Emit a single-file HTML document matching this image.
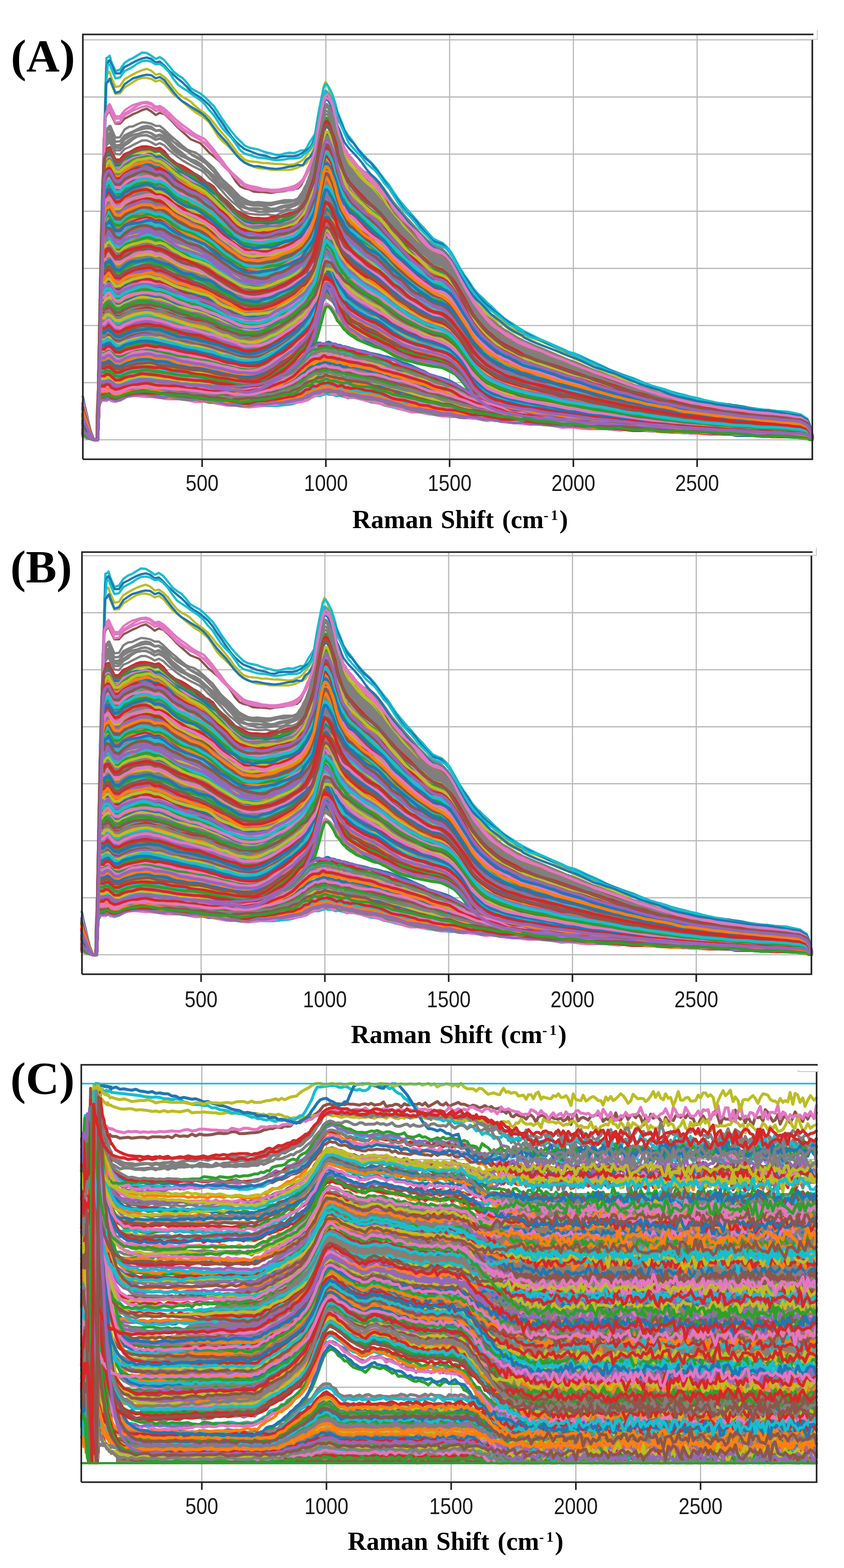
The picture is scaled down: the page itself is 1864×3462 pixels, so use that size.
<!DOCTYPE html>
<html><head><meta charset="utf-8"><title>Raman spectra</title><style>
html,body{margin:0;padding:0;background:#fff;overflow:hidden}
svg{display:block}
.g{stroke:#b8b8b8;stroke-width:2.6}
.f{stroke:#222;stroke-width:3.6;fill:none}
.tl{font-family:"Liberation Sans",Arial,sans-serif;font-size:43.6px;text-anchor:middle;fill:#1a1a1a}
.ax{font-family:"Liberation Serif","Times New Roman",serif;font-weight:bold;font-size:57px;fill:#000;word-spacing:4px}
.sup{font-size:32px}
.pl{font-family:"Liberation Serif","Times New Roman",serif;font-weight:bold;font-size:102px;fill:#000}
.c{fill:none;stroke-linejoin:round;stroke-linecap:round}
</style></head>
<body><svg width="1864" height="3462" viewBox="0 0 1864 3462">
<line x1="183" y1="88.0" x2="1794" y2="88.0" class="g"/>
<line x1="183" y1="214.1" x2="1794" y2="214.1" class="g"/>
<line x1="183" y1="340.3" x2="1794" y2="340.3" class="g"/>
<line x1="183" y1="466.4" x2="1794" y2="466.4" class="g"/>
<line x1="183" y1="592.6" x2="1794" y2="592.6" class="g"/>
<line x1="183" y1="718.7" x2="1794" y2="718.7" class="g"/>
<line x1="183" y1="844.9" x2="1794" y2="844.9" class="g"/>
<line x1="183" y1="971.0" x2="1794" y2="971.0" class="g"/>
<line x1="446.4" y1="77" x2="446.4" y2="1014" class="g"/>
<line x1="719.7" y1="77" x2="719.7" y2="1014" class="g"/>
<line x1="993.0" y1="77" x2="993.0" y2="1014" class="g"/>
<line x1="1266.3" y1="77" x2="1266.3" y2="1014" class="g"/>
<line x1="1539.6" y1="77" x2="1539.6" y2="1014" class="g"/>
<g id="cA" class="c" stroke-width="6.5">
<path fill="#8c7e6e" stroke="none" d="M211 918l3-60 2-80 2-99 2-85 2-81 2-65 3-39 2-29 2-15 2-8 2-6 3-3 2-2 2-2 2 3 1 3 10 19 10 0 10-11 10-6 9-4 10-4 10-3 10-2 10 2 10 6 9-1 10 6 10 8 10 9 10 8 10 7 10 6 9 5 10 5 10 5 10 7 10 8 10 9 9 10 10 10 10 9 10 9 10 10 10 8 9 5 10 3 10 1 10 1 10 0 10 0 9 0 10-1 10-3 10-2 10-3 10-3 9-5 7-7 4-6 4-6 4-7 3-7 4-9 4-10 4-11 4-15 3-20 4-21 4-20 4-19 4-19 4-11 3 0 4 3 4 5 4 7 4 11 4 12 3 11 4 10 4 8 4 8 4 5 4 2 3 2 4 0 4 0 4 0 10 0 10 1 9 3 10 4 10 8 10 11 10 13 10 14 9 13 10 12 10 12 10 12 10 11 10 11 9 11 10 10 10 10 10 9 10 4 10 4 9 8 10 12 10 17 10 19 10 18 10 17 9 15 10 14 10 13 10 11 10 10 10 9 10 8 9 7 10 6 10 6 10 6 10 5 3 2 14 6 14 6 15 6 14 6 14 6 14 6 14 6 15 5 14 6 14 6 14 6 15 5 14 6 14 5 14 6 14 5 15 5 14 4 14 5 14 4 14 5 15 4 14 4 14 4 14 4 14 3 15 3 14 3 14 3 14 2 15 2 14 3 14 2 14 2 14 2 15 1 14 2 14 1 14 1 14 2 15 2 14 2 14 3 15 9 5 10 6 21 0 9-6-4-5-2-15-2-14-1-14 0-15-1-14 0-14-1-14 0-14-1-15-1-14 0-14-1-14 0-14-1-15-1-14-1-14 0-14-1-15-1-14-1-14-1-14-1-14-1-15-1-14-1-14-1-14-1-14-1-15-1-14-1-14-1-14-1-14-1-15-2-14-1-14-1-14-1-15-2-14-1-14-2-14-2-14-2-15-1-14-2-14-2-3-1-10-1-10-2-10-2-10-2-9-2-10-3-10-3-10-5-10-7-10-9-10-10-9-15-10-14-10-12-10-10-10-7-10-5-9-4-10-2-10-2-10-1-10-2-10-2-9-3-10-3-10-3-10-4-10-4-10-5-9-5-10-5-10-5-10-5-10-4-10-4-9-5-10-5-10-6-4-3-4-2-4-4-3-3-4-4-4-5-4-5-4-6-4-5-3-7-4-7-4-7-4-4-4-3-4-3-3 0-4 11-4 18-4 15-4 15-4 13-3 10-4 8-4 8-4 7-4 6-3 5-4 4-4 5-4 4-7 7-9 9-10 8-10 9-10 7-10 7-10 7-9 7-10 5-10 4-10 2-10 1-10 0-9 0-10-1-10-2-10-1-10-1-10-2-9-1-10-1-10-2-10-1-10-1-10-1-9-2-10-1-10-1-10-1-10-2-10-2-10-1-9-1-10-2-10 0-10 0-10 1-10 2-9 2-10 4-10 5-10-2-10-8-1-1-2-1-2 0-2 0-3 0-2 1-2 1-2 3-2 5-3 7-2 12-2 15-2 18-2 23-2 20-3 15z"/>
<path fill="#8c7e6e" stroke="none" d="M211 959l3-13 2-18 2-22 2-16 2-14 2-11 3-8 2-6 2-3 2-1 2-1 3 0 2 0 2 0 2 1 1 1 10 9 10 0 10-5 10-4 9-2 10-2 10-2 10-1 10 0 10 2 9 1 10 0 10 1 10 1 10 1 10 1 10 1 9 0 10 1 10 0 10 1 10 1 10 1 9 0 10 1 10 0 10 0 10 0 10-1 9 0 10-1 10-2 10-2 10-2 10-3 9-3 10-4 10-5 10-5 10-7 10-7 9-9 7-8 4-4 4-4 4-4 3-4 4-4 4-3 4-2 4-2 3-1 4-1 4-1 4-1 4 0 4-1 3 0 4 1 4 1 4 1 4 1 4 1 3 1 4 1 4 0 4 1 4 1 4 1 3 1 4 1 4 1 4 1 10 2 10 2 9 3 10 2 10 2 10 3 10 3 10 3 9 4 10 3 10 3 10 3 10 4 10 4 9 4 10 4 10 4 10 4 10 3 10 4 9 3 10 4 10 5 10 5 10 6 10 5 9 4 10 4 10 4 10 4 10 3 10 4 10 3 9 3 10 3 10 3 10 3 10 2 3 1 14 3 14 3 15 2 14 3 14 2 14 2 14 2 15 1 14 2 14 2 14 1 15 1 14 2 14 1 14 1 14 2 15 1 14 1 14 1 14 1 14 1 15 1 14 1 14 1 14 1 14 1 15 0 14 1 14 1 14 1 15 1 14 0 14 1 14 1 14 1 15 0 14 1 14 0 14 1 14 1 15 0 14 1 14 1 15 1 5 2 6 4 0 1-6-3-5-1-15-2-14 0-14-1-15 0-14-1-14 0-14-1-14 0-15-1-14 0-14-1-14-1-14 0-15-1-14 0-14-1-14 0-15-1-14 0-14-1-14-1-14 0-15-1-14-1-14-1-14 0-14-1-15-1-14 0-14-1-14-1-14 0-15-1-14-1-14-1-14 0-15-1-14-1-14-2-14-1-14-1-15-1-14-1-14-1-3 0-10-1-10-1-10-1-10-1-9-1-10-1-10-1-10-1-10-1-10-1-10-1-9-1-10-2-10-1-10-1-10-1-10-1-9-1-10-2-10-1-10-1-10-2-10-1-9-2-10-2-10-2-10-2-10-2-10-3-9-2-10-3-10-2-10-2-10-2-10-2-9-2-10-1-10-2-4-1-4-1-4 0-3-1-4-1-4-1-4 0-4-1-4-1-3-1-4 0-4-1-4-1-4 0-4-1-3 0-4 1-4 2-4 1-4 1-4 1-3 1-4 1-4 2-4 1-4 2-3 1-4 2-4 1-4 1-7 2-9 3-10 1-10 1-10 1-10 1-10 0-9 1-10 1-10 1-10 0-10 1-10 0-9-1-10 0-10-2-10-1-10-1-10-1-9-2-10-1-10-2-10-1-10-1-10-1-9-1-10-1-10 0-10-1-10-1-10-1-10-1-9-1-10-2-10-1-10-1-10 0-10 0-9 2-10 4-10 6-10 0-10-2-1 0-2-1-2 0-2 0-3 0-2 1-2 1-2 2-2 2-3 4-2 8-2 10-2 13-2 17-2 14-3 9z"/>
<path stroke="#2ca02c" d="M183 900l4 15 5 14 4 14 4 13 3 6 2 5 2 4 2 0 2 0 3 0 2 0 2-89 2-90 2-90 2-90 3-90 2-59 2 0 2-8 2-4 3-1 2-1 2-2 2 1 1 3 10 18 10 0 10-11 10-6 9-4 10-3 10-2 10-3 10 0 10 7 9 1 10 5 10 8 10 6 10 6 10 7 10 6 9 4 10 5 10 4 10 6 10 7 10 9 9 8 10 6 10 7 10 7 10 9 10 7 9 5 10 2 10 1 10 1 10-2 10-3 9-2 10-1 10-2 10-4 10-6 10-5 9-3 7-4 4-4 4-5 4-6 3-7 4-7 4-8 4-8 4-10 3-16 4-18 4-16 4-17 4-18 4-12 3 1 4 5 4 4 4 5 4 11 4 10 3 8 4 12 4 11 4 6 4 6 4 6 3 6 4 5 4 4 4 4 10 8 10 7 9 8 10 8 10 10 10 9 10 10 10 9 9 10 10 10 10 9 10 9 10 8 10 8 9 6 10 7 10 7 10 6 10 3 10 3 9 7 10 10 10 14 10 14 10 13 10 16 9 16 10 13 10 10 10 8 10 8 10 8 10 6 9 5 10 4 10 4 10 4 10 4 3 1 14 6 14 5 15 4 14 3 14 4 14 5 14 5 15 4 14 3 14 4 14 5 15 4 14 3 14 4 14 4 14 4 15 4 14 3 14 3 14 2 14 3 15 3 14 3 14 3 14 3 14 2 15 2 14 2 14 2 14 2 15 1 14 2 14 1 14 2 14 1 15 2 14 1 14 0 14 1 14 2 15 1 14 2 14 2 15 7 5 7 6 13"/>
<path stroke="#2ca02c" d="M183 949l4 5 5 4 4 4 4 4 3 2 2 2 2 1 2 0 2 0 3 0 2 0 2-71 2-93 2-39 2 0 3 0 2 0 2 0 2-3 2-4 3-1 2 0 2 1 2 2 1 2 10 10 10 0 10-6 10-4 9-3 10-2 10-1 10-2 10 1 10 4 9 1 10 2 10 2 10 3 10 3 10 2 10 1 9 2 10 1 10 2 10 2 10 3 10 2 9 3 10 3 10 3 10 3 10 3 10 2 9 0 10 1 10-1 10-1 10-4 10-4 9-5 10-6 10-8 10-8 10-7 10-8 9-8 7-6 4-3 4-5 4-6 3-6 4-7 4-6 4-8 4-11 3-14 4-15 4-15 4-16 4-18 4-11 3 0 4 2 4 3 4 7 4 9 4 9 3 10 4 7 4 6 4 7 4 4 4 2 3 4 4 5 4 4 4 4 10 6 10 5 9 6 10 6 10 4 10 5 10 6 10 7 9 7 10 5 10 4 10 5 10 5 10 4 9 4 10 3 10 3 10 2 10 2 10 2 9 5 10 6 10 7 10 11 10 14 10 14 9 15 10 10 10 8 10 8 10 6 10 4 10 2 9 3 10 3 10 3 10 2 10 1 3 1 14 3 14 3 15 1 14 3 14 2 14 2 14 3 15 2 14 2 14 1 14 1 15 2 14 1 14 2 14 2 14 1 15 1 14 2 14 2 14 2 14 1 15 2 14 1 14 2 14 1 14 1 15 1 14 0 14 2 14 1 15 1 14 0 14 1 14 1 14 1 15 1 14 1 14 1 14 0 14 0 15 1 14 1 14 1 15 2 5 4 6 5"/>
<path stroke="#8c564b" d="M183 940l4 7 5 6 4 6 4 5 3 3 2 2 2 2 2 0 2 0 3 0 2 0 2-55 2-95 2-88 2-3 3 0 2 0 2 0 2-2 2-2 3-1 2-1 2 0 2 0 1 1 10 10 10 2 10-5 10-3 9-4 10-4 10-2 10 1 10 1 10 2 9-1 10 2 10 5 10 3 10 3 10 1 10 2 9 3 10 4 10 3 10 3 10 3 10 3 9 2 10 4 10 2 10 3 10 4 10 3 9 2 10 0 10 1 10-1 10-5 10-4 9-4 10-5 10-6 10-7 10-7 10-8 9-9 7-7 4-3 4-3 4-4 3-4 4-6 4-4 4-7 4-8 3-10 4-12 4-14 4-17 4-19 4-10 3 1 4 3 4 5 4 4 4 4 4 7 3 6 4 5 4 8 4 6 4 3 4 2 3 4 4 2 4 4 4 4 10 8 10 5 9 4 10 6 10 5 10 6 10 6 10 6 9 6 10 6 10 6 10 6 10 7 10 4 9 3 10 2 10 3 10 4 10 3 10 2 9 5 10 7 10 10 10 12 10 13 10 13 9 14 10 11 10 9 10 7 10 5 10 4 10 3 9 3 10 4 10 3 10 2 10 1 3 0 14 3 14 3 15 3 14 3 14 2 14 2 14 3 15 2 14 2 14 2 14 2 15 3 14 2 14 2 14 0 14 3 15 2 14 2 14 1 14 1 14 2 15 2 14 1 14 1 14 2 14 2 15 1 14 1 14 1 14 1 15 1 14 1 14 0 14 2 14 1 15 1 14 1 14 0 14 0 14 0 15 2 14 1 14 1 15 3 5 4 6 6"/>
<path stroke="#9467bd" stroke-width="6" d="M183 959l4 2 5 3 4 2 4 2 3 1 2 1 2 1 2 0 2 0 3 0 2 0 2-82 2-10 2 0 2 0 3 0 2 0 2 0 2 0 2-1 3-2 2 0 2 0 2 0 1 1 10 3 10-1 10-4 10-2 9-3 10-2 10 0 10 1 10 1 10 2 9 1 10 0 10 1 10 1 10 2 10 0 10 0 9 2 10 1 10 0 10 1 10 3 10 2 9-1 10 2 10 2 10 1 10 1 10 1 9 2 10-1 10-3 10-1 10 0 10 0 9-1 10-3 10-2 10-1 10-1 10-2 9-4 7-3 4-1 4-2 4-3 3-2 4 0 4-2 4-1 4 0 3-2 4-4 4-1 4 0 4-1 4-2 3-1 4 1 4 0 4 1 4 2 4 1 3 1 4 0 4 1 4 1 4 0 4 1 3 1 4 0 4 0 4 0 10 2 10 3 9 4 10 1 10 2 10 3 10 2 10 2 9 3 10 3 10 1 10 2 10 4 10 4 9 1 10-1 10 2 10 3 10 3 10 3 9 1 10 1 10 1 10 4 10 2 10 1 9 1 10 2 10 4 10-1 10-1 10 2 10 2 9 2 10 1 10 1 10 2 10-1 3 0 14 2 14 2 15 1 14 1 14 1 14 2 14 2 15-1 14-1 14 2 14 2 15 2 14 1 14 1 14 1 14 0 15 1 14 0 14-1 14 2 14 2 15 1 14 0 14 1 14-2 14 0 15 2 14 2 14 2 14 0 15 0 14-1 14-1 14 2 14 2 15 0 14-1 14 2 14 1 14-1 15 0 14 3 14 1 15 0 5 0 6 3"/>
<path stroke="#8c564b" stroke-width="5" d="M183 895l4 16 5 16 4 15 4 13 3 6 2 6 2 4 2 0 2 0 3 0 2 0 2-75 2-97 2-96 2-96 3-97 2-96 2-96 2-57 2-7 3-4 2-3 2 0 2 2 1 3 10 21 10 0 10-11 10-5 9-5 10-4 10-5 10-3 10 6 10 8 9-5 10 3 10 9 10 10 10 11 10 9 10 9 9 8 10 4 10 4 10 10 10 11 10 8 9 8 10 9 10 10 10 13 10 16 10 11 9 4 10 2 10 5 10 1 10 0 10 1 9 1 10-2 10-1 10-1 10-3 10-2 9-1 7-7 4-8 4-8 4-7 3-7 4-9 4-10 4-12 4-16 3-22 4-24 4-22 4-19 4-17 4-11 3 1 4 1 4 4 4 12 4 16 4 16 3 17 4 14 4 14 4 13 4 11 4 6 3 7 4 5 4 2 4 6 10 13 10 8 9 10 10 9 10 9 10 14 10 14 10 10 9 10 10 12 10 13 10 11 10 10 10 10 9 10 10 10 10 9 10 8 10 5 10 4 9 8 10 11 10 16 10 17 10 18 10 19 9 17 10 14 10 14 10 11 10 9 10 9 10 8 9 7 10 4 10 7 10 6 10 5 3 0 14 5 14 5 15 6 14 5 14 6 14 6 14 6 15 6 14 6 14 6 14 5 15 6 14 6 14 5 14 6 14 4 15 4 14 4 14 5 14 4 14 6 15 5 14 3 14 3 14 2 14 3 15 3 14 3 14 2 14 2 15 3 14 2 14 2 14 2 14 2 15 1 14 1 14 2 14 1 14 2 15 1 14 2 14 2 15 9 5 10 6 19"/>
<path stroke="#bcbd22" stroke-width="5" d="M183 906l4 14 5 13 4 13 4 11 3 6 2 4 2 4 2 0 2 0 3 0 2 0 2-82 2-100 2-100 2-99 3-100 2-100 2-100 2-94 2-12 3-3 2-4 2-3 2 5 1 5 10 23 10-1 10-13 10-6 9-6 10-6 10-3 10 0 10 2 10 6 9-3 10 7 10 12 10 12 10 8 10 8 10 9 9 7 10 8 10 6 10 7 10 9 10 15 9 15 10 11 10 9 10 10 10 12 10 9 9 7 10 5 10 5 10 3 10 1 10 1 9 2 10 0 10 0 10 0 10 0 10-2 9-3 7-4 4-2 4-1 4-3 3-5 4-7 4-9 4-9 4-14 3-23 4-24 4-20 4-20 4-18 4-11 3 2 4 9 4 11 4 14 4 19 4 19 3 18 4 16 4 14 4 11 4 9 4 8 3 6 4 5 4 5 4 5 10 13 10 11 9 10 10 9 10 11 10 14 10 17 10 15 9 11 10 10 10 12 10 13 10 13 10 11 9 10 10 11 10 11 10 9 10 4 10 3 9 8 10 11 10 15 10 14 10 13 10 10 9 8 10 9 10 9 10 7 10 7 10 7 10 6 9 6 10 8 10 6 10 5 10 5 3 1 14 6 14 7 15 6 14 6 14 6 14 6 14 5 15 7 14 6 14 6 14 6 15 7 14 5 14 5 14 6 14 6 15 3 14 3 14 6 14 6 14 4 15 4 14 4 14 5 14 4 14 3 15 3 14 4 14 2 14 2 15 2 14 2 14 2 14 2 14 3 15 2 14 1 14 0 14 2 14 2 15 2 14 2 14 2 15 10 5 11 6 22"/>
<path stroke="#bcbd22" stroke-width="6" d="M183 956l4 3 5 3 4 3 4 3 3 1 2 1 2 1 2 0 2 0 3 0 2 0 2-74 2-37 2 0 2 0 3 0 2 0 2 0 2 0 2-2 3 0 2 1 2 1 2 1 1 0 10 5 10 1 10-5 10-3 9-1 10-3 10-2 10 0 10 2 10 2 9 0 10 1 10-1 10-1 10 1 10 1 10 0 9 1 10 2 10 0 10 1 10 1 10 1 9 0 10 2 10 1 10 0 10-1 10-2 9 1 10 2 10-1 10-5 10-2 10 0 9-1 10-3 10-4 10-5 10-5 10-5 9-8 7-7 4-3 4-1 4-4 3-2 4-2 4-4 4-2 4-1 3-2 4-1 4-1 4-1 4 0 4-1 3-1 4 1 4 0 4 0 4 2 4 2 3 2 4 2 4 0 4 0 4-1 4 0 3 3 4 3 4 0 4 0 10 3 10 1 9 0 10 2 10 3 10 3 10 3 10 2 9 2 10 3 10 3 10 3 10 4 10 4 9 2 10 4 10 4 10 3 10 2 10 3 9 3 10 2 10 4 10 6 10 4 10 3 9 4 10 4 10 2 10 2 10 2 10 4 10 5 9 3 10 0 10 1 10 3 10 4 3 1 14 2 14 1 15 2 14 1 14 3 14 2 14 0 15 2 14 1 14-1 14 0 15 3 14 3 14 2 14-2 14 1 15 1 14 1 14 2 14 3 14 0 15 2 14 2 14 2 14 2 14 0 15-1 14 1 14 1 14 2 15 0 14-1 14-1 14 0 14 2 15 1 14-1 14 0 14-2 14 0 15 4 14 2 14 1 15 3 5 0 6 3"/>
<path stroke="#bcbd22" d="M183 915l4 12 5 12 4 10 4 10 3 5 2 4 2 3 2 0 2 0 3 0 2-26 2-103 2-103 2-103 2-103 3-104 2-68 2 0 2-8 2-6 3-3 2-3 2-2 2 4 1 6 10 18 10-1 10-10 10-7 9-7 10-4 10-3 10-1 10 2 10 7 9 0 10 5 10 8 10 10 10 9 10 4 10 3 9 5 10 7 10 5 10 6 10 8 10 9 9 12 10 12 10 8 10 8 10 9 10 8 9 7 10 3 10 0 10 1 10 0 10-1 9 2 10 0 10-2 10-1 10-2 10-5 9-6 7-7 4-5 4-6 4-7 3-7 4-8 4-8 4-11 4-15 3-22 4-22 4-19 4-20 4-16 4-8 3-1 4 4 4 8 4 7 4 11 4 14 3 14 4 11 4 11 4 13 4 10 4 6 3 5 4 3 4 5 4 6 10 9 10 8 9 10 10 10 10 8 10 9 10 12 10 13 9 11 10 12 10 10 10 9 10 8 10 8 9 9 10 9 10 9 10 8 10 3 10 3 9 7 10 11 10 16 10 16 10 18 10 16 9 16 10 15 10 11 10 10 10 10 10 9 10 6 9 6 10 6 10 5 10 6 10 5 3 1 14 5 14 5 15 5 14 5 14 5 14 4 14 4 15 5 14 6 14 4 14 4 15 4 14 6 14 5 14 4 14 3 15 4 14 5 14 4 14 3 14 3 15 4 14 4 14 3 14 3 14 3 15 2 14 3 14 2 14 2 15 2 14 3 14 1 14 1 14 2 15 3 14 1 14 0 14 1 14 2 15 2 14 2 14 2 15 8 5 8 6 17"/>
<path stroke="#17becf" d="M183 934l4 8 5 8 4 7 4 6 3 3 2 3 2 2 2 0 2 0 3 0 2 0 2-91 2-94 2-82 2-1 3 0 2 0 2 0 2-2 2-2 3-1 2 0 2 0 2 2 1 0 10 11 10 2 10-6 10-3 9-3 10-3 10-2 10-1 10 0 10 2 9 2 10 3 10 3 10 3 10 3 10 3 10 3 9 3 10 1 10 2 10 3 10 3 10 6 9 5 10 4 10 2 10 3 10 3 10 2 9 2 10 1 10 0 10-1 10-2 10-5 9-6 10-4 10-6 10-7 10-6 10-6 9-8 7-6 4-3 4-5 4-5 3-4 4-5 4-7 4-7 4-9 3-14 4-15 4-15 4-16 4-17 4-11 3 1 4 5 4 4 4 5 4 9 4 8 3 7 4 5 4 7 4 6 4 5 4 5 3 4 4 4 4 4 4 3 10 8 10 7 9 6 10 3 10 4 10 7 10 7 10 6 9 7 10 7 10 6 10 5 10 4 10 5 9 4 10 3 10 4 10 4 10 2 10 2 9 5 10 7 10 9 10 12 10 12 10 14 9 14 10 11 10 9 10 7 10 6 10 5 10 4 9 3 10 3 10 4 10 2 10 2 3 0 14 3 14 3 15 3 14 3 14 2 14 4 14 3 15 2 14 2 14 3 14 2 15 1 14 3 14 2 14 1 14 2 15 3 14 2 14 2 14 1 14 2 15 2 14 1 14 2 14 2 14 1 15 1 14 1 14 1 14 1 15 2 14 1 14 1 14 1 14 1 15 1 14 0 14 0 14 2 14 0 15 1 14 1 14 1 15 4 5 4 6 6"/>
<path stroke="#1f77b4" d="M183 929l4 9 5 9 4 8 4 7 3 4 2 3 2 2 2 0 2 0 3 0 2 0 2-103 2-106 2-96 2-1 3 0 2 0 2 0 2-4 2-2 3-2 2-1 2 1 2 3 1 1 10 12 10 1 10-8 10-5 9-3 10-2 10-2 10 0 10 2 10 2 9 0 10 4 10 4 10 4 10 5 10 4 10 2 9 1 10 3 10 4 10 3 10 4 10 4 9 3 10 3 10 6 10 6 10 5 10 3 9 2 10-1 10-2 10 0 10-2 10-4 9-4 10-5 10-7 10-6 10-5 10-5 9-8 7-7 4-5 4-2 4-4 3-6 4-7 4-7 4-7 4-9 3-12 4-16 4-17 4-17 4-18 4-9 3 2 4 3 4 4 4 5 4 8 4 9 3 8 4 8 4 6 4 5 4 7 4 7 3 5 4 2 4 4 4 5 10 9 10 5 9 5 10 5 10 7 10 8 10 7 10 6 9 7 10 7 10 6 10 6 10 4 10 5 9 5 10 4 10 5 10 4 10 2 10 2 9 4 10 7 10 11 10 12 10 15 10 14 9 15 10 12 10 9 10 6 10 6 10 5 10 4 9 3 10 4 10 4 10 3 10 3 3 0 14 4 14 2 15 3 14 3 14 3 14 3 14 4 15 2 14 2 14 2 14 2 15 3 14 2 14 2 14 3 14 2 15 2 14 2 14 2 14 3 14 2 15 1 14 2 14 2 14 2 14 1 15 1 14 2 14 1 14 2 15 1 14 1 14 1 14 1 14 1 15 1 14 1 14 0 14 1 14 1 15 1 14 1 14 1 15 5 5 4 6 9"/>
<path stroke="#ff7f0e" d="M183 939l4 7 5 6 4 7 4 5 3 3 2 2 2 2 2 0 2 0 3 0 2 0 2-89 2-95 2-95 2-34 3 0 2 0 2 0 2-3 2-4 3-3 2-1 2 2 2 2 1 1 10 12 10 1 10-7 10-4 9-3 10-3 10-4 10-1 10 3 10 4 9-2 10 3 10 6 10 5 10 3 10 2 10 3 9 3 10 3 10 4 10 3 10 5 10 4 9 3 10 5 10 5 10 4 10 5 10 4 9 1 10 0 10 0 10-2 10-3 10-3 9-3 10-4 10-5 10-6 10-7 10-7 9-8 7-5 4-3 4-1 4-5 3-8 4-7 4-5 4-7 4-9 3-12 4-17 4-15 4-16 4-20 4-13 3 0 4 4 4 6 4 6 4 9 4 8 3 8 4 10 4 10 4 6 4 6 4 4 3 2 4 4 4 4 4 3 10 7 10 6 9 6 10 7 10 6 10 6 10 8 10 6 9 6 10 8 10 8 10 6 10 3 10 5 9 6 10 5 10 5 10 3 10 2 10 3 9 5 10 8 10 11 10 12 10 13 10 14 9 14 10 12 10 10 10 7 10 6 10 6 10 4 9 3 10 2 10 4 10 3 10 3 3 1 14 3 14 2 15 3 14 3 14 3 14 3 14 2 15 3 14 3 14 3 14 3 15 2 14 2 14 2 14 2 14 2 15 3 14 2 14 1 14 2 14 3 15 2 14 3 14 1 14 2 14 1 15 2 14 2 14 2 14 1 15 0 14 2 14 1 14 1 14 1 15 1 14 0 14 2 14 1 14 1 15 0 14 1 14 2 15 4 5 5 6 8"/>
<path stroke="#8c564b" d="M183 904l4 15 5 13 4 13 4 12 3 5 2 5 2 4 2 0 2 0 3 0 2-41 2-89 2-90 2-89 2-89 3-90 2-65 2 0 2-8 2-5 3-3 2-3 2-1 2 1 1 3 10 20 10-1 10-11 10-6 9-4 10-2 10-2 10-2 10 2 10 7 9-1 10 3 10 6 10 8 10 10 10 8 10 3 9 4 10 5 10 5 10 6 10 7 10 11 9 10 10 9 10 9 10 8 10 7 10 6 9 5 10 2 10 1 10 1 10 0 10-2 9-2 10-4 10-2 10-1 10-2 10-5 9-6 7-6 4-5 4-5 4-3 3-4 4-8 4-8 4-7 4-12 3-18 4-16 4-15 4-16 4-16 4-12 3-3 4 3 4 6 4 7 4 10 4 10 3 12 4 10 4 8 4 7 4 7 4 7 3 5 4 5 4 4 4 4 10 10 10 9 9 7 10 7 10 8 10 9 10 11 10 9 9 9 10 12 10 11 10 9 10 8 10 6 9 9 10 9 10 9 10 7 10 3 10 1 9 6 10 10 10 16 10 16 10 17 10 15 9 15 10 13 10 10 10 10 10 9 10 7 10 5 9 5 10 6 10 5 10 6 10 3 3 0 14 6 14 5 15 5 14 4 14 5 14 5 14 4 15 3 14 5 14 6 14 5 15 5 14 3 14 4 14 4 14 3 15 4 14 4 14 4 14 3 14 3 15 3 14 3 14 3 14 3 14 3 15 3 14 2 14 1 14 2 15 2 14 2 14 2 14 2 14 1 15 1 14 1 14 1 14 1 14 1 15 1 14 1 14 3 15 7 5 7 6 16"/>
<path stroke="#17becf" d="M183 954l4 3 5 4 4 3 4 3 3 2 2 1 2 1 2 0 2 0 3 0 2-26 2-106 2-20 2 0 2 0 3 0 2 0 2 0 2-1 2-1 3 0 2 0 2-1 2 2 1 1 10 8 10 2 10-6 10-5 9-3 10-1 10 0 10 0 10 0 10 1 9 0 10 2 10 1 10 3 10 3 10 2 10 1 9 1 10 1 10 1 10 2 10 1 10 2 9 3 10 2 10 1 10 1 10 1 10 2 9 1 10 0 10-1 10-2 10-4 10-5 9-6 10-6 10-7 10-7 10-7 10-9 9-11 7-6 4-3 4-5 4-7 3-7 4-8 4-9 4-11 4-12 3-13 4-17 4-20 4-19 4-20 4-12 3 0 4 3 4 7 4 10 4 10 4 11 3 11 4 10 4 9 4 7 4 6 4 5 3 5 4 5 4 4 4 1 10 7 10 6 9 4 10 4 10 5 10 5 10 4 10 4 9 5 10 7 10 6 10 4 10 3 10 3 9 2 10 2 10 2 10 3 10 3 10 2 9 2 10 6 10 8 10 9 10 11 10 14 9 15 10 11 10 8 10 9 10 5 10 2 10 3 9 3 10 3 10 2 10 2 10 1 3 0 14 2 14 2 15 2 14 2 14 2 14 2 14 2 15 1 14 2 14 2 14 0 15 2 14 2 14 2 14 0 14 2 15 1 14 1 14 0 14 1 14 2 15 1 14 0 14 1 14 1 14 1 15 1 14 1 14 1 14 1 15 0 14 1 14 0 14 1 14 1 15 0 14 1 14 1 14 1 14 0 15 1 14 0 14 1 15 3 5 2 6 5"/>
<path stroke="#17becf" stroke-width="6" d="M183 956l4 3 5 3 4 3 4 3 3 1 2 1 2 1 2 0 2 0 3 0 2 0 2-91 2-19 2 0 2 0 3 0 2 0 2 0 2-1 2 0 3 0 2 0 2 0 2 0 1 1 10 7 10 0 10-7 10-5 9-1 10-2 10 0 10-1 10 0 10 3 9 2 10-1 10 2 10 3 10 0 10 0 10 1 9 1 10 1 10 2 10 2 10 1 10 0 9 1 10 1 10 1 10 2 10 0 10 0 9-1 10-1 10 1 10-1 10-3 10-2 9-2 10-2 10-3 10-3 10-5 10-6 9-5 7-4 4-3 4-4 4-2 3-1 4-2 4-3 4-3 4-2 3 0 4 0 4-2 4-2 4-1 4 0 3 2 4-1 4-1 4 2 4 2 4 1 3 1 4-1 4 0 4 1 4 1 4 3 3 2 4-1 4 1 4 2 10 2 10 1 9 1 10 3 10 2 10 2 10 1 10 4 9 3 10 1 10 3 10 3 10 2 10 2 9 3 10 5 10 2 10 2 10 3 10 4 9 4 10 2 10 1 10 4 10 5 10 4 9 3 10 3 10 2 10 3 10 2 10 2 10 1 9 1 10 2 10 2 10 2 10 4 3 1 14 0 14 1 15 3 14 2 14 3 14 3 14 0 15-1 14 2 14 2 14-1 15 2 14 2 14 1 14 0 14 2 15 2 14 2 14 0 14 0 14 0 15 1 14 1 14 0 14-1 14-1 15 1 14 4 14 0 14-1 15 0 14 1 14 3 14 1 14 0 15 0 14 1 14 2 14 0 14 0 15 1 14 2 14 0 15 2 5 2 6 3"/>
<path stroke="#e377c2" d="M183 955l4 3 5 4 4 3 4 3 3 1 2 1 2 1 2 0 2 0 3 0 2-2 2-96 2-17 2 0 2 0 3 0 2 0 2 0 2-1 2-1 3-1 2 0 2 1 2 0 1 0 10 9 10 3 10-4 10-4 9-4 10-1 10-1 10 0 10 0 10 3 9 1 10 0 10 1 10 2 10 2 10 0 10 1 9 1 10 0 10 2 10 2 10 1 10 1 9 2 10 1 10 1 10 0 10 1 10 1 9 0 10 0 10-1 10-2 10-5 10-6 9-6 10-7 10-7 10-8 10-8 10-9 9-10 7-7 4-3 4-5 4-6 3-5 4-6 4-8 4-6 4-9 3-11 4-11 4-14 4-15 4-16 4-12 3-1 4 3 4 3 4 4 4 6 4 8 3 7 4 6 4 5 4 5 4 4 4 3 3 3 4 3 4 3 4 2 10 7 10 7 9 4 10 4 10 3 10 3 10 6 10 5 9 5 10 4 10 4 10 4 10 4 10 1 9 3 10 2 10 2 10 2 10 1 10 2 9 4 10 5 10 7 10 8 10 13 10 15 9 15 10 9 10 9 10 8 10 5 10 3 10 2 9 2 10 3 10 1 10 2 10 1 3 1 14 2 14 2 15 2 14 2 14 1 14 1 14 1 15 1 14 2 14 2 14 1 15 1 14 1 14 1 14 1 14 0 15 1 14 1 14 1 14 1 14 1 15 1 14 1 14 0 14 1 14 0 15 1 14 2 14 1 14 0 15 0 14 1 14 0 14 1 14 0 15 2 14 1 14 0 14 0 14 1 15 1 14 0 14 0 15 2 5 1 6 3"/>
<path stroke="#bcbd22" d="M183 950l4 5 5 4 4 4 4 4 3 1 2 2 2 1 2 0 2 0 3 0 2-29 2-98 2-37 2 0 2 0 3 0 2 0 2 0 2-3 2 0 3-1 2 1 2 0 2 2 1 1 10 9 10 0 10-5 10-4 9-2 10-1 10-1 10 0 10 0 10 2 9 1 10 1 10 3 10 2 10 2 10 1 10 1 9 2 10 2 10 1 10 2 10 2 10 0 9 2 10 3 10 0 10 2 10 3 10 2 9 0 10 1 10 0 10-3 10-4 10-6 9-5 10-5 10-7 10-9 10-8 10-9 9-8 7-6 4-5 4-5 4-6 3-6 4-8 4-9 4-10 4-12 3-16 4-18 4-20 4-16 4-19 4-14 3 0 4 4 4 5 4 9 4 13 4 11 3 9 4 9 4 10 4 10 4 5 4 5 3 6 4 3 4 2 4 3 10 8 10 6 9 4 10 4 10 4 10 4 10 6 10 5 9 6 10 6 10 4 10 3 10 4 10 4 9 4 10 3 10 4 10 1 10 0 10 3 9 3 10 4 10 8 10 11 10 15 10 14 9 13 10 10 10 8 10 8 10 6 10 3 10 3 9 2 10 3 10 1 10 2 10 2 3 1 14 2 14 2 15 3 14 2 14 2 14 1 14 2 15 1 14 2 14 1 14 2 15 0 14 2 14 2 14 2 14 1 15 2 14 1 14 1 14 1 14 1 15 1 14 1 14 2 14 0 14 1 15 1 14 2 14 1 14 1 15 0 14 1 14 1 14 1 14 1 15 0 14 1 14 0 14 1 14 0 15 1 14 1 14 0 15 3 5 2 6 4"/>
<path stroke="#8c564b" d="M183 933l4 8 5 8 4 7 4 7 3 3 2 3 2 2 2 0 2 0 3 0 2-25 2-99 2-99 2-97 2-11 3 0 2 0 2 0 2-4 2-2 3 0 2 0 2 0 2 1 1 1 10 14 10 0 10-7 10-4 9-3 10-3 10-2 10-1 10 1 10 4 9-1 10 2 10 6 10 6 10 4 10 1 10 2 9 3 10 3 10 4 10 4 10 6 10 5 9 4 10 4 10 6 10 6 10 3 10 2 9 2 10 1 10 0 10-1 10-2 10-3 9-4 10-6 10-3 10-4 10-5 10-6 9-9 7-9 4-4 4-4 4-4 3-4 4-6 4-9 4-9 4-10 3-12 4-18 4-20 4-16 4-18 4-13 3 0 4 6 4 6 4 8 4 9 4 9 3 8 4 8 4 9 4 8 4 6 4 3 3 5 4 6 4 4 4 2 10 7 10 7 9 6 10 7 10 7 10 8 10 7 10 8 9 7 10 8 10 7 10 7 10 5 10 5 9 5 10 6 10 5 10 3 10 3 10 3 9 5 10 7 10 9 10 13 10 14 10 14 9 15 10 11 10 9 10 8 10 5 10 6 10 5 9 3 10 3 10 3 10 4 10 2 3 0 14 3 14 4 15 3 14 4 14 3 14 3 14 3 15 2 14 2 14 3 14 3 15 2 14 3 14 2 14 2 14 2 15 2 14 3 14 4 14 2 14 3 15 2 14 1 14 2 14 2 14 2 15 2 14 1 14 1 14 1 15 1 14 0 14 1 14 1 14 2 15 0 14 1 14 1 14 1 14 1 15 2 14 0 14 1 15 5 5 4 6 9"/>
<path stroke="#bcbd22" stroke-width="5" d="M183 875l4 21 5 19 4 19 4 17 3 8 2 7 2 5 2 0 2 0 3 0 2 0 2-67 2-103 2-103 2-104 3-103 2-103 2-103 2-102 2-16 3-5 2-4 2 1 2 5 1 5 10 23 10-2 10-15 10-6 9-5 10-5 10-4 10-3 10 4 10 9 9-2 10 7 10 10 10 14 10 12 10 8 10 5 9 6 10 10 10 8 10 7 10 9 10 12 9 12 10 11 10 12 10 13 10 14 10 11 9 8 10 4 10 1 10 1 10 2 10 0 9 1 10 1 10 0 10 1 10 1 10-1 9-4 7-3 4-3 4-5 4-5 3-5 4-5 4-7 4-10 4-15 3-22 4-26 4-20 4-21 4-21 4-10 3 4 4 11 4 12 4 15 4 20 4 17 3 15 4 16 4 16 4 12 4 12 4 9 3 8 4 5 4 5 4 4 10 13 10 14 9 11 10 8 10 8 10 11 10 15 10 17 9 15 10 10 10 11 10 12 10 11 10 12 9 12 10 11 10 9 10 9 10 4 10 2 9 10 10 12 10 16 10 14 10 12 10 12 9 9 10 9 10 8 10 10 10 6 10 3 10 6 9 10 10 8 10 5 10 5 10 7 3 1 14 4 14 6 15 6 14 6 14 6 14 8 14 8 15 4 14 6 14 6 14 7 15 7 14 6 14 5 14 5 14 5 15 7 14 6 14 4 14 4 14 4 15 5 14 5 14 3 14 4 14 3 15 4 14 3 14 2 14 3 15 2 14 3 14 2 14 2 14 3 15 1 14 1 14 1 14 2 14 2 15 1 14 3 14 3 15 10 5 10 6 22"/>
<path stroke="#d62728" d="M183 947l4 5 5 5 4 5 4 4 3 2 2 2 2 1 2 0 2 0 3 0 2-35 2-107 2-107 2-31 2 0 3 0 2 0 2 0 2-2 2-2 3-3 2-2 2 0 2 1 1 3 10 12 10 1 10-5 10-3 9-5 10-2 10-2 10-2 10 1 10 4 9 2 10 3 10 2 10 3 10 3 10 1 10 3 9 3 10 2 10 3 10 3 10 3 10 3 9 3 10 4 10 4 10 6 10 4 10 1 9 2 10 2 10-1 10-1 10-3 10-3 9-4 10-6 10-6 10-5 10-7 10-7 9-7 7-6 4-5 4-5 4-4 3-3 4-5 4-8 4-9 4-12 3-13 4-14 4-17 4-17 4-20 4-11 3 1 4 4 4 4 4 6 4 8 4 9 3 11 4 9 4 7 4 6 4 6 4 5 3 5 4 3 4 3 4 4 10 6 10 7 9 9 10 5 10 4 10 6 10 8 10 6 9 6 10 7 10 8 10 6 10 4 10 4 9 5 10 6 10 5 10 3 10 1 10 2 9 5 10 7 10 9 10 11 10 14 10 15 9 15 10 11 10 8 10 8 10 5 10 6 10 4 9 4 10 3 10 2 10 2 10 2 3 2 14 2 14 3 15 3 14 2 14 2 14 3 14 3 15 3 14 4 14 2 14 1 15 2 14 2 14 2 14 2 14 2 15 2 14 1 14 2 14 2 14 2 15 3 14 2 14 1 14 1 14 2 15 1 14 1 14 1 14 2 15 2 14 1 14 1 14 1 14 0 15 1 14 2 14 0 14 0 14 0 15 1 14 1 14 1 15 4 5 5 6 9"/>
<path stroke="#d62728" d="M183 914l4 12 5 12 4 11 4 10 3 5 2 4 2 3 2 0 2 0 3 0 2-11 2-98 2-98 2-98 2-98 3-97 2-11 2 0 2-7 2-4 3-2 2-2 2 0 2 1 1 3 10 20 10 1 10-11 10-7 9-5 10-3 10-4 10-3 10 1 10 5 9 1 10 5 10 7 10 7 10 8 10 4 10 5 9 5 10 5 10 3 10 3 10 8 10 10 9 9 10 8 10 7 10 6 10 7 10 7 9 5 10 3 10 3 10 1 10-3 10-2 9-1 10-2 10-2 10-4 10-5 10-3 9-6 7-6 4-6 4-5 4-5 3-7 4-10 4-12 4-13 4-15 3-20 4-24 4-23 4-21 4-19 4-12 3-1 4 4 4 7 4 14 4 17 4 16 3 16 4 13 4 12 4 12 4 8 4 6 3 7 4 7 4 3 4 5 10 9 10 9 9 8 10 8 10 8 10 9 10 9 10 10 9 9 10 10 10 10 10 9 10 9 10 7 9 6 10 8 10 8 10 6 10 3 10 2 9 7 10 10 10 11 10 14 10 17 10 16 9 15 10 11 10 11 10 10 10 9 10 7 10 5 9 5 10 3 10 5 10 5 10 5 3 1 14 4 14 4 15 6 14 5 14 4 14 3 14 4 15 4 14 4 14 4 14 4 15 4 14 4 14 4 14 4 14 4 15 2 14 4 14 4 14 2 14 3 15 4 14 2 14 3 14 3 14 3 15 2 14 1 14 2 14 2 15 2 14 2 14 1 14 2 14 1 15 1 14 1 14 1 14 1 14 1 15 2 14 2 14 2 15 6 5 7 6 14"/>
<path stroke="#9467bd" stroke-width="6" d="M183 957l4 3 5 3 4 3 4 2 3 1 2 1 2 1 2 0 2 0 3 0 2 0 2-63 2-41 2 0 2 0 3 0 2 0 2 0 2-3 2-2 3 0 2 0 2 0 2 3 1 3 10 4 10-2 10-6 10-3 9-2 10-1 10-1 10 0 10 0 10 2 9 1 10 0 10 0 10 3 10 2 10 0 10 0 9 2 10 1 10 0 10 0 10 2 10 1 9 2 10 1 10 0 10 0 10 1 10-1 9-1 10 0 10 0 10-1 10-3 10-1 9-1 10-2 10-2 10-3 10-5 10-6 9-5 7-4 4-2 4-5 4-4 3-2 4 0 4-1 4-3 4-2 3-2 4-3 4 0 4 0 4 0 4-2 3 0 4 1 4 0 4-1 4 1 4 3 3 1 4 3 4 2 4 0 4-1 4-1 3 2 4 2 4-1 4 1 10 2 10 2 9 2 10 1 10 3 10 2 10 2 10 3 9 4 10 2 10 0 10 2 10 3 10 3 9 5 10 4 10 3 10 1 10 1 10 2 9 2 10 4 10 3 10 4 10 6 10 3 9 2 10 4 10 3 10 1 10 3 10 2 10 1 9 2 10 2 10 2 10 1 10 2 3 0 14 2 14 1 15 3 14 1 14 1 14 2 14 1 15 1 14 4 14 3 14 1 15-1 14 1 14 3 14 2 14 1 15-1 14 0 14 1 14 1 14 1 15 1 14 2 14 1 14 0 14 1 15 1 14 1 14 1 14 1 15 1 14 0 14-1 14 1 14 2 15 0 14-1 14 1 14 1 14 0 15 0 14 2 14 1 15 1 5 2 6 3"/>
<path stroke="#17becf" d="M183 931l4 8 5 9 4 7 4 8 3 3 2 3 2 2 2 0 2 0 3 0 2 0 2-83 2-92 2-92 2-91 3-18 2 0 2 0 2-3 2-3 3-4 2-2 2-1 2 1 1 1 10 16 10 1 10-9 10-5 9-3 10-1 10-2 10 0 10 1 10 5 9-1 10 2 10 5 10 7 10 6 10 3 10 3 9 3 10 3 10 3 10 5 10 6 10 5 9 4 10 6 10 6 10 4 10 5 10 5 9 3 10 3 10 2 10-1 10-4 10-4 9-4 10-5 10-3 10-5 10-6 10-5 9-6 7-6 4-5 4-2 4-3 3-6 4-7 4-6 4-6 4-8 3-14 4-17 4-18 4-18 4-18 4-12 3 3 4 5 4 3 4 5 4 10 4 10 3 9 4 10 4 8 4 6 4 7 4 4 3 4 4 4 4 3 4 3 10 8 10 9 9 8 10 6 10 6 10 9 10 9 10 7 9 7 10 7 10 9 10 8 10 4 10 4 9 6 10 6 10 6 10 4 10 3 10 1 9 5 10 8 10 11 10 13 10 14 10 14 9 13 10 13 10 9 10 8 10 7 10 7 10 3 9 3 10 4 10 5 10 3 10 3 3 1 14 4 14 3 15 2 14 4 14 3 14 4 14 3 15 3 14 4 14 3 14 4 15 2 14 3 14 3 14 3 14 3 15 2 14 2 14 2 14 2 14 3 15 3 14 2 14 2 14 2 14 2 15 2 14 2 14 1 14 1 15 2 14 2 14 1 14 1 14 1 15 0 14 1 14 2 14 0 14 1 15 0 14 2 14 2 15 5 5 5 6 10"/>
<path stroke="#e377c2" stroke-width="5" d="M183 892l4 17 5 16 4 15 4 14 3 7 2 6 2 4 2 0 2 0 3 0 2-35 2-91 2-92 2-91 2-91 3-92 2-91 2-91 2-39 2-7 3-3 2-3 2-4 2 2 1 5 10 23 10-2 10-14 10-6 9-5 10-4 10-4 10-2 10 4 10 7 9-2 10 8 10 8 10 9 10 11 10 8 10 5 9 6 10 5 10 6 10 8 10 10 10 11 9 13 10 13 10 10 10 9 10 10 10 10 9 9 10 4 10 2 10 2 10 1 10 0 9 2 10 0 10-1 10-1 10-1 10-1 9-6 7-8 4-6 4-6 4-7 3-10 4-9 4-8 4-11 4-18 3-22 4-23 4-21 4-22 4-16 4-11 3-2 4 4 4 7 4 8 4 16 4 18 3 16 4 15 4 13 4 13 4 11 4 6 3 5 4 4 4 5 4 4 10 12 10 11 9 11 10 9 10 10 10 12 10 10 10 11 9 15 10 12 10 13 10 9 10 9 10 11 9 13 10 11 10 9 10 7 10 4 10 3 9 7 10 12 10 17 10 20 10 18 10 18 9 16 10 13 10 13 10 12 10 10 10 8 10 7 9 7 10 6 10 5 10 5 10 5 3 2 14 6 14 5 15 5 14 7 14 5 14 5 14 6 15 6 14 5 14 6 14 6 15 5 14 3 14 5 14 5 14 5 15 6 14 4 14 4 14 5 14 4 15 4 14 5 14 4 14 3 14 3 15 3 14 3 14 2 14 2 15 3 14 1 14 2 14 2 14 3 15 2 14 1 14 1 14 2 14 1 15 1 14 2 14 2 15 9 5 11 6 19"/>
<path stroke="#9467bd" d="M183 950l4 5 5 4 4 4 4 4 3 1 2 2 2 1 2 0 2 0 3 0 2 0 2-64 2-96 2-61 2 0 3 0 2 0 2 0 2-4 2-2 3-1 2 0 2 1 2 2 1 0 10 11 10 0 10-6 10-4 9-4 10-2 10-1 10 0 10 0 10 2 9 3 10 2 10 1 10 3 10 3 10 3 10 2 9 3 10 2 10 0 10 3 10 3 10 2 9 4 10 3 10 3 10 2 10 2 10 2 9 2 10 0 10-1 10-1 10-3 10-4 9-4 10-7 10-7 10-6 10-7 10-6 9-9 7-7 4-4 4-3 4-3 3-4 4-5 4-6 4-7 4-8 3-11 4-14 4-14 4-14 4-16 4-10 3 1 4 4 4 3 4 2 4 3 4 5 3 8 4 7 4 5 4 4 4 5 4 4 3 2 4 3 4 3 4 4 10 6 10 5 9 6 10 5 10 6 10 6 10 6 10 6 9 5 10 6 10 6 10 5 10 4 10 6 9 3 10 3 10 3 10 4 10 2 10 3 9 3 10 6 10 8 10 11 10 14 10 15 9 14 10 10 10 9 10 8 10 6 10 4 10 3 9 3 10 2 10 3 10 2 10 2 3 1 14 2 14 3 15 2 14 3 14 2 14 2 14 2 15 3 14 2 14 1 14 2 15 2 14 3 14 2 14 1 14 1 15 3 14 2 14 1 14 1 14 2 15 1 14 2 14 1 14 2 14 1 15 1 14 1 14 1 14 1 15 0 14 1 14 1 14 1 14 1 15 0 14 1 14 0 14 1 14 1 15 1 14 1 14 1 15 3 5 4 6 6"/>
<path stroke="#17becf" stroke-width="6" d="M183 959l4 3 5 2 4 2 4 2 3 1 2 1 2 1 2 0 2 0 3 0 2 0 2-63 2-26 2 0 2 0 3 0 2 0 2 0 2 1 2 0 3-2 2 0 2 0 2 0 1-1 10 3 10 1 10-5 10-6 9-3 10 3 10 2 10-1 10-1 10 1 9 1 10 1 10 2 10 2 10 1 10-1 10 1 9 1 10 1 10 1 10 2 10 0 10 1 9 2 10 2 10 1 10 2 10 1 10 2 9 1 10-2 10-1 10 0 10 1 10 0 9 0 10 0 10-1 10-1 10-1 10-2 9-3 7-1 4-1 4-2 4-2 3-1 4-1 4-3 4-2 4-1 3 0 4 0 4 0 4-2 4-1 4-1 3-1 4 2 4 0 4 0 4 1 4 2 3 0 4-1 4 1 4 1 4 1 4 1 3 0 4 0 4 1 4 0 10 1 10 1 9 4 10 4 10 1 10 2 10 4 10 2 9 2 10 3 10 2 10 1 10 2 10 2 9 1 10 2 10 2 10 1 10 2 10 1 9 1 10 1 10 0 10 0 10 3 10 0 9 0 10 2 10 1 10 1 10 1 10 1 10 0 9 1 10 0 10 1 10 2 10 1 3 0 14 1 14 1 15 1 14 2 14 2 14 1 14-1 15 0 14 0 14 1 14 1 15 0 14 1 14 1 14 1 14 1 15 2 14 0 14 1 14 1 14 1 15 0 14-1 14 1 14 2 14 1 15 0 14 0 14-1 14 0 15 1 14 1 14 2 14 1 14 0 15 1 14 1 14 0 14 2 14 1 15-1 14-1 14 1 15 3 5 3 6 2"/>
<path stroke="#ff7f0e" d="M183 936l4 7 5 7 4 7 4 7 3 2 2 3 2 2 2 0 2 0 3 0 2-23 2-96 2-96 2-60 2 0 3 0 2 0 2 0 2-2 2-3 3-2 2-1 2-1 2 3 1 2 10 12 10 1 10-7 10-3 9-2 10-3 10-2 10 0 10-1 10 2 9 1 10 4 10 5 10 3 10 3 10 2 10 2 9 3 10 3 10 2 10 2 10 3 10 4 9 5 10 5 10 4 10 4 10 3 10 2 9 1 10 1 10 0 10-1 10-2 10-5 9-4 10-5 10-5 10-6 10-6 10-7 9-9 7-8 4-4 4-4 4-4 3-6 4-9 4-9 4-11 4-14 3-14 4-15 4-20 4-20 4-20 4-14 3-2 4 5 4 9 4 10 4 9 4 12 3 13 4 10 4 7 4 7 4 8 4 7 3 6 4 5 4 3 4 3 10 9 10 7 9 6 10 4 10 4 10 7 10 8 10 7 9 6 10 7 10 8 10 7 10 4 10 4 9 3 10 4 10 4 10 4 10 3 10 3 9 4 10 6 10 9 10 12 10 13 10 14 9 14 10 10 10 9 10 8 10 6 10 6 10 3 9 2 10 4 10 2 10 3 10 2 3 2 14 3 14 3 15 3 14 1 14 3 14 3 14 3 15 2 14 2 14 2 14 3 15 1 14 2 14 2 14 1 14 3 15 2 14 3 14 3 14 1 14 2 15 1 14 2 14 2 14 2 14 1 15 2 14 1 14 1 14 1 15 0 14 1 14 2 14 1 14 1 15 0 14 1 14 1 14 0 14 1 15 1 14 1 14 2 15 3 5 4 6 8"/>
<path stroke="#1f77b4" d="M183 958l4 3 5 3 4 2 4 2 3 1 2 1 2 1 2 0 2 0 3 0 2 0 2-57 2-61 2 0 2 0 3 0 2 0 2 0 2-2 2-1 3-1 2 1 2 1 2 2 1 1 10 8 10 1 10-6 10-3 9-2 10-2 10-2 10-1 10 1 10 3 9 1 10 1 10 1 10 3 10 1 10 0 10 2 9 0 10 1 10 1 10 1 10 2 10 1 9 2 10 2 10 1 10 0 10 2 10 0 9 0 10 0 10-1 10-2 10-4 10-6 9-6 10-7 10-8 10-7 10-8 10-9 9-9 7-8 4-4 4-5 4-7 3-5 4-6 4-10 4-13 4-12 3-12 4-16 4-20 4-18 4-18 4-12 3 0 4 5 4 4 4 6 4 11 4 11 3 10 4 8 4 7 4 7 4 7 4 5 3 5 4 4 4 2 4 4 10 5 10 4 9 6 10 5 10 4 10 5 10 5 10 5 9 5 10 5 10 3 10 3 10 2 10 3 9 5 10 3 10 1 10 0 10 1 10 3 9 4 10 5 10 7 10 9 10 13 10 14 9 14 10 10 10 9 10 7 10 4 10 3 10 4 9 3 10 2 10 1 10 2 10 1 3 0 14 1 14 2 15 2 14 2 14 2 14 1 14 1 15 2 14 1 14 1 14 1 15 1 14 2 14 1 14 1 14 1 15 1 14 1 14 1 14 2 14 0 15 1 14 0 14 1 14 1 14 1 15 1 14 1 14 0 14 0 15 0 14 1 14 2 14 0 14 0 15 1 14 0 14 0 14 1 14 1 15 0 14 1 14 1 15 1 5 3 6 3"/>
<path stroke="#e377c2" stroke-width="6" d="M183 960l4 2 5 3 4 2 4 2 3 1 2 0 2 1 2 0 2 0 3 0 2-22 2-65 2 0 2 0 2 0 3 0 2 0 2 0 2 0 2 1 3-2 2-2 2 0 2 2 1 2 10 2 10-3 10-6 10-3 9-1 10 0 10 1 10 1 10 0 10 1 9 1 10 2 10 1 10 0 10 0 10 0 10 2 9 2 10 2 10 0 10-1 10 1 10 2 9 2 10 2 10 2 10 0 10 0 10 1 9 2 10 1 10-1 10-1 10-1 10-2 9 0 10-1 10-3 10 0 10 0 10-1 9-1 7-1 4-1 4-1 4-1 3-1 4-3 4-2 4-2 4-2 3-1 4-1 4-1 4-2 4-2 4 1 3-1 4 0 4 1 4 1 4 2 4 0 3-1 4 0 4 2 4 1 4 1 4 2 3 3 4-1 4-1 4 0 10 3 10 2 9 3 10 1 10 2 10 3 10 3 10 2 9 2 10 3 10 3 10 3 10 3 10 0 9 0 10 2 10 1 10 1 10 3 10 2 9 0 10-1 10 2 10 2 10 1 10 0 9 1 10 0 10 3 10 2 10-1 10 0 10 3 9 1 10 1 10 0 10 1 10 1 3 1 14 1 14 0 15 0 14 1 14 3 14 3 14-1 15 1 14 2 14 1 14 0 15 0 14 0 14 2 14 1 14-2 15 0 14 2 14 1 14 1 14 0 15 0 14 0 14 1 14 0 14 0 15 1 14 4 14 0 14-1 15 1 14 0 14 0 14 1 14 0 15 0 14 0 14 2 14 2 14 0 15-1 14 2 14 1 15 1 5 1 6 3"/>
<path stroke="#7f7f7f" d="M183 950l4 4 5 5 4 4 4 4 3 1 2 2 2 1 2 0 2 0 3 0 2 0 2-86 2-86 2-5 2 0 3 0 2 0 2 0 2 0 2-1 3-2 2 0 2 0 2 1 1 2 10 10 10 1 10-6 10-4 9-3 10-2 10-1 10 0 10 1 10 3 9 0 10 0 10 3 10 4 10 2 10 2 10 2 9 1 10 2 10 0 10 1 10 3 10 3 9 2 10 2 10 1 10 2 10 4 10 2 9 0 10 0 10 0 10-1 10-4 10-5 9-6 10-6 10-8 10-7 10-7 10-7 9-9 7-8 4-5 4-3 4-4 3-5 4-7 4-7 4-9 4-8 3-11 4-14 4-16 4-17 4-18 4-11 3-2 4 2 4 5 4 6 4 8 4 9 3 7 4 6 4 7 4 4 4 4 4 8 3 5 4 3 4 1 4 1 10 7 10 6 9 6 10 5 10 4 10 5 10 6 10 5 9 7 10 6 10 5 10 2 10 4 10 3 9 2 10 3 10 4 10 2 10 2 10 2 9 4 10 5 10 8 10 11 10 13 10 15 9 13 10 11 10 9 10 7 10 5 10 4 10 3 9 2 10 3 10 2 10 2 10 2 3 0 14 3 14 2 15 2 14 3 14 1 14 2 14 1 15 2 14 2 14 2 14 1 15 2 14 1 14 2 14 2 14 1 15 1 14 1 14 2 14 0 14 1 15 2 14 1 14 1 14 1 14 1 15 1 14 1 14 1 14 1 15 0 14 1 14 0 14 1 14 1 15 1 14 0 14 1 14 1 14 1 15 0 14 1 14 1 15 2 5 3 6 5"/>
<path stroke="#d62728" d="M183 927l4 9 5 9 4 9 4 8 3 3 2 4 2 2 2 0 2 0 3 0 2-32 2-100 2-100 2-98 2-10 3 0 2 0 2 0 2-5 2-2 3-2 2-3 2-1 2 1 1 3 10 15 10 2 10-9 10-7 9-2 10 0 10-2 10-3 10 1 10 4 9 0 10 4 10 3 10 4 10 6 10 6 10 2 9 1 10 3 10 4 10 4 10 3 10 5 9 5 10 6 10 5 10 6 10 6 10 4 9 1 10 1 10-1 10-1 10-1 10-2 9-5 10-6 10-5 10-5 10-4 10-6 9-7 7-5 4-4 4-3 4-3 3-4 4-6 4-7 4-7 4-9 3-11 4-14 4-17 4-16 4-17 4-11 3 2 4 3 4 5 4 6 4 5 4 5 3 9 4 8 4 7 4 6 4 4 4 4 3 4 4 6 4 4 4 0 10 7 10 9 9 7 10 6 10 5 10 6 10 10 10 8 9 6 10 7 10 7 10 7 10 6 10 6 9 6 10 4 10 4 10 4 10 1 10 3 9 6 10 9 10 10 10 12 10 13 10 15 9 14 10 11 10 9 10 8 10 7 10 6 10 3 9 3 10 4 10 4 10 2 10 2 3 2 14 4 14 3 15 5 14 2 14 3 14 3 14 4 15 2 14 2 14 3 14 3 15 2 14 4 14 2 14 3 14 2 15 3 14 2 14 1 14 2 14 3 15 3 14 2 14 1 14 2 14 2 15 1 14 2 14 1 14 2 15 0 14 1 14 2 14 2 14 1 15 0 14 1 14 0 14 1 14 1 15 1 14 1 14 2 15 4 5 6 6 9"/>
<path stroke="#9467bd" d="M183 923l4 10 5 10 4 9 4 9 3 4 2 3 2 3 2 0 2 0 3 0 2 0 2-65 2-96 2-96 2-97 3-96 2-90 2-2 2-7 2-2 3-2 2-3 2-2 2 1 1 3 10 18 10-2 10-10 10-5 9-5 10-1 10-4 10-3 10 4 10 6 9-1 10 6 10 8 10 6 10 6 10 7 10 6 9 3 10 3 10 5 10 8 10 7 10 7 9 7 10 10 10 10 10 10 10 8 10 7 9 4 10 0 10 0 10 3 10 1 10-1 9-2 10-2 10-4 10-4 10-2 10-2 9-7 7-8 4-4 4-4 4-6 3-8 4-11 4-11 4-12 4-17 3-22 4-22 4-20 4-20 4-21 4-12 3 0 4 5 4 9 4 13 4 13 4 14 3 16 4 14 4 13 4 11 4 10 4 6 3 5 4 6 4 6 4 5 10 8 10 11 9 10 10 7 10 8 10 9 10 10 10 9 9 9 10 11 10 11 10 10 10 8 10 8 9 8 10 6 10 8 10 7 10 2 10 2 9 5 10 10 10 15 10 18 10 17 10 15 9 14 10 14 10 11 10 10 10 7 10 6 10 7 9 6 10 4 10 4 10 4 10 5 3 2 14 4 14 4 15 5 14 5 14 4 14 5 14 5 15 5 14 4 14 5 14 4 15 4 14 4 14 3 14 3 14 4 15 4 14 5 14 3 14 3 14 3 15 4 14 3 14 2 14 2 14 3 15 3 14 2 14 2 14 2 15 2 14 1 14 1 14 2 14 2 15 1 14 1 14 1 14 1 14 2 15 1 14 2 14 3 15 5 5 8 6 15"/>
<path stroke="#7f7f7f" stroke-width="6" d="M183 962l4 2 5 2 4 2 4 1 3 1 2 1 2 0 2 0 2 0 3 0 2 0 2-74 2-40 2 0 2 0 3 0 2 0 2 0 2-1 2 0 3-1 2-1 2 1 2 2 1 0 10 6 10 0 10-6 10-3 9 0 10 0 10-2 10-1 10-1 10 0 9 2 10 2 10 0 10 0 10 0 10 2 10 3 9 1 10 0 10-1 10-1 10 2 10 1 9 0 10 1 10 2 10 1 10-1 10 1 9 1 10-1 10-1 10-2 10-4 10-3 9-1 10-2 10-4 10-6 10-6 10-5 9-6 7-5 4-4 4-4 4-3 3-3 4-4 4-3 4-2 4-2 3-2 4-1 4-1 4-1 4-2 4-1 3 1 4 2 4 2 4 0 4-1 4 1 3 2 4 0 4 1 4 1 4 0 4 0 3 1 4 1 4 1 4 1 10 3 10 2 9 1 10 2 10 3 10 4 10 3 10 4 9 2 10 3 10 3 10 4 10 3 10 5 9 4 10 3 10 3 10 3 10 3 10 2 9 1 10 3 10 5 10 5 10 5 10 4 9 3 10 1 10 3 10 6 10 2 10 2 10 4 9 3 10 1 10 2 10 4 10 3 3 0 14 3 14 3 15 3 14 3 14 2 14 2 14 0 15 0 14 3 14 1 14 2 15 2 14 1 14-1 14 0 14 2 15 1 14 1 14 0 14 1 14 1 15 1 14 1 14 0 14 1 14 0 15 1 14 1 14 2 14 0 15-1 14-1 14 1 14 2 14 2 15 2 14 0 14 0 14 2 14 1 15 0 14 2 14 2 15 2 5 1 6 2"/>
<path stroke="#1f77b4" d="M183 911l4 13 5 12 4 12 4 10 3 5 2 5 2 3 2 0 2 0 3 0 2-38 2-104 2-104 2-104 2-104 3-104 2-50 2 0 2-7 2-8 3-3 2-2 2-2 2 2 1 3 10 19 10-1 10-10 10-4 9-4 10-2 10 0 10-3 10 0 10 6 9-1 10 7 10 8 10 9 10 7 10 6 10 6 9 5 10 5 10 4 10 6 10 9 10 7 9 7 10 12 10 12 10 9 10 8 10 8 9 6 10 3 10 2 10 1 10 0 10 0 9-1 10-1 10-1 10-4 10-3 10-2 9-6 7-7 4-5 4-6 4-8 3-8 4-8 4-12 4-14 4-15 3-20 4-22 4-20 4-20 4-19 4-11 3 0 4 3 4 7 4 12 4 15 4 14 3 15 4 13 4 12 4 12 4 13 4 7 3 4 4 4 4 4 4 3 10 11 10 11 9 11 10 8 10 8 10 11 10 13 10 11 9 13 10 11 10 10 10 9 10 10 10 9 9 7 10 9 10 10 10 8 10 3 10 3 9 7 10 11 10 14 10 15 10 17 10 17 9 15 10 14 10 12 10 11 10 9 10 9 10 9 9 5 10 4 10 6 10 4 10 5 3 1 14 4 14 4 15 5 14 6 14 6 14 4 14 4 15 5 14 6 14 5 14 4 15 4 14 6 14 5 14 5 14 4 15 3 14 4 14 4 14 2 14 5 15 4 14 2 14 2 14 4 14 4 15 2 14 1 14 3 14 2 15 2 14 2 14 1 14 3 14 2 15 1 14 1 14 1 14 1 14 2 15 1 14 2 14 2 15 8 5 9 6 17"/>
<path stroke="#17becf" d="M183 942l4 6 5 6 4 6 4 5 3 2 2 2 2 2 2 0 2 0 3 0 2 0 2-88 2-88 2-89 2-22 3 0 2 0 2 0 2-5 2-3 3-1 2 1 2-1 2 1 1 2 10 12 10 1 10-7 10-3 9-3 10-3 10-2 10-1 10 2 10 4 9-1 10 1 10 5 10 5 10 5 10 3 10 1 9 1 10 2 10 3 10 4 10 6 10 3 9 2 10 3 10 4 10 7 10 5 10 4 9 1 10 0 10 0 10-1 10-3 10-3 9-5 10-5 10-4 10-6 10-7 10-7 9-6 7-7 4-4 4-4 4-6 3-6 4-5 4-7 4-9 4-10 3-13 4-16 4-16 4-18 4-19 4-12 3 1 4 4 4 5 4 6 4 6 4 10 3 13 4 8 4 5 4 5 4 7 4 6 3 4 4 4 4 4 4 4 10 7 10 7 9 6 10 6 10 4 10 7 10 8 10 8 9 8 10 6 10 7 10 6 10 3 10 4 9 5 10 4 10 3 10 5 10 4 10 2 9 5 10 6 10 8 10 13 10 14 10 14 9 14 10 11 10 8 10 7 10 6 10 5 10 3 9 4 10 3 10 4 10 2 10 2 3 1 14 3 14 3 15 2 14 3 14 3 14 2 14 2 15 3 14 3 14 3 14 3 15 2 14 2 14 1 14 3 14 2 15 3 14 1 14 1 14 3 14 2 15 2 14 1 14 2 14 2 14 2 15 1 14 1 14 1 14 1 15 2 14 1 14 1 14 1 14 1 15 0 14 0 14 1 14 1 14 1 15 2 14 1 14 1 15 3 5 4 6 8"/>
<path stroke="#ff7f0e" d="M183 955l4 4 5 3 4 3 4 3 3 1 2 1 2 1 2 0 2 0 3 0 2 0 2-69 2-54 2 0 2 0 3 0 2 0 2 0 2-2 2 0 3 0 2 0 2 1 2 1 1 0 10 7 10 1 10-4 10-4 9-3 10-1 10 0 10 0 10 0 10 0 9 0 10 3 10 3 10 0 10 1 10 1 10 1 9 2 10 1 10 1 10 1 10 2 10 1 9 1 10 2 10 2 10 1 10 1 10 1 9 1 10-1 10-2 10-2 10-5 10-5 9-5 10-6 10-9 10-7 10-9 10-9 9-9 7-7 4-5 4-5 4-5 3-8 4-9 4-9 4-9 4-12 3-15 4-16 4-18 4-18 4-19 4-12 3 0 4 3 4 7 4 9 4 8 4 10 3 11 4 12 4 8 4 6 4 6 4 6 3 4 4 4 4 3 4 3 10 6 10 5 9 3 10 4 10 5 10 5 10 5 10 5 9 4 10 5 10 4 10 4 10 2 10 3 9 3 10 2 10 2 10 2 10 2 10 3 9 2 10 5 10 8 10 9 10 13 10 14 9 14 10 10 10 8 10 8 10 5 10 4 10 2 9 2 10 2 10 2 10 1 10 1 3 1 14 3 14 1 15 2 14 1 14 1 14 2 14 2 15 1 14 2 14 1 14 1 15 1 14 1 14 2 14 1 14 0 15 1 14 1 14 2 14 1 14 0 15 1 14 2 14 0 14 1 14 1 15 0 14 1 14 1 14 1 15 1 14 0 14 0 14 1 14 1 15 1 14 0 14 1 14 1 14 0 15 0 14 0 14 1 15 2 5 2 6 4"/>
<path stroke="#7f7f7f" stroke-width="5" d="M183 903l4 15 5 14 4 13 4 12 3 5 2 5 2 4 2 0 2 0 3 0 2 0 2-51 2-98 2-98 2-98 3-97 2-98 2-98 2-24 2-5 3-5 2-5 2 0 2 5 1 5 10 19 10-2 10-14 10-6 9-3 10-2 10-3 10-2 10 3 10 6 9-3 10 5 10 9 10 11 10 8 10 8 10 9 9 5 10 3 10 6 10 9 10 9 10 9 9 9 10 9 10 10 10 9 10 12 10 9 9 4 10 2 10 2 10 0 10 1 10 3 9 3 10-1 10-4 10-2 10-2 10-3 9-6 7-9 4-5 4-7 4-7 3-9 4-10 4-10 4-14 4-17 3-22 4-26 4-23 4-21 4-20 4-12 3-1 4 6 4 7 4 11 4 16 4 20 3 18 4 16 4 13 4 11 4 13 4 9 3 4 4 7 4 7 4 3 10 11 10 10 9 10 10 9 10 7 10 11 10 13 10 12 9 11 10 11 10 11 10 11 10 9 10 10 9 10 10 9 10 8 10 8 10 4 10 2 9 8 10 11 10 17 10 19 10 18 10 19 9 16 10 13 10 11 10 10 10 9 10 9 10 8 9 6 10 5 10 6 10 6 10 5 3 2 14 7 14 5 15 4 14 5 14 6 14 5 14 5 15 4 14 4 14 6 14 6 15 5 14 3 14 6 14 5 14 5 15 5 14 4 14 4 14 4 14 3 15 4 14 4 14 4 14 3 14 4 15 2 14 2 14 2 14 2 15 2 14 2 14 2 14 2 14 1 15 1 14 2 14 2 14 1 14 0 15 1 14 3 14 3 15 8 5 9 6 18"/>
<path stroke="#e377c2" d="M183 959l4 3 5 2 4 2 4 2 3 1 2 1 2 1 2 0 2 0 3 0 2-15 2-106 2-25 2 0 2 0 3 0 2 0 2 0 2-2 2-2 3-1 2 0 2 1 2 1 1 1 10 9 10 1 10-4 10-2 9-3 10-3 10-2 10-1 10 0 10 2 9 3 10 3 10 1 10 1 10 3 10 0 10 1 9 1 10 1 10 1 10 0 10 2 10 3 9 2 10 1 10 1 10 2 10 1 10 1 9 1 10 0 10-1 10-1 10-4 10-6 9-6 10-7 10-7 10-8 10-8 10-7 9-9 7-8 4-4 4-4 4-5 3-7 4-9 4-10 4-12 4-13 3-13 4-17 4-21 4-20 4-20 4-11 3 1 4 5 4 6 4 8 4 11 4 13 3 11 4 9 4 8 4 7 4 7 4 6 3 4 4 4 4 3 4 3 10 7 10 6 9 6 10 5 10 2 10 5 10 5 10 5 9 6 10 5 10 4 10 4 10 4 10 4 9 1 10 2 10 3 10 2 10 2 10 2 9 3 10 6 10 8 10 10 10 12 10 14 9 15 10 11 10 8 10 7 10 4 10 5 10 2 9 3 10 2 10 2 10 2 10 1 3 1 14 3 14 2 15 1 14 2 14 2 14 2 14 2 15 2 14 1 14 1 14 1 15 1 14 1 14 1 14 1 14 1 15 1 14 1 14 2 14 1 14 1 15 1 14 1 14 1 14 1 14 1 15 1 14 1 14 1 14 1 15 0 14 0 14 1 14 1 14 1 15 1 14 1 14 0 14 0 14 1 15 0 14 1 14 1 15 2 5 2 6 4"/>
<path stroke="#17becf" stroke-width="6" d="M183 960l4 3 5 2 4 2 4 2 3 1 2 0 2 1 2 0 2 0 3 0 2-46 2-44 2 0 2 0 2 0 3 0 2 0 2 0 2-2 2 0 3 0 2-2 2-1 2 2 1 3 10 4 10-2 10-7 10-5 9-2 10-1 10 1 10 0 10 1 10 3 9-1 10 0 10 1 10 2 10 2 10 1 10 0 9 1 10 0 10 1 10 1 10 2 10 1 9 1 10 3 10 2 10-1 10 0 10 0 9 1 10-1 10-1 10-1 10-2 10 1 9 0 10-3 10-4 10-1 10-1 10-2 9-4 7-3 4 0 4-1 4-2 3-1 4-2 4-2 4-2 4-1 3-1 4-1 4-1 4-1 4-1 4-2 3 1 4 2 4 1 4 1 4 1 4-1 3 0 4 2 4 1 4-1 4 1 4 1 3 0 4 1 4 1 4 0 10 2 10 2 9 2 10 2 10 3 10 3 10 4 10 2 9 1 10 2 10 2 10 1 10 3 10 4 9 2 10 2 10 2 10 1 10 0 10 1 9 2 10 4 10 2 10 1 10 2 10 0 9 0 10 1 10 4 10 3 10 0 10 1 10 1 9 1 10 2 10 2 10 1 10 2 3 0 14 1 14 1 15 1 14 3 14 3 14 1 14-1 15 0 14 0 14 1 14 2 15 1 14 1 14 1 14-1 14 1 15 2 14 1 14 1 14 1 14 1 15 0 14 1 14 2 14 1 14-1 15 0 14 2 14 1 14 0 15-1 14 1 14 1 14 0 14 2 15 0 14-1 14-1 14 1 14 2 15 1 14 0 14 2 15-1 5 2 6 5"/>
<path stroke="#1f77b4" d="M183 941l4 7 5 6 4 5 4 6 3 2 2 2 2 2 2 0 2 0 3 0 2 0 2-50 2-95 2-96 2-94 3-8 2 0 2 0 2-4 2-4 3-3 2-1 2-1 2 4 1 2 10 13 10 0 10-6 10-5 9-5 10-3 10-2 10-3 10 1 10 5 9 0 10 2 10 7 10 6 10 4 10 4 10 3 9 3 10 4 10 3 10 3 10 4 10 5 9 4 10 5 10 6 10 6 10 4 10 4 9 4 10 2 10 0 10-1 10-2 10-4 9-5 10-5 10-4 10-6 10-5 10-6 9-6 7-5 4-4 4-5 4-4 3-2 4-4 4-6 4-6 4-7 3-12 4-14 4-14 4-13 4-16 4-12 3-1 4 3 4 3 4 5 4 6 4 6 3 5 4 4 4 7 4 6 4 5 4 4 3 4 4 3 4 3 4 5 10 9 10 6 9 5 10 7 10 8 10 7 10 8 10 8 9 6 10 8 10 8 10 7 10 6 10 6 9 4 10 5 10 4 10 5 10 3 10 3 9 4 10 7 10 11 10 12 10 13 10 14 9 14 10 11 10 10 10 8 10 5 10 5 10 5 9 6 10 4 10 3 10 1 10 2 3 2 14 4 14 4 15 3 14 3 14 3 14 2 14 3 15 3 14 3 14 2 14 3 15 4 14 2 14 3 14 2 14 3 15 3 14 2 14 2 14 2 14 2 15 2 14 3 14 3 14 1 14 2 15 1 14 1 14 2 14 2 15 1 14 1 14 1 14 1 14 1 15 1 14 1 14 1 14 1 14 1 15 1 14 1 14 1 15 4 5 5 6 9"/>
<path stroke="#2ca02c" d="M183 901l4 15 5 14 4 14 4 12 3 6 2 5 2 4 2 0 2 0 3 0 2-33 2-94 2-94 2-93 2-94 3-93 2-94 2-21 2-9 2-4 3-4 2-4 2-2 2 3 1 3 10 20 10 3 10-10 10-7 9-7 10-5 10-3 10-2 10 3 10 5 9-1 10 8 10 9 10 8 10 9 10 8 10 6 9 5 10 6 10 5 10 4 10 7 10 11 9 11 10 10 10 9 10 10 10 11 10 9 9 4 10 2 10 3 10 1 10-1 10 0 9 0 10-1 10-1 10-4 10-3 10-1 9-4 7-9 4-8 4-6 4-7 3-8 4-10 4-12 4-14 4-18 3-22 4-26 4-22 4-19 4-19 4-12 3-2 4 6 4 9 4 8 4 14 4 18 3 18 4 16 4 15 4 14 4 10 4 8 3 5 4 5 4 5 4 3 10 12 10 13 9 9 10 8 10 9 10 10 10 10 10 10 9 11 10 12 10 12 10 11 10 8 10 7 9 8 10 8 10 8 10 9 10 5 10 3 9 6 10 12 10 16 10 16 10 16 10 18 9 16 10 14 10 12 10 12 10 10 10 6 10 6 9 5 10 5 10 6 10 6 10 5 3 1 14 5 14 7 15 4 14 3 14 5 14 6 14 6 15 4 14 4 14 5 14 5 15 5 14 4 14 5 14 6 14 4 15 3 14 2 14 5 14 4 14 5 15 3 14 4 14 3 14 3 14 3 15 3 14 2 14 2 14 2 15 1 14 2 14 2 14 2 14 2 15 1 14 1 14 2 14 1 14 1 15 2 14 2 14 2 15 7 5 9 6 18"/>
<path stroke="#9467bd" d="M183 917l4 12 5 11 4 10 4 10 3 4 2 4 2 3 2 0 2 0 3 0 2-35 2-99 2-100 2-100 2-99 3-73 2 0 2 0 2-7 2-4 3-3 2-2 2-1 2 1 1 3 10 18 10 1 10-12 10-4 9-3 10-4 10-4 10 0 10 3 10 6 9-1 10 4 10 8 10 8 10 6 10 5 10 5 9 4 10 5 10 5 10 6 10 7 10 7 9 5 10 6 10 10 10 8 10 5 10 7 9 7 10 2 10 1 10 1 10-2 10-3 9-2 10-2 10-2 10-5 10-7 10-4 9-6 7-5 4-4 4-5 4-5 3-5 4-6 4-8 4-11 4-15 3-18 4-20 4-18 4-19 4-22 4-13 3 3 4 8 4 5 4 7 4 14 4 15 3 12 4 10 4 11 4 9 4 8 4 6 3 7 4 6 4 2 4 3 10 10 10 12 9 10 10 6 10 5 10 9 10 10 10 9 9 9 10 11 10 9 10 7 10 9 10 9 9 6 10 6 10 9 10 8 10 2 10 2 9 6 10 8 10 12 10 14 10 15 10 17 9 16 10 13 10 10 10 8 10 8 10 6 10 5 9 6 10 5 10 4 10 3 10 3 3 2 14 6 14 5 15 4 14 4 14 4 14 5 14 4 15 5 14 4 14 4 14 5 15 3 14 3 14 5 14 3 14 4 15 4 14 3 14 3 14 3 14 4 15 3 14 3 14 2 14 2 14 3 15 2 14 2 14 2 14 2 15 1 14 2 14 1 14 1 14 2 15 2 14 1 14 0 14 2 14 1 15 2 14 1 14 1 15 5 5 8 6 15"/>
<path stroke="#bcbd22" d="M183 917l4 12 5 11 4 10 4 10 3 4 2 4 2 3 2 0 2 0 3 0 2-2 2-107 2-107 2-107 2-107 3-15 2 0 2 0 2-6 2-3 3-1 2-3 2-2 2 4 1 4 10 15 10-1 10-10 10-3 9-2 10-5 10-5 10-2 10 2 10 5 9 2 10 6 10 6 10 6 10 6 10 5 10 3 9 3 10 2 10 5 10 6 10 7 10 7 9 6 10 4 10 8 10 7 10 6 10 7 9 4 10 1 10 1 10 0 10-1 10-1 9-3 10-4 10-4 10-4 10-3 10-4 9-6 7-6 4-5 4-5 4-3 3-5 4-5 4-4 4-8 4-12 3-13 4-16 4-17 4-19 4-17 4-8 3 1 4 2 4 6 4 6 4 7 4 11 3 9 4 6 4 8 4 5 4 7 4 8 3 4 4 2 4 3 4 5 10 10 10 7 9 8 10 8 10 6 10 7 10 10 10 10 9 11 10 8 10 7 10 9 10 7 10 5 9 7 10 6 10 5 10 5 10 3 10 3 9 7 10 8 10 12 10 14 10 14 10 15 9 14 10 11 10 10 10 7 10 6 10 6 10 6 9 5 10 4 10 4 10 5 10 4 3 1 14 5 14 3 15 3 14 6 14 4 14 3 14 2 15 4 14 4 14 4 14 3 15 4 14 4 14 3 14 3 14 2 15 3 14 3 14 3 14 3 14 3 15 2 14 3 14 3 14 2 14 1 15 3 14 2 14 1 14 2 15 2 14 2 14 0 14 1 14 2 15 1 14 1 14 1 14 1 14 0 15 2 14 2 14 1 15 5 5 7 6 12"/>
<path stroke="#e377c2" d="M183 923l4 11 5 9 4 10 4 8 3 4 2 3 2 3 2 0 2 0 3 0 2 0 2-69 2-100 2-99 2-99 3-99 2-93 2-2 2-9 2-4 3 0 2-3 2-2 2 3 1 1 10 17 10 2 10-10 10-7 9-5 10-1 10-1 10-2 10 2 10 4 9-1 10 6 10 7 10 10 10 9 10 3 10 4 9 7 10 6 10 5 10 5 10 8 10 9 9 10 10 9 10 8 10 8 10 8 10 5 9 4 10 3 10 3 10 0 10-2 10 2 9 0 10-2 10-3 10-3 10-2 10-4 9-6 7-7 4-6 4-7 4-7 3-7 4-9 4-10 4-10 4-16 3-21 4-23 4-22 4-22 4-18 4-12 3-2 4 3 4 9 4 12 4 16 4 16 3 15 4 14 4 12 4 11 4 11 4 8 3 6 4 4 4 3 4 6 10 12 10 7 9 7 10 7 10 8 10 9 10 12 10 11 9 10 10 11 10 11 10 9 10 7 10 7 9 8 10 8 10 9 10 6 10 3 10 4 9 7 10 10 10 14 10 15 10 16 10 17 9 15 10 13 10 12 10 11 10 9 10 7 10 5 9 5 10 6 10 6 10 4 10 3 3 2 14 7 14 4 15 3 14 3 14 5 14 6 14 4 15 4 14 5 14 5 14 4 15 4 14 4 14 4 14 4 14 5 15 4 14 3 14 3 14 4 14 4 15 4 14 3 14 2 14 4 14 3 15 2 14 1 14 2 14 2 15 2 14 2 14 1 14 2 14 2 15 1 14 1 14 2 14 1 14 0 15 1 14 2 14 2 15 7 5 8 6 16"/>
<path stroke="#17becf" d="M183 903l4 15 5 14 4 13 4 12 3 5 2 5 2 4 2 0 2 0 3 0 2 0 2-80 2-90 2-91 2-90 3-91 2-90 2-37 2-9 2-4 3-2 2-3 2-2 2 5 1 4 10 15 10 0 10-10 10-5 9-3 10-3 10-5 10-2 10 3 10 5 9-2 10 5 10 8 10 8 10 8 10 7 10 8 9 6 10 3 10 3 10 6 10 9 10 7 9 7 10 8 10 11 10 9 10 8 10 6 9 6 10 3 10 1 10 2 10 1 10-1 9-2 10-2 10-2 10-2 10-3 10-5 9-4 7-6 4-6 4-5 4-5 3-6 4-8 4-8 4-9 4-11 3-16 4-18 4-15 4-16 4-18 4-11 3 0 4 4 4 9 4 6 4 8 4 11 3 11 4 8 4 8 4 10 4 9 4 6 3 3 4 4 4 4 4 5 10 12 10 10 9 9 10 6 10 6 10 11 10 11 10 9 9 10 10 13 10 10 10 7 10 9 10 8 9 9 10 8 10 6 10 5 10 6 10 5 9 6 10 9 10 16 10 17 10 14 10 15 9 16 10 15 10 11 10 10 10 9 10 7 10 6 9 6 10 6 10 5 10 4 10 4 3 0 14 5 14 6 15 5 14 5 14 5 14 4 14 4 15 4 14 5 14 5 14 5 15 4 14 4 14 4 14 4 14 3 15 3 14 5 14 4 14 4 14 3 15 3 14 3 14 2 14 4 14 3 15 2 14 2 14 3 14 1 15 2 14 2 14 2 14 2 14 1 15 2 14 1 14 1 14 1 14 1 15 1 14 2 14 2 15 7 5 8 6 16"/>
<path stroke="#1f77b4" d="M183 890l4 18 5 16 4 16 4 14 3 7 2 5 2 5 2 0 2 0 3 0 2-35 2-107 2-108 2-108 2-107 3-108 2-14 2 0 2-9 2-5 3-1 2-3 2-3 2 2 1 3 10 19 10 0 10-11 10-6 9-4 10-2 10-2 10-1 10 3 10 6 9-2 10 6 10 8 10 7 10 10 10 6 10 5 9 6 10 5 10 6 10 7 10 6 10 8 9 10 10 9 10 9 10 9 10 10 10 8 9 7 10 3 10-2 10 0 10 1 10-1 9-1 10-1 10-2 10-2 10-2 10-4 9-7 7-7 4-5 4-5 4-6 3-6 4-6 4-6 4-7 4-10 3-14 4-16 4-16 4-18 4-14 4-8 3-2 4 2 4 4 4 6 4 9 4 7 3 9 4 11 4 10 4 9 4 10 4 4 3 3 4 4 4 5 4 4 10 10 10 9 9 8 10 8 10 9 10 10 10 9 10 10 9 11 10 11 10 11 10 9 10 9 10 7 9 6 10 8 10 9 10 8 10 5 10 4 9 5 10 9 10 15 10 17 10 17 10 18 9 15 10 12 10 12 10 10 10 10 10 9 10 7 9 6 10 6 10 5 10 4 10 4 3 2 14 5 14 3 15 4 14 5 14 5 14 5 14 4 15 4 14 5 14 5 14 5 15 4 14 4 14 5 14 3 14 3 15 4 14 4 14 5 14 4 14 3 15 3 14 3 14 4 14 3 14 2 15 3 14 2 14 2 14 2 15 2 14 2 14 2 14 1 14 2 15 1 14 1 14 2 14 1 14 1 15 2 14 2 14 2 15 7 5 8 6 17"/>
<path stroke="#8c564b" d="M183 952l4 4 5 4 4 4 4 3 3 2 2 1 2 1 2 0 2 0 3 0 2-17 2-106 2-102 2-4 2 0 3 0 2 0 2 0 2-3 2 0 3 0 2-1 2-2 2 2 1 2 10 10 10 1 10-6 10-4 9-3 10-3 10-2 10 0 10 1 10 3 9 0 10 2 10 3 10 3 10 2 10 4 10 1 9 2 10 4 10 2 10 1 10 2 10 3 9 4 10 3 10 2 10 3 10 4 10 3 9 1 10 1 10 0 10-1 10-3 10-3 9-6 10-7 10-5 10-6 10-8 10-6 9-7 7-6 4-4 4-7 4-7 3-5 4-3 4-5 4-7 4-9 3-12 4-15 4-15 4-15 4-16 4-10 3-2 4 1 4 4 4 6 4 8 4 7 3 7 4 5 4 5 4 6 4 7 4 5 3 3 4 3 4 3 4 3 10 6 10 5 9 5 10 5 10 6 10 7 10 6 10 7 9 7 10 6 10 4 10 4 10 4 10 5 9 4 10 3 10 2 10 3 10 3 10 3 9 4 10 6 10 9 10 12 10 14 10 14 9 14 10 11 10 8 10 6 10 6 10 4 10 4 9 2 10 3 10 2 10 2 10 2 3 1 14 4 14 2 15 2 14 2 14 2 14 2 14 3 15 3 14 2 14 3 14 2 15 1 14 1 14 2 14 2 14 2 15 2 14 1 14 2 14 1 14 2 15 1 14 2 14 2 14 1 14 1 15 2 14 1 14 1 14 1 15 1 14 0 14 1 14 1 14 1 15 1 14 1 14 1 14 1 14 0 15 1 14 2 14 0 15 3 5 4 6 6"/>
<path stroke="#e377c2" d="M183 895l4 16 5 16 4 15 4 13 3 6 2 6 2 4 2 0 2 0 3 0 2-44 2-98 2-98 2-98 2-98 3-98 2-70 2 0 2-8 2-5 3-4 2-2 2 0 2 3 1 4 10 21 10-3 10-14 10-5 9-5 10-2 10-2 10-3 10 3 10 8 9-1 10 5 10 7 10 9 10 10 10 4 10 6 9 6 10 6 10 7 10 7 10 8 10 9 9 7 10 8 10 10 10 11 10 9 10 8 9 6 10 3 10 1 10-1 10 0 10 2 9-1 10-1 10-1 10-2 10-5 10-5 9-7 7-8 4-6 4-7 4-5 3-6 4-8 4-10 4-11 4-12 3-19 4-24 4-20 4-20 4-20 4-11 3 0 4 4 4 10 4 10 4 10 4 15 3 14 4 12 4 13 4 12 4 9 4 7 3 6 4 4 4 1 4 3 10 12 10 11 9 9 10 8 10 10 10 10 10 10 10 10 9 11 10 13 10 10 10 8 10 10 10 9 9 8 10 8 10 10 10 7 10 3 10 6 9 8 10 10 10 14 10 18 10 17 10 17 9 16 10 14 10 12 10 11 10 9 10 8 10 6 9 5 10 6 10 6 10 4 10 4 3 1 14 6 14 5 15 4 14 5 14 5 14 5 14 5 15 4 14 5 14 5 14 5 15 4 14 4 14 5 14 4 14 3 15 4 14 4 14 5 14 4 14 4 15 3 14 3 14 4 14 3 14 2 15 2 14 3 14 2 14 2 15 2 14 2 14 2 14 1 14 2 15 1 14 2 14 1 14 1 14 1 15 1 14 2 14 3 15 7 5 7 6 17"/>
<path stroke="#2ca02c" d="M183 960l4 3 5 2 4 2 4 2 3 1 2 0 2 1 2 0 2 0 3 0 2-14 2-96 2-1 2 0 2 0 3 0 2 0 2 0 2 0 2-1 3 0 2 0 2 0 2 1 1 1 10 9 10 1 10-5 10-5 9-3 10-1 10 0 10 0 10-1 10 2 9 1 10 2 10 2 10 1 10 1 10 1 10 1 9 0 10 0 10 2 10 1 10 1 10 1 9 2 10 1 10 2 10 1 10 0 10 1 9 0 10 0 10-1 10-2 10-4 10-6 9-7 10-8 10-7 10-8 10-8 10-8 9-9 7-7 4-5 4-5 4-4 3-4 4-6 4-8 4-7 4-7 3-9 4-13 4-15 4-15 4-16 4-11 3-2 4 0 4 4 4 6 4 6 4 8 3 7 4 4 4 5 4 6 4 5 4 3 3 4 4 3 4 3 4 2 10 7 10 4 9 4 10 4 10 4 10 2 10 5 10 5 9 6 10 5 10 4 10 3 10 2 10 3 9 2 10 2 10 2 10 2 10 1 10 2 9 4 10 5 10 6 10 10 10 12 10 14 9 14 10 11 10 8 10 7 10 5 10 3 10 2 9 3 10 2 10 2 10 2 10 0 3 1 14 2 14 1 15 2 14 2 14 1 14 1 14 2 15 1 14 1 14 2 14 1 15 1 14 1 14 1 14 1 14 1 15 0 14 1 14 1 14 1 14 1 15 1 14 1 14 1 14 1 14 0 15 1 14 1 14 1 14 0 15 1 14 0 14 1 14 0 14 1 15 1 14 0 14 1 14 0 14 0 15 1 14 0 14 0 15 3 5 2 6 3"/>
<path stroke="#1f77b4" stroke-width="6" d="M183 957l4 3 5 3 4 3 4 2 3 1 2 1 2 1 2 0 2 0 3 0 2-24 2-100 2-3 2 0 2 0 3 0 2 0 2 0 2-1 2-1 3-1 2 0 2 1 2 3 1 1 10 8 10 1 10-5 10-5 9-2 10-2 10-3 10-1 10 0 10 2 9 1 10 1 10 0 10-1 10 2 10 2 10 3 9 0 10 0 10 1 10 2 10 0 10 0 9-2 10 0 10 1 10 1 10 0 10 1 9-1 10-1 10-2 10-3 10-3 10-1 9-2 10-4 10-7 10-6 10-7 10-8 9-10 7-8 4-4 4-3 4-4 3-4 4-3 4-2 4-4 4-3 3-2 4-2 4 0 4 2 4 1 4-2 3-2 4-1 4 2 4 2 4 0 4 1 3 2 4 0 4 1 4 2 4 0 4 1 3 1 4 1 4 2 4 1 10 2 10 2 9 2 10 3 10 2 10 2 10 3 10 2 9 3 10 4 10 4 10 3 10 4 10 5 9 4 10 4 10 6 10 3 10 3 10 3 9 3 10 4 10 6 10 6 10 6 10 4 9 4 10 5 10 3 10 5 10 5 10 1 10 3 9 3 10 4 10 5 10 3 10 1 3 2 14 4 14 3 15 3 14 1 14 1 14 1 14 2 15 2 14 3 14 2 14 1 15 1 14 2 14 1 14 0 14 3 15 2 14 1 14 1 14 2 14 1 15 1 14 0 14 0 14 2 14 2 15 1 14 0 14 2 14 3 15 0 14-2 14 0 14 0 14 1 15 2 14 2 14 2 14 0 14-2 15 0 14 2 14 1 15 1 5 1 6 5"/>
<path stroke="#17becf" d="M183 953l4 4 5 3 4 4 4 3 3 2 2 1 2 1 2 0 2 0 3 0 2 0 2-89 2-42 2 0 2 0 3 0 2 0 2 0 2-2 2 0 3 1 2-1 2-1 2 1 1 1 10 8 10 2 10-5 10-3 9-2 10-3 10-1 10 0 10 0 10 2 9 0 10 1 10 2 10 2 10 2 10 3 10 1 9 1 10 1 10 1 10 0 10 2 10 1 9 2 10 1 10 1 10 1 10 2 10 1 9 1 10 0 10-2 10-2 10-3 10-5 9-6 10-7 10-8 10-9 10-9 10-8 9-9 7-6 4-4 4-6 4-6 3-6 4-8 4-9 4-10 4-13 3-16 4-16 4-18 4-20 4-22 4-14 3 1 4 5 4 8 4 9 4 11 4 11 3 10 4 8 4 8 4 8 4 7 4 5 3 6 4 5 4 2 4 3 10 7 10 6 9 5 10 3 10 3 10 4 10 5 10 6 9 7 10 5 10 3 10 4 10 4 10 3 9 1 10 3 10 2 10 3 10 1 10 1 9 4 10 6 10 7 10 10 10 12 10 13 9 14 10 10 10 8 10 7 10 6 10 3 10 3 9 2 10 2 10 2 10 2 10 2 3 0 14 2 14 2 15 2 14 2 14 2 14 1 14 1 15 1 14 2 14 1 14 1 15 1 14 1 14 1 14 1 14 1 15 2 14 1 14 1 14 1 14 1 15 1 14 1 14 1 14 1 14 1 15 1 14 0 14 1 14 1 15 1 14 1 14 0 14 1 14 0 15 1 14 1 14 1 14 1 14 0 15 1 14 0 14 1 15 2 5 2 6 3"/>
<path stroke="#bcbd22" d="M183 937l4 7 5 7 4 7 4 6 3 3 2 2 2 2 2 0 2 0 3 0 2-13 2-92 2-92 2-91 2-15 3 0 2 0 2 0 2-6 2-3 3 0 2-2 2-1 2 5 1 3 10 12 10 0 10-6 10-4 9-4 10-4 10-2 10 1 10 2 10 2 9 0 10 4 10 4 10 5 10 4 10 2 10 2 9 3 10 2 10 3 10 3 10 5 10 4 9 3 10 5 10 5 10 5 10 5 10 3 9 1 10 1 10 1 10-1 10-3 10-2 9-3 10-4 10-7 10-7 10-6 10-9 9-8 7-4 4-2 4-4 4-5 3-4 4-6 4-9 4-8 4-9 3-14 4-18 4-17 4-17 4-19 4-10 3 0 4 1 4 6 4 9 4 8 4 9 3 9 4 9 4 7 4 9 4 7 4 4 3 2 4 4 4 6 4 3 10 8 10 6 9 5 10 4 10 5 10 7 10 9 10 8 9 8 10 7 10 5 10 6 10 5 10 4 9 3 10 5 10 5 10 4 10 1 10 3 9 5 10 6 10 10 10 13 10 15 10 15 9 12 10 11 10 10 10 7 10 5 10 5 10 4 9 3 10 3 10 4 10 3 10 3 3 1 14 3 14 4 15 3 14 1 14 2 14 3 14 4 15 3 14 2 14 2 14 2 15 4 14 2 14 2 14 2 14 3 15 1 14 2 14 2 14 3 14 2 15 2 14 2 14 1 14 2 14 1 15 2 14 2 14 2 14 1 15 0 14 1 14 2 14 1 14 1 15 1 14 0 14 1 14 1 14 1 15 1 14 1 14 0 15 4 5 5 6 8"/>
<path stroke="#1f77b4" d="M183 912l4 12 5 13 4 11 4 11 3 4 2 5 2 3 2 0 2 0 3 0 2 0 2-55 2-94 2-95 2-94 3-95 2-60 2 0 2-6 2-4 3-3 2-2 2-1 2 2 1 3 10 16 10-2 10-8 10-4 9-6 10-5 10-2 10-2 10 2 10 7 9 0 10 5 10 7 10 8 10 6 10 5 10 6 9 5 10 3 10 4 10 5 10 9 10 7 9 6 10 8 10 9 10 7 10 7 10 7 9 5 10-1 10 0 10 1 10 0 10-1 9 0 10-3 10-6 10-5 10-3 10-4 9-6 7-7 4-4 4-3 4-5 3-6 4-7 4-9 4-12 4-15 3-18 4-19 4-20 4-20 4-17 4-12 3-1 4 6 4 7 4 9 4 15 4 13 3 10 4 11 4 11 4 9 4 9 4 8 3 6 4 6 4 5 4 2 10 7 10 10 9 8 10 7 10 9 10 7 10 10 10 11 9 10 10 9 10 10 10 7 10 7 10 8 9 7 10 7 10 6 10 6 10 5 10 3 9 5 10 8 10 12 10 15 10 15 10 15 9 15 10 12 10 10 10 10 10 8 10 7 10 5 9 4 10 5 10 6 10 4 10 2 3 1 14 5 14 4 15 3 14 5 14 5 14 4 14 5 15 3 14 3 14 4 14 4 15 4 14 4 14 3 14 4 14 4 15 3 14 3 14 3 14 3 14 3 15 2 14 4 14 3 14 3 14 2 15 2 14 2 14 2 14 2 15 1 14 3 14 1 14 0 14 2 15 1 14 1 14 2 14 1 14 1 15 1 14 1 14 2 15 7 5 6 6 13"/>
<path stroke="#7f7f7f" stroke-width="5" d="M183 903l4 14 5 14 4 14 4 12 3 5 2 5 2 4 2 0 2 0 3 0 2-42 2-107 2-108 2-107 2-107 3-107 2-59 2 0 2-7 2-6 3-3 2-3 2-2 2 3 1 3 10 21 10 1 10-12 10-4 9-5 10-5 10-5 10 0 10 4 10 6 9-4 10 5 10 10 10 8 10 8 10 7 10 6 9 5 10 5 10 5 10 7 10 11 10 9 9 9 10 11 10 12 10 10 10 8 10 9 9 8 10 3 10 1 10 1 10 0 10-1 9 2 10 1 10-5 10-4 10-3 10 0 9-4 7-9 4-6 4-7 4-6 3-8 4-11 4-13 4-12 4-14 3-22 4-25 4-22 4-22 4-20 4-11 3 0 4 5 4 8 4 10 4 15 4 18 3 18 4 13 4 15 4 14 4 10 4 9 3 7 4 3 4 3 4 6 10 10 10 9 9 11 10 9 10 7 10 9 10 11 10 13 9 12 10 11 10 11 10 11 10 9 10 8 9 7 10 7 10 10 10 10 10 4 10 2 9 7 10 11 10 16 10 17 10 17 10 16 9 18 10 14 10 12 10 10 10 10 10 8 10 8 9 7 10 5 10 5 10 4 10 5 3 3 14 6 14 6 15 6 14 4 14 5 14 6 14 5 15 5 14 5 14 5 14 4 15 4 14 5 14 5 14 5 14 5 15 4 14 3 14 3 14 4 14 5 15 4 14 4 14 3 14 2 14 3 15 3 14 3 14 2 14 2 15 2 14 2 14 2 14 1 14 1 15 2 14 1 14 1 14 2 14 2 15 2 14 1 14 2 15 8 5 9 6 18"/>
<path stroke="#bcbd22" d="M183 940l4 7 5 6 4 6 4 6 3 2 2 2 2 2 2 0 2 0 3 0 2-1 2-90 2-91 2-38 2 0 3 0 2 0 2 0 2-2 2-1 3-2 2-1 2 1 2 3 1 2 10 9 10 0 10-5 10-3 9-3 10-2 10-2 10 0 10 0 10 2 9-1 10 3 10 4 10 2 10 1 10 3 10 3 9 2 10 0 10 2 10 3 10 3 10 3 9 3 10 3 10 3 10 3 10 3 10 3 9 1 10 1 10 0 10-1 10-5 10-5 9-5 10-5 10-6 10-7 10-7 10-8 9-7 7-7 4-5 4-3 4-3 3-5 4-5 4-6 4-6 4-6 3-10 4-13 4-15 4-12 4-17 4-12 3 0 4 2 4 3 4 2 4 5 4 8 3 6 4 5 4 5 4 6 4 6 4 3 3 3 4 3 4 2 4 2 10 8 10 7 9 5 10 4 10 3 10 5 10 7 10 6 9 7 10 7 10 5 10 4 10 6 10 5 9 4 10 3 10 2 10 2 10 3 10 2 9 3 10 6 10 8 10 10 10 14 10 15 9 14 10 9 10 10 10 9 10 5 10 3 10 3 9 2 10 3 10 3 10 2 10 3 3 1 14 2 14 3 15 2 14 2 14 2 14 3 14 2 15 1 14 3 14 2 14 2 15 2 14 2 14 1 14 2 14 2 15 1 14 2 14 2 14 1 14 2 15 1 14 1 14 1 14 2 14 1 15 2 14 1 14 1 14 1 15 0 14 1 14 1 14 1 14 1 15 1 14 1 14 0 14 1 14 0 15 1 14 0 14 1 15 3 5 4 6 6"/>
<path stroke="#17becf" stroke-width="5" d="M183 896l4 16 5 16 4 14 4 13 3 6 2 6 2 4 2 0 2 0 3 0 2 0 2-56 2-102 2-103 2-102 3-103 2-102 2-103 2-103 2-69 3-1 2-2 2-2 2 5 1 6 10 23 10-3 10-15 10-7 9-4 10-6 10-6 10 1 10 6 10 7 9-4 10 7 10 12 10 13 10 8 10 6 10 11 9 12 10 6 10 5 10 8 10 10 10 10 9 13 10 16 10 14 10 13 10 12 10 10 9 9 10 5 10 2 10 2 10 4 10 3 9 2 10 3 10 0 10-3 10-2 10 1 9-3 7-3 4 0 4 0 4-5 3-6 4-7 4-6 4-6 4-7 3-19 4-25 4-20 4-20 4-17 4-9 3 2 4 5 4 8 4 8 4 12 4 13 3 13 4 10 4 10 4 10 4 11 4 6 3 5 4 5 4 5 4 6 10 14 10 11 9 10 10 9 10 11 10 14 10 13 10 12 9 14 10 15 10 12 10 12 10 11 10 12 9 10 10 10 10 12 10 11 10 5 10 4 9 8 10 12 10 18 10 18 10 16 10 14 9 14 10 12 10 9 10 10 10 9 10 10 10 9 9 8 10 7 10 6 10 7 10 6 3 2 14 7 14 7 15 7 14 6 14 6 14 6 14 7 15 4 14 6 14 7 14 6 15 7 14 7 14 6 14 5 14 5 15 5 14 6 14 6 14 5 14 4 15 4 14 5 14 4 14 3 14 4 15 3 14 4 14 3 14 3 15 2 14 3 14 1 14 2 14 3 15 2 14 2 14 2 14 1 14 1 15 1 14 3 14 3 15 11 5 11 6 22"/>
<path stroke="#7f7f7f" d="M183 911l4 13 5 12 4 12 4 10 3 5 2 5 2 3 2 0 2 0 3 0 2 0 2-63 2-92 2-93 2-92 3-92 2-16 2 0 2-7 2-4 3-2 2-2 2 0 2 1 1 3 10 17 10 2 10-11 10-6 9-4 10-4 10-3 10-1 10 1 10 6 9 0 10 3 10 5 10 6 10 7 10 7 10 5 9 2 10 3 10 4 10 6 10 6 10 6 9 7 10 6 10 6 10 7 10 9 10 6 9 3 10 3 10 1 10-1 10-1 10-3 9-4 10-3 10-2 10-5 10-5 10-5 9-5 7-5 4-4 4-4 4-2 3-4 4-8 4-8 4-11 4-12 3-15 4-19 4-18 4-19 4-21 4-10 3 2 4 3 4 5 4 7 4 11 4 11 3 11 4 12 4 9 4 8 4 8 4 5 3 4 4 5 4 4 4 4 10 9 10 8 9 8 10 6 10 6 10 8 10 11 10 11 9 10 10 8 10 6 10 7 10 10 10 9 9 6 10 6 10 6 10 5 10 2 10 1 9 6 10 9 10 12 10 14 10 16 10 17 9 14 10 10 10 9 10 9 10 7 10 6 10 5 9 5 10 4 10 3 10 2 10 4 3 3 14 4 14 3 15 4 14 5 14 4 14 4 14 5 15 2 14 3 14 5 14 4 15 3 14 3 14 4 14 4 14 3 15 2 14 3 14 4 14 3 14 3 15 2 14 3 14 2 14 3 14 2 15 2 14 2 14 1 14 1 15 2 14 2 14 2 14 1 14 1 15 1 14 0 14 1 14 1 14 1 15 2 14 1 14 2 15 6 5 6 6 12"/>
<path stroke="#e377c2" d="M183 939l4 7 5 7 4 6 4 5 3 3 2 2 2 2 2 0 2 0 3 0 2 0 2-93 2-99 2-99 2-78 3 0 2 0 2 0 2-4 2-2 3-2 2-2 2-1 2 2 1 2 10 14 10 1 10-9 10-5 9-4 10-4 10-2 10 0 10 2 10 5 9 0 10 1 10 4 10 5 10 7 10 5 10 3 9 1 10 4 10 6 10 4 10 5 10 4 9 4 10 5 10 6 10 6 10 7 10 4 9 3 10-1 10 1 10-1 10-4 10-3 9 0 10-2 10-7 10-5 10-4 10-5 9-8 7-7 4-4 4-2 4-3 3-6 4-7 4-9 4-8 4-8 3-12 4-16 4-15 4-17 4-19 4-11 3 0 4 4 4 6 4 5 4 8 4 10 3 9 4 6 4 8 4 8 4 5 4 3 3 4 4 4 4 6 4 4 10 7 10 8 9 8 10 6 10 6 10 6 10 8 10 9 9 9 10 7 10 5 10 6 10 7 10 6 9 5 10 6 10 6 10 5 10 4 10 3 9 5 10 7 10 10 10 12 10 14 10 15 9 15 10 12 10 8 10 7 10 6 10 6 10 5 9 4 10 4 10 3 10 3 10 3 3 2 14 5 14 4 15 3 14 4 14 3 14 3 14 2 15 2 14 4 14 3 14 3 15 3 14 3 14 2 14 3 14 2 15 3 14 3 14 2 14 3 14 3 15 1 14 2 14 2 14 3 14 2 15 2 14 1 14 2 14 1 15 1 14 1 14 2 14 1 14 1 15 1 14 1 14 1 14 0 14 1 15 1 14 2 14 1 15 4 5 5 6 11"/>
<path stroke="#2ca02c" d="M183 940l4 7 5 6 4 6 4 5 3 3 2 2 2 2 2 0 2 0 3 0 2-3 2-95 2-94 2-94 2-34 3 0 2 0 2 0 2-3 2-2 3-1 2-1 2-1 2 1 1 2 10 12 10 2 10-5 10-4 9-5 10-4 10-2 10 0 10 2 10 4 9 0 10 1 10 4 10 5 10 4 10 5 10 3 9 4 10 2 10 3 10 4 10 4 10 4 9 3 10 2 10 6 10 6 10 4 10 3 9 1 10 1 10 1 10 0 10-3 10-3 9-3 10-5 10-6 10-7 10-6 10-6 9-7 7-5 4-4 4-3 4-4 3-6 4-7 4-8 4-7 4-9 3-13 4-16 4-16 4-16 4-18 4-12 3 0 4 4 4 5 4 4 4 7 4 11 3 11 4 9 4 7 4 5 4 6 4 7 3 6 4 3 4 2 4 3 10 7 10 8 9 6 10 6 10 7 10 7 10 7 10 7 9 6 10 6 10 7 10 7 10 7 10 5 9 5 10 3 10 4 10 4 10 3 10 3 9 5 10 8 10 11 10 13 10 12 10 13 9 14 10 12 10 9 10 7 10 5 10 5 10 5 9 4 10 3 10 3 10 2 10 4 3 1 14 2 14 3 15 4 14 4 14 3 14 2 14 3 15 3 14 2 14 2 14 3 15 3 14 2 14 2 14 3 14 3 15 1 14 2 14 2 14 3 14 2 15 2 14 2 14 2 14 2 14 2 15 1 14 1 14 1 14 2 15 1 14 1 14 1 14 1 14 1 15 1 14 0 14 1 14 1 14 1 15 1 14 2 14 1 15 3 5 5 6 9"/>
<path stroke="#8c564b" stroke-width="6" d="M183 957l4 3 5 3 4 2 4 3 3 1 2 1 2 1 2 0 2 0 3 0 2 0 2-51 2-55 2 0 2 0 3 0 2 0 2 0 2-2 2 0 3 1 2 0 2-1 2 0 1 1 10 6 10-1 10-6 10-3 9-2 10-2 10 0 10-1 10 0 10 1 9 2 10 2 10 0 10 0 10 1 10 2 10 2 9 2 10-1 10-1 10 1 10 2 10 1 9 0 10 1 10 1 10 1 10-2 10-1 9 2 10 3 10-1 10-2 10-1 10 0 9-3 10-3 10-2 10-3 10-7 10-4 9-3 7-4 4-4 4-4 4-4 3-3 4-3 4 0 4-1 4-3 3-3 4-1 4-1 4 0 4 1 4 0 3-2 4-1 4 2 4 1 4 1 4 2 3 1 4 1 4 0 4 1 4 0 4 2 3 1 4-1 4 0 4 2 10 3 10 2 9 0 10 1 10 3 10 3 10 2 10 2 9 3 10 3 10 3 10 2 10 2 10 3 9 3 10 4 10 2 10 3 10 2 10 1 9 4 10 4 10 3 10 2 10 3 10 4 9 5 10 3 10 2 10 3 10 1 10 1 10 4 9 3 10 1 10 2 10 3 10 2 3 1 14 1 14 1 15 2 14 0 14 1 14 3 14 2 15 0 14 1 14 1 14 1 15 2 14 2 14 0 14 1 14 2 15 2 14 1 14 1 14-1 14 1 15 2 14 1 14 0 14 1 14 2 15 1 14 2 14 1 14 0 15-1 14-1 14 0 14 2 14-1 15 1 14 1 14 1 14 1 14 1 15 2 14 0 14-1 15 4 5 1 6 1"/>
<path stroke="#1f77b4" d="M183 918l4 12 5 10 4 11 4 9 3 4 2 4 2 3 2 0 2 0 3 0 2 0 2-93 2-107 2-108 2-103 3-5 2 0 2 0 2-8 2-3 3-1 2-2 2-2 2 3 1 2 10 14 10 3 10-7 10-5 9-4 10-3 10-5 10-3 10 1 10 6 9 2 10 4 10 5 10 6 10 6 10 5 10 5 9 4 10 3 10 2 10 3 10 5 10 6 9 7 10 7 10 6 10 7 10 8 10 5 9 3 10 0 10 0 10 0 10-1 10-1 9-3 10-4 10-3 10-3 10-6 10-5 9-6 7-7 4-4 4-3 4-3 3-4 4-6 4-7 4-10 4-9 3-12 4-18 4-19 4-16 4-17 4-12 3 0 4 3 4 3 4 7 4 12 4 11 3 9 4 9 4 8 4 7 4 7 4 5 3 3 4 6 4 5 4 2 10 9 10 7 9 7 10 6 10 5 10 7 10 10 10 10 9 9 10 8 10 9 10 7 10 7 10 6 9 6 10 5 10 5 10 5 10 2 10 1 9 5 10 10 10 13 10 13 10 14 10 14 9 13 10 11 10 11 10 8 10 8 10 7 10 5 9 3 10 4 10 4 10 4 10 3 3 0 14 5 14 4 15 4 14 3 14 3 14 4 14 4 15 4 14 3 14 3 14 3 15 3 14 3 14 3 14 3 14 4 15 2 14 2 14 3 14 3 14 3 15 2 14 3 14 2 14 2 14 2 15 3 14 2 14 1 14 1 15 1 14 2 14 1 14 1 14 2 15 1 14 0 14 2 14 1 14 1 15 1 14 2 14 1 15 4 5 6 6 13"/>
<path stroke="#17becf" stroke-width="6" d="M183 958l4 3 5 3 4 2 4 2 3 1 2 1 2 1 2 0 2 0 3 0 2-49 2-74 2 0 2 0 2 0 3 0 2 0 2 0 2-1 2-1 3 0 2 1 2 1 2 1 1 0 10 8 10 2 10-4 10-5 9-4 10-3 10-1 10 1 10 1 10 1 9-1 10 1 10 1 10 1 10 1 10 2 10 1 9 1 10 0 10 1 10 0 10 0 10 0 9 2 10 1 10 0 10 0 10 1 10 0 9-2 10-2 10-1 10-1 10-3 10-2 9-3 10-6 10-4 10-4 10-6 10-7 9-10 7-6 4-5 4-5 4-2 3-4 4-5 4-4 4-1 4-1 3-3 4-1 4 0 4 0 4 1 4-1 3-4 4 0 4 3 4 1 4 1 4 1 3 1 4 1 4 3 4 1 4 0 4 0 3 1 4 2 4 2 4 1 10 0 10 1 9 3 10 3 10 2 10 4 10 4 10 2 9 3 10 4 10 4 10 3 10 2 10 5 9 4 10 3 10 4 10 4 10 4 10 5 9 3 10 2 10 6 10 7 10 5 10 3 9 3 10 4 10 4 10 4 10 3 10 3 10 4 9 3 10 2 10 3 10 2 10 1 3 1 14 6 14 3 15 1 14 3 14 3 14 1 14-1 15 2 14 4 14 2 14 0 15 1 14 0 14 2 14 2 14 1 15 1 14 0 14 0 14 1 14 1 15 2 14 3 14 1 14 0 14 1 15 1 14 1 14 0 14 1 15 1 14 0 14 0 14 1 14 0 15 2 14 1 14 1 14 0 14 1 15 2 14 1 14 2 15 3 5 2 6 1"/>
<path stroke="#7f7f7f" stroke-width="5" d="M183 896l4 16 5 16 4 14 4 13 3 6 2 6 2 4 2 0 2 0 3 0 2 0 2-71 2-94 2-94 2-93 3-94 2-94 2-93 2-21 2-4 3-4 2-7 2-1 2 4 1 1 10 20 10 1 10-11 10-7 9-5 10-3 10-2 10-1 10 4 10 6 9-3 10 6 10 8 10 9 10 9 10 7 10 6 9 6 10 5 10 6 10 9 10 7 10 9 9 12 10 10 10 8 10 11 10 13 10 10 9 3 10 1 10 0 10 0 10 2 10 2 9 0 10-1 10-3 10-3 10-1 10-1 9-6 7-8 4-6 4-8 4-9 3-8 4-10 4-13 4-12 4-16 3-24 4-26 4-23 4-21 4-18 4-10 3-1 4 5 4 8 4 10 4 17 4 21 3 20 4 14 4 11 4 12 4 12 4 8 3 7 4 7 4 7 4 3 10 8 10 8 9 10 10 10 10 10 10 9 10 12 10 12 9 12 10 12 10 11 10 11 10 10 10 9 9 8 10 9 10 10 10 6 10 4 10 4 9 8 10 12 10 15 10 17 10 17 10 17 9 16 10 15 10 13 10 10 10 9 10 8 10 7 9 6 10 6 10 5 10 5 10 4 3 2 14 7 14 4 15 5 14 6 14 6 14 5 14 6 15 4 14 4 14 7 14 6 15 5 14 4 14 4 14 6 14 4 15 3 14 4 14 4 14 4 14 4 15 4 14 5 14 3 14 3 14 2 15 3 14 3 14 2 14 1 15 3 14 2 14 2 14 2 14 1 15 2 14 1 14 1 14 2 14 1 15 2 14 2 14 3 15 7 5 9 6 18"/>
<path stroke="#7f7f7f" stroke-width="6" d="M183 963l4 2 5 2 4 1 4 1 3 1 2 1 2 0 2 0 2 0 3 0 2-15 2-74 2 0 2 0 2 0 3 0 2 0 2 0 2-1 2-1 3 2 2 0 2-2 2-2 1-1 10 3 10 1 10-4 10-3 9-1 10-3 10 0 10 2 10 2 10 2 9 2 10 0 10-1 10 2 10 1 10 2 10 1 9 0 10-1 10 2 10 2 10 3 10 0 9 1 10 0 10 2 10 3 10 0 10 1 9 0 10 0 10-2 10-2 10 1 10-1 9-4 10 1 10 1 10-1 10-2 10-2 9-3 7-2 4 0 4-2 4 0 3-1 4-2 4-3 4-3 4-1 3 0 4 0 4-1 4-3 4 0 4 2 3 1 4-1 4-1 4 0 4 0 4 0 3 2 4 4 4 2 4-1 4-1 4 1 3 0 4 2 4 0 4 0 10 3 10 2 9 2 10 1 10 0 10 1 10 5 10 5 9 1 10 2 10 2 10 4 10 3 10 2 9 2 10 0 10 2 10 3 10 2 10 0 9 0 10 1 10 2 10 3 10 0 10-2 9 0 10 3 10 3 10 0 10 0 10 2 10 2 9 0 10 1 10 1 10 1 10 0 3-1 14 2 14 2 15 2 14 1 14 1 14 0 14 1 15 1 14 0 14 1 14 2 15 1 14 1 14 0 14-1 14 3 15 2 14 0 14-1 14 0 14 2 15 1 14 1 14 0 14-2 14 1 15 2 14 0 14 1 14 1 15 2 14 0 14 0 14 1 14 2 15 0 14 0 14 0 14-1 14 1 15 0 14 0 14 2 15 1 5 1 6 3"/>
<path stroke="#2ca02c" d="M183 938l4 7 5 7 4 6 4 6 3 3 2 2 2 2 2 0 2 0 3 0 2-37 2-91 2-90 2-27 2 0 3 0 2 0 2 0 2-3 2-2 3-1 2-1 2 0 2 2 1 1 10 11 10 2 10-6 10-5 9-4 10-2 10-2 10 0 10 2 10 3 9 0 10 2 10 4 10 4 10 1 10 1 10 3 9 2 10 1 10 4 10 3 10 3 10 3 9 3 10 4 10 3 10 4 10 3 10 4 9 0 10 0 10 0 10-1 10-4 10-4 9-5 10-5 10-5 10-8 10-7 10-6 9-7 7-6 4-4 4-2 4-6 3-4 4-4 4-7 4-7 4-7 3-8 4-11 4-13 4-15 4-15 4-9 3-1 4 1 4 1 4 3 4 5 4 6 3 5 4 5 4 5 4 5 4 4 4 3 3 4 4 4 4 3 4 3 10 7 10 7 9 6 10 4 10 6 10 4 10 5 10 8 9 9 10 5 10 6 10 5 10 4 10 4 9 3 10 5 10 3 10 3 10 2 10 4 9 6 10 5 10 8 10 12 10 14 10 14 9 13 10 10 10 10 10 9 10 6 10 3 10 3 9 3 10 4 10 3 10 2 10 1 3 0 14 4 14 3 15 3 14 2 14 3 14 2 14 2 15 2 14 3 14 2 14 1 15 2 14 3 14 2 14 1 14 2 15 2 14 2 14 1 14 1 14 2 15 2 14 1 14 1 14 2 14 2 15 1 14 1 14 1 14 2 15 1 14 1 14 1 14 1 14 0 15 1 14 0 14 1 14 1 14 1 15 1 14 1 14 1 15 3 5 4 6 7"/>
<path stroke="#ff7f0e" d="M183 952l4 4 5 4 4 3 4 4 3 1 2 2 2 1 2 0 2 0 3 0 2 0 2-69 2-90 2-38 2 0 3 0 2 0 2 0 2-4 2-2 3 0 2 0 2 0 2 3 1 1 10 10 10 0 10-6 10-3 9-3 10-2 10-1 10-1 10-1 10 2 9 1 10 1 10 3 10 4 10 3 10 3 10 2 9 1 10 2 10 2 10 2 10 2 10 2 9 4 10 3 10 1 10 1 10 3 10 3 9 2 10-1 10-2 10 0 10-4 10-6 9-6 10-6 10-5 10-6 10-7 10-8 9-8 7-7 4-4 4-4 4-4 3-6 4-6 4-7 4-8 4-10 3-13 4-15 4-15 4-19 4-19 4-10 3 0 4 5 4 7 4 5 4 6 4 8 3 8 4 7 4 7 4 7 4 7 4 4 3 4 4 4 4 2 4 3 10 7 10 6 9 4 10 4 10 5 10 6 10 7 10 6 9 6 10 6 10 3 10 5 10 4 10 3 9 3 10 5 10 3 10 1 10 1 10 2 9 4 10 5 10 9 10 10 10 12 10 16 9 16 10 9 10 8 10 7 10 6 10 4 10 4 9 2 10 3 10 2 10 2 10 2 3 1 14 2 14 2 15 3 14 3 14 1 14 2 14 2 15 3 14 2 14 1 14 1 15 2 14 1 14 2 14 1 14 2 15 1 14 2 14 2 14 2 14 1 15 1 14 2 14 1 14 2 14 1 15 1 14 0 14 1 14 1 15 1 14 2 14 0 14 0 14 0 15 1 14 1 14 1 14 0 14 1 15 0 14 1 14 2 15 2 5 3 6 6"/>
<path stroke="#ff7f0e" d="M183 936l4 7 5 7 4 7 4 7 3 2 2 3 2 2 2 0 2 0 3 0 2-4 2-97 2-97 2-97 2-94 3-5 2 0 2 0 2-6 2-3 3-2 2-1 2-1 2 1 1 3 10 16 10 0 10-10 10-5 9-2 10-3 10-4 10-2 10 1 10 4 9 0 10 6 10 7 10 4 10 5 10 5 10 4 9 2 10 3 10 3 10 2 10 6 10 7 9 6 10 6 10 5 10 7 10 8 10 5 9 3 10 1 10 0 10-1 10-1 10-2 9-3 10-4 10-4 10-5 10-6 10-7 9-5 7-5 4-3 4-3 4-4 3-4 4-5 4-3 4-4 4-10 3-10 4-13 4-12 4-15 4-18 4-11 3 1 4 3 4 4 4 4 4 6 4 6 3 5 4 5 4 5 4 6 4 4 4 5 3 6 4 2 4 1 4 5 10 9 10 8 9 6 10 6 10 6 10 8 10 10 10 8 9 8 10 8 10 7 10 7 10 7 10 6 9 7 10 7 10 5 10 3 10 3 10 3 9 5 10 8 10 11 10 13 10 14 10 15 9 15 10 11 10 8 10 7 10 6 10 6 10 7 9 5 10 4 10 3 10 3 10 3 3 1 14 5 14 3 15 2 14 5 14 4 14 3 14 3 15 3 14 4 14 3 14 3 15 3 14 3 14 3 14 4 14 3 15 3 14 2 14 3 14 2 14 3 15 2 14 2 14 2 14 2 14 3 15 1 14 2 14 1 14 2 15 1 14 1 14 1 14 2 14 1 15 1 14 1 14 1 14 1 14 1 15 1 14 1 14 2 15 5 5 5 6 11"/>
<path stroke="#7f7f7f" d="M183 931l4 8 5 9 4 7 4 7 3 4 2 3 2 2 2 0 2 0 3 0 2-27 2-91 2-92 2-91 2-46 3 0 2 0 2 0 2-4 2-4 3-2 2-3 2-1 2 2 1 3 10 14 10 0 10-8 10-3 9-3 10-5 10-2 10 0 10 1 10 6 9 1 10 2 10 3 10 4 10 4 10 5 10 2 9 2 10 3 10 4 10 5 10 4 10 5 9 6 10 6 10 4 10 4 10 5 10 4 9 3 10 1 10 1 10 2 10-3 10-4 9-3 10-4 10-6 10-7 10-5 10-6 9-8 7-6 4-3 4-4 4-5 3-7 4-8 4-9 4-9 4-11 3-17 4-21 4-21 4-21 4-18 4-12 3 0 4 4 4 7 4 10 4 13 4 13 3 11 4 11 4 12 4 9 4 4 4 5 3 6 4 5 4 4 4 4 10 9 10 7 9 7 10 6 10 5 10 6 10 8 10 10 9 7 10 6 10 7 10 8 10 6 10 5 9 5 10 5 10 5 10 4 10 3 10 4 9 5 10 7 10 11 10 12 10 14 10 14 9 15 10 10 10 9 10 10 10 7 10 4 10 3 9 4 10 4 10 4 10 4 10 2 3 0 14 5 14 3 15 3 14 3 14 3 14 4 14 3 15 2 14 3 14 3 14 3 15 2 14 3 14 3 14 2 14 3 15 3 14 2 14 3 14 2 14 2 15 2 14 2 14 2 14 2 14 2 15 2 14 1 14 2 14 1 15 2 14 1 14 1 14 1 14 1 15 1 14 1 14 0 14 1 14 1 15 1 14 1 14 1 15 5 5 5 6 10"/>
<path stroke="#e377c2" d="M183 954l4 3 5 4 4 3 4 3 3 2 2 1 2 1 2 0 2 0 3 0 2-8 2-106 2-81 2 0 2 0 3 0 2 0 2 0 2-4 2-1 3 0 2-1 2-1 2 1 1 2 10 10 10 2 10-6 10-4 9-4 10-2 10 0 10 0 10-1 10 2 9 2 10 2 10 2 10 2 10 3 10 2 10 1 9 1 10 2 10 3 10 3 10 1 10 1 9 3 10 3 10 3 10 3 10 2 10 2 9 2 10 1 10-2 10-2 10-4 10-5 9-6 10-5 10-5 10-7 10-7 10-7 9-10 7-6 4-4 4-4 4-3 3-5 4-7 4-7 4-6 4-8 3-11 4-13 4-13 4-13 4-18 4-11 3 0 4 1 4 2 4 4 4 8 4 7 3 6 4 5 4 5 4 7 4 5 4 2 3 3 4 5 4 4 4 3 10 6 10 6 9 4 10 4 10 5 10 5 10 5 10 7 9 7 10 7 10 5 10 5 10 3 10 3 9 4 10 3 10 2 10 2 10 1 10 3 9 4 10 6 10 10 10 10 10 11 10 14 9 15 10 10 10 9 10 8 10 5 10 4 10 4 9 3 10 2 10 2 10 2 10 1 3 0 14 3 14 3 15 3 14 2 14 1 14 2 14 2 15 2 14 1 14 2 14 3 15 2 14 1 14 1 14 2 14 2 15 1 14 2 14 2 14 1 14 0 15 1 14 2 14 2 14 1 14 1 15 1 14 1 14 1 14 1 15 1 14 0 14 1 14 1 14 1 15 1 14 1 14 0 14 1 14 0 15 1 14 1 14 1 15 2 5 3 6 6"/>
<path stroke="#bcbd22" d="M183 957l4 3 5 3 4 3 4 2 3 1 2 1 2 1 2 0 2 0 3 0 2-29 2-97 2-9 2 0 2 0 3 0 2 0 2 0 2-1 2-1 3-1 2 0 2 0 2 1 1 1 10 9 10 1 10-5 10-5 9-2 10-2 10-1 10 1 10 0 10 2 9 1 10 1 10 1 10 2 10 3 10 0 10 0 9 2 10 2 10 2 10 2 10 1 10 2 9 2 10 1 10 1 10 1 10 1 10 1 9 1 10-1 10-2 10-1 10-3 10-4 9-7 10-8 10-7 10-7 10-9 10-9 9-9 7-6 4-4 4-6 4-8 3-6 4-6 4-10 4-11 4-11 3-13 4-18 4-22 4-20 4-18 4-11 3 0 4 5 4 6 4 7 4 11 4 11 3 11 4 9 4 10 4 7 4 6 4 5 3 5 4 4 4 3 4 3 10 6 10 5 9 4 10 6 10 5 10 3 10 5 10 4 9 6 10 6 10 3 10 3 10 4 10 4 9 1 10 2 10 2 10 3 10 1 10 2 9 4 10 6 10 7 10 10 10 13 10 13 9 15 10 11 10 7 10 7 10 5 10 5 10 2 9 2 10 3 10 1 10 2 10 2 3 0 14 1 14 2 15 2 14 3 14 2 14 1 14 2 15 1 14 1 14 2 14 1 15 1 14 1 14 1 14 0 14 1 15 1 14 2 14 2 14 1 14 1 15 0 14 1 14 1 14 1 14 1 15 0 14 2 14 1 14 1 15 1 14 0 14 1 14 0 14 1 15 0 14 1 14 1 14 1 14 0 15 0 14 1 14 0 15 2 5 3 6 3"/>
<path stroke="#d62728" d="M183 906l4 14 5 13 4 13 4 11 3 6 2 4 2 4 2 0 2 0 3 0 2 0 2-54 2-102 2-103 2-102 3-99 2-7 2 0 2-7 2-5 3 0 2 0 2-2 2 0 1 2 10 17 10 0 10-11 10-4 9-4 10-4 10-4 10-1 10 2 10 5 9-1 10 5 10 7 10 7 10 7 10 7 10 4 9 2 10 2 10 2 10 6 10 8 10 9 9 8 10 7 10 7 10 6 10 7 10 5 9 4 10 2 10 1 10 1 10 0 10 0 9-1 10-5 10-5 10-4 10-3 10-6 9-7 7-4 4-5 4-5 4-4 3-4 4-5 4-8 4-8 4-9 3-15 4-18 4-18 4-17 4-16 4-11 3 1 4 4 4 2 4 6 4 11 4 11 3 10 4 7 4 8 4 9 4 8 4 6 3 3 4 3 4 4 4 4 10 10 10 8 9 6 10 8 10 8 10 9 10 9 10 10 9 10 10 8 10 7 10 8 10 8 10 8 9 6 10 7 10 6 10 5 10 4 10 3 9 7 10 10 10 11 10 13 10 15 10 17 9 14 10 11 10 11 10 11 10 6 10 4 10 4 9 6 10 5 10 5 10 3 10 3 3 1 14 5 14 4 15 3 14 5 14 4 14 4 14 4 15 4 14 4 14 3 14 4 15 4 14 2 14 3 14 4 14 4 15 3 14 3 14 3 14 3 14 3 15 3 14 2 14 3 14 2 14 2 15 2 14 2 14 3 14 2 15 1 14 1 14 2 14 1 14 1 15 2 14 1 14 0 14 1 14 2 15 1 14 1 14 2 15 6 5 7 6 13"/>
<path stroke="#ff7f0e" stroke-width="6" d="M183 964l4 1 5 2 4 1 4 1 3 1 2 1 2 0 2 0 2 0 3 0 2 0 2-59 2-34 2 0 2 0 3 0 2 0 2 0 2-1 2 0 3 0 2-1 2-2 2 1 1 4 10 4 10-2 10-5 10-5 9-3 10-1 10 1 10 1 10 0 10 1 9 2 10 3 10 2 10 0 10-1 10 2 10 1 9 1 10 1 10 1 10 2 10 1 10 2 9 2 10 1 10-1 10 2 10 1 10 0 9 2 10-1 10-2 10-1 10 0 10 0 9-1 10-2 10-3 10-3 10-2 10-2 9-1 7-2 4-1 4-2 4-2 3-2 4-1 4-1 4-2 4-1 3-3 4-2 4 0 4-1 4-1 4 0 3-1 4 0 4 1 4 2 4 2 4 0 3 1 4 1 4 0 4 1 4 2 4 1 3 0 4 0 4 1 4 1 10 3 10 1 9 0 10 1 10 3 10 2 10 3 10 4 9 2 10 2 10 4 10 3 10 0 10 1 9 2 10 3 10 2 10 2 10 1 10 0 9 3 10 3 10 0 10 0 10 2 10 2 9 2 10 0 10 0 10 0 10 1 10 2 10 1 9 1 10 2 10 1 10 1 10 3 3 1 14 0 14 0 15 1 14 3 14 1 14 1 14 2 15 2 14 2 14 2 14 0 15 0 14 1 14 0 14 0 14 1 15 1 14 2 14 0 14 1 14 2 15 1 14 1 14 0 14-1 14 1 15 2 14 1 14 1 14-1 15 0 14 0 14 2 14 1 14 1 15 0 14 0 14 2 14 1 14 0 15 0 14 0 14 1 15 2 5 0 6 2"/>
<path stroke="#8c564b" stroke-width="6" d="M183 957l4 3 5 3 4 3 4 2 3 1 2 1 2 1 2 0 2 0 3 0 2-24 2-96 2-1 2 0 2 0 3 0 2 0 2 0 2-1 2 1 3-1 2-3 2 0 2 2 1 2 10 8 10 0 10-5 10-2 9-3 10-3 10-3 10 1 10 2 10 2 9 0 10-2 10 2 10 3 10 1 10 2 10 1 9-1 10-1 10 2 10 1 10 2 10 2 9-1 10 1 10 1 10-1 10 0 10 0 9-1 10-1 10-2 10 0 10-1 10-2 9-4 10-5 10-5 10-4 10-4 10-5 9-9 7-8 4-5 4-4 4-4 3-3 4-4 4-4 4-2 4 0 3-1 4-2 4 0 4-2 4 0 4-1 3 0 4 1 4 0 4 2 4 2 4 0 3-1 4 0 4 2 4 4 4 1 4 0 3 0 4 1 4 1 4-1 10 4 10 3 9 1 10 2 10 1 10 2 10 5 10 4 9 2 10 3 10 3 10 4 10 4 10 4 9 3 10 4 10 4 10 3 10 3 10 3 9 4 10 4 10 5 10 5 10 4 10 4 9 4 10 6 10 3 10 2 10 3 10 4 10 2 9 2 10 3 10 1 10 2 10 4 3 1 14 2 14 2 15 4 14 3 14 0 14 1 14 2 15 1 14-1 14 2 14 3 15 1 14 0 14 3 14 2 14 1 15-1 14 2 14 4 14 1 14 1 15 0 14 1 14 2 14 2 14 1 15-2 14 2 14 4 14 1 15-1 14 0 14 1 14 1 14 0 15 1 14 1 14-1 14 1 14 1 15 0 14 0 14 0 15 3 5 2 6 4"/>
<path stroke="#bcbd22" d="M183 937l4 7 5 7 4 7 4 6 3 3 2 2 2 2 2 0 2 0 3 0 2 0 2-67 2-96 2-96 2-96 3-41 2 0 2 0 2-3 2-4 3-5 2-2 2 2 2 4 1 1 10 13 10 0 10-9 10-5 9-3 10 0 10-1 10-2 10 1 10 3 9-2 10 4 10 5 10 6 10 6 10 5 10 4 9 2 10 3 10 4 10 4 10 5 10 4 9 6 10 8 10 7 10 5 10 6 10 4 9 3 10 2 10 1 10 1 10-1 10-3 9-4 10-3 10-4 10-4 10-6 10-7 9-6 7-5 4-3 4-3 4-3 3-4 4-5 4-6 4-8 4-11 3-12 4-14 4-13 4-16 4-19 4-12 3 1 4 6 4 5 4 3 4 9 4 7 3 6 4 8 4 6 4 4 4 6 4 6 3 4 4 3 4 6 4 3 10 8 10 7 9 7 10 5 10 7 10 9 10 8 10 8 9 8 10 8 10 7 10 7 10 8 10 6 9 6 10 4 10 5 10 6 10 3 10 1 9 6 10 10 10 12 10 12 10 15 10 15 9 14 10 11 10 10 10 7 10 6 10 7 10 5 9 3 10 3 10 5 10 5 10 3 3 1 14 3 14 3 15 4 14 4 14 3 14 2 14 4 15 4 14 3 14 2 14 3 15 4 14 3 14 3 14 2 14 4 15 3 14 3 14 2 14 2 14 3 15 3 14 3 14 2 14 1 14 2 15 2 14 2 14 2 14 1 15 1 14 1 14 1 14 2 14 1 15 1 14 0 14 1 14 1 14 1 15 1 14 2 14 2 15 4 5 6 6 11"/>
<path stroke="#7f7f7f" d="M183 940l4 7 5 6 4 6 4 5 3 3 2 2 2 2 2 0 2 0 3 0 2-25 2-91 2-91 2-50 2 0 3 0 2 0 2 0 2-3 2-3 3-2 2 0 2 0 2 0 1 3 10 11 10-1 10-7 10-2 9-2 10-4 10-2 10 1 10 3 10 2 9 0 10 2 10 3 10 4 10 4 10 1 10 2 9 3 10 2 10 2 10 3 10 3 10 3 9 3 10 5 10 4 10 3 10 2 10 3 9 3 10 0 10-1 10-1 10-2 10-4 9-4 10-4 10-7 10-7 10-5 10-6 9-9 7-8 4-3 4-2 4-4 3-6 4-3 4-4 4-7 4-8 3-7 4-11 4-14 4-15 4-16 4-9 3 1 4 1 4 1 4 3 4 4 4 3 3 7 4 5 4 4 4 6 4 6 4 4 3 4 4 4 4 1 4 3 10 7 10 6 9 5 10 4 10 7 10 7 10 6 10 6 9 7 10 6 10 5 10 5 10 4 10 5 9 5 10 4 10 5 10 3 10 1 10 2 9 5 10 6 10 9 10 12 10 13 10 13 9 15 10 12 10 10 10 7 10 4 10 4 10 4 9 3 10 4 10 3 10 2 10 2 3 1 14 3 14 3 15 3 14 2 14 2 14 3 14 3 15 2 14 3 14 2 14 2 15 1 14 2 14 2 14 3 14 2 15 2 14 2 14 1 14 2 14 2 15 2 14 1 14 2 14 2 14 0 15 2 14 2 14 0 14 1 15 1 14 1 14 1 14 1 14 1 15 2 14 0 14 0 14 0 14 0 15 1 14 1 14 2 15 4 5 4 6 7"/>
<path stroke="#d62728" d="M183 936l4 7 5 8 4 6 4 7 3 2 2 3 2 2 2 0 2 0 3 0 2-46 2-103 2-96 2-2 2 0 3 0 2 0 2 0 2-2 2-1 3-1 2-2 2-1 2 2 1 2 10 11 10 1 10-6 10-4 9-3 10-3 10-1 10-1 10 2 10 2 9 0 10 3 10 3 10 3 10 3 10 4 10 3 9 0 10 1 10 2 10 4 10 4 10 3 9 4 10 4 10 3 10 2 10 2 10 4 9 4 10 0 10-1 10-1 10-4 10-3 9-4 10-6 10-7 10-7 10-7 10-7 9-8 7-6 4-3 4-4 4-3 3-4 4-5 4-6 4-7 4-7 3-9 4-12 4-14 4-16 4-17 4-10 3 0 4 3 4 2 4 3 4 7 4 6 3 5 4 6 4 5 4 5 4 5 4 4 3 4 4 3 4 1 4 3 10 7 10 6 9 5 10 6 10 4 10 6 10 8 10 7 9 6 10 4 10 6 10 7 10 4 10 4 9 4 10 3 10 3 10 3 10 2 10 3 9 5 10 6 10 9 10 12 10 12 10 13 9 15 10 11 10 9 10 9 10 6 10 4 10 4 9 3 10 3 10 2 10 2 10 3 3 1 14 3 14 3 15 2 14 3 14 3 14 2 14 2 15 2 14 3 14 2 14 2 15 1 14 2 14 2 14 2 14 2 15 2 14 2 14 1 14 2 14 1 15 2 14 1 14 2 14 1 14 1 15 2 14 1 14 1 14 1 15 1 14 1 14 2 14 0 14 1 15 1 14 1 14 0 14 1 14 0 15 1 14 2 14 1 15 3 5 4 6 6"/>
<path stroke="#1f77b4" stroke-width="6" d="M183 961l4 2 5 2 4 2 4 2 3 1 2 0 2 1 2 0 2 0 3 0 2 0 2-47 2-64 2 0 2 0 3 0 2 0 2 0 2 0 2 0 3-2 2-2 2 0 2 2 1 1 10 6 10 1 10-4 10-5 9-2 10-1 10-1 10 0 10 1 10 1 9 0 10 1 10 1 10 0 10 1 10 2 10 0 9-1 10 1 10-1 10 0 10 3 10 2 9 2 10 0 10 1 10 0 10-1 10-1 9 1 10 1 10-1 10-2 10-1 10-1 9-3 10-3 10-2 10-4 10-5 10-5 9-7 7-6 4-2 4-3 4-3 3-4 4-3 4-2 4-1 4 0 3-3 4-2 4-1 4-2 4-2 4 1 3 1 4 1 4 0 4-1 4 2 4 2 3 0 4 0 4 2 4 2 4 1 4 0 3-1 4 1 4 0 4 0 10 2 10 2 9 3 10 4 10 3 10 2 10 4 10 2 9 2 10 3 10 3 10 3 10 4 10 2 9 2 10 4 10 2 10 2 10 2 10 5 9 6 10 4 10 1 10 3 10 5 10 3 9 3 10 3 10 2 10 1 10 3 10 4 10 4 9 3 10 3 10 2 10 1 10 3 3 2 14 3 14 2 15 1 14 1 14 2 14 1 14 1 15 1 14 1 14 2 14 2 15 1 14 0 14-1 14 1 14 2 15 3 14 2 14 0 14 0 14 2 15 2 14 1 14 1 14 0 14-1 15 1 14 0 14-1 14 1 15 3 14 3 14 1 14 1 14 1 15 0 14 0 14 0 14-1 14-1 15 1 14 1 14 0 15 4 5 3 6 2"/>
<path stroke="#d62728" d="M183 950l4 4 5 5 4 4 4 4 3 1 2 2 2 1 2 0 2 0 3 0 2 0 2-76 2-82 2 0 2 0 3 0 2 0 2 0 2-2 2-1 3 1 2 0 2-1 2 1 1 2 10 9 10 0 10-5 10-3 9-2 10-1 10-1 10 0 10 1 10 1 9-1 10 2 10 3 10 2 10 1 10 1 10 1 9 3 10 2 10 1 10 1 10 2 10 2 9 2 10 1 10 1 10 2 10 2 10 1 9 1 10 0 10 0 10-2 10-4 10-5 9-6 10-7 10-7 10-7 10-8 10-8 9-10 7-7 4-5 4-5 4-5 3-5 4-7 4-10 4-13 4-14 3-15 4-17 4-20 4-19 4-21 4-12 3 0 4 3 4 6 4 9 4 10 4 11 3 13 4 11 4 11 4 9 4 7 4 5 3 3 4 5 4 4 4 0 10 5 10 8 9 6 10 4 10 5 10 4 10 5 10 5 9 7 10 6 10 5 10 4 10 3 10 3 9 2 10 2 10 3 10 1 10 1 10 3 9 5 10 6 10 6 10 9 10 12 10 14 9 15 10 11 10 9 10 7 10 6 10 4 10 2 9 3 10 2 10 2 10 2 10 2 3 1 14 2 14 1 15 3 14 2 14 3 14 1 14 1 15 2 14 1 14 1 14 2 15 2 14 1 14 1 14 2 14 1 15 2 14 1 14 1 14 1 14 1 15 2 14 1 14 1 14 1 14 0 15 2 14 1 14 0 14 1 15 0 14 0 14 1 14 1 14 0 15 0 14 2 14 0 14 1 14 1 15 1 14 1 14 0 15 2 5 3 6 4"/>
<path stroke="#7f7f7f" stroke-width="5" d="M183 909l4 13 5 13 4 12 4 11 3 5 2 4 2 4 2 0 2 0 3 0 2-50 2-103 2-103 2-104 2-103 3-103 2-100 2-5 2-7 2-5 3-5 2-3 2-2 2 0 1 3 10 23 10-1 10-17 10-6 9-1 10-5 10-4 10 1 10 2 10 5 9 0 10 8 10 10 10 9 10 8 10 9 10 8 9 4 10 3 10 7 10 9 10 9 10 9 9 12 10 13 10 9 10 9 10 11 10 10 9 5 10 5 10 2 10-1 10 1 10 1 9 0 10-2 10-2 10-2 10 0 10 0 9-4 7-10 4-6 4-9 4-7 3-8 4-11 4-13 4-16 4-21 3-27 4-27 4-22 4-23 4-24 4-12 3 3 4 8 4 9 4 11 4 16 4 18 3 21 4 19 4 18 4 15 4 11 4 8 3 5 4 5 4 4 4 6 10 13 10 10 9 8 10 8 10 11 10 12 10 12 10 12 9 12 10 13 10 12 10 10 10 10 10 11 9 9 10 7 10 8 10 8 10 6 10 3 9 5 10 11 10 18 10 19 10 18 10 16 9 16 10 15 10 12 10 12 10 10 10 8 10 7 9 7 10 6 10 6 10 6 10 5 3 1 14 7 14 6 15 4 14 4 14 6 14 5 14 6 15 4 14 5 14 7 14 5 15 5 14 5 14 5 14 5 14 4 15 4 14 5 14 3 14 4 14 4 15 4 14 4 14 3 14 3 14 4 15 4 14 2 14 1 14 2 15 2 14 2 14 2 14 2 14 2 15 2 14 2 14 2 14 0 14 1 15 2 14 2 14 3 15 7 5 9 6 19"/>
<path stroke="#9467bd" d="M183 940l4 6 5 7 4 6 4 5 3 3 2 2 2 2 2 0 2 0 3 0 2-6 2-104 2-103 2-39 2 0 3 0 2 0 2 0 2-3 2-3 3-1 2 0 2 0 2 1 1 1 10 11 10 0 10-6 10-4 9-2 10-1 10-2 10-1 10 0 10 2 9 1 10 2 10 4 10 4 10 3 10 2 10 3 9 2 10 1 10 1 10 3 10 4 10 4 9 2 10 3 10 5 10 4 10 2 10 3 9 2 10 1 10-2 10-3 10-3 10-3 9-4 10-5 10-7 10-7 10-5 10-7 9-8 7-5 4-4 4-6 4-5 3-5 4-7 4-8 4-8 4-12 3-16 4-16 4-18 4-19 4-20 4-10 3 2 4 4 4 4 4 7 4 10 4 10 3 9 4 10 4 10 4 6 4 6 4 6 3 7 4 6 4 4 4 2 10 6 10 7 9 6 10 4 10 5 10 5 10 4 10 8 9 8 10 6 10 5 10 6 10 4 10 3 9 5 10 5 10 3 10 2 10 3 10 3 9 5 10 7 10 9 10 10 10 13 10 14 9 15 10 10 10 9 10 8 10 7 10 4 10 4 9 3 10 3 10 3 10 2 10 2 3 1 14 4 14 2 15 2 14 2 14 3 14 3 14 2 15 2 14 2 14 2 14 3 15 3 14 2 14 1 14 1 14 2 15 2 14 2 14 2 14 2 14 2 15 2 14 1 14 1 14 1 14 2 15 1 14 2 14 1 14 1 15 1 14 0 14 1 14 1 14 2 15 0 14 1 14 1 14 2 14 0 15 0 14 1 14 1 15 4 5 4 6 7"/>
<path stroke="#e377c2" d="M183 933l4 9 5 7 4 7 4 7 3 3 2 3 2 2 2 0 2 0 3 0 2 0 2-61 2-107 2-106 2-40 3 0 2 0 2 0 2-4 2-4 3-2 2-1 2 0 2 2 1 1 10 15 10 0 10-8 10-4 9-3 10-1 10-2 10 0 10 1 10 2 9 0 10 3 10 3 10 6 10 5 10 3 10 4 9 4 10 1 10 2 10 5 10 4 10 3 9 4 10 5 10 4 10 4 10 5 10 4 9 3 10 1 10 0 10-1 10-2 10-3 9-4 10-6 10-5 10-4 10-7 10-7 9-8 7-6 4-4 4-4 4-5 3-6 4-8 4-10 4-9 4-10 3-14 4-17 4-17 4-16 4-21 4-13 3 1 4 6 4 8 4 6 4 6 4 10 3 11 4 10 4 10 4 8 4 6 4 6 3 3 4 2 4 3 4 5 10 8 10 7 9 8 10 6 10 5 10 6 10 8 10 8 9 8 10 7 10 7 10 7 10 6 10 5 9 5 10 5 10 4 10 3 10 2 10 3 9 4 10 6 10 9 10 13 10 15 10 15 9 13 10 11 10 9 10 8 10 7 10 5 10 4 9 2 10 3 10 3 10 3 10 3 3 1 14 3 14 3 15 4 14 3 14 3 14 2 14 3 15 3 14 2 14 2 14 3 15 3 14 2 14 2 14 2 14 2 15 3 14 2 14 2 14 2 14 3 15 1 14 2 14 2 14 2 14 2 15 0 14 2 14 1 14 2 15 1 14 2 14 0 14 1 14 1 15 1 14 1 14 1 14 1 14 0 15 1 14 1 14 2 15 4 5 5 6 8"/>
<path stroke="#7f7f7f" d="M183 946l4 5 5 5 4 5 4 5 3 2 2 2 2 1 2 0 2 0 3 0 2 0 2-60 2-90 2-79 2-1 3 0 2 0 2 0 2-3 2-3 3-1 2 0 2 0 2 1 1 0 10 10 10 2 10-6 10-4 9-3 10-2 10-2 10 0 10 2 10 4 9-1 10 2 10 4 10 3 10 2 10 2 10 1 9 3 10 3 10 1 10 1 10 2 10 3 9 4 10 3 10 2 10 4 10 4 10 2 9 1 10 1 10-1 10-1 10-3 10-5 9-5 10-6 10-6 10-6 10-8 10-7 9-9 7-6 4-4 4-2 4-3 3-4 4-5 4-7 4-6 4-9 3-12 4-12 4-13 4-15 4-19 4-11 3 1 4 3 4 3 4 4 4 6 4 6 3 7 4 6 4 6 4 5 4 5 4 4 3 4 4 4 4 3 4 3 10 7 10 6 9 5 10 4 10 4 10 7 10 7 10 7 9 7 10 6 10 5 10 5 10 5 10 4 9 3 10 5 10 4 10 3 10 1 10 2 9 3 10 6 10 10 10 11 10 13 10 14 9 14 10 10 10 8 10 7 10 6 10 5 10 3 9 3 10 3 10 4 10 2 10 2 3 0 14 3 14 2 15 3 14 3 14 2 14 3 14 2 15 2 14 2 14 3 14 1 15 1 14 2 14 2 14 2 14 1 15 2 14 3 14 1 14 2 14 1 15 1 14 2 14 2 14 1 14 1 15 2 14 1 14 0 14 1 15 1 14 1 14 1 14 0 14 2 15 1 14 0 14 0 14 2 14 1 15 1 14 0 14 1 15 3 5 4 6 6"/>
<path stroke="#9467bd" d="M183 929l4 9 5 9 4 8 4 7 3 4 2 3 2 2 2 0 2 0 3 0 2-40 2-107 2-107 2-103 2-5 3 0 2 0 2 0 2-3 2-2 3 0 2-2 2-1 2 2 1 3 10 13 10-2 10-8 10-4 9-3 10-2 10 0 10-2 10 2 10 6 9-2 10 3 10 5 10 4 10 4 10 3 10 5 9 5 10 4 10 3 10 2 10 3 10 7 9 7 10 5 10 4 10 5 10 5 10 5 9 3 10 0 10 0 10 0 10-4 10-3 9-4 10-4 10-4 10-3 10-6 10-7 9-9 7-4 4 0 4-3 4-5 3-7 4-4 4-5 4-9 4-9 3-10 4-14 4-17 4-17 4-16 4-11 3-1 4 4 4 5 4 4 4 6 4 9 3 8 4 8 4 7 4 5 4 5 4 7 3 4 4 2 4 1 4 4 10 11 10 7 9 5 10 6 10 7 10 6 10 7 10 10 9 9 10 7 10 6 10 5 10 7 10 6 9 6 10 6 10 6 10 4 10 4 10 4 9 4 10 6 10 10 10 12 10 13 10 16 9 14 10 11 10 10 10 9 10 6 10 5 10 4 9 4 10 3 10 4 10 3 10 3 3 1 14 4 14 4 15 3 14 2 14 4 14 2 14 3 15 4 14 4 14 2 14 3 15 2 14 2 14 3 14 3 14 2 15 2 14 3 14 3 14 3 14 2 15 2 14 2 14 2 14 2 14 2 15 2 14 2 14 1 14 1 15 2 14 1 14 1 14 1 14 1 15 1 14 1 14 0 14 1 14 1 15 1 14 2 14 1 15 5 5 4 6 10"/>
<path stroke="#ff7f0e" d="M183 895l4 16 5 16 4 15 4 13 3 6 2 6 2 4 2 0 2 0 3 0 2 0 2-100 2-108 2-108 2-108 3-108 2-56 2 0 2-8 2-5 3-3 2-3 2-1 2 2 1 5 10 20 10-1 10-13 10-6 9-5 10-3 10-2 10-3 10 1 10 5 9 1 10 6 10 5 10 8 10 10 10 7 10 7 9 5 10 4 10 6 10 8 10 6 10 6 9 10 10 10 10 10 10 9 10 10 10 8 9 4 10 2 10 2 10-1 10 0 10 2 9 0 10-3 10-4 10-2 10-3 10-2 9-5 7-6 4-6 4-4 4-5 3-8 4-9 4-9 4-10 4-13 3-17 4-19 4-16 4-17 4-18 4-13 3 1 4 4 4 5 4 9 4 11 4 12 3 11 4 11 4 12 4 10 4 8 4 7 3 4 4 3 4 4 4 4 10 10 10 10 9 9 10 9 10 8 10 10 10 13 10 9 9 10 10 13 10 10 10 9 10 11 10 9 9 8 10 8 10 7 10 7 10 5 10 3 9 7 10 9 10 14 10 18 10 17 10 15 9 15 10 13 10 14 10 13 10 7 10 7 10 6 9 6 10 5 10 4 10 5 10 5 3 3 14 5 14 3 15 5 14 6 14 5 14 6 14 4 15 3 14 4 14 4 14 5 15 5 14 4 14 4 14 4 14 4 15 4 14 4 14 4 14 3 14 4 15 3 14 3 14 4 14 3 14 3 15 2 14 3 14 2 14 2 15 2 14 1 14 1 14 2 14 1 15 2 14 1 14 2 14 1 14 2 15 1 14 1 14 2 15 8 5 8 6 17"/>
<path stroke="#2ca02c" d="M183 940l4 7 5 6 4 6 4 5 3 3 2 2 2 2 2 0 2 0 3 0 2 0 2-57 2-89 2-90 2-89 3-52 2 0 2 0 2-5 2-4 3-1 2 0 2-3 2 1 1 3 10 15 10 0 10-9 10-4 9-5 10-3 10-2 10-1 10 3 10 6 9-1 10 3 10 4 10 5 10 5 10 4 10 4 9 4 10 2 10 3 10 4 10 6 10 6 9 5 10 6 10 5 10 6 10 7 10 5 9 2 10 1 10 1 10 0 10-1 10-1 9-4 10-5 10-4 10-5 10-6 10-6 9-8 7-4 4-3 4-3 4-3 3-2 4-3 4-5 4-4 4-5 3-7 4-10 4-13 4-15 4-16 4-9 3 0 4 1 4 2 4 2 4 3 4 4 3 3 4 3 4 3 4 4 4 6 4 5 3 3 4 3 4 3 4 5 10 8 10 6 9 7 10 7 10 8 10 7 10 6 10 7 9 9 10 8 10 9 10 7 10 6 10 7 9 6 10 4 10 4 10 6 10 3 10 2 9 5 10 9 10 11 10 12 10 13 10 14 9 15 10 10 10 9 10 9 10 7 10 5 10 4 9 5 10 4 10 4 10 2 10 4 3 2 14 3 14 3 15 3 14 4 14 3 14 3 14 4 15 3 14 3 14 3 14 3 15 3 14 3 14 3 14 4 14 2 15 2 14 3 14 2 14 2 14 2 15 2 14 3 14 3 14 2 14 2 15 1 14 2 14 2 14 1 15 2 14 1 14 1 14 1 14 1 15 1 14 1 14 0 14 1 14 1 15 1 14 2 14 2 15 5 5 5 6 10"/>
<path stroke="#2ca02c" d="M183 894l4 16 5 16 4 15 4 14 3 6 2 6 2 4 2 0 2 0 3 0 2 0 2-90 2-95 2-94 2-95 3-95 2-94 2-37 2-8 2-4 3-3 2-3 2-1 2 2 1 4 10 20 10 0 10-12 10-7 9-5 10-4 10-2 10-2 10 2 10 7 9-1 10 6 10 9 10 7 10 7 10 9 10 7 9 5 10 4 10 4 10 7 10 8 10 10 9 8 10 9 10 12 10 11 10 7 10 8 9 6 10 3 10 0 10 0 10-1 10 0 9 1 10 0 10-4 10-3 10-2 10-2 9-6 7-7 4-6 4-6 4-6 3-7 4-10 4-10 4-11 4-14 3-20 4-21 4-21 4-20 4-19 4-10 3 1 4 2 4 6 4 11 4 13 4 14 3 14 4 13 4 12 4 13 4 11 4 6 3 4 4 5 4 5 4 4 10 10 10 8 9 8 10 9 10 7 10 11 10 11 10 11 9 12 10 12 10 10 10 9 10 10 10 10 9 9 10 7 10 7 10 5 10 3 10 6 9 10 10 10 10 13 10 16 10 18 10 18 9 17 10 14 10 11 10 10 10 8 10 8 10 6 9 7 10 6 10 5 10 4 10 3 3 0 14 6 14 5 15 4 14 5 14 5 14 6 14 6 15 4 14 5 14 5 14 4 15 5 14 4 14 5 14 5 14 3 15 4 14 4 14 5 14 3 14 4 15 3 14 3 14 4 14 3 14 2 15 2 14 3 14 3 14 3 15 1 14 1 14 2 14 1 14 1 15 2 14 1 14 1 14 1 14 2 15 1 14 2 14 2 15 7 5 8 6 18"/>
<path stroke="#2ca02c" stroke-width="6" d="M183 960l4 3 5 2 4 2 4 2 3 1 2 0 2 1 2 0 2 0 3 0 2 0 2-53 2-70 2 0 2 0 3 0 2 0 2 0 2-2 2 0 3-1 2 1 2 1 2-1 1 1 10 8 10 1 10-4 10-2 9-2 10-2 10-4 10-1 10 1 10 1 9 1 10 1 10 1 10 1 10 1 10 3 10 1 9-1 10 0 10 2 10 2 10 1 10 1 9 0 10-1 10-1 10-1 10 0 10 0 9 1 10 0 10-2 10-2 10-3 10-3 9-4 10-4 10-4 10-5 10-7 10-7 9-9 7-8 4-5 4-6 4-4 3-4 4-2 4-3 4-2 4 1 3-1 4-2 4 0 4-1 4-1 4 0 3 0 4 0 4 1 4 1 4 0 4 0 3 2 4 2 4 0 4 0 4 0 4 2 3 1 4 0 4 2 4 2 10 4 10 2 9 1 10 2 10 3 10 2 10 2 10 4 9 5 10 6 10 3 10 2 10 4 10 2 9 1 10 5 10 4 10 5 10 4 10 3 9 3 10 4 10 5 10 4 10 4 10 5 9 5 10 5 10 5 10 2 10 3 10 4 10 4 9 3 10 3 10 3 10 1 10 2 3 1 14 4 14 4 15 3 14 2 14 2 14 2 14 2 15 2 14 2 14 1 14-1 15 2 14 1 14 1 14 1 14 1 15 1 14 0 14 2 14 2 14 2 15 1 14 1 14 2 14 0 14 1 15 1 14 1 14 1 14-1 15 0 14 0 14 1 14 2 14 0 15 0 14 0 14 1 14 3 14 0 15 0 14 0 14 0 15 2 5 1 6 5"/>
<path stroke="#17becf" d="M183 948l4 5 5 5 4 4 4 4 3 2 2 2 2 1 2 0 2 0 3 0 2 0 2-67 2-90 2-60 2 0 3 0 2 0 2 0 2-2 2-2 3-1 2 2 2 1 2 0 1 0 10 10 10 3 10-5 10-5 9-2 10-2 10-4 10-1 10 1 10 3 9 1 10 2 10 3 10 2 10 3 10 3 10 2 9 2 10 1 10 2 10 2 10 2 10 2 9 5 10 4 10 0 10 2 10 4 10 3 9 1 10 0 10-1 10-2 10-4 10-4 9-4 10-6 10-7 10-7 10-7 10-7 9-9 7-5 4-4 4-5 4-5 3-6 4-6 4-7 4-11 4-11 3-13 4-16 4-17 4-17 4-18 4-14 3-1 4 5 4 7 4 7 4 8 4 9 3 11 4 10 4 7 4 6 4 5 4 5 3 4 4 4 4 2 4 4 10 7 10 5 9 6 10 6 10 5 10 4 10 7 10 7 9 6 10 8 10 6 10 5 10 4 10 3 9 3 10 3 10 4 10 2 10 2 10 3 9 3 10 6 10 9 10 11 10 13 10 14 9 14 10 11 10 10 10 7 10 5 10 5 10 3 9 2 10 3 10 2 10 2 10 2 3 1 14 2 14 3 15 2 14 1 14 3 14 3 14 2 15 2 14 3 14 2 14 1 15 1 14 1 14 2 14 2 14 1 15 2 14 2 14 2 14 1 14 1 15 2 14 2 14 1 14 1 14 0 15 1 14 2 14 1 14 1 15 1 14 0 14 1 14 1 14 1 15 1 14 1 14 1 14 1 14 0 15 0 14 1 14 1 15 3 5 4 6 5"/>
<path stroke="#e377c2" stroke-width="6" d="M183 958l4 2 5 3 4 3 4 2 3 1 2 1 2 1 2 0 2 0 3 0 2-23 2-73 2 0 2 0 2 0 3 0 2 0 2 0 2-2 2-1 3-1 2 1 2 0 2 1 1-1 10 4 10 1 10-5 10-3 9-2 10-1 10 0 10 0 10 0 10 0 9 1 10 2 10 0 10 2 10 3 10-1 10 0 9 3 10 1 10-1 10-1 10 2 10 3 9 2 10 0 10 0 10 2 10-1 10 1 9 1 10 1 10-1 10-1 10 0 10-1 9-2 10-1 10-2 10-3 10-3 10-1 9-3 7-4 4-3 4-2 4-1 3 0 4-3 4-4 4-4 4 0 3 0 4-2 4 0 4-1 4-1 4-2 3-1 4 3 4 0 4-1 4 0 4 2 3 1 4 3 4 1 4 0 4 0 4 1 3-1 4 0 4 2 4 1 10 2 10 3 9 2 10 3 10 3 10 0 10 2 10 3 9 5 10 3 10 3 10 2 10 2 10 2 9 2 10 3 10 3 10 1 10 2 10 2 9 0 10 2 10 3 10 1 10 2 10 2 9 2 10 1 10 3 10 2 10 0 10 1 10 1 9 2 10 4 10 2 10 2 10 0 3-1 14 1 14 1 15 3 14 3 14 0 14 0 14 1 15 1 14 2 14 2 14 0 15-1 14 1 14 0 14 0 14 2 15 1 14 2 14 2 14-1 14 0 15 1 14 3 14 0 14 2 14 2 15 0 14-1 14 0 14 1 15 0 14 1 14 1 14 1 14 0 15 0 14 0 14 0 14 1 14 1 15 1 14 0 14 2 15 1 5 1 6 3"/>
<path stroke="#1f77b4" stroke-width="5" d="M183 890l4 17 5 17 4 16 4 14 3 7 2 5 2 5 2 0 2 0 3 0 2-5 2-91 2-91 2-91 2-92 3-91 2-91 2-91 2-91 2-88 3-10 2-5 2-1 2 4 1 2 10 23 10 0 10-14 10-5 9-5 10-5 10-4 10-2 10 3 10 8 9-2 10 9 10 11 10 9 10 9 10 8 10 10 9 10 10 7 10 6 10 8 10 9 10 12 9 14 10 14 10 15 10 14 10 12 10 9 9 7 10 4 10 4 10 4 10 2 10 2 9 4 10 0 10-3 10-1 10 0 10 0 9-2 7-4 4-2 4-3 4-3 3-1 4-4 4-6 4-8 4-11 3-19 4-19 4-16 4-19 4-18 4-9 3 2 4 5 4 6 4 7 4 11 4 9 3 10 4 10 4 9 4 10 4 10 4 7 3 5 4 5 4 5 4 3 10 14 10 13 9 9 10 9 10 12 10 13 10 15 10 14 9 14 10 13 10 15 10 13 10 8 10 9 9 13 10 12 10 11 10 10 10 4 10 3 9 10 10 12 10 17 10 19 10 14 10 14 9 15 10 12 10 11 10 10 10 8 10 9 10 8 9 7 10 7 10 8 10 8 10 5 3 1 14 7 14 7 15 6 14 7 14 6 14 5 14 7 15 6 14 5 14 6 14 7 15 6 14 6 14 5 14 6 14 6 15 5 14 6 14 4 14 6 14 5 15 4 14 4 14 4 14 5 14 3 15 4 14 4 14 3 14 2 15 1 14 1 14 3 14 2 14 3 15 3 14 1 14 0 14 2 14 2 15 2 14 2 14 3 15 9 5 12 6 23"/>
<path stroke="#7f7f7f" d="M183 923l4 10 5 10 4 9 4 9 3 4 2 3 2 3 2 0 2 0 3 0 2 0 2-80 2-90 2-89 2-90 3-89 2-50 2 0 2-8 2-5 3-1 2 0 2-2 2 0 1 1 10 16 10 2 10-6 10-2 9-7 10-6 10-3 10-2 10 1 10 6 9 0 10 6 10 8 10 6 10 7 10 7 10 4 9 1 10 5 10 8 10 7 10 4 10 5 9 6 10 8 10 10 10 8 10 6 10 6 9 5 10 2 10 1 10 0 10-2 10-2 9-2 10-2 10-2 10-4 10-5 10-3 9-4 7-7 4-4 4-6 4-5 3-6 4-7 4-10 4-12 4-11 3-16 4-19 4-19 4-19 4-18 4-11 3-1 4 5 4 8 4 7 4 10 4 15 3 12 4 11 4 11 4 9 4 10 4 5 3 3 4 5 4 6 4 6 10 8 10 9 9 9 10 6 10 6 10 8 10 10 10 11 9 9 10 7 10 8 10 8 10 8 10 8 9 7 10 7 10 7 10 6 10 3 10 2 9 6 10 10 10 13 10 14 10 15 10 15 9 13 10 12 10 11 10 9 10 7 10 6 10 6 9 6 10 4 10 4 10 4 10 3 3 2 14 5 14 4 15 4 14 4 14 4 14 5 14 3 15 4 14 4 14 3 14 4 15 5 14 4 14 3 14 2 14 4 15 4 14 3 14 3 14 4 14 2 15 4 14 3 14 3 14 3 14 1 15 2 14 3 14 2 14 0 15 2 14 2 14 1 14 1 14 2 15 1 14 1 14 1 14 1 14 1 15 2 14 1 14 2 15 6 5 7 6 14"/>
<path stroke="#2ca02c" d="M183 957l4 3 5 3 4 3 4 2 3 1 2 1 2 1 2 0 2 0 3 0 2 0 2-51 2-91 2-7 2 0 3 0 2 0 2 0 2-3 2-1 3 1 2 1 2 0 2 0 1 0 10 10 10 2 10-5 10-4 9-2 10-1 10-2 10-1 10 1 10 2 9 1 10 2 10 1 10 2 10 2 10 1 10 1 9 0 10 1 10 1 10 2 10 2 10 2 9 2 10 2 10 1 10 3 10 2 10 1 9 1 10-1 10-1 10-2 10-4 10-4 9-6 10-8 10-8 10-6 10-8 10-9 9-11 7-8 4-4 4-4 4-5 3-6 4-7 4-11 4-10 4-11 3-15 4-18 4-20 4-19 4-20 4-12 3 0 4 4 4 8 4 10 4 10 4 10 3 11 4 9 4 8 4 8 4 6 4 6 3 6 4 5 4 3 4 2 10 7 10 6 9 5 10 3 10 4 10 5 10 6 10 6 9 6 10 4 10 3 10 4 10 3 10 4 9 3 10 2 10 3 10 1 10 2 10 4 9 4 10 5 10 8 10 9 10 12 10 13 9 14 10 10 10 10 10 7 10 5 10 3 10 4 9 2 10 2 10 2 10 2 10 2 3 0 14 2 14 2 15 2 14 1 14 2 14 1 14 2 15 2 14 2 14 1 14 1 15 2 14 1 14 2 14 0 14 1 15 2 14 1 14 0 14 1 14 2 15 1 14 1 14 1 14 1 14 1 15 1 14 0 14 1 14 1 15 2 14 1 14 0 14 0 14 1 15 0 14 1 14 1 14 1 14 0 15 1 14 1 14 0 15 2 5 2 6 5"/>
<path stroke="#ff7f0e" d="M183 903l4 15 5 14 4 13 4 12 3 5 2 5 2 4 2 0 2 0 3 0 2 0 2-69 2-88 2-89 2-88 3-88 2-55 2 0 2-6 2-3 3-2 2-3 2-1 2 3 1 2 10 15 10-1 10-10 10-5 9-2 10-3 10-3 10-2 10 2 10 6 9-2 10 5 10 7 10 7 10 6 10 6 10 6 9 5 10 4 10 4 10 4 10 6 10 6 9 6 10 8 10 7 10 7 10 8 10 6 9 3 10 2 10 2 10 1 10-2 10 0 9-3 10-5 10-2 10-2 10-3 10-3 9-10 7-8 4-2 4-2 4-6 3-8 4-8 4-8 4-10 4-12 3-17 4-19 4-20 4-22 4-21 4-10 3 1 4 7 4 7 4 9 4 11 4 12 3 15 4 12 4 8 4 8 4 7 4 7 3 7 4 5 4 3 4 2 10 9 10 9 9 10 10 7 10 6 10 6 10 12 10 10 9 9 10 9 10 7 10 8 10 7 10 7 9 8 10 7 10 8 10 5 10 3 10 3 9 6 10 10 10 13 10 13 10 16 10 15 9 14 10 12 10 12 10 9 10 6 10 6 10 6 9 5 10 6 10 5 10 2 10 2 3 1 14 6 14 4 15 4 14 4 14 4 14 5 14 4 15 4 14 3 14 4 14 3 15 4 14 4 14 2 14 3 14 3 15 4 14 3 14 3 14 3 14 4 15 3 14 3 14 2 14 2 14 3 15 2 14 2 14 2 14 1 15 2 14 1 14 2 14 2 14 1 15 2 14 0 14 2 14 1 14 1 15 1 14 1 14 2 15 6 5 7 6 13"/>
<path stroke="#e377c2" d="M183 926l4 9 5 10 4 8 4 8 3 4 2 3 2 3 2 0 2 0 3 0 2 0 2-87 2-100 2-100 2-45 3 0 2 0 2 0 2-7 2-4 3-1 2 0 2 0 2 2 1 2 10 14 10 0 10-8 10-4 9-2 10-4 10-4 10 0 10 2 10 4 9 0 10 2 10 5 10 5 10 5 10 6 10 3 9 2 10 2 10 2 10 3 10 4 10 4 9 5 10 6 10 6 10 6 10 6 10 3 9 1 10 1 10 0 10 1 10-2 10-4 9-4 10-3 10-4 10-7 10-7 10-6 9-7 7-5 4-3 4-6 4-6 3-3 4-4 4-7 4-9 4-11 3-16 4-19 4-18 4-18 4-20 4-12 3 0 4 5 4 7 4 6 4 9 4 11 3 10 4 9 4 7 4 8 4 8 4 6 3 4 4 3 4 5 4 3 10 7 10 8 9 8 10 5 10 5 10 7 10 7 10 7 9 7 10 9 10 8 10 6 10 5 10 7 9 4 10 4 10 4 10 4 10 4 10 3 9 4 10 7 10 10 10 11 10 13 10 15 9 15 10 11 10 9 10 8 10 7 10 5 10 4 9 4 10 3 10 4 10 3 10 3 3 0 14 4 14 3 15 3 14 3 14 4 14 2 14 3 15 3 14 3 14 3 14 3 15 2 14 3 14 3 14 2 14 2 15 2 14 2 14 3 14 2 14 2 15 2 14 2 14 3 14 1 14 1 15 2 14 1 14 1 14 2 15 3 14 1 14 1 14 0 14 2 15 1 14 0 14 0 14 2 14 1 15 0 14 2 14 1 15 4 5 4 6 10"/>
<path stroke="#bcbd22" d="M183 925l4 10 5 9 4 9 4 8 3 4 2 3 2 3 2 0 2 0 3 0 2-35 2-103 2-103 2-100 2-6 3 0 2 0 2 0 2-4 2-2 3-2 2 0 2-1 2 1 1 2 10 14 10-1 10-7 10-4 9-4 10-2 10-2 10-2 10 1 10 4 9 0 10 5 10 5 10 5 10 4 10 3 10 3 9 2 10 3 10 3 10 2 10 3 10 7 9 8 10 6 10 4 10 3 10 5 10 4 9 4 10 0 10-1 10 0 10-1 10-1 9-2 10-4 10-7 10-6 10-6 10-5 9-6 7-6 4-4 4-5 4-5 3-5 4-6 4-8 4-8 4-10 3-14 4-16 4-16 4-18 4-18 4-10 3 0 4 4 4 4 4 6 4 8 4 10 3 10 4 8 4 7 4 8 4 6 4 5 3 4 4 4 4 3 4 4 10 9 10 8 9 7 10 6 10 6 10 6 10 7 10 8 9 9 10 8 10 8 10 6 10 6 10 6 9 4 10 5 10 5 10 3 10 2 10 4 9 6 10 8 10 10 10 13 10 13 10 13 9 13 10 12 10 10 10 8 10 5 10 5 10 5 9 4 10 3 10 3 10 4 10 4 3 0 14 3 14 4 15 2 14 3 14 3 14 4 14 3 15 3 14 2 14 3 14 3 15 3 14 3 14 3 14 3 14 1 15 2 14 3 14 3 14 2 14 3 15 1 14 2 14 3 14 1 14 2 15 2 14 2 14 0 14 2 15 2 14 1 14 1 14 0 14 1 15 1 14 1 14 1 14 0 14 2 15 1 14 1 14 2 15 4 5 6 6 10"/>
<path stroke="#ff7f0e" d="M183 935l4 7 5 8 4 7 4 6 3 3 2 3 2 2 2 0 2 0 3 0 2 0 2-82 2-104 2-104 2-64 3 0 2 0 2 0 2-5 2-4 3-2 2-2 2 0 2 4 1 2 10 13 10 1 10-9 10-5 9-2 10-1 10-1 10-3 10-1 10 4 9 1 10 4 10 5 10 5 10 4 10 2 10 3 9 4 10 4 10 2 10 2 10 5 10 5 9 4 10 6 10 6 10 5 10 6 10 5 9 2 10-1 10-1 10 1 10-2 10-3 9-2 10-3 10-5 10-5 10-6 10-6 9-8 7-7 4-3 4-5 4-4 3-3 4-5 4-10 4-10 4-11 3-16 4-19 4-19 4-19 4-18 4-10 3 2 4 4 4 4 4 7 4 12 4 11 3 8 4 7 4 10 4 10 4 7 4 7 3 7 4 3 4 2 4 3 10 9 10 7 9 6 10 7 10 8 10 6 10 7 10 8 9 8 10 8 10 8 10 6 10 5 10 7 9 6 10 4 10 6 10 5 10 1 10 2 9 4 10 8 10 11 10 12 10 15 10 15 9 13 10 10 10 9 10 9 10 6 10 6 10 5 9 4 10 4 10 4 10 4 10 2 3 0 14 5 14 3 15 3 14 4 14 4 14 3 14 3 15 3 14 2 14 2 14 3 15 3 14 3 14 2 14 3 14 3 15 2 14 3 14 3 14 2 14 2 15 2 14 3 14 2 14 2 14 1 15 1 14 2 14 1 14 2 15 2 14 1 14 1 14 1 14 0 15 1 14 2 14 1 14 1 14 1 15 0 14 1 14 2 15 4 5 6 6 10"/>
<path stroke="#9467bd" stroke-width="6" d="M183 964l4 1 5 2 4 1 4 1 3 1 2 1 2 0 2 0 2 0 3 0 2 0 2-68 2-21 2 0 2 0 3 0 2 0 2 0 2-2 2-1 3 2 2 0 2-2 2-1 1 2 10 4 10-1 10-6 10-4 9-1 10 0 10-1 10-2 10 2 10 3 9 2 10 1 10-2 10 1 10 1 10 1 10 2 9 1 10 0 10 0 10 1 10 2 10 1 9 2 10 3 10 3 10 0 10 0 10-1 9 0 10 1 10-2 10 0 10 1 10 0 9-1 10-2 10 0 10-1 10-2 10-2 9-1 7-1 4-1 4-4 4-3 3-2 4 0 4-3 4-2 4-1 3-1 4 1 4 0 4-3 4-2 4 1 3-2 4 0 4 1 4 1 4 2 4 0 3-1 4 1 4 1 4 1 4 2 4 1 3 0 4 1 4 0 4 0 10 3 10 2 9 1 10 1 10 2 10 2 10 3 10 2 9 2 10 3 10 4 10 4 10 2 10 1 9 0 10 3 10 1 10 1 10 3 10 4 9-1 10 0 10 3 10 3 10 1 10 0 9 1 10 1 10 1 10 0 10 2 10 2 10 1 9 1 10 3 10 2 10 0 10-1 3 0 14 3 14 0 15-1 14 1 14 3 14 1 14 1 15 0 14 1 14 2 14 1 15 1 14 0 14-1 14 2 14 1 15 1 14 1 14 1 14 1 14 0 15-2 14 0 14 3 14 2 14 0 15 0 14 2 14 1 14-1 15-1 14 2 14 4 14 0 14-1 15-1 14 0 14 0 14 0 14 0 15 0 14 0 14 1 15 0 5 3 6 4"/>
<path stroke="#7f7f7f" d="M183 934l4 8 5 7 4 8 4 6 3 3 2 3 2 2 2 0 2 0 3 0 2-24 2-88 2-89 2-89 2-87 3-9 2 0 2 0 2-8 2-5 3 0 2-1 2 0 2 3 1 1 10 15 10 0 10-8 10-4 9-2 10-3 10-3 10 0 10 1 10 3 9-1 10 4 10 5 10 5 10 6 10 5 10 3 9 2 10 2 10 4 10 2 10 6 10 6 9 6 10 7 10 6 10 5 10 5 10 3 9 4 10 2 10-2 10-1 10-1 10-1 9-2 10-4 10-4 10-4 10-6 10-8 9-7 7-5 4-2 4-1 4-5 3-6 4-6 4-5 4-4 4-8 3-11 4-14 4-15 4-16 4-18 4-10 3 1 4 4 4 5 4 4 4 6 4 6 3 7 4 6 4 7 4 6 4 6 4 5 3 4 4 2 4 3 4 5 10 9 10 8 9 6 10 6 10 6 10 8 10 10 10 8 9 7 10 6 10 6 10 8 10 8 10 7 9 5 10 3 10 5 10 7 10 4 10 2 9 5 10 9 10 11 10 12 10 15 10 14 9 14 10 11 10 10 10 8 10 7 10 5 10 4 9 5 10 4 10 4 10 4 10 3 3 1 14 4 14 4 15 4 14 3 14 3 14 3 14 3 15 3 14 4 14 3 14 3 15 4 14 2 14 3 14 3 14 3 15 2 14 2 14 2 14 3 14 2 15 2 14 3 14 3 14 3 14 2 15 1 14 2 14 1 14 2 15 1 14 1 14 2 14 1 14 1 15 1 14 1 14 1 14 1 14 1 15 1 14 2 14 1 15 4 5 5 6 12"/>
<path stroke="#bcbd22" stroke-width="6" d="M183 958l4 3 5 2 4 3 4 2 3 1 2 1 2 1 2 0 2 0 3 0 2 0 2-64 2-53 2 0 2 0 3 0 2 0 2 0 2 0 2-1 3-2 2-1 2 1 2 1 1 1 10 9 10 0 10-5 10-5 9-3 10 0 10-1 10-1 10 1 10 2 9 0 10-1 10 0 10 1 10 2 10 3 10 2 9 0 10 1 10-1 10-1 10 3 10 2 9 0 10-1 10 0 10 0 10-1 10 0 9 1 10 0 10-2 10-2 10-4 10-3 9-2 10-4 10-5 10-4 10-4 10-5 9-9 7-8 4-5 4-4 4-2 3-3 4-3 4-4 4-3 4-1 3-1 4 1 4-1 4-2 4-1 4 0 3 0 4 1 4 1 4 2 4 1 4 1 3 1 4-1 4-1 4 4 4 2 4 1 3-1 4 0 4 3 4 1 10 0 10 1 9 5 10 2 10 1 10 3 10 5 10 3 9 3 10 5 10 2 10 1 10 5 10 4 9 2 10 1 10 4 10 6 10 4 10 2 9 4 10 3 10 5 10 4 10 3 10 5 9 6 10 2 10 2 10 4 10 5 10 3 10 3 9 2 10 3 10 2 10 1 10 0 3 3 14 5 14 1 15 2 14 3 14 2 14 2 14 3 15 0 14 0 14 2 14 4 15 2 14-2 14 1 14 1 14 1 15 3 14 1 14 0 14 0 14 0 15 1 14 1 14 1 14-1 14 2 15 2 14 1 14-1 14 1 15 3 14 0 14 0 14 1 14 0 15 1 14-1 14 0 14 1 14 2 15 1 14 2 14 1 15 2 5 3 6 3"/>
<path stroke="#9467bd" d="M183 936l4 8 5 7 4 6 4 7 3 2 2 3 2 2 2 0 2 0 3 0 2-3 2-90 2-90 2-91 2-23 3 0 2 0 2 0 2-4 2-2 3-2 2-2 2 0 2 1 1 2 10 13 10 1 10-7 10-4 9-4 10-3 10 0 10 0 10 0 10 3 9 1 10 3 10 3 10 4 10 5 10 3 10 3 9 3 10 1 10 2 10 3 10 5 10 4 9 3 10 5 10 4 10 3 10 5 10 3 9 3 10 1 10 0 10-1 10-3 10-4 9-3 10-5 10-7 10-6 10-6 10-7 9-9 7-5 4-4 4-4 4-5 3-5 4-6 4-9 4-9 4-9 3-13 4-19 4-19 4-18 4-18 4-9 3 0 4 3 4 5 4 6 4 10 4 11 3 11 4 10 4 7 4 5 4 7 4 5 3 5 4 5 4 4 4 2 10 6 10 7 9 8 10 6 10 6 10 8 10 7 10 7 9 8 10 7 10 7 10 4 10 5 10 5 9 5 10 5 10 4 10 4 10 3 10 3 9 4 10 6 10 10 10 11 10 13 10 14 9 15 10 12 10 9 10 7 10 5 10 4 10 4 9 4 10 4 10 4 10 3 10 3 3 0 14 3 14 2 15 3 14 2 14 3 14 3 14 3 15 3 14 3 14 2 14 2 15 2 14 3 14 2 14 2 14 2 15 2 14 2 14 2 14 2 14 2 15 2 14 2 14 2 14 2 14 2 15 1 14 1 14 1 14 1 15 1 14 2 14 0 14 1 14 1 15 1 14 2 14 1 14 0 14 0 15 1 14 2 14 2 15 4 5 3 6 9"/>
<path stroke="#ff7f0e" d="M183 934l4 8 5 7 4 7 4 7 3 3 2 3 2 2 2 0 2 0 3 0 2 0 2-53 2-97 2-96 2-96 3-87 2-2 2 0 2-6 2-4 3-1 2 0 2-1 2 0 1 1 10 16 10 0 10-9 10-4 9-6 10-4 10-2 10 1 10 2 10 5 9 1 10 4 10 6 10 6 10 6 10 6 10 5 9 2 10 2 10 3 10 6 10 6 10 7 9 6 10 6 10 5 10 5 10 7 10 8 9 6 10 1 10 0 10 0 10-2 10-2 9-2 10-4 10-3 10-5 10-5 10-5 9-8 7-6 4-2 4-4 4-3 3-2 4-3 4-5 4-7 4-7 3-11 4-12 4-10 4-14 4-18 4-10 3 0 4 0 4 1 4 4 4 6 4 4 3 7 4 7 4 5 4 5 4 6 4 3 3 4 4 6 4 5 4 2 10 8 10 8 9 7 10 5 10 8 10 10 10 10 10 9 9 9 10 7 10 8 10 9 10 7 10 5 9 7 10 7 10 6 10 4 10 2 10 3 9 6 10 9 10 13 10 12 10 13 10 15 9 13 10 12 10 11 10 9 10 6 10 7 10 5 9 4 10 4 10 4 10 3 10 3 3 2 14 4 14 5 15 4 14 3 14 4 14 4 14 3 15 3 14 4 14 3 14 4 15 3 14 3 14 3 14 3 14 2 15 3 14 2 14 3 14 3 14 3 15 2 14 2 14 3 14 3 14 3 15 1 14 2 14 2 14 1 15 1 14 2 14 2 14 1 14 1 15 1 14 1 14 1 14 1 14 1 15 1 14 1 14 2 15 5 5 6 6 12"/>
<path stroke="#d62728" stroke-width="6" d="M183 960l4 2 5 2 4 3 4 2 3 1 2 0 2 1 2 0 2 0 3 0 2 0 2-79 2-46 2 0 2 0 3 0 2 0 2 0 2-2 2 1 3 0 2-1 2 1 2 1 1 0 10 9 10 1 10-5 10-5 9-3 10-2 10-1 10-1 10 0 10 2 9 2 10 1 10 0 10 1 10 2 10 2 10 1 9 1 10 0 10 0 10 0 10 1 10 1 9 0 10 1 10 1 10-1 10 0 10-1 9-1 10-1 10-3 10-3 10-1 10 0 9-4 10-6 10-5 10-6 10-7 10-9 9-9 7-6 4-3 4-5 4-5 3-4 4-3 4-3 4-4 4-3 3 0 4 1 4 0 4-1 4 0 4-1 3 0 4 0 4 0 4 2 4 1 4 2 3 2 4-1 4 0 4 1 4 1 4 2 3 2 4 1 4 0 4 2 10 4 10 1 9 0 10 1 10 4 10 4 10 4 10 4 9 5 10 3 10 2 10 3 10 3 10 4 9 4 10 4 10 3 10 4 10 4 10 3 9 4 10 5 10 4 10 3 10 7 10 8 9 5 10 3 10 1 10 4 10 4 10 2 10 4 9 6 10 2 10 1 10 2 10 3 3 2 14 1 14 2 15 4 14 3 14 2 14 2 14 2 15 0 14 2 14 3 14 2 15 3 14 1 14-1 14 2 14 1 15 1 14 1 14 1 14 0 14 1 15 3 14 2 14 1 14 2 14-1 15 0 14 1 14 2 14 0 15-1 14 1 14 1 14 1 14 2 15 1 14 1 14-1 14-1 14 2 15 1 14 2 14 1 15-1 5 1 6 5"/>
<path stroke="#1f77b4" d="M183 920l4 11 5 10 4 10 4 9 3 4 2 4 2 3 2 0 2 0 3 0 2 0 2-56 2-107 2-107 2-105 3-9 2 0 2 0 2-6 2-2 3 0 2-2 2-2 2 1 1 3 10 16 10 2 10-10 10-7 9-3 10 0 10-2 10-2 10-1 10 5 9 2 10 3 10 2 10 6 10 7 10 6 10 2 9 0 10 5 10 5 10 2 10 2 10 5 9 8 10 7 10 4 10 5 10 7 10 6 9 2 10 1 10 2 10 0 10-5 10-2 9-2 10-5 10-6 10-4 10-4 10-5 9-7 7-5 4-3 4-5 4-5 3-3 4-6 4-7 4-8 4-11 3-14 4-16 4-18 4-17 4-17 4-11 3-1 4 3 4 6 4 8 4 9 4 8 3 9 4 9 4 8 4 8 4 9 4 6 3 3 4 4 4 4 4 4 10 8 10 7 9 6 10 5 10 7 10 8 10 8 10 9 9 8 10 10 10 8 10 5 10 5 10 6 9 7 10 7 10 4 10 3 10 4 10 4 9 4 10 8 10 12 10 13 10 14 10 12 9 13 10 11 10 10 10 9 10 7 10 6 10 4 9 4 10 4 10 4 10 3 10 3 3 1 14 4 14 3 15 3 14 4 14 3 14 3 14 3 15 3 14 4 14 4 14 3 15 3 14 3 14 2 14 3 14 4 15 2 14 3 14 3 14 2 14 2 15 2 14 3 14 3 14 1 14 1 15 2 14 3 14 2 14 1 15 1 14 1 14 2 14 0 14 2 15 1 14 1 14 1 14 1 14 1 15 1 14 1 14 2 15 5 5 5 6 10"/>
<path stroke="#7f7f7f" d="M183 895l4 16 5 16 4 14 4 14 3 6 2 6 2 4 2 0 2 0 3 0 2 0 2-85 2-99 2-98 2-99 3-98 2-98 2-17 2-5 2-5 3-6 2-3 2-1 2 1 1 2 10 22 10 0 10-12 10-5 9-6 10-5 10-2 10-2 10 2 10 7 9 0 10 7 10 8 10 9 10 7 10 6 10 5 9 4 10 6 10 5 10 8 10 11 10 9 9 8 10 9 10 10 10 8 10 7 10 8 9 5 10 2 10 1 10 1 10-1 10 0 9 0 10-2 10-4 10-2 10-3 10-2 9-3 7-7 4-6 4-6 4-7 3-8 4-8 4-11 4-11 4-12 3-20 4-23 4-20 4-18 4-18 4-10 3 2 4 0 4 3 4 10 4 15 4 15 3 15 4 13 4 13 4 12 4 11 4 5 3 3 4 6 4 5 4 3 10 12 10 11 9 6 10 6 10 10 10 11 10 12 10 13 9 11 10 9 10 9 10 10 10 10 10 9 9 6 10 8 10 9 10 8 10 4 10 3 9 6 10 11 10 14 10 18 10 18 10 16 9 14 10 12 10 12 10 11 10 10 10 9 10 7 9 5 10 5 10 4 10 5 10 5 3 1 14 6 14 5 15 4 14 5 14 5 14 5 14 4 15 4 14 5 14 5 14 5 15 5 14 4 14 4 14 5 14 4 15 3 14 4 14 5 14 4 14 3 15 2 14 3 14 4 14 3 14 3 15 2 14 2 14 3 14 2 15 2 14 2 14 1 14 2 14 2 15 2 14 1 14 1 14 1 14 1 15 2 14 2 14 1 15 7 5 8 6 17"/>
<path stroke="#2ca02c" stroke-width="6" d="M183 960l4 2 5 2 4 3 4 2 3 1 2 0 2 1 2 0 2 0 3 0 2 0 2-56 2-46 2 0 2 0 3 0 2 0 2 0 2 0 2-2 3-2 2 1 2 0 2 1 1 3 10 5 10-3 10-4 10-2 9-3 10-3 10 0 10 1 10 2 10 2 9 1 10-1 10 0 10 0 10 1 10 1 10 0 9 1 10 1 10 1 10 3 10 0 10-1 9-1 10 2 10 4 10 1 10-2 10 0 9 1 10 0 10-2 10-3 10-1 10 0 9-1 10-2 10-4 10-5 10-3 10-2 9-7 7-5 4-2 4-2 4-2 3-4 4-3 4-2 4-3 4-1 3-1 4-1 4-1 4-1 4-2 4 0 3 2 4 1 4-1 4 2 4 0 4 0 3 1 4 2 4 0 4-1 4 1 4 3 3 1 4 0 4 0 4 0 10 2 10 2 9 3 10 4 10 2 10 1 10 2 10 3 9 3 10 5 10 4 10 2 10 4 10 2 9 3 10 2 10 2 10 0 10 2 10 3 9 4 10 4 10 4 10 2 10 2 10 2 9 3 10 4 10 3 10 2 10 3 10 2 10 1 9 0 10 2 10 3 10 1 10 0 3 0 14 3 14 1 15 0 14 1 14 2 14 3 14 3 15 2 14 1 14 0 14 2 15 1 14 2 14 1 14 1 14 1 15 0 14 1 14 2 14 1 14-1 15-1 14 1 14 2 14 2 14 1 15 1 14 1 14-1 14 0 15 1 14 2 14 2 14 0 14 0 15 2 14-1 14 0 14 2 14 2 15 1 14 0 14 2 15 2 5 2 6 0"/>
<path stroke="#9467bd" d="M183 922l4 11 5 10 4 9 4 9 3 4 2 3 2 3 2 0 2 0 3 0 2-7 2-104 2-104 2-103 2-104 3-25 2 0 2 0 2-6 2-1 3-1 2-4 2 0 2 2 1 0 10 15 10 2 10-9 10-6 9-2 10-2 10-3 10-3 10 2 10 6 9-1 10 3 10 7 10 8 10 5 10 2 10 3 9 5 10 4 10 4 10 6 10 9 10 7 9 5 10 7 10 6 10 6 10 5 10 6 9 7 10 2 10-1 10 1 10-2 10-2 9-2 10-3 10-4 10-6 10-5 10-4 9-6 7-5 4-4 4-5 4-5 3-5 4-5 4-6 4-9 4-12 3-15 4-20 4-17 4-18 4-20 4-11 3 1 4 5 4 7 4 10 4 9 4 9 3 9 4 10 4 9 4 8 4 7 4 4 3 7 4 6 4 2 4 3 10 7 10 7 9 8 10 8 10 7 10 8 10 10 10 9 9 9 10 9 10 10 10 8 10 6 10 7 9 6 10 7 10 7 10 7 10 3 10 3 9 5 10 8 10 12 10 14 10 14 10 16 9 15 10 10 10 9 10 9 10 7 10 6 10 4 9 3 10 5 10 5 10 4 10 3 3 1 14 5 14 4 15 4 14 3 14 4 14 3 14 4 15 4 14 5 14 3 14 3 15 4 14 3 14 3 14 4 14 4 15 3 14 2 14 3 14 3 14 2 15 2 14 3 14 2 14 3 14 2 15 2 14 2 14 2 14 2 15 2 14 1 14 2 14 0 14 2 15 1 14 2 14 1 14 1 14 0 15 1 14 1 14 2 15 6 5 6 6 13"/>
<path stroke="#7f7f7f" stroke-width="6" d="M183 956l4 3 5 3 4 3 4 3 3 1 2 1 2 1 2 0 2 0 3 0 2-10 2-102 2-5 2 0 2 0 3 0 2 0 2 0 2-4 2 0 3 0 2 0 2 1 2 2 1-1 10 7 10 1 10-5 10-3 9-4 10-3 10-1 10 1 10 2 10 2 9-1 10-1 10 0 10 3 10 1 10 0 10 1 9 1 10 0 10 0 10 1 10 3 10 1 9 1 10 0 10 1 10 1 10 0 10-3 9-1 10 1 10-1 10-3 10-2 10-2 9-4 10-4 10-3 10-4 10-7 10-6 9-10 7-7 4-3 4-5 4-5 3-1 4-2 4-4 4-3 4-1 3-1 4-4 4-2 4 1 4 0 4-1 3 1 4 1 4 0 4 1 4 2 4 0 3 0 4 2 4 1 4-1 4 0 4 3 3 1 4 1 4 2 4 1 10 2 10 1 9 1 10 2 10 4 10 2 10 4 10 5 9 2 10 1 10 3 10 4 10 4 10 3 9 3 10 3 10 4 10 6 10 3 10 2 9 4 10 4 10 4 10 7 10 6 10 3 9 2 10 5 10 4 10 3 10 2 10 4 10 3 9 2 10 3 10 2 10 2 10 4 3 2 14 4 14 3 15 2 14 1 14 3 14 2 14 1 15 1 14 1 14 3 14 1 15 1 14 2 14 1 14 1 14 1 15 1 14 0 14-1 14 1 14 2 15 0 14 1 14 3 14 2 14 1 15 0 14 1 14 1 14-1 15 1 14 0 14 1 14 1 14 1 15 1 14-1 14-1 14 2 14 2 15 0 14 1 14 1 15 0 5 2 6 3"/>
<path stroke="#2ca02c" d="M183 927l4 9 5 9 4 9 4 8 3 3 2 4 2 2 2 0 2 0 3 0 2 0 2-64 2-96 2-95 2-96 3-72 2 0 2 0 2-6 2-4 3-4 2-4 2 0 2 5 1 4 10 15 10-2 10-12 10-3 9-2 10-4 10-4 10-3 10 1 10 5 9 1 10 5 10 6 10 5 10 4 10 5 10 6 9 4 10 4 10 5 10 4 10 5 10 6 9 6 10 6 10 7 10 8 10 7 10 5 9 3 10 0 10 0 10 2 10 0 10-2 9-5 10-3 10-4 10-6 10-5 10-6 9-7 7-5 4-3 4-1 4-4 3-6 4-5 4-7 4-10 4-12 3-13 4-15 4-16 4-16 4-18 4-12 3 2 4 6 4 3 4 5 4 9 4 9 3 9 4 7 4 6 4 7 4 7 4 6 3 5 4 2 4 3 4 4 10 11 10 10 9 7 10 7 10 7 10 8 10 9 10 8 9 10 10 10 10 7 10 8 10 8 10 7 9 6 10 7 10 5 10 5 10 3 10 2 9 5 10 7 10 12 10 14 10 16 10 15 9 14 10 10 10 10 10 7 10 7 10 7 10 5 9 5 10 4 10 4 10 4 10 2 3 0 14 4 14 4 15 4 14 5 14 4 14 4 14 3 15 3 14 4 14 4 14 4 15 3 14 2 14 3 14 3 14 3 15 3 14 2 14 4 14 2 14 3 15 3 14 2 14 2 14 2 14 3 15 2 14 2 14 1 14 1 15 1 14 2 14 1 14 2 14 2 15 1 14 1 14 1 14 0 14 1 15 1 14 1 14 2 15 5 5 6 6 12"/>
<path stroke="#d62728" stroke-width="6" d="M183 960l4 2 5 2 4 3 4 2 3 1 2 0 2 1 2 0 2 0 3 0 2-10 2-84 2 0 2 0 2 0 3 0 2 0 2 0 2-2 2 0 3-1 2-1 2 2 2 2 1 1 10 2 10-3 10-4 10-2 9-2 10-1 10 0 10 0 10 1 10 0 9 0 10 0 10 2 10 2 10 1 10 1 10 1 9 1 10 0 10 2 10 2 10 0 10-1 9 0 10 1 10 3 10 2 10 1 10 2 9 2 10 0 10-3 10-3 10 0 10 0 9-2 10-1 10-2 10-2 10-2 10-1 9-4 7-2 4-3 4-4 4-2 3 0 4-1 4-5 4-2 4 1 3 0 4-2 4-3 4-1 4-1 4 0 3-1 4 0 4 1 4 1 4 2 4 2 3 2 4-1 4-1 4 1 4 3 4 1 3 0 4 1 4 1 4-1 10 0 10 3 9 2 10 1 10 2 10 2 10 4 10 5 9 4 10 2 10 1 10 2 10 3 10 2 9 4 10 1 10 1 10 4 10 2 10 1 9 2 10 0 10 1 10 2 10 3 10 3 9 2 10 0 10 0 10 3 10 2 10 1 10 3 9 1 10 0 10 0 10 0 10 3 3 1 14 1 14 2 15 1 14-2 14 1 14 2 14 3 15 1 14 1 14 2 14 1 15 1 14 0 14 2 14 1 14 2 15 2 14 0 14-1 14 0 14 2 15 1 14 0 14 0 14 0 14 1 15 2 14 1 14 0 14-1 15 2 14 1 14-1 14 1 14 1 15 1 14 2 14 1 14 0 14 0 15-1 14 1 14 2 15 1 5 1 6 2"/>
<path stroke="#2ca02c" d="M183 949l4 5 5 4 4 5 4 3 3 2 2 2 2 1 2 0 2 0 3 0 2 0 2-72 2-89 2-29 2 0 3 0 2 0 2 0 2-2 2-2 3-1 2-1 2 1 2 1 1 1 10 9 10 1 10-3 10-3 9-3 10-3 10-2 10-1 10 1 10 3 9 1 10 2 10 1 10 4 10 2 10 1 10 1 9 3 10 2 10 1 10 1 10 2 10 3 9 2 10 3 10 2 10 2 10 3 10 2 9 1 10 1 10-1 10-2 10-4 10-5 9-5 10-5 10-6 10-9 10-9 10-5 9-7 7-7 4-6 4-5 4-3 3-4 4-6 4-6 4-7 4-8 3-11 4-14 4-14 4-16 4-19 4-12 3 0 4 5 4 5 4 4 4 5 4 8 3 7 4 6 4 6 4 4 4 3 4 6 3 4 4 3 4 3 4 3 10 7 10 5 9 5 10 5 10 5 10 5 10 6 10 7 9 7 10 5 10 4 10 3 10 5 10 4 9 3 10 3 10 2 10 2 10 3 10 3 9 3 10 4 10 9 10 11 10 13 10 14 9 15 10 11 10 8 10 7 10 5 10 3 10 4 9 4 10 2 10 1 10 2 10 2 3 1 14 2 14 3 15 2 14 2 14 2 14 2 14 2 15 1 14 3 14 2 14 1 15 0 14 2 14 3 14 1 14 1 15 1 14 1 14 2 14 2 14 1 15 2 14 1 14 2 14 1 14 0 15 1 14 1 14 1 14 1 15 2 14 0 14 1 14 1 14 1 15 1 14 0 14 1 14 1 14 1 15 0 14 1 14 1 15 2 5 3 6 5"/>
<path stroke="#7f7f7f" stroke-width="5" d="M183 915l4 12 5 12 4 10 4 10 3 5 2 4 2 3 2 0 2 0 3 0 2-12 2-106 2-106 2-107 2-106 3-106 2-106 2-12 2-10 2-7 3-5 2-3 2 1 2 4 1 4 10 19 10-1 10-11 10-4 9-5 10-4 10-3 10-2 10 1 10 5 9-1 10 9 10 8 10 8 10 9 10 6 10 6 9 6 10 5 10 5 10 8 10 11 10 10 9 8 10 9 10 10 10 11 10 11 10 10 9 6 10 2 10 1 10 0 10 2 10 1 9 1 10-1 10-3 10-4 10-1 10 1 9-4 7-8 4-4 4-7 4-6 3-9 4-12 4-12 4-13 4-18 3-24 4-26 4-21 4-20 4-18 4-11 3 0 4 5 4 10 4 11 4 13 4 17 3 19 4 17 4 16 4 14 4 9 4 7 3 5 4 5 4 5 4 5 10 11 10 10 9 9 10 7 10 8 10 12 10 13 10 11 9 9 10 10 10 14 10 13 10 10 10 9 9 8 10 9 10 10 10 9 10 4 10 2 9 6 10 10 10 17 10 20 10 18 10 16 9 17 10 15 10 12 10 10 10 10 10 9 10 7 9 7 10 5 10 5 10 5 10 4 3 3 14 6 14 5 15 5 14 6 14 5 14 6 14 4 15 5 14 6 14 5 14 5 15 6 14 6 14 5 14 3 14 4 15 5 14 4 14 4 14 4 14 5 15 4 14 3 14 3 14 4 14 3 15 2 14 3 14 3 14 2 15 2 14 1 14 1 14 3 14 2 15 1 14 2 14 1 14 1 14 3 15 2 14 2 14 1 15 8 5 10 6 19"/>
<path stroke="#1f77b4" d="M183 941l4 7 5 6 4 5 4 6 3 2 2 2 2 2 2 0 2 0 3 0 2-42 2-105 2-89 2 0 2 0 3 0 2 0 2 0 2-4 2-1 3-1 2-1 2 1 2 3 1 0 10 10 10 2 10-5 10-4 9-4 10-2 10-1 10-1 10-1 10 2 9 0 10 4 10 4 10 3 10 4 10 1 10 1 9 2 10 2 10 3 10 2 10 3 10 2 9 2 10 4 10 4 10 4 10 3 10 3 9 2 10 1 10-1 10-3 10-3 10-4 9-6 10-5 10-6 10-7 10-6 10-7 9-7 7-7 4-5 4-4 4-5 3-4 4-5 4-9 4-8 4-8 3-13 4-15 4-17 4-16 4-17 4-11 3 2 4 4 4 3 4 4 4 9 4 10 3 7 4 7 4 6 4 5 4 6 4 7 3 4 4 2 4 2 4 4 10 7 10 6 9 6 10 4 10 5 10 7 10 7 10 7 9 5 10 6 10 6 10 5 10 4 10 4 9 4 10 3 10 3 10 3 10 3 10 4 9 4 10 5 10 9 10 12 10 13 10 15 9 13 10 10 10 9 10 8 10 6 10 4 10 3 9 3 10 3 10 2 10 2 10 2 3 1 14 2 14 3 15 2 14 2 14 3 14 3 14 3 15 2 14 2 14 2 14 3 15 2 14 1 14 2 14 1 14 2 15 2 14 2 14 2 14 1 14 2 15 1 14 1 14 2 14 1 14 2 15 1 14 1 14 1 14 1 15 2 14 0 14 1 14 2 14 1 15 1 14 0 14 0 14 1 14 1 15 1 14 1 14 1 15 3 5 4 6 6"/>
<path stroke="#bcbd22" d="M183 916l4 12 5 11 4 11 4 9 3 5 2 4 2 3 2 0 2 0 3 0 2-35 2-94 2-95 2-94 2-94 3-93 2-13 2 0 2-7 2-3 3-1 2-2 2-3 2 3 1 4 10 17 10-1 10-12 10-6 9-5 10-1 10-2 10-2 10 1 10 3 9-1 10 6 10 10 10 10 10 7 10 5 10 5 9 5 10 5 10 3 10 3 10 7 10 8 9 9 10 9 10 7 10 8 10 8 10 7 9 5 10 3 10 1 10-1 10-1 10-1 9 0 10-2 10-4 10-4 10-4 10-4 9-7 7-6 4-4 4-5 4-5 3-6 4-7 4-11 4-10 4-12 3-18 4-21 4-21 4-21 4-20 4-9 3 1 4 3 4 7 4 8 4 10 4 14 3 14 4 13 4 13 4 11 4 8 4 6 3 5 4 4 4 4 4 4 10 9 10 9 9 7 10 6 10 10 10 12 10 10 10 9 9 10 10 9 10 10 10 10 10 7 10 8 9 9 10 7 10 5 10 5 10 4 10 5 9 5 10 9 10 13 10 15 10 15 10 16 9 14 10 12 10 12 10 10 10 7 10 5 10 6 9 6 10 4 10 4 10 6 10 5 3 1 14 4 14 4 15 5 14 5 14 5 14 4 14 4 15 4 14 4 14 4 14 4 15 3 14 5 14 4 14 4 14 3 15 4 14 3 14 3 14 3 14 4 15 4 14 2 14 2 14 2 14 3 15 3 14 2 14 1 14 2 15 1 14 2 14 2 14 1 14 2 15 2 14 1 14 1 14 1 14 1 15 1 14 2 14 2 15 6 5 7 6 15"/>
<path stroke="#e377c2" d="M183 945l4 5 5 6 4 5 4 4 3 3 2 2 2 1 2 0 2 0 3 0 2 0 2-82 2-92 2-14 2 0 3 0 2 0 2 0 2-2 2-1 3 0 2-2 2-1 2 3 1 2 10 9 10 3 10-4 10-6 9-5 10-1 10-2 10 1 10 1 10 3 9 1 10 3 10 2 10 2 10 3 10 1 10 1 9 1 10 2 10 2 10 1 10 2 10 2 9 2 10 3 10 2 10 2 10 2 10 3 9 1 10 0 10-1 10-2 10-4 10-4 9-6 10-7 10-6 10-6 10-8 10-7 9-9 7-6 4-4 4-4 4-5 3-5 4-6 4-6 4-5 4-8 3-12 4-12 4-13 4-15 4-17 4-11 3-1 4 1 4 4 4 4 4 5 4 8 3 6 4 7 4 6 4 4 4 3 4 4 3 4 4 3 4 4 4 2 10 7 10 7 9 4 10 5 10 5 10 4 10 6 10 6 9 7 10 6 10 5 10 4 10 4 10 4 9 2 10 2 10 3 10 2 10 2 10 2 9 4 10 7 10 8 10 11 10 12 10 14 9 13 10 11 10 10 10 7 10 5 10 5 10 3 9 2 10 2 10 3 10 2 10 1 3 1 14 3 14 2 15 2 14 2 14 2 14 2 14 2 15 3 14 2 14 1 14 2 15 1 14 1 14 1 14 2 14 1 15 1 14 2 14 2 14 2 14 1 15 1 14 2 14 1 14 1 14 1 15 1 14 1 14 1 14 1 15 0 14 1 14 0 14 1 14 1 15 1 14 1 14 0 14 0 14 0 15 1 14 2 14 1 15 2 5 3 6 5"/>
<path stroke="#ff7f0e" stroke-width="6" d="M183 959l4 3 5 2 4 2 4 3 3 0 2 1 2 1 2 0 2 0 3 0 2 0 2-73 2-39 2 0 2 0 3 0 2 0 2 0 2-1 2-1 3 1 2 1 2-1 2 2 1 1 10 4 10-2 10-5 10-3 9-2 10-1 10-1 10-1 10 1 10 3 9 0 10 0 10 1 10-1 10 1 10 3 10 2 9 0 10 1 10 1 10 0 10 1 10 2 9 2 10 0 10-1 10 0 10 2 10-1 9-3 10-1 10-2 10-1 10-1 10-1 9-1 10-2 10-5 10-6 10-4 10-6 9-9 7-5 4-2 4-4 4-4 3-3 4-2 4-2 4-2 4-3 3-2 4 1 4 0 4-1 4-2 4 0 3 1 4 0 4 1 4 2 4 0 4 2 3 1 4-1 4 0 4 1 4 2 4 0 3 1 4 3 4 1 4-1 10 2 10 2 9 2 10 2 10 3 10 2 10 2 10 4 9 4 10 2 10 2 10 5 10 3 10 2 9 3 10 2 10 5 10 4 10 3 10 4 9 4 10 4 10 2 10 2 10 4 10 4 9 4 10 1 10 3 10 4 10 2 10 3 10 1 9 2 10 3 10 2 10 3 10 2 3 0 14 4 14 3 15 2 14 2 14 3 14 1 14 1 15 3 14 2 14 1 14 1 15 3 14 0 14 1 14 2 14 0 15 0 14 2 14 0 14 2 14 3 15 0 14-1 14 1 14 1 14-1 15 0 14 2 14 1 14 0 15 0 14 1 14 0 14 0 14 0 15 1 14-1 14 0 14 2 14 2 15 0 14 0 14 1 15 2 5 2 6 3"/>
<path stroke="#7f7f7f" d="M183 934l4 8 5 7 4 8 4 6 3 3 2 3 2 2 2 0 2 0 3 0 2 0 2-94 2-94 2-85 2-1 3 0 2 0 2 0 2-5 2-3 3-2 2-2 2 1 2 4 1 1 10 10 10 0 10-6 10-4 9-4 10-1 10-1 10-1 10 1 10 2 9 0 10 3 10 4 10 4 10 3 10 3 10 3 9 3 10 2 10 1 10 2 10 4 10 5 9 5 10 4 10 3 10 4 10 3 10 4 9 3 10 0 10-2 10-3 10-1 10-2 9-5 10-5 10-6 10-9 10-7 10-5 9-6 7-6 4-4 4-4 4-3 3-2 4-4 4-6 4-4 4-5 3-10 4-11 4-12 4-15 4-17 4-11 3 0 4 3 4 4 4 3 4 4 4 5 3 5 4 5 4 5 4 6 4 4 4 2 3 1 4 3 4 4 4 4 10 7 10 5 9 6 10 7 10 5 10 6 10 8 10 7 9 6 10 6 10 6 10 6 10 5 10 3 9 5 10 5 10 4 10 3 10 2 10 1 9 4 10 7 10 10 10 11 10 13 10 15 9 14 10 10 10 10 10 9 10 5 10 4 10 3 9 4 10 3 10 3 10 2 10 3 3 1 14 4 14 2 15 3 14 3 14 3 14 2 14 2 15 4 14 3 14 2 14 2 15 2 14 3 14 2 14 2 14 2 15 2 14 2 14 1 14 2 14 2 15 1 14 2 14 2 14 1 14 1 15 1 14 2 14 2 14 1 15 0 14 2 14 2 14 1 14 0 15 0 14 1 14 1 14 1 14 1 15 1 14 1 14 1 15 3 5 4 6 7"/>
<path stroke="#1f77b4" stroke-width="6" d="M183 957l4 3 5 3 4 3 4 2 3 1 2 1 2 1 2 0 2 0 3 0 2-11 2-88 2-2 2 0 2 0 3 0 2 0 2 0 2-1 2-1 3 0 2-1 2 0 2 2 1 1 10 5 10 0 10-7 10-5 9-1 10 0 10 0 10 2 10 1 10 2 9 0 10 1 10 2 10 2 10-1 10-2 10 0 9 1 10 1 10 1 10 0 10 0 10 2 9 2 10 1 10 1 10 2 10 2 10-1 9 0 10-1 10 0 10-2 10-2 10-1 9-2 10-2 10-3 10-2 10-2 10-2 9-5 7-5 4-4 4-4 4-2 3 0 4-2 4 0 4-1 4-3 3-2 4-1 4 0 4-3 4-4 4 0 3 2 4 2 4 2 4 0 4-1 4 0 3 0 4 3 4 2 4-1 4 1 4 1 3 1 4 1 4 0 4 1 10 3 10 1 9 2 10 2 10 2 10 3 10 4 10 4 9 2 10 1 10 2 10 3 10 3 10 1 9 3 10 3 10 3 10 2 10 2 10 3 9 2 10 3 10 2 10 1 10 2 10 4 9 2 10 2 10 1 10 3 10 4 10 1 10 1 9 2 10 2 10 2 10-1 10 0 3 1 14 3 14 3 15 4 14 1 14-3 14 1 14 1 15 2 14 3 14 1 14-1 15 0 14 3 14 2 14-1 14 1 15 2 14 1 14 1 14 3 14 0 15 0 14 1 14 1 14 2 14 0 15 0 14 1 14 1 14 1 15 0 14 1 14 3 14 1 14-1 15-2 14 1 14 2 14 0 14-1 15 2 14 1 14 0 15 2 5 2 6 3"/>
<path stroke="#ff7f0e" d="M183 911l4 13 5 12 4 12 4 10 3 5 2 5 2 3 2 0 2 0 3 0 2 0 2-85 2-103 2-103 2-103 3-103 2-51 2 0 2-8 2-6 3-4 2-2 2-1 2 2 1 2 10 17 10 3 10-8 10-6 9-6 10-5 10-2 10 0 10 2 10 5 9-2 10 4 10 8 10 9 10 8 10 7 10 5 9 3 10 6 10 6 10 6 10 6 10 7 9 9 10 9 10 9 10 9 10 6 10 6 9 7 10 3 10-1 10 1 10 2 10 1 9 0 10-2 10-5 10-4 10-4 10-4 9-4 7-5 4-5 4-6 4-7 3-7 4-9 4-10 4-10 4-13 3-20 4-21 4-18 4-20 4-20 4-11 3 1 4 5 4 6 4 8 4 14 4 16 3 13 4 9 4 11 4 12 4 9 4 7 3 6 4 4 4 5 4 7 10 10 10 8 9 7 10 7 10 7 10 9 10 11 10 10 9 10 10 12 10 10 10 6 10 8 10 10 9 10 10 8 10 7 10 5 10 2 10 3 9 8 10 11 10 15 10 15 10 15 10 17 9 15 10 13 10 12 10 9 10 8 10 7 10 7 9 6 10 5 10 3 10 5 10 5 3 0 14 4 14 6 15 5 14 4 14 4 14 4 14 5 15 4 14 5 14 4 14 5 15 4 14 4 14 3 14 5 14 4 15 4 14 4 14 3 14 4 14 4 15 2 14 2 14 3 14 3 14 3 15 2 14 2 14 2 14 2 15 2 14 2 14 2 14 2 14 1 15 1 14 1 14 1 14 2 14 1 15 0 14 2 14 2 15 7 5 7 6 16"/>
<path stroke="#bcbd22" d="M183 915l4 12 5 12 4 10 4 10 3 5 2 4 2 3 2 0 2 0 3 0 2 0 2-60 2-98 2-99 2-98 3-68 2 0 2 0 2-5 2-5 3-2 2-1 2-2 2 1 1 4 10 18 10 1 10-10 10-5 9-3 10-2 10-3 10-2 10 2 10 4 9-2 10 3 10 7 10 7 10 5 10 6 10 5 9 3 10 3 10 3 10 4 10 5 10 7 9 6 10 6 10 6 10 6 10 6 10 6 9 3 10 1 10 2 10 0 10-1 10-3 9-3 10-4 10-5 10-4 10-4 10-5 9-6 7-7 4-4 4-3 4-4 3-7 4-7 4-8 4-10 4-14 3-18 4-19 4-17 4-19 4-21 4-11 3 1 4 5 4 8 4 11 4 12 4 11 3 10 4 11 4 9 4 8 4 8 4 6 3 6 4 5 4 3 4 3 10 11 10 8 9 6 10 5 10 7 10 8 10 9 10 9 9 9 10 8 10 7 10 9 10 7 10 7 9 8 10 8 10 4 10 2 10 3 10 2 9 5 10 10 10 15 10 15 10 14 10 12 9 13 10 12 10 11 10 7 10 7 10 5 10 5 9 5 10 5 10 4 10 4 10 3 3 1 14 4 14 4 15 5 14 3 14 3 14 5 14 3 15 3 14 3 14 4 14 3 15 3 14 3 14 3 14 3 14 3 15 3 14 3 14 3 14 2 14 2 15 3 14 2 14 3 14 2 14 2 15 3 14 2 14 1 14 1 15 2 14 1 14 1 14 1 14 1 15 2 14 0 14 2 14 1 14 0 15 1 14 2 14 2 15 6 5 6 6 11"/>
<path stroke="#1f77b4" d="M183 947l4 5 5 5 4 5 4 4 3 2 2 2 2 1 2 0 2 0 3 0 2-7 2-107 2-55 2 0 2 0 3 0 2 0 2 0 2-1 2-2 3-1 2-1 2 1 2 2 1 1 10 8 10 0 10-6 10-4 9-2 10-2 10-1 10-1 10 1 10 4 9 0 10 1 10 2 10 4 10 2 10 0 10 1 9 2 10 2 10 2 10 2 10 3 10 2 9 1 10 1 10 2 10 2 10 2 10 2 9 1 10 0 10-1 10-2 10-4 10-6 9-5 10-6 10-7 10-7 10-8 10-7 9-8 7-7 4-7 4-6 4-5 3-6 4-7 4-10 4-11 4-12 3-15 4-19 4-20 4-18 4-19 4-12 3 0 4 5 4 7 4 9 4 11 4 11 3 13 4 11 4 8 4 7 4 6 4 4 3 6 4 6 4 2 4 3 10 7 10 5 9 5 10 4 10 4 10 5 10 5 10 6 9 6 10 5 10 4 10 3 10 2 10 4 9 5 10 3 10 2 10 2 10 3 10 3 9 3 10 5 10 7 10 10 10 13 10 15 9 15 10 10 10 8 10 7 10 5 10 4 10 4 9 2 10 2 10 3 10 2 10 1 3 0 14 2 14 3 15 2 14 2 14 2 14 3 14 1 15 1 14 3 14 2 14 1 15 1 14 2 14 2 14 1 14 1 15 2 14 2 14 1 14 0 14 1 15 2 14 1 14 1 14 1 14 1 15 1 14 1 14 0 14 1 15 1 14 2 14 0 14 0 14 0 15 1 14 1 14 1 14 1 14 0 15 0 14 2 14 0 15 3 5 2 6 5"/>
<path stroke="#e377c2" d="M183 927l4 10 5 9 4 8 4 8 3 3 2 4 2 2 2 0 2 0 3 0 2-50 2-102 2-103 2-103 2-101 3-7 2 0 2 0 2-6 2-3 3-4 2-5 2-1 2 4 1 5 10 16 10 0 10-10 10-5 9-3 10-3 10-3 10-2 10 3 10 5 9-3 10 4 10 7 10 8 10 7 10 5 10 3 9 4 10 5 10 6 10 5 10 7 10 7 9 6 10 5 10 7 10 8 10 7 10 6 9 4 10 0 10 0 10-1 10-1 10 0 9-2 10-2 10-4 10-5 10-5 10-6 9-5 7-5 4-4 4-6 4-6 3-2 4-3 4-7 4-9 4-11 3-16 4-17 4-15 4-18 4-19 4-11 3 0 4 4 4 6 4 6 4 9 4 13 3 11 4 8 4 7 4 8 4 7 4 6 3 5 4 3 4 4 4 5 10 11 10 8 9 8 10 7 10 7 10 8 10 8 10 10 9 10 10 10 10 8 10 8 10 9 10 7 9 6 10 7 10 6 10 5 10 3 10 2 9 5 10 9 10 13 10 15 10 16 10 13 9 13 10 11 10 11 10 9 10 7 10 6 10 5 9 5 10 4 10 4 10 4 10 3 3 2 14 6 14 3 15 2 14 4 14 5 14 4 14 4 15 3 14 3 14 4 14 4 15 4 14 4 14 4 14 4 14 3 15 3 14 3 14 2 14 3 14 3 15 3 14 2 14 3 14 3 14 2 15 2 14 2 14 2 14 1 15 2 14 2 14 1 14 2 14 1 15 1 14 1 14 1 14 1 14 1 15 1 14 1 14 2 15 6 5 7 6 13"/>
<path stroke="#d62728" d="M183 955l4 3 5 4 4 3 4 3 3 1 2 1 2 1 2 0 2 0 3 0 2 0 2-69 2-72 2 0 2 0 3 0 2 0 2 0 2-2 2-2 3 1 2 0 2 0 2 2 1 1 10 9 10 0 10-5 10-3 9-1 10-3 10-2 10 1 10 1 10 1 9 1 10 2 10 1 10 2 10 2 10 1 10 1 9 1 10 1 10 0 10 1 10 1 10 2 9 2 10 1 10 1 10 2 10 2 10 2 9 0 10 0 10-1 10-2 10-4 10-6 9-6 10-7 10-6 10-6 10-9 10-9 9-11 7-8 4-3 4-3 4-6 3-8 4-8 4-9 4-10 4-12 3-15 4-17 4-20 4-20 4-21 4-12 3 1 4 4 4 6 4 8 4 13 4 12 3 8 4 9 4 9 4 8 4 9 4 6 3 4 4 3 4 3 4 3 10 6 10 6 9 5 10 6 10 4 10 5 10 5 10 4 9 5 10 7 10 6 10 3 10 3 10 2 9 2 10 3 10 3 10 2 10 2 10 3 9 3 10 5 10 7 10 11 10 12 10 13 9 14 10 11 10 7 10 8 10 5 10 3 10 2 9 2 10 2 10 3 10 2 10 2 3 0 14 2 14 1 15 2 14 2 14 2 14 2 14 1 15 2 14 1 14 1 14 1 15 1 14 1 14 2 14 1 14 1 15 2 14 1 14 1 14 2 14 1 15-1 14 1 14 2 14 1 14 1 15 1 14 1 14 1 14 0 15 0 14 1 14 1 14 1 14 1 15 0 14 0 14 1 14 0 14 0 15 1 14 1 14 1 15 2 5 2 6 4"/>
<path stroke="#17becf" d="M183 932l4 8 5 8 4 8 4 7 3 3 2 3 2 2 2 0 2 0 3 0 2 0 2-98 2-105 2-106 2-106 3-20 2 0 2 0 2-6 2-3 3-1 2-1 2-1 2 3 1 2 10 14 10 0 10-9 10-5 9-5 10-2 10-2 10-2 10 1 10 4 9 0 10 4 10 5 10 8 10 8 10 5 10 3 9 6 10 5 10 3 10 3 10 5 10 7 9 7 10 7 10 6 10 5 10 7 10 6 9 2 10 0 10 2 10 1 10-2 10-4 9-3 10-3 10-3 10-5 10-5 10-4 9-6 7-6 4-2 4-3 4-5 3-6 4-6 4-5 4-7 4-11 3-17 4-17 4-17 4-19 4-19 4-12 3 0 4 5 4 7 4 7 4 9 4 10 3 10 4 9 4 10 4 9 4 5 4 4 3 5 4 4 4 5 4 4 10 8 10 9 9 6 10 5 10 8 10 9 10 8 10 9 9 10 10 9 10 8 10 7 10 9 10 6 9 6 10 6 10 6 10 5 10 4 10 3 9 4 10 8 10 13 10 14 10 14 10 15 9 14 10 11 10 11 10 9 10 6 10 5 10 6 9 5 10 5 10 4 10 2 10 3 3 1 14 5 14 3 15 4 14 4 14 4 14 3 14 3 15 4 14 3 14 2 14 4 15 4 14 3 14 4 14 3 14 3 15 3 14 3 14 3 14 3 14 2 15 4 14 2 14 2 14 3 14 1 15 3 14 2 14 1 14 2 15 1 14 1 14 2 14 1 14 1 15 2 14 1 14 1 14 1 14 1 15 1 14 1 14 1 15 6 5 6 6 13"/>
<path stroke="#bcbd22" d="M183 941l4 7 5 6 4 6 4 5 3 2 2 2 2 2 2 0 2 0 3 0 2-40 2-89 2-88 2-52 2 0 3 0 2 0 2 0 2-5 2-2 3 1 2-1 2 0 2 2 1 0 10 10 10 1 10-5 10-4 9-3 10-3 10-2 10-1 10 1 10 4 9 2 10 3 10 3 10 2 10 4 10 3 10 4 9 2 10 2 10 3 10 2 10 3 10 3 9 5 10 4 10 1 10 5 10 5 10 2 9 1 10 2 10 0 10-1 10-4 10-5 9-5 10-3 10-6 10-7 10-7 10-6 9-8 7-5 4-3 4-4 4-5 3-3 4-3 4-5 4-6 4-6 3-8 4-11 4-14 4-13 4-15 4-9 3 0 4 0 4 1 4 1 4 3 4 7 3 6 4 4 4 5 4 5 4 3 4 2 3 2 4 5 4 3 4 3 10 8 10 6 9 6 10 6 10 5 10 5 10 9 10 9 9 7 10 6 10 6 10 5 10 4 10 4 9 4 10 4 10 4 10 4 10 2 10 2 9 5 10 8 10 8 10 11 10 13 10 15 9 14 10 10 10 9 10 7 10 6 10 4 10 4 9 3 10 4 10 2 10 3 10 4 3 1 14 2 14 3 15 3 14 3 14 2 14 2 14 2 15 3 14 2 14 3 14 3 15 1 14 1 14 3 14 2 14 2 15 2 14 2 14 1 14 2 14 2 15 1 14 2 14 2 14 1 14 2 15 1 14 1 14 2 14 1 15 2 14 1 14 0 14 1 14 1 15 1 14 1 14 1 14 1 14 0 15 1 14 1 14 1 15 3 5 4 6 7"/>
<path stroke="#8c564b" d="M183 949l4 4 5 5 4 4 4 4 3 2 2 2 2 1 2 0 2 0 3 0 2-8 2-96 2-59 2 0 2 0 3 0 2 0 2 0 2-3 2-2 3 0 2 1 2-1 2 1 1 1 10 9 10 1 10-5 10-3 9-2 10-2 10-1 10-1 10 0 10 3 9 2 10 1 10 2 10 1 10 2 10 1 10 1 9 2 10 1 10 0 10 2 10 2 10 3 9 2 10 2 10 1 10 1 10 2 10 3 9 1 10 0 10-1 10-2 10-4 10-6 9-6 10-7 10-7 10-7 10-8 10-8 9-9 7-8 4-3 4-4 4-7 3-6 4-4 4-9 4-11 4-14 3-15 4-17 4-18 4-18 4-20 4-11 3 2 4 4 4 5 4 8 4 12 4 10 3 10 4 9 4 10 4 7 4 4 4 5 3 4 4 4 4 5 4 3 10 5 10 5 9 6 10 6 10 4 10 4 10 5 10 7 9 6 10 5 10 3 10 4 10 3 10 3 9 3 10 3 10 2 10 2 10 3 10 2 9 3 10 6 10 9 10 9 10 12 10 16 9 15 10 10 10 9 10 8 10 5 10 3 10 3 9 2 10 3 10 3 10 1 10 2 3 0 14 2 14 1 15 2 14 2 14 2 14 3 14 3 15 1 14 2 14 1 14 1 15 2 14 2 14 2 14 0 14 1 15 1 14 2 14 1 14 2 14 1 15 1 14 1 14 1 14 2 14 0 15 0 14 1 14 2 14 1 15 1 14 0 14 0 14 1 14 1 15 0 14 1 14 0 14 0 14 1 15 1 14 1 14 0 15 3 5 2 6 5"/>
<path stroke="#7f7f7f" stroke-width="5" d="M183 908l4 13 5 13 4 12 4 12 3 5 2 4 2 4 2 0 2 0 3 0 2-32 2-107 2-107 2-106 2-107 3-107 2-77 2 0 2-10 2-6 3-2 2-1 2-1 2 4 1 3 10 17 10 0 10-11 10-6 9-8 10-6 10-2 10 0 10 4 10 6 9-3 10 4 10 11 10 11 10 8 10 6 10 4 9 6 10 6 10 5 10 7 10 10 10 12 9 10 10 8 10 9 10 11 10 9 10 9 9 7 10 3 10 3 10 3 10 0 10 0 9-1 10-1 10 0 10-2 10-5 10-4 9-4 7-7 4-5 4-5 4-9 3-11 4-9 4-10 4-14 4-17 3-21 4-23 4-21 4-23 4-20 4-12 3 1 4 4 4 7 4 12 4 17 4 17 3 15 4 14 4 14 4 14 4 11 4 9 3 5 4 4 4 5 4 5 10 10 10 10 9 10 10 11 10 9 10 8 10 9 10 10 9 11 10 14 10 13 10 10 10 9 10 11 9 10 10 8 10 9 10 9 10 4 10 2 9 8 10 11 10 15 10 16 10 19 10 18 9 16 10 13 10 12 10 11 10 10 10 9 10 7 9 7 10 5 10 5 10 4 10 4 3 2 14 6 14 6 15 5 14 5 14 6 14 5 14 4 15 5 14 5 14 6 14 6 15 5 14 5 14 5 14 4 14 4 15 3 14 5 14 5 14 3 14 4 15 3 14 4 14 3 14 4 14 3 15 2 14 3 14 2 14 2 15 2 14 3 14 2 14 2 14 1 15 1 14 1 14 2 14 1 14 1 15 2 14 2 14 3 15 7 5 10 6 18"/>
<path stroke="#2ca02c" d="M183 904l4 15 5 13 4 13 4 12 3 5 2 5 2 4 2 0 2 0 3 0 2 0 2-89 2-101 2-101 2-101 3-88 2-1 2 0 2-7 2-5 3-1 2 0 2 0 2 2 1 2 10 17 10-1 10-10 10-6 9-3 10 0 10-1 10-4 10 0 10 6 9-1 10 3 10 8 10 8 10 6 10 4 10 4 9 2 10 5 10 5 10 5 10 7 10 8 9 8 10 8 10 8 10 7 10 6 10 6 9 4 10-1 10 0 10 1 10 0 10-1 9-2 10-1 10-3 10-6 10-6 10-4 9-5 7-6 4-4 4-4 4-5 3-5 4-9 4-11 4-11 4-17 3-21 4-20 4-20 4-22 4-21 4-11 3 0 4 6 4 8 4 12 4 15 4 16 3 15 4 12 4 9 4 10 4 9 4 7 3 6 4 6 4 4 4 4 10 9 10 8 9 6 10 6 10 9 10 11 10 11 10 11 9 8 10 9 10 9 10 8 10 8 10 8 9 5 10 4 10 8 10 7 10 3 10 2 9 7 10 9 10 12 10 13 10 16 10 15 9 14 10 11 10 10 10 9 10 7 10 7 10 6 9 5 10 5 10 5 10 3 10 2 3 1 14 5 14 4 15 4 14 5 14 3 14 4 14 4 15 5 14 3 14 4 14 4 15 3 14 5 14 3 14 4 14 2 15 3 14 3 14 4 14 3 14 3 15 3 14 3 14 2 14 3 14 3 15 2 14 1 14 3 14 2 15 2 14 1 14 2 14 1 14 1 15 1 14 1 14 1 14 2 14 0 15 1 14 2 14 2 15 6 5 7 6 13"/>
<path stroke="#bcbd22" d="M183 921l4 11 5 10 4 10 4 8 3 5 2 3 2 3 2 0 2 0 3 0 2 0 2-101 2-107 2-106 2-107 3-104 2-6 2 0 2-7 2-5 3-3 2-5 2-1 2 4 1 3 10 18 10 2 10-9 10-6 9-6 10-4 10-2 10-3 10 1 10 6 9 1 10 5 10 7 10 7 10 6 10 6 10 5 9 3 10 4 10 4 10 6 10 7 10 8 9 8 10 8 10 8 10 8 10 8 10 9 9 6 10 2 10 0 10 0 10 0 10 0 9-1 10-2 10-5 10-5 10-1 10-2 9-5 7-7 4-5 4-6 4-7 3-7 4-6 4-7 4-10 4-15 3-19 4-20 4-19 4-16 4-19 4-14 3 0 4 6 4 7 4 7 4 10 4 15 3 16 4 12 4 11 4 8 4 6 4 7 3 7 4 4 4 5 4 6 10 9 10 6 9 7 10 9 10 10 10 9 10 10 10 11 9 10 10 8 10 11 10 10 10 7 10 7 9 7 10 8 10 8 10 7 10 4 10 4 9 6 10 9 10 13 10 16 10 17 10 15 9 14 10 12 10 10 10 11 10 9 10 7 10 6 9 6 10 4 10 4 10 4 10 4 3 1 14 5 14 4 15 4 14 5 14 6 14 3 14 4 15 5 14 5 14 5 14 4 15 4 14 4 14 3 14 3 14 4 15 5 14 3 14 4 14 3 14 3 15 2 14 3 14 3 14 3 14 2 15 3 14 1 14 3 14 2 15 1 14 2 14 1 14 2 14 2 15 1 14 1 14 1 14 1 14 0 15 2 14 2 14 3 15 6 5 7 6 14"/>
<path stroke="#e377c2" d="M183 938l4 7 5 7 4 6 4 6 3 3 2 2 2 2 2 0 2 0 3 0 2-46 2-105 2-104 2-105 2-37 3 0 2 0 2 0 2-5 2-3 3-3 2-1 2 0 2 2 1 0 10 14 10 1 10-8 10-3 9-5 10-4 10-2 10-1 10 0 10 5 9 0 10 4 10 4 10 6 10 5 10 4 10 4 9 5 10 2 10 3 10 4 10 6 10 7 9 5 10 6 10 7 10 5 10 4 10 5 9 6 10 2 10-1 10 0 10-1 10-1 9-3 10-5 10-4 10-4 10-5 10-7 9-7 7-6 4-2 4-3 4-5 3-3 4-4 4-4 4-4 4-8 3-9 4-13 4-14 4-15 4-17 4-9 3 1 4 1 4 1 4 3 4 7 4 7 3 7 4 5 4 5 4 7 4 5 4 4 3 3 4 2 4 2 4 5 10 8 10 7 9 7 10 8 10 7 10 7 10 9 10 9 9 8 10 7 10 8 10 9 10 6 10 6 9 6 10 5 10 6 10 5 10 2 10 1 9 6 10 9 10 11 10 13 10 15 10 14 9 14 10 11 10 10 10 7 10 6 10 6 10 5 9 4 10 4 10 4 10 4 10 3 3 0 14 4 14 4 15 4 14 3 14 3 14 4 14 3 15 4 14 3 14 2 14 3 15 4 14 3 14 4 14 4 14 3 15 3 14 2 14 2 14 2 14 3 15 3 14 2 14 3 14 2 14 2 15 1 14 2 14 1 14 2 15 1 14 1 14 1 14 1 14 1 15 2 14 1 14 0 14 2 14 1 15 1 14 1 14 2 15 5 5 6 6 11"/>
<path stroke="#9467bd" d="M183 919l4 11 5 11 4 10 4 9 3 4 2 4 2 3 2 0 2 0 3 0 2-9 2-96 2-96 2-96 2-96 3-45 2 0 2 0 2-5 2-5 3-3 2-1 2 0 2 1 1 1 10 15 10 3 10-9 10-5 9-3 10-1 10-5 10-4 10 1 10 5 9 1 10 5 10 8 10 7 10 7 10 4 10 3 9 3 10 3 10 4 10 4 10 6 10 8 9 8 10 6 10 6 10 7 10 7 10 5 9 2 10 2 10 2 10 0 10-2 10-2 9-3 10-3 10-4 10-6 10-5 10-3 9-7 7-6 4-3 4-5 4-6 3-5 4-5 4-8 4-11 4-11 3-15 4-18 4-18 4-17 4-16 4-12 3-1 4 5 4 8 4 6 4 6 4 10 3 12 4 9 4 10 4 10 4 6 4 5 3 6 4 5 4 4 4 2 10 9 10 9 9 9 10 7 10 5 10 8 10 9 10 10 9 8 10 8 10 9 10 9 10 9 10 7 9 5 10 5 10 5 10 7 10 4 10 3 9 5 10 8 10 13 10 13 10 15 10 15 9 14 10 11 10 10 10 10 10 6 10 5 10 5 9 5 10 4 10 4 10 3 10 4 3 0 14 4 14 4 15 5 14 3 14 4 14 5 14 4 15 3 14 4 14 3 14 3 15 4 14 4 14 4 14 3 14 3 15 3 14 2 14 3 14 2 14 3 15 3 14 2 14 2 14 3 14 2 15 1 14 2 14 1 14 1 15 2 14 2 14 1 14 1 14 2 15 1 14 1 14 1 14 1 14 0 15 1 14 2 14 2 15 6 5 6 6 12"/>
<path stroke="#1f77b4" d="M183 955l4 3 5 3 4 4 4 3 3 1 2 1 2 1 2 0 2 0 3 0 2 0 2-72 2-96 2-40 2 0 3 0 2 0 2 0 2-3 2-1 3 0 2-1 2-1 2 2 1 2 10 9 10-1 10-7 10-3 9-2 10-3 10-1 10 0 10 1 10 2 9 2 10 3 10 2 10 2 10 2 10 3 10 2 9 2 10 1 10 3 10 3 10 2 10 2 9 3 10 3 10 3 10 2 10 3 10 2 9 1 10 0 10-1 10-1 10-3 10-4 9-5 10-7 10-7 10-8 10-7 10-6 9-8 7-6 4-4 4-4 4-4 3-3 4-4 4-6 4-6 4-7 3-8 4-8 4-12 4-15 4-16 4-10 3-1 4 0 4 2 4 1 4 6 4 6 3 4 4 3 4 6 4 5 4 3 4 2 3 3 4 3 4 3 4 4 10 7 10 5 9 5 10 5 10 3 10 5 10 7 10 8 9 7 10 6 10 6 10 6 10 5 10 3 9 2 10 3 10 4 10 3 10 2 10 2 9 3 10 5 10 9 10 12 10 13 10 12 9 15 10 11 10 9 10 7 10 5 10 4 10 3 9 3 10 2 10 2 10 3 10 2 3 1 14 2 14 2 15 1 14 3 14 2 14 2 14 2 15 2 14 2 14 2 14 2 15 2 14 2 14 3 14 1 14 0 15 2 14 2 14 2 14 1 14 1 15 2 14 1 14 2 14 1 14 1 15 0 14 2 14 1 14 1 15 1 14 1 14 1 14 0 14 1 15 0 14 1 14 1 14 1 14 1 15 1 14 0 14 1 15 3 5 3 6 6"/>
<path stroke="#17becf" stroke-width="5" d="M183 900l4 15 5 15 4 13 4 13 3 6 2 5 2 4 2 0 2 0 3 0 2 0 2-84 2-89 2-88 2-89 3-88 2-89 2-88 2-89 2-88 3-36 2-1 2 1 2 2 1 5 10 23 10-2 10-14 10-5 9-5 10-7 10-5 10-1 10 2 10 6 9-1 10 7 10 11 10 15 10 13 10 7 10 6 9 7 10 7 10 7 10 9 10 13 10 11 9 14 10 15 10 11 10 10 10 14 10 14 9 7 10 3 10 3 10 3 10 1 10 1 9 2 10 2 10-1 10-1 10-2 10 0 9-1 7-2 4-4 4-4 4-3 3-2 4-4 4-6 4-6 4-12 3-20 4-21 4-18 4-21 4-17 4-9 3 3 4 6 4 5 4 7 4 12 4 13 3 13 4 10 4 8 4 9 4 9 4 9 3 7 4 7 4 4 4 5 10 11 10 10 9 12 10 9 10 8 10 13 10 15 10 11 9 14 10 16 10 14 10 11 10 10 10 12 9 12 10 10 10 10 10 12 10 5 10 2 9 5 10 11 10 19 10 19 10 18 10 16 9 13 10 12 10 12 10 9 10 8 10 7 10 7 9 8 10 8 10 5 10 6 10 5 3 4 14 8 14 4 15 4 14 6 14 8 14 6 14 6 15 7 14 6 14 7 14 6 15 7 14 6 14 5 14 5 14 6 15 5 14 5 14 4 14 5 14 5 15 4 14 5 14 5 14 3 14 3 15 4 14 3 14 4 14 2 15 2 14 3 14 3 14 2 14 2 15 2 14 1 14 1 14 1 14 2 15 2 14 2 14 2 15 10 5 11 6 23"/>
<path stroke="#2ca02c" d="M183 899l4 15 5 15 4 14 4 13 3 6 2 5 2 4 2 0 2 0 3 0 2 0 2-92 2-93 2-92 2-93 3-92 2-83 2-1 2-7 2-4 3-3 2-4 2-3 2 2 1 1 10 19 10 2 10-9 10-4 9-5 10-4 10-2 10-1 10 2 10 4 9-5 10 5 10 9 10 10 10 9 10 6 10 4 9 6 10 4 10 5 10 6 10 8 10 7 9 8 10 10 10 8 10 8 10 9 10 8 9 4 10 0 10 1 10 2 10 1 10-1 9-2 10-2 10-1 10-4 10-4 10-5 9-5 7-7 4-4 4-3 4-5 3-6 4-7 4-7 4-6 4-10 3-17 4-17 4-16 4-17 4-18 4-10 3 0 4 2 4 5 4 7 4 8 4 10 3 9 4 8 4 9 4 10 4 9 4 7 3 4 4 4 4 4 4 3 10 9 10 9 9 10 10 9 10 7 10 8 10 10 10 11 9 11 10 10 10 9 10 9 10 9 10 8 9 8 10 8 10 8 10 6 10 3 10 3 9 6 10 9 10 15 10 15 10 17 10 16 9 15 10 13 10 11 10 10 10 8 10 7 10 7 9 5 10 5 10 4 10 4 10 5 3 2 14 5 14 4 15 4 14 5 14 6 14 3 14 2 15 5 14 5 14 4 14 5 15 5 14 4 14 4 14 4 14 4 15 4 14 3 14 3 14 3 14 3 15 4 14 3 14 4 14 2 14 2 15 3 14 1 14 2 14 2 15 2 14 2 14 1 14 2 14 1 15 1 14 1 14 2 14 1 14 2 15 1 14 1 14 3 15 6 5 7 6 15"/>
<path stroke="#bcbd22" stroke-width="6" d="M183 957l4 3 5 3 4 2 4 3 3 1 2 1 2 1 2 0 2 0 3 0 2-36 2-67 2 0 2 0 2 0 3 0 2 0 2 0 2-1 2 1 3-1 2 1 2 1 2 1 1 2 10 3 10-2 10-5 10-3 9-3 10-3 10 0 10 1 10 2 10 2 9 1 10 0 10 1 10 0 10 2 10 2 10 0 9-2 10-1 10 1 10 2 10 3 10 2 9 2 10 0 10 0 10 0 10 2 10 1 9-1 10-1 10 0 10 1 10-1 10-3 9-3 10 0 10 0 10-3 10-5 10-5 9-4 7-4 4-4 4-3 4-1 3-4 4-2 4-2 4-1 4-2 3-4 4-2 4 1 4-1 4 0 4 0 3 1 4 1 4 0 4 0 4-1 4 0 3 2 4 0 4 0 4 1 4 2 4 1 3 0 4 0 4 1 4 2 10 2 10 2 9 2 10 2 10 2 10 1 10 3 10 4 9 3 10 2 10 3 10 3 10 3 10 3 9 3 10 3 10 2 10 2 10 2 10 3 9 2 10 2 10 2 10 3 10 4 10 3 9 2 10 1 10 2 10 3 10 2 10 3 10 2 9 1 10 0 10 2 10 5 10 3 3-1 14-1 14-1 15 3 14 2 14 2 14 0 14 2 15 0 14 1 14 1 14 1 15 2 14 2 14 1 14 1 14 2 15 1 14 1 14 1 14 1 14 0 15 1 14 2 14 0 14 0 14 0 15 1 14 2 14 0 14 1 15 1 14 0 14 0 14-1 14 1 15 3 14 0 14-1 14 1 14 1 15 0 14 0 14 2 15 2 5 0 6 3"/>
<path stroke="#9467bd" d="M183 945l4 5 5 6 4 5 4 4 3 3 2 2 2 1 2 0 2 0 3 0 2 0 2-59 2-94 2-95 2-83 3-2 2 0 2 0 2-3 2-3 3-2 2-2 2 0 2 3 1 3 10 13 10-1 10-7 10-4 9-3 10-3 10-1 10 0 10 1 10 3 9-2 10 3 10 5 10 3 10 5 10 4 10 4 9 3 10 1 10 2 10 4 10 4 10 5 9 5 10 5 10 5 10 6 10 3 10 2 9 3 10 2 10 0 10-1 10-2 10-2 9-5 10-7 10-5 10-4 10-6 10-7 9-7 7-5 4-3 4-3 4-5 3-5 4-5 4-5 4-6 4-6 3-9 4-13 4-16 4-15 4-16 4-11 3 0 4 2 4 3 4 4 4 7 4 7 3 7 4 6 4 5 4 4 4 6 4 6 3 3 4 4 4 3 4 2 10 10 10 9 9 5 10 5 10 6 10 8 10 8 10 7 9 8 10 7 10 7 10 6 10 6 10 5 9 6 10 5 10 3 10 4 10 3 10 3 9 5 10 7 10 12 10 12 10 13 10 13 9 13 10 13 10 10 10 8 10 5 10 5 10 4 9 4 10 4 10 3 10 3 10 3 3 1 14 3 14 2 15 3 14 3 14 4 14 3 14 3 15 3 14 3 14 3 14 3 15 3 14 2 14 2 14 2 14 3 15 3 14 2 14 2 14 2 14 2 15 2 14 2 14 2 14 2 14 1 15 1 14 2 14 2 14 2 15 1 14 1 14 1 14 1 14 1 15 0 14 1 14 2 14 1 14 0 15 2 14 1 14 0 15 4 5 5 6 10"/>
<path stroke="#8c564b" d="M183 915l4 12 5 11 4 11 4 10 3 5 2 4 2 3 2 0 2 0 3 0 2 0 2-51 2-100 2-101 2-100 3-53 2 0 2 0 2-6 2-4 3-2 2-1 2-1 2 3 1 3 10 14 10 0 10-6 10-5 9-7 10-3 10 0 10-2 10 0 10 4 9-1 10 4 10 6 10 7 10 6 10 5 10 3 9 1 10 2 10 5 10 6 10 7 10 6 9 6 10 6 10 7 10 6 10 5 10 4 9 3 10 2 10 1 10-1 10-2 10-3 9-2 10-3 10-4 10-4 10-6 10-7 9-6 7-4 4-3 4-3 4-2 3-6 4-7 4-7 4-4 4-7 3-14 4-14 4-13 4-18 4-19 4-9 3 2 4 4 4 3 4 2 4 7 4 8 3 7 4 6 4 7 4 7 4 8 4 4 3 2 4 2 4 3 4 4 10 9 10 8 9 9 10 7 10 6 10 6 10 8 10 10 9 9 10 8 10 8 10 8 10 6 10 6 9 5 10 7 10 7 10 4 10 2 10 4 9 7 10 9 10 11 10 12 10 15 10 15 9 13 10 11 10 10 10 8 10 6 10 6 10 5 9 5 10 4 10 4 10 4 10 3 3 0 14 3 14 4 15 5 14 4 14 3 14 3 14 4 15 3 14 3 14 3 14 4 15 4 14 3 14 2 14 3 14 3 15 3 14 2 14 3 14 3 14 2 15 3 14 2 14 2 14 2 14 2 15 2 14 1 14 2 14 2 15 1 14 0 14 2 14 1 14 1 15 1 14 1 14 1 14 1 14 1 15 1 14 2 14 1 15 5 5 5 6 12"/>
<path stroke="#bcbd22" d="M183 907l4 14 5 13 4 12 4 12 3 5 2 4 2 4 2 0 2 0 3 0 2 0 2-66 2-100 2-100 2-101 3-100 2-100 2-29 2-6 2-5 3-4 2-4 2-1 2 3 1 3 10 18 10 0 10-9 10-5 9-7 10-5 10-1 10-2 10-1 10 6 9 1 10 6 10 9 10 9 10 8 10 6 10 6 9 7 10 5 10 5 10 6 10 9 10 9 9 9 10 10 10 9 10 9 10 11 10 9 9 5 10 3 10 3 10 0 10-2 10-1 9-1 10 0 10 0 10-3 10-4 10-3 9-7 7-8 4-5 4-7 4-6 3-8 4-10 4-12 4-13 4-14 3-21 4-22 4-21 4-22 4-18 4-9 3-1 4 1 4 8 4 12 4 14 4 15 3 15 4 15 4 12 4 11 4 10 4 8 3 7 4 4 4 4 4 4 10 10 10 9 9 9 10 9 10 7 10 8 10 11 10 13 9 11 10 11 10 11 10 12 10 10 10 6 9 6 10 9 10 10 10 7 10 4 10 4 9 6 10 12 10 15 10 16 10 16 10 16 9 17 10 14 10 11 10 11 10 9 10 8 10 6 9 7 10 5 10 5 10 5 10 3 3 1 14 6 14 6 15 3 14 5 14 5 14 5 14 5 15 5 14 5 14 4 14 3 15 5 14 5 14 5 14 4 14 4 15 3 14 4 14 4 14 4 14 4 15 4 14 3 14 4 14 3 14 2 15 3 14 3 14 2 14 1 15 1 14 2 14 1 14 2 14 2 15 2 14 1 14 0 14 1 14 2 15 2 14 2 14 3 15 7 5 7 6 17"/>
<path stroke="#7f7f7f" d="M183 918l4 11 5 11 4 10 4 10 3 4 2 4 2 3 2 0 2 0 3 0 2 0 2-79 2-89 2-90 2-89 3-90 2-85 2-5 2-4 2-3 3-5 2-3 2 1 2 2 1 2 10 19 10 2 10-10 10-6 9-5 10-4 10-4 10-2 10 2 10 7 9-1 10 4 10 7 10 8 10 7 10 6 10 8 9 4 10 3 10 3 10 6 10 7 10 9 9 8 10 8 10 9 10 9 10 6 10 5 9 7 10 2 10 0 10 0 10-2 10 0 9-1 10-2 10-2 10-5 10-5 10-3 9-5 7-6 4-5 4-4 4-6 3-9 4-8 4-7 4-11 4-16 3-20 4-19 4-17 4-19 4-19 4-11 3 3 4 4 4 8 4 10 4 9 4 11 3 14 4 11 4 11 4 11 4 9 4 5 3 6 4 6 4 4 4 2 10 9 10 10 9 9 10 7 10 9 10 9 10 8 10 10 9 12 10 10 10 9 10 9 10 9 10 8 9 8 10 8 10 8 10 6 10 3 10 2 9 6 10 9 10 14 10 16 10 16 10 15 9 15 10 12 10 10 10 10 10 9 10 6 10 6 9 6 10 6 10 4 10 4 10 3 3 2 14 5 14 3 15 4 14 6 14 4 14 4 14 4 15 6 14 5 14 3 14 3 15 5 14 4 14 4 14 4 14 3 15 4 14 2 14 3 14 4 14 3 15 2 14 3 14 3 14 3 14 3 15 3 14 1 14 1 14 2 15 3 14 2 14 1 14 1 14 2 15 0 14 2 14 2 14 1 14 1 15 1 14 1 14 2 15 7 5 7 6 15"/>
<path stroke="#7f7f7f" stroke-width="5" d="M183 899l4 16 5 14 4 14 4 13 3 6 2 5 2 4 2 0 2 0 3 0 2-11 2-95 2-96 2-95 2-96 3-95 2-96 2-77 2-11 2-8 3-3 2-3 2-3 2 4 1 6 10 21 10-1 10-13 10-5 9-4 10-5 10-5 10-2 10 2 10 8 9-1 10 5 10 9 10 12 10 6 10 5 10 9 9 8 10 6 10 6 10 6 10 9 10 11 9 11 10 9 10 11 10 11 10 10 10 9 9 5 10 3 10 2 10 1 10 1 10 1 9 0 10-3 10-2 10 0 10-2 10-3 9-4 7-8 4-7 4-6 4-8 3-11 4-11 4-12 4-14 4-19 3-26 4-26 4-21 4-22 4-22 4-13 3-1 4 7 4 9 4 13 4 20 4 20 3 18 4 16 4 16 4 13 4 11 4 9 3 6 4 4 4 5 4 6 10 11 10 10 9 10 10 10 10 10 10 11 10 13 10 13 9 10 10 10 10 12 10 11 10 11 10 10 9 9 10 9 10 8 10 9 10 1 10 2 9 9 10 13 10 17 10 17 10 18 10 16 9 16 10 16 10 13 10 11 10 8 10 8 10 8 9 8 10 5 10 6 10 6 10 3 3 2 14 7 14 5 15 6 14 5 14 5 14 6 14 6 15 5 14 4 14 5 14 5 15 5 14 4 14 5 14 5 14 4 15 4 14 4 14 3 14 4 14 4 15 4 14 3 14 3 14 3 14 3 15 3 14 2 14 3 14 3 15 2 14 0 14 2 14 3 14 1 15 2 14 2 14 2 14 1 14 1 15 2 14 2 14 3 15 8 5 9 6 18"/>
<path stroke="#e377c2" d="M183 940l4 7 5 6 4 6 4 6 3 2 2 2 2 2 2 0 2 0 3 0 2-30 2-94 2-94 2-38 2 0 3 0 2 0 2 0 2-4 2-2 3-2 2-1 2 0 2 3 1 2 10 11 10 2 10-7 10-4 9-4 10-3 10-2 10-1 10 1 10 3 9 1 10 3 10 3 10 4 10 3 10 2 10 1 9 2 10 3 10 3 10 3 10 3 10 1 9 4 10 4 10 3 10 3 10 3 10 5 9 3 10 0 10-1 10 0 10-2 10-4 9-4 10-6 10-6 10-7 10-6 10-8 9-7 7-5 4-4 4-4 4-5 3-6 4-6 4-6 4-8 4-8 3-11 4-15 4-18 4-17 4-18 4-9 3 0 4 3 4 5 4 4 4 7 4 9 3 8 4 7 4 8 4 6 4 5 4 4 3 4 4 3 4 3 4 4 10 8 10 6 9 4 10 6 10 7 10 6 10 5 10 7 9 7 10 5 10 5 10 5 10 5 10 4 9 5 10 5 10 2 10 3 10 4 10 4 9 4 10 6 10 9 10 10 10 12 10 16 9 15 10 10 10 9 10 9 10 5 10 4 10 4 9 4 10 3 10 2 10 2 10 2 3 1 14 3 14 2 15 3 14 3 14 2 14 3 14 3 15 1 14 3 14 3 14 2 15 1 14 2 14 2 14 2 14 2 15 2 14 2 14 2 14 2 14 1 15 1 14 2 14 1 14 1 14 2 15 1 14 2 14 1 14 0 15 2 14 1 14 1 14 1 14 1 15 1 14 1 14 0 14 1 14 1 15 1 14 1 14 2 15 3 5 4 6 7"/>
<path stroke="#e377c2" stroke-width="5" d="M183 911l4 13 5 12 4 12 4 10 3 5 2 5 2 3 2 0 2 0 3 0 2-29 2-104 2-104 2-103 2-104 3-103 2-104 2-65 2-9 2-7 3-4 2-3 2-2 2 3 1 3 10 21 10 0 10-13 10-7 9-5 10-3 10-3 10-1 10 3 10 8 9-2 10 6 10 9 10 10 10 9 10 8 10 7 9 7 10 7 10 5 10 5 10 11 10 12 9 12 10 13 10 14 10 11 10 9 10 9 9 8 10 4 10 2 10 2 10 3 10 1 9 1 10 0 10-1 10-2 10-2 10-3 9-5 7-6 4-5 4-7 4-9 3-8 4-8 4-11 4-12 4-17 3-23 4-22 4-20 4-21 4-17 4-10 3-2 4 3 4 8 4 10 4 15 4 17 3 16 4 15 4 14 4 12 4 9 4 5 3 7 4 5 4 4 4 5 10 13 10 9 9 8 10 10 10 11 10 13 10 12 10 13 9 13 10 11 10 12 10 12 10 10 10 11 9 12 10 8 10 8 10 9 10 7 10 4 9 7 10 12 10 16 10 16 10 19 10 18 9 16 10 13 10 13 10 12 10 10 10 10 10 7 9 6 10 5 10 7 10 6 10 4 3 1 14 7 14 6 15 6 14 6 14 6 14 5 14 6 15 7 14 6 14 4 14 6 15 6 14 5 14 5 14 5 14 5 15 5 14 5 14 3 14 5 14 5 15 4 14 3 14 5 14 3 14 3 15 2 14 3 14 2 14 2 15 2 14 2 14 3 14 2 14 1 15 1 14 1 14 2 14 1 14 2 15 2 14 3 14 2 15 9 5 9 6 21"/>
<path stroke="#9467bd" stroke-width="6" d="M183 961l4 2 5 2 4 2 4 2 3 1 2 0 2 1 2 0 2 0 3 0 2 0 2-62 2-64 2 0 2 0 3 0 2 0 2 0 2-1 2 0 3 2 2 0 2 0 2 2 1 0 10 8 10 0 10-7 10-3 9 0 10-1 10-3 10-3 10 0 10 3 9 1 10-1 10 1 10 1 10 1 10 4 10 1 9-1 10 0 10 1 10 1 10 2 10 0 9 0 10 1 10 0 10 0 10-1 10 0 9-1 10-1 10-1 10-1 10-3 10-3 9-4 10-5 10-5 10-4 10-6 10-8 9-10 7-8 4-5 4-5 4-5 3-3 4-4 4-2 4-2 4-3 3-2 4-2 4-2 4 1 4 0 4 0 3 0 4 1 4 1 4-2 4 0 4 3 3 1 4 1 4 1 4 0 4 0 4 2 3 2 4 0 4 0 4 1 10 3 10 4 9 2 10 2 10 3 10 3 10 3 10 3 9 2 10 5 10 5 10 3 10 3 10 3 9 4 10 4 10 5 10 3 10 3 10 5 9 4 10 3 10 5 10 5 10 5 10 8 9 4 10 3 10 3 10 4 10 5 10 4 10 3 9 2 10 3 10 2 10 3 10 3 3 1 14 3 14 3 15 2 14 4 14 4 14 2 14 0 15 0 14 3 14 3 14 0 15 1 14 2 14 2 14 2 14 1 15 1 14 1 14 1 14 2 14 0 15 1 14 1 14 2 14 2 14 0 15 1 14 2 14 1 14 0 15-1 14-1 14 2 14 1 14 0 15 2 14 2 14 0 14-1 14 1 15 1 14 0 14-1 15 2 5 3 6 3"/>
<path stroke="#d62728" d="M183 950l4 5 5 4 4 4 4 4 3 1 2 2 2 1 2 0 2 0 3 0 2-42 2-103 2-55 2 0 2 0 3 0 2 0 2 0 2-3 2-3 3 0 2 0 2-1 2 1 1 1 10 11 10 1 10-5 10-3 9-2 10-2 10-2 10-2 10 2 10 2 9-1 10 2 10 2 10 2 10 3 10 2 10 2 9 1 10 2 10 2 10 2 10 3 10 3 9 2 10 4 10 3 10 1 10 2 10 3 9 1 10 1 10 0 10-1 10-4 10-5 9-6 10-6 10-6 10-6 10-8 10-9 9-8 7-6 4-3 4-4 4-4 3-5 4-5 4-8 4-9 4-8 3-11 4-14 4-15 4-17 4-18 4-10 3 2 4 2 4 3 4 4 4 6 4 9 3 8 4 8 4 7 4 4 4 3 4 4 3 6 4 4 4 3 4 2 10 7 10 6 9 5 10 4 10 3 10 6 10 7 10 7 9 6 10 5 10 5 10 4 10 4 10 3 9 3 10 2 10 3 10 4 10 3 10 3 9 3 10 6 10 9 10 10 10 12 10 15 9 15 10 12 10 9 10 6 10 5 10 4 10 2 9 3 10 3 10 3 10 2 10 1 3 1 14 3 14 1 15 3 14 2 14 3 14 2 14 2 15 1 14 3 14 2 14 1 15 2 14 1 14 2 14 2 14 1 15 1 14 2 14 2 14 1 14 1 15 2 14 1 14 1 14 1 14 1 15 1 14 1 14 1 14 1 15 1 14 1 14 1 14 1 14 1 15 1 14 0 14 0 14 2 14 1 15 0 14 0 14 1 15 3 5 4 6 5"/>
<path stroke="#17becf" d="M183 918l4 11 5 11 4 10 4 10 3 4 2 4 2 3 2 0 2 0 3 0 2 0 2-95 2-105 2-105 2-105 3-49 2 0 2 0 2-6 2-6 3-2 2 0 2-1 2 1 1 3 10 17 10 2 10-9 10-5 9-5 10-4 10-3 10-1 10 2 10 4 9-1 10 4 10 7 10 10 10 6 10 3 10 5 9 5 10 2 10 2 10 7 10 7 10 5 9 7 10 8 10 8 10 6 10 5 10 7 9 6 10 2 10 0 10-1 10-3 10-2 9-2 10-3 10-2 10-5 10-6 10-5 9-5 7-4 4-4 4-2 4-2 3-5 4-7 4-6 4-5 4-8 3-12 4-13 4-15 4-15 4-15 4-11 3 1 4 4 4 4 4 3 4 5 4 5 3 7 4 8 4 9 4 6 4 4 4 3 3 5 4 5 4 3 4 4 10 8 10 8 9 8 10 7 10 8 10 7 10 9 10 10 9 10 10 8 10 9 10 8 10 7 10 7 9 7 10 8 10 5 10 5 10 3 10 3 9 6 10 8 10 12 10 16 10 15 10 15 9 14 10 10 10 10 10 10 10 7 10 5 10 6 9 5 10 4 10 5 10 5 10 3 3 0 14 4 14 4 15 4 14 5 14 5 14 3 14 5 15 4 14 2 14 3 14 4 15 5 14 4 14 2 14 3 14 3 15 4 14 3 14 3 14 2 14 3 15 3 14 2 14 2 14 3 14 2 15 1 14 2 14 2 14 1 15 1 14 2 14 2 14 1 14 1 15 1 14 1 14 1 14 1 14 1 15 2 14 2 14 1 15 6 5 7 6 12"/>
<path stroke="#d62728" d="M183 921l4 11 5 10 4 10 4 9 3 4 2 3 2 3 2 0 2 0 3 0 2 0 2-89 2-93 2-93 2-93 3-93 2-68 2 0 2-8 2-6 3-2 2-2 2-2 2 2 1 5 10 17 10-1 10-10 10-5 9-6 10-3 10-2 10-1 10 4 10 8 9 0 10 3 10 6 10 10 10 6 10 5 10 7 9 6 10 2 10 2 10 6 10 9 10 7 9 8 10 11 10 7 10 8 10 7 10 7 9 4 10 2 10 1 10 1 10 1 10 0 9-3 10-3 10-2 10-4 10-4 10-5 9-8 7-6 4-4 4-5 4-6 3-5 4-5 4-11 4-14 4-16 3-20 4-23 4-19 4-18 4-19 4-13 3 2 4 5 4 5 4 9 4 15 4 15 3 15 4 14 4 13 4 11 4 7 4 6 3 6 4 5 4 4 4 4 10 9 10 10 9 9 10 9 10 7 10 9 10 11 10 9 9 11 10 11 10 8 10 7 10 8 10 8 9 10 10 8 10 6 10 4 10 5 10 4 9 5 10 10 10 14 10 15 10 15 10 16 9 13 10 11 10 12 10 10 10 9 10 7 10 6 9 4 10 6 10 6 10 4 10 3 3 1 14 6 14 5 15 5 14 4 14 4 14 4 14 4 15 4 14 4 14 5 14 5 15 3 14 3 14 5 14 4 14 4 15 2 14 4 14 4 14 3 14 3 15 3 14 2 14 3 14 3 14 2 15 3 14 2 14 2 14 2 15 1 14 2 14 2 14 2 14 1 15 1 14 2 14 1 14 1 14 1 15 1 14 2 14 2 15 6 5 7 6 15"/>
<path stroke="#e377c2" stroke-width="6" d="M183 955l4 3 5 3 4 4 4 3 3 1 2 1 2 1 2 0 2 0 3 0 2 0 2-88 2-26 2 0 2 0 3 0 2 0 2 0 2-3 2-4 3 1 2 2 2 1 2 1 1 0 10 7 10 1 10-4 10-4 9-3 10 0 10 0 10-2 10-2 10 0 9 2 10 2 10-1 10 1 10 1 10 1 10 1 9 2 10 2 10-1 10 0 10 1 10 1 9-1 10 1 10 0 10 1 10 1 10 0 9-1 10-2 10-1 10 0 10-2 10-4 9-5 10-1 10-3 10-6 10-5 10-4 9-8 7-8 4-3 4-4 4-3 3-3 4-5 4-5 4-1 4-1 3-1 4-1 4-1 4-2 4-1 4 1 3 0 4 1 4-1 4 2 4 3 4 0 3 1 4 0 4 1 4 1 4 1 4 1 3 0 4-1 4 2 4 2 10 2 10 2 9 4 10 2 10 3 10 3 10 3 10 1 9 3 10 4 10 4 10 3 10 3 10 3 9 5 10 3 10 2 10 4 10 4 10 3 9 2 10 1 10 4 10 5 10 5 10 6 9 3 10 1 10 3 10 4 10 3 10 3 10 3 9 4 10 5 10 3 10 1 10 0 3 1 14 6 14 3 15 1 14 2 14 2 14 1 14 1 15 3 14 1 14 0 14 1 15 3 14 0 14 0 14 2 14 2 15 1 14 0 14 0 14 0 14 0 15 2 14 2 14 3 14 1 14-1 15 1 14 0 14 0 14 2 15 1 14-1 14 0 14 2 14 0 15 2 14 3 14 1 14-1 14-2 15 1 14 2 14 2 15 1 5 1 6 3"/>
<path stroke="#8c564b" d="M183 930l4 9 5 8 4 8 4 7 3 4 2 3 2 2 2 0 2 0 3 0 2-28 2-103 2-103 2-54 2 0 3 0 2 0 2 0 2-3 2-2 3-3 2-1 2 0 2 3 1 2 10 11 10 0 10-7 10-4 9-3 10-2 10-1 10 0 10 0 10 3 9 0 10 3 10 3 10 5 10 4 10 3 10 2 9 4 10 3 10 1 10 3 10 5 10 3 9 3 10 6 10 5 10 4 10 3 10 4 9 0 10 0 10 2 10-1 10-3 10-4 9-4 10-5 10-5 10-7 10-7 10-7 9-8 7-7 4-3 4-2 4-2 3-3 4-6 4-6 4-5 4-6 3-9 4-11 4-12 4-14 4-17 4-11 3 0 4 2 4 1 4 4 4 7 4 6 3 4 4 3 4 5 4 6 4 5 4 3 3 2 4 2 4 3 4 3 10 8 10 6 9 5 10 6 10 7 10 6 10 6 10 8 9 7 10 7 10 7 10 5 10 5 10 4 9 3 10 6 10 6 10 4 10 1 10 2 9 6 10 6 10 9 10 12 10 13 10 14 9 14 10 11 10 10 10 8 10 4 10 5 10 5 9 3 10 3 10 3 10 4 10 3 3 0 14 3 14 3 15 2 14 2 14 3 14 3 14 3 15 2 14 3 14 2 14 3 15 2 14 2 14 2 14 2 14 3 15 3 14 2 14 1 14 2 14 2 15 2 14 1 14 2 14 2 14 1 15 1 14 1 14 2 14 2 15 0 14 1 14 2 14 1 14 0 15 2 14 1 14 0 14 1 14 1 15 0 14 1 14 1 15 4 5 4 6 8"/>
<path stroke="#d62728" d="M183 913l4 13 5 11 4 12 4 10 3 5 2 4 2 3 2 0 2 0 3 0 2 0 2-82 2-107 2-107 2-107 3-107 2-71 2 0 2-8 2-6 3-3 2-1 2 0 2 3 1 2 10 18 10-1 10-10 10-5 9-5 10-3 10 0 10-2 10 1 10 5 9-3 10 5 10 11 10 10 10 5 10 6 10 6 9 5 10 5 10 5 10 5 10 9 10 9 9 8 10 7 10 9 10 12 10 10 10 6 9 3 10 4 10 2 10 1 10 1 10-1 9-2 10-3 10-2 10-2 10-3 10-2 9-5 7-9 4-5 4-4 4-5 3-7 4-8 4-8 4-10 4-14 3-19 4-19 4-17 4-18 4-17 4-10 3 1 4 1 4 4 4 9 4 12 4 12 3 13 4 11 4 11 4 11 4 9 4 6 3 6 4 6 4 4 4 3 10 11 10 8 9 9 10 10 10 6 10 7 10 10 10 13 9 11 10 11 10 10 10 9 10 7 10 8 9 10 10 10 10 9 10 6 10 3 10 2 9 6 10 11 10 15 10 15 10 17 10 19 9 15 10 13 10 12 10 10 10 9 10 8 10 6 9 5 10 5 10 5 10 5 10 5 3 2 14 4 14 6 15 5 14 4 14 4 14 5 14 5 15 4 14 3 14 5 14 5 15 4 14 5 14 4 14 2 14 4 15 5 14 4 14 4 14 4 14 3 15 3 14 3 14 4 14 3 14 3 15 2 14 3 14 1 14 2 15 2 14 1 14 2 14 1 14 2 15 2 14 0 14 2 14 2 14 1 15 2 14 1 14 2 15 7 5 8 6 16"/>
<path stroke="#7f7f7f" d="M183 934l4 8 5 7 4 8 4 6 3 3 2 3 2 2 2 0 2 0 3 0 2 0 2-81 2-92 2-92 2-91 3-58 2 0 2 0 2-6 2-2 3-2 2-3 2-1 2 3 1 1 10 13 10 1 10-7 10-4 9-4 10-3 10-3 10-1 10 2 10 5 9-1 10 4 10 6 10 6 10 6 10 4 10 4 9 4 10 3 10 3 10 4 10 5 10 8 9 6 10 6 10 6 10 6 10 6 10 4 9 4 10 3 10 1 10-1 10-2 10-1 9-3 10-4 10-5 10-4 10-5 10-6 9-6 7-6 4-6 4-6 4-3 3-6 4-8 4-9 4-10 4-14 3-19 4-20 4-18 4-21 4-22 4-12 3 3 4 5 4 6 4 11 4 13 4 13 3 13 4 12 4 10 4 9 4 8 4 6 3 4 4 4 4 5 4 5 10 9 10 7 9 7 10 8 10 8 10 7 10 7 10 9 9 10 10 10 10 8 10 8 10 6 10 6 9 5 10 5 10 7 10 6 10 2 10 2 9 6 10 9 10 11 10 13 10 15 10 14 9 14 10 12 10 8 10 8 10 8 10 7 10 5 9 4 10 2 10 3 10 5 10 3 3 1 14 5 14 4 15 3 14 4 14 4 14 5 14 3 15 3 14 2 14 3 14 4 15 3 14 3 14 4 14 3 14 2 15 2 14 4 14 3 14 2 14 2 15 3 14 3 14 3 14 2 14 2 15 2 14 2 14 2 14 1 15 1 14 1 14 2 14 2 14 1 15 1 14 1 14 1 14 1 14 1 15 0 14 2 14 2 15 4 5 6 6 12"/>
<path stroke="#7f7f7f" stroke-width="5" d="M183 894l4 16 5 16 4 15 4 14 3 6 2 6 2 4 2 0 2 0 3 0 2-23 2-98 2-98 2-98 2-98 3-98 2-99 2-42 2-7 2-7 3-5 2-3 2-1 2 3 1 5 10 19 10-1 10-12 10-6 9-4 10-2 10-4 10-1 10 4 10 7 9-3 10 6 10 9 10 9 10 10 10 7 10 8 9 7 10 4 10 4 10 9 10 9 10 6 9 9 10 12 10 12 10 10 10 9 10 9 9 8 10 5 10 2 10-1 10-1 10 0 9 1 10-1 10-2 10-2 10-1 10-2 9-7 7-7 4-5 4-7 4-8 3-10 4-11 4-11 4-14 4-18 3-24 4-24 4-23 4-22 4-18 4-13 3 0 4 5 4 8 4 10 4 17 4 19 3 17 4 15 4 14 4 13 4 11 4 8 3 10 4 7 4 4 4 3 10 12 10 8 9 8 10 11 10 9 10 9 10 11 10 13 9 11 10 10 10 11 10 10 10 10 10 10 9 10 10 9 10 9 10 8 10 4 10 3 9 7 10 13 10 16 10 17 10 18 10 17 9 16 10 14 10 12 10 13 10 11 10 9 10 6 9 6 10 6 10 5 10 4 10 5 3 2 14 6 14 6 15 5 14 5 14 5 14 4 14 4 15 5 14 6 14 7 14 5 15 4 14 5 14 5 14 5 14 3 15 4 14 5 14 5 14 3 14 5 15 4 14 4 14 3 14 3 14 3 15 3 14 3 14 2 14 2 15 2 14 2 14 1 14 2 14 3 15 1 14 1 14 1 14 2 14 1 15 1 14 2 14 2 15 9 5 9 6 18"/>
<path stroke="#2ca02c" d="M183 939l4 7 5 6 4 6 4 6 3 3 2 2 2 2 2 0 2 0 3 0 2 0 2-84 2-101 2-100 2-9 3 0 2 0 2 0 2-4 2-4 3-2 2 1 2 2 2 1 1 0 10 12 10-1 10-7 10-3 9-3 10-3 10-1 10 1 10 1 10 3 9 2 10 3 10 3 10 2 10 3 10 5 10 3 9 2 10 2 10 4 10 3 10 2 10 4 9 6 10 6 10 2 10 3 10 3 10 3 9 4 10 1 10-1 10 0 10-3 10-5 9-6 10-6 10-4 10-4 10-7 10-7 9-8 7-7 4-3 4-3 4-4 3-6 4-7 4-5 4-8 4-10 3-14 4-17 4-17 4-16 4-16 4-11 3 0 4 2 4 4 4 7 4 9 4 8 3 9 4 9 4 7 4 6 4 4 4 6 3 6 4 3 4 3 4 4 10 8 10 7 9 6 10 5 10 5 10 7 10 8 10 6 9 7 10 8 10 6 10 6 10 5 10 5 9 5 10 4 10 4 10 4 10 2 10 2 9 4 10 8 10 10 10 13 10 13 10 13 9 14 10 12 10 10 10 8 10 5 10 4 10 5 9 3 10 3 10 3 10 3 10 2 3 2 14 3 14 3 15 2 14 2 14 4 14 3 14 3 15 3 14 2 14 3 14 3 15 1 14 2 14 3 14 3 14 1 15 2 14 2 14 1 14 2 14 2 15 3 14 2 14 1 14 2 14 2 15 1 14 1 14 1 14 2 15 1 14 1 14 1 14 1 14 1 15 1 14 0 14 2 14 1 14 0 15 1 14 2 14 1 15 4 5 4 6 8"/>
<path stroke="#7f7f7f" stroke-width="6" d="M183 959l4 3 5 2 4 2 4 2 3 1 2 1 2 1 2 0 2 0 3 0 2-3 2-93 2-4 2 0 2 0 3 0 2 0 2 0 2-2 2-2 3 0 2 0 2 0 2 0 1-1 10 4 10 1 10-5 10-3 9-1 10-1 10 0 10 0 10 0 10 0 9 2 10 0 10 0 10 1 10 3 10 1 10 0 9 0 10 0 10 2 10 2 10 1 10 2 9 2 10 1 10-1 10-1 10 1 10 1 9-1 10-2 10 0 10 0 10-2 10-2 9 0 10-2 10-4 10-3 10-3 10-3 9-5 7-2 4-2 4-4 4-5 3-4 4-2 4-2 4-3 4-2 3 0 4 1 4 0 4-2 4-1 4 1 3-1 4-1 4 0 4 2 4 2 4 1 3 1 4-1 4 1 4 3 4 2 4 0 3-1 4 0 4 2 4 1 10 1 10 2 9 2 10 2 10 2 10 2 10 3 10 4 9 2 10 2 10 3 10 2 10 1 10 3 9 3 10 3 10 2 10 1 10 4 10 4 9 2 10 1 10 3 10 4 10 2 10 2 9 3 10 4 10 2 10 1 10 2 10 3 10 2 9 1 10 2 10 2 10 2 10 2 3 0 14 0 14 0 15 3 14 3 14 2 14 2 14 2 15 0 14 1 14 2 14 1 15 1 14 1 14 3 14 1 14 0 15 0 14 1 14 0 14 0 14 0 15 2 14 2 14 1 14 1 14 2 15 0 14 0 14 0 14 1 15 0 14 2 14 2 14 1 14 0 15 3 14 0 14-1 14-1 14-1 15 2 14 3 14-1 15-1 5 2 6 5"/>
<path stroke="#d62728" stroke-width="6" d="M183 955l4 4 5 3 4 3 4 3 3 1 2 1 2 1 2 0 2 0 3 0 2 0 2-67 2-51 2 0 2 0 3 0 2 0 2 0 2-3 2-1 3 0 2 0 2 1 2 3 1 2 10 5 10-2 10-4 10-2 9-2 10-1 10-2 10-1 10 2 10 2 9 1 10 1 10 0 10 0 10 0 10 2 10 3 9 1 10 0 10 2 10 1 10 2 10 1 9 0 10 0 10 1 10-1 10-1 10 0 9 1 10-1 10-2 10-1 10 0 10-2 9-5 10-4 10-4 10-3 10-6 10-6 9-9 7-7 4-3 4-4 4-3 3-2 4-4 4-3 4-2 4-1 3 0 4 0 4 0 4-4 4-3 4 1 3 3 4 0 4 0 4 0 4 1 4 1 3 1 4 0 4 2 4 1 4 1 4 1 3 1 4 1 4 0 4 1 10 1 10 3 9 2 10 1 10 3 10 5 10 3 10 2 9 3 10 2 10 3 10 3 10 3 10 3 9 3 10 3 10 4 10 5 10 3 10 2 9 2 10 3 10 6 10 7 10 5 10 4 9 3 10 4 10 3 10 2 10 2 10 3 10 3 9 4 10 3 10 1 10 2 10 2 3 0 14 2 14 3 15 3 14 3 14 1 14 0 14 2 15 2 14 0 14 1 14 2 15 3 14 1 14 1 14 1 14 1 15 1 14 0 14 1 14 2 14 1 15 1 14 1 14 1 14 0 14 0 15 2 14 1 14 1 14 2 15 0 14 0 14 0 14 2 14 2 15 0 14 1 14 1 14 1 14-1 15 0 14 1 14 2 15 1 5 3 6 2"/>
<path stroke="#1f77b4" stroke-width="5" d="M183 876l4 20 5 20 4 18 4 17 3 8 2 7 2 5 2 0 2 0 3 0 2-37 2-89 2-90 2-89 2-90 3-90 2-89 2-90 2-89 2-35 3-2 2-3 2-4 2 0 1 6 10 25 10-3 10-16 10-7 9-6 10-3 10-3 10-2 10 1 10 7 9-3 10 7 10 13 10 13 10 12 10 9 10 6 9 6 10 6 10 6 10 8 10 11 10 14 9 12 10 11 10 11 10 13 10 13 10 11 9 7 10 5 10 3 10 0 10 2 10 2 9 1 10 1 10-1 10-2 10-2 10-1 9-3 7 1 4 0 4-7 4-6 3-2 4-3 4-5 4-6 4-10 3-19 4-23 4-20 4-19 4-18 4-8 3 1 4 4 4 8 4 8 4 9 4 15 3 13 4 8 4 10 4 11 4 9 4 5 3 4 4 5 4 4 4 4 10 11 10 12 9 13 10 12 10 9 10 11 10 15 10 16 9 14 10 12 10 12 10 12 10 12 10 10 9 10 10 10 10 10 10 9 10 4 10 4 9 9 10 11 10 16 10 17 10 17 10 16 9 12 10 11 10 9 10 11 10 10 10 8 10 7 9 8 10 8 10 6 10 5 10 5 3 4 14 7 14 6 15 6 14 5 14 5 14 6 14 6 15 5 14 6 14 7 14 7 15 4 14 5 14 4 14 6 14 6 15 6 14 6 14 5 14 4 14 4 15 6 14 5 14 4 14 3 14 3 15 4 14 2 14 2 14 3 15 2 14 2 14 2 14 2 14 2 15 2 14 1 14 1 14 2 14 2 15 3 14 2 14 2 15 9 5 11 6 21"/>
<path stroke="#e377c2" d="M183 923l4 10 5 10 4 9 4 9 3 4 2 3 2 3 2 0 2 0 3 0 2 0 2-53 2-99 2-99 2-99 3-99 2-69 2 0 2-6 2-6 3-3 2-1 2 0 2 3 1 2 10 14 10-1 10-9 10-5 9-3 10-3 10-2 10-3 10 0 10 5 9-1 10 5 10 7 10 7 10 8 10 7 10 3 9 4 10 4 10 6 10 5 10 7 10 7 9 10 10 9 10 7 10 6 10 7 10 8 9 6 10 1 10-1 10 2 10 2 10 0 9-3 10-4 10-1 10-3 10-4 10-5 9-7 7-4 4-3 4-6 4-6 3-6 4-5 4-7 4-9 4-10 3-16 4-19 4-17 4-16 4-19 4-11 3 0 4 5 4 7 4 6 4 9 4 10 3 10 4 8 4 9 4 9 4 9 4 6 3 5 4 3 4 2 4 3 10 10 10 11 9 9 10 9 10 7 10 7 10 9 10 11 9 10 10 11 10 9 10 9 10 9 10 9 9 7 10 8 10 7 10 7 10 3 10 1 9 6 10 10 10 14 10 15 10 17 10 15 9 14 10 12 10 10 10 11 10 8 10 8 10 4 9 4 10 5 10 6 10 5 10 4 3 1 14 5 14 3 15 3 14 5 14 6 14 4 14 4 15 4 14 4 14 3 14 4 15 4 14 4 14 3 14 4 14 4 15 4 14 4 14 4 14 2 14 3 15 4 14 3 14 3 14 2 14 3 15 2 14 2 14 2 14 2 15 2 14 1 14 2 14 1 14 1 15 1 14 1 14 2 14 1 14 1 15 1 14 2 14 2 15 6 5 7 6 15"/>
<path stroke="#d62728" d="M183 918l4 12 5 10 4 11 4 9 3 4 2 4 2 3 2 0 2 0 3 0 2 0 2-68 2-94 2-94 2-94 3-94 2-94 2-85 2-11 2-7 3-3 2 0 2-1 2 4 1 3 10 20 10 0 10-12 10-4 9-5 10-5 10-3 10 0 10 2 10 3 9-2 10 8 10 13 10 10 10 5 10 4 10 6 9 6 10 7 10 10 10 6 10 4 10 7 9 13 10 12 10 9 10 11 10 7 10 5 9 5 10 5 10 2 10 0 10 1 10 0 9-3 10-2 10 0 10-4 10-3 10-1 9-4 7-7 4-6 4-6 4-6 3-10 4-11 4-11 4-12 4-15 3-19 4-24 4-23 4-18 4-17 4-12 3-1 4 5 4 10 4 11 4 11 4 14 3 17 4 15 4 12 4 11 4 10 4 8 3 5 4 6 4 4 4 5 10 11 10 10 9 10 10 9 10 8 10 10 10 13 10 11 9 10 10 11 10 10 10 9 10 9 10 10 9 10 10 8 10 9 10 8 10 4 10 3 9 8 10 10 10 13 10 17 10 17 10 19 9 16 10 13 10 12 10 11 10 8 10 9 10 7 9 6 10 5 10 5 10 5 10 6 3 2 14 5 14 6 15 5 14 4 14 4 14 5 14 5 15 5 14 5 14 5 14 4 15 5 14 5 14 4 14 5 14 5 15 5 14 3 14 3 14 5 14 5 15 3 14 2 14 3 14 3 14 4 15 2 14 2 14 2 14 3 15 3 14 2 14 1 14 1 14 3 15 2 14 1 14 1 14 1 14 1 15 2 14 2 14 3 15 8 5 9 6 17"/>
<path stroke="#d62728" d="M183 935l4 7 5 8 4 7 4 6 3 3 2 3 2 2 2 0 2 0 3 0 2-2 2-106 2-106 2-106 2-47 3 0 2 0 2 0 2-4 2-2 3-2 2-1 2-1 2 2 1 2 10 15 10 1 10-8 10-5 9-4 10-3 10-1 10-2 10 0 10 6 9 0 10 3 10 4 10 5 10 6 10 4 10 3 9 4 10 2 10 3 10 5 10 4 10 5 9 6 10 5 10 4 10 5 10 7 10 6 9 4 10 1 10-1 10 0 10-1 10-3 9-3 10-4 10-5 10-6 10-6 10-6 9-9 7-7 4-2 4-2 4-5 3-5 4-6 4-8 4-10 4-11 3-15 4-16 4-17 4-19 4-20 4-11 3 2 4 4 4 6 4 7 4 8 4 9 3 10 4 12 4 10 4 8 4 6 4 6 3 4 4 3 4 4 4 4 10 9 10 8 9 6 10 3 10 6 10 8 10 8 10 8 9 8 10 9 10 6 10 6 10 8 10 6 9 6 10 5 10 4 10 5 10 3 10 3 9 5 10 8 10 11 10 12 10 14 10 16 9 14 10 10 10 9 10 7 10 7 10 7 10 4 9 4 10 3 10 3 10 3 10 3 3 0 14 4 14 3 15 4 14 3 14 4 14 4 14 1 15 2 14 4 14 4 14 3 15 3 14 2 14 3 14 3 14 3 15 2 14 3 14 2 14 2 14 3 15 2 14 2 14 3 14 2 14 2 15 1 14 1 14 2 14 2 15 1 14 1 14 1 14 1 14 1 15 1 14 1 14 1 14 1 14 1 15 1 14 1 14 2 15 4 5 5 6 11"/>
<path stroke="#ff7f0e" stroke-width="6" d="M183 962l4 2 5 1 4 2 4 2 3 1 2 0 2 1 2 0 2 0 3 0 2-7 2-87 2-9 2 0 2 0 3 0 2 0 2 0 2 1 2 1 3-2 2-1 2 1 2 1 1 1 10 3 10-1 10-5 10-2 9-1 10-2 10-1 10 0 10 1 10 1 9 2 10 2 10 0 10 0 10 3 10 1 10 0 9 2 10 1 10 1 10 1 10 2 10 1 9 1 10 1 10 1 10 1 10 1 10 0 9-1 10-1 10-1 10 0 10-2 10-1 9 0 10-2 10-2 10-2 10-5 10-3 9-5 7-4 4-1 4-1 4-4 3-2 4 0 4-1 4-3 4-2 3 1 4-1 4-4 4-2 4 0 4-1 3-1 4 2 4 0 4 0 4 2 4 2 3 0 4 1 4 1 4 0 4 0 4 2 3 1 4 0 4 2 4 1 10 2 10 0 9 2 10 3 10 2 10 2 10 2 10 4 9 5 10 2 10 0 10 3 10 3 10 2 9 2 10 3 10 2 10 2 10 3 10 3 9 2 10 2 10 1 10 1 10 2 10 2 9 4 10 1 10 1 10 1 10 3 10 3 10 1 9 1 10 1 10 2 10 1 10 2 3 0 14 2 14 2 15 0 14 1 14 2 14 2 14 3 15 1 14 1 14 3 14 2 15-1 14 0 14 0 14 2 14 1 15 0 14 2 14 2 14 1 14 1 15 1 14-1 14 2 14 0 14 0 15 2 14 0 14 0 14 0 15 0 14 1 14 1 14 1 14 0 15-1 14 1 14 3 14 0 14 0 15 0 14 2 14 2 15 2 5 1 6 2"/>
<path stroke="#e377c2" stroke-width="6" d="M183 961l4 2 5 2 4 2 4 2 3 1 2 0 2 1 2 0 2 0 3 0 2-2 2-94 2-13 2 0 2 0 3 0 2 0 2 0 2 0 2 1 3-1 2 0 2 0 2 1 1 1 10 5 10-2 10-6 10-4 9-2 10 0 10 0 10-1 10 1 10 2 9 0 10 0 10 1 10 1 10 1 10 0 10 1 9 1 10 1 10 1 10 2 10 1 10 1 9 0 10-1 10 0 10 2 10 2 10 0 9 0 10 0 10-1 10-2 10-3 10-3 9-1 10-3 10-3 10-3 10-4 10-5 9-6 7-5 4-3 4-1 4-3 3-4 4-2 4-3 4-2 4-3 3-1 4 1 4-1 4-2 4-1 4-1 3 2 4 2 4 1 4 0 4 1 4 0 3 0 4 1 4 2 4 2 4 0 4 0 3 0 4 0 4 1 4 2 10 3 10 2 9 1 10 0 10 1 10 2 10 3 10 4 9 2 10 2 10 1 10 3 10 4 10 3 9 4 10 4 10 4 10 2 10 1 10 3 9 3 10 2 10 4 10 3 10 3 10 4 9 4 10 4 10 2 10 3 10 3 10 2 10 3 9 3 10 0 10 2 10 2 10 2 3 1 14 2 14 1 15 2 14 3 14 5 14 2 14 0 15 1 14 1 14 1 14 1 15 2 14 1 14-1 14 1 14 3 15 1 14 1 14 1 14 0 14 0 15 1 14 2 14 0 14 0 14 1 15 3 14 2 14 0 14-1 15 1 14 1 14 2 14 0 14 0 15 1 14 1 14 1 14 1 14-1 15 0 14 1 14 0 15 3 5 0 6 2"/>
<path stroke="#8c564b" d="M183 920l4 11 5 11 4 9 4 9 3 4 2 4 2 3 2 0 2 0 3 0 2 0 2-94 2-97 2-96 2-83 3-1 2 0 2 0 2-3 2-5 3-3 2 2 2-1 2 0 1 3 10 15 10 1 10-9 10-4 9-4 10-3 10-3 10-2 10 2 10 4 9 0 10 5 10 5 10 5 10 3 10 3 10 4 9 5 10 4 10 3 10 4 10 6 10 5 9 4 10 6 10 6 10 4 10 5 10 4 9 3 10 2 10 1 10-1 10-1 10-3 9-3 10-5 10-5 10-4 10-5 10-6 9-8 7-6 4-3 4-4 4-4 3-4 4-5 4-5 4-7 4-11 3-12 4-13 4-16 4-18 4-17 4-9 3 0 4 2 4 4 4 7 4 8 4 7 3 8 4 7 4 7 4 5 4 6 4 4 3 2 4 5 4 5 4 4 10 8 10 7 9 6 10 7 10 6 10 7 10 7 10 9 9 12 10 8 10 6 10 6 10 7 10 7 9 6 10 4 10 5 10 4 10 1 10 2 9 6 10 9 10 10 10 12 10 14 10 15 9 15 10 11 10 8 10 7 10 8 10 6 10 5 9 4 10 3 10 3 10 3 10 4 3 1 14 3 14 3 15 4 14 4 14 3 14 4 14 3 15 3 14 3 14 3 14 3 15 3 14 3 14 3 14 3 14 2 15 2 14 3 14 2 14 3 14 3 15 2 14 1 14 3 14 3 14 1 15 2 14 2 14 2 14 1 15 1 14 1 14 1 14 1 14 1 15 1 14 1 14 1 14 1 14 1 15 1 14 2 14 1 15 4 5 5 6 11"/>
<path stroke="#9467bd" d="M183 958l4 3 5 3 4 2 4 2 3 1 2 1 2 1 2 0 2 0 3 0 2-1 2-95 2-32 2 0 2 0 3 0 2 0 2 0 2-1 2 0 3 0 2 0 2 0 2-1 1 1 10 8 10 1 10-4 10-2 9-3 10-3 10-1 10 0 10 1 10 2 9 1 10 0 10 1 10 2 10 2 10 1 10 1 9 1 10 1 10 0 10 2 10 2 10 2 9 1 10 1 10 2 10 0 10 1 10 2 9 2 10 0 10-3 10-2 10-4 10-5 9-5 10-7 10-8 10-7 10-9 10-9 9-9 7-7 4-4 4-5 4-6 3-7 4-7 4-9 4-11 4-11 3-13 4-17 4-20 4-18 4-20 4-11 3 2 4 4 4 3 4 8 4 12 4 11 3 10 4 9 4 7 4 8 4 7 4 4 3 5 4 4 4 2 4 2 10 7 10 7 9 4 10 3 10 5 10 5 10 4 10 4 9 5 10 5 10 4 10 4 10 4 10 3 9 1 10 2 10 1 10 2 10 3 10 2 9 3 10 6 10 7 10 9 10 12 10 14 9 15 10 11 10 7 10 7 10 5 10 4 10 3 9 3 10 2 10 2 10 1 10 2 3 1 14 2 14 2 15 1 14 2 14 1 14 1 14 2 15 2 14 1 14 1 14 0 15 2 14 1 14 1 14 1 14 1 15 1 14 2 14 0 14 1 14 2 15 1 14 1 14 1 14 1 14 0 15 1 14 1 14 1 14 0 15 2 14 1 14 0 14 0 14 1 15 0 14 1 14 1 14 0 14 0 15 1 14 1 14 1 15 1 5 2 6 3"/>
<path stroke="#8c564b" stroke-width="6" d="M183 958l4 3 5 3 4 2 4 2 3 1 2 1 2 1 2 0 2 0 3 0 2 0 2-77 2-23 2 0 2 0 3 0 2 0 2 0 2-1 2 1 3 0 2-2 2 1 2 3 1 1 10 3 10-1 10-4 10-4 9-3 10-1 10-2 10 1 10 3 10 2 9 0 10 0 10-1 10 1 10 2 10 0 10 0 9 3 10 1 10 0 10 0 10 3 10 1 9 0 10 2 10 2 10 1 10-2 10 0 9-1 10-1 10 0 10 1 10-2 10-2 9 0 10-3 10-3 10-2 10-2 10-5 9-3 7-2 4-4 4-4 4-2 3-2 4-2 4-1 4-1 4-2 3-3 4-1 4 0 4-1 4-2 4-3 3 1 4 1 4 1 4 1 4 1 4 1 3 0 4 2 4 0 4 0 4 2 4 1 3 1 4 2 4 0 4-1 10 1 10 2 9 1 10 4 10 5 10 3 10 1 10 2 9 3 10 5 10 4 10 2 10 2 10 1 9 3 10 2 10 3 10 3 10 3 10 1 9 0 10 1 10 4 10 4 10 3 10 2 9 0 10 1 10 2 10 2 10 1 10 3 10 3 9 2 10 1 10 2 10 2 10 2 3-1 14 2 14 3 15 4 14 2 14 0 14 0 14-1 15 2 14 3 14 0 14 0 15 0 14 1 14 0 14 0 14 1 15 1 14 1 14 2 14 1 14 1 15 1 14 1 14 1 14 1 14 0 15 0 14 1 14 1 14 2 15 0 14-1 14 0 14 2 14 2 15 2 14 1 14-1 14 0 14 1 15 0 14 0 14 0 15 1 5 1 6 3"/>
<path stroke="#17becf" d="M183 928l4 9 5 9 4 8 4 8 3 3 2 4 2 2 2 0 2 0 3 0 2-19 2-93 2-92 2-93 2-93 3-90 2-5 2 0 2-7 2-5 3-4 2-2 2 1 2 2 1 1 10 17 10 2 10-11 10-6 9-4 10-3 10-2 10 1 10 3 10 4 9-1 10 4 10 5 10 5 10 7 10 9 10 4 9 2 10 4 10 6 10 6 10 5 10 7 9 8 10 9 10 8 10 6 10 6 10 6 9 6 10 3 10 0 10 0 10-2 10-4 9-2 10 0 10-3 10-3 10-3 10-3 9-8 7-7 4-4 4-2 4-2 3-5 4-8 4-8 4-9 4-10 3-15 4-17 4-16 4-18 4-18 4-10 3 0 4 3 4 5 4 9 4 10 4 7 3 10 4 10 4 10 4 7 4 5 4 6 3 5 4 4 4 6 4 4 10 8 10 6 9 6 10 8 10 8 10 8 10 9 10 9 9 9 10 9 10 9 10 10 10 9 10 9 9 6 10 6 10 6 10 8 10 3 10 2 9 7 10 8 10 11 10 14 10 17 10 17 9 14 10 12 10 10 10 9 10 7 10 6 10 6 9 5 10 4 10 4 10 4 10 3 3 2 14 5 14 5 15 3 14 4 14 5 14 3 14 3 15 4 14 5 14 4 14 3 15 4 14 5 14 3 14 4 14 3 15 3 14 4 14 2 14 3 14 2 15 4 14 3 14 2 14 3 14 2 15 2 14 3 14 2 14 1 15 2 14 1 14 2 14 1 14 2 15 2 14 1 14 0 14 1 14 1 15 1 14 2 14 2 15 6 5 7 6 13"/>
<path stroke="#17becf" d="M183 905l4 14 5 14 4 12 4 12 3 5 2 5 2 4 2 0 2 0 3 0 2 0 2-79 2-97 2-97 2-96 3-97 2-86 2-1 2-8 2-3 3-3 2-4 2-1 2 3 1 4 10 18 10-1 10-11 10-3 9-5 10-6 10-3 10 0 10 2 10 5 9-2 10 5 10 7 10 10 10 9 10 4 10 3 9 6 10 4 10 5 10 5 10 7 10 9 9 9 10 9 10 7 10 10 10 11 10 6 9 4 10 3 10 2 10 1 10 0 10-2 9-2 10-1 10-2 10-3 10-2 10-3 9-7 7-9 4-6 4-4 4-6 3-7 4-7 4-6 4-10 4-15 3-19 4-18 4-20 4-21 4-21 4-10 3 3 4 4 4 6 4 7 4 11 4 14 3 14 4 12 4 11 4 11 4 7 4 3 3 7 4 7 4 4 4 1 10 10 10 10 9 8 10 10 10 10 10 9 10 11 10 10 9 9 10 11 10 9 10 9 10 10 10 9 9 8 10 8 10 7 10 7 10 3 10 3 9 8 10 10 10 12 10 15 10 17 10 17 9 14 10 12 10 12 10 11 10 8 10 8 10 5 9 5 10 5 10 5 10 5 10 3 3 1 14 5 14 6 15 5 14 3 14 4 14 5 14 6 15 4 14 4 14 4 14 4 15 5 14 4 14 4 14 4 14 4 15 4 14 4 14 4 14 3 14 3 15 3 14 4 14 3 14 2 14 3 15 2 14 2 14 3 14 2 15 1 14 2 14 1 14 2 14 1 15 2 14 1 14 2 14 1 14 1 15 2 14 2 14 2 15 6 5 8 6 15"/>
<path stroke="#e377c2" stroke-width="5" d="M183 884l4 19 5 17 4 17 4 16 3 7 2 6 2 5 2 0 2 0 3 0 2-9 2-93 2-92 2-92 2-93 3-92 2-93 2-92 2-63 2-5 3-6 2-5 2 2 2 4 1 1 10 19 10 0 10-11 10-6 9-6 10-6 10-5 10 0 10 3 10 8 9 0 10 7 10 10 10 10 10 9 10 8 10 7 9 6 10 6 10 6 10 7 10 7 10 10 9 15 10 13 10 12 10 11 10 11 10 10 9 6 10 3 10 4 10 1 10 0 10 2 9 0 10 0 10-1 10-2 10 0 10-3 9-3 7-7 4-6 4-7 4-7 3-7 4-9 4-12 4-13 4-15 3-21 4-23 4-21 4-21 4-18 4-9 3 2 4 2 4 4 4 10 4 15 4 16 3 17 4 16 4 12 4 9 4 10 4 9 3 6 4 2 4 6 4 8 10 11 10 9 9 11 10 9 10 8 10 11 10 13 10 13 9 12 10 12 10 11 10 13 10 10 10 8 9 9 10 11 10 12 10 8 10 2 10 5 9 9 10 12 10 17 10 19 10 18 10 16 9 16 10 16 10 14 10 11 10 8 10 9 10 7 9 6 10 7 10 8 10 6 10 5 3 1 14 5 14 4 15 5 14 7 14 6 14 4 14 6 15 6 14 6 14 6 14 4 15 5 14 5 14 5 14 5 14 5 15 6 14 5 14 5 14 4 14 4 15 4 14 4 14 4 14 4 14 3 15 2 14 4 14 2 14 2 15 3 14 1 14 2 14 2 14 2 15 1 14 2 14 1 14 1 14 2 15 1 14 3 14 2 15 9 5 10 6 20"/>
<path stroke="#8c564b" d="M183 931l4 9 5 8 4 8 4 7 3 3 2 3 2 2 2 0 2 0 3 0 2-44 2-94 2-95 2-94 2-95 3-31 2 0 2 0 2-7 2-5 3-3 2 1 2 1 2 0 1 1 10 17 10 3 10-10 10-7 9-5 10-4 10-2 10 0 10 3 10 5 9-1 10 3 10 7 10 6 10 4 10 5 10 6 9 3 10 2 10 4 10 7 10 6 10 6 9 7 10 8 10 6 10 8 10 6 10 4 9 4 10 3 10 2 10 2 10 1 10-1 9-6 10-4 10-2 10-4 10-6 10-7 9-4 7-3 4-3 4-5 4-5 3-4 4-4 4-7 4-8 4-10 3-13 4-15 4-14 4-17 4-19 4-9 3 2 4 2 4 3 4 6 4 8 4 8 3 7 4 6 4 7 4 7 4 7 4 6 3 3 4 3 4 4 4 4 10 8 10 9 9 10 10 6 10 6 10 9 10 10 10 10 9 11 10 6 10 6 10 10 10 11 10 7 9 3 10 5 10 7 10 6 10 3 10 3 9 6 10 10 10 12 10 14 10 15 10 16 9 13 10 11 10 9 10 9 10 7 10 7 10 6 9 4 10 3 10 4 10 5 10 3 3 0 14 5 14 5 15 4 14 2 14 4 14 5 14 3 15 3 14 4 14 4 14 5 15 4 14 3 14 3 14 3 14 3 15 3 14 3 14 4 14 3 14 3 15 2 14 2 14 3 14 2 14 2 15 2 14 2 14 2 14 2 15 1 14 2 14 1 14 2 14 1 15 2 14 0 14 0 14 1 14 2 15 1 14 1 14 3 15 5 5 6 6 13"/>
<path stroke="#2ca02c" stroke-width="6" d="M183 960l4 2 5 2 4 3 4 2 3 1 2 0 2 1 2 0 2 0 3 0 2-36 2-59 2 0 2 0 2 0 3 0 2 0 2 0 2-1 2-2 3-1 2 0 2 1 2 2 1 0 10 3 10-2 10-5 10-3 9-1 10-1 10-2 10 0 10 1 10 1 9 2 10 2 10 2 10 1 10 0 10 1 10 0 9 2 10 2 10 0 10 2 10 2 10 0 9 1 10 1 10 0 10 0 10 2 10 2 9-1 10-1 10-2 10-1 10-1 10-1 9-2 10-2 10-3 10-3 10-1 10-1 9-5 7-5 4-4 4-2 4-1 3 0 4-1 4-3 4-4 4-3 3 1 4 1 4-1 4-1 4-2 4-2 3 0 4 2 4 2 4 0 4 0 4 1 3 1 4 1 4 1 4 1 4 0 4-1 3 0 4 2 4 2 4 2 10 2 10 1 9 0 10 1 10 5 10 3 10 1 10 3 9 4 10 2 10 2 10 2 10 2 10 2 9 3 10 2 10 1 10 1 10 4 10 3 9 1 10 1 10 3 10 4 10 2 10 1 9 2 10 3 10 1 10 1 10 2 10 2 10 2 9 0 10 0 10 3 10 3 10 0 3-3 14 2 14 4 15 1 14 1 14 2 14 3 14 0 15 0 14 3 14 2 14 1 15 3 14 1 14-1 14 0 14 2 15 2 14 0 14-1 14 1 14 3 15 1 14-1 14 0 14 0 14 2 15 1 14-1 14-1 14 2 15 2 14 0 14 0 14 2 14 2 15 1 14 2 14 0 14-2 14 0 15 3 14 1 14-1 15 1 5 3 6 2"/>
<path stroke="#17becf" d="M183 928l4 9 5 9 4 8 4 8 3 3 2 4 2 2 2 0 2 0 3 0 2 0 2-104 2-106 2-105 2-9 3 0 2 0 2 0 2-8 2-2 3 0 2 1 2-1 2 2 1 2 10 13 10 0 10-8 10-4 9-3 10-4 10-3 10 0 10 3 10 4 9 0 10 3 10 4 10 4 10 4 10 4 10 4 9 1 10 2 10 5 10 4 10 3 10 5 9 5 10 5 10 6 10 4 10 3 10 4 9 3 10 1 10 0 10 0 10-2 10-4 9-3 10-5 10-8 10-5 10-3 10-6 9-8 7-5 4-5 4-5 4-3 3-4 4-6 4-7 4-5 4-9 3-14 4-15 4-15 4-16 4-18 4-11 3 0 4 5 4 5 4 4 4 5 4 8 3 10 4 8 4 8 4 6 4 3 4 4 3 6 4 4 4 3 4 2 10 7 10 8 9 7 10 5 10 6 10 6 10 6 10 9 9 7 10 5 10 6 10 9 10 6 10 4 9 5 10 6 10 3 10 3 10 4 10 4 9 6 10 7 10 10 10 12 10 14 10 14 9 12 10 11 10 11 10 9 10 6 10 5 10 4 9 4 10 3 10 4 10 3 10 2 3 0 14 4 14 3 15 2 14 4 14 4 14 3 14 3 15 2 14 2 14 3 14 2 15 2 14 3 14 2 14 3 14 3 15 2 14 1 14 3 14 2 14 2 15 2 14 2 14 2 14 2 14 1 15 2 14 2 14 1 14 1 15 1 14 2 14 1 14 0 14 1 15 2 14 1 14 0 14 0 14 1 15 1 14 2 14 1 15 4 5 5 6 9"/>
<path stroke="#8c564b" d="M183 904l4 15 5 13 4 13 4 12 3 5 2 5 2 4 2 0 2 0 3 0 2-2 2-100 2-99 2-100 2-100 3-100 2-99 2-21 2-7 2-6 3-4 2-3 2 0 2 5 1 3 10 19 10 1 10-11 10-7 9-5 10-3 10-2 10-1 10 0 10 4 9-1 10 8 10 9 10 7 10 9 10 8 10 6 9 4 10 2 10 6 10 9 10 9 10 8 9 9 10 10 10 8 10 10 10 11 10 9 9 6 10 4 10 2 10 1 10 0 10 1 9-1 10-4 10-4 10-2 10-2 10-3 9-5 7-6 4-4 4-8 4-7 3-8 4-10 4-10 4-10 4-15 3-22 4-22 4-19 4-21 4-19 4-10 3-1 4 4 4 9 4 10 4 15 4 14 3 13 4 15 4 12 4 8 4 9 4 9 3 8 4 4 4 4 4 7 10 12 10 11 9 7 10 7 10 7 10 10 10 11 10 13 9 12 10 11 10 12 10 11 10 7 10 7 9 9 10 10 10 8 10 7 10 6 10 3 9 6 10 12 10 17 10 17 10 17 10 17 9 14 10 12 10 13 10 11 10 9 10 8 10 8 9 7 10 5 10 5 10 6 10 4 3 0 14 5 14 5 15 5 14 5 14 5 14 5 14 5 15 5 14 4 14 4 14 6 15 5 14 5 14 5 14 4 14 4 15 4 14 4 14 4 14 3 14 4 15 4 14 4 14 3 14 3 14 3 15 2 14 3 14 2 14 2 15 2 14 2 14 2 14 2 14 2 15 1 14 2 14 1 14 0 14 2 15 1 14 2 14 1 15 7 5 9 6 18"/>
<path stroke="#8c564b" d="M183 900l4 15 5 15 4 13 4 13 3 6 2 5 2 4 2 0 2 0 3 0 2 0 2-53 2-98 2-98 2-98 3-99 2-98 2-23 2-9 2-5 3-2 2-4 2-1 2 3 1 3 10 18 10 0 10-11 10-5 9-4 10-5 10-4 10 1 10 3 10 5 9-3 10 6 10 10 10 10 10 6 10 5 10 7 9 4 10 3 10 6 10 9 10 7 10 6 9 9 10 9 10 11 10 11 10 9 10 6 9 4 10 3 10 0 10 0 10 0 10-2 9-2 10-3 10-1 10-1 10-4 10-4 9-5 7-8 4-5 4-6 4-5 3-6 4-8 4-10 4-10 4-15 3-20 4-21 4-21 4-19 4-17 4-11 3-2 4 4 4 6 4 8 4 12 4 14 3 15 4 13 4 12 4 11 4 8 4 7 3 6 4 6 4 5 4 5 10 9 10 8 9 9 10 8 10 9 10 9 10 11 10 10 9 10 10 10 10 10 10 11 10 9 10 6 9 8 10 9 10 11 10 7 10 1 10 2 9 8 10 10 10 14 10 17 10 17 10 17 9 16 10 13 10 11 10 10 10 8 10 7 10 6 9 5 10 6 10 5 10 4 10 4 3 2 14 5 14 4 15 5 14 5 14 6 14 5 14 4 15 4 14 4 14 5 14 4 15 5 14 6 14 4 14 4 14 4 15 3 14 3 14 3 14 4 14 4 15 3 14 3 14 3 14 3 14 3 15 1 14 2 14 2 14 3 15 1 14 2 14 2 14 2 14 1 15 2 14 1 14 1 14 0 14 1 15 3 14 2 14 2 15 7 5 8 6 15"/>
<path stroke="#1f77b4" d="M183 928l4 9 5 9 4 8 4 8 3 3 2 4 2 2 2 0 2 0 3 0 2-37 2-99 2-99 2-99 2-99 3-32 2 0 2 0 2-8 2-4 3-1 2-4 2-2 2 3 1 3 10 17 10 0 10-11 10-4 9-2 10-1 10-2 10-3 10-1 10 5 9-1 10 5 10 8 10 7 10 6 10 4 10 4 9 3 10 4 10 4 10 4 10 8 10 9 9 7 10 7 10 6 10 6 10 7 10 6 9 5 10 2 10-1 10 0 10-2 10-1 9-2 10-1 10-5 10-4 10-3 10-5 9-4 7-4 4-5 4-8 4-6 3-4 4-5 4-6 4-6 4-12 3-17 4-17 4-16 4-19 4-19 4-11 3 0 4 5 4 7 4 7 4 8 4 11 3 12 4 8 4 6 4 6 4 9 4 7 3 4 4 4 4 3 4 3 10 10 10 10 9 8 10 6 10 5 10 7 10 11 10 10 9 10 10 8 10 8 10 8 10 8 10 8 9 8 10 7 10 6 10 7 10 4 10 2 9 4 10 9 10 14 10 15 10 15 10 14 9 14 10 12 10 11 10 8 10 8 10 6 10 4 9 6 10 5 10 4 10 3 10 3 3 1 14 4 14 4 15 4 14 4 14 5 14 3 14 4 15 4 14 3 14 4 14 4 15 4 14 3 14 3 14 3 14 4 15 3 14 4 14 4 14 2 14 2 15 3 14 3 14 3 14 2 14 2 15 2 14 3 14 1 14 1 15 2 14 1 14 2 14 1 14 1 15 2 14 1 14 0 14 1 14 1 15 2 14 2 14 2 15 5 5 6 6 14"/>
<path stroke="#1f77b4" d="M183 915l4 12 5 11 4 11 4 10 3 5 2 4 2 3 2 0 2 0 3 0 2-1 2-93 2-94 2-94 2-94 3-94 2-68 2 0 2-7 2-5 3-2 2 0 2-1 2 3 1 2 10 14 10-2 10-10 10-5 9-5 10-3 10-3 10-3 10 3 10 8 9-1 10 3 10 8 10 10 10 8 10 6 10 5 9 2 10 3 10 6 10 8 10 7 10 9 9 8 10 9 10 10 10 6 10 5 10 9 9 6 10 1 10 3 10-1 10-2 10 0 9 1 10-3 10-5 10-4 10-2 10-4 9-5 7-5 4-5 4-5 4-5 3-6 4-9 4-7 4-6 4-13 3-18 4-17 4-16 4-18 4-19 4-12 3-1 4 5 4 6 4 7 4 9 4 11 3 12 4 11 4 11 4 10 4 8 4 3 3 5 4 7 4 3 4 2 10 8 10 10 9 9 10 9 10 9 10 7 10 9 10 12 9 13 10 10 10 7 10 8 10 11 10 8 9 6 10 7 10 9 10 8 10 4 10 3 9 4 10 7 10 15 10 16 10 16 10 15 9 16 10 13 10 10 10 9 10 8 10 7 10 7 9 5 10 4 10 4 10 6 10 6 3 1 14 4 14 3 15 5 14 5 14 4 14 6 14 4 15 4 14 4 14 5 14 5 15 4 14 4 14 4 14 5 14 3 15 3 14 4 14 4 14 3 14 3 15 3 14 2 14 2 14 5 14 3 15 2 14 2 14 2 14 2 15 2 14 1 14 1 14 1 14 2 15 1 14 1 14 1 14 1 14 2 15 1 14 2 14 2 15 7 5 7 6 15"/>
<path stroke="#ff7f0e" d="M183 951l4 4 5 4 4 4 4 4 3 1 2 2 2 1 2 0 2 0 3 0 2-46 2-92 2-40 2 0 2 0 3 0 2 0 2 0 2 0 2-1 3-2 2-1 2 0 2 2 1 0 10 9 10 2 10-5 10-3 9-3 10-3 10-1 10 0 10 1 10 3 9 0 10 0 10 1 10 5 10 4 10 1 10 2 9 2 10 0 10 1 10 1 10 2 10 3 9 2 10 3 10 2 10 2 10 2 10 1 9 1 10 0 10-1 10-2 10-4 10-5 9-5 10-7 10-8 10-5 10-7 10-9 9-10 7-6 4-4 4-5 4-5 3-5 4-5 4-6 4-8 4-11 3-12 4-13 4-16 4-17 4-17 4-10 3 0 4 2 4 4 4 5 4 7 4 9 3 8 4 7 4 7 4 5 4 4 4 4 3 4 4 3 4 5 4 4 10 6 10 4 9 6 10 4 10 4 10 6 10 7 10 6 9 4 10 6 10 6 10 4 10 4 10 4 9 2 10 2 10 3 10 2 10 3 10 3 9 3 10 5 10 7 10 11 10 13 10 15 9 15 10 10 10 8 10 8 10 4 10 4 10 3 9 3 10 3 10 2 10 1 10 2 3 1 14 3 14 3 15 1 14 1 14 3 14 2 14 2 15 1 14 1 14 2 14 2 15 1 14 1 14 1 14 2 14 1 15 2 14 2 14 1 14 1 14 1 15 1 14 2 14 2 14 0 14 1 15 1 14 1 14 1 14 1 15 1 14 0 14 1 14 1 14 1 15 1 14 1 14 0 14 0 14 1 15 1 14 1 14 1 15 2 5 3 6 4"/>
<path stroke="#d62728" d="M183 914l4 12 5 12 4 11 4 10 3 5 2 4 2 3 2 0 2 0 3 0 2-28 2-100 2-100 2-101 2-83 3-1 2 0 2 0 2-4 2-3 3-1 2-1 2 0 2 2 1 2 10 14 10-2 10-9 10-4 9-3 10-2 10-2 10-2 10 1 10 4 9 1 10 4 10 5 10 5 10 5 10 4 10 3 9 4 10 4 10 5 10 4 10 5 10 7 9 7 10 5 10 6 10 5 10 6 10 7 9 4 10 1 10 0 10-1 10-2 10-1 9-1 10-4 10-5 10-4 10-6 10-6 9-5 7-5 4-4 4-5 4-4 3-6 4-7 4-7 4-10 4-13 3-15 4-17 4-18 4-20 4-20 4-12 3 1 4 4 4 6 4 9 4 10 4 11 3 11 4 9 4 9 4 9 4 6 4 6 3 5 4 5 4 5 4 4 10 9 10 7 9 8 10 7 10 5 10 6 10 10 10 10 9 8 10 6 10 8 10 10 10 8 10 4 9 7 10 8 10 6 10 4 10 2 10 2 9 6 10 9 10 13 10 13 10 13 10 14 9 15 10 12 10 10 10 9 10 6 10 6 10 5 9 5 10 4 10 2 10 3 10 4 3 1 14 4 14 3 15 3 14 4 14 3 14 4 14 4 15 3 14 4 14 3 14 4 15 3 14 3 14 3 14 3 14 3 15 3 14 2 14 3 14 3 14 2 15 2 14 3 14 2 14 2 14 2 15 2 14 1 14 2 14 1 15 2 14 2 14 2 14 1 14 0 15 1 14 1 14 1 14 1 14 1 15 1 14 2 14 1 15 5 5 6 6 12"/>
<path stroke="#9467bd" d="M183 951l4 4 5 4 4 4 4 4 3 1 2 2 2 1 2 0 2 0 3 0 2-45 2-104 2-31 2 0 2 0 3 0 2 0 2 0 2-3 2-2 3-1 2 0 2 0 2 1 1 1 10 10 10 1 10-6 10-4 9-3 10-1 10-1 10-2 10 1 10 4 9 0 10 1 10 2 10 2 10 4 10 3 10 1 9 2 10 2 10 1 10 2 10 3 10 2 9 2 10 1 10 3 10 3 10 2 10 1 9 0 10 1 10 0 10-1 10-5 10-5 9-5 10-7 10-7 10-8 10-7 10-6 9-9 7-8 4-3 4-3 4-5 3-5 4-7 4-8 4-8 4-8 3-10 4-14 4-15 4-16 4-18 4-10 3-1 4 1 4 3 4 5 4 8 4 8 3 7 4 6 4 6 4 5 4 6 4 5 3 4 4 2 4 4 4 3 10 6 10 5 9 5 10 4 10 5 10 5 10 6 10 6 9 6 10 7 10 7 10 4 10 3 10 3 9 2 10 3 10 2 10 2 10 3 10 3 9 4 10 7 10 8 10 10 10 12 10 15 9 14 10 10 10 7 10 8 10 6 10 4 10 3 9 2 10 2 10 2 10 2 10 2 3 0 14 1 14 3 15 3 14 2 14 2 14 1 14 2 15 2 14 2 14 2 14 2 15 1 14 1 14 2 14 2 14 1 15 2 14 1 14 1 14 2 14 2 15 0 14 1 14 2 14 1 14 1 15 1 14 1 14 1 14 1 15 1 14 0 14 1 14 1 14 1 15 0 14 1 14 1 14 0 14 1 15 1 14 0 14 0 15 3 5 3 6 5"/>
<path stroke="#8c564b" d="M183 920l4 11 5 10 4 10 4 9 3 4 2 4 2 3 2 0 2 0 3 0 2-35 2-100 2-100 2-100 2-100 3-59 2 0 2 0 2-6 2-6 3-5 2-1 2 1 2 3 1 3 10 17 10 1 10-9 10-6 9-3 10-5 10-4 10 0 10 2 10 4 9-2 10 5 10 7 10 8 10 8 10 5 10 5 9 5 10 3 10 3 10 4 10 8 10 7 9 7 10 9 10 9 10 6 10 8 10 5 9 4 10 3 10 0 10 1 10 0 10-2 9-1 10-2 10-3 10-4 10-3 10-6 9-7 7-5 4-5 4-6 4-4 3-4 4-5 4-11 4-11 4-11 3-18 4-23 4-19 4-18 4-18 4-12 3 0 4 4 4 7 4 9 4 11 4 12 3 14 4 13 4 11 4 7 4 7 4 8 3 7 4 6 4 2 4 2 10 7 10 10 9 8 10 7 10 7 10 9 10 10 10 9 9 10 10 11 10 9 10 9 10 8 10 8 9 6 10 6 10 8 10 7 10 4 10 2 9 7 10 9 10 12 10 14 10 15 10 15 9 15 10 13 10 10 10 8 10 7 10 7 10 5 9 5 10 5 10 4 10 5 10 4 3 1 14 4 14 3 15 4 14 6 14 4 14 4 14 4 15 4 14 4 14 3 14 3 15 4 14 4 14 5 14 3 14 3 15 4 14 3 14 4 14 3 14 3 15 3 14 2 14 2 14 4 14 3 15 2 14 1 14 2 14 2 15 1 14 2 14 2 14 1 14 1 15 1 14 1 14 1 14 2 14 1 15 1 14 2 14 2 15 6 5 7 6 13"/>
<path stroke="#ff7f0e" d="M183 909l4 13 5 13 4 12 4 11 3 5 2 5 2 3 2 0 2 0 3 0 2 0 2-49 2-88 2-89 2-89 3-88 2-88 2-12 2-6 2-3 3 0 2-2 2-3 2 1 1 2 10 17 10 2 10-9 10-4 9-4 10-4 10-3 10 0 10 1 10 6 9-1 10 1 10 5 10 10 10 6 10 5 10 6 9 6 10 3 10 3 10 5 10 7 10 10 9 7 10 7 10 8 10 7 10 6 10 8 9 5 10 1 10 1 10 1 10-2 10-3 9-1 10-3 10-4 10-4 10-4 10-4 9-5 7-5 4-5 4-6 4-5 3-6 4-7 4-10 4-13 4-12 3-16 4-20 4-22 4-22 4-19 4-10 3 0 4 4 4 9 4 11 4 10 4 14 3 14 4 13 4 12 4 9 4 7 4 6 3 6 4 4 4 5 4 3 10 10 10 10 9 7 10 6 10 10 10 9 10 8 10 10 9 10 10 9 10 9 10 9 10 9 10 8 9 7 10 7 10 6 10 7 10 5 10 4 9 6 10 8 10 13 10 15 10 15 10 15 9 16 10 13 10 10 10 10 10 7 10 5 10 7 9 6 10 4 10 3 10 4 10 5 3 0 14 4 14 5 15 4 14 5 14 5 14 3 14 4 15 4 14 4 14 4 14 4 15 4 14 4 14 4 14 3 14 4 15 3 14 3 14 4 14 2 14 3 15 2 14 3 14 4 14 3 14 1 15 2 14 2 14 2 14 2 15 1 14 2 14 1 14 1 14 2 15 1 14 2 14 1 14 1 14 2 15 1 14 2 14 1 15 6 5 7 6 14"/>
<path stroke="#9467bd" d="M183 922l4 11 5 10 4 9 4 9 3 4 2 3 2 3 2 0 2 0 3 0 2 0 2-65 2-91 2-92 2-91 3-92 2-91 2-54 2-8 2-5 3-4 2-1 2 0 2 2 1 3 10 18 10-1 10-12 10-5 9-4 10-2 10-4 10-3 10 3 10 8 9-1 10 4 10 7 10 11 10 7 10 5 10 6 9 4 10 4 10 5 10 6 10 8 10 10 9 10 10 8 10 9 10 11 10 10 10 7 9 4 10 0 10 1 10 3 10 1 10-1 9-2 10-4 10-3 10-1 10-2 10-5 9-6 7-5 4-3 4-7 4-8 3-9 4-11 4-10 4-9 4-15 3-19 4-21 4-19 4-20 4-19 4-11 3 0 4 1 4 7 4 10 4 11 4 14 3 15 4 13 4 15 4 13 4 8 4 5 3 4 4 6 4 8 4 5 10 9 10 11 9 7 10 6 10 9 10 10 10 12 10 11 9 10 10 11 10 11 10 10 10 11 10 9 9 7 10 7 10 9 10 8 10 4 10 2 9 6 10 10 10 15 10 17 10 18 10 16 9 15 10 13 10 12 10 9 10 8 10 8 10 7 9 5 10 4 10 6 10 4 10 5 3 0 14 6 14 5 15 4 14 5 14 4 14 6 14 4 15 4 14 4 14 6 14 4 15 5 14 4 14 4 14 4 14 3 15 5 14 4 14 4 14 3 14 4 15 2 14 3 14 3 14 3 14 3 15 3 14 2 14 1 14 2 15 2 14 2 14 2 14 2 14 1 15 1 14 2 14 1 14 1 14 2 15 1 14 1 14 2 15 8 5 8 6 16"/>
</g>
<path d="M183 1014V76H1796.5" class="f"/>
<path d="M183 1014H1794V88" class="f"/>
<path d="M1759 87H1805V66" fill="none" stroke="#ccc" stroke-width="2"/>
<line x1="446.4" y1="1014" x2="446.4" y2="1031" class="f"/>
<text transform="translate(446.4 1084) scale(1 1.134)" class="tl">500</text>
<line x1="719.7" y1="1014" x2="719.7" y2="1031" class="f"/>
<text transform="translate(719.7 1084) scale(1 1.134)" class="tl">1000</text>
<line x1="993.0" y1="1014" x2="993.0" y2="1031" class="f"/>
<text transform="translate(993.0 1084) scale(1 1.134)" class="tl">1500</text>
<line x1="1266.3" y1="1014" x2="1266.3" y2="1031" class="f"/>
<text transform="translate(1266.3 1084) scale(1 1.134)" class="tl">2000</text>
<line x1="1539.6" y1="1014" x2="1539.6" y2="1031" class="f"/>
<text transform="translate(1539.6 1084) scale(1 1.134)" class="tl">2500</text>
<text x="778" y="1166" class="ax">Raman Shift (cm<tspan class="sup" dy="-18">-</tspan><tspan class="sup" dx="5">1</tspan><tspan dx="3" dy="18">)</tspan></text>
<text x="24" y="157.7" class="pl">(A)</text>
<line x1="181" y1="1227.0" x2="1792" y2="1227.0" class="g"/>
<line x1="181" y1="1352.9" x2="1792" y2="1352.9" class="g"/>
<line x1="181" y1="1478.7" x2="1792" y2="1478.7" class="g"/>
<line x1="181" y1="1604.6" x2="1792" y2="1604.6" class="g"/>
<line x1="181" y1="1730.4" x2="1792" y2="1730.4" class="g"/>
<line x1="181" y1="1856.3" x2="1792" y2="1856.3" class="g"/>
<line x1="181" y1="1982.1" x2="1792" y2="1982.1" class="g"/>
<line x1="181" y1="2108.0" x2="1792" y2="2108.0" class="g"/>
<line x1="444.1" y1="1220" x2="444.1" y2="2151" class="g"/>
<line x1="717.5" y1="1220" x2="717.5" y2="2151" class="g"/>
<line x1="990.9" y1="1220" x2="990.9" y2="2151" class="g"/>
<line x1="1264.3" y1="1220" x2="1264.3" y2="2151" class="g"/>
<line x1="1537.7" y1="1220" x2="1537.7" y2="2151" class="g"/>
<use href="#cA" transform="matrix(1.00037 0 0 0.9977 -2.46 1139.2)"/>
<path d="M181 2151V1219H1794.5" class="f"/>
<path d="M181 2151H1792V1227" class="f"/>
<path d="M1757 1226H1803V1209" fill="none" stroke="#ccc" stroke-width="2"/>
<line x1="444.1" y1="2151" x2="444.1" y2="2168" class="f"/>
<text transform="translate(444.1 2223.5) scale(1 1.134)" class="tl">500</text>
<line x1="717.5" y1="2151" x2="717.5" y2="2168" class="f"/>
<text transform="translate(717.5 2223.5) scale(1 1.134)" class="tl">1000</text>
<line x1="990.9" y1="2151" x2="990.9" y2="2168" class="f"/>
<text transform="translate(990.9 2223.5) scale(1 1.134)" class="tl">1500</text>
<line x1="1264.3" y1="2151" x2="1264.3" y2="2168" class="f"/>
<text transform="translate(1264.3 2223.5) scale(1 1.134)" class="tl">2000</text>
<line x1="1537.7" y1="2151" x2="1537.7" y2="2168" class="f"/>
<text transform="translate(1537.7 2223.5) scale(1 1.134)" class="tl">2500</text>
<text x="775" y="2303" class="ax">Raman Shift (cm<tspan class="sup" dy="-18">-</tspan><tspan class="sup" dx="5">1</tspan><tspan dx="3" dy="18">)</tspan></text>
<text x="23" y="1286" class="pl">(B)</text>
<line x1="179.5" y1="3230.5" x2="1803.5" y2="3230.5" class="g"/>
<line x1="179.5" y1="3062.9" x2="1803.5" y2="3062.9" class="g"/>
<line x1="179.5" y1="2895.3" x2="1803.5" y2="2895.3" class="g"/>
<line x1="179.5" y1="2727.7" x2="1803.5" y2="2727.7" class="g"/>
<line x1="179.5" y1="2560.1" x2="1803.5" y2="2560.1" class="g"/>
<line x1="179.5" y1="2392.5" x2="1803.5" y2="2392.5" class="g"/>
<line x1="445.7" y1="2352" x2="445.7" y2="3272.5" class="g"/>
<line x1="721.0" y1="2352" x2="721.0" y2="3272.5" class="g"/>
<line x1="996.4" y1="2352" x2="996.4" y2="3272.5" class="g"/>
<line x1="1271.8" y1="2352" x2="1271.8" y2="3272.5" class="g"/>
<line x1="1547.2" y1="2352" x2="1547.2" y2="3272.5" class="g"/>
<g class="c" stroke-width="6.5">
<path fill="#8c7e6e" stroke="none" d="M309 3002l9-6 9-7 9-6 8-6 9-6 9-7 9-6 9-6 8-6 9-7 9-6 9-6 9-6 8-7 9-6 9-6 9-6 9-6 9-7 8-6 9-6 9-6 9-6 9-6 8-7 9-6 9-6 9-6 6-5 7-6 7-8 6-7 7-8 6-8 7-8 7-7 6-7 7-8 7-7 6-8 7-6 6-4 7-4 7-5 6-5 7-6 6-8 7-10 7-12 6-11 7-14 6-12 7-9 7-3 6 1 7 2 6 3 7 3 7 3 6 3 7 3 7 2 6 3 7 2 6 1 7 1 7-3 6-2 7-1 6 1 7 1 7 1 6 1 7 1 6 2 7 2 7 1 6 2 7 1 6 2 7 1 7 1 6 1 7 1 7 1 6 0 7 0 6 0 7 0 7 0 6 0 7 0 6 0 7 1 7 0 6 1 7 1 6 2 7 2 7 4 6 4 7 2 7 1 6-2 7-2 6-4 7-5 7-5 6-7 7-6 6-6 3-2 5-5 6-4 5-4 6-3 5-1 6-1 5 0 6 0 5 0 6 0 5 0 6 0 5 0 6 0 5 0 6 0 5 0 6 0 5 0 6 0 5 0 6 0 5 0 6 0 5 0 6 0 5 0 6 0 5 0 6 0 5 0 6 0 5 0 6 0 5 0 6 0 5 0 6 0 5 0 6 0 5 0 6 0 5 0 6 0 5 0 6 0 5 0 6 0 5 0 6 0 5 0 6 0 5 0 6 0 5 0 6 0 6 0 5 0 6 0 5 0 6 0 5 0 6 0 5 0 6 0 5 0 6 0 5 0 6 0 5 0 6 0 5 0 6 0 5 0 6 0 5 0 6 0 5 0 6 0 5 0 6 0 5 0 6 0 5 0 6 0 5 0 6 0 5 0 6 0 5 0 6 0 5 0 6 0 5 0 6 0 5 0 6 0 5 0 6 0 5 0 6 0 5 0 6 0 5 0 6 0 5 0 6 0 5 0 6 0 5 0 6 0 5 0 6 0 5 0 6 0 5 0 6 0 5 0 6 0 5 0 6 0 5 0 6 0 6 0 8 0 5 0 0 590-5 0-8 0-6 0-6 0-5 0-6 0-5 0-6 0-5 0-6 0-5 0-6 0-5 0-6 0-5 0-6 0-5 0-6 0-5 0-6 0-5 0-6 0-5 0-6 0-5 0-6 0-5 0-6 0-5 0-6 0-5 0-6 0-5 0-6 0-5 0-6 0-5 0-6 0-5 0-6 0-5 0-6 0-5 0-6 0-5 0-6 0-5 0-6 0-5 0-6 0-5 0-6 0-5 0-6 0-5 0-6 0-5 0-6 0-5 0-6 0-5 0-6 0-5 0-6 0-5 0-6 0-5 0-6 0-5 0-6 0-6 0-5 0-6 0-5 0-6 0-5 0-6 0-5 0-6 0-5 0-6 0-5 0-6 0-5 0-6 0-5 0-6 0-5 0-6 0-5 0-6 0-5 0-6 0-5 0-6 0-5 0-6 0-5 0-6 0-5 0-6 0-5 0-6 0-5 0-6 0-5 0-6 0-5 0-6 0-5 0-6 0-5 0-6 0-5 0-6 0-5 0-6 0-5-2-6-4-5-6-6-8-5-10-6-12-5-12-6-13-5-14-3-6-6-17-7-17-6-14-7-12-7-7-6-8-7-7-6-7-7-8-7-9-6-8-7-7-7-4-6-3-7-2-6-1-7-1-7-1-6 0-7 0-6 0-7 0-7 0-6 0-7 0-6-1-7-1-7-1-6-2-7-2-7-3-6-2-7-3-6-2-7-3-7-3-6-2-7-3-6-2-7-2-7-1-6-1-7 0-6 5-7 4-7 0-6-3-7-4-6-4-7-4-7-5-6-5-7-6-7-5-6-5-7-4-6-2-7 6-7 12-6 17-7 18-6 17-7 16-7 14-6 11-7 8-6 8-7 6-7 6-6 5-7 6-6 5-7 4-7 4-6 4-7 4-7 4-6 5-7 5-6 4-7 4-7 3-6 1-9 0-9 0-9 0-8 1-9 0-9 0-9 0-9 1-8 0-9 0-9 1-9 0-9 0-9 1-8 0-9 0-9 1-9 0-9 0-8 1-9 0-9 0-9 1-9 0-8 0-9 0-9 1-9 0z"/>
<path fill="#8c7e6e" stroke="none" d="M256 3173l9 0 9 0 9 0 8 0 9 0 9 0 9 0 9 0 9 0 8 0 9 0 9 0 9 0 9 0 8 0 9 0 9 0 9 0 9 0 8 0 9 0 9 0 9 0 9 0 9 0 8 0 9 0 9 0 9 0 9 0 8 0 9 0 9 0 9 0 6 0 7 0 7 0 6 0 7 0 6-1 7-1 7-3 6-4 7-4 7-5 6-5 7-6 6-6 7-5 7-6 6-6 7-5 6-4 7-5 7-9 6-8 7-7 6-4 7-1 7 1 6 4 7 7 6 8 7 4 7 0 6 0 7 0 7 0 6 0 7 0 6 0 7 0 7 0 6 0 7 0 6 0 7 0 7 0 6 0 7 0 6 0 7 0 7 0 6 0 7 0 6 0 7 0 7 0 6 0 7 0 7 0 6 0 7 0 6 0 7 0 7 0 6 0 7 0 6 0 7 0 7 0 6 0 7 0 6 0 7 0 7 0 6 1 7 3 7 5 6 5 7 6 6 7 7 7 7 7 6 7 7 7 6 5 3 2 5 4 6 3 5 1 6 1 5 0 6 0 5 0 6 0 5 0 6 0 0 55-6 0-5 0-6 0-5 0-6 0-5 0-6 0-5 0-6 0-5 0-3 0-6 0-7 0-6 0-7 0-7 0-6 0-7 0-6 0-7 0-7 0-6 0-7 0-7 0-6 0-7 0-6 0-7 0-7 0-6 0-7 0-6 0-7 0-7 0-6 0-7 0-6 0-7 0-7 0-6 0-7 0-7 0-6 0-7 0-6 0-7 0-7 0-6 0-7 0-6 0-7 0-7 0-6 0-7 0-6 0-7 0-7 0-6 0-7 0-6 0-7 0-7 0-6 0-7 0-7 0-6 0-7 0-6 0-7 0-7 0-6 0-7 0-6 0-7 0-7 0-6 0-7 0-6 0-7 0-7 0-6 0-7 0-6 0-7 0-7 0-6 0-7 0-7 0-6 0-7 0-6 0-7 0-7 0-6 0-9 0-9 0-9 0-8 0-9 0-9 0-9 0-9 0-8 0-9 0-9 0-9 0-9 0-9 0-8 0-9 0-9 0-9 0-9 0-8 0-9 0-9 0-9 0-9 0-8 0-9 0-9 0-9 0-9 0-9 0-8 0-9 0-9 0-9 0z"/>
<path stroke="#d62728" d="M180 2622l2-28 2-14 1 16 2 9 1-13 2-22 2 2 1-2 2 23 2-22 1-21 2 43 2 112 1 144 2 111 2 125 1 123 2-84 2-131 1-131 2-131 2-67 1 2 2 3 2 4 1 4 2 4 1-2 2 4 2 4 1 0 2 3 2 1 1 3 2 0 2 1 1 4 2-3 2 2 1-4 1 5 9-1 9 5 9-2 9 4 8 3 9-2 9 0 9 2 9-2 9 1 8-2 9 1 9-3 9 5 9-2 8 1 9 1 9 0 9-2 9 2 8-1 9-1 9-1 9 3 9-1 9 1 8 0 9 0 9 1 9 1 9-2 8-1 9 2 9-1 9 0 6 0 7-3 7 0 6-4 7 0 6-6 7-1 7-1 6-2 7-4 7-3 6-1 7-6 6-6 7 3 7-7 6-4 7-4 6-5 7-10 7-9 6-10 7-8 6-12 7-6 7-4 6 1 7 1 6 1 7 6 7 3 6 0 7 0 7 5 6 2 7 0 6 0 7 2 7-3 6-2 7 1 6 0 7 2 7-1 6 2 7 1 6 1 7 4 7 1 6-1 7 3 6 4 7-6 7 7 6-5 7-4 7 6 6 7 7-3 6 0 7-6 7 13 6-10 7 0 6 6 7-4 7-6 6 7 7-1 6 4 7 1 7 4 6-1 7-2 7 8 6-2 7 7 6 2 7-6 7 5 6 10 7-4 6 0 3-1 5-6 6 13 5-15 6 4 5-1 6 3 5-7 6-1 5-3 6 9 5-3 6 4 5 9 6-8 5 4 6 1 5 2 6-7 5 4 6 1 5-10 6 3 5 11 6-8 5 2 6 0 5-7 6 8 5-5 6 11 5 4 6-1 5-1 6-3 5-4 6 0 5 7 6-10 5 12 6-10 5-7 6 2 5-4 6 22 5-9 6 0 5-6 6-9 5 4 6 10 5-14 6 1 5 17 6-13 5 14 6-15 6 1 5 1 6 16 5 4 6-13 5 5 6-16 5 5 6 3 5-8 6 8 5 11 6-3 5-8 6-8 5 11 6 4 5 5 6-11 5-3 6 6 5 11 6-24 5 11 6 14 5-8 6-21 5-7 6 30 5-10 6 4 5 5 6 3 5-7 6-10 5 6 6 11 5-23 6-1 5 15 6 2 5-9 6 17 5-9 6 6 5-10 6 6 5-9 6-2 5-4 6 9 5 5 6 2 5-8 6-15 5 24 6 3 5-7 6 11 5-1 6-24 5 26 6-18 5-1 6-1 5 3 6 6 6-3 8 14 5-14"/>
<path stroke="#9467bd" d="M180 3078l2 15 2-25 1-38 2 17 1-19 2-3 2 3 1 17 2 28 2 19 1 31 2 45 2 46 1-166 2-303 2-303 1-5 2 39 2 33 1 33 2 25 2 26 1 23 2 20 2 19 1 21 2 17 1 11 2 13 2 14 1 14 2 6 2 14 1 6 2 4 2 9 1 3 2 9 2 6 1 3 1 4 9 18 9 9 9 8 9 3 8 0 9 5 9 1 9 1 9-2 9 1 8-1 9-1 9 2 9 0 9-2 8-1 9 4 9-2 9-2 9 0 8 0 9 1 9-2 9 2 9 0 9-4 8 1 9 0 9 0 9 0 9 1 8-2 9 1 9 0 9 0 6-3 7-1 7-1 6-4 7-7 6 1 7-6 7-2 6-4 7-1 7-5 6-4 7-5 6-3 7-5 7-5 6-8 7-7 6-7 7-10 7-15 6-13 7-16 6-12 7-7 7-7 6 3 7 1 6 4 7 2 7 3 6 6 7 2 7 4 6 0 7 6 6 1 7-1 7-3 6-4 7 4 6-2 7 1 7 2 6-2 7 6 6 0 7 1 7 2 6 3 7 1 6 1 7 2 7 0 6 7 7-4 7 1 6 3 7 1 6-1 7 0 7-5 6 0 7 4 6-7 7 7 7 0 6-1 7-1 6 7 7 9 7-3 6 3 7 13 7 9 6 3 7-3 6 9 7 12 7 10 6-6 7 14 6 4 3-7 5 10 6-2 5 6 6 12 5-7 6 7 5 4 6 2 5-2 6 1 5 7 6-6 5 5 6-10 5 8 6-2 5 4 6-5 5 2 6 8 5-13 6 4 5 2 6-15 5 16 6 9 5-9 6-1 5-13 6 7 5 6 6-3 5-5 6 5 5 2 6-10 5 2 6 4 5 12 6-12 5-13 6-2 5-3 6 21 5-2 6 17 5-12 6-4 5 10 6-8 5 1 6-6 5 6 6-4 5 9 6-15 6 13 5-2 6-7 5-10 6 10 5 1 6 0 5-2 6 15 5-16 6 12 5 10 6-3 5-6 6-10 5 15 6-6 5 3 6-7 5-1 6-2 5 8 6-1 5-14 6 4 5 5 6 0 5 5 6-5 5 2 6 16 5-3 6-25 5 8 6 7 5 0 6-21 5 19 6 13 5-8 6-8 5-9 6 14 5-8 6 6 5 2 6-1 5 0 6-3 5-11 6 11 5-1 6 0 5-5 6-6 5 21 6-6 5 2 6-5 5 1 6-1 5 2 6-9 5 10 6-13 5 4 6-1 6 20 8-22 5 7"/>
<path stroke="#1f77b4" d="M180 2941l2 7 2-30 1-16 2 19 1-10 2-21 2 13 1 17 2 41 2 65 1 49 2 69 2 48 1-5 2-194 2-195 1-194 2-187 2 52 1 45 2 40 2 36 1 38 2 33 2 30 1 24 2 25 1 21 2 20 2 18 1 17 2 16 2 13 1 14 2 11 2 10 1 7 2 12 2 6 1 7 1 7 9 24 9 15 9 13 9 4 8 4 9 2 9 0 9 3 9-3 9 4 8-5 9 0 9 3 9 0 9-3 8 3 9 1 9-3 9-2 9-1 8 2 9 0 9 0 9-5 9 2 9-3 8 2 9 3 9-3 9 0 9-1 8-3 9 1 9 0 9 1 6 0 7-3 7-2 6-4 7-5 6-4 7-4 7-1 6-2 7-5 7-4 6-1 7-7 6-2 7-5 7-6 6-9 7-2 6-12 7-12 7-10 6-13 7-15 6-14 7-7 7-7 6 2 7 3 6 2 7 8 7 0 6 3 7 5 7 5 6-3 7 9 6-3 7 5 7-6 6-3 7-1 6 2 7 1 7 3 6-1 7 1 6 2 7 1 7 9 6-6 7 4 6 3 7 0 7 0 6 6 7 1 7-1 6 1 7 7 6-9 7 0 7-3 6 10 7-5 6 5 7-3 7-3 6 6 7 1 6 0 7 2 7 10 6 8 7 4 7 6 6 8 7 5 6 15 7 7 7 3 6 8 7 9 6 8 3 2 5 9 6 7 5 2 6 3 5 5 6 3 5 0 6 5 5-4 6 7 5 4 6-1 5-3 6 9 5-7 6 2 5 0 6 9 5-8 6 3 5-5 6 6 5-10 6-6 5 14 6 3 5-8 6 3 5-3 6 4 5-8 6 4 5 11 6-18 5 13 6-12 5 10 6-12 5 5 6 0 5-13 6 27 5-1 6-24 5 12 6 10 5-11 6 2 5-11 6 14 5 4 6-18 5 11 6 5 5 3 6-3 6-12 5 15 6 6 5-13 6-15 5-2 6 38 5-38 6 30 5-16 6 1 5 0 6-6 5 20 6-9 5-12 6 12 5-2 6-8 5 7 6-12 5 23 6-2 5 6 6-18 5-1 6 1 5 10 6-9 5 4 6-6 5 17 6-13 5-4 6 8 5-6 6 2 5 13 6-26 5 14 6 1 5 11 6-16 5 11 6-1 5-3 6 0 5-7 6-1 5 11 6 3 5-12 6 9 5-2 6 1 5-4 6-7 5-6 6 21 5-25 6 24 5-15 6 6 5 2 6 2 5-8 6 10 6 2 8 0 5 5"/>
<path stroke="#ff7f0e" d="M180 3043l2 8 2-44 1 7 2-5 1 2 2 29 2 3 1 8 2-25 2 31 1 46 2 42 2 52 1 18 2-9 2-189 1-188 2-188 2-189 1-7 2 15 2 17 1 14 2 11 2 14 1 11 2 10 1 9 2 6 2 11 1 5 2 8 2 4 1 8 2 3 2 6 1 1 2 6 2 3 1 2 1 1 9 13 9 7 9 3 9 3 8 1 9 0 9 0 9 4 9-1 9 0 8 0 9 0 9 0 9 2 9-1 8 0 9 0 9 0 9 3 9-2 8 2 9-2 9 1 9 2 9-4 9 1 8 0 9 2 9-3 9 2 9-1 8 0 9 6 9-4 9 3 6-1 7-1 7-5 6-5 7 2 6-9 7-4 7 1 6-2 7-4 7-5 6-5 7-1 6-3 7-6 7-2 6-8 7-5 6-10 7-9 7-10 6-13 7-15 6-13 7-10 7-3 6 3 7 2 6-1 7 7 7 4 6-1 7 5 7 0 6 4 7 2 6 3 7-1 7-3 6-1 7-6 6 3 7 3 7 1 6 3 7-2 6 1 7 4 7 1 6-2 7 8 6 0 7 0 7 8 6-7 7 3 7 2 6-2 7-1 6 2 7 1 7 1 6-4 7 1 6-2 7 1 7 1 6 1 7 9 6-7 7 3 7 14 6 0 7-9 7 14 6 3 7-1 6 4 7 11 7 2 6 1 7-2 6 12 3-4 5 1 6 2 5-7 6 10 5 7 6-4 5-3 6 9 5-11 6 5 5 7 6 2 5 0 6-11 5 12 6-1 5-6 6 13 5-11 6 1 5 4 6-1 5 0 6-6 5 5 6-1 5-7 6-3 5 24 6-21 5 2 6 9 5-3 6-13 5 16 6 1 5-5 6-3 5 3 6-7 5-2 6 12 5 10 6-5 5-5 6 2 5-1 6 3 5 0 6-16 5 3 6 17 5-18 6-7 5 24 6-9 6 3 5 6 6-17 5 8 6 1 5-4 6 1 5-1 6 6 5-10 6 5 5-8 6 10 5 7 6-14 5 4 6-7 5 24 6-15 5 3 6 15 5-20 6 1 5-5 6-5 5 24 6-11 5-1 6 3 5-10 6 8 5 2 6 5 5-10 6-3 5 5 6 5 5 3 6-12 5-2 6-8 5 8 6 7 5 2 6-14 5-5 6 7 5 21 6-8 5-7 6 19 5-15 6-5 5 5 6-2 5-2 6 10 5-9 6 2 5 2 6 5 5-20 6 5 5 4 6-3 5 4 6-7 6 1 8-3 5 12"/>
<path stroke="#e377c2" d="M180 2857l2 39 2-29 1 29 2-8 1 1 2 9 2 61 1 59 2 62 2 48 1 54 2 46 2-243 1-261 2-260 2-6 1 60 2 53 2 51 1 42 2 40 2 37 1 33 2 30 2 27 1 26 2 23 1 20 2 20 2 17 1 13 2 14 2 13 1 13 2 10 2 9 1 11 2 9 2 7 1 7 1 4 9 25 9 12 9 11 9 4 8 8 9-2 9 1 9 3 9 0 9-2 8 2 9-2 9 4 9-6 9 1 8 2 9 0 9-2 9 1 9-2 8 2 9-3 9 4 9-5 9-1 9 2 8-1 9 0 9 0 9 0 9-4 8 3 9-2 9 2 9-1 6-1 7-3 7-1 6-5 7-5 6-5 7-1 7-1 6-10 7-3 7-1 6-7 7-5 6-3 7-8 7-5 6-5 7-10 6-10 7-8 7-17 6-14 7-18 6-16 7-10 7-2 6-2 7 2 6 4 7 7 7 7 6 2 7 6 7 1 6 4 7 2 6 4 7 1 7-5 6 1 7-6 6 5 7 2 7-3 6 7 7 1 6-1 7 5 7 0 6 4 7 1 6 5 7 0 7 2 6 2 7 1 7 0 6-6 7 9 6-3 7 3 7-1 6 1 7-3 6 4 7-1 7 3 6 0 7 1 6-1 7 6 7-5 6 24 7 3 7 17 6 2 7 14 6 4 7 7 7 13 6 18 7-2 6 3 3 20 5 2 6 4 5 6 6-5 5 9 6 5 5 10 6-5 5 6 6-7 5 17 6-11 5 17 6-10 5 2 6 8 5-3 6-15 5 9 6 8 5-10 6-2 5 3 6-4 5 1 6 6 5 2 6-11 5 11 6 2 5-5 6 4 5 0 6-9 5 4 6-1 5 3 6-3 5-3 6-6 5 10 6-12 5 9 6 2 5-3 6 2 5 6 6 7 5-7 6-11 5 16 6-6 5-6 6 0 5 2 6 3 6 5 5 2 6-19 5 16 6-8 5-10 6 17 5-13 6 8 5 10 6 6 5-14 6-1 5-2 6-4 5 3 6 5 5-1 6-3 5-1 6 0 5 5 6 7 5-24 6 7 5 2 6 1 5 18 6-17 5 1 6 29 5-36 6 8 5-4 6-6 5 6 6 10 5 6 6-9 5 5 6-11 5 6 6-5 5-8 6 13 5 10 6-8 5 0 6 6 5-5 6-5 5 8 6 7 5-2 6-12 5-18 6 24 5-14 6 1 5 0 6 16 5-12 6-5 5 23 6-15 5-7 6-1 6 12 8-10 5 12"/>
<path stroke="#8c564b" d="M180 2639l2-19 2-25 1 16 2-13 1-24 2 27 2 18 1-13 2-4 2-19 1-5 2 54 2 114 1 129 2 124 2 102 1 117 2-138 2-168 1-167 2-168 2-37 1 7 2 8 2 7 1 4 2 5 1 4 2 4 2 5 1 2 2 3 2 4 1 5 2 1 2-1 1 6 2 1 2 0 1 3 1 0 9 8 9 0 9 5 9-2 8 1 9 2 9-4 9 5 9 1 9-5 8 2 9 2 9-3 9 0 9 5 8-4 9 4 9-1 9-1 9-2 8 3 9-1 9-2 9 0 9 1 9-1 8 1 9 1 9-2 9 1 9 0 8 0 9-1 9 2 9 1 6-4 7 0 7-1 6-1 7-4 6-3 7 0 7-4 6-3 7 0 7-3 6-3 7-5 6-1 7-1 7-4 6-6 7-4 6-2 7-12 7-4 6-9 7-8 6-14 7-3 7-5 6 2 7 0 6 5 7 2 7-1 6 2 7 5 7 0 6 3 7 1 6 2 7 0 7-3 6 1 7-1 6-1 7 1 7 0 6 1 7 0 6 5 7-3 7 5 6 0 7 1 6 1 7 1 7-3 6 0 7 2 7 1 6 1 7 0 6 2 7-6 7 5 6-3 7 0 6 0 7 3 7-3 6 6 7 1 6-4 7 2 7 5 6 8 7 0 7-2 6 4 7-3 6 4 7-2 7 7 6-2 7 1 6-7 3 5 5 1 6 6 5-13 6 4 5-1 6 7 5-5 6 10 5 2 6-16 5 17 6-2 5 1 6-1 5-4 6-1 5-1 6-2 5 7 6-2 5 1 6 0 5-11 6 10 5-4 6-1 5 5 6 5 5-6 6 3 5 8 6-5 5-1 6-8 5 10 6-8 5 13 6 3 5-18 6 7 5-1 6 9 5-19 6 17 5 0 6-7 5 3 6-5 5 4 6-4 5-9 6 6 5 0 6 8 5-7 6 7 6 4 5-11 6 7 5-14 6 11 5 7 6 0 5 20 6-32 5 5 6 0 5-6 6 5 5-10 6 8 5 26 6-30 5 14 6 3 5 1 6-7 5-2 6 4 5 1 6-21 5 26 6-12 5 7 6 1 5-6 6-13 5-5 6 22 5-13 6-7 5 8 6 5 5 13 6-23 5 13 6-2 5-5 6-5 5 21 6-14 5 4 6-5 5 18 6-13 5-6 6 11 5-6 6-10 5-4 6 7 5 1 6-9 5-4 6 18 5 0 6 4 5-15 6 10 5 1 6-4 5-5 6 8 6-5 8-1 5 3"/>
<path stroke="#ff7f0e" d="M180 2998l2-54 2 0 1-1 2-2 1 15 2-14 2-3 1 28 2-9 2-5 1 35 2 48 2 52 1 58 2 47 2 32 1-223 2-265 2-265 1-16 2 45 2 41 1 39 2 32 2 31 1 27 2 25 1 27 2 19 2 22 1 15 2 18 2 14 1 16 2 7 2 15 1 9 2 11 2 8 1 8 1 1 9 28 9 19 9 11 9 9 8 3 9 3 9 2 9-1 9 0 9 2 8-1 9 1 9 1 9-2 9 0 8 2 9 1 9 0 9-1 9 1 8-1 9-2 9 2 9-2 9 3 9 0 8-1 9 2 9-2 9 1 9 0 8-1 9 3 9-4 9 4 6-2 7-3 7-1 6-6 7-3 6-7 7 1 7-4 6-3 7-4 7-1 6-7 7-1 6-7 7-6 7-4 6-6 7-4 6-11 7-11 7-11 6-13 7-17 6-15 7-11 7-4 6 3 7 5 6 0 7 6 7 4 6 3 7 3 7 3 6 2 7 5 6 1 7-3 7-1 6-3 7 0 6 2 7 2 7-2 6 2 7 1 6 7 7-6 7 5 6 4 7 4 6-3 7 1 7 4 6 2 7 3 7-4 6 1 7 5 6-3 7-2 7 5 6-1 7-2 6 0 7 0 7 6 6-7 7 4 6-1 7 10 7-8 6 16 7 8 7 8 6 4 7-9 6 14 7-10 7 7 6 12 7-7 6 5 3 3 5 1 6 1 5-2 6-2 5 3 6 4 5-4 6 3 5 9 6-8 5 11 6-6 5 3 6 0 5 9 6-14 5-3 6-2 5 1 6 6 5 6 6-10 5 2 6-7 5 8 6 11 5-5 6-3 5 5 6-17 5 11 6 4 5 7 6-17 5 6 6 0 5-4 6 9 5-9 6-3 5 6 6-9 5 16 6-5 5 1 6 2 5-7 6 0 5 9 6-7 5-13 6 10 5 0 6-9 5 13 6-5 6 16 5-16 6-7 5 3 6 10 5-10 6 16 5 1 6-12 5 3 6-9 5 0 6 12 5 3 6 0 5 6 6-21 5 1 6 14 5-14 6 6 5-3 6 12 5-14 6-5 5 27 6-27 5 5 6 12 5-7 6-1 5 7 6-5 5 5 6-10 5-4 6 15 5-1 6-11 5 1 6-9 5 16 6 0 5 0 6 7 5-10 6 5 5-5 6-13 5 23 6 5 5-7 6-18 5 14 6-7 5-9 6 24 5-6 6-8 5 10 6 8 5-2 6-2 5-4 6-5 5-11 6 12 6-1 8-9 5 9"/>
<path stroke="#1f77b4" d="M180 3097l2-45 2-12 1 9 2 35 1-3 2-18 2-29 1-16 2 26 2 56 1 32 2 46 2 36 1-53 2-179 2-178 1-178 2-179 2-2 1 35 2 26 2 26 1 23 2 19 2 22 1 15 2 16 1 16 2 13 2 10 1 13 2 15 2 4 1 10 2 4 2 9 1 6 2 7 2 3 1 5 1 3 9 21 9 10 9 4 9 5 8 1 9 0 9 4 9 0 9-1 9-1 8 0 9 2 9 0 9-1 9 0 8-1 9 0 9-1 9 0 9-2 8 1 9 2 9-4 9 3 9-1 9-1 8-2 9 1 9 2 9-3 9 1 8-2 9 3 9-1 9 0 6 0 7-3 7-1 6-6 7-4 6-4 7-7 7 1 6-4 7-4 7-3 6-4 7-6 6-3 7-5 7-5 6-5 7-8 6-9 7-11 7-16 6-13 7-17 6-8 7-15 7-3 6 2 7 2 6 2 7 3 7 5 6 4 7 1 7 4 6 7 7 0 6 5 7-2 7-6 6 1 7-3 6 2 7 0 7-1 6 1 7 6 6 1 7 1 7 4 6-2 7 5 6 5 7-8 7 11 6-4 7 0 7 5 6-4 7 3 6-3 7 2 7 7 6-8 7-3 6 2 7 2 7-2 6 4 7-4 6 3 7 2 7 10 6 6 7 5 7 2 6 6 7-3 6 3 7 3 7 6 6-1 7 9 6-8 3 3 5-3 6 0 5-2 6 5 5 1 6-1 5 2 6-1 5 0 6 8 5 4 6-12 5 7 6 0 5 3 6 1 5 0 6 5 5-9 6 4 5-3 6-14 5 9 6 14 5-10 6 9 5-11 6 8 5-6 6 6 5-9 6 7 5-11 6 9 5 1 6-10 5 19 6-15 5 4 6 13 5-19 6 7 5-6 6 6 5-2 6-2 5-11 6 13 5-3 6 6 5-6 6-1 5 2 6 0 5-6 6 23 6-9 5-20 6 2 5 21 6-4 5-4 6 4 5 8 6-15 5 20 6-5 5-2 6-7 5-3 6 1 5 1 6 2 5-7 6-2 5 21 6-6 5-6 6-9 5 12 6-13 5 12 6-7 5-8 6 12 5-10 6-3 5 22 6-6 5 0 6-9 5 16 6-8 5-11 6 14 5-18 6 9 5 11 6-16 5-11 6 21 5-11 6-5 5 9 6 12 5-4 6 5 5-15 6-3 5 2 6 15 5-20 6 19 5 1 6-18 5 4 6 11 5 4 6-11 5-2 6 2 5 17 6-12 6 4 8-2 5-6"/>
<path stroke="#7f7f7f" d="M180 2552l2 3 2 1 1-11 2 17 1 8 2 70 2 130 1 123 2 131 2 129 1-86 2-416 2-222 1 60 2 62 2 55 1 45 2 42 2 40 1 36 2 31 2 32 1 26 2 28 2 23 1 18 2 18 1 18 2 16 2 16 1 12 2 11 2 10 1 8 2 10 2 11 1 4 2 9 2 4 1 6 1 2 9 23 9 15 9 6 9 4 8 2 9 3 9 2 9-1 9-2 9-1 8 2 9 0 9 4 9-5 9-1 8 1 9 1 9-5 9 1 9 1 8-2 9 0 9 3 9-1 9-1 9-4 8 1 9-1 9-2 9 2 9-2 8 0 9 4 9-3 9-3 6 4 7-7 7-3 6-5 7-2 6-7 7-6 7-2 6-7 7-3 7-6 6-7 7-3 6-9 7-3 7-8 6-7 7-10 6-10 7-15 7-19 6-19 7-20 6-18 7-13 7-7 6 5 7 4 6 6 7 2 7 7 6 8 7 4 7 3 6 3 7 8 6 4 7-4 7 1 6-6 7-1 6 2 7 0 7 1 6 6 7 0 6 1 7 1 7 7 6 3 7 2 6 2 7 4 7 2 6-2 7 5 7-2 6-2 7 5 6 3 7-1 7-3 6-1 7 1 6 5 7-4 7-2 6 12 7-2 6 1 7 11 7 6 6 6 7 10 7 7 6 5 7 12 6 1 7 11 7 3 6 11 7 7 6-3 3 10 5-1 6-7 5 15 6 2 5 4 6 8 5-18 6 10 5 4 6 2 5 6 6-6 5 0 6-1 5-2 6 18 5-4 6-3 5 6 6-14 5 8 6 7 5-18 6 18 5-8 6-17 5 10 6 15 5-2 6-18 5 10 6 1 5 3 6-7 5 2 6 4 5-12 6 2 5 23 6-15 5-11 6 20 5-3 6-18 5 9 6 8 5-3 6 2 5 0 6-9 5 11 6 2 5-11 6 2 5-7 6 11 6-8 5-4 6 17 5-3 6-13 5 16 6-3 5-2 6-15 5 3 6 19 5 5 6-7 5-14 6-9 5 3 6 23 5 1 6-6 5-1 6-3 5-4 6 11 5-17 6 3 5 2 6 7 5-8 6-1 5 1 6 3 5 2 6-1 5-18 6 23 5-16 6 15 5-3 6-2 5-4 6 11 5-3 6-13 5 19 6-15 5-6 6-11 5 30 6 9 5-11 6-3 5-5 6 0 5 12 6-12 5-2 6-9 5 5 6 7 5 3 6 5 5-4 6-3 5-5 6 15 5-6 6-24 6 24 8-19 5 26"/>
<path stroke="#9467bd" d="M180 2584l2 4 2-10 1-8 2 11 1-31 2-2 2 21 1-6 2 30 2-32 1-1 2-23 2 14 1 2 2 14 2 133 1 139 2 121 2 127 1 123 2-302 2-383 1-100 2 26 2 18 1 23 2 16 1 17 2 17 2 15 1 11 2 14 2 8 1 10 2 8 2 6 1 12 2 2 2 7 1 6 1 4 9 22 9 11 9 10 9 2 8 2 9 5 9-2 9-2 9 3 9 2 8-4 9 1 9 2 9-1 9 1 8-1 9-4 9 2 9-4 9 2 8 0 9 2 9-5 9 2 9-1 9-1 8 4 9-4 9-1 9 0 9 2 8 0 9-3 9 3 9 0 6-1 7-3 7-3 6-2 7-3 6-4 7-1 7-3 6-5 7-1 7-1 6-5 7-5 6 0 7-6 7-5 6-4 7-3 6-5 7-12 7-11 6-12 7-9 6-11 7-7 7-5 6 2 7 2 6 5 7-3 7 3 6 4 7 3 7 2 6 2 7 4 6 0 7 0 7 0 6-1 7-6 6 4 7-6 7 9 6 2 7-5 6 4 7 3 7 0 6 2 7 2 6-2 7 5 7 1 6 0 7 0 7-1 6 4 7 3 6-5 7 2 7 3 6-6 7-1 6 3 7-2 7 2 6 4 7-2 6-4 7 9 7 5 6 3 7-4 7 4 6 1 7-7 6 3 7 10 7-6 6 5 7-5 6-9 3 7 5-6 6 0 5 0 6-9 5-2 6-1 5 10 6-8 5 3 6-7 5 13 6-7 5 8 6-6 5 8 6 0 5-7 6 6 5-4 6-8 5 1 6 11 5-13 6 5 5-6 6 10 5-10 6 11 5-2 6 3 5 1 6-9 5 11 6-11 5 9 6-6 5 10 6-9 5-2 6 3 5 3 6 0 5-5 6 3 5-10 6 11 5-10 6 22 5-12 6-2 5-4 6 6 5 8 6-7 5-2 6 3 6 0 5 5 6-16 5 0 6 15 5-2 6-9 5 11 6 16 5-35 6 2 5-2 6 22 5-5 6 4 5-17 6 3 5 5 6 11 5-8 6-13 5 17 6-1 5-5 6-4 5-12 6 3 5 9 6-3 5 8 6 9 5-13 6 2 5 2 6-4 5-13 6 8 5 8 6-2 5 11 6-14 5 18 6-30 5 10 6 9 5-4 6 6 5-7 6-3 5-2 6 3 5 16 6-4 5-7 6-7 5 4 6-12 5 23 6-10 5 7 6-15 5 2 6-1 5 11 6-3 5-4 6-2 6 4 8 5 5-14"/>
<path stroke="#17becf" d="M180 2852l2-29 2 8 1 8 2-14 1 5 2-30 2-11 1-4 2 6 2-2 1 46 2 97 2 98 1 72 2 73 2 4 1-187 2-187 2-61 1 20 2 22 2 19 1 15 2 17 2 14 1 12 2 11 1 9 2 8 2 13 1 4 2 10 2 5 1 7 2 5 2 4 1 4 2 6 2 7 1-1 1 1 9 15 9 5 9 8 9-1 8 3 9-2 9 3 9 1 9 0 9-2 8 4 9-8 9 1 9 0 9 1 8 1 9-2 9-2 9-1 9-2 8 0 9-1 9 3 9-6 9 4 9-4 8 1 9 0 9 2 9-4 9-1 8-1 9-2 9 1 9 1 6-2 7-1 7-4 6-4 7-8 6-2 7-3 7-1 6-3 7-7 7 0 6-6 7-2 6-7 7-5 7-7 6-4 7-7 6-8 7-14 7-10 6-16 7-16 6-12 7-11 7-3 6 4 7-1 6 4 7 6 7 2 6 2 7 6 7 4 6 2 7 3 6 2 7-3 7-1 6-1 7-4 6 2 7 0 7 1 6 2 7 1 6 2 7 1 7 5 6 1 7-1 6 5 7-2 7 1 6 7 7 4 7 2 6-10 7 5 6 1 7 3 7-1 6 1 7 2 6-2 7 0 7-4 6-1 7 6 6 3 7 3 7 2 6 6 7 16 7 2 6-2 7 8 6 8 7 4 7 13 6-2 7 4 6 8 3 2 5 4 6 0 5 3 6 0 5 15 6 0 5 3 6-2 5 5 6-5 5 13 6-9 5 2 6 3 5-6 6-3 5-8 6 15 5 4 6 0 5-14 6 21 5-10 6-3 5 0 6 8 5 1 6 1 5-2 6-13 5 17 6-19 5 16 6-9 5 12 6 2 5-1 6 0 5-13 6 3 5-4 6-16 5 22 6-1 5 1 6 6 5-9 6-4 5 1 6-9 5 23 6-17 5 3 6 9 5-4 6 1 6-15 5 13 6-2 5-3 6 12 5-4 6-5 5-5 6 3 5 9 6-8 5-2 6 17 5-1 6-6 5 1 6-2 5-5 6 22 5-14 6-8 5-12 6 8 5-5 6 3 5-6 6 17 5-11 6 3 5-1 6-7 5 5 6 12 5-5 6-1 5 10 6-14 5 12 6-9 5-4 6 17 5-7 6-7 5-2 6 3 5 8 6 0 5-6 6-1 5-3 6 0 5 15 6 4 5-8 6-8 5-11 6 12 5-1 6-18 5 14 6 6 5 5 6-2 5-5 6-16 5 22 6 6 6 3 8-6 5-15"/>
<path stroke="#9467bd" d="M180 3069l2-23 2 17 1-4 2 16 1-30 2-4 2-11 1 4 2 2 2 10 1 2 2 40 2 15 1 38 2-5 2 28 1 34 2 16 2 12 1-7 2-155 2-139 1 14 2 15 2 13 1 10 2 12 1 9 2 8 2 9 1 5 2 8 2 6 1 6 2 6 2 3 1 7 2-1 2 4 1 6 1-1 9 11 9 10 9 4 9 1 8 3 9 0 9 0 9 0 9-2 9 2 8 0 9 0 9 2 9-3 9 1 8 0 9-1 9 2 9 1 9-1 8-1 9 0 9-4 9 2 9 1 9-1 8-1 9-3 9 7 9-3 9-2 8 3 9-2 9 4 9-7 6 2 7-4 7-2 6-2 7-9 6-4 7-2 7-6 6-4 7-5 7-4 6-7 7-3 6-8 7-4 7-7 6-8 7-9 6-10 7-17 7-15 6-17 7-23 6-18 7-12 7-6 6 5 7 0 6 5 7 8 7 4 6 5 7 4 7 5 6 7 7 1 6 3 7 3 7-5 6-5 7-3 6 1 7 4 7-1 6 4 7 6 6 1 7 2 7 1 6 4 7 3 6-1 7 8 7-2 6 4 7-1 7 8 6-3 7-5 6 1 7 8 7-7 6 0 7 2 6 7 7-4 7-1 6 3 7 0 6 6 7 4 7 9 6-1 7 9 7 10 6 6 7-1 6 10 7 2 7 3 6 1 7-3 6 4 3 0 5-10 6 0 5-1 6 9 5-5 6-2 5-1 6 10 5-6 6 15 5-10 6 7 5 1 6 1 5 3 6-12 5 1 6 5 5-2 6-4 5-3 6 1 5 9 6-5 5-2 6 11 5-3 6 5 5-8 6-7 5 5 6 5 5-1 6-11 5 15 6-3 5-9 6 15 5-8 6-15 5 2 6 5 5 15 6-12 5 10 6 4 5-23 6 20 5-9 6-5 5 18 6-1 5-19 6 8 5 2 6 3 6-5 5-8 6 0 5-5 6 14 5-19 6 17 5 0 6 11 5 5 6-20 5 11 6-20 5 9 6 17 5-14 6-4 5 3 6 4 5 10 6 4 5-1 6-10 5 10 6 1 5-15 6 20 5-20 6-7 5 27 6-6 5-31 6 20 5-2 6 6 5-16 6-4 5 1 6 25 5 2 6-9 5-12 6 11 5-2 6 0 5-9 6-4 5 11 6 7 5-3 6-9 5-8 6 11 5-1 6 19 5-10 6-21 5 12 6-6 5 16 6-12 5-1 6 3 5 13 6-6 5-7 6-7 6-9 8 33 5 0"/>
<path stroke="#7f7f7f" d="M180 3029l2-10 2 12 1-43 2-20 1 5 2-17 2-32 1-4 2-12 2 10 1 29 2 75 2 51 1 55 2 64 2 23 1-46 2-20 2 5 1 6 2 1 2 4 1 3 2 2 2 5 1 3 2 1 1 2 2 6 2-3 1-1 2 5 2 1 1 3 2-2 2 4 1-1 2-1 2 4 1-1 1 0 9 2 9 1 9 3 9 1 8 0 9-3 9 5 9-4 9 3 9 0 8-5 9 6 9 0 9-1 9-1 8 1 9 0 9-1 9 2 9-4 8 3 9-4 9 4 9 1 9-1 9-1 8 2 9-2 9 1 9-1 9 2 8-2 9-2 9 5 9-4 6 3 7-2 7 1 6-1 7 0 6 2 7-3 7 0 6-4 7-2 7-2 6-2 7-2 6-7 7 0 7-2 6-1 7-4 6-2 7-4 7 1 6-9 7-3 6-2 7-3 7 3 6 0 7 6 6-1 7 9 7-5 6 1 7 0 7 2 6 1 7-3 6 3 7-2 7 2 6-1 7 0 6-3 7 5 7-9 6 4 7 1 6 1 7 2 7-2 6-3 7 2 6 4 7-1 7-3 6 1 7 3 7-4 6 1 7-1 6-3 7 7 7-5 6 2 7 2 6-5 7 4 7-4 6 7 7-9 6 1 7 2 7 0 6 1 7 5 7-1 6 7 7-5 6 15 7-1 7 0 6 2 7 9 6 3 3 8 5-6 6 5 5-3 6-1 5-4 6 1 5 4 6 2 5 1 6-2 5-4 6 0 5 7 6-1 5-10 6 10 5-5 6 2 5-2 6 9 5-4 6 0 5-2 6-2 5 0 6-5 5 7 6-7 5 9 6-3 5 1 6-4 5 9 6-8 5 6 6-10 5 18 6-10 5 2 6-8 5 6 6-2 5 5 6 1 5 5 6 4 5-17 6 3 5-6 6 0 5-10 6 4 5 8 6-10 5 19 6 1 6-10 5 1 6 10 5 5 6-11 5-3 6 0 5-13 6 17 5-8 6 1 5 0 6-14 5 9 6 9 5 1 6-2 5 10 6 1 5 2 6-4 5-2 6-1 5 3 6-12 5 3 6 7 5-2 6 0 5 4 6-26 5 21 6-7 5 6 6-7 5-8 6 6 5 4 6 1 5 7 6 5 5-18 6 10 5-6 6 8 5 0 6 1 5-24 6 21 5 11 6-25 5 15 6-6 5-1 6 9 5 7 6-6 5 7 6-18 5 17 6-21 5 7 6 9 5-20 6 14 5 10 6-21 6 14 8-5 5-10"/>
<path stroke="#bcbd22" d="M180 2649l2-13 2-5 1-20 2 8 1 12 2 24 2 26 1-4 2 1 2-4 1 5 2 21 2-1 1-10 2 3 2-9 1 61 2 98 2 100 1 112 2 112 2-30 1-222 2-222 2-57 1 9 2 7 1 9 2 5 2 2 1 10 2 2 2 2 1 4 2 6 2 3 1 2 2 3 2 2 1 4 1-1 9 8 9 6 9 2 9 2 8 3 9-1 9 5 9-4 9-1 9 3 8 2 9-1 9 0 9 1 9 1 8-2 9 2 9 0 9 0 9 1 8 0 9 1 9 4 9-2 9-1 9 1 8 1 9 3 9-1 9 1 9-2 8 2 9 1 9-1 9 2 6-1 7-2 7-3 6-4 7-5 6-4 7-1 7-6 6 1 7-4 7-4 6-3 7-8 6-1 7-3 7-3 6-9 7-4 6-10 7-10 7-13 6-14 7-15 6-12 7-10 7-4 6 3 7 2 6 2 7 4 7 2 6 5 7 4 7 1 6 2 7 1 6 5 7 2 7-4 6-3 7-2 6-1 7 4 7 3 6-3 7 2 6 2 7 3 7-2 6 5 7 2 6 1 7 5 7-3 6 0 7 3 7-2 6 0 7 8 6-6 7-2 7 8 6-6 7-5 6 4 7 13 7-4 6-11 7 4 6 8 7-6 7 11 6 5 7 4 7 0 6 2 7-3 6 4 7-2 7-2 6 10 7-5 6 3 3-1 5-7 6-11 5 1 6 10 5-6 6 1 5 3 6-12 5 7 6 3 5-1 6 3 5 7 6 1 5-9 6 6 5 3 6-15 5 4 6 8 5 3 6-4 5 0 6 4 5-4 6 11 5-21 6 19 5-12 6 8 5-7 6 6 5-6 6 1 5-7 6 5 5 9 6-3 5-8 6 5 5-21 6 18 5-10 6 23 5 1 6 0 5-13 6 0 5-1 6-1 5 10 6-4 5-14 6-1 5 21 6-14 6-3 5 0 6 1 5 4 6 6 5-8 6 4 5 8 6 0 5 10 6-20 5 4 6-5 5 3 6-3 5 18 6-18 5 1 6-1 5 1 6 3 5 4 6-6 5-13 6 34 5-19 6-6 5 0 6-1 5-9 6 5 5 18 6 1 5-10 6 3 5 5 6-9 5 8 6-5 5-9 6 7 5 12 6-11 5 12 6-9 5-3 6-13 5 10 6 9 5-10 6 10 5-11 6 10 5 4 6-10 5 4 6-9 5 5 6 15 5-18 6-4 5 5 6 11 5-12 6-9 5 12 6-5 6 6 8-4 5-1"/>
<path stroke="#d62728" d="M180 2698l2-14 2 34 1 9 2-22 1 3 2-1 2-11 1-28 2 3 2 5 1 16 2 9 2 39 1 2 2-68 2 86 1 112 2 99 2 119 1 106 2-126 2-230 1-231 2-202 2 22 1 22 2 17 1 19 2 16 2 17 1 13 2 10 2 11 1 7 2 10 2 7 1 12 2 5 2 4 1 8 1 5 9 20 9 12 9 10 9 4 8 2 9 0 9 3 9 1 9 3 9-1 8 0 9 2 9 1 9 2 9-4 8 1 9 5 9-3 9 0 9 2 8 3 9-2 9 1 9 1 9-1 9 0 8 5 9-3 9 1 9 3 9-4 8 1 9 3 9-1 9 1 6-1 7 2 7-7 6-3 7-1 6-2 7-5 7-3 6-5 7-2 7-2 6-3 7-4 6-3 7-4 7-2 6-8 7-4 6-11 7-9 7-11 6-12 7-12 6-11 7-10 7-6 6 6 7 3 6 0 7 2 7 3 6 4 7 5 7 1 6 0 7 4 6-1 7 4 7-5 6-1 7-2 6-3 7 5 7 0 6 2 7 4 6-4 7 3 7 0 6 4 7 2 6 1 7 2 7 3 6 2 7-8 7 2 6 4 7-2 6 5 7 1 7-6 6 2 7 0 6 4 7-5 7 2 6 4 7-2 6-1 7 10 7-4 6 5 7 13 7-4 6 5 7-6 6-3 7 13 7-4 6-4 7 6 6-2 3 0 5 4 6-8 5 7 6-7 5 5 6 3 5 2 6-2 5-11 6 2 5 13 6-8 5 1 6 0 5 16 6-22 5 9 6 1 5 2 6-5 5 1 6 3 5-1 6-3 5 3 6 2 5-10 6 1 5 15 6-8 5 7 6-13 5 10 6-12 5 12 6-4 5 7 6-14 5 12 6-10 5-2 6 10 5-12 6 12 5-5 6 5 5-3 6 0 5-3 6-2 5-3 6 12 5-7 6 15 5-5 6-11 6 7 5 6 6-16 5-9 6 23 5-14 6-7 5 14 6-4 5 9 6 6 5 2 6-8 5 0 6-15 5 20 6-5 5-12 6 4 5-7 6 8 5-3 6 5 5-17 6 26 5-10 6-5 5 4 6-7 5 13 6-6 5-5 6 7 5-6 6 4 5-4 6 18 5-8 6-2 5 2 6 2 5 8 6-14 5 5 6-1 5 3 6-3 5-10 6 7 5-8 6 1 5 3 6-5 5 19 6-16 5 12 6-4 5-8 6 12 5-34 6 18 5 23 6-14 5-5 6 11 5-17 6-4 6 8 8-6 5 7"/>
<path stroke="#7f7f7f" d="M180 2868l2-20 2-26 1-23 2 17 1-15 2-7 2-33 1 8 2 58 2 84 1 73 2 78 2 69 1 78 2-123 2-199 1-199 2-199 2-40 1 56 2 45 2 44 1 38 2 35 2 34 1 27 2 25 1 29 2 21 2 21 1 13 2 21 2 14 1 13 2 15 2 8 1 15 2 5 2 9 1 8 1 10 9 27 9 16 9 14 9 4 8 7 9 0 9-1 9 4 9-2 9 1 8-3 9 3 9 1 9-4 9 1 8 3 9-4 9 0 9 1 9-1 8-2 9-1 9-1 9 2 9-3 9-1 8 2 9 0 9 1 9 0 9-1 8 1 9-4 9-1 9 2 6-2 7-2 7-3 6-4 7-3 6-3 7-4 7-6 6-1 7-3 7-4 6-5 7-2 6-5 7-6 7-5 6-8 7-7 6-7 7-12 7-15 6-12 7-16 6-14 7-7 7-7 6 0 7 3 6 5 7 6 7 3 6 0 7 9 7 5 6-1 7 2 6 2 7 2 7-1 6-4 7 0 6-2 7-1 7 7 6-7 7 5 6 6 7-4 7 3 6 4 7 0 6 9 7-3 7 7 6-3 7 0 7 1 6 2 7-1 6 4 7-4 7-2 6-1 7 1 6 3 7 5 7-3 6 1 7 0 6 3 7 2 7 7 6 10 7-2 7 3 6 15 7 12 6-2 7 15 7 5 6 7 7-4 6 10 3 3 5 3 6-1 5 6 6 5 5 2 6 3 5 5 6-1 5-1 6 6 5-2 6 1 5 8 6-3 5 3 6-14 5 3 6 10 5-5 6 0 5-5 6 15 5-2 6-2 5-2 6 5 5 4 6-17 5 17 6-17 5 1 6-3 5 5 6-2 5 13 6-3 5 9 6-12 5 3 6 3 5-8 6 7 5-1 6-8 5 14 6 6 5-17 6 2 5 2 6-3 5 3 6 4 5 0 6-19 5 7 6 4 6-4 5 10 6-8 5 3 6 0 5-12 6 13 5 2 6-6 5 24 6-36 5 14 6 9 5-5 6-5 5 11 6-1 5-13 6 20 5-20 6 9 5-5 6 13 5 8 6-8 5-23 6 22 5-17 6 3 5-6 6 21 5-18 6 19 5-16 6-13 5 11 6-5 5 29 6-31 5 18 6 2 5-13 6 4 5-6 6 8 5 2 6-13 5-6 6 17 5-4 6 6 5-6 6 12 5-18 6 12 5-5 6 3 5 1 6-9 5 11 6 19 5-22 6 0 5 25 6-19 5-21 6 2 6 16 8 10 5-12"/>
<path stroke="#8c564b" d="M180 2857l2 24 2 11 1-6 2 30 1-4 2 9 2 24 1 27 2 75 2 46 1 46 2 48 2 29 1-221 2-221 2-221 1-74 2 0 2 7 1 3 2-2 2 1 1 3 2 5 2 2 1 0 2 0 1 2 2 2 2-1 1 0 2 3 2 3 1-1 2 1 2-1 1 3 2-4 2 3 1 0 1 1 9 0 9 4 9-1 9-1 8 2 9-1 9-1 9 0 9 2 9-3 8 0 9 0 9 1 9-2 9 3 8-6 9 3 9-1 9 1 9-5 8 4 9-4 9 2 9 0 9-1 9-2 8-1 9 1 9-1 9-3 9 0 8 4 9 0 9-1 9-1 6 0 7-1 7-2 6-3 7-1 6-2 7 0 7-3 6 0 7 1 7-4 6 1 7-1 6-7 7-1 7 1 6-4 7-1 6-3 7-7 7-3 6-4 7-7 6-8 7-3 7-2 6 3 7-2 6-1 7 1 7 1 6-2 7 1 7 0 6 1 7 1 6-2 7-1 7 2 6-3 7 4 6-1 7-1 7-5 6 10 7-2 6 0 7-3 7 1 6 5 7-7 6 3 7-1 7-1 6 1 7-3 7 4 6-5 7 8 6-3 7-4 7-4 6 6 7 2 6-5 7 8 7-4 6-2 7-3 6 4 7 0 7 3 6 2 7-3 7 2 6 4 7-2 6-3 7 5 7-3 6 5 7 0 6-2 3 8 5-1 6 5 5-7 6 13 5 2 6-6 5 3 6 2 5 1 6 5 5-7 6-2 5 5 6 11 5-12 6-3 5 0 6 6 5 6 6-11 5 5 6 1 5 1 6-2 5 6 6-3 5-7 6 18 5-23 6 0 5 15 6-6 5-2 6 3 5 3 6-8 5-1 6-3 5 1 6 1 5 13 6-6 5 2 6-8 5 12 6-19 5 15 6 1 5-9 6-3 5 11 6-9 5-2 6 7 5-8 6 7 6 17 5-19 6 10 5-15 6 9 5-3 6 1 5 7 6 11 5-18 6 12 5-8 6 3 5-10 6-2 5 5 6-5 5 6 6-9 5 9 6 2 5 13 6 0 5-11 6-8 5 9 6 2 5-8 6-6 5-8 6 15 5 16 6-18 5 5 6 0 5 1 6 3 5-24 6 16 5 4 6-4 5 12 6-14 5 11 6 7 5-17 6 2 5-2 6 9 5-25 6 6 5 10 6 10 5-3 6-12 5 21 6-13 5-6 6 10 5 6 6-11 5-13 6 9 5 5 6 7 5-16 6 11 6-13 8 11 5-12"/>
<path stroke="#17becf" d="M180 2555l2-9 2-15 1-2 2-38 1-28 2 34 2-18 1-1 2 28 2-7 1 37 2 142 2 128 1 138 2 138 2 126 1-186 2-255 2-255 1-78 2 30 2 24 1 22 2 20 2 18 1 18 2 10 1 18 2 14 2 10 1 9 2 11 2 13 1 6 2 4 2 9 1 7 2 2 2 6 1 2 1 5 9 18 9 11 9 3 9 5 8 4 9 3 9-1 9 2 9-2 9 4 8-5 9 1 9 1 9-3 9 0 8 5 9-2 9 1 9-3 9-1 8 0 9 2 9-1 9 2 9 2 9-2 8 1 9-4 9 1 9 5 9-3 8-1 9-2 9 6 9-5 6 0 7-1 7-4 6-1 7-3 6-3 7-4 7-3 6-6 7-2 7-3 6-1 7-7 6-1 7-6 7-6 6-3 7-4 6-9 7-13 7-9 6-14 7-12 6-14 7-7 7-7 6 3 7 2 6 5 7 0 7 4 6 1 7 5 7 4 6-2 7 3 6 5 7 0 7-1 6-2 7-3 6-1 7 5 7 0 6-2 7 1 6 4 7 1 7 5 6-1 7 1 6 0 7 7 7-3 6 1 7 1 7 0 6 0 7 1 6 0 7-1 7 1 6-3 7 2 6 8 7-5 7-1 6 4 7 0 6-4 7 8 7-2 6 16 7-4 7 3 6-2 7 0 6 4 7 1 7-8 6 4 7-11 6 8 3-4 5 1 6 4 5-1 6-3 5-5 6-3 5 7 6-5 5 6 6 1 5-2 6-6 5 0 6 10 5-11 6 10 5-13 6 9 5-7 6 9 5-8 6 6 5-4 6-1 5 3 6 3 5-6 6 1 5 4 6-6 5 0 6 9 5-6 6 6 5-6 6 10 5 3 6-6 5-4 6-4 5 11 6-10 5 10 6-8 5 6 6-9 5-10 6 18 5-7 6 20 5-24 6 13 5 7 6-9 5-6 6 17 6-17 5 13 6-35 5 26 6-3 5-4 6-4 5 1 6 21 5-13 6 1 5 6 6-2 5-17 6 23 5-14 6 12 5-16 6 1 5 6 6 12 5-14 6 9 5-4 6-19 5 12 6-13 5 15 6 2 5 1 6-8 5 28 6-12 5-6 6-10 5-8 6 13 5 2 6 1 5-8 6 0 5 3 6 6 5-5 6 5 5-3 6-16 5 25 6-22 5 5 6 10 5-15 6 10 5-5 6 16 5-1 6 8 5-12 6 0 5-6 6-7 5 19 6-5 5-6 6 6 5-8 6 15 6-24 8 4 5 1"/>
<path stroke="#e377c2" d="M180 2676l2-31 2-20 1-5 2-18 1-1 2 28 2-9 1-26 2-9 2 45 1 7 2-22 2 53 1 121 2 106 2 128 1 122 2 32 2-187 1-186 2-187 2-187 1 38 2 55 2 47 1 43 2 43 1 36 2 33 2 30 1 30 2 26 2 21 1 23 2 18 2 15 1 20 2 14 2 10 1 15 1 7 9 46 9 29 9 14 9 11 8 5 9 1 9 5 9 2 9 1 9 1 8-2 9 0 9 3 9 1 9-2 8 1 9 0 9 0 9-2 9 1 8-1 9 3 9-2 9 2 9 0 9-1 8 1 9 0 9 1 9-2 9 3 8-1 9 0 9 1 9 1 6-2 7-3 7-4 6 0 7-8 6-3 7-3 7-4 6-5 7-3 7-4 6-3 7-6 6-4 7-7 7-5 6-6 7-7 6-8 7-15 7-16 6-11 7-21 6-9 7-18 7-2 6 0 7 5 6 4 7 4 7 6 6 4 7 2 7 7 6 1 7 2 6 5 7-1 7-4 6-1 7-2 6 1 7 1 7-1 6 3 7 4 6-1 7 5 7-2 6 9 7 4 6-1 7 2 7 1 6 0 7 5 7-3 6 4 7-1 6 1 7-5 7 0 6 5 7-2 6-4 7 1 7 4 6-2 7 9 6-1 7 1 7 12 6 3 7 6 7 11 6 5 7 3 6 7 7 2 7 4 6 2 7 0 6 9 3 8 5-3 6 1 5-6 6 5 5-2 6 8 5 1 6 7 5-3 6 1 5-3 6 0 5 4 6-1 5-3 6 14 5-12 6-1 5 8 6-13 5 7 6 2 5 6 6-26 5 19 6 3 5 2 6-6 5 14 6-16 5 8 6 2 5 12 6-12 5 3 6-11 5 3 6-1 5-19 6 29 5-1 6-1 5-3 6-16 5 7 6 13 5-21 6 15 5-8 6 15 5-14 6 6 5-4 6-1 5 10 6-7 6 1 5 6 6-7 5 14 6-8 5-3 6-7 5 2 6 23 5-12 6 3 5-6 6-9 5 5 6 12 5-25 6 20 5-10 6 13 5-20 6 10 5 6 6-1 5-5 6-10 5 9 6-9 5 8 6-2 5 10 6-6 5-13 6 14 5-13 6 14 5-6 6-11 5 17 6-14 5 13 6 15 5-15 6-5 5 9 6 1 5 0 6 0 5 0 6-13 5 6 6 29 5-23 6-1 5 2 6 3 5-9 6 2 5-2 6 7 5 3 6-3 5 0 6-14 5 10 6 8 5 1 6-14 6 11 8-20 5-1"/>
<path stroke="#e377c2" d="M180 3098l2-26 2 56 1 40 2-48 1 13 2-8 2 0 1 35 2-24 2-16 1 48 2 7 2-42 1-4 2 14 2 20 1 13 2 31 2 19 1 4 2-150 2-174 1-173 2 2 2 5 1 6 2 9 1 1 2 6 2 3 1 7 2 1 2 5 1 2 2 5 2 1 1 0 2 0 2 6 1 2 1 4 9 1 9 3 9 3 9 5 8-1 9-1 9 3 9-1 9-4 9 0 8 6 9-3 9-2 9 1 9 2 8-3 9 3 9-1 9-1 9 0 8-1 9-2 9 5 9-3 9 0 9-1 8 0 9 0 9-2 9 2 9 1 8-2 9 2 9 0 9-2 6 0 7-1 7-4 6-5 7-1 6-5 7-3 7-5 6-2 7-2 7-5 6-4 7-4 6-5 7-8 7-1 6-6 7-8 6-8 7-13 7-12 6-18 7-12 6-13 7-11 7-4 6 1 7 1 6 2 7 6 7 2 6 5 7 1 7 5 6 0 7 3 6 4 7 3 7-5 6-2 7-1 6 0 7 0 7 2 6 3 7 3 6-1 7 3 7 4 6-1 7 0 6 1 7 1 7 0 6 4 7 2 7 1 6 1 7-1 6 5 7-7 7 2 6 6 7-2 6-4 7 9 7-4 6-5 7 3 6 6 7-4 7 13 6 4 7 1 7 12 6-11 7 3 6 9 7-6 7 9 6-9 7 9 6-2 3-3 5-5 6-1 5 2 6-10 5 7 6 0 5 1 6-3 5 10 6 1 5-4 6 1 5-7 6 8 5 1 6 7 5 1 6-4 5-3 6 5 5 1 6-10 5-1 6 8 5-2 6-1 5-1 6-7 5 8 6-4 5 2 6-2 5 14 6-4 5 3 6-9 5 11 6-12 5 0 6 9 5-4 6-3 5 3 6 7 5-2 6-10 5 3 6-8 5 1 6 14 5 8 6-8 5-13 6 11 5-9 6 6 6 1 5-12 6 7 5 9 6-18 5 9 6 13 5-4 6-18 5 4 6 1 5 12 6-23 5 14 6 7 5-11 6 9 5-7 6-11 5 1 6 10 5 5 6 0 5-3 6 1 5-2 6-11 5 18 6-3 5 5 6 1 5-5 6 7 5-6 6 4 5 5 6-26 5 10 6 3 5 1 6-14 5 7 6-4 5 18 6 1 5-19 6 4 5 3 6 4 5 14 6-13 5-12 6 14 5-1 6 11 5-17 6-14 5 14 6-12 5 18 6-18 5 12 6-3 5 14 6-6 5 3 6 3 6-11 8-3 5 5"/>
<path stroke="#1f77b4" d="M180 2701l2-3 2 20 1-18 2-9 1 39 2 25 2 107 1 89 2 87 2 88 1 102 2-352 2-362 1-55 2 38 2 38 1 36 2 33 2 27 1 23 2 28 2 21 1 18 2 18 2 20 1 16 2 12 1 14 2 6 2 13 1 7 2 11 2 7 1 5 2 10 2 3 1 7 2 4 2 6 1 3 1 3 9 16 9 5 9 8 9 5 8 0 9-1 9 2 9 1 9 0 9-2 8 2 9 1 9-1 9-2 9 4 8-1 9-5 9 2 9 2 9-4 8 2 9 1 9-5 9 4 9 0 9-3 8 1 9-1 9 0 9-1 9 3 8-3 9-1 9 1 9-2 6 1 7-2 7-4 6-1 7-5 6-4 7 3 7-7 6-4 7-3 7-2 6-7 7 0 6-6 7-4 7-6 6-6 7-4 6-8 7-12 7-11 6-15 7-9 6-16 7-9 7-5 6 1 7 4 6 2 7 5 7 1 6 3 7 3 7 4 6 4 7 4 6-2 7 1 7 0 6-2 7-4 6 1 7 3 7-4 6 4 7 4 6 0 7 0 7 2 6 6 7 1 6-1 7 5 7-1 6 4 7 0 7 0 6-5 7 4 6 3 7-3 7 0 6 0 7-4 6 3 7 4 7-4 6-1 7 2 6 6 7 7 7 4 6-5 7 16 7 6 6 0 7 3 6-2 7 0 7 2 6 16 7-4 6 13 3-3 5-2 6 7 5-5 6-5 5 5 6 1 5 0 6 5 5-3 6 15 5-10 6 4 5 0 6 9 5-16 6 4 5-1 6 2 5 2 6-2 5 5 6 0 5 6 6-10 5-8 6 11 5-11 6 15 5-5 6-6 5 5 6 1 5-15 6 17 5 0 6 3 5-15 6 8 5 3 6-5 5 2 6-21 5 14 6 21 5-18 6 7 5 1 6-18 5 10 6 3 5-7 6 4 5-4 6 7 5 1 6-2 6-7 5 14 6-10 5-4 6 12 5-14 6 5 5 3 6 1 5 6 6-5 5-3 6-5 5 14 6-21 5 9 6 6 5 5 6-5 5-14 6 12 5 0 6-3 5 8 6 1 5-14 6-4 5 7 6 5 5 0 6-5 5 6 6 4 5 7 6-21 5 12 6-1 5 1 6 4 5-1 6 13 5-32 6 16 5-18 6 15 5 5 6 1 5-1 6 3 5-12 6 1 5 17 6-21 5 18 6-13 5 7 6-8 5 6 6 4 5-9 6-6 5 10 6 8 5-10 6 1 5-13 6 17 6 2 8-11 5 13"/>
<path stroke="#7f7f7f" d="M180 2686l2 12 2-25 1 5 2 13 1 47 2 96 2 114 1 99 2 99 2 36 1-235 2-235 2-235 1-48 2 13 2 12 1 10 2 9 2 8 1 8 2 7 2 7 1 7 2 2 2 7 1 5 2 6 1 5 2 2 2 3 1 2 2 5 2 2 1 0 2 3 2 2 1 3 2 0 2 4 1 0 1-1 9 5 9 1 9 2 9 3 8 2 9 0 9-2 9-1 9-1 9 1 8-2 9 1 9-2 9 0 9-2 8 4 9-3 9-2 9-2 9 1 8 0 9-4 9 1 9 2 9-3 9-2 8 1 9 1 9-4 9-1 9 0 8 0 9 1 9-2 9-4 6 3 7-1 7-2 6-3 7-3 6-1 7-4 7-3 6 0 7-4 7 2 6-5 7 0 6-7 7-2 7-1 6-7 7-2 6-8 7-3 7-11 6-6 7-12 6-4 7-6 7-4 6-1 7 3 6 1 7 0 7 2 6 1 7-2 7 0 6 0 7 1 6 0 7 0 7 1 6 2 7-5 6 1 7 0 7-1 6 4 7-2 6 2 7-4 7 5 6-1 7-3 6 5 7 1 7-2 6 1 7-3 7 5 6-3 7 2 6 0 7 0 7-4 6 3 7 0 6 3 7-6 7 6 6-2 7-1 6 7 7-3 7-4 6 5 7-2 7 1 6 4 7 3 6 12 7 0 7-9 6 13 7 2 6 7 3 3 5 3 6 5 5-2 6 14 5-4 6 9 5-3 6 5 5-6 6 12 5-3 6-3 5 5 6 0 5-10 6 4 5-2 6 10 5-3 6-5 5 0 6 4 5-14 6 13 5 10 6-18 5 2 6 0 5 10 6-8 5 17 6-13 5-2 6-4 5 11 6 3 5-6 6 8 5-1 6-6 5-2 6-4 5 5 6-4 5 13 6-5 5-6 6-2 5 6 6 5 5-6 6 6 5-11 6 5 5 3 6-3 6 1 5 5 6-8 5 8 6-12 5 8 6-7 5 0 6 8 5 6 6-12 5 2 6 10 5-17 6 14 5-17 6-6 5 18 6-5 5-2 6-16 5 24 6-7 5-6 6 8 5-9 6 4 5 0 6 15 5-10 6 12 5-18 6-3 5 25 6-26 5 22 6-20 5 15 6-12 5 19 6 4 5-8 6-6 5-6 6 10 5 11 6-21 5-6 6 25 5-17 6 8 5-5 6 1 5-5 6 1 5-13 6 10 5-3 6 17 5-12 6 3 5-15 6 15 5 13 6-12 5 6 6-10 6-3 8 14 5-12"/>
<path stroke="#ff7f0e" d="M180 3055l2-28 2-23 1-48 2 22 1 45 2 54 2 53 1 54 2 36 2-72 1-72 2-72 2-63 1 9 2 8 2 9 1 4 2 5 2 7 1 4 2 7 2-1 1 7 2 3 2 5 1 0 2 4 1 2 2 2 2 1 1-1 2 3 2 4 1-2 2 3 2 3 1-2 2 4 2 2 1 0 1-2 9 4 9 3 9-1 9 2 8-1 9 2 9-1 9-1 9 0 9-1 8 3 9-1 9-1 9 2 9-1 8 1 9 0 9 1 9-1 9-2 8 1 9 1 9 0 9-3 9 4 9-3 8 1 9 2 9-1 9 3 9-2 8-2 9 3 9-1 9-3 6 3 7-3 7-3 6-4 7-5 6-8 7 1 7-3 6-7 7-1 7-7 6-5 7-2 6-8 7-3 7-9 6-8 7-3 6-12 7-12 7-14 6-17 7-16 6-18 7-11 7-2 6-1 7 5 6 0 7 5 7 8 6 3 7 5 7 0 6 9 7 0 6 1 7 2 7-2 6-7 7 2 6 0 7 2 7 6 6-1 7-4 6 4 7 6 7 3 6 6 7-4 6 6 7-2 7 8 6-7 7 6 7 2 6 0 7-1 6 0 7 2 7-1 6 1 7-2 6-1 7-2 7 3 6 2 7 2 6-3 7 1 7 9 6 11 7 3 7 4 6 13 7 0 6 8 7 1 7 0 6 7 7 7 6-2 3 0 5-6 6 10 5 7 6-10 5 5 6-9 5 11 6-16 5 15 6 4 5-1 6 6 5 7 6-4 5-7 6 4 5-5 6 10 5 0 6-7 5-4 6-2 5 10 6 0 5 6 6 0 5-17 6 21 5-9 6 1 5-1 6 2 5-4 6-5 5 2 6-3 5 7 6-17 5 6 6-13 5 30 6-12 5 5 6 2 5-11 6 8 5-1 6-9 5 5 6 16 5-9 6-1 5 0 6 0 5-8 6 6 6-5 5-5 6 11 5-8 6 6 5-13 6 6 5 6 6-14 5 12 6-14 5 22 6 5 5-20 6 19 5-14 6 4 5 10 6-7 5 8 6-16 5 8 6-16 5 31 6-23 5 13 6-11 5 15 6-9 5-2 6 5 5 13 6-15 5 6 6-15 5 17 6-16 5 5 6-13 5 16 6 3 5-8 6 4 5 3 6-1 5-15 6-1 5 2 6 22 5-11 6-1 5 1 6-10 5 8 6-7 5 6 6-1 5-6 6 9 5 4 6 2 5-7 6 7 5 4 6-7 5-1 6 9 6-28 8 31 5-29"/>
<path stroke="#ff7f0e" d="M180 2989l2 24 2 7 1-3 2 9 1 20 2 22 2-5 1 1 2 25 2 48 1 30 2 34 2 27 1-302 2-342 2-166 1 26 2 21 2 22 1 16 2 18 2 15 1 17 2 14 2 10 1 11 2 9 1 10 2 6 2 8 1 7 2 6 2 5 1 7 2 6 2 3 1 7 2 1 2 1 1 2 1 4 9 11 9 7 9 0 9 7 8 1 9 1 9 2 9-1 9-2 9 2 8-3 9 3 9 0 9 1 9 0 8-3 9 3 9-1 9 2 9-3 8 3 9-2 9 2 9-1 9-1 9-1 8 1 9 0 9 0 9 0 9 2 8-2 9 1 9-2 9 2 6 1 7-3 7-5 6-2 7-5 6-2 7-1 7-2 6-6 7 0 7-6 6-1 7-7 6 0 7-6 7-5 6-5 7-7 6-10 7-7 7-14 6-12 7-14 6-13 7-11 7 1 6 0 7 2 6 4 7 3 7 1 6 2 7 4 7 6 6 2 7 0 6 1 7 1 7-2 6-4 7 0 6-1 7 3 7 2 6-1 7 0 6 4 7 7 7-6 6 3 7-2 6 6 7 2 7 0 6 2 7 9 7-6 6-6 7 6 6-3 7 5 7-5 6 1 7 3 6-6 7 3 7 1 6 5 7-3 6 8 7-7 7 8 6 0 7 7 7-4 6 8 7-3 6-9 7 8 7-1 6-12 7 1 6-6 3-5 5 4 6-11 5-2 6-5 5 9 6-5 5-9 6-4 5 13 6-7 5 10 6 0 5 3 6-5 5 6 6-18 5 12 6-1 5 2 6 5 5 0 6 0 5-1 6 4 5-7 6 6 5-3 6-1 5-7 6 3 5-3 6 14 5-20 6 11 5-3 6 4 5-5 6-3 5 5 6 1 5-4 6-4 5-2 6 5 5 2 6 6 5-9 6 0 5-6 6 7 5 18 6-5 5-20 6 10 5 3 6 10 6-9 5 1 6-5 5 12 6-20 5 7 6 6 5-11 6 3 5-7 6 16 5-4 6 7 5-9 6-9 5 18 6-1 5-4 6 10 5-25 6 2 5 12 6-17 5 13 6 16 5-28 6 21 5 10 6-18 5-7 6 23 5-18 6 23 5-11 6-24 5 22 6-20 5 22 6-12 5 5 6-1 5 6 6-6 5 14 6-16 5 3 6-14 5 17 6-14 5 11 6-2 5 12 6-14 5-4 6 16 5-24 6 15 5 1 6 9 5-25 6 12 5 3 6-8 5 4 6-13 5 16 6 11 6-18 8-6 5-8"/>
<path stroke="#ff7f0e" d="M180 3063l2 8 2-9 1 12 2 1 1-3 2-26 2 0 1 3 2-27 2-31 1 27 2 3 2 52 1 53 2 43 2 37 1-43 2-185 2-186 1-185 2-185 2 45 1 50 2 53 2 41 1 39 2 36 1 34 2 28 2 28 1 24 2 23 2 20 1 19 2 16 2 16 1 14 2 14 2 14 1 8 1 5 9 42 9 23 9 12 9 12 8 4 9 4 9 1 9 0 9 1 9 2 8-3 9 2 9-2 9-2 9 1 8-1 9-3 9 5 9-3 9 1 8 0 9-3 9-2 9 2 9-2 9-1 8-1 9-1 9 2 9-2 9 0 8 1 9-2 9-1 9 1 6-1 7-3 7-2 6-4 7-7 6-7 7 0 7-7 6-2 7-1 7-7 6-6 7-1 6-8 7-5 7-7 6-8 7-8 6-10 7-11 7-16 6-19 7-16 6-15 7-12 7-7 6 0 7 5 6 7 7 4 7 5 6 6 7 1 7 3 6 5 7 5 6 4 7-1 7-2 6-8 7-1 6 4 7 5 7-4 6 4 7-3 6 3 7 5 7 1 6 4 7 2 6 5 7 0 7 0 6 3 7 3 7-2 6 0 7 5 6-7 7 4 7 2 6-2 7-1 6 1 7 1 7 2 6 2 7 2 6-1 7 5 7 8 6 8 7 2 7 23 6 5 7 9 6 1 7 11 7 7 6 3 7 13 6 13 3 0 5 3 6 8 5 5 6 5 5-3 6-5 5 11 6-2 5 9 6 2 5 2 6 8 5-7 6-1 5 4 6 10 5-10 6-3 5-7 6 1 5 2 6 8 5-8 6 6 5 8 6-1 5-10 6 7 5-14 6 10 5 3 6-1 5-16 6 8 5 7 6 5 5 1 6-22 5 25 6-21 5 7 6-4 5 22 6-21 5 18 6-14 5-4 6 24 5-8 6 5 5-8 6 2 5-10 6 0 5 1 6 2 6 0 5-14 6 8 5 20 6-13 5-4 6 9 5-11 6-2 5 13 6-15 5 18 6-7 5-18 6-1 5 22 6-4 5 0 6-13 5 31 6-33 5 18 6-8 5-1 6 0 5 5 6-4 5 4 6 1 5-17 6 15 5-3 6 16 5-8 6-7 5-7 6 17 5 6 6-11 5-2 6 8 5 7 6-8 5-6 6 14 5-19 6 1 5 13 6-9 5 2 6-2 5-11 6 3 5 6 6 8 5 4 6-14 5 6 6 9 5-6 6-15 5 15 6 6 5 0 6-9 5-13 6 5 6 23 8-15 5-6"/>
<path stroke="#2ca02c" d="M180 2955l2 64 2 18 1-1 2 25 1-16 2 21 2-1 1-31 2 29 2 27 1 16 2 6 2-1 1-10 2 25 2 25 1 23 2 29 2-14 1-215 2-215 2-214 1-122 2 26 2 24 1 25 2 20 1 17 2 17 2 14 1 14 2 12 2 13 1 10 2 10 2 6 1 14 2 4 2 5 1 5 1 4 9 25 9 14 9 9 9 1 8 3 9 0 9 4 9 1 9 2 9 0 8-2 9-1 9 0 9 0 9-3 8 4 9-4 9 2 9-4 9 2 8-1 9 0 9 1 9-3 9 1 9 0 8-2 9 1 9-1 9 3 9-3 8 1 9-5 9 3 9 0 6 0 7-2 7-6 6-3 7-5 6-2 7-2 7-5 6-2 7-3 7-5 6-5 7-2 6-2 7-5 7-8 6-4 7-4 6-9 7-13 7-10 6-14 7-15 6-13 7-10 7-2 6-1 7 2 6 4 7 3 7 6 6 2 7 1 7 1 6 7 7 1 6 2 7 0 7-3 6-3 7 4 6-1 7-2 7 2 6-2 7 6 6 2 7-1 7-2 6 10 7-3 6 0 7 1 7 5 6-3 7 4 7 2 6 1 7-5 6 3 7 1 7-1 6-1 7-2 6 1 7 5 7 1 6-6 7 5 6-1 7 10 7-4 6 14 7 2 7-3 6 6 7 6 6 4 7 11 7-3 6 0 7 4 6-2 3 5 5 6 6-3 5 7 6-5 5 0 6-7 5 4 6 8 5-4 6 6 5 5 6-5 5 7 6-2 5 2 6-10 5 3 6 3 5-1 6 0 5-10 6 24 5-8 6 9 5-6 6-14 5 9 6-7 5 10 6-11 5 4 6 9 5-7 6 4 5 6 6-16 5 10 6-1 5 3 6-14 5 10 6-2 5 4 6 9 5-16 6-17 5 15 6 0 5 12 6 0 5-11 6 7 5-3 6-1 5 15 6-20 6 13 5-2 6 2 5-14 6 1 5 10 6 0 5-6 6-4 5 0 6 0 5-5 6 17 5-2 6 2 5-8 6 7 5-11 6-3 5 21 6-19 5 13 6 3 5-3 6-6 5 8 6 7 5 2 6-13 5 0 6 9 5-18 6 6 5-13 6 37 5-7 6-2 5-16 6 5 5-11 6-2 5 8 6 14 5 2 6-21 5 9 6 4 5-4 6-2 5 2 6-13 5 8 6-8 5 24 6-21 5 12 6-5 5 6 6-8 5 11 6-19 5 29 6-24 5-2 6 24 5-13 6-12 6-3 8 20 5-8"/>
<path stroke="#9467bd" d="M180 3070l2-39 2 7 1 13 2 12 1-5 2 25 2-19 1 11 2 4 2-24 1 18 2 18 2 28 1 10 2 30 2 33 1 32 2-87 2-117 1-34 2 17 2 16 1 12 2 15 2 14 1 9 2 9 1 12 2 5 2 7 1 6 2 6 2 7 1 6 2 4 2 0 1 8 2 1 2 3 1 8 1-3 9 12 9 8 9 2 9 4 8 0 9 0 9 4 9-1 9 3 9-3 8 0 9-1 9-2 9 0 9 2 8 2 9 0 9-1 9 2 9-2 8 1 9 1 9-4 9 3 9-1 9-2 8 2 9 0 9-2 9 2 9 2 8-1 9 0 9-4 9 4 6-2 7 3 7-1 6-3 7 2 6 1 7-3 7-1 6-4 7-4 7-1 6-4 7-1 6-8 7-3 7-3 6-6 7-2 6-2 7-4 7-6 6-8 7-2 6-5 7-1 7 4 6 2 7 7 6 0 7 6 7-4 6 4 7 1 7-1 6-1 7-1 6 0 7 1 7-1 6-1 7 0 6 3 7-1 7 0 6-1 7 1 6 1 7 0 7 0 6 0 7-1 6 4 7-3 7-2 6 5 7-3 7 3 6-4 7 3 6 3 7-4 7-2 6-2 7 1 6-1 7 3 7 1 6-5 7 7 6-5 7 3 7 3 6-7 7 4 7 2 6 18 7 2 6 10 7-1 7 4 6 6 7 8 6-1 3-4 5 5 6 1 5 10 6-2 5 4 6-5 5 13 6-10 5 5 6 4 5-14 6 9 5-12 6 4 5 7 6-2 5 1 6-7 5 18 6-8 5-6 6 11 5-18 6 11 5-6 6 3 5-13 6 15 5-1 6 3 5-14 6 16 5-7 6-4 5 5 6-3 5 4 6 3 5 8 6-10 5-6 6 5 5-7 6-6 5 22 6-12 5 9 6-10 5 6 6 6 5-12 6 12 5-5 6-5 5-3 6 19 6-30 5 18 6-1 5-6 6 2 5 0 6-7 5 4 6 8 5-8 6 1 5 20 6-18 5 7 6-9 5 13 6-3 5-11 6 9 5-9 6 20 5-17 6 11 5-15 6 4 5 11 6-7 5-5 6 8 5-11 6 9 5 13 6-30 5 24 6-9 5 5 6 1 5-5 6 1 5-3 6-5 5-10 6 10 5 5 6-4 5 13 6-7 5 11 6-24 5-10 6 14 5 4 6-10 5 12 6-3 5 9 6-7 5-6 6 6 5-1 6 8 5-3 6-9 5 19 6-2 5-10 6 5 6 9 8-10 5 1"/>
<path stroke="#17becf" d="M180 2793l2-18 2-27 1 8 2-21 1 4 2 1 2 39 1 42 2-16 2-14 1 28 2 77 2 80 1 84 2 89 2 78 1-216 2-216 2-216 1-171 2 19 2 19 1 13 2 12 2 18 1 8 2 11 1 10 2 6 2 13 1 7 2 7 2 5 1 10 2-2 2 6 1 4 2 1 2 5 1 4 1 2 9 12 9 7 9 5 9 2 8 4 9-1 9 3 9 1 9-2 9-1 8 2 9 2 9-5 9 3 9 5 8-4 9-1 9 1 9 0 9 1 8-1 9 2 9 0 9-1 9 4 9 0 8-2 9 0 9 2 9-1 9 1 8 2 9 0 9 0 9-2 6-1 7-3 7 0 6-1 7-5 6-5 7-1 7-4 6-2 7-4 7 0 6-9 7-2 6-2 7-8 7-2 6-7 7-3 6-8 7-11 7-11 6-12 7-10 6-16 7-10 7-2 6-1 7 3 6 6 7 1 7 3 6 5 7-1 7 1 6 7 7 0 6 6 7-6 7 0 6-3 7 1 6 0 7 0 7 5 6 0 7 0 6 2 7 1 7-3 6 3 7 5 6 1 7 5 7-5 6 3 7 1 7 1 6 3 7-6 6 6 7-2 7-5 6 0 7 3 6 6 7-4 7 2 6 0 7-4 6 3 7-1 7 13 6-1 7 10 7-2 6-3 7 6 6 7 7-4 7 2 6-7 7 6 6 5 3-4 5 1 6 0 5-5 6 4 5-1 6-3 5 12 6 0 5 0 6-6 5-6 6 13 5-7 6 8 5-6 6-2 5-7 6 13 5 1 6 1 5 1 6-15 5 11 6 4 5 1 6-16 5 12 6 5 5-3 6-10 5 12 6-4 5 8 6-15 5 6 6-1 5 5 6-15 5 9 6-8 5 7 6-2 5 3 6 7 5-3 6 1 5-1 6-4 5-4 6 7 5-16 6 16 5-6 6-2 5 6 6 1 6-10 5 9 6 4 5-10 6 11 5-17 6 5 5 12 6-8 5-2 6 9 5 2 6-7 5 4 6-3 5-5 6 7 5-5 6-15 5 13 6 9 5-4 6-1 5-5 6-7 5 4 6-3 5-2 6 18 5-9 6-6 5 15 6 2 5-19 6 18 5-16 6 32 5-19 6-20 5 27 6-18 5 12 6 11 5-6 6-22 5 15 6-7 5 8 6-5 5 1 6 15 5-19 6 16 5-19 6 7 5-11 6 23 5-10 6-12 5 13 6-5 5 0 6-1 5 10 6-11 5 14 6-3 6 3 8 1 5-6"/>
<path stroke="#2ca02c" d="M180 2756l2 9 2-13 1-29 2 7 1-15 2 12 2 16 1 10 2-41 2 7 1-23 2 18 2 47 1 101 2 107 2 94 1 98 2 20 2-228 1-227 2-227 2 9 1 15 2 16 2 12 1 11 2 10 1 8 2 11 2 6 1 4 2 8 2 6 1 7 2 5 2 4 1 1 2 6 2 1 1 4 1 3 9 8 9 10 9 3 9 1 8 5 9 0 9 1 9-3 9 4 9-1 8-2 9 3 9 0 9 0 9 1 8-2 9 1 9 1 9 0 9-2 8 0 9 4 9-3 9-2 9 4 9-2 8 1 9 1 9-2 9-1 9 2 8 1 9-2 9 0 9 5 6-3 7-2 7-3 6-1 7-3 6-6 7-2 7 0 6-2 7-2 7-3 6-5 7-3 6-2 7-7 7-3 6-2 7-9 6-4 7-9 7-13 6-8 7-11 6-9 7-7 7-6 6 1 7 2 6 1 7 2 7 3 6 7 7 0 7 2 6 4 7-2 6 4 7 1 7-3 6-3 7 1 6 2 7-3 7 7 6-1 7-5 6 4 7 1 7 5 6 3 7-2 6 0 7 0 7 5 6-4 7 8 7-2 6 3 7-5 6 5 7-6 7 2 6 1 7-3 6 0 7 6 7-8 6 11 7-7 6 0 7 0 7 3 6 5 7 8 7 5 6 3 7 1 6 2 7 8 7-4 6 2 7 0 6-1 3 2 5 0 6 2 5 17 6-9 5-11 6-1 5 5 6 4 5 2 6 1 5-8 6 0 5 7 6-1 5-8 6 4 5 8 6-7 5 4 6 5 5 5 6-13 5 6 6-1 5-4 6 0 5 13 6-12 5 4 6 1 5 9 6-10 5 11 6-4 5-11 6 9 5-11 6 5 5-2 6 13 5-16 6 13 5-6 6 5 5-23 6 15 5 0 6 20 5-4 6-15 5 1 6-15 5 17 6-9 5 16 6-19 6 11 5-2 6-2 5 0 6 0 5-9 6 16 5 6 6-18 5 2 6-4 5 12 6-1 5-12 6-3 5 13 6 10 5 2 6-15 5 0 6 19 5-3 6-20 5-1 6-6 5 19 6-7 5-5 6 5 5-9 6 22 5-11 6 7 5-20 6 6 5 13 6 0 5-6 6-8 5 2 6 11 5-4 6-3 5 8 6-18 5 6 6 7 5 12 6-18 5 16 6-14 5 11 6-1 5 5 6-6 5-1 6-6 5 12 6-1 5-12 6-12 5 24 6-6 5-8 6-2 5 8 6-6 6 10 8-7 5 5"/>
<path stroke="#7f7f7f" d="M180 2627l2-50 2 0 1-4 2 49 1 89 2 145 2 126 1 134 2 79 2-220 1-221 2-221 2-116 1 59 2 48 2 50 1 45 2 39 2 37 1 32 2 30 2 26 1 26 2 24 2 19 1 17 2 17 1 16 2 17 2 10 1 12 2 10 2 11 1 7 2 9 2 6 1 8 2 5 2 5 1 9 1 1 9 20 9 9 9 8 9 5 8 2 9 0 9 2 9 4 9 0 9 0 8-2 9 1 9 1 9 0 9 0 8 2 9 0 9 1 9-1 9 4 8-1 9 2 9-3 9 0 9 4 9-3 8 1 9 2 9-4 9 3 9 0 8 3 9-3 9 1 9-1 6 2 7-5 7-1 6-7 7-3 6-3 7-7 7-1 6-5 7-3 7-2 6-4 7-7 6-9 7 0 7-6 6-10 7-7 6-6 7-17 7-17 6-15 7-17 6-16 7-7 7-7 6 0 7 2 6 6 7 5 7 3 6 6 7 5 7 3 6 4 7 3 6 1 7 4 7-4 6-7 7 3 6 0 7-3 7 5 6 0 7 4 6 3 7 0 7 4 6 2 7 1 6 8 7 0 7-4 6 12 7-4 7-3 6 1 7 6 6-6 7 3 7-2 6 0 7 3 6 1 7-4 7 3 6 1 7 0 6 10 7-4 7 14 6-1 7 8 7 11 6 4 7 1 6-1 7 12 7-4 6-2 7-3 6-5 3 2 5 9 6-1 5-4 6-4 5 2 6 0 5-4 6 4 5 0 6 3 5-4 6 13 5-12 6 8 5-2 6 4 5-4 6-16 5 10 6-4 5 6 6 7 5-11 6 9 5 1 6-5 5 10 6-9 5-2 6 8 5 1 6-11 5 2 6 6 5-5 6-2 5 7 6-4 5 1 6 9 5-12 6-3 5 0 6 13 5 6 6-3 5-17 6 9 5-13 6 11 5-11 6 0 5 32 6-29 5 9 6 3 6 1 5-2 6 11 5-22 6 3 5 12 6 5 5-11 6 11 5-6 6-8 5 1 6 0 5 7 6 1 5-12 6 12 5-5 6 5 5-8 6 4 5 5 6-5 5 6 6-2 5-6 6-10 5 8 6-15 5 28 6-7 5-8 6 0 5 4 6 0 5-6 6-7 5 6 6-9 5 17 6-1 5-3 6 9 5-6 6-4 5 4 6 1 5 2 6 1 5 6 6-8 5-10 6 5 5-3 6-4 5-20 6 21 5 8 6-1 5 1 6 3 5-3 6 1 5 10 6-1 5-19 6 22 6-17 8 7 5-4"/>
<path stroke="#1f77b4" d="M180 2928l2 19 2-28 1-20 2 8 1-12 2 11 2-19 1 13 2 11 2-10 1 21 2 34 2-17 1 3 2 56 2 38 1 54 2 59 2 49 1-49 2-222 2-71 1 2 2 1 2 1 1 0 2 0 1 1 2-1 2 2 1 0 2-3 2 1 1-1 2 1 2 1 1 1 2-1 2-1 1 0 1 2 9 0 9 0 9 2 9-2 8 0 9 0 9 2 9-1 9-1 9 1 8 3 9-3 9 1 9-2 9 1 8 2 9 0 9-1 9 0 9-1 8 3 9-2 9 0 9 3 9 0 9-1 8-1 9 1 9 3 9-1 9-1 8 2 9 1 9-3 9 2 6-4 7 1 7-4 6-4 7-3 6-1 7-6 7-1 6-4 7-4 7-5 6-1 7-4 6-3 7-4 7-7 6-5 7-6 6-8 7-12 7-7 6-14 7-18 6-13 7-6 7-8 6 4 7-1 6 8 7 1 7 4 6 2 7 6 7 0 6 5 7 2 6 1 7 0 7-1 6-3 7-5 6 5 7-1 7 1 6 1 7 6 6 0 7-2 7 2 6 5 7 3 6-4 7 0 7 6 6-3 7 5 7 2 6 1 7-6 6 6 7 4 7-2 6-3 7-1 6-9 7 8 7 0 6 5 7-4 6 12 7-2 7 7 6 6 7 11 7-9 6 12 7 1 6 8 7 6 7 0 6 13 7 8 6-7 3 8 5 6 6 0 5 7 6 1 5 6 6-4 5 6 6-1 5 8 6 6 5-12 6 4 5 1 6 1 5 7 6-8 5-3 6-4 5 8 6 8 5-10 6-8 5 9 6 0 5 2 6-1 5 12 6-15 5 3 6-3 5-12 6 8 5 2 6 5 5-1 6-4 5 5 6-7 5-2 6 12 5-11 6 12 5-3 6-14 5 13 6 11 5-8 6-8 5 10 6-12 5-9 6 4 5 20 6 2 5-18 6 3 6-2 5 19 6-16 5 12 6-15 5 8 6-13 5-2 6 6 5 13 6-14 5 6 6 11 5-5 6 3 5 0 6 1 5-11 6 17 5-20 6 12 5-9 6 15 5-12 6 4 5-10 6 10 5-7 6 7 5-8 6 8 5-12 6-9 5 28 6 0 5-20 6 18 5 3 6-18 5 8 6 0 5 1 6-4 5 4 6 9 5 5 6-31 5 3 6 11 5-6 6 10 5-10 6 26 5-22 6 1 5 0 6 7 5-6 6 3 5 2 6-5 5 9 6-14 5 11 6-10 5-4 6 15 6-8 8 5 5 16"/>
<path stroke="#9467bd" d="M180 2684l2-10 2-1 1 30 2-2 1 8 2-25 2-29 1-21 2-13 2 12 1 18 2 35 2-18 1 16 2 5 2 79 1 131 2 110 2 100 1 107 2-184 2-230 1-231 2-145 2 17 1 21 2 14 1 9 2 18 2 7 1 14 2 11 2 6 1 9 2 7 2 2 1 14 2 3 2 1 1 10 1 0 9 17 9 10 9 9 9 3 8-1 9 3 9-2 9 4 9-2 9 1 8-4 9 1 9 2 9-5 9 0 8-1 9-2 9 1 9-2 9-2 8-1 9 1 9 1 9-3 9-1 9-2 8-1 9-2 9 1 9-1 9 1 8 0 9-4 9 1 9-2 6-2 7-1 7-1 6-3 7-3 6-5 7-2 7-5 6 2 7 1 7-7 6-7 7 0 6-3 7-3 7-4 6-3 7-6 6-8 7-10 7-10 6-9 7-13 6-8 7-8 7-3 6-4 7 4 6 6 7 1 7 2 6 4 7 0 7 2 6 2 7 1 6 3 7-3 7 4 6-2 7-2 6 0 7-3 7 8 6-2 7-1 6 1 7 3 7 0 6 4 7 2 6-4 7 1 7 3 6 5 7-2 7 1 6-1 7 4 6-6 7 7 7-6 6 1 7 2 6 3 7-3 7-5 6 6 7-5 6 9 7 0 7 3 6 7 7-2 7 1 6 9 7 4 6-2 7 12 7 7 6 6 7-1 6 1 3-11 5 3 6 17 5 5 6-9 5 6 6 4 5 0 6 4 5-6 6-4 5 9 6 2 5-13 6 13 5 15 6-10 5-6 6 5 5 0 6-3 5-2 6-6 5 1 6 10 5-7 6 1 5 7 6 0 5-8 6-6 5 7 6-3 5 10 6-16 5 12 6 3 5-16 6 15 5-1 6 10 5-8 6 3 5-5 6 10 5-16 6 18 5-5 6-21 5 8 6 15 5-2 6-10 5-1 6 8 5-17 6 12 6 11 5-22 6 24 5 1 6-19 5-5 6 10 5 4 6 3 5-10 6-7 5 20 6-16 5-3 6 2 5 12 6-10 5 1 6 12 5-17 6-13 5 25 6 0 5 0 6-9 5-6 6 8 5-6 6 18 5-6 6 14 5-10 6-8 5 14 6-19 5 17 6-1 5-12 6-4 5 7 6-4 5 5 6 3 5-1 6-2 5 7 6-5 5 11 6-28 5 16 6-7 5 15 6-9 5 10 6 3 5-15 6 11 5-2 6-14 5 1 6 12 5-24 6 13 5-1 6 3 5 2 6 17 6-21 8-7 5 11"/>
<path stroke="#9467bd" d="M180 3134l2 32 2 7 1-38 2-1 1-27 2 0 2-4 1 26 2-22 2 26 1 13 2 20 2 31 1 30 2-58 2-75 1-76 2-75 2-32 1 3 2-1 2-1 1 1 2 0 2 1 1 2 2-1 1 0 2 1 2 1 1-2 2 0 2-1 1 2 2 0 2 0 1-1 2 0 2 3 1-4 1 4 9-1 9-1 9 2 9 2 8-1 9-1 9-2 9 4 9-2 9-4 8 5 9-1 9 0 9-1 9 1 8-2 9 2 9-1 9 3 9-4 8 5 9 0 9 1 9-2 9 3 9-1 8-3 9 1 9-2 9-1 9 4 8 0 9-2 9 0 9 0 6 1 7-2 7-3 6-5 7-1 6-3 7-7 7-1 6-4 7-4 7-3 6-5 7-4 6-4 7-5 7-6 6-6 7-6 6-8 7-14 7-10 6-17 7-10 6-18 7-12 7-2 6 1 7 4 6 4 7 5 7 2 6 3 7 7 7 2 6 1 7 3 6 1 7 2 7-3 6-6 7-1 6 4 7 0 7 1 6 0 7 3 6 4 7-3 7 11 6-6 7 8 6-2 7 5 7-3 6 0 7 2 7 1 6 1 7 3 6-5 7 4 7 1 6-2 7-2 6 6 7 0 7 0 6-1 7 6 6-8 7 9 7 8 6 5 7-4 7 12 6 8 7-6 6-1 7 5 7 9 6 4 7-9 6 11 3-6 5-2 6 4 5 1 6 0 5 8 6 4 5-9 6 0 5-6 6 14 5-5 6 3 5 6 6-11 5 6 6-10 5 12 6 3 5-6 6 0 5-4 6-1 5 20 6-22 5 6 6-4 5-5 6 15 5-10 6 15 5-4 6 5 5-9 6-1 5-3 6 8 5-9 6 16 5-18 6 11 5-4 6-2 5-1 6 10 5-1 6-6 5-1 6-5 5 0 6 5 5-4 6-7 5 9 6 15 5-7 6-6 6 9 5-12 6 6 5-6 6-8 5 11 6 4 5 7 6-14 5 9 6-9 5 10 6-10 5 14 6-15 5 9 6-8 5-3 6-1 5-1 6 23 5-19 6 7 5 8 6-21 5 12 6-1 5-1 6 2 5 4 6 4 5-13 6 3 5 6 6-8 5-2 6 13 5 2 6-9 5 1 6-3 5 7 6-12 5 3 6 9 5-6 6-12 5 16 6 5 5-7 6 1 5 3 6-11 5 12 6-10 5-6 6 3 5 5 6 4 5 4 6-21 5 8 6-2 5 23 6-17 5 4 6 4 6-4 8 7 5-19"/>
<path stroke="#9467bd" d="M180 2583l2-4 2 3 1-2 2-11 1-20 2 47 2 133 1 139 2 144 2 114 1 92 2-223 2-223 1-223 2-112 2 53 1 50 2 39 2 41 1 39 2 35 2 28 1 30 2 24 2 19 1 22 2 19 1 20 2 15 2 15 1 12 2 15 2 10 1 9 2 8 2 7 1 9 2 8 2 6 1 5 1 3 9 21 9 17 9 2 9 7 8 3 9 1 9 0 9 0 9 5 9-3 8 1 9-2 9-2 9 4 9-5 8 4 9-6 9 3 9 0 9 0 8 1 9 0 9-1 9 0 9 0 9 0 8-3 9 2 9-5 9 8 9-4 8-1 9 1 9-1 9 0 6-1 7-4 7-5 6-3 7-3 6-3 7-4 7-6 6-3 7-1 7-9 6-3 7-6 6-7 7-3 7-6 6-7 7-12 6-9 7-12 7-17 6-15 7-17 6-19 7-10 7-5 6 0 7 5 6 5 7 4 7 5 6 3 7 8 7 2 6 4 7 1 6 5 7-2 7-3 6-5 7 1 6 0 7 1 7 2 6 5 7 2 6 1 7 2 7 1 6 5 7-1 6 4 7 4 7-1 6 5 7 0 7 1 6 1 7-2 6 2 7-3 7 8 6-3 7-4 6 2 7-5 7 8 6-6 7 10 6-2 7 5 7 7 6 6 7 9 7 9 6 6 7 11 6 7 7 10 7 10 6 5 7 8 6 5 3-5 5 11 6 8 5-3 6 4 5 1 6 13 5 1 6 0 5-2 6 9 5 1 6 2 5 5 6-8 5-3 6 8 5-3 6 1 5-6 6 5 5 2 6 3 5-8 6-5 5 10 6-3 5 5 6-9 5 5 6-2 5-2 6 1 5 5 6-4 5 6 6-1 5-9 6 8 5 13 6-11 5-16 6 17 5 0 6-1 5-6 6 6 5-2 6-22 5 12 6 5 5 19 6-10 5-18 6 22 5-12 6 14 6-20 5 7 6 16 5-17 6 7 5-9 6 11 5 8 6-7 5-3 6 9 5-8 6 9 5-18 6 6 5-6 6 0 5 17 6-20 5 2 6 8 5-15 6 25 5-11 6-8 5 11 6 3 5 2 6-14 5-7 6 12 5 7 6-5 5 6 6-14 5 9 6 5 5-21 6 0 5 7 6 3 5-14 6 3 5 7 6 2 5-3 6 0 5 12 6 11 5-23 6 5 5-13 6 26 5-4 6 3 5 9 6-25 5-5 6 8 5 0 6-8 5 21 6-28 5 5 6 5 5 16 6-6 6-2 8 6 5-6"/>
<path stroke="#1f77b4" d="M180 2918l2-15 2-12 1-41 2-53 1 40 2-16 2-34 1 48 2 90 2 89 1 102 2 70 2-106 1-345 2-323 2 34 1 34 2 31 2 27 1 27 2 19 2 22 1 19 2 19 2 17 1 11 2 16 1 7 2 14 2 10 1 11 2 7 2 6 1 5 2 12 2 2 1 3 2 6 2 4 1 3 1 7 9 11 9 9 9 8 9 2 8-1 9 3 9 4 9-4 9 1 9-1 8 1 9 2 9 0 9 0 9 1 8 0 9 1 9-1 9-2 9 4 8 0 9-1 9 0 9 3 9-1 9 0 8-1 9 0 9 1 9 0 9 2 8-1 9 1 9 1 9-4 6 2 7-1 7-2 6-3 7-4 6-2 7-6 7-2 6-1 7-5 7-3 6 0 7-6 6-4 7-7 7 1 6-7 7-6 6-7 7-10 7-12 6-13 7-14 6-9 7-8 7-5 6 0 7 5 6 1 7 2 7 5 6 3 7 2 7 3 6 1 7 3 6 0 7 1 7-1 6-5 7 2 6-4 7 6 7 0 6 1 7 2 6 1 7 2 7 3 6 0 7 3 6 1 7 0 7 3 6 3 7 1 7-2 6-1 7 0 6-1 7 2 7-1 6-1 7-4 6 8 7-4 7 4 6 1 7 0 6 3 7 1 7 5 6 7 7 5 7-3 6 6 7 4 6 14 7-1 7 0 6 7 7-6 6 12 3 5 5-5 6 14 5-7 6-8 5 16 6-1 5-1 6 6 5-12 6 5 5 1 6 1 5 7 6-7 5 6 6 8 5-15 6 14 5-7 6-4 5-6 6 17 5-8 6 5 5 9 6-13 5-1 6 5 5 1 6-3 5 3 6-2 5-4 6 3 5-15 6 13 5 12 6-20 5 11 6 13 5-18 6 11 5-10 6 2 5 6 6 3 5-9 6 1 5-1 6-1 5 7 6 3 5-13 6 10 5-8 6-6 6 14 5 3 6-7 5-22 6 10 5 8 6 0 5-3 6 19 5-10 6-9 5 3 6 7 5-7 6 5 5-3 6-4 5 8 6-11 5 10 6 10 5-21 6-8 5 5 6 17 5 4 6-14 5-9 6 20 5-1 6 3 5 2 6-9 5-2 6 6 5-10 6 3 5-11 6 1 5 2 6 11 5-2 6 4 5-11 6 15 5-15 6 10 5 9 6-28 5 13 6 12 5-20 6 8 5 4 6-5 5-6 6-2 5 10 6 1 5 4 6-9 5 6 6-6 5-3 6 1 5 16 6-3 6-10 8-3 5 23"/>
<path stroke="#1f77b4" d="M180 2908l2 27 2 20 1 14 2 33 1-44 2 34 2 27 1-21 2-14 2-15 1 78 2 61 2 35 1 42 2 38 2-135 1-176 2 15 2 19 1 17 2 13 2 13 1 13 2 6 2 14 1 8 2 10 1 5 2 5 2 8 1 4 2 3 2 7 1 1 2 5 2 7 1-1 2 7 2-1 1 4 1 5 9 6 9 4 9 6 9 2 8-3 9 5 9 0 9 1 9-1 9 0 8 4 9-5 9 4 9-2 9 0 8-1 9 2 9-4 9 2 9 2 8-2 9 1 9 1 9 2 9-4 9 1 8 3 9-3 9-1 9 3 9-2 8-1 9 5 9-4 9 4 6-5 7-3 7-4 6-2 7-7 6-2 7-5 7-5 6-5 7-2 7-7 6-5 7-2 6-7 7-6 7-6 6-11 7-5 6-10 7-15 7-18 6-16 7-22 6-12 7-13 7-4 6-1 7 7 6 2 7 6 7 7 6 4 7 6 7 3 6 2 7 7 6 3 7 0 7-3 6-7 7-1 6 1 7 4 7-2 6 3 7 2 6 7 7 2 7 3 6 1 7 1 6 4 7 3 7-1 6 8 7-4 7-3 6 4 7 2 6-3 7 1 7 7 6-7 7 5 6-2 7-7 7 9 6 2 7 3 6 8 7-8 7 13 6 6 7 7 7 12 6 3 7 9 6 6 7 15 7 2 6 2 7 12 6-7 3 6 5 4 6 4 5 3 6-7 5 11 6-1 5 15 6-9 5 5 6 7 5-16 6 14 5 0 6-10 5 9 6-3 5 3 6 2 5 10 6-9 5-3 6-6 5 6 6-2 5 7 6-9 5 3 6-1 5 0 6-4 5-3 6 16 5-10 6 2 5-10 6 11 5-3 6-8 5 10 6 1 5 21 6-17 5 6 6-10 5-18 6 27 5-4 6-3 5-5 6 3 5 4 6-4 5-2 6 6 5-4 6-4 6 7 5-10 6 0 5 23 6-7 5-18 6 16 5-9 6-3 5 18 6-22 5-3 6 7 5 19 6-33 5 17 6 8 5 0 6-13 5 10 6 1 5-3 6 0 5-12 6 13 5 8 6-8 5-2 6-5 5-3 6 4 5 10 6 0 5 7 6-14 5 8 6-9 5-1 6-11 5 12 6 2 5-17 6 30 5-12 6-10 5 20 6-10 5 10 6-3 5-10 6-1 5 12 6 13 5-31 6 6 5 2 6-2 5 15 6-29 5 18 6-8 5 13 6-5 5 6 6-2 5 9 6-8 6 2 8-3 5-14"/>
<path stroke="#8c564b" d="M180 3072l2 33 2 1 1 9 2-22 1 4 2-27 2 14 1 42 2 19 2 31 1 29 2-39 2-179 1-180 2-179 2-179 1 17 2 17 2 15 1 13 2 13 2 11 1 10 2 10 2 11 1 8 2 7 1 7 2 7 2 5 1 4 2 5 2 5 1 4 2 5 2 6 1-1 2 1 2 4 1 1 1 0 9 8 9 6 9 3 9 5 8-2 9 4 9-4 9 2 9-1 9 0 8 1 9 1 9-2 9 0 9 0 8 0 9-1 9 0 9 2 9-3 8 3 9-2 9 0 9-1 9 3 9-2 8 2 9-3 9-1 9 3 9 1 8-5 9 0 9 3 9-2 6 1 7-1 7-4 6-3 7-2 6-1 7-4 7-4 6-1 7-2 7-2 6-5 7-3 6-5 7-3 7 0 6-7 7-5 6-6 7-10 7-13 6-9 7-9 6-9 7-8 7-2 6-1 7 4 6 2 7 0 7 4 6 3 7 5 7-3 6 3 7 3 6-4 7 5 7-2 6-2 7 3 6-1 7 0 7 2 6-2 7 3 6 1 7-2 7 6 6-1 7-3 6 8 7-3 7 0 6 4 7 0 7 4 6-5 7 6 6-1 7-2 7 1 6 1 7-5 6 5 7-1 7-6 6 1 7 6 6 1 7-1 7 11 6 0 7 5 7-2 6 0 7 5 6-3 7 5 7-5 6-1 7-5 6 5 3 3 5-10 6 15 5-16 6-2 5 2 6-6 5 3 6 3 5-2 6 0 5-3 6 8 5-4 6-3 5 12 6 2 5-9 6 4 5 4 6-4 5-3 6-1 5 7 6-14 5 1 6 9 5-8 6-4 5 9 6-1 5-5 6 9 5-5 6-3 5 1 6-6 5 10 6-2 5 6 6-8 5 11 6-5 5 0 6-7 5 5 6-7 5 3 6 10 5-2 6-9 5 18 6-6 5-2 6 0 5 3 6-10 6 5 5 2 6-14 5-4 6 14 5-7 6 7 5-12 6 15 5 7 6-11 5 11 6-13 5-3 6 0 5-13 6 17 5 1 6 2 5-5 6 1 5-2 6-13 5 9 6 9 5-12 6 17 5 8 6 1 5-17 6-3 5 15 6-16 5 0 6 17 5-23 6 3 5 15 6-9 5 0 6 9 5 1 6-11 5 5 6 5 5 9 6-15 5-6 6 5 5 5 6-1 5-18 6 12 5-5 6 17 5-7 6-6 5 21 6-29 5 8 6 9 5-1 6-10 5 9 6 2 5 2 6-16 6 0 8 4 5 1"/>
<path stroke="#1f77b4" d="M180 2819l2 13 2-13 1-10 2-3 1 11 2 7 2-17 1 56 2 115 2 71 1 78 2 80 2-89 1-159 2-158 2-159 1-78 2 59 2 46 1 44 2 42 2 38 1 31 2 35 2 28 1 23 2 25 1 23 2 17 2 15 1 18 2 16 2 13 1 13 2 11 2 12 1 7 2 9 2 5 1 6 1 7 9 24 9 18 9 9 9 8 8 0 9 6 9 0 9 1 9-2 9-3 8 5 9-1 9-1 9 5 9-3 8-2 9 1 9-2 9 2 9 0 8-1 9 4 9-2 9 0 9-3 9 0 8 2 9 1 9-1 9-1 9-1 8 3 9 0 9 0 9 1 6 3 7-4 7-1 6-1 7 1 6 2 7-5 7-2 6-3 7-4 7-2 6-8 7-3 6-4 7-6 7-5 6-4 7-3 6-4 7-6 7-7 6-8 7-5 6-4 7-1 7 2 6 2 7 8 6 6 7 4 7-3 6-1 7 3 7-1 6 1 7 1 6-2 7 0 7 2 6-1 7-3 6 2 7 0 7 2 6 0 7-1 6-3 7 1 7 2 6-3 7 5 6-7 7 1 7 8 6-5 7 1 7-2 6-1 7 0 6 1 7-2 7 5 6 0 7-1 6 4 7-6 7 0 6 1 7 8 6-4 7-9 7 14 6-7 7 12 7-2 6 7 7 7 6 5 7 4 7 5 6 6 7 12 6 11 3-11 5 8 6 7 5 4 6-10 5 6 6-2 5-3 6 13 5-3 6 3 5-10 6 0 5-4 6 6 5 2 6 2 5-7 6 3 5-4 6-8 5 9 6 8 5-1 6-6 5 2 6 2 5-3 6 5 5 3 6-15 5 11 6-1 5-1 6-6 5 16 6-15 5 5 6-1 5-9 6 14 5-1 6-4 5 2 6-11 5 4 6 22 5-23 6 0 5 7 6 8 5-11 6 4 5-4 6 0 5-5 6 19 6 7 5-17 6 0 5 1 6-10 5 23 6-22 5 16 6-12 5 15 6-16 5 0 6-5 5 0 6 8 5-4 6-4 5 16 6-13 5 6 6 10 5-5 6 5 5-8 6 3 5-18 6 14 5-2 6-10 5 12 6-17 5 41 6-27 5 1 6 3 5-1 6-3 5 12 6-7 5 2 6 9 5-11 6 7 5-5 6-6 5-6 6 1 5 3 6 2 5-6 6 6 5-5 6-7 5 13 6-17 5 23 6-7 5 19 6-7 5-14 6 0 5-1 6-3 5 6 6-3 5 4 6 12 6-6 8 2 5-17"/>
<path stroke="#1f77b4" d="M180 2711l2-15 2 30 1-21 2-21 1 1 2 4 2-20 1 13 2-14 2 22 1-6 2 14 2 77 1 116 2 115 2 91 1 90 2-97 2-273 1-273 2-53 2 63 1 58 2 53 2 48 1 44 2 40 1 36 2 33 2 31 1 26 2 28 2 22 1 22 2 18 2 16 1 18 2 12 2 13 1 12 1 8 9 44 9 27 9 17 9 8 8 9 9 2 9 0 9 5 9-3 9 4 8-2 9 2 9 1 9 0 9-2 8 2 9 0 9-1 9-2 9 0 8 3 9-1 9 1 9-2 9 1 9 0 8-2 9 1 9 0 9 1 9 0 8 0 9-2 9 2 9-1 6 1 7 1 7-1 6 3 7-3 6-2 7 3 7-2 6 0 7-3 7 0 6-6 7-2 6-4 7-1 7-1 6-2 7-1 6-5 7 1 7-5 6-6 7-5 6-1 7 3 7-2 6 3 7 4 6 2 7 3 7-1 6 1 7 1 7 0 6-3 7 0 6 1 7-2 7 2 6 2 7-2 6-1 7 3 7-4 6 2 7-1 6 1 7 0 7 1 6 0 7-1 6 0 7 1 7-2 6-2 7 3 7-3 6 1 7 4 6 2 7-1 7-6 6 3 7-1 6-2 7 0 7 0 6 1 7 11 6-8 7 6 7-10 6-1 7 3 7 6 6 2 7 9 6 4 7-7 7 0 6 17 7 8 6-9 3-7 5 11 6-2 5 9 6-7 5-1 6 7 5-3 6 4 5-9 6-4 5 12 6-2 5-5 6 12 5-7 6 2 5 11 6-5 5-2 6-5 5-4 6 8 5-13 6 1 5 7 6-3 5-6 6 13 5-4 6-4 5 14 6-13 5 5 6-10 5-4 6 18 5 10 6-19 5 8 6-6 5 0 6 4 5 15 6-15 5-6 6 4 5-4 6 12 5-13 6 1 5 15 6-22 5 0 6-14 5 36 6-11 6-6 5-6 6-2 5 10 6 8 5-13 6 15 5 7 6-6 5-1 6-8 5-3 6 0 5 9 6 8 5-17 6-3 5 5 6-3 5 9 6-12 5 5 6 20 5-20 6 11 5-3 6-13 5 11 6-13 5 24 6-20 5 7 6 7 5-19 6 20 5-2 6-21 5 23 6-15 5-4 6 20 5-15 6 10 5-10 6-7 5 13 6 10 5-6 6 2 5-1 6-14 5 13 6-9 5 13 6-6 5-2 6-14 5 19 6-4 5 2 6-4 5-13 6 28 5-2 6-8 5-2 6-15 6 6 8 22 5-20"/>
<path stroke="#9467bd" d="M180 2793l2-16 2-27 1 34 2 4 1 16 2 17 2 44 1-26 2 50 2 10 1-29 2-24 2 4 1 60 2 80 2 79 1 74 2 81 2-137 1-156 2-156 2-47 1-2 2 2 2 4 1-6 2 1 1-1 2 0 2 2 1 0 2 1 2-1 1-1 2 3 2-1 1 0 2-2 2 1 1 0 1 2 9 0 9 1 9-5 9 1 8 2 9 0 9 2 9-1 9-2 9 2 8-2 9 1 9-1 9-1 9 4 8 0 9-5 9 7 9-4 9 2 8-2 9 0 9 2 9-1 9 0 9 1 8-3 9 1 9 1 9-1 9-1 8 3 9 0 9-4 9 2 6-1 7 0 7-3 6-5 7-3 6-3 7-3 7-1 6-4 7-4 7-1 6-3 7-3 6-6 7-2 7-7 6-2 7-10 6-4 7-12 7-11 6-12 7-11 6-12 7-6 7-8 6 4 7 0 6 5 7 1 7 6 6 0 7 1 7 8 6 0 7 2 6 0 7 0 7-3 6-1 7-2 6-2 7 6 7 4 6-2 7-3 6 3 7 4 7 3 6-2 7-1 6 5 7-2 7 4 6 3 7 0 7-2 6 1 7 0 6 0 7 0 7 3 6-2 7 2 6 1 7 2 7 2 6-5 7 5 6-6 7 11 7 2 6 0 7 6 7-1 6 8 7-1 6 14 7 0 7-1 6 6 7 0 6 2 3 4 5-3 6-3 5 13 6-3 5 5 6-7 5 9 6-13 5 5 6 5 5-2 6 6 5 4 6 0 5-7 6 8 5 2 6-5 5-5 6-1 5 9 6-6 5-4 6 2 5-1 6 17 5-16 6 7 5 1 6-3 5-4 6 5 5-9 6 4 5 4 6 4 5-2 6-5 5 2 6 1 5-4 6 5 5-9 6 4 5 3 6 9 5-16 6 14 5-9 6 0 5 8 6-5 5 7 6-14 5 0 6 4 6 2 5 9 6 3 5 7 6-18 5-3 6-11 5 12 6 1 5 14 6-8 5 2 6-3 5-12 6-3 5 13 6-7 5-7 6 11 5 5 6 1 5-16 6 23 5-15 6 16 5-18 6 7 5-7 6 10 5-16 6 11 5 8 6-9 5 8 6-6 5 9 6 3 5-21 6 8 5-11 6 9 5-2 6 1 5-7 6 28 5-17 6-12 5 12 6-2 5 7 6 14 5-4 6-24 5 11 6-2 5 3 6-11 5-3 6 17 5 2 6-10 5 11 6-23 5 10 6 9 5-4 6-6 6 2 8 9 5-25"/>
<path stroke="#1f77b4" d="M180 2867l2 17 2 21 1-20 2-16 1-30 2-17 2 8 1 22 2 15 2-3 1-29 2 40 2 14 1 52 2 85 2 70 1 74 2 28 2-292 1-291 2-168 2 52 1 52 2 44 2 42 1 35 2 39 1 29 2 30 2 27 1 26 2 16 2 22 1 18 2 17 2 13 1 17 2 10 2 14 1 8 1 5 9 40 9 24 9 13 9 9 8 4 9 2 9 5 9-4 9 2 9 0 8 3 9 0 9-3 9-3 9 3 8-3 9 1 9-1 9 0 9-2 8 0 9 0 9-1 9-1 9 0 9-2 8 0 9 1 9-1 9-2 9-3 8 1 9 2 9-3 9 3 6-6 7-1 7-2 6-5 7-6 6-2 7-5 7-6 6-1 7-7 7-3 6 0 7-9 6-4 7-8 7-5 6-9 7-6 6-12 7-13 7-15 6-18 7-14 6-19 7-15 7-3 6 1 7 4 6 4 7 7 7 4 6 4 7 7 7 4 6 2 7 3 6 4 7 0 7-4 6-4 7 0 6 0 7 0 7 7 6-1 7 1 6 3 7 5 7 2 6 3 7-3 6 2 7 7 7 1 6-2 7 5 7-2 6 2 7 3 6 2 7-1 7-5 6-2 7 5 6 2 7-1 7 1 6-6 7 9 6 6 7-2 7 2 6 15 7 5 7 6 6 13 7-5 6 8 7 8 7 2 6 4 7 5 6 7 3-12 5 9 6-10 5 10 6 4 5-6 6 2 5 12 6-9 5 16 6-7 5-3 6 12 5-6 6-5 5 4 6 17 5-12 6 0 5-8 6 9 5-1 6-2 5-7 6 2 5 10 6-6 5 8 6-3 5-12 6 4 5 17 6-11 5 2 6-6 5-3 6-3 5 7 6-2 5-2 6 2 5-11 6 12 5 0 6-2 5-1 6 7 5-11 6 7 5 3 6 3 5-27 6 31 5 2 6-6 5-7 6 4 6-7 5 2 6-4 5 17 6-3 5-14 6 7 5-5 6 17 5-12 6 2 5-9 6 4 5-1 6 9 5-9 6-10 5 20 6-9 5 9 6-13 5-2 6 26 5-31 6 17 5 5 6-14 5 2 6 16 5-4 6-7 5 3 6-2 5 1 6-13 5 14 6-9 5 4 6-6 5 8 6 0 5-4 6-8 5 6 6 8 5-15 6 5 5-14 6 34 5-7 6 12 5-24 6 14 5 1 6-5 5-13 6 17 5-13 6 10 5 1 6-1 5-8 6 10 5-6 6-2 5 6 6-11 6 11 8-5 5-16"/>
<path stroke="#17becf" d="M180 2615l2 31 2 65 1-49 2-28 1 23 2 31 2 78 1 117 2 102 2 109 1 115 2-102 2-150 1-151 2-89 2-1 1-2 2 4 2-1 1-2 2 3 2 0 1-3 2 2 2 1 1 1 2-4 1 4 2-2 2 2 1-3 2 1 2 0 1-2 2 1 2-1 1 1 2 2 2-2 1 0 1 3 9 0 9 0 9-2 9 0 8-1 9 5 9-6 9 4 9 1 9-3 8-1 9 2 9 0 9 2 9-6 8 6 9-2 9 2 9-1 9 3 8-1 9-2 9 4 9-3 9 2 9-2 8-1 9 3 9-3 9 1 9 1 8-1 9 2 9 0 9 4 6-3 7-3 7-3 6-4 7-2 6-7 7-1 7-5 6-1 7-3 7-3 6-7 7-2 6-5 7-2 7-7 6-10 7-1 6-9 7-12 7-13 6-13 7-16 6-14 7-7 7-6 6 1 7 5 6 0 7 4 7 4 6 5 7 2 7 2 6 4 7 0 6 0 7 3 7-2 6-6 7 3 6 1 7-1 7 0 6 5 7 1 6-1 7 5 7 1 6 3 7 1 6-1 7 2 7 2 6 2 7 1 7-3 6 7 7-5 6 4 7-2 7-4 6 2 7 2 6 0 7-1 7-1 6 9 7-9 6 2 7 8 7 7 6 3 7-1 7 4 6 6 7-3 6 3 7-4 7 4 6 0 7-2 6 3 3-2 5 1 6-6 5 3 6-4 5 5 6-1 5 4 6-7 5 6 6 2 5-6 6 11 5 0 6-4 5 0 6 5 5-1 6 3 5-10 6 11 5 0 6-15 5 8 6 6 5-5 6 3 5-10 6 7 5 3 6-9 5 3 6 6 5-8 6-2 5 9 6-4 5 8 6-9 5 5 6-11 5 13 6-5 5 1 6-8 5 17 6-13 5-1 6 13 5-17 6 2 5 6 6 7 5-1 6-14 5 10 6 7 6 0 5-16 6 7 5-1 6-2 5 2 6 0 5-13 6 23 5-2 6-10 5-5 6 18 5-6 6 21 5-19 6-22 5 17 6-10 5-2 6 14 5-4 6 4 5 2 6 4 5-10 6 1 5 18 6-32 5 28 6-12 5-2 6 9 5 1 6-11 5-6 6 14 5-9 6-6 5 2 6-6 5 3 6 15 5-14 6 23 5-13 6-5 5 4 6-9 5 24 6-11 5 22 6-20 5-5 6-20 5 29 6-7 5-6 6 2 5-4 6 14 5-2 6-7 5 16 6-21 5 5 6-6 6 1 8 5 5-16"/>
<path stroke="#d62728" d="M180 2537l2 12 2 4 1-13 2 2 1 4 2 7 2 7 1-4 2-20 2 55 1 142 2 130 2 110 1 136 2 104 2-232 1-232 2-232 2-64 1 47 2 40 2 41 1 37 2 34 2 24 1 27 2 27 1 21 2 21 2 17 1 19 2 12 2 15 1 14 2 8 2 14 1 9 2 8 2 10 1 6 1 4 9 29 9 13 9 11 9 7 8 4 9-2 9 3 9-1 9 6 9-2 8-1 9-1 9 1 9 1 9-1 8 1 9 2 9-2 9-4 9 4 8 2 9-4 9-4 9 6 9-1 9 0 8 1 9-5 9 5 9-1 9-3 8 3 9-5 9 7 9-6 6 0 7-3 7-2 6-3 7-6 6-4 7-6 7-1 6-2 7-3 7-4 6-4 7-8 6-6 7-3 7-9 6-6 7-5 6-8 7-16 7-14 6-13 7-21 6-14 7-9 7-8 6 3 7 5 6 3 7 2 7 7 6 2 7 4 7 3 6 3 7 6 6 1 7 0 7-1 6-5 7-1 6 2 7 0 7 2 6-1 7 0 6 3 7 2 7 7 6 0 7 6 6 0 7 5 7-4 6 4 7 3 7-5 6-3 7 7 6 6 7 1 7-9 6 1 7 4 6-8 7 7 7-3 6 1 7 3 6 2 7 1 7 7 6 6 7 15 7-5 6 15 7 1 6 5 7 10 7 14 6 1 7 5 6 5 3 0 5 8 6 4 5-1 6 5 5-3 6 9 5 4 6-1 5 6 6 1 5 0 6-1 5-1 6 6 5-4 6 2 5-5 6 2 5 6 6-5 5 0 6-2 5-11 6 18 5-6 6 1 5-2 6 3 5-11 6 8 5 0 6-3 5-1 6 3 5-6 6 7 5 19 6-14 5-6 6-3 5 1 6-13 5 13 6 0 5-6 6 15 5-9 6-5 5-1 6 14 5-11 6 10 5 4 6-2 5-9 6 3 6 6 5 5 6-14 5 3 6 3 5-10 6-2 5 22 6-7 5-8 6 9 5-4 6 4 5-5 6 1 5-11 6-18 5 17 6 9 5-1 6-3 5 2 6 4 5-3 6-8 5 21 6-16 5 10 6-8 5-7 6 6 5-8 6 5 5-9 6 35 5-19 6 2 5-9 6-7 5 12 6-2 5 14 6 5 5-15 6-5 5-1 6 5 5-9 6 20 5-10 6 5 5-4 6-11 5 15 6-2 5 8 6-9 5 2 6-4 5-2 6 3 5 0 6 9 5 12 6-29 5 0 6 24 6-19 8 7 5-9"/>
<path stroke="#8c564b" d="M180 2890l2-1 2-7 1 32 2 1 1 5 2-6 2-23 1 16 2 62 2 61 1 69 2 64 2 28 1-426 2-334 2 21 1 26 2 21 2 18 1 17 2 13 2 14 1 12 2 12 2 11 1 10 2 9 1 5 2 8 2 8 1 7 2 4 2 6 1 3 2 3 2 9 1 1 2 6 2-1 1 0 1 5 9 7 9 8 9 3 9 1 8 3 9 0 9 1 9 0 9 3 9-3 8-2 9 1 9 1 9 1 9-2 8-1 9 2 9 0 9 0 9 0 8 1 9 0 9 0 9-1 9-3 9 2 8 1 9-3 9 1 9 1 9-1 8 2 9 0 9 0 9-3 6 3 7-4 7-3 6-3 7-3 6-4 7-3 7-3 6-1 7-8 7 0 6-2 7-6 6-5 7-6 7-2 6-7 7-3 6-10 7-13 7-9 6-13 7-16 6-8 7-10 7-10 6 4 7 1 6 4 7 5 7 4 6-2 7 8 7 1 6-4 7 9 6 2 7 2 7-4 6-7 7 3 6 3 7-5 7 8 6-3 7 3 6 2 7-1 7-4 6 6 7 3 6 1 7 3 7-1 6 1 7 6 7-4 6 0 7 4 6-2 7-1 7 2 6 3 7-10 6 5 7 1 7 3 6 0 7 4 6 3 7 0 7 0 6 6 7 10 7-1 6-3 7 6 6 10 7 3 7-3 6-1 7 1 6 4 3-6 5 3 6 4 5-12 6 9 5 0 6 2 5 0 6 9 5-16 6 13 5 0 6-1 5-3 6-6 5 7 6 6 5-7 6 0 5 11 6-4 5-2 6 2 5-7 6 8 5-6 6-10 5 9 6 10 5 5 6-17 5 0 6 16 5-13 6 11 5-9 6-2 5 2 6-6 5-7 6 16 5 0 6-7 5 5 6 9 5-12 6 2 5 13 6-14 5 13 6-8 5-12 6 1 5 13 6-25 5 30 6-18 6 1 5 13 6-3 5 12 6-21 5 5 6 4 5-3 6-12 5 5 6 12 5-14 6 8 5-2 6-10 5 13 6 2 5-25 6 17 5 14 6-17 5 20 6-2 5-26 6 11 5 3 6-9 5 26 6-13 5-8 6-4 5 6 6 0 5-4 6 1 5 25 6-17 5-8 6 15 5 1 6-9 5-3 6-1 5-3 6 16 5 15 6-40 5 14 6 9 5-14 6-1 5-7 6-3 5 29 6-1 5-10 6 14 5-12 6 17 5-9 6-17 5 5 6 4 5 15 6-29 5 10 6-6 6 1 8 22 5 7"/>
<path stroke="#9467bd" d="M180 2904l2-8 2 1 1 16 2-10 1-26 2-2 2 17 1 15 2 7 2-21 1-8 2 13 2 24 1 89 2 27 2 49 1 65 2 73 2-357 1-389 2-25 2 35 1 31 2 30 2 24 1 23 2 22 1 20 2 20 2 15 1 12 2 13 2 13 1 14 2 6 2 12 1 7 2 7 2 7 1 6 1 7 9 24 9 10 9 10 9 6 8 3 9 4 9-3 9 3 9 4 9-4 8 3 9 0 9-2 9-2 9 2 8-1 9-4 9 2 9-2 9 0 8 1 9 2 9 0 9 1 9-3 9 1 8-1 9-2 9 1 9 2 9-2 8-2 9 2 9 0 9-1 6 0 7-4 7-1 6-3 7-5 6-4 7 2 7-3 6-8 7-1 7-5 6-5 7 1 6-9 7-3 7-1 6-12 7-3 6-8 7-11 7-13 6-12 7-16 6-10 7-10 7-4 6 3 7 0 6 6 7 2 7 1 6 4 7 3 7 5 6-1 7 3 6 2 7 2 7-3 6-4 7 1 6 2 7-3 7 3 6 2 7-2 6 3 7 5 7-4 6 8 7-1 6 1 7 3 7 2 6 0 7 5 7-6 6 5 7-1 6 1 7-2 7 0 6 0 7 0 6 2 7-4 7 4 6 0 7 1 6 8 7-3 7 7 6 2 7 7 7 8 6 5 7 2 6 5 7 9 7 3 6 2 7 6 6 3 3 8 5 5 6 2 5-3 6 14 5-4 6 6 5 0 6 3 5-5 6 10 5-5 6 5 5-11 6 12 5-4 6 4 5 6 6-11 5 7 6 0 5-4 6 3 5 6 6 4 5-18 6 7 5 9 6-15 5 1 6-1 5 12 6-1 5-14 6 3 5-3 6 14 5-6 6 12 5-10 6-5 5-2 6 11 5-11 6 1 5 10 6-4 5 3 6-11 5 20 6-4 5-18 6 15 5-9 6 14 5-14 6 4 6 7 5-3 6-7 5-9 6-13 5 10 6 4 5 13 6 3 5-1 6 6 5-15 6-3 5 5 6 4 5 14 6-12 5-14 6 14 5 6 6-15 5 18 6-8 5 14 6-22 5 3 6 10 5-8 6 9 5-4 6-15 5-1 6 5 5-6 6 10 5 12 6-9 5-17 6-6 5 5 6 25 5-4 6-1 5-1 6-8 5 10 6-15 5-1 6 16 5-5 6-4 5 7 6 3 5-2 6-8 5 10 6-10 5-8 6 19 5-10 6 1 5-13 6 24 5-19 6-12 5 15 6-10 6 9 8 19 5-12"/>
<path stroke="#d62728" d="M180 2799l2 35 2-61 1-7 2-6 1-19 2 28 2-9 1 13 2-13 2 13 1 2 2-17 2-42 1 32 2 92 2 115 1 95 2 90 2 88 1-39 2-44 2-43 1 0 2 7 2 7 1 7 2 5 1 3 2 8 2 4 1 6 2 1 2 2 1 3 2 4 2-1 1 3 2 6 2-3 1 5 1 2 9 6 9 0 9 4 9 2 8-1 9 0 9 1 9 1 9-1 9 1 8 1 9-2 9 1 9 0 9 0 8 1 9 1 9-2 9 1 9-1 8 3 9-4 9 2 9 0 9-1 9 0 8 1 9-1 9 2 9-1 9 1 8-3 9 4 9-4 9 2 6 1 7-4 7 2 6-4 7 3 6 0 7 1 7-4 6-1 7-4 7-3 6-2 7-4 6-5 7-3 7-5 6-4 7-5 6 0 7-5 7-7 6-3 7-4 6-3 7-4 7 2 6 3 7 5 6 4 7 5 7 0 6 2 7-2 7-1 6 3 7-3 6 1 7 3 7 0 6-3 7 0 6-1 7 1 7 0 6-3 7 2 6 3 7-2 7-2 6 1 7-1 6 2 7 4 7-4 6-1 7 0 7 1 6 0 7 1 6-3 7-3 7 10 6-5 7 0 6-2 7-4 7 5 6 0 7-1 6 4 7-7 7 5 6-2 7 1 7 3 6 7 7-6 6 11 7 9 7 2 6 3 7 0 6 3 3 4 5 1 6 6 5-2 6 7 5-7 6-4 5 3 6 9 5-1 6-7 5-6 6-3 5 11 6-7 5 11 6-7 5 2 6 1 5-1 6 5 5 3 6-11 5 6 6-10 5-1 6 9 5 3 6 0 5-17 6 16 5-4 6 3 5 0 6-1 5-4 6-6 5 13 6-3 5-2 6 1 5-11 6 11 5 8 6-18 5 5 6 14 5-4 6-21 5 14 6 9 5-15 6-9 5 25 6-20 5 4 6 10 6-7 5-11 6 14 5 9 6-9 5 5 6 4 5 9 6-21 5-8 6 24 5-15 6-18 5 23 6 2 5-14 6 19 5 1 6-2 5-1 6 0 5-7 6 5 5-1 6-10 5 7 6-8 5 8 6-10 5 8 6-9 5 22 6-32 5 26 6 0 5-20 6 3 5 18 6-7 5 3 6-8 5-6 6-4 5 5 6 7 5 4 6 1 5 0 6 11 5 6 6-28 5 10 6 7 5-6 6 1 5 10 6-13 5 17 6-26 5-1 6 16 5-10 6-4 5 9 6-3 5 1 6-4 6 11 8-2 5-1"/>
<path stroke="#8c564b" d="M180 2953l2 0 2-1 1 20 2 4 1 22 2-13 2-15 1 15 2 11 2 0 1 34 2 48 2 42 1 37 2 52 2-108 1-253 2-98 2 9 1 8 2 10 2 10 1 5 2 6 2 7 1 6 2 5 1 5 2 4 2 3 1 3 2 2 2 1 1 7 2-1 2 3 1 2 2 2 2-1 1 3 1 1 9 4 9 5 9 4 9-1 8 0 9 2 9 2 9 0 9-2 9-1 8 1 9-1 9 1 9-2 9-1 8 3 9-4 9 1 9-1 9 0 8-1 9 2 9-1 9-4 9 3 9 1 8-1 9-2 9-1 9 1 9-1 8 1 9 2 9-7 9 5 6-1 7-3 7-5 6-2 7-6 6 0 7-5 7-9 6-1 7 0 7-4 6-8 7-1 6-6 7-6 7-3 6-9 7-8 6-11 7-12 7-13 6-15 7-16 6-14 7-14 7-2 6 1 7 5 6 1 7 5 7 3 6 1 7 7 7 6 6 1 7 0 6 5 7-3 7-3 6 0 7-2 6 1 7 2 7-1 6 6 7 3 6-3 7 2 7 1 6 5 7 3 6-1 7 2 7-3 6 7 7 1 7 0 6 0 7 8 6-11 7 5 7 0 6-3 7 0 6 5 7-7 7 6 6-3 7 3 6 0 7 12 7-9 6 13 7 13 7-4 6 9 7 9 6 9 7-2 7-1 6 5 7-2 6 9 3 0 5 7 6 0 5-7 6 8 5 9 6-6 5 8 6-3 5 3 6 2 5 0 6-6 5 15 6-8 5 0 6 0 5 3 6 2 5-9 6 2 5 12 6-18 5 14 6-7 5 0 6 10 5-15 6 7 5 13 6-16 5-1 6 1 5 17 6-6 5 1 6-12 5 6 6-1 5 0 6-6 5-2 6 10 5 0 6-9 5 3 6 8 5 3 6-19 5 1 6 11 5-10 6 4 5 2 6 5 5-20 6 8 6 20 5-5 6-3 5-4 6 3 5 4 6-14 5 15 6-7 5 1 6 11 5-12 6 4 5-10 6-8 5 18 6-4 5 14 6-13 5-1 6 6 5 4 6 3 5-14 6-4 5 2 6 14 5-19 6 1 5 9 6-8 5 8 6-2 5 21 6-33 5 9 6 12 5-17 6 22 5-19 6-4 5 14 6-1 5 0 6-15 5 16 6-10 5-7 6 14 5 8 6-4 5-22 6 26 5-15 6 7 5-6 6-3 5 10 6-4 5-10 6 21 5 9 6-21 5 2 6 11 5-8 6 1 6-18 8 1 5 3"/>
<path stroke="#7f7f7f" d="M180 2886l2 2 2 7 1-3 2-20 1 33 2 21 2 12 1-9 2 7 2-33 1 6 2-20 2 53 1 48 2 52 2 63 1 72 2-53 2-375 1-318 2 22 2 21 1 15 2 15 2 13 1 15 2 9 1 12 2 8 2 9 1 7 2 7 2 10 1 3 2 7 2 4 1 4 2 4 2 5 1 4 1-2 9 15 9 9 9 6 9 2 8 4 9-1 9 1 9 0 9 1 9-4 8 5 9 0 9-1 9 0 9 3 8-3 9 3 9 0 9-3 9 0 8 3 9 2 9-2 9 0 9 2 9 0 8-1 9 1 9 2 9-2 9 3 8-1 9 2 9-2 9 1 6-3 7 3 7-8 6 1 7-4 6-4 7-2 7-2 6-1 7-3 7-3 6-8 7 0 6-2 7-3 7-6 6 1 7-9 6-4 7-13 7-8 6-8 7-13 6-10 7-4 7-6 6 0 7 2 6 4 7 3 7 4 6 0 7 2 7 3 6 5 7-2 6 4 7-3 7-3 6-2 7 1 6 0 7 3 7 1 6-1 7 1 6-1 7 4 7 2 6 5 7-2 6-2 7 7 7-1 6-1 7-2 7 4 6-3 7 3 6-5 7 3 7 2 6 2 7 0 6 1 7-4 7 2 6 4 7-5 6 4 7 2 7 2 6 12 7-8 7 7 6 0 7 0 6 6 7-7 7 3 6 4 7 3 6-3 3-1 5-10 6 5 5 1 6-5 5 13 6-8 5 4 6-3 5 5 6 10 5-16 6 9 5 2 6-8 5-1 6 12 5 2 6 0 5-18 6 25 5-18 6 3 5 15 6-19 5 20 6-14 5-11 6 22 5-15 6-5 5 8 6 8 5-5 6 1 5-12 6 4 5 1 6 13 5-8 6-4 5-9 6 0 5 11 6 7 5-2 6-1 5-11 6 11 5 4 6-21 5 29 6-15 5-8 6 20 5-28 6-8 6 16 5 9 6-3 5 5 6-10 5 13 6 2 5-7 6-4 5 0 6-7 5 29 6-22 5 9 6-19 5 9 6 2 5-1 6 4 5-5 6 2 5 1 6-5 5 17 6-6 5-10 6 9 5 2 6-9 5-5 6 0 5 24 6-26 5 6 6 2 5-5 6 7 5-1 6 4 5-8 6 12 5-6 6 13 5-5 6-9 5-12 6 9 5-8 6 23 5-14 6-3 5-6 6 3 5 16 6-13 5 15 6-12 5 0 6-17 5 18 6-9 5 15 6-5 5-10 6 19 5-18 6 11 6-6 8 1 5-8"/>
<path stroke="#e377c2" d="M180 2719l2-4 2-20 1-5 2 22 1 96 2 102 2 90 1 103 2 106 2-190 1-265 2-265 2-25 1 43 2 41 2 35 1 29 2 31 2 27 1 24 2 19 2 22 1 19 2 17 2 16 1 14 2 11 1 13 2 12 2 6 1 9 2 8 2 7 1 10 2 2 2 6 1 7 2 5 2 4 1 1 1 2 9 15 9 7 9 6 9 5 8-1 9 5 9-1 9-2 9 5 9-4 8 1 9 0 9 1 9 0 9 2 8-3 9 2 9 0 9 0 9 2 8-2 9 0 9 0 9 2 9 2 9-5 8 1 9 1 9-1 9-2 9 4 8 0 9 0 9-1 9-2 6 0 7-3 7-4 6 1 7-4 6-8 7-5 7-1 6-4 7-3 7-5 6-4 7-5 6-1 7-8 7-7 6-7 7-6 6-11 7-15 7-16 6-13 7-15 6-17 7-11 7-5 6 1 7 5 6 2 7 7 7 0 6 6 7 6 7 0 6 3 7 8 6 0 7 1 7-4 6-2 7-3 6-2 7 8 7 0 6-1 7 4 6 3 7-2 7 2 6 3 7-1 6 5 7 0 7 4 6 4 7 1 7-4 6-1 7 4 6 0 7 1 7-6 6 4 7 9 6-2 7-2 7-2 6-2 7 5 6 5 7-5 7 13 6 6 7 1 7 10 6 5 7 4 6 0 7 8 7 5 6 2 7 2 6 8 3-11 5 14 6-2 5 9 6 3 5-5 6-1 5 6 6-5 5 1 6 9 5 0 6 6 5-2 6-1 5-11 6 15 5-2 6 5 5-12 6 5 5 3 6-9 5 15 6-19 5 12 6 1 5-10 6 3 5-1 6 7 5 5 6-19 5 18 6 1 5-18 6 13 5-14 6 16 5 7 6-7 5-14 6-4 5 8 6 5 5-9 6 5 5 8 6-9 5-17 6 25 5-12 6 7 5-13 6 10 5-7 6 11 6 8 5-4 6 0 5 4 6-7 5 7 6 3 5-19 6 7 5 4 6-15 5 16 6-2 5 3 6-25 5 24 6-3 5-9 6 9 5 15 6-15 5-4 6 11 5-11 6-24 5 26 6-1 5 13 6-1 5-8 6 4 5-6 6-1 5-19 6 20 5-3 6 0 5 1 6-2 5 16 6-10 5-21 6 8 5 0 6 8 5 3 6-4 5-1 6 3 5 7 6-12 5 18 6-23 5 20 6-16 5 8 6-10 5-3 6 5 5 9 6-14 5 5 6 1 5 6 6-6 5 10 6 4 6-9 8 9 5-4"/>
<path stroke="#ff7f0e" d="M180 3011l2 36 2-30 1 27 2 14 1-25 2-18 2 1 1-34 2 17 2-22 1 64 2 20 2 59 1 45 2 50 2-144 1-235 2-75 2 16 1 12 2 13 2 6 1 12 2 9 2 7 1 8 2 7 1 7 2 4 2 3 1 7 2 3 2 4 1 4 2 4 2 2 1 4 2 1 2 3 1-2 1 8 9 6 9 3 9-1 9 5 8 0 9 2 9-3 9 0 9 3 9-2 8-1 9 2 9-2 9-1 9 2 8-1 9 2 9-2 9 0 9-1 8 0 9 0 9 1 9-1 9-1 9 0 8-1 9 0 9 1 9-1 9-1 8 2 9 0 9-3 9 2 6-2 7 0 7-6 6-3 7 0 6-3 7-3 7-6 6-1 7-2 7-6 6-2 7-5 6-3 7-2 7-9 6-4 7-3 6-8 7-11 7-11 6-11 7-13 6-13 7-8 7-6 6 3 7 0 6 5 7 3 7 4 6 2 7 3 7 2 6 5 7 0 6 4 7 1 7-1 6-2 7-4 6 1 7 0 7 2 6 2 7 1 6 2 7-1 7 3 6 5 7-7 6 7 7 0 7 4 6-1 7 2 7-2 6 2 7 0 6 0 7 0 7-4 6 4 7-2 6 2 7-4 7 6 6-2 7 3 6-2 7 6 7 8 6 2 7 4 7 4 6 16 7 3 6 8 7 2 7 7 6-1 7 13 6 0 3 3 5 1 6 8 5 2 6-2 5 5 6 4 5 3 6-1 5 10 6 0 5-10 6 10 5-4 6-2 5 9 6-1 5 3 6-5 5 5 6-7 5 6 6-3 5 1 6 0 5-6 6-4 5 0 6 2 5-7 6 8 5 13 6-13 5 15 6-10 5 2 6 0 5 13 6-25 5 7 6 1 5 7 6 9 5-10 6-2 5-7 6-1 5-1 6 8 5 4 6-10 5-2 6 4 5-6 6 2 5-4 6-6 6 25 5 0 6-11 5-8 6 4 5-2 6 12 5-7 6 1 5 2 6 0 5-3 6-2 5 20 6-11 5-3 6-9 5 16 6-5 5-2 6 7 5-5 6 8 5-3 6-12 5 6 6-2 5-5 6 6 5 14 6-11 5-3 6 9 5-23 6 12 5 10 6-3 5-18 6 20 5-13 6 0 5-12 6 29 5-13 6 11 5-1 6 2 5-11 6 3 5 11 6-15 5 1 6 0 5 7 6-3 5 12 6-21 5 4 6-9 5 7 6 13 5-20 6 16 5-16 6 8 5-17 6 18 6-5 8 13 5 14"/>
<path stroke="#8c564b" d="M180 2548l2 8 2 7 1-21 2-8 1 28 2 13 2 94 1 136 2 115 2 125 1 115 2-34 2-258 1-258 2-174 2 53 1 50 2 46 2 39 1 32 2 40 2 28 1 26 2 28 2 20 1 20 2 22 1 16 2 16 2 13 1 13 2 11 2 13 1 9 2 10 2 7 1 9 2 5 2 9 1 3 1 4 9 21 9 13 9 7 9 6 8 2 9 1 9 0 9 2 9-3 9 3 8 3 9-5 9 1 9 3 9-3 8 2 9-1 9 0 9-3 9-1 8 1 9 2 9-2 9 1 9-3 9 2 8-1 9 1 9-2 9-1 9 2 8-1 9 2 9 1 9-3 6-1 7-4 7-2 6-3 7-4 6-5 7-4 7-6 6 1 7-7 7-4 6-3 7-7 6-7 7-5 7-4 6-7 7-10 6-9 7-12 7-16 6-16 7-18 6-15 7-10 7-6 6 3 7 1 6 5 7 3 7 5 6 6 7 3 7 3 6 5 7 1 6 4 7 2 7-2 6-7 7-2 6 0 7 3 7 4 6 2 7-1 6 3 7 1 7 4 6-1 7 8 6 1 7 3 7 0 6 6 7 0 7-4 6 1 7 2 6-1 7 0 7 3 6-2 7-1 6 0 7 0 7 0 6 5 7-1 6 3 7 1 7 9 6 4 7 10 7 0 6 18 7-4 6 16 7 7 7 6 6-2 7 0 6 9 3-3 5 8 6 6 5 4 6-1 5 4 6 6 5-8 6 15 5 5 6 1 5-9 6 8 5-2 6-5 5 12 6-16 5 5 6-3 5 5 6-6 5 1 6 18 5-8 6 0 5-3 6 0 5 0 6-6 5 14 6-12 5-9 6 17 5-10 6 9 5 5 6-9 5 3 6-7 5 4 6 2 5 8 6-17 5 14 6-3 5-1 6-8 5 13 6-15 5 10 6-9 5 20 6-13 5-1 6-16 5 27 6-8 6 6 5-5 6-8 5-9 6 13 5 15 6-12 5-17 6 28 5-8 6-8 5-9 6 18 5-16 6 10 5-10 6 15 5-2 6 1 5-1 6-3 5-8 6 5 5 3 6 5 5-3 6 4 5-2 6-14 5 9 6-15 5 29 6-13 5 2 6-30 5 27 6-9 5 15 6-6 5-3 6 1 5 3 6 4 5-8 6 5 5-5 6 22 5-26 6-8 5 3 6 30 5-12 6 0 5 3 6-5 5-2 6-15 5-1 6 1 5 11 6-9 5 4 6 4 5-13 6 12 5 19 6-15 6 2 8-8 5 0"/>
<path stroke="#7f7f7f" d="M180 3043l2-3 2-4 1 9 2-48 1-31 2 4 2 26 1 36 2 9 2 31 1 2 2 11 2-7 1-28 2-2 2 47 1 28 2 27 2 43 1 23 2-175 2-176 1-124 2 3 2 1 1 3 2 3 1-1 2 2 2 5 1-2 2 3 2-3 1 5 2 1 2-1 1 1 2 0 2 3 1 1 1-1 9 1 9-1 9 5 9 1 8 1 9-3 9-1 9 2 9 0 9-1 8-1 9 2 9 0 9-2 9 2 8-1 9-1 9 1 9 0 9 2 8-5 9 3 9 0 9 1 9-3 9-1 8 6 9-5 9 0 9-1 9 4 8-1 9-3 9 2 9 4 6-5 7-1 7-3 6-3 7-6 6-2 7-4 7 0 6 0 7-7 7-1 6-3 7-4 6-5 7-4 7-5 6 0 7-10 6-7 7-11 7-10 6-12 7-13 6-9 7-12 7-3 6 2 7-1 6 3 7 6 7-1 6 8 7-1 7 3 6 2 7 4 6-2 7 2 7-2 6 0 7-1 6 1 7-2 7 2 6 1 7 3 6 1 7 2 7 1 6 0 7 2 6 5 7-1 7 4 6-5 7 2 7 0 6-4 7 7 6-4 7 3 7 1 6 0 7 0 6-1 7 2 7-3 6 6 7-2 6-2 7 1 7 14 6 0 7 0 7 8 6 6 7 7 6-10 7 0 7 18 6-3 7-2 6 7 3-5 5 8 6 2 5 3 6 6 5-12 6-1 5 11 6 0 5 10 6-6 5 12 6-8 5 1 6 3 5 1 6 5 5-8 6-1 5-2 6 10 5-15 6 14 5-12 6 2 5 9 6-7 5-6 6 7 5-2 6 2 5 2 6 5 5-4 6-10 5-4 6 8 5 13 6-7 5 10 6-19 5 4 6-8 5 13 6 2 5 4 6-19 5 0 6 14 5-6 6-11 5 10 6 3 5-12 6 7 5 6 6-5 6 6 5 0 6-8 5 9 6-12 5 0 6 19 5-16 6 17 5-9 6 10 5-10 6 5 5-10 6 17 5 1 6-20 5 12 6-7 5 9 6-21 5 13 6 7 5-3 6-10 5-14 6 17 5-1 6-2 5 2 6 16 5-7 6-13 5 20 6-23 5 8 6 14 5-2 6-12 5 18 6-9 5-13 6 24 5-23 6 14 5-17 6-11 5 24 6-15 5 30 6-21 5 13 6-4 5 8 6-14 5 18 6-21 5-1 6-2 5 0 6 15 5-24 6-10 5 9 6 7 5-10 6 11 6-4 8 15 5-2"/>
<path stroke="#2ca02c" d="M180 2685l2 0 2-17 1-7 2-7 1-2 2 135 2 103 1 108 2 113 2 96 1-150 2-232 2-232 1-91 2 38 2 36 1 30 2 32 2 24 1 25 2 22 2 20 1 17 2 20 2 14 1 14 2 8 1 15 2 11 2 8 1 6 2 10 2 8 1 5 2 3 2 9 1 5 2 7 2 1 1 3 1 4 9 16 9 7 9 6 9 2 8 3 9 0 9 1 9-1 9-1 9 0 8 1 9 2 9 0 9-2 9 3 8-2 9 1 9 3 9-2 9 0 8-1 9-1 9 0 9-1 9 2 9 0 8 0 9 0 9 1 9-1 9 2 8-2 9 2 9-1 9-2 6 3 7-4 7-4 6-4 7-2 6-2 7-3 7-2 6-7 7-2 7-4 6-7 7 0 6-5 7-4 7-6 6-5 7-7 6-8 7-11 7-13 6-15 7-12 6-14 7-10 7-5 6 2 7-2 6 8 7 5 7 2 6 4 7 4 7-1 6 4 7 4 6 2 7 1 7-3 6-3 7-2 6-1 7 4 7-1 6 5 7 1 6 2 7 4 7-2 6 4 7-2 6 3 7 1 7 3 6 4 7-2 7 4 6 0 7-4 6 2 7-2 7-2 6 8 7-1 6-4 7 3 7-1 6 2 7-1 6 2 7-1 7 10 6 10 7 2 7 6 6 11 7-5 6 7 7 4 7-1 6 7 7 2 6 3 3-8 5 18 6-5 5 8 6 8 5-10 6 7 5 2 6 2 5-9 6 15 5-6 6-1 5 1 6 3 5 5 6-2 5-11 6 11 5-6 6 7 5 1 6 3 5-13 6 2 5 1 6 0 5 6 6-6 5 8 6-10 5 8 6-3 5 8 6-12 5 7 6-4 5 8 6-8 5 4 6 1 5 9 6-17 5 6 6-5 5 5 6-2 5 6 6-10 5 1 6-16 5 21 6-2 5 12 6-12 5 3 6-6 6-13 5 9 6 12 5-5 6-10 5-8 6 16 5-6 6 15 5-8 6-5 5 8 6-11 5 17 6-13 5 5 6-13 5 21 6 19 5-22 6-13 5 11 6-1 5 7 6-1 5-18 6 19 5-21 6 11 5 10 6-20 5 12 6-17 5 8 6 16 5-3 6-12 5 11 6-9 5 5 6-5 5 9 6-22 5 4 6 6 5 10 6-17 5 20 6 9 5-13 6-2 5-7 6 9 5-4 6 17 5 5 6-17 5 0 6 2 5-10 6-9 5 22 6-16 5 8 6 2 5 1 6-1 6-3 8 4 5-7"/>
<path stroke="#2ca02c" d="M180 2579l2-13 2-24 1-26 2-7 1 2 2 10 2 11 1 21 2-10 2-26 1 133 2 137 2 128 1 133 2 134 2 28 1-32 2-32 2-31 1 8 2 6 2 8 1 2 2 2 2 8 1 1 2 4 1 3 2 2 2 2 1 4 2 3 2 1 1 2 2 3 2 5 1-5 2 3 2 0 1 0 1 0 9 5 9 3 9 1 9 2 8-2 9 0 9 5 9-1 9 0 9 0 8-1 9 0 9 0 9-3 9 6 8-5 9 2 9-2 9 2 9 1 8-2 9 0 9 1 9 1 9 1 9-5 8 0 9 1 9 2 9 0 9 1 8-2 9-2 9 0 9 2 6 2 7 0 7 1 6-3 7-2 6 2 7-1 7 1 6-6 7-2 7-5 6-5 7-1 6-3 7-7 7 0 6-4 7-2 6-6 7-3 7-5 6-5 7-5 6-3 7 0 7-1 6 2 7 8 6 4 7 3 7 1 6-3 7-1 7 2 6-1 7 3 6-4 7 3 7-1 6 2 7-2 6 1 7-1 7-1 6 2 7-4 6 4 7-3 7 2 6-2 7 5 6-5 7 5 7-2 6 1 7 0 7-1 6-2 7-1 6 0 7-2 7 7 6-3 7 0 6 5 7-9 7 7 6-1 7-3 6 6 7-1 7-9 6 3 7 6 7 4 6-2 7 13 6 2 7 6 7-3 6 5 7 7 6 10 3-12 5 3 6 4 5-1 6 1 5 0 6 6 5-3 6-1 5 0 6 3 5-6 6 6 5-8 6 4 5-3 6-9 5 9 6-2 5 10 6-9 5 6 6-4 5 2 6 0 5 1 6-2 5-4 6-2 5 11 6 4 5-20 6 8 5-6 6 8 5 13 6-9 5 1 6-11 5 12 6-12 5 5 6 1 5 8 6-10 5 1 6 2 5-1 6 11 5-14 6-4 5 1 6 16 5-12 6 15 5-13 6 11 6-3 5-10 6 4 5-5 6 5 5-6 6 5 5-2 6 2 5-13 6 11 5 3 6 6 5-12 6 16 5-2 6-5 5 14 6-11 5 9 6-15 5-12 6 7 5 7 6-4 5 4 6 5 5-17 6-4 5 14 6 5 5-6 6-11 5 9 6 6 5-9 6 13 5-2 6-5 5-4 6-13 5 28 6-5 5-9 6-9 5 24 6-13 5-9 6 10 5 3 6-25 5 25 6-12 5 15 6-4 5-26 6 21 5-5 6 10 5-6 6-7 5 10 6-1 5 5 6 0 5 2 6-9 6 4 8-2 5 6"/>
<path stroke="#2ca02c" d="M180 2661l2 7 2 5 1 1 2 16 1-14 2-15 2-22 1 5 2-5 2-21 1 17 2 114 2 125 1 106 2 127 2 123 1-172 2-173 2-173 1 33 2 30 2 25 1 25 2 22 2 19 1 20 2 13 1 20 2 12 2 12 1 12 2 10 2 10 1 10 2 5 2 9 1 6 2 7 2 7 1 4 1 5 9 16 9 11 9 11 9 0 8 3 9 0 9-1 9 4 9-2 9 0 8 2 9-2 9 1 9-2 9 3 8-3 9-1 9 0 9 0 9-1 8 1 9-2 9 0 9-1 9 3 9-7 8 5 9-2 9-1 9 1 9 0 8 1 9-1 9-4 9 1 6 1 7 0 7-7 6-4 7-4 6-4 7-6 7-3 6-2 7-7 7-2 6-5 7-1 6-10 7-2 7-6 6-9 7-6 6-10 7-14 7-13 6-16 7-17 6-15 7-11 7-8 6 1 7 4 6 7 7 4 7 3 6 6 7 5 7 5 6 1 7 1 6 1 7 4 7-3 6-3 7-2 6-2 7 5 7 0 6-2 7 7 6 1 7 5 7 3 6 0 7 0 6 6 7 2 7-2 6 11 7-8 7 2 6-3 7 5 6 3 7-2 7 2 6 0 7-6 6 4 7-5 7 2 6 3 7 4 6 3 7 5 7 4 6 7 7 5 7 17 6 3 7 6 6 7 7 0 7 19 6-7 7 13 6 7 3 7 5 2 6 8 5 3 6 6 5-4 6 3 5 15 6-8 5-1 6 21 5-20 6 9 5-9 6 3 5-2 6 10 5-12 6 10 5-12 6 2 5 12 6-1 5-2 6 1 5-6 6 3 5 1 6-10 5 13 6-11 5-1 6 3 5 7 6 4 5 8 6-12 5-20 6 19 5 8 6-7 5-16 6 13 5-1 6 10 5 3 6-7 5-14 6 14 5-14 6 4 5 2 6-4 5 12 6 7 5-17 6 0 6 10 5 6 6-3 5-5 6-4 5 7 6 14 5-21 6 16 5-10 6-6 5 14 6-21 5 18 6-15 5 8 6-13 5 7 6 4 5-4 6 11 5-12 6 7 5-12 6 9 5 14 6-26 5 16 6-2 5-12 6 14 5 0 6-1 5 18 6-33 5 3 6 23 5-19 6-3 5 9 6 3 5-8 6 20 5-27 6 7 5 1 6 14 5-9 6 1 5-3 6 1 5 10 6-11 5-7 6 13 5 0 6-4 5-4 6 16 5-7 6-13 5 2 6 13 5-2 6 16 5-6 6-10 6-8 8 0 5-1"/>
<path stroke="#2ca02c" d="M180 2633l2 10 2-9 1 26 2 13 1-5 2 21 2-30 1-3 2 56 2 73 1 84 2 119 2 123 1 106 2-255 2-256 1-255 2 5 2 39 1 34 2 31 2 31 1 26 2 27 2 19 1 21 2 13 1 16 2 16 2 14 1 14 2 16 2 8 1 8 2 7 2 12 1 3 2 8 2 4 1 8 1 4 9 19 9 10 9 8 9 6 8 0 9 4 9-1 9 2 9-4 9 5 8-1 9-2 9 2 9-2 9 0 8-2 9 3 9-3 9 4 9-3 8-1 9 1 9-3 9 0 9 2 9-1 8-1 9 3 9-1 9-3 9-2 8 5 9-2 9 2 9-5 6 5 7-5 7-5 6-1 7-5 6-7 7 2 7-10 6-1 7-2 7-3 6-6 7-8 6-1 7-6 7-5 6-10 7-3 6-10 7-15 7-14 6-18 7-13 6-11 7-15 7-4 6-2 7 4 6 4 7 6 7 3 6 4 7 2 7 3 6 3 7 6 6 2 7 1 7-3 6-9 7 2 6 1 7 4 7 3 6 0 7-4 6 6 7 1 7 6 6 3 7-4 6 4 7 3 7 0 6 1 7 2 7 4 6-4 7 5 6-2 7-3 7 0 6 1 7-2 6 4 7 0 7 2 6-2 7 6 6-2 7 7 7-1 6 7 7 6 7 15 6-2 7 8 6 10 7 0 7 3 6-3 7 13 6-5 3 3 5 6 6-1 5 12 6-11 5 8 6 2 5 9 6-3 5 3 6-1 5 5 6 4 5-13 6 1 5 4 6 6 5-5 6-10 5 11 6-9 5 8 6-15 5 13 6 7 5-3 6-6 5 13 6-13 5 3 6 5 5-8 6 6 5 11 6-16 5-2 6 9 5-12 6 6 5-10 6 18 5-10 6 2 5-8 6-6 5 14 6 4 5-12 6 9 5-2 6 12 5-19 6 6 5 19 6-15 5-4 6 6 6-7 5-13 6 21 5 8 6-11 5-18 6 7 5 4 6 2 5 2 6 0 5-2 6 5 5 2 6 0 5 16 6-20 5 11 6-18 5 13 6-10 5 11 6-1 5-9 6-6 5 24 6-17 5-1 6 5 5-6 6 1 5 19 6-17 5 0 6 1 5-4 6 2 5-4 6 4 5 4 6 12 5-5 6-12 5 6 6 1 5-2 6-3 5 11 6 3 5-28 6 18 5-3 6 4 5 8 6 5 5-15 6 1 5-13 6 5 5 15 6-12 5-1 6-7 5 4 6-9 5 32 6-19 6-10 8 21 5-5"/>
<path stroke="#bcbd22" d="M180 2984l2 7 2-5 1 4 2 21 1-34 2 18 2 16 1-11 2-24 2-7 1-6 2 11 2 1 1 28 2 58 2 38 1 45 2 41 2 42 1-363 2-405 2 19 1 49 2 41 2 40 1 37 2 32 1 28 2 26 2 24 1 24 2 20 2 20 1 12 2 17 2 12 1 13 2 12 2 15 1 6 1 6 9 34 9 24 9 15 9 6 8 6 9 2 9 0 9 0 9 3 9-1 8 2 9 0 9 0 9 1 9 0 8-1 9 3 9-2 9 2 9-1 8 2 9-1 9 1 9-1 9 0 9 1 8 1 9 4 9-4 9 6 9-5 8 2 9-3 9 3 9-4 6 2 7-2 7-4 6-3 7-3 6-9 7 1 7-7 6-2 7-5 7-5 6-2 7-4 6-6 7-5 7-8 6-7 7-7 6-10 7-11 7-17 6-16 7-19 6-12 7-14 7-3 6 2 7 1 6 3 7 3 7 8 6 4 7 3 7 5 6 1 7 5 6 3 7 1 7-3 6-7 7 0 6-4 7 5 7 6 6-5 7 7 6 3 7-4 7 4 6 3 7 2 6 10 7 0 7 0 6-3 7 7 7 2 6-3 7 2 6-6 7 8 7-5 6 1 7 2 6-1 7-1 7 1 6 1 7-3 6 9 7 2 7 3 6 17 7 3 7 2 6 8 7 5 6 11 7 1 7 14 6 10 7 4 6-3 3 6 5 9 6-4 5 14 6-1 5 3 6 4 5 1 6 4 5 1 6 2 5-7 6 9 5 6 6 3 5-4 6-8 5 13 6-3 5-4 6 6 5-8 6 5 5-2 6-4 5-2 6 2 5 3 6-2 5-7 6 5 5 13 6-11 5 5 6-1 5-6 6 11 5-12 6 9 5-3 6-12 5 15 6-3 5 4 6-4 5 2 6-5 5-13 6 12 5 5 6 5 5-12 6 5 5 11 6-10 5 2 6-7 6-16 5 24 6-10 5 19 6-22 5 4 6 1 5 13 6-14 5 13 6-21 5 10 6 1 5 3 6-6 5 14 6-3 5-8 6 8 5-4 6 1 5-12 6 8 5 9 6-3 5-12 6 3 5 5 6-9 5 15 6-1 5-6 6 13 5 3 6-4 5 2 6-31 5 15 6 27 5-15 6-22 5 11 6 4 5-4 6 5 5 6 6-2 5-16 6-1 5 1 6 9 5 2 6 1 5 3 6-24 5 9 6 15 5-9 6 9 5-16 6 6 5 4 6 13 5 3 6-24 5-4 6 21 6-28 8 13 5-3"/>
<path stroke="#ff7f0e" d="M180 2834l2-16 2 10 1 7 2 27 1 22 2 19 2-34 1 0 2 9 2 5 1 12 2-12 2-5 1 8 2 24 2 30 1 71 2 47 2 69 1 52 2 43 2-184 1-242 2-242 2-16 1 16 2 13 1 10 2 7 2 8 1 9 2 5 2 7 1 6 2 8 2 7 1 0 2 4 2 7 1 0 1 6 9 10 9 7 9 6 9 2 8 1 9 1 9 2 9 2 9 2 9-3 8 1 9 1 9 1 9-1 9-2 8 4 9-3 9 2 9 0 9 1 8-2 9 0 9 0 9 0 9 5 9-3 8 0 9-1 9 2 9 0 9 0 8 2 9-2 9 2 9-2 6-2 7 1 7-6 6-2 7 0 6-4 7-2 7-1 6-2 7-3 7-2 6-6 7-2 6-4 7-4 7-4 6 1 7-10 6-4 7-8 7-10 6-12 7-10 6-12 7-7 7-2 6 3 7 2 6 2 7 2 7 3 6 3 7-1 7 3 6 1 7 2 6 1 7 3 7-5 6 1 7-3 6 4 7 1 7-3 6 1 7 2 6 3 7 0 7 3 6-3 7 2 6 5 7 1 7 0 6-1 7 0 7 2 6-2 7 2 6 1 7 6 7-7 6-1 7 0 6 5 7-8 7 8 6 0 7 1 6 3 7-4 7 8 6-1 7 11 7 2 6 8 7-1 6 1 7 10 7 4 6 3 7 10 6 3 3-3 5 8 6 3 5 7 6-2 5-1 6-4 5 15 6-10 5 3 6 5 5 1 6-5 5-4 6 14 5-2 6 1 5 13 6-16 5 4 6 4 5 1 6-5 5-10 6 9 5 0 6 1 5-13 6 21 5-12 6 0 5 16 6 1 5-16 6 5 5-14 6 9 5-1 6-12 5 23 6-23 5 32 6-29 5-7 6 18 5 8 6-23 5 15 6 0 5-7 6 7 5-1 6-1 5-1 6-3 5 8 6 3 6-14 5-1 6 25 5-19 6-3 5-7 6 22 5-5 6-11 5 19 6-2 5-23 6 9 5 7 6 2 5 3 6-26 5 9 6 13 5 0 6 2 5-10 6 14 5-10 6 4 5 4 6-9 5 7 6-19 5 20 6-7 5 2 6-6 5-22 6 34 5-2 6 9 5-29 6-1 5 17 6-7 5 3 6 15 5-6 6-1 5 5 6-22 5 9 6 8 5-12 6 16 5-16 6 18 5-29 6 24 5-8 6-2 5 12 6 0 5-13 6-5 5 19 6-6 5 15 6-13 5-1 6-3 6-10 8 7 5 17"/>
<path stroke="#d62728" d="M180 2704l2 26 2-9 1-22 2 20 1 37 2-18 2 5 1 26 2 5 2 43 1 87 2 89 2 84 1 81 2 70 2-24 1-28 2-27 2-28 1-7 2 6 2 10 1 8 2 11 2 9 1 2 2 7 1 3 2 4 2 7 1 7 2 1 2-1 1 6 2 1 2 4 1-2 2 5 2 1 1 3 1 0 9 8 9 6 9 1 9-1 8 3 9 1 9-1 9 1 9-1 9 0 8-1 9 1 9-1 9 1 9 1 8-3 9 3 9-4 9 3 9-2 8 2 9-1 9 1 9-1 9 1 9 1 8-1 9 1 9-4 9 4 9-1 8-1 9 0 9 1 9 2 6-5 7 3 7-1 6 1 7 0 6-3 7 3 7-2 6-1 7-2 7 2 6-1 7-1 6 0 7 2 7-1 6-3 7-1 6 2 7-1 7-3 6 2 7 1 6-3 7 0 7 1 6-1 7 2 6 1 7-2 7 3 6-3 7-1 7 2 6 0 7 2 6-1 7 0 7-1 6 0 7-1 6 1 7-2 7 5 6-3 7-3 6 1 7 6 7-7 6 3 7 0 6 0 7-1 7 2 6 6 7-8 7 2 6-4 7 8 6-3 7-1 7 3 6-4 7-3 6-1 7 7 7-3 6-1 7 5 6-6 7 2 7-1 6 3 7-2 7 6 6-3 7 1 6-7 7 3 7 3 6 3 7-1 6 1 3-8 5 5 6 12 5-21 6 3 5 2 6 3 5 0 6-2 5 11 6-5 5-6 6 2 5 2 6-3 5 10 6-12 5 8 6-9 5 13 6 1 5-10 6 5 5-4 6-7 5 10 6 2 5-11 6-2 5 13 6-11 5 4 6 4 5 3 6-5 5-10 6 12 5-10 6 13 5-3 6-16 5 26 6-15 5 10 6-5 5-18 6 11 5-13 6 11 5 14 6-2 5-5 6-2 5 4 6-5 5-1 6 5 6-5 5 16 6-29 5 19 6-3 5-14 6 24 5-11 6 11 5-3 6-12 5 15 6-2 5-9 6-11 5-2 6 5 5 10 6 2 5-7 6-10 5 7 6 13 5 3 6 4 5-25 6 7 5 9 6-18 5 16 6-9 5 10 6-2 5 10 6-8 5-5 6 1 5 14 6-18 5 4 6 6 5-22 6 14 5-4 6 4 5 6 6 5 5-14 6-22 5 26 6-1 5 5 6-14 5 0 6 10 5 7 6 1 5-19 6 5 5 10 6-3 5 14 6-7 5-6 6 5 5-1 6-2 6-17 8 3 5 13"/>
<path stroke="#7f7f7f" d="M180 2940l2-19 2-34 1-46 2 40 1-19 2 3 2-22 1 9 2 96 2 46 1 69 2 67 2 71 1-103 2-212 2-211 1-202 2 13 2 8 1 8 2 6 2 6 1 5 2 6 2 7 1 5 2 4 1 2 2 0 2 8 1 1 2-1 2 9 1 0 2 1 2 3 1 1 2 2 2 1 1 1 1 1 9 5 9 6 9-2 9 0 8 0 9 2 9-1 9 0 9-1 9 0 8 1 9 1 9-2 9-1 9-2 8 0 9 1 9-1 9 0 9-2 8 1 9-3 9 0 9 1 9 1 9-2 8-1 9 2 9-1 9 1 9-1 8-1 9-1 9 1 9-2 6-2 7 2 7-4 6-2 7-2 6-2 7-9 7 1 6 1 7-7 7 1 6-4 7-4 6-2 7-6 7 0 6-4 7-8 6-5 7-6 7-11 6-10 7-8 6-15 7-5 7-2 6 0 7 2 6-4 7 4 7-1 6 4 7 0 7-2 6 0 7 2 6-1 7 1 7 1 6-2 7 4 6-3 7-1 7-1 6 2 7 3 6-1 7 3 7 0 6-1 7-3 6 2 7 1 7-4 6 5 7-4 7 3 6-1 7 3 6 5 7-10 7 3 6 6 7-8 6 2 7 0 7 2 6-6 7 6 6 1 7 8 7-8 6 0 7 5 7-9 6 13 7 6 6-4 7 3 7 2 6 4 7-2 6 16 3-8 5 3 6 13 5-5 6 1 5 13 6-5 5 6 6-5 5-4 6 11 5 8 6-9 5 5 6 2 5-3 6-1 5 4 6-3 5-4 6 9 5-1 6-3 5 2 6-20 5 18 6-2 5-12 6 25 5-11 6-5 5 1 6 4 5-2 6-11 5 8 6 6 5 1 6 2 5-13 6 3 5 7 6-7 5 6 6-8 5 10 6-3 5 3 6-4 5-6 6-3 5 10 6-5 5-7 6 7 5 10 6 4 6-4 5 5 6-14 5 2 6-6 5 1 6 19 5-9 6 2 5 16 6-6 5-23 6 16 5-15 6 15 5-24 6 8 5 0 6 24 5-31 6 24 5 0 6-8 5 6 6 14 5-19 6-5 5 14 6-5 5-16 6 11 5 1 6-12 5 1 6 3 5-5 6 15 5-2 6-22 5 16 6 5 5-13 6 9 5 5 6-17 5 12 6-18 5 27 6-13 5-6 6-4 5 2 6 25 5-18 6 2 5 2 6-10 5 20 6-29 5 30 6-15 5 7 6 2 5 5 6-18 5 16 6-6 6-1 8-1 5 12"/>
<path stroke="#e377c2" d="M180 3136l2 9 2-6 1-19 2 5 1 16 2 13 2 9 1-29 2-10 2 2 1-38 2 25 2-34 1 12 2 5 2 33 1 32 2 27 2 20 1 14 2 8 2-125 1-180 2-181 2-117 1 50 2 43 1 40 2 35 2 32 1 31 2 29 2 25 1 23 2 16 2 20 1 19 2 16 2 14 1 10 1 10 9 49 9 29 9 19 9 11 8 3 9 6 9 2 9-2 9 4 9-3 8 4 9 2 9-1 9 2 9-2 8 0 9 1 9-1 9 1 9-1 8-1 9 2 9-2 9-1 9 4 9-1 8-3 9 3 9-3 9 1 9 1 8-2 9 5 9-4 9 2 6 2 7-1 7-4 6 2 7 0 6 0 7-5 7-2 6 1 7-6 7-6 6-8 7-3 6-8 7-6 7-7 6-6 7-3 6-6 7-4 7-14 6-5 7-10 6-4 7-1 7 5 6 2 7 7 6 8 7 5 7 0 6 0 7 0 7 0 6 0 7-1 6-1 7-1 7 4 6 0 7 1 6-2 7-4 7 4 6-2 7 0 6 1 7 2 7-2 6-1 7 2 6 1 7 0 7 2 6-1 7-3 7-2 6-2 7 7 6 0 7-1 7-4 6-1 7 7 6-2 7-5 7-1 6 4 7-2 6 5 7-5 7 0 6 5 7 3 7 11 6-3 7 9 6 11 7 7 7-1 6 21 7-4 6 4 3 1 5 3 6 6 5 8 6 0 5-7 6-1 5-2 6 9 5-4 6 0 5 3 6-1 5-4 6-3 5 3 6 2 5 11 6-4 5-7 6-2 5 0 6 7 5-1 6 11 5-23 6 4 5 11 6-11 5 8 6-1 5-7 6 10 5 0 6-1 5 2 6-6 5 0 6 1 5-5 6-4 5 14 6-5 5 0 6 4 5-15 6 10 5-1 6 11 5-10 6 6 5-3 6-12 5 12 6-5 5-1 6-1 6 4 5-4 6-8 5 16 6 1 5-1 6-5 5 0 6 20 5-17 6 11 5-16 6 11 5-11 6 16 5-23 6 7 5 4 6 1 5-2 6 1 5 6 6-5 5-9 6 7 5-1 6 3 5-13 6 7 5-12 6 16 5-7 6 22 5-19 6 14 5 3 6-16 5-4 6 9 5-9 6 5 5 2 6-6 5-1 6 28 5-15 6-9 5 2 6 5 5-1 6-20 5 16 6-1 5-2 6-8 5-2 6 15 5-4 6-15 5 9 6 6 5 4 6-1 5 4 6 7 5 0 6-9 6-15 8 16 5 13"/>
<path stroke="#7f7f7f" d="M180 2585l2-8 2-30 1 6 2 8 1 32 2 8 2 103 1 110 2 122 2 123 1 112 2-4 2-133 1-132 2-133 2-50 1 29 2 24 2 17 1 22 2 19 2 13 1 15 2 17 2 10 1 10 2 9 1 10 2 8 2 7 1 9 2 6 2 6 1 2 2 6 2 3 1 5 2 4 2 3 1 2 1-2 9 12 9 9 9 4 9 5 8 0 9-1 9 1 9 4 9-3 9 0 8-2 9 3 9 0 9-4 9 2 8-1 9 0 9 0 9 0 9-1 8-2 9 2 9-3 9 4 9-2 9-2 8-2 9 6 9-2 9-1 9 1 8-1 9-2 9 3 9-3 6-2 7 0 7-1 6-8 7-2 6-2 7-6 7-5 6-1 7-6 7-4 6-7 7 0 6-6 7-7 7-5 6-6 7-6 6-11 7-15 7-11 6-19 7-14 6-15 7-11 7-5 6 1 7 4 6 3 7 5 7 4 6 5 7 2 7 7 6 3 7 1 6 3 7 0 7-1 6-8 7 5 6-2 7-1 7 5 6-1 7 4 6 1 7 1 7 5 6 2 7-3 6 9 7-1 7 3 6 1 7-1 7-5 6 10 7 3 6-4 7-4 7 5 6-2 7-4 6 5 7-2 7 11 6-4 7-10 6 4 7 13 7 4 6 6 7 7 7 13 6-5 7 16 6 0 7 13 7 0 6 7 7 10 6-4 3 9 5-3 6 1 5 11 6 1 5-4 6 9 5-2 6 4 5 5 6-7 5 8 6 5 5-3 6 6 5-3 6-13 5 11 6-6 5 10 6 1 5 1 6-3 5-5 6 1 5-2 6 5 5-2 6-3 5-3 6 6 5 8 6-25 5 5 6 10 5 12 6-11 5 0 6 8 5-16 6 6 5 2 6-6 5 9 6-2 5-9 6 5 5-7 6 14 5-11 6 23 5-6 6-1 5-7 6 0 5 16 6-20 6-1 5 0 6 11 5-12 6-3 5-7 6 27 5-12 6-9 5 8 6-13 5 10 6 5 5 3 6 1 5 11 6-20 5 8 6 5 5-23 6 6 5 3 6 6 5-1 6-1 5 7 6-9 5 19 6-18 5 5 6 3 5-6 6 1 5-13 6 16 5 13 6-25 5 10 6-11 5 8 6 5 5-1 6 2 5 0 6-11 5 6 6-5 5 9 6-4 5 11 6-27 5 13 6 1 5-3 6 14 5-4 6-11 5 5 6-1 5-3 6 7 5-10 6 18 5-18 6 3 5 17 6-20 6 8 8 4 5 10"/>
<path stroke="#bcbd22" d="M180 3032l2 33 2-21 1 0 2-28 1-17 2 13 2 5 1-8 2 7 2-6 1 13 2 26 2 54 1 30 2 50 2 27 1-219 2-219 2-219 1-124 2 48 2 41 1 41 2 33 2 35 1 28 2 28 1 22 2 21 2 19 1 19 2 20 2 15 1 11 2 14 2 11 1 10 2 8 2 11 1 6 1 3 9 33 9 18 9 12 9 6 8 4 9 0 9 3 9 1 9 0 9 0 8 1 9 0 9 0 9 3 9-4 8 2 9 0 9-3 9 5 9 1 8-3 9 1 9-1 9 1 9-2 9-1 8 4 9-1 9-1 9 0 9 3 8-3 9 2 9 1 9 0 6-3 7-1 7-4 6-5 7-2 6-6 7-2 7-5 6-2 7-5 7-4 6-5 7-5 6-3 7-5 7-6 6-7 7-8 6-8 7-15 7-12 6-15 7-21 6-12 7-7 7-8 6 3 7 1 6 2 7 6 7 4 6 3 7 4 7 6 6 1 7 4 6 3 7-3 7 0 6-8 7 1 6 5 7-5 7 5 6-3 7 7 6 3 7 4 7-1 6 5 7 4 6-2 7 3 7-3 6 5 7-2 7 2 6 1 7 6 6-5 7 0 7 2 6-6 7 0 6 9 7-2 7-2 6 2 7 7 6-8 7 6 7 7 6 8 7 9 7 4 6 10 7-5 6 10 7 4 7 2 6-1 7 10 6 6 3-3 5 4 6 2 5 9 6-5 5 4 6-9 5-3 6 7 5 11 6 0 5 0 6-2 5-2 6 12 5-14 6 8 5 9 6 3 5-1 6-12 5 13 6-13 5 5 6-2 5-9 6 4 5 12 6-15 5 14 6-11 5 14 6 1 5-15 6-1 5 11 6-1 5-6 6-1 5 15 6-12 5 0 6 13 5-6 6-2 5-2 6-11 5 2 6 2 5-2 6 2 5 0 6-5 5 4 6 2 5 2 6-12 6 25 5-21 6 16 5-5 6 13 5-13 6 4 5-2 6-2 5-4 6 6 5 10 6-6 5-8 6-5 5 17 6-25 5 15 6-6 5 4 6 3 5-10 6 7 5-12 6 11 5-11 6 12 5-10 6 19 5-12 6 6 5-14 6 0 5 1 6 9 5-3 6-1 5 11 6-16 5 10 6-16 5 20 6 1 5-10 6 4 5-4 6 0 5 5 6 3 5-20 6 33 5-16 6 2 5 1 6-5 5 2 6 12 5-17 6 16 5-4 6-12 5 6 6-8 5 13 6-10 5 15 6-20 6 28 8-2 5-11"/>
<path stroke="#1f77b4" d="M180 2809l2-19 2-38 1-18 2-12 1 6 2 12 2-17 1-42 2-12 2-15 1-1 2 25 2 5 1 133 2 107 2 108 1 87 2 105 2-402 1-367 2 19 2 16 1 16 2 15 2 14 1 11 2 13 1 9 2 10 2 8 1 7 2 6 2 6 1 4 2 5 2 6 1 7 2 2 2 4 1 3 1 2 9 10 9 8 9 9 9 0 8 4 9 0 9-1 9 4 9-1 9-3 8 2 9 2 9-3 9 3 9 1 8-1 9 1 9 0 9 1 9 1 8-1 9-3 9 3 9 1 9 2 9-1 8-3 9 4 9-1 9 1 9 1 8 1 9 3 9-2 9-2 6 1 7-2 7-4 6-1 7-1 6-3 7-3 7-1 6-4 7-2 7-5 6-3 7-1 6-3 7-4 7-4 6-2 7-8 6-5 7-10 7-10 6-8 7-10 6-13 7-9 7 0 6 2 7 0 6 1 7 3 7 3 6 0 7 5 7 3 6 0 7 5 6-5 7 6 7-7 6 0 7-1 6 0 7 7 7-3 6 4 7 2 6-2 7 0 7 1 6 0 7 4 6 3 7-3 7 1 6 2 7 5 7-4 6 5 7-7 6 4 7 3 7-6 6 0 7 5 6-4 7 3 7 1 6 2 7 3 6-8 7 6 7 7 6 2 7 3 7-4 6 5 7-6 6 9 7-8 7-12 6-3 7 14 6 2 3-6 5-1 6-4 5-3 6-3 5-8 6 6 5 3 6-5 5 4 6 3 5-11 6 11 5-2 6 7 5-3 6-1 5-12 6 15 5-10 6 0 5 3 6 5 5-6 6 15 5-1 6-14 5 4 6-6 5-4 6 3 5 11 6-6 5-4 6 1 5-4 6 7 5 4 6 8 5-8 6-6 5-2 6 24 5-22 6 3 5-13 6 11 5-1 6 4 5 8 6-4 5-12 6-5 5 11 6 5 5-10 6 3 6 6 5-11 6 13 5-11 6 21 5-15 6-5 5 3 6-7 5 11 6-13 5 18 6-8 5-11 6 17 5-2 6-14 5 15 6-6 5 4 6-15 5 23 6-15 5 8 6 9 5-13 6 7 5 5 6-19 5 2 6 8 5 6 6-13 5 17 6-4 5-8 6-5 5 20 6-21 5 12 6-26 5 21 6 0 5-3 6 10 5-3 6-16 5 21 6-10 5 13 6-15 5 0 6 6 5-12 6 12 5-6 6-7 5 17 6-2 5-16 6 17 5 4 6-5 5-13 6 4 5-1 6 11 6-20 8 16 5 1"/>
<path stroke="#2ca02c" d="M180 2837l2-8 2-11 1-22 2-8 1 9 2 21 2-3 1-22 2-1 2-4 1 106 2 75 2 95 1 85 2 79 2-143 1-148 2-122 2 27 1 28 2 19 2 23 1 18 2 16 2 14 1 16 2 14 1 11 2 10 2 13 1 6 2 9 2 7 1 6 2 7 2 5 1 7 2 3 2 5 1 3 1 0 9 15 9 10 9 3 9 5 8 3 9 1 9 2 9 0 9-2 9 0 8 0 9 1 9 1 9-1 9-1 8 1 9-1 9 2 9-1 9-2 8 1 9 1 9-1 9 0 9 0 9-2 8 3 9-1 9-2 9 2 9-1 8-3 9 4 9-3 9-1 6 5 7-4 7-6 6-5 7-2 6-10 7 1 7-7 6-5 7 0 7-6 6-5 7-5 6-4 7-9 7-6 6-4 7-11 6-10 7-17 7-12 6-19 7-17 6-18 7-14 7-2 6 4 7 1 6 6 7 2 7 7 6 6 7 4 7 6 6 3 7 0 6 5 7 2 7-5 6-6 7-6 6 6 7-1 7 5 6 2 7 5 6 0 7 4 7 2 6 4 7 3 6 2 7 5 7-2 6 1 7 2 7-1 6 1 7 3 6 0 7 4 7-4 6 3 7-5 6 2 7 3 7-3 6 0 7 4 6 8 7 3 7 1 6 7 7 11 7 15 6-2 7 6 6 17 7-9 7 7 6 5 7 2 6 13 3 1 5-3 6-6 5 7 6 0 5 2 6 5 5-1 6 2 5 6 6 12 5-2 6-15 5-1 6 9 5-7 6 11 5-4 6 2 5-4 6-1 5 4 6-1 5-2 6 10 5-11 6-5 5 11 6-6 5 1 6 0 5 4 6 1 5 8 6 2 5-7 6-6 5-6 6 4 5 1 6 2 5 1 6-2 5-2 6 4 5 12 6-7 5-11 6-2 5 4 6-9 5 11 6 4 5-7 6-4 5 4 6-3 6 1 5-1 6 5 5 1 6 4 5-10 6-4 5 9 6-4 5 3 6 0 5 19 6-11 5-11 6 12 5 3 6-20 5 5 6-8 5 2 6 7 5 8 6-1 5-17 6 11 5-2 6 0 5 12 6 11 5-11 6-14 5-9 6 18 5 6 6-18 5-1 6 11 5 3 6 7 5-11 6 2 5 5 6-17 5 5 6 8 5-1 6-9 5 21 6-9 5-3 6 0 5 9 6 14 5-15 6-4 5-4 6 13 5-2 6-2 5-16 6-4 5 9 6 9 5-18 6-1 5 7 6 10 6-4 8-10 5 17"/>
<path stroke="#17becf" d="M180 2771l2-23 2-29 1-17 2-7 1-5 2-15 2-7 1-8 2-24 2-26 1-1 2-21 2 77 1 106 2 108 2 115 1 130 2 61 2-374 1-374 2 31 2 54 1 45 2 43 2 43 1 35 2 31 1 29 2 32 2 22 1 22 2 22 2 19 1 17 2 14 2 17 1 9 2 17 2 6 1 12 1 6 9 37 9 20 9 14 9 6 8 7 9 3 9 3 9 0 9 2 9-1 8 0 9 1 9-2 9-1 9 2 8-1 9-2 9 4 9 0 9 0 8-5 9 5 9-3 9 2 9-2 9-2 8 1 9-1 9 4 9-6 9 4 8 1 9 0 9-2 9 0 6-2 7-3 7-1 6-5 7-2 6-5 7-3 7-5 6-4 7-6 7-1 6-3 7-5 6-4 7-8 7-3 6-8 7-8 6-10 7-12 7-16 6-13 7-17 6-13 7-12 7-5 6 2 7 0 6 4 7 7 7 6 6 5 7 3 7 2 6 3 7 7 6-2 7-1 7-1 6-3 7-2 6 0 7 8 7-4 6 2 7 3 6 4 7-1 7 2 6-1 7 4 6 6 7 3 7 1 6 2 7-3 7 5 6-2 7 3 6-6 7 9 7-7 6 3 7-2 6-2 7 1 7 3 6-2 7 5 6 3 7 3 7 7 6 4 7 11 7 5 6 0 7 7 6 7 7 8 7-4 6-2 7 8 6 0 3-1 5 1 6 5 5 1 6 6 5 1 6 0 5-10 6 6 5-4 6 13 5-7 6-9 5 15 6 5 5-1 6-8 5 2 6 2 5 1 6-12 5 14 6-4 5 5 6-4 5 3 6-2 5 3 6-4 5-1 6 6 5 0 6-6 5 4 6 5 5-24 6 21 5-17 6 5 5 6 6 2 5 0 6 10 5-13 6 0 5 2 6 7 5-6 6-15 5 26 6 1 5-23 6-1 5 9 6-12 5 5 6-17 6 26 5 10 6-17 5 4 6 5 5 1 6-10 5 8 6 8 5-27 6 11 5 13 6-6 5-1 6 0 5-25 6 23 5 3 6 12 5-25 6 14 5 16 6-9 5-12 6 25 5-18 6 2 5-6 6-7 5 2 6 10 5 0 6 3 5-9 6-4 5-5 6 8 5-3 6 29 5-19 6-5 5 6 6-3 5-21 6 21 5 5 6-5 5-6 6 9 5-3 6 7 5-6 6-12 5 14 6 1 5 5 6-6 5 0 6 2 5-1 6-18 5 8 6-3 5-5 6 14 5 12 6-22 6-2 8 15 5-11"/>
<path stroke="#7f7f7f" d="M180 2617l2-15 2-17 1-13 2-3 1-45 2 0 2-25 1-3 2-32 2 38 1 169 2 148 2 135 1 144 2 107 2-297 1-296 2-42 2 31 1 32 2 26 2 24 1 25 2 18 2 20 1 18 2 17 1 11 2 15 2 11 1 9 2 10 2 10 1 10 2 7 2 5 1 5 2 10 2 4 1 1 1 5 9 20 9 10 9 2 9 2 8 7 9-2 9 2 9 2 9 2 9 0 8-2 9 1 9-3 9 1 9 1 8 0 9 0 9-2 9 3 9-2 8 2 9 2 9-6 9 2 9-1 9 0 8 0 9 1 9-1 9 0 9 0 8-3 9 2 9 0 9-3 6 3 7-2 7-2 6-6 7-5 6-3 7-1 7-4 6-4 7-2 7-4 6-7 7-5 6-1 7-5 7-5 6-4 7-6 6-8 7-15 7-15 6-13 7-13 6-16 7-7 7-6 6 3 7 4 6 0 7 5 7 3 6 4 7 6 7 1 6 3 7 3 6 5 7-1 7-3 6-4 7-1 6 2 7-4 7 6 6 1 7 1 6 0 7 5 7-3 6 9 7 0 6-1 7 2 7 1 6 6 7 0 7-3 6 2 7-1 6 2 7-1 7-1 6 4 7-3 6-4 7 3 7-1 6 0 7 6 6 3 7 2 7 0 6 14 7 5 7-6 6 11 7 6 6 2 7 9 7-1 6-7 7 8 6-11 3 10 5 5 6-8 5 7 6 0 5-11 6 11 5-1 6 6 5 3 6-7 5 11 6-5 5-6 6 6 5 3 6 6 5-5 6 5 5-13 6 11 5-9 6 11 5-16 6 11 5-1 6-4 5 11 6-2 5-5 6-2 5 12 6-15 5 10 6-6 5-1 6 2 5-5 6-5 5 12 6 4 5-4 6 4 5 4 6-2 5-10 6 4 5-2 6-11 5 17 6 2 5 10 6-18 5 1 6-1 5 13 6-14 6-12 5 12 6 3 5 0 6-9 5 17 6-27 5 16 6-16 5 22 6-6 5 15 6-17 5-3 6 6 5 3 6 7 5 7 6-15 5-12 6 9 5 9 6-1 5 4 6-4 5-4 6 0 5 1 6-13 5 21 6-18 5 0 6 4 5-5 6 5 5-8 6 10 5 0 6-5 5 10 6-3 5-8 6-6 5 18 6-8 5-6 6 3 5 10 6 3 5-10 6-8 5 6 6-4 5 18 6-5 5-24 6 15 5 9 6-5 5-3 6 10 5-3 6-7 5 0 6-3 5 3 6 2 6-1 8-10 5 14"/>
<path stroke="#17becf" d="M180 2908l2 1 2 11 1 13 2-16 1-32 2 7 2-23 1 8 2 14 2 32 1 9 2 3 2-2 1-17 2-17 2 90 1 57 2 69 2 53 1 50 2-126 2-177 1-177 2-177 2-144 1 70 2 64 1 59 2 48 2 47 1 44 2 38 2 37 1 33 2 30 2 26 1 25 2 21 2 22 1 20 1 11 9 66 9 46 9 23 9 16 8 8 9 11 9 1 9 3 9-2 9-2 8 6 9 1 9-1 9 3 9-3 8-1 9-2 9 4 9 1 9-2 8 0 9-1 9 1 9-1 9 2 9 2 8-3 9 0 9 2 9 2 9-5 8 0 9 0 9 0 9 2 6-2 7 2 7-1 6 0 7 1 6 1 7-3 7-2 6-4 7-5 7 0 6-6 7-4 6-3 7-6 7-4 6-4 7-2 6-3 7-4 7-4 6-10 7-3 6-2 7-4 7 4 6 6 7-2 6 10 7 1 7 2 6-2 7-3 7 1 6 0 7 4 6-5 7 1 7 6 6-4 7-2 6-1 7 6 7-6 6 3 7 0 6 1 7-3 7 1 6-1 7 3 6-2 7 0 7-3 6 5 7 3 7-7 6 4 7 2 6 3 7-7 7 5 6-9 7 3 6 1 7 0 7 2 6-4 7 6 6-1 7-6 7 8 6-5 7 2 7 5 6 4 7 8 6-1 7 8 7 7 6 7 7 1 6 10 3 4 5-5 6 4 5 2 6 1 5 0 6 1 5 9 6-6 5 5 6-4 5-4 6 4 5 5 6-4 5-10 6 14 5-2 6-9 5 3 6-5 5 5 6 1 5 2 6-4 5 3 6 4 5-8 6-1 5 4 6 2 5-3 6 9 5-5 6-11 5 22 6-19 5-4 6 8 5 5 6-5 5-1 6-9 5 15 6-12 5 14 6-8 5 5 6-7 5 20 6-20 5-12 6 17 5 2 6 1 5-9 6 12 6 5 5-21 6 6 5 4 6-15 5 5 6 4 5 5 6 12 5-18 6 6 5 3 6 3 5-10 6 1 5-8 6 6 5 5 6 1 5-7 6-4 5 10 6-1 5 11 6-11 5 10 6-3 5 7 6-13 5-14 6 13 5-2 6 12 5-3 6-15 5 13 6 6 5-18 6 20 5-12 6 4 5-2 6 4 5-4 6 0 5-5 6-4 5 14 6-6 5 2 6-1 5 3 6 19 5-38 6 23 5 4 6-5 5-2 6 4 5 5 6-1 5-16 6 10 5 9 6-23 5 6 6-7 6 4 8-12 5 20"/>
<path stroke="#d62728" d="M180 2915l2-17 2-9 1 40 2-11 1-7 2-15 2 38 1 16 2 11 2 19 1 33 2 75 2 43 1 55 2-6 2-350 1-349 2-27 2 37 1 34 2 33 2 30 1 26 2 25 2 19 1 22 2 16 1 14 2 18 2 15 1 9 2 14 2 8 1 9 2 8 2 6 1 9 2 7 2 9 1 0 1 4 9 21 9 12 9 6 9 4 8 6 9-2 9 3 9 0 9 1 9 0 8 1 9-1 9 5 9-6 9 0 8 2 9 1 9-1 9-3 9 5 8-4 9-2 9 3 9-1 9 1 9-3 8 3 9-1 9-3 9 1 9 1 8-1 9 1 9 0 9-2 6-1 7-1 7-2 6-6 7-2 6-5 7-3 7-3 6-2 7-2 7-3 6-9 7-2 6-3 7-8 7-1 6-11 7-5 6-9 7-9 7-16 6-13 7-14 6-15 7-9 7-7 6 5 7 1 6 2 7 5 7 4 6 3 7 4 7 2 6-1 7 8 6 2 7-3 7-3 6-1 7 0 6 2 7 3 7 2 6-4 7 2 6 2 7 3 7 6 6-3 7 0 6 3 7 2 7 1 6 0 7 1 7 5 6-6 7 8 6 2 7-8 7 2 6 0 7 5 6-2 7 1 7-6 6 2 7 6 6 3 7-3 7 10 6 3 7 5 7 7 6 3 7 5 6 4 7 3 7 20 6-11 7-2 6 9 3-2 5 8 6 4 5-3 6 6 5-7 6 16 5-5 6 9 5-17 6 19 5-10 6 7 5-1 6-13 5 9 6-3 5 13 6-15 5 8 6 14 5-13 6-17 5 18 6-2 5-3 6-3 5 3 6-1 5 11 6-2 5-9 6-1 5 0 6 5 5-5 6-2 5 15 6-9 5 6 6-19 5 28 6-1 5-11 6-20 5 24 6-10 5 8 6-2 5-4 6-8 5 14 6-8 5 5 6-6 5 5 6-9 6 24 5-15 6 3 5 2 6-9 5-3 6 3 5-6 6 6 5 3 6 9 5 4 6-23 5 14 6 2 5-1 6 3 5 5 6-7 5-10 6 3 5 0 6 17 5-19 6-3 5 12 6 5 5 3 6-15 5-8 6 12 5 5 6-2 5 10 6-10 5 4 6-1 5-8 6-5 5-3 6-5 5 9 6-2 5-7 6 15 5 0 6-17 5 11 6-3 5 10 6-5 5-7 6 11 5-7 6 12 5-3 6-9 5 12 6-2 5-5 6-9 5 2 6 10 5 0 6-11 5 17 6-3 6-7 8 16 5-21"/>
<path stroke="#e377c2" d="M180 2740l2 12 2 11 1-12 2-2 1 13 2 16 2 12 1-26 2 13 2 14 1-4 2 1 2 21 1 53 2 113 2 82 1 75 2 77 2 1 1-29 2-29 2-23 1 6 2 5 2 7 1 5 2 3 1 5 2 3 2 4 1 1 2 4 2 2 1 2 2-1 2 6 1 1 2 0 2 3 1 5 1-3 9 3 9 7 9-1 9-3 8 4 9 0 9 2 9 1 9 1 9-4 8 0 9 2 9 1 9-1 9 0 8-2 9 1 9 1 9 1 9-1 8 0 9 1 9-2 9 2 9-1 9 3 8-2 9 2 9-2 9-1 9 1 8-2 9 3 9-2 9 0 6 0 7 0 7-1 6 2 7-4 6 3 7-1 7-1 6-1 7-4 7-4 6-1 7-3 6-6 7 0 7-7 6 3 7-5 6-1 7-3 7-3 6-9 7-2 6-1 7-2 7 4 6-2 7 4 6 3 7 2 7 1 6 1 7 4 7-4 6 1 7 2 6-1 7 2 7 2 6-7 7 1 6 0 7 3 7-4 6 0 7 2 6-1 7 3 7 0 6-3 7 0 6 1 7-6 7 1 6 6 7-7 7 2 6 1 7 2 6 1 7-2 7 3 6 0 7-6 6 1 7 3 7-1 6 1 7 0 6-1 7 2 7-1 6 5 7 1 7-6 6 11 7 9 6 0 7-6 7 19 6-6 7 17 6-8 3 1 5 7 6 6 5-2 6-4 5 5 6 2 5-10 6 2 5 5 6 0 5 8 6-8 5-2 6 1 5 1 6-1 5-2 6 6 5-11 6 9 5 7 6-5 5-5 6 3 5-8 6 4 5 1 6-9 5 14 6-9 5 7 6-7 5 14 6-8 5-2 6 2 5-5 6-1 5 14 6-11 5-5 6 18 5-12 6-4 5 4 6 2 5 2 6-18 5 27 6-22 5 4 6 8 5 4 6-2 5-4 6-4 6 8 5-6 6-5 5 17 6-13 5 6 6 1 5 3 6-10 5 11 6-6 5 10 6-2 5-2 6-2 5-28 6 19 5-2 6 6 5 14 6-31 5 16 6 5 5-7 6 3 5-11 6 5 5-4 6 3 5 12 6-6 5 5 6-6 5 13 6-7 5-5 6 3 5 7 6-15 5 4 6-3 5 2 6-1 5 10 6-18 5 18 6-11 5-8 6 2 5 11 6-1 5 12 6-22 5 5 6-5 5-1 6 10 5 6 6-12 5 18 6-9 5-1 6 21 5-28 6 14 5-8 6-3 6 13 8 0 5-6"/>
<path stroke="#17becf" d="M180 2641l2-14 2 10 1-22 2 12 1-10 2 18 2-15 1 13 2 5 2-12 1-5 2-31 2 36 1 3 2-30 2 130 1 89 2 115 2 134 1 131 2-127 2-217 1-216 2-217 2 16 1 46 2 39 1 36 2 32 2 31 1 29 2 23 2 22 1 22 2 18 2 19 1 12 2 17 2 15 1 9 1 8 9 44 9 28 9 15 9 9 8 5 9 2 9 2 9 5 9-2 9 2 8-2 9 2 9 0 9-2 9 0 8-4 9 1 9 2 9 0 9-1 8-2 9-1 9 0 9-2 9 0 9 4 8-7 9 1 9 2 9-3 9-1 8-1 9 0 9 2 9-5 6 6 7-7 7-5 6 0 7-5 6 0 7-10 7-1 6-5 7-4 7-1 6-4 7-7 6-1 7-7 7-6 6-6 7-6 6-9 7-9 7-14 6-15 7-16 6-11 7-11 7-3 6 1 7-1 6 8 7 1 7 2 6 4 7 1 7 8 6 2 7 4 6 1 7 2 7-1 6-2 7-2 6-1 7 4 7-4 6 5 7-3 6 5 7 0 7-1 6 4 7 4 6 2 7 1 7 2 6 2 7 2 7-2 6 4 7-3 6-1 7 3 7-3 6 2 7 0 6 0 7 2 7-2 6 5 7-6 6 6 7 12 7-7 6 12 7 3 7 4 6 1 7-1 6 9 7 9 7 0 6-3 7-5 6 7 3-2 5 4 6 6 5 3 6-5 5-1 6 9 5-3 6 0 5-3 6 4 5 10 6-9 5 2 6-11 5 16 6-1 5 7 6-9 5-1 6 8 5-7 6 2 5-7 6 3 5 2 6 13 5-10 6-10 5 8 6-6 5 9 6-2 5-3 6 7 5-1 6 3 5-12 6 6 5 6 6-18 5 4 6 17 5-10 6-2 5 8 6-4 5-7 6 8 5-19 6 4 5 18 6-12 5 9 6-13 5 5 6 4 6-2 5-2 6 3 5 15 6-11 5-9 6 11 5-15 6 21 5-21 6-2 5 5 6 6 5 0 6 10 5-8 6-2 5-7 6 7 5-6 6-6 5 24 6-2 5-10 6 11 5-4 6-4 5 8 6-18 5 10 6-8 5 5 6-9 5 2 6 8 5-6 6-7 5-2 6 10 5-4 6 3 5 7 6 6 5-5 6-6 5 4 6-11 5 5 6 6 5-2 6-3 5 12 6-4 5 4 6-15 5 12 6 1 5 7 6-16 5 8 6 4 5-9 6-2 5 14 6-9 5-1 6 0 6-6 8 15 5-11"/>
<path stroke="#bcbd22" d="M180 2953l2-25 2-27 1 26 2 38 1 4 2 22 2 19 1 47 2 57 2 46 1 43 2-45 2-205 1-205 2-206 2-147 1 2 2 5 2 4 1 5 2 3 2 5 1-1 2 1 2 4 1 1 2 4 1 0 2 3 2 2 1 2 2 0 2 3 1 1 2-4 2 4 1 1 2 0 2 0 1 1 1 1 9 3 9 3 9 1 9-1 8 0 9 3 9-1 9 1 9 1 9 2 8-1 9 2 9-3 9 3 9-2 8 1 9 1 9-2 9-2 9 6 8-1 9 0 9-1 9 1 9 1 9 0 8 2 9-1 9-2 9 3 9-2 8 2 9-3 9 2 9 2 6-2 7 1 7 2 6-1 7 3 6-3 7 1 7 1 6-2 7 2 7 4 6 0 7 4 6-2 7 0 7 1 6-3 7 1 6-5 7 1 7 0 6 0 7 1 6 0 7-2 7-1 6 3 7-1 6 2 7 2 7-2 6-1 7 2 7 1 6-1 7 2 6-1 7 0 7-1 6 1 7 2 6-3 7 0 7 0 6 3 7-5 6 2 7 3 7 1 6-3 7 2 6-6 7 6 7-1 6-3 7-2 7 4 6 2 7 0 6-1 7 2 7 1 6-6 7 3 6 0 7 5 7-4 6 6 7-3 6 8 7-7 7 1 6 0 7 1 7 9 6-10 7-1 6 3 7 4 7-6 6 7 7 1 6-4 3 0 5-2 6 2 5-2 6 10 5 2 6-9 5 1 6-9 5 7 6 4 5 0 6-1 5 4 6-4 5-2 6 11 5-19 6 4 5 2 6 0 5 0 6 3 5-3 6 4 5 4 6-3 5 1 6-7 5-1 6 5 5 8 6-3 5 4 6 0 5 1 6-13 5 14 6-3 5 9 6-10 5-2 6-3 5 2 6-13 5 10 6 2 5 7 6-12 5 6 6 13 5-18 6 11 5-11 6 4 5 4 6 3 6-10 5-4 6 19 5-10 6 5 5 1 6-1 5-8 6 1 5-11 6 13 5-5 6 4 5 15 6-9 5-5 6-12 5 17 6 7 5-19 6 10 5-8 6 3 5-2 6-10 5 9 6-9 5 25 6-3 5-8 6 2 5-2 6 1 5 0 6-3 5 0 6-9 5 2 6 4 5 7 6-5 5 19 6-18 5-1 6 7 5 5 6 6 5-7 6-13 5 4 6 10 5-7 6 5 5-8 6 14 5-1 6-3 5-8 6-14 5 2 6 14 5 3 6-30 5 20 6 14 5-2 6-12 6 10 8-6 5-2"/>
<path stroke="#17becf" d="M180 2917l2 21 2-5 1 8 2 22 1-45 2 45 2 60 1 58 2 62 2 44 1 3 2-253 2-253 1-253 2 48 2 61 1 54 2 48 2 46 1 43 2 37 2 35 1 30 2 27 2 28 1 26 2 19 1 20 2 19 2 14 1 14 2 15 2 9 1 13 2 13 2 8 1 8 2 7 2 8 1 6 1 4 9 26 9 10 9 9 9 7 8 0 9 2 9 5 9-2 9 2 9-3 8 0 9 2 9-2 9 2 9-1 8-2 9 2 9-3 9 1 9-1 8-1 9 3 9-3 9 3 9-3 9-2 8 0 9 2 9-4 9 0 9 2 8 1 9-2 9-1 9 2 6-2 7-3 7-4 6-4 7-3 6-10 7-3 7-2 6-2 7-8 7 0 6-9 7-4 6-3 7-7 7-7 6-4 7-12 6-9 7-13 7-15 6-19 7-18 6-16 7-11 7-5 6-1 7 7 6 4 7 4 7 6 6 7 7 5 7 4 6 1 7 5 6 2 7 1 7-4 6-4 7-2 6 3 7 3 7-2 6 2 7 4 6 0 7 1 7 8 6-1 7 5 6 1 7 2 7 8 6-1 7 0 7 3 6 1 7-1 6-1 7-1 7 1 6 2 7 2 6-8 7 3 7 4 6-4 7 7 6 0 7 8 7 4 6 2 7 17 7 10 6-1 7 13 6 17 7 16 7-2 6 7 7-2 6 19 3-10 5 7 6 14 5-2 6 6 5 6 6 0 5 10 6-10 5 1 6 6 5 5 6 1 5 4 6-4 5 3 6-4 5 6 6-6 5 2 6 2 5 0 6-4 5-5 6 6 5 2 6 2 5 9 6-16 5-6 6 13 5 4 6-8 5 12 6-14 5 3 6 3 5-5 6-9 5 17 6 1 5 3 6-21 5 9 6 2 5 9 6 2 5-19 6 6 5 2 6 1 5 9 6-8 5 0 6-14 5 13 6-2 6-2 5 7 6-1 5-9 6 4 5-11 6 7 5 7 6-3 5 13 6-10 5-25 6 23 5 10 6-21 5 12 6 14 5-34 6 17 5 6 6 17 5-25 6 8 5 7 6 5 5-8 6-10 5 2 6 15 5-35 6 19 5-3 6 5 5 0 6-2 5 0 6 7 5-3 6 10 5-25 6 21 5-16 6 15 5-16 6 3 5 0 6-1 5 5 6 0 5 19 6-8 5-5 6-6 5 0 6-3 5 17 6-17 5 2 6 7 5 5 6-9 5 1 6 4 5-1 6-3 5-12 6 23 6-24 8 11 5 12"/>
<path stroke="#1f77b4" d="M180 2821l2 15 2 12 1 28 2 3 1 3 2 36 2 8 1 13 2 14 2-12 1 7 2 12 2 10 1-14 2 51 2 52 1 49 2 63 2 55 1-227 2-252 2-92 1 46 2 43 2 39 1 34 2 34 1 31 2 23 2 27 1 25 2 16 2 18 1 20 2 13 2 19 1 8 2 11 2 12 1 10 1 4 9 40 9 22 9 10 9 8 8 7 9 3 9 0 9 1 9 1 9 1 8 2 9-1 9 0 9 0 9-2 8 2 9 0 9 1 9 0 9-2 8 3 9-2 9-1 9 2 9-3 9 0 8 3 9 1 9-1 9-1 9-2 8 1 9 2 9 0 9 2 6-2 7 1 7-6 6 3 7 1 6 3 7-6 7 0 6-5 7-2 7-2 6-7 7-2 6-3 7-4 7-8 6 1 7-6 6-4 7-4 7-9 6-6 7 1 6-6 7-1 7 0 6 5 7 4 6 5 7 8 7-5 6 0 7 1 7 0 6-1 7 0 6 2 7-6 7 4 6 4 7-6 6 3 7 1 7-2 6 0 7 2 6-3 7 6 7-5 6-2 7 6 6-3 7-1 7-3 6 4 7-2 7 8 6-10 7 2 6 5 7-2 7-3 6 0 7 3 6-2 7 1 7 3 6 1 7-4 6 7 7-4 7 0 6-3 7 4 7 3 6 9 7 0 6 2 7 10 7 2 6 7 7 16 6 4 3 1 5-1 6 2 5 9 6-9 5-3 6 6 5 2 6-3 5 2 6-4 5 0 6 8 5-13 6 6 5 3 6 6 5-3 6-6 5 2 6 0 5-9 6 3 5-4 6 14 5 3 6-21 5 8 6 1 5 5 6 5 5-9 6 1 5 1 6-4 5 0 6-10 5 11 6-6 5 3 6 4 5 13 6-10 5-11 6 2 5 4 6 2 5 2 6-5 5-5 6 4 5 6 6 9 5-8 6 11 5-7 6-7 6 5 5 4 6-20 5 21 6-4 5-5 6 3 5 4 6-12 5 20 6-24 5 9 6-6 5-4 6 7 5-2 6 2 5 4 6-5 5 8 6 3 5-7 6-8 5 8 6 9 5-4 6 0 5-5 6-7 5 4 6-4 5 19 6-16 5 8 6-11 5-7 6-2 5 11 6-3 5 4 6-3 5 5 6-7 5-1 6 3 5 9 6-5 5 1 6 0 5 25 6-38 5 22 6-12 5-5 6 2 5-8 6 28 5 5 6-27 5 12 6-10 5 17 6-12 5 18 6-22 5 3 6 18 6-18 8 10 5-4"/>
<path stroke="#2ca02c" d="M180 2577l2-3 2-17 1-20 2 42 1 57 2 138 2 121 1 120 2 125 2 24 1-214 2-215 2-19 1 39 2 37 2 36 1 31 2 29 2 30 1 23 2 18 2 21 1 18 2 15 2 16 1 12 2 12 1 12 2 8 2 10 1 10 2 7 2 7 1 7 2 9 2 3 1 1 2 8 2 4 1 2 1 2 9 16 9 3 9 7 9 3 8 5 9-2 9 1 9 1 9-2 9 1 8 0 9 2 9-2 9 1 9 0 8 1 9 0 9-1 9-1 9 3 8-3 9-1 9 1 9 0 9 0 9-1 8 1 9 1 9-1 9-1 9-1 8-1 9-1 9 3 9 1 6-3 7 0 7-4 6-5 7-5 6-5 7-1 7-7 6-3 7-7 7-1 6-7 7-2 6-8 7-4 7-8 6-6 7-10 6-13 7-10 7-17 6-16 7-20 6-16 7-13 7-5 6-1 7 5 6 9 7 4 7 8 6 0 7 8 7 6 6 2 7 2 6 2 7 5 7-7 6-7 7 2 6 2 7 2 7-3 6 4 7 4 6 5 7-2 7 9 6-1 7 1 6 2 7 4 7 4 6 1 7-2 7 3 6 2 7 5 6-6 7-3 7 8 6 2 7-7 6-1 7 3 7 1 6 0 7-1 6 3 7 12 7 3 6 6 7 13 7 7 6-5 7 13 6-2 7 7 7-5 6 5 7 7 6-5 3 1 5 3 6 2 5-9 6 1 5 4 6-5 5 2 6-4 5 0 6 13 5-1 6-1 5-4 6 7 5-3 6-7 5 3 6 0 5 6 6-6 5 3 6 1 5-2 6-1 5-1 6 6 5 0 6-8 5 9 6-6 5 3 6 15 5-7 6-2 5-9 6 5 5-1 6-3 5 0 6-1 5 12 6-2 5-2 6-1 5-9 6 11 5-16 6 17 5-17 6 11 5-6 6 5 5 9 6-6 5-11 6 23 6-16 5 11 6-18 5 7 6 9 5-8 6 14 5 7 6-16 5-9 6 0 5 2 6 9 5-13 6 3 5 6 6-5 5 2 6 1 5-7 6 17 5-10 6-11 5 16 6-10 5 4 6 3 5 0 6 3 5-3 6-1 5 2 6-4 5-12 6 13 5-19 6 16 5 1 6 5 5 12 6-11 5-13 6 19 5-17 6 12 5 4 6-6 5 1 6-4 5 2 6 8 5-6 6 5 5 1 6-9 5 3 6 2 5-10 6 8 5 6 6 1 5-12 6 1 5-6 6 8 5-11 6 12 6-1 8-21 5 13"/>
<path stroke="#9467bd" d="M180 2671l2 5 2-22 1 19 2-13 1 3 2 110 2 107 1 111 2 115 2 113 1-224 2-263 2-263 1-22 2 27 2 31 1 25 2 23 2 26 1 18 2 19 2 16 1 13 2 13 2 13 1 12 2 11 1 11 2 5 2 8 1 10 2 6 2 3 1 7 2 4 2 7 1 2 2 3 2 5 1 3 1 0 9 13 9 6 9 4 9 3 8 3 9 1 9-3 9 3 9-2 9 1 8 0 9 0 9 2 9 0 9 0 8 0 9-1 9 1 9 0 9 1 8 0 9 1 9 0 9 0 9 2 9-1 8-1 9 2 9-5 9 2 9 2 8 0 9 0 9 0 9 2 6-3 7 0 7-2 6-5 7-2 6-6 7-1 7-3 6-4 7-3 7-7 6-3 7-4 6-3 7-4 7-6 6-4 7-7 6-13 7-7 7-13 6-14 7-14 6-12 7-10 7-5 6 1 7 4 6 1 7 7 7 0 6 4 7 1 7 5 6 3 7-1 6 4 7 2 7-1 6-4 7-1 6 0 7 2 7 0 6 0 7-1 6 4 7 4 7 2 6 0 7 2 6 2 7 1 7 0 6 2 7 3 7 2 6-3 7-5 6 3 7-2 7 1 6 5 7-2 6 5 7-7 7 4 6 2 7 2 6-6 7 8 7 9 6-4 7 21 7-4 6 5 7 9 6 0 7 8 7-10 6 12 7 0 6 12 3-3 5 0 6 9 5-11 6 16 5-7 6 2 5-6 6 18 5 2 6-5 5 1 6 4 5 9 6-13 5 1 6-11 5 2 6 10 5-1 6 8 5-8 6 5 5 1 6 8 5-14 6 5 5 4 6-15 5 11 6-10 5 4 6-5 5 7 6 3 5 9 6-12 5 2 6-5 5 4 6 15 5-15 6 0 5-5 6 10 5 2 6 2 5-12 6-1 5 14 6-9 5 0 6 5 5-3 6-11 5 16 6-5 6-18 5 10 6 2 5-9 6 8 5 5 6 2 5-2 6-12 5 33 6-16 5-1 6 0 5-8 6-8 5 10 6 4 5-1 6 4 5 4 6-23 5 4 6 0 5 9 6-3 5 4 6-4 5 7 6-6 5 7 6-13 5 8 6-7 5 13 6-3 5-5 6 0 5 3 6 2 5-14 6-9 5 20 6 7 5-4 6-9 5 16 6-19 5-3 6 5 5 12 6 4 5-12 6-5 5 4 6 9 5-1 6 1 5 4 6 4 5-11 6-2 5-7 6 4 5-13 6 17 5-15 6 4 6 17 8-5 5-4"/>
<path stroke="#e377c2" d="M180 2698l2 8 2 19 1-12 2-2 1-9 2 12 2 30 1 3 2-2 2 22 1 11 2-8 2-1 1 33 2 19 2 87 1 66 2 93 2 74 1 77 2-242 2-304 1-238 2 16 2 18 1 19 2 13 1 13 2 15 2 9 1 7 2 12 2 8 1 9 2 3 2 8 1 5 2 7 2 3 1 7 1 0 9 19 9 10 9 4 9 6 8 2 9 0 9-1 9 1 9 1 9 3 8 0 9-1 9 1 9 0 9-2 8 1 9-1 9 3 9 0 9 0 8 0 9 0 9-1 9 0 9 3 9-5 8 5 9-3 9 1 9 2 9-2 8-2 9 4 9 1 9-1 6-3 7 1 7-3 6-3 7-2 6-4 7 1 7-6 6-1 7-2 7-3 6-2 7-4 6-3 7-6 7-2 6-5 7-7 6-4 7-10 7-10 6-11 7-11 6-10 7-6 7-3 6 1 7 0 6 4 7 4 7 2 6 2 7 2 7 2 6 2 7 2 6 2 7 1 7-2 6-2 7-1 6-1 7-1 7 0 6 6 7 0 6 0 7 0 7 4 6 3 7 2 6 3 7-2 7 1 6 2 7-6 7 6 6-4 7 3 6-5 7 2 7 0 6 1 7 4 6-6 7 6 7 1 6-6 7 8 6 4 7-6 7 8 6 7 7-5 7 3 6 3 7 2 6-2 7 3 7-2 6 7 7 8 6-6 3-10 5 11 6-10 5 7 6-5 5 8 6-6 5 0 6 0 5 0 6 4 5 9 6 0 5-4 6-3 5-1 6 8 5-12 6-1 5 1 6 6 5 0 6 1 5-4 6-3 5-8 6 14 5-6 6 11 5-14 6 8 5 3 6-2 5 3 6 1 5-4 6 4 5-6 6 0 5 18 6-18 5-2 6-11 5 6 6 7 5-5 6 5 5-9 6 18 5-8 6-4 5 0 6 1 5 8 6-11 5 8 6-5 6-8 5 7 6 3 5 4 6 8 5-20 6 3 5 9 6-5 5-11 6 19 5-16 6-3 5 3 6-7 5 9 6 10 5 6 6-13 5-3 6 7 5-5 6 28 5-9 6-9 5-7 6 6 5 3 6-8 5 8 6 17 5-41 6 20 5 5 6-14 5-3 6 13 5-5 6-2 5-6 6 22 5-15 6 9 5-6 6-12 5 11 6-16 5 21 6-5 5-14 6 18 5 8 6-19 5-10 6 1 5 11 6 18 5-24 6 27 5-26 6 11 5-15 6 20 5-8 6 13 5-10 6 3 6 2 8-2 5-1"/>
<path stroke="#7f7f7f" d="M180 2725l2-10 2 33 1-31 2-12 1 15 2 14 2 8 1 0 2-16 2 84 1 79 2 99 2 97 1 101 2-62 2-191 1-191 2-190 2-121 1 22 2 19 2 21 1 18 2 15 2 12 1 19 2 9 1 13 2 9 2 8 1 7 2 7 2 8 1 5 2 6 2 7 1 4 2 5 2 1 1 4 1 2 9 13 9 11 9 3 9 2 8 3 9 3 9-3 9 0 9 2 9 0 8-2 9 1 9 2 9-1 9 1 8-2 9 1 9 0 9-1 9 1 8 3 9-7 9 2 9 5 9-6 9 0 8 2 9-2 9 3 9-4 9 1 8 3 9-2 9 2 9-2 6 0 7-5 7 3 6-2 7-5 6-3 7-4 7 0 6-2 7-6 7-2 6-1 7-8 6-2 7 0 7-5 6-5 7-5 6-9 7-6 7-11 6-10 7-15 6-9 7-9 7-3 6 4 7 1 6 2 7 0 7 6 6 1 7 2 7 2 6 2 7 4 6-1 7 1 7-2 6 1 7-2 6 0 7-4 7 4 6 1 7 3 6 6 7-4 7 3 6 0 7 3 6 0 7 3 7 2 6-3 7 4 7-9 6 9 7-6 6 6 7 2 7-6 6 0 7 0 6 5 7-8 7 5 6 5 7-7 6 7 7-3 7 10 6-3 7 5 7 8 6 5 7 3 6 3 7 2 7 2 6 8 7 0 6 4 3-9 5 14 6-13 5 8 6 8 5-7 6 0 5 6 6 8 5 0 6-12 5 11 6-3 5-5 6 3 5-3 6 2 5-3 6 14 5-7 6 6 5-1 6-12 5 12 6-12 5 2 6 8 5-5 6 0 5 8 6-4 5-22 6 32 5 4 6-10 5 2 6-4 5-9 6 7 5 1 6 1 5 1 6-6 5 8 6 8 5-3 6-6 5-9 6-1 5 6 6-9 5 9 6 0 5 6 6 3 5-6 6-1 6 1 5-8 6 9 5 8 6-5 5-8 6 3 5 5 6 0 5 2 6-23 5 21 6-2 5-5 6 2 5-8 6 2 5 2 6-6 5 3 6 8 5-4 6-11 5 31 6-43 5 29 6-11 5 8 6 2 5-1 6-2 5-3 6 14 5-21 6 20 5-16 6 7 5 3 6-6 5-8 6 6 5 3 6-11 5 12 6-12 5 4 6 9 5-12 6 18 5-7 6-12 5 3 6 15 5 8 6-6 5-21 6 20 5 7 6-3 5-9 6 5 5-4 6-7 5-3 6-9 5 20 6-16 6 16 8 8 5-10"/>
<path stroke="#ff7f0e" d="M180 2981l2-13 2-17 1 14 2 13 1-17 2-13 2 9 1-33 2 9 2-24 1 25 2 71 2 40 1 56 2 41 2 56 1-107 2-306 2-305 1-41 2 50 2 43 1 44 2 38 2 36 1 25 2 31 1 29 2 22 2 22 1 18 2 18 2 15 1 15 2 15 2 13 1 8 2 11 2 12 1 10 1-2 9 36 9 19 9 14 9 5 8 4 9 1 9 1 9 0 9 2 9 1 8-2 9 2 9-1 9-2 9 2 8-4 9 3 9-1 9-1 9-5 8 5 9-2 9 0 9-1 9 1 9 0 8 2 9-2 9-1 9 1 9-3 8-1 9 2 9 0 9 0 6-3 7-3 7-4 6-3 7-3 6-2 7-10 7-3 6-1 7-4 7-5 6-4 7-3 6-5 7-5 7-5 6-9 7-8 6-8 7-13 7-11 6-18 7-18 6-12 7-12 7-3 6-1 7 2 6 2 7 8 7 4 6 5 7 2 7 3 6 5 7 3 6 4 7 0 7-5 6-3 7-3 6 4 7-1 7 4 6 3 7-2 6 4 7-1 7 6 6 0 7 4 6 1 7 2 7 1 6 2 7 2 7 4 6-7 7 3 6-3 7 7 7-5 6 0 7 1 6 7 7-2 7 1 6 0 7-2 6 6 7 5 7-3 6 5 7 15 7 4 6 10 7-1 6 5 7 9 7-4 6 1 7 6 6 5 3 5 5-2 6-3 5 7 6 8 5-1 6 1 5-2 6 1 5 2 6-2 5 10 6 2 5-3 6 1 5 7 6-1 5-2 6 10 5-13 6 7 5-4 6-11 5 0 6 4 5 4 6-7 5 7 6-5 5-2 6-1 5 2 6-5 5 7 6 3 5-3 6 7 5-9 6 6 5 1 6-8 5 10 6-7 5-9 6 12 5-9 6 2 5 5 6-5 5 11 6-1 5-3 6-1 5 10 6-26 5 15 6-9 6-11 5 17 6 3 5 7 6-17 5 10 6-11 5 13 6-4 5 9 6-8 5 2 6 5 5 6 6-9 5 4 6-17 5 4 6 15 5-11 6-6 5-13 6 18 5 0 6 6 5 0 6 17 5-28 6 14 5-4 6 14 5-14 6-4 5-10 6 10 5 10 6-1 5 5 6-12 5-1 6 9 5-5 6-2 5-3 6 16 5-9 6-14 5-7 6 18 5-8 6-7 5 12 6 7 5-14 6-9 5 13 6-4 5 14 6 1 5-4 6-13 5 20 6-30 5 14 6 8 5-7 6 0 6 10 8 2 5-4"/>
<path stroke="#17becf" d="M180 2619l2 15 2-20 1 17 2-17 1-2 2 45 2 113 1 125 2 109 2 113 1 108 2-226 2-227 1-27 2 44 2 39 1 33 2 31 2 30 1 27 2 24 2 22 1 18 2 18 2 16 1 14 2 15 1 13 2 9 2 11 1 11 2 10 2 6 1 8 2 6 2 5 1 8 2 2 2 8 1 2 1 1 9 19 9 5 9 10 9-1 8 3 9 2 9 0 9 2 9 1 9 0 8 1 9-1 9 0 9-2 9 2 8-2 9 3 9 2 9-5 9 1 8 0 9 0 9 3 9-3 9 2 9-1 8-1 9 2 9-1 9 1 9-4 8 0 9 1 9 2 9-1 6-1 7 0 7 2 6 1 7-3 6 3 7-3 7 0 6-2 7-1 7-3 6 3 7-2 6-3 7-1 7 1 6-4 7 0 6-1 7-1 7-2 6-1 7-1 6-3 7 3 7-3 6 2 7 1 6 4 7-1 7 4 6-2 7-2 7-1 6 2 7 0 6 1 7 0 7-5 6 3 7-1 6 5 7-2 7-2 6 4 7 1 6-4 7 2 7-4 6 4 7-1 6 3 7-1 7-3 6-3 7 6 7-1 6-2 7-1 6 2 7 0 7 0 6-3 7 2 6 0 7-1 7 4 6-3 7 3 6-3 7-3 7 4 6-5 7 9 7-1 6-3 7 3 6 2 7 10 7 1 6-12 7 12 6-6 3 5 5 3 6 4 5-1 6 2 5 0 6-8 5 3 6 3 5-5 6 8 5-4 6-6 5 8 6 5 5-11 6 9 5 3 6-1 5-14 6 7 5 2 6 3 5 0 6-7 5 3 6-3 5 10 6-21 5 10 6 7 5-5 6 8 5-7 6-10 5 6 6-1 5-5 6 17 5-8 6-14 5 12 6-4 5 15 6-13 5 13 6-11 5 3 6-8 5 10 6-1 5-4 6-2 5 0 6 0 5-6 6 1 6 18 5 0 6 0 5-12 6 0 5-5 6 3 5 9 6 5 5-16 6 3 5 5 6 3 5 5 6-18 5 18 6-20 5 13 6-5 5 2 6 10 5-11 6 10 5-12 6-3 5 13 6-9 5 12 6 0 5 0 6-8 5-3 6 1 5 10 6 0 5-6 6-3 5-4 6-3 5 12 6-1 5-12 6 6 5 6 6-12 5 16 6-19 5 4 6 11 5 2 6-17 5 8 6-1 5-1 6 14 5-8 6 8 5-19 6 1 5 12 6 6 5-5 6-9 5 13 6-7 5-2 6-13 6 23 8-14 5 12"/>
<path stroke="#7f7f7f" d="M180 2972l2-21 2-13 1-3 2 8 1-20 2 29 2 72 1 40 2 60 2 68 1-53 2-239 2-239 1-239 2 27 2 32 1 31 2 32 2 20 1 27 2 21 2 21 1 16 2 17 2 14 1 15 2 14 1 9 2 10 2 11 1 9 2 7 2 5 1 9 2 5 2 4 1 7 2 2 2 6 1 2 1 4 9 9 9 12 9 5 9 3 8 0 9 4 9 0 9 1 9-3 9 2 8 0 9-1 9 2 9-1 9-3 8 2 9-3 9 4 9-3 9 3 8-4 9-1 9 1 9 0 9-1 9 3 8-3 9-3 9 3 9-2 9-2 8 3 9-3 9-2 9 2 6 1 7-3 7-5 6-3 7-4 6-1 7-7 7-1 6-3 7-6 7-4 6 1 7-6 6-8 7-4 7-4 6-5 7-11 6-10 7-10 7-14 6-14 7-14 6-16 7-10 7-4 6 1 7 5 6 5 7-1 7 6 6 3 7 4 7 3 6 1 7 4 6 1 7 1 7-2 6-7 7 0 6 7 7-2 7 4 6-3 7 1 6 1 7 9 7-4 6 2 7 3 6 3 7 6 7-2 6 4 7-5 7 2 6 1 7 2 6-1 7-5 7 0 6 5 7-1 6-2 7 0 7 8 6-2 7 0 6 5 7-3 7 11 6 6 7-1 7 10 6 6 7-3 6 3 7 2 7 1 6-2 7-6 6 10 3 3 5-1 6-1 5 2 6 1 5-1 6-8 5 6 6 6 5 1 6 1 5 0 6 3 5 3 6-4 5 3 6-2 5-10 6 9 5 4 6-1 5 4 6-14 5 20 6-14 5 10 6-8 5 7 6 1 5-14 6 8 5-8 6 6 5-3 6 7 5 4 6-5 5 12 6-29 5 2 6 19 5-13 6 9 5-9 6 7 5 2 6 1 5-2 6 14 5 0 6-7 5-25 6 18 5-2 6 1 5-6 6 3 6-13 5 13 6 4 5-8 6 5 5-12 6 16 5-11 6 19 5-13 6-2 5 5 6-17 5 11 6-1 5 7 6-10 5 20 6-10 5-1 6 6 5 8 6-6 5 1 6-6 5-9 6 11 5-8 6 22 5-18 6 4 5-15 6 7 5-16 6 27 5 0 6-3 5 8 6 1 5-4 6-12 5-5 6-6 5 14 6 12 5-8 6-12 5-1 6-2 5-1 6-5 5-2 6 28 5-7 6-9 5 20 6-2 5-16 6-7 5 13 6 0 5-10 6 4 5-3 6 18 5-12 6-9 6 23 8-28 5 30"/>
<path stroke="#e377c2" d="M180 2867l2 6 2 42 1-2 2-41 1-23 2 23 2 9 1 13 2-3 2-2 1-41 2 18 2 67 1 53 2 57 2 67 1 67 2 14 2-175 1-175 2-175 2-176 1-50 2 16 2 17 1 12 2 12 1 11 2 11 2 11 1 6 2 9 2 7 1 8 2 6 2 3 1 5 2 5 2 6 1 5 1 0 9 13 9 13 9 3 9-2 8 7 9 1 9 1 9-2 9-2 9 3 8 0 9 0 9 0 9-2 9 1 8-1 9-1 9 4 9-4 9 0 8 3 9-4 9 0 9 0 9-2 9 3 8-2 9 1 9 1 9-3 9 0 8-2 9 4 9-2 9 1 6-2 7-2 7-2 6 0 7-3 6-2 7-4 7-5 6 0 7-1 7-3 6-2 7-3 6-3 7-2 7-9 6 0 7-5 6-6 7-9 7-11 6-8 7-9 6-11 7-5 7-4 6-3 7 8 6-3 7 8 7 0 6 0 7 3 7 2 6 3 7-2 6 3 7-3 7 2 6-3 7-1 6 0 7 3 7 0 6 1 7 1 6 1 7 1 7 5 6-2 7 2 6 2 7 3 7-5 6 3 7-1 7 3 6 0 7-4 6 1 7 1 7 5 6-9 7 8 6-2 7-2 7 3 6-2 7 10 6-5 7 0 7 9 6-1 7-1 7 4 6 4 7-1 6 1 7 0 7 1 6-4 7 7 6-7 3 3 5-6 6-5 5 2 6 0 5-4 6-12 5 11 6 8 5 2 6 1 5-8 6 1 5 11 6-5 5-10 6 0 5 1 6 2 5-10 6 9 5 1 6 7 5-5 6-9 5 12 6 4 5 5 6-5 5 0 6 5 5-18 6 19 5 1 6-17 5 12 6-17 5 29 6-14 5-5 6-7 5 7 6 5 5-5 6 8 5-6 6-6 5 11 6 16 5-39 6 16 5 7 6-12 5-3 6 2 5 7 6-10 6-5 5 2 6 13 5-3 6 9 5-7 6-10 5 4 6-2 5 14 6-8 5 0 6 4 5 2 6-11 5-6 6 11 5-3 6 7 5-14 6 23 5-13 6 12 5-6 6-6 5-7 6 7 5-6 6 22 5-22 6 8 5-7 6 1 5 7 6 16 5-27 6 10 5 9 6-10 5-4 6 29 5-21 6-9 5-9 6 6 5 3 6 14 5-8 6-7 5 21 6-5 5-13 6 11 5-7 6-5 5-5 6 8 5 2 6 2 5-1 6 7 5 4 6-13 5 6 6 5 5-13 6-4 6-11 8 15 5-16"/>
<path stroke="#2ca02c" d="M180 3100l2-26 2-2 1 9 2 11 1-3 2-25 2 33 1-15 2 26 2-6 1-11 2-14 2-31 1 8 2 23 2 24 1 42 2 41 2 40 1-102 2-127 2-127 1-106 2 25 2 21 1 21 2 21 1 18 2 15 2 13 1 14 2 14 2 9 1 12 2 7 2 9 1 2 2 11 2 6 1 7 1 7 9 17 9 15 9 6 9 4 8 4 9 2 9 1 9 0 9 1 9 0 8-2 9-1 9 1 9 3 9-2 8 3 9-3 9 2 9 0 9 0 8 0 9-1 9 2 9 1 9-2 9 0 8 0 9 2 9 0 9-1 9 1 8-1 9-1 9 1 9 1 6-3 7 1 7-4 6-3 7-9 6 0 7-5 7-2 6-6 7-5 7-3 6-1 7-10 6-2 7-8 7-6 6-5 7-6 6-10 7-17 7-13 6-16 7-17 6-18 7-11 7-3 6 2 7 5 6 2 7 6 7 4 6 1 7 8 7 4 6 5 7 4 6-1 7 2 7-3 6-6 7-2 6 1 7 4 7 0 6 7 7-3 6 2 7 5 7 2 6-2 7 7 6 0 7 4 7 1 6 0 7 1 7 1 6 3 7-3 6 0 7 2 7 0 6-3 7 7 6-2 7-2 7 2 6 0 7-1 6 6 7 9 7-2 6 7 7 5 7 9 6 3 7 0 6 11 7 6 7-7 6 16 7 0 6 5 3-9 5 5 6-5 5-4 6 7 5 9 6-4 5 1 6 1 5 2 6-13 5 20 6 2 5-2 6 9 5-1 6-16 5 15 6-16 5 11 6-2 5-6 6 6 5 0 6-1 5-2 6 0 5-4 6-3 5 3 6 11 5 6 6-11 5-1 6 12 5-10 6 3 5 0 6-4 5-10 6 15 5-6 6 6 5-13 6 6 5-1 6-6 5 19 6-14 5 4 6-1 5 1 6-12 5 24 6-16 5 21 6-12 6-6 5 3 6 3 5-7 6-1 5 1 6 13 5-11 6-5 5 4 6 0 5-4 6 6 5-2 6 7 5-7 6 0 5-1 6-2 5-5 6 2 5 14 6 2 5-2 6-14 5 2 6-1 5-12 6 10 5 19 6-5 5-16 6 20 5-27 6 14 5 14 6 7 5-6 6-8 5-1 6 3 5-24 6 23 5 8 6-9 5-19 6 32 5-22 6 4 5-7 6 16 5-12 6-2 5 4 6-9 5 12 6 6 5-2 6-20 5 31 6-20 5 1 6-4 5 14 6 1 5 2 6 11 6-21 8-5 5 7"/>
<path stroke="#7f7f7f" d="M180 2691l2-31 2-21 1-48 2-9 1-8 2-41 2 11 1-12 2 35 2-7 1 5 2-5 2-29 1 29 2 16 2 79 1 120 2 147 2 114 1 127 2-70 2-278 1-278 2-27 2 21 1 22 2 18 1 13 2 17 2 12 1 17 2 11 2 14 1 3 2 15 2 6 1 8 2 5 2 5 1 9 1-1 9 24 9 13 9 6 9 4 8 4 9 1 9-1 9 3 9 0 9 1 8 1 9 1 9-1 9-1 9 1 8-1 9-1 9 3 9 0 9 0 8 1 9-1 9-1 9 1 9 1 9 2 8-1 9-1 9 0 9 0 9 0 8-1 9 5 9-5 9 2 6-2 7-2 7 2 6-5 7-7 6 2 7-1 7-5 6-7 7 1 7-4 6-2 7-3 6-5 7-6 7-3 6-6 7-3 6-8 7-10 7-14 6-11 7-9 6-11 7-8 7-2 6 0 7-1 6 7 7 2 7 0 6 3 7 6 7 1 6 3 7-2 6 3 7-1 7-2 6-2 7 2 6 0 7-1 7 6 6-3 7 1 6 3 7-4 7 6 6 2 7-1 6 5 7 1 7 2 6 1 7 2 7-2 6-2 7 1 6 2 7-3 7 5 6 1 7-8 6 2 7 2 7 0 6-3 7 9 6 1 7 2 7-6 6 11 7-3 7 9 6 8 7-4 6-3 7 0 7 8 6 3 7-5 6 1 3 2 5-3 6-3 5 4 6 3 5-9 6 7 5-11 6-2 5 9 6 7 5-5 6 4 5 2 6-3 5 3 6 1 5-1 6-13 5 7 6 2 5 10 6-7 5 2 6 0 5-6 6 6 5 1 6 0 5-18 6 19 5-6 6-6 5 6 6 3 5-2 6 1 5-14 6 7 5 15 6-5 5-3 6-12 5 10 6 7 5-5 6-6 5 5 6 2 5-10 6-1 5 18 6-15 5 7 6-16 5 22 6-14 6 2 5 3 6-5 5 12 6 0 5-10 6 6 5-5 6 15 5-13 6 12 5-10 6 8 5-2 6 0 5-9 6-1 5-13 6 19 5 1 6-16 5-5 6 16 5-6 6 11 5 22 6-27 5 8 6 0 5-15 6-2 5 6 6 16 5-11 6 20 5-15 6-5 5-9 6 16 5-28 6 19 5 1 6 18 5-6 6-12 5-5 6 14 5-9 6-3 5 25 6-31 5 15 6-7 5 15 6-28 5 0 6 8 5-1 6 7 5-11 6 12 5-7 6 5 5 17 6-24 5 8 6-5 6 10 8-2 5-4"/>
<path stroke="#17becf" d="M180 2608l2-15 2 4 1-9 2-13 1-22 2-11 2-2 1-16 2 17 2 92 1 101 2 138 2 128 1 126 2 67 2-231 1-231 2-231 2-108 1 2 2 2 2 2 1 1 2 3 2-2 1 3 2 4 1-2 2 3 2 1 1 1 2-1 2-2 1 2 2 0 2-1 1 2 2-1 2 0 1 3 1 0 9 1 9 1 9 1 9 1 8 1 9 1 9 1 9 2 9 1 9 1 8-1 9 1 9 3 9 0 9 2 8-2 9 1 9 6 9 2 9 3 8 1 9 0 9 2 9 0 9 5 9 0 8 4 9 1 9 2 9 4 9 0 8 2 9 1 9 3 9 4 6-1 7 4 7 0 6 2 7 1 6-2 7 3 7 2 6-3 7 1 7-2 6 1 7-3 6 4 7-5 7-5 6-1 7-10 6-11 7-13 7-19 6-10 7 0 6-1 7-1 7-1 6 0 7 0 6 3 7 1 7-2 6 1 7 4 7 1 6 2 7-2 6 3 7 0 7-4 6-10 7 4 6-1 7 0 7-2 6 3 7 6 6-3 7 8 7 5 6 2 7 9 6 3 7 9 7 4 6 3 7 9 7 1 6 5 7-3 6 5 7 7 7 3 6 0 7 4 6-3 7 5 7-3 6 6 7-1 6 1 7 4 7 8 6-8 7 4 7 9 6-3 7 11 6-4 7 2 7 4 6 7 7-3 6 1 3-1 5-7 6 3 5 11 6-2 5-1 6 1 5-5 6 5 5-6 6 7 5-5 6 3 5 4 6-4 5 5 6 0 5-1 6 6 5-15 6-1 5 13 6 2 5 7 6-7 5 0 6-10 5 10 6 0 5-11 6 1 5 5 6 3 5-21 6 20 5 1 6-3 5 3 6 2 5-10 6 10 5-5 6-4 5 8 6 9 5-21 6-1 5 0 6 26 5-16 6 1 5-5 6-1 5-8 6 16 5 1 6-17 6 7 5 3 6 5 5 3 6 7 5 2 6-3 5 3 6-20 5 5 6 13 5-6 6-3 5-16 6 1 5 21 6-3 5-5 6-1 5-11 6 18 5 5 6 6 5-14 6-2 5-7 6 19 5 4 6-19 5 8 6-2 5-6 6-16 5 18 6 8 5-17 6 5 5-20 6 38 5-6 6-4 5-3 6-3 5 5 6-2 5 1 6 1 5 2 6 12 5-26 6 15 5-7 6-5 5-10 6 25 5-14 6 2 5 11 6-13 5 9 6-1 5 8 6 1 5-15 6 15 5-9 6 2 6-3 8 9 5-17"/>
<path stroke="#bcbd22" d="M180 2985l2-31 2-14 1 11 2-8 1-35 2 52 2 91 1 55 2 54 2 47 1-75 2-184 2-185 1-18 2 16 2 6 1 11 2 8 2 5 1 8 2 6 2 7 1 8 2 3 2 6 1 2 2 5 1 2 2 5 2 0 1 5 2 3 2-1 1 3 2 3 2 0 1 2 2 1 2 1 1 1 1-1 9 8 9 0 9 3 9 2 8-2 9 0 9 2 9-2 9 1 9 0 8 2 9-5 9 1 9-1 9 2 8-5 9 0 9 2 9-1 9 1 8 1 9-3 9 0 9-2 9-2 9 3 8-2 9-3 9 4 9-2 9-3 8 3 9 0 9 1 9-5 6-1 7 1 7-5 6-1 7-4 6-5 7-1 7-3 6-4 7-5 7-4 6-2 7-4 6-3 7-6 7-7 6-3 7-7 6-9 7-9 7-14 6-14 7-13 6-14 7-8 7-7 6 5 7-2 6 5 7 2 7 6 6 2 7 3 7 3 6 4 7 1 6 1 7 0 7 2 6-4 7 0 6 0 7-1 7 5 6-7 7 6 6 3 7 1 7-3 6 5 7 5 6 1 7-4 7 9 6-3 7 0 7 6 6-7 7 3 6 0 7 6 7-2 6 1 7-6 6 5 7-5 7 10 6-8 7 1 6 4 7 1 7 9 6-5 7 11 7 10 6 11 7-3 6 22 7-4 7 15 6 8 7 7 6-6 3 10 5 9 6-5 5 7 6 8 5 3 6 1 5 6 6-7 5 13 6 1 5-7 6 16 5-4 6-11 5 11 6-6 5 10 6-5 5 3 6 2 5-14 6 8 5 5 6 3 5-2 6-6 5 1 6 5 5-9 6 11 5-9 6-7 5 3 6 13 5-9 6 3 5-12 6 26 5-19 6 1 5-1 6 1 5 1 6 3 5-6 6-6 5 6 6-6 5 14 6-14 5 7 6-1 5-5 6 15 5-5 6-6 6 11 5-5 6-3 5 2 6-8 5 13 6-7 5-8 6 21 5-16 6-8 5 7 6 4 5 16 6-17 5 1 6-9 5 5 6 1 5 0 6 10 5-3 6 5 5-7 6 20 5-16 6 6 5-11 6-14 5 9 6 12 5-13 6 16 5-2 6-10 5 1 6 10 5-14 6 3 5 16 6-17 5 2 6-3 5-7 6 12 5-6 6-3 5 16 6-13 5 14 6-10 5 6 6-2 5-6 6 4 5 5 6-16 5 16 6-16 5 10 6-9 5 17 6-6 5 0 6 13 5-26 6 11 6 12 8-25 5 21"/>
<path stroke="#ff7f0e" d="M180 3173l2 4 2 7 1 10 2-2 1-13 2-10 2-2 1 20 2 37 2 6 1-9 2-18 2 8 1 19 2 0 2 0 1 0 2 0 2 0 1 0 2 0 2-110 1-186 2-186 2-185 1-133 2 29 1 26 2 27 2 22 1 20 2 15 2 19 1 15 2 8 2 17 1 10 2 12 2 9 1 7 1 5 9 35 9 19 9 8 9 8 8 7 9 3 9-1 9 1 9 4 9-1 8-2 9 1 9 0 9 3 9-2 8 0 9-1 9 1 9-1 9-2 8-1 9-1 9 6 9-2 9-3 9 7 8-8 9 0 9 4 9 1 9-2 8-3 9 5 9-3 9 2 6 0 7-2 7-5 6-4 7-1 6-7 7-2 7 1 6-9 7 0 7-1 6-6 7-5 6-3 7-3 7-4 6-7 7-9 6-5 7-11 7-10 6-19 7-10 6-11 7-9 7-9 6 6 7 2 6-1 7 7 7 1 6 4 7 6 7 0 6 5 7-1 6 3 7 0 7-4 6-3 7 2 6 2 7 0 7 1 6 3 7-3 6 0 7 6 7 1 6-5 7 4 6 7 7 4 7-1 6 2 7-4 7 2 6 0 7-2 6 2 7 2 7 2 6-4 7 4 6-3 7-5 7 7 6 1 7-4 6 11 7 7 7-3 6-3 7 3 7 9 6 8 7 2 6-4 7 6 7 7 6-7 7 8 6-2 3 3 5 8 6-7 5 8 6-14 5 14 6-6 5 6 6-2 5 9 6-11 5-3 6 8 5 5 6-2 5-2 6-3 5 1 6 5 5-6 6 15 5-14 6 9 5-3 6 7 5-5 6-2 5 5 6-15 5 1 6 15 5-3 6-12 5-7 6 18 5 5 6-1 5-2 6-12 5 9 6-4 5 3 6-2 5 4 6-6 5-6 6 16 5 11 6-15 5-6 6 1 5 14 6-17 5 6 6 8 5 0 6-12 6-7 5 15 6-17 5 13 6 1 5 0 6-11 5 16 6-1 5-19 6 21 5-16 6 9 5 5 6-5 5-1 6 1 5 2 6-2 5 8 6-21 5 13 6 11 5-33 6 21 5-3 6-8 5 12 6-7 5-11 6 18 5 11 6-9 5-3 6-8 5 9 6 0 5 3 6-14 5 13 6 1 5-2 6-10 5 15 6 0 5 1 6 3 5-7 6-8 5 7 6-8 5 7 6-5 5 14 6-24 5 2 6 12 5 0 6 4 5-3 6-7 5 12 6-4 5-9 6-8 5 19 6-11 6 1 8 3 5 3"/>
<path stroke="#d62728" d="M180 2873l2 36 2 14 1 2 2 14 1 9 2 31 2 61 1 64 2 64 2 62 1-271 2-271 2-256 1 30 2 33 2 25 1 22 2 22 2 22 1 22 2 13 2 15 1 11 2 16 2 12 1 9 2 11 1 9 2 8 2 8 1 3 2 10 2 4 1 9 2 3 2 1 1 3 2 2 2 8 1-2 1 4 9 12 9 6 9 3 9 2 8 1 9 1 9 2 9 1 9 0 9 0 8 0 9-1 9 0 9 1 9 0 8-2 9-1 9 0 9 4 9-3 8-2 9 0 9 3 9 0 9-1 9-1 8 1 9 0 9 2 9-1 9-3 8 0 9 0 9 3 9-3 6 2 7-3 7-4 6-2 7-5 6-4 7-5 7 0 6-4 7-2 7-6 6-3 7-5 6-2 7-4 7-5 6-5 7-6 6-12 7-12 7-15 6-12 7-14 6-10 7-16 7 0 6 2 7 2 6 2 7 3 7 6 6 1 7 5 7 3 6-1 7 7 6 1 7-1 7-2 6-1 7-5 6 3 7 3 7 0 6 0 7 1 6 3 7 2 7 0 6 1 7 2 6 0 7 4 7 2 6 3 7-2 7 4 6-3 7-6 6 9 7-4 7 2 6-4 7 9 6 1 7-2 7-7 6-2 7 6 6 2 7 6 7 7 6 8 7-4 7 12 6 6 7 3 6-1 7 10 7 12 6-4 7 12 6-1 3 2 5 9 6 10 5 0 6-5 5 6 6 3 5 1 6 0 5 6 6 3 5 0 6 0 5-3 6-2 5-1 6 6 5 7 6-15 5-1 6 12 5-2 6-14 5 7 6 7 5-10 6 15 5-7 6-2 5 8 6-7 5 0 6-1 5 0 6-5 5 17 6-20 5 13 6-9 5 7 6-8 5 8 6 5 5-6 6-1 5 1 6 6 5-14 6 8 5 8 6-3 5-1 6-7 5-5 6 19 5-12 6 0 6 6 5-4 6-7 5 13 6-12 5 4 6-1 5-6 6 12 5-16 6 19 5-5 6-8 5 9 6-16 5 38 6-26 5-2 6-4 5 13 6-9 5 12 6-3 5-5 6-12 5 4 6-1 5 20 6-11 5 4 6 0 5-17 6-2 5 8 6-18 5 23 6-2 5-1 6 13 5-4 6-7 5-2 6 5 5-3 6 6 5 8 6-14 5 12 6-4 5-7 6-1 5-6 6 12 5-10 6 5 5 13 6-1 5-13 6-4 5 16 6-13 5 7 6-21 5 33 6-28 5 18 6 5 6-13 8 10 5-1"/>
<path stroke="#7f7f7f" d="M180 3026l2-12 2 16 1-25 2 13 1-7 2 4 2 27 1 34 2 29 2 57 1 41 2 10 2-461 1-333 2 49 2 37 1 36 2 35 2 30 1 27 2 23 2 24 1 18 2 21 2 17 1 17 2 12 1 14 2 10 2 10 1 9 2 12 2 6 1 9 2 7 2 6 1 4 2 6 2 5 1 3 1 4 9 13 9 16 9 1 9 5 8 3 9 3 9-5 9 0 9 0 9-1 8 0 9 2 9-2 9 0 9 0 8-2 9 0 9-1 9-1 9 0 8-2 9-3 9 4 9-4 9 0 9 0 8-2 9 0 9-2 9 1 9-1 8-2 9 2 9-1 9 0 6 0 7-4 7-5 6-3 7-4 6-2 7-8 7-1 6-4 7-5 7-1 6-5 7-8 6-2 7-1 7-13 6-2 7-9 6-6 7-16 7-13 6-14 7-16 6-16 7-10 7-3 6-2 7 4 6 3 7 4 7 6 6 4 7 4 7 3 6 0 7 4 6 2 7 0 7-2 6 0 7-3 6-1 7 4 7-3 6 3 7 1 6 3 7 2 7 6 6-2 7 2 6-1 7 3 7 6 6 0 7-2 7 3 6 2 7-5 6 5 7 2 7 1 6-1 7-5 6 0 7 3 7-5 6 4 7 5 6-4 7 13 7 2 6 9 7-1 7 3 6 8 7-5 6 9 7 8 7-3 6 1 7 5 6 4 3-10 5 18 6-8 5-2 6 1 5 4 6 0 5-7 6 0 5 3 6 5 5 5 6-1 5 6 6-4 5-4 6 1 5-3 6-1 5 1 6-3 5 3 6 2 5 8 6-7 5 12 6 1 5-11 6-10 5 11 6-2 5-1 6 2 5-5 6 4 5 4 6 5 5-11 6 1 5 10 6-14 5-3 6 9 5-6 6 0 5-9 6 12 5 9 6 3 5-7 6-5 5 4 6-4 5 4 6-11 5 16 6-8 6-7 5 11 6 7 5-8 6 1 5-1 6 3 5 0 6-4 5 5 6-6 5-5 6-6 5 17 6-12 5-1 6 10 5 8 6-3 5-4 6 6 5-26 6 11 5 15 6-12 5 8 6-9 5-7 6 13 5-9 6 1 5 12 6-9 5-11 6 19 5 5 6-25 5 20 6-13 5-1 6 26 5-15 6 3 5-11 6-6 5 12 6-6 5 2 6 9 5-9 6-4 5 25 6-22 5 9 6-9 5 18 6-23 5 14 6-6 5 1 6-9 5 11 6-6 5 10 6-12 5-3 6 7 6 11 8-10 5-5"/>
<path stroke="#9467bd" d="M180 2761l2 31 2-9 1 8 2 21 1 14 2-14 2 52 1 89 2 75 2 75 1 75 2-37 2-280 1-281 2-134 2 19 1 18 2 13 2 16 1 12 2 6 2 15 1 8 2 11 2 7 1 8 2 5 1 5 2 10 2 1 1 7 2 2 2 3 1 3 2 7 2 1 1 2 2 0 2 5 1 1 1 2 9 7 9 4 9 3 9 1 8 4 9-2 9 0 9 3 9 0 9-1 8 1 9 1 9-1 9-2 9 4 8-1 9-3 9 2 9 1 9 1 8 3 9-2 9 0 9-1 9 4 9-2 8-1 9 3 9 1 9-2 9 0 8 2 9 2 9-5 9 5 6-4 7-4 7 3 6-6 7-2 6 2 7-7 7 1 6-6 7-1 7-1 6-7 7-1 6 1 7-7 7-3 6-4 7-6 6-2 7-14 7-5 6-10 7-12 6-8 7-11 7-1 6 3 7 1 6 0 7 4 7 3 6-1 7 4 7 1 6 2 7 1 6 4 7-1 7-3 6 0 7-3 6 2 7-1 7 2 6 5 7-2 6-1 7 5 7-1 6 2 7 2 6 4 7 0 7-5 6 7 7 2 7-6 6 1 7 3 6 2 7-6 7 8 6-2 7-2 6 5 7-9 7 10 6-5 7 5 6-8 7 11 7 0 6-3 7 6 7 10 6-11 7 2 6 2 7 1 7-8 6-2 7-3 6 0 3-11 5 0 6-3 5 8 6-14 5-1 6 8 5-15 6 3 5 3 6 11 5 1 6 6 5-27 6 8 5 11 6-14 5 15 6-13 5 14 6-9 5-4 6 6 5 14 6-8 5 8 6-19 5 6 6 5 5 3 6-7 5 1 6-4 5 2 6-3 5 10 6-4 5-3 6 4 5 1 6-8 5 1 6 4 5-14 6 8 5-1 6 11 5-15 6 10 5 2 6-11 5 23 6-32 5 10 6 24 5 5 6-19 6 5 5-12 6 5 5-3 6 11 5-4 6-10 5 11 6-20 5 30 6-27 5 3 6 15 5-6 6 6 5-8 6 19 5-37 6 28 5 14 6-13 5-7 6 4 5-7 6 8 5-9 6 6 5-4 6 0 5-7 6 3 5-10 6 10 5 2 6 4 5-4 6-3 5 3 6-3 5 6 6 7 5-13 6 8 5-5 6 1 5 11 6-26 5 14 6-8 5 1 6 2 5 5 6 7 5-14 6-2 5 13 6 10 5-3 6 0 5-10 6 7 5 0 6-22 5 20 6-14 5 24 6-14 6-5 8 9 5-2"/>
<path stroke="#1f77b4" d="M180 2788l2-8 2 6 1-41 2 6 1-21 2-18 2 31 1 23 2 14 2 8 1-19 2 37 2 22 1 14 2 29 2 56 1 68 2 74 2 68 1 64 2-80 2-246 1-246 2-203 2 16 1 16 2 14 1 10 2 14 2 10 1 13 2 5 2 9 1 6 2 7 2 6 1 5 2 7 2 3 1 4 1 4 9 13 9 10 9 6 9 4 8 4 9-4 9 3 9 0 9 2 9 0 8-2 9 1 9 1 9-1 9 1 8 1 9 3 9-1 9-1 9 0 8 1 9 2 9 1 9-3 9 1 9 1 8 0 9-2 9 3 9 1 9 0 8 2 9-2 9-1 9-2 6 2 7-2 7 0 6-4 7-4 6-2 7 1 7-5 6-1 7-1 7-4 6-5 7-3 6-2 7-1 7-4 6-6 7-3 6-6 7-10 7-9 6-7 7-8 6-12 7-6 7-1 6-2 7 3 6 1 7 6 7-2 6 2 7 5 7 5 6-1 7 2 6 1 7-1 7-3 6 2 7-3 6-2 7 2 7 1 6 0 7 2 6 0 7 2 7-1 6 7 7-5 6 1 7 6 7-1 6 0 7 6 7-6 6-1 7 1 6 1 7 2 7 1 6 2 7-5 6 3 7-5 7 2 6 3 7-3 6 10 7-5 7 1 6 3 7 7 7 6 6-11 7 6 6-5 7 6 7-7 6-9 7 2 6 2 3-1 5 6 6-6 5-9 6 7 5-6 6 10 5-12 6-2 5 5 6 8 5-9 6 10 5-7 6 1 5 6 6-1 5-3 6 7 5-13 6-11 5 18 6-3 5-2 6 8 5-20 6 11 5 10 6-6 5 6 6-6 5-10 6 0 5 9 6-10 5 19 6-16 5-6 6 10 5 5 6-4 5-1 6-2 5-9 6 14 5 4 6-13 5 11 6-16 5 14 6-9 5 14 6-17 5 1 6 7 5 2 6-2 6 8 5-6 6-2 5 16 6-6 5-6 6 1 5-17 6 4 5 28 6-30 5 21 6-5 5-7 6 25 5-24 6 15 5-18 6 8 5 0 6 0 5 7 6-7 5-13 6 12 5-16 6 27 5-4 6-1 5-9 6 6 5-23 6 13 5 7 6-21 5 21 6-5 5 6 6-8 5 17 6-12 5 11 6-3 5-18 6-8 5 16 6 5 5 1 6-8 5 24 6-20 5 14 6-28 5 19 6-6 5 11 6 12 5-27 6 1 5 4 6-2 5 3 6 0 5-5 6 5 5-2 6 13 6-16 8 12 5-2"/>
<path stroke="#2ca02c" d="M180 2706l2-21 2-34 1 2 2 13 1 29 2 11 2 1 1 5 2 35 2-37 1 11 2 15 2-10 1 31 2 24 2 91 1 87 2 71 2 94 1 91 2-177 2-230 1-230 2-156 2 32 1 31 2 30 1 23 2 30 2 19 1 22 2 19 2 14 1 17 2 13 2 14 1 12 2 7 2 10 1 12 1 3 9 35 9 19 9 15 9 6 8 5 9 0 9-1 9 3 9 2 9 0 8 0 9-1 9 1 9-1 9 0 8 0 9 0 9 0 9 2 9 0 8-1 9 0 9-2 9 1 9 4 9-5 8 1 9 3 9-1 9-1 9-2 8 1 9 0 9 2 9-3 6 0 7 1 7-6 6-2 7-5 6 1 7-6 7-4 6-4 7-2 7-5 6-2 7-5 6-4 7-3 7-6 6-6 7-5 6-8 7-7 7-13 6-14 7-15 6-13 7-10 7-3 6 4 7 1 6 1 7 4 7 4 6 1 7 7 7 2 6 3 7 1 6 2 7-1 7 0 6-2 7-6 6 3 7 4 7-2 6 2 7-2 6 8 7-1 7-2 6 4 7 3 6 5 7-4 7-1 6 4 7 3 7 1 6-1 7 1 6-1 7 2 7 3 6-6 7 3 6 1 7-5 7 4 6-2 7-1 6 0 7 12 7-7 6 12 7 2 7 8 6 1 7 4 6 4 7-2 7 5 6 10 7-13 6 11 3 3 5-6 6 11 5-8 6 7 5 5 6-12 5 2 6 6 5 1 6-11 5 13 6 4 5 0 6-7 5 0 6 1 5-2 6 1 5 7 6-7 5 4 6 2 5-5 6 3 5 0 6 22 5-22 6-9 5 5 6-9 5 4 6 7 5-11 6 13 5-3 6 3 5-2 6 10 5-4 6-15 5 15 6-11 5 3 6 5 5-4 6-10 5 2 6 9 5 9 6-9 5 5 6-7 5 3 6 0 5-7 6 13 6-10 5 11 6-10 5 2 6 1 5 2 6-3 5 7 6-10 5 8 6-1 5-9 6 6 5 5 6 1 5 6 6-10 5-12 6 20 5-11 6 6 5-11 6 11 5 20 6-25 5 3 6-9 5 6 6-1 5 0 6-10 5-6 6 22 5-10 6 4 5 10 6 4 5-9 6-7 5 13 6 0 5 0 6-24 5 11 6-3 5 6 6-2 5 3 6 0 5 0 6 3 5-2 6 9 5-7 6-4 5-19 6 27 5-6 6-2 5-6 6 6 5-3 6-12 5 12 6 3 5 5 6 0 6-7 8 2 5-3"/>
<path stroke="#9467bd" d="M180 2703l2-19 2-9 1-16 2 30 1 87 2 98 2 115 1 109 2 96 2-133 1-279 2-278 2-48 1 64 2 54 2 53 1 44 2 47 2 36 1 37 2 30 2 30 1 26 2 24 2 23 1 22 2 14 1 18 2 15 2 14 1 15 2 9 2 14 1 8 2 10 2 5 1 6 2 8 2 6 1 7 1 1 9 23 9 12 9 7 9 6 8 2 9 0 9 5 9-3 9-4 9 4 8-1 9 1 9-1 9-1 9 4 8 0 9-1 9-2 9 1 9-1 8 0 9-1 9 2 9-3 9 0 9-1 8 3 9-3 9 3 9-2 9 0 8 1 9-3 9 2 9-3 6 1 7-2 7-4 6-3 7-4 6-8 7-1 7-2 6-5 7-2 7-7 6-6 7-5 6-4 7-6 7-3 6-10 7-8 6-10 7-10 7-18 6-17 7-17 6-16 7-10 7-3 6 0 7 3 6 5 7 4 7 3 6 8 7 6 7 4 6 2 7 5 6 1 7 3 7-5 6-5 7 1 6-2 7 1 7 3 6 3 7 0 6 2 7 5 7 3 6 2 7-4 6 9 7 0 7 4 6 7 7-8 7 1 6 6 7-2 6 4 7-4 7-1 6 1 7 4 6-11 7 5 7 5 6 2 7 3 6 4 7 3 7 5 6 2 7 9 7 4 6 12 7 3 6 8 7 11 7 5 6 3 7 8 6 11 3-6 5 6 6 2 5-3 6 9 5 0 6-2 5 0 6 11 5-2 6 2 5 3 6 1 5 7 6-1 5-6 6-1 5 5 6-10 5 12 6-3 5-12 6 11 5-8 6 6 5 7 6-9 5-7 6 15 5-12 6 7 5 4 6-4 5-12 6 13 5 4 6-12 5 8 6 5 5-3 6-8 5 21 6-21 5 12 6-6 5-4 6-3 5-1 6 9 5 0 6-2 5-3 6 7 5 3 6-11 5 9 6-18 6-11 5 15 6 14 5 0 6-4 5-1 6 3 5-6 6 25 5-23 6-1 5-8 6-3 5 9 6 12 5 7 6-14 5 13 6-20 5 18 6-25 5 13 6 20 5-24 6 10 5-8 6 7 5 3 6-4 5-8 6 7 5-17 6 14 5 2 6 3 5 8 6-13 5 1 6 9 5 1 6-10 5 7 6-3 5-12 6 10 5-2 6-2 5 15 6-22 5-6 6 19 5-16 6-2 5 22 6 5 5-21 6-14 5 34 6-9 5-5 6 15 5-23 6-4 5 4 6 8 5-2 6-2 6 2 8-3 5 8"/>
<path stroke="#8c564b" d="M180 2780l2-31 2 37 1 9 2 4 1 7 2-5 2-1 1-8 2 34 2-7 1-14 2 46 2-46 1 44 2-9 2 14 1 56 2 79 2 93 1 78 2 35 2-211 1-205 2 19 2 16 1 20 2 14 1 8 2 14 2 9 1 12 2 8 2 11 1 6 2 8 2 2 1 9 2 4 2 6 1 6 1 0 9 17 9 10 9 5 9 4 8 3 9 1 9 2 9-1 9 1 9 0 8 1 9 0 9 0 9-3 9 3 8 1 9 0 9 0 9-4 9 3 8 1 9 1 9-1 9 2 9-3 9 3 8 0 9 0 9 3 9-3 9 1 8-2 9 1 9 1 9 1 6-3 7-2 7-1 6-5 7-4 6-6 7 1 7-10 6-1 7-2 7-3 6-5 7-5 6-4 7-5 7-6 6-4 7-7 6-4 7-17 7-15 6-12 7-17 6-14 7-13 7 0 6 1 7 5 6 1 7 3 7 7 6 0 7 4 7 4 6 4 7 3 6-1 7 1 7 0 6-6 7 2 6 4 7-3 7-1 6 5 7-1 6 3 7 3 7 2 6 4 7 1 6 3 7-1 7 3 6-1 7 1 7 7 6-1 7-3 6 3 7-5 7-1 6 7 7-7 6 0 7 5 7 2 6 2 7-6 6 8 7 3 7-2 6 9 7 8 7 3 6 10 7 0 6 6 7 6 7-8 6 8 7-1 6 7 3-10 5 2 6 8 5-1 6 4 5 2 6-5 5-6 6 7 5 0 6 9 5-6 6 10 5-5 6 1 5-7 6 10 5-5 6-7 5 1 6 6 5 0 6 18 5-24 6 7 5 6 6-6 5-2 6-5 5 9 6-1 5 6 6-10 5 16 6-24 5 2 6 5 5 2 6-1 5 12 6-11 5 6 6-10 5 19 6-19 5 5 6 3 5 4 6-14 5 12 6-10 5-12 6 10 5 8 6-2 5 2 6-1 6-13 5 2 6 16 5-15 6 1 5 17 6-10 5-1 6 1 5 0 6 5 5-2 6-12 5 13 6-4 5 4 6-10 5 1 6 6 5 0 6 3 5 9 6-8 5 2 6 1 5-24 6 17 5-13 6 24 5-15 6 11 5-5 6 7 5-5 6-2 5-12 6 16 5-18 6 7 5 9 6-2 5 11 6-6 5 3 6-19 5 13 6-8 5-3 6 2 5-9 6 14 5 4 6 10 5-17 6 0 5-4 6 18 5-15 6-6 5 4 6 14 5-4 6-16 5 21 6 7 5-21 6 14 6-9 8-5 5 6"/>
<path stroke="#8c564b" d="M180 3042l2-16 2-2 1 10 2 8 1 19 2-23 2 23 1-42 2-8 2 30 1 24 2 15 2 55 1 55 2-76 2-382 1-306 2 29 2 25 1 21 2 21 2 17 1 20 2 16 2 14 1 13 2 11 1 9 2 11 2 12 1 6 2 6 2 7 1 7 2 6 2 6 1 2 2 6 2 3 1 3 1 1 9 14 9 7 9 6 9 4 8-2 9 5 9 0 9 0 9 1 9 0 8-3 9 1 9-1 9 2 9-1 8-2 9-1 9 2 9 1 9-2 8-1 9 1 9 1 9-2 9 0 9-2 8 0 9 1 9-2 9 1 9-2 8 4 9-2 9-1 9 1 6-2 7 0 7-5 6-3 7-3 6-1 7-4 7-2 6-2 7-5 7 3 6-7 7-6 6 1 7-9 7-2 6-5 7-1 6-10 7-9 7-9 6-11 7-12 6-12 7-8 7 2 6-1 7 3 6-1 7 5 7 3 6 4 7 0 7 2 6 3 7-2 6 4 7 0 7 2 6-7 7 3 6 1 7-2 7-1 6 1 7 4 6-1 7 3 7 2 6 1 7-3 6 1 7 5 7 1 6 0 7 5 7 0 6-2 7-1 6 3 7-2 7-3 6 6 7-4 6-2 7 1 7-2 6 7 7 1 6-6 7 14 7 0 6 4 7-8 7 21 6 5 7-3 6 0 7-1 7 2 6 0 7 5 6 9 3 0 5 2 6 8 5-8 6-4 5 10 6-1 5 0 6-2 5 8 6-2 5 7 6-5 5-7 6 4 5 9 6-10 5 0 6 10 5-7 6-7 5 0 6 7 5 3 6-1 5-4 6-9 5 18 6-6 5-3 6 4 5-12 6 2 5 7 6-3 5 8 6-6 5 1 6 3 5-1 6-1 5-2 6 0 5 5 6-8 5-4 6 2 5 14 6-11 5 5 6 0 5 12 6-19 5 14 6-15 5 11 6 8 6-4 5-7 6 12 5-22 6 8 5-3 6 14 5-10 6 0 5 6 6-15 5 25 6-24 5 6 6 1 5 6 6 2 5-10 6-4 5 16 6 2 5-11 6-23 5 33 6 4 5-28 6 8 5 14 6-2 5-7 6-15 5 18 6 3 5-13 6 8 5-1 6 3 5-8 6 22 5-28 6 9 5 10 6-4 5-8 6-5 5 2 6 12 5-3 6-9 5-10 6 22 5-5 6 8 5-28 6 26 5-11 6 9 5-9 6 6 5-15 6 22 5 1 6-11 5-14 6 28 5-2 6-7 6 6 8-17 5 25"/>
<path stroke="#7f7f7f" d="M180 3145l2-17 2-17 1-16 2-24 1 18 2 7 2-1 1 5 2 17 2-12 1-4 2 27 2-4 1 6 2-14 2 23 1 50 2 6 2 17 1 18 2-381 2-408 1-6 2 37 2 33 1 33 2 28 1 27 2 24 2 23 1 17 2 19 2 17 1 16 2 11 2 14 1 15 2 6 2 8 1 12 1 4 9 32 9 19 9 13 9 4 8 8 9 3 9 2 9 0 9 1 9 0 8 0 9 1 9-1 9 3 9 1 8-4 9 4 9 1 9-4 9 4 8-2 9 3 9-3 9 3 9-3 9 4 8 2 9-4 9 1 9 0 9 1 8 0 9-1 9 2 9 0 6-1 7-3 7-1 6-2 7-1 6-4 7-8 7 2 6-5 7-2 7-5 6-2 7-4 6-4 7-7 7-1 6-7 7-5 6-7 7-13 7-9 6-14 7-11 6-14 7-7 7-4 6 4 7-1 6 3 7 2 7 5 6 3 7 0 7 6 6 4 7 3 6 0 7-1 7-3 6-2 7 1 6 4 7-1 7 0 6 2 7-1 6 3 7 2 7 0 6-3 7 3 6 4 7 2 7 2 6 0 7 4 7-1 6-3 7 3 6-2 7 1 7 6 6-3 7-4 6 5 7 5 7-9 6 0 7 6 6-4 7 1 7 8 6-3 7 7 7 5 6 1 7-1 6 11 7-16 7 8 6-4 7 0 6-11 3 5 5-3 6 4 5-9 6-4 5 1 6 3 5-1 6 2 5 0 6 1 5 3 6 5 5-5 6-3 5 1 6-2 5 6 6-4 5 8 6-12 5 12 6-1 5-9 6 0 5 0 6 1 5 2 6-8 5 11 6-7 5 3 6-2 5 10 6-9 5-6 6 14 5-9 6 1 5 2 6-4 5 5 6-9 5-1 6 19 5-6 6-5 5-10 6 5 5 11 6-16 5 2 6 5 5 1 6 14 5-13 6 3 6 1 5-3 6-8 5 12 6-15 5 2 6 3 5 12 6-10 5-13 6 28 5-8 6-2 5 4 6-15 5-2 6 15 5-5 6 1 5-12 6 11 5 9 6-17 5 5 6 6 5 1 6 0 5 12 6-10 5 4 6-13 5 3 6-11 5 16 6 5 5-17 6 24 5-14 6-5 5-11 6 5 5 8 6-8 5 3 6 7 5-9 6 2 5 7 6-14 5-5 6 28 5-17 6 10 5-11 6 6 5 12 6-5 5-16 6 2 5 5 6-5 5 9 6-10 5 2 6 18 5-6 6-18 6 22 8-17 5 12"/>
<path stroke="#ff7f0e" d="M180 2910l2-2 2-5 1-2 2-8 1 7 2 8 2 2 1-6 2 5 2 27 1 16 2-35 2-9 1 11 2 42 2 83 1 30 2 73 2 45 1 15 2-150 2-89 1 11 2 11 2 9 1 9 2 10 1 7 2 7 2 5 1 8 2 6 2 5 1 0 2 6 2 6 1 2 2 3 2 3 1-1 1 8 9 8 9 3 9 5 9 1 8 2 9 1 9-1 9 2 9-4 9 1 8 2 9-4 9 3 9 0 9-1 8-1 9 3 9-3 9-2 9 1 8-3 9-2 9 1 9-2 9 5 9-2 8-2 9-1 9 4 9-3 9-3 8 0 9 0 9 0 9 1 6 0 7-6 7-3 6-1 7-6 6-6 7-2 7-6 6-3 7-4 7-1 6-4 7-10 6-4 7-8 7-3 6-7 7-6 6-8 7-16 7-13 6-16 7-17 6-14 7-15 7-5 6 3 7 3 6 7 7 0 7 8 6 6 7 3 7 2 6 4 7 4 6 0 7 4 7-6 6-5 7-2 6 5 7 0 7 2 6 2 7 0 6 5 7 2 7 8 6-1 7-2 6 3 7 5 7 5 6 0 7 2 7-5 6 2 7 2 6 4 7-6 7 1 6-2 7 0 6 2 7-2 7 3 6 2 7 1 6 3 7 6 7 8 6 10 7 3 7 12 6 2 7 16 6 4 7 9 7 3 6 12 7 11 6 6 3 6 5 2 6 7 5-5 6 7 5 8 6 6 5-2 6 4 5 12 6-13 5 4 6 13 5 0 6-7 5 6 6 3 5-11 6 3 5 6 6 5 5-8 6-6 5 6 6 2 5-3 6-8 5 7 6-4 5 12 6 3 5-12 6-1 5 9 6-8 5 8 6 10 5-14 6-15 5 14 6-1 5 0 6 2 5 12 6-10 5 0 6-1 5 0 6-11 5 11 6-5 5-8 6 7 5-11 6 14 5 5 6-9 6 27 5-20 6 2 5 7 6-15 5-1 6 2 5 10 6-4 5-10 6 12 5-16 6 16 5 5 6-7 5-8 6 0 5 12 6-3 5-6 6 3 5-5 6-1 5-13 6 21 5-1 6 0 5-8 6 8 5 9 6-22 5 3 6 0 5 7 6-7 5 13 6-7 5 0 6 1 5 3 6 6 5-16 6-6 5 26 6-14 5 0 6-1 5 2 6-7 5-3 6 17 5-6 6-3 5 13 6-1 5-5 6-4 5-17 6 24 5 4 6-5 5-30 6 18 5 10 6 3 5-9 6-8 6 20 8-9 5-13"/>
<path stroke="#9467bd" d="M180 2849l2 6 2-3 1-4 2 9 1 52 2 81 2 63 1 73 2 69 2-116 1-321 2-321 2-2 1 48 2 41 2 39 1 34 2 30 2 28 1 28 2 24 2 20 1 19 2 18 2 18 1 12 2 20 1 6 2 10 2 14 1 6 2 9 2 7 1 4 2 8 2 7 1 3 2 6 2 4 1 5 1 3 9 15 9 6 9 8 9 1 8 3 9 0 9 3 9 1 9-3 9 1 8 0 9 1 9-3 9 0 9 3 8-3 9 0 9 1 9-2 9 0 8-1 9-2 9 3 9-4 9 0 9 2 8-6 9 4 9-1 9-2 9 0 8 1 9-1 9-1 9-1 6 0 7-2 7-3 6-3 7-4 6-7 7 1 7 0 6-8 7-1 7-7 6-3 7-2 6-7 7-3 7-7 6-3 7-6 6-9 7-12 7-15 6-11 7-12 6-18 7-6 7-9 6 4 7 3 6 5 7 3 7 2 6 5 7 3 7 4 6 4 7 0 6 3 7 1 7 0 6-5 7-1 6-3 7 5 7-3 6 7 7 1 6-4 7 2 7 10 6-5 7 1 6 4 7-1 7 5 6 1 7 3 7-6 6 0 7 4 6-1 7 2 7-6 6 11 7-1 6-4 7 5 7-3 6 5 7-2 6 10 7-10 7 4 6 8 7 4 7 19 6-5 7 7 6 6 7 5 7-8 6 17 7-1 6-1 3 2 5 5 6 9 5-7 6 6 5-5 6 2 5 4 6 7 5-4 6 5 5 6 6-12 5 7 6-5 5 1 6 11 5-4 6-1 5-6 6 6 5 7 6-12 5 12 6-9 5-7 6 13 5-5 6 5 5-14 6 6 5 2 6 9 5-20 6 21 5-7 6-13 5 13 6-2 5 3 6 3 5-2 6-1 5 2 6-13 5 6 6-1 5 4 6 15 5-20 6-1 5-5 6-1 5 11 6-2 5 7 6-10 6 10 5-4 6 3 5-15 6-3 5 15 6-5 5-2 6 12 5 1 6-12 5 8 6-14 5 3 6 12 5 3 6 2 5-1 6-3 5-2 6 0 5-14 6 6 5 7 6-2 5-9 6 15 5-24 6 11 5 7 6 12 5-6 6-5 5 12 6-24 5 10 6 7 5-11 6 2 5 10 6-2 5-28 6 25 5 7 6-7 5-5 6 13 5-12 6 4 5-9 6 8 5-5 6 1 5 3 6-1 5-9 6 17 5-12 6 18 5-9 6 2 5-9 6-7 5 31 6-16 5-6 6-2 6 18 8-11 5-20"/>
<path stroke="#bcbd22" d="M180 2704l2-4 2 1 1-39 2-9 1-7 2-4 2 27 1-15 2 77 2 120 1 108 2 109 2 116 1-167 2-353 2-252 1 34 2 25 2 27 1 25 2 21 2 21 1 18 2 14 2 17 1 13 2 13 1 13 2 9 2 10 1 5 2 11 2 6 1 7 2 5 2 7 1 3 2 3 2 6 1 3 1 2 9 15 9 10 9 4 9 7 8 0 9-2 9 0 9 4 9 0 9 0 8 1 9-1 9-2 9 0 9 0 8 0 9-1 9-1 9-1 9 3 8 1 9 2 9 0 9-4 9 2 9 0 8-1 9-2 9 3 9 0 9 0 8 0 9-1 9 2 9 0 6-2 7-2 7-3 6-1 7-3 6-5 7-1 7-2 6-6 7 0 7-3 6-6 7 0 6-4 7-4 7-6 6-4 7-4 6-7 7-12 7-8 6-12 7-10 6-10 7-13 7 1 6 0 7 3 6 3 7-1 7 8 6 3 7-3 7 7 6 0 7 4 6 0 7-1 7-2 6-3 7-1 6 1 7 1 7 4 6 0 7-4 6 3 7 8 7-2 6 0 7 3 6-1 7 5 7-1 6 1 7 1 7 2 6-1 7-5 6 5 7-6 7 8 6-3 7-6 6 4 7 4 7-3 6 2 7 5 6 5 7-4 7 8 6-3 7 6 7 0 6 4 7 10 6-11 7 5 7-1 6-3 7-6 6 0 3 3 5 8 6-4 5-8 6 1 5-8 6 3 5 6 6-6 5 3 6 5 5 3 6 9 5-10 6-4 5 5 6 7 5-6 6 0 5-6 6 3 5 4 6-9 5 7 6 8 5-7 6-4 5 1 6 9 5-11 6-8 5 0 6 17 5-1 6-1 5 1 6-3 5 1 6-8 5-3 6 17 5-19 6 22 5-5 6-1 5 2 6-17 5 4 6 2 5 13 6-13 5 4 6-2 5-1 6-9 5 13 6 0 6-3 5 0 6 6 5-7 6 7 5-8 6 5 5-12 6 6 5 6 6-5 5-1 6 1 5-4 6 9 5 6 6 2 5-12 6-5 5 2 6 4 5 2 6-3 5 7 6-10 5 6 6-3 5-8 6 0 5 21 6-1 5 1 6 6 5-8 6 3 5-19 6 7 5-6 6 10 5-22 6 12 5 6 6-17 5 27 6-20 5 12 6-14 5 9 6 9 5 0 6-22 5 14 6 0 5-2 6 5 5 10 6-12 5 11 6-21 5 20 6-12 5-4 6 9 5-5 6 4 5 2 6-7 6-4 8 13 5 10"/>
<path stroke="#bcbd22" d="M180 2553l2 27 2 24 1 17 2 13 1-6 2-23 2-2 1 124 2 111 2 114 1 105 2 109 2 49 1-38 2-37 2-37 1-11 2 7 2 5 1 5 2 6 2 6 1 3 2 6 2 3 1 2 2 5 1 3 2 0 2 4 1 0 2 4 2 0 1 3 2 3 2 2 1-2 2 3 2-1 1 2 1 0 9 4 9 5 9-3 9 2 8 2 9-2 9-3 9 1 9 3 9 1 8-1 9 3 9-4 9 2 9 0 8 1 9-1 9-3 9 2 9 2 8-1 9 1 9-2 9 2 9-1 9-1 8 4 9-2 9 1 9 0 9-3 8 1 9 0 9 2 9-3 6 2 7-4 7 3 6-1 7 0 6 0 7-3 7-2 6-3 7-3 7-5 6-2 7-7 6-6 7-3 7-9 6 0 7-6 6-1 7-6 7-8 6-10 7-4 6-4 7 3 7-3 6 3 7 8 6 6 7 5 7-1 6 3 7-4 7 3 6-4 7 1 6 2 7-3 7 4 6-5 7 1 6 3 7 1 7-2 6-1 7 3 6-3 7 2 7-4 6 2 7-2 6 2 7 1 7 4 6-4 7 0 7-5 6 5 7-4 6 1 7 2 7 0 6 6 7-2 6-2 7-1 7 3 6-2 7-2 6-7 7 8 7-3 6 2 7 2 7 3 6 7 7 6 6 3 7 7 7 7 6 10 7 1 6 9 3 3 5-6 6 8 5 4 6 7 5 0 6-9 5-1 6 1 5 6 6-15 5 2 6 7 5 5 6-5 5 3 6-10 5 9 6-9 5 6 6 8 5 0 6-1 5-1 6 1 5-19 6 16 5-7 6 8 5-2 6 0 5 13 6-14 5 0 6 8 5-13 6 11 5-13 6 2 5 5 6-7 5-5 6 7 5-6 6 10 5 0 6-8 5-2 6 8 5 0 6-6 5 0 6 0 5 16 6-10 5 3 6 7 6 8 5-22 6 2 5 5 6-9 5 4 6 3 5 11 6 1 5-10 6-9 5 6 6 9 5-8 6-16 5 8 6 25 5-9 6-13 5 10 6-13 5 3 6 7 5 0 6-4 5 13 6-21 5 11 6 1 5 4 6-4 5 5 6-1 5-9 6 5 5-10 6 18 5-7 6 6 5-12 6 1 5 8 6-10 5 19 6-10 5-12 6 4 5-3 6 13 5-12 6 2 5 15 6-5 5-12 6 31 5-20 6-1 5 2 6-5 5-5 6-8 5 4 6 3 5-2 6 5 5 0 6 22 6-4 8-30 5 16"/>
<path stroke="#2ca02c" d="M180 3063l2-1 2-6 1-15 2-30 1 59 2 65 2 24 1 33 2 33 2-25 1-38 2-39 2-18 1 6 2 11 2-1 1 8 2 5 2 3 1 3 2 2 2 6 1-1 2 5 2 3 1 2 2 4 1-3 2 4 2 0 1 3 2 1 2 1 1 5 2-3 2 2 1-2 2 2 2 2 1 2 1-2 9 4 9-1 9 1 9 3 8-2 9 0 9 2 9-1 9 0 9 1 8 0 9-2 9-1 9 2 9-1 8 2 9-3 9 3 9-3 9 0 8 2 9 0 9-2 9 1 9 1 9 1 8 1 9-3 9 2 9-1 9-1 8 0 9 0 9 1 9-2 6 4 7-3 7 0 6 1 7-1 6 3 7-3 7-2 6-7 7-1 7-1 6-8 7-3 6-7 7-2 7-6 6-4 7-6 6-4 7-1 7-8 6-9 7-5 6-3 7-2 7 3 6 6 7 0 6 11 7 2 7-2 6 3 7-3 7 0 6 1 7 2 6-2 7 2 7-6 6 4 7-1 6-2 7 3 7 0 6-2 7 1 6-2 7 5 7-1 6-3 7 1 6-1 7 4 7-2 6-5 7 5 7 0 6 0 7-2 6 7 7-4 7-1 6 1 7 3 6-3 7-1 7 0 6-2 7 4 6-5 7 1 7 2 6 1 7 2 7-2 6 7 7 1 6 21 7 2 7 0 6 10 7 3 6 1 3 5 5-2 6 7 5-6 6 4 5 2 6 10 5-12 6-4 5 11 6-11 5 0 6 3 5-8 6 11 5-1 6-2 5-2 6-4 5 10 6-8 5-4 6 8 5 1 6-2 5 4 6-7 5-8 6 11 5-3 6 4 5 1 6 2 5-10 6 15 5-11 6-11 5 18 6-2 5 5 6 7 5-22 6 16 5-6 6-6 5 14 6-11 5 6 6-2 5-11 6 5 5 12 6-10 5 10 6-6 5-9 6 11 6-2 5 4 6-2 5-7 6-4 5 11 6-14 5 12 6-3 5 4 6-5 5 4 6-13 5 9 6 9 5-11 6 5 5-6 6 7 5 2 6-4 5-16 6 5 5 16 6 10 5-28 6 13 5 3 6 4 5-6 6-7 5 1 6-9 5 13 6-2 5 16 6-4 5 4 6-23 5 17 6-12 5-1 6-2 5-3 6 1 5 21 6-5 5-24 6 18 5-2 6 4 5 4 6-14 5 8 6-3 5 11 6 2 5 11 6-16 5-1 6-3 5-4 6 4 5-1 6-4 5 17 6-14 6 2 8-1 5 4"/>
<path stroke="#2ca02c" d="M180 2786l2-13 2 29 1 6 2 14 1 8 2-9 2-4 1 11 2 0 2-37 1 95 2 80 2 77 1 86 2 78 2-141 1-232 2-232 2-160 1 62 2 55 2 55 1 48 2 42 2 38 1 35 2 34 1 30 2 25 2 25 1 25 2 18 2 19 1 17 2 14 2 16 1 12 2 13 2 9 1 8 1 9 9 34 9 21 9 14 9 8 8 6 9 3 9 3 9 1 9-3 9 2 8 4 9-3 9 1 9 1 9-2 8 1 9 0 9 0 9-1 9 3 8 1 9 0 9-5 9 1 9 2 9 1 8 0 9-2 9 0 9 3 9 0 8-1 9 1 9-2 9 3 6-3 7-2 7-5 6-3 7-5 6-6 7-2 7-8 6-3 7-6 7-2 6-6 7-5 6-5 7-6 7-6 6-9 7-10 6-12 7-13 7-17 6-17 7-20 6-19 7-11 7-4 6 0 7 6 6 4 7 4 7 7 6 4 7 9 7 4 6 3 7 6 6-1 7 3 7-5 6-8 7 2 6 0 7 3 7 4 6 0 7-2 6 6 7 2 7 1 6 7 7 2 6 2 7 4 7-3 6 4 7 3 7 5 6-3 7 2 6 1 7-3 7-4 6 4 7 0 6-2 7 5 7 2 6-7 7 2 6 14 7-2 7 5 6 15 7 7 7 10 6 0 7 13 6 5 7 7 7 5 6 7 7 1 6 13 3 1 5 4 6-6 5 10 6 2 5 3 6 2 5-2 6 5 5 4 6 3 5-3 6 6 5 2 6-3 5-10 6 11 5-8 6 2 5-1 6 4 5 7 6-7 5 6 6-7 5 7 6-8 5 5 6-4 5 5 6-5 5 9 6-11 5 5 6 8 5 0 6 2 5-10 6 8 5-8 6 2 5 11 6-19 5 13 6 0 5-9 6 8 5 3 6-19 5 18 6-4 5 7 6-11 5-8 6 13 5-1 6 3 6-8 5-7 6 10 5-5 6-3 5 6 6-3 5 0 6 2 5 11 6-13 5 0 6 6 5 3 6 11 5-23 6 12 5-13 6 21 5-19 6 19 5-8 6-20 5 21 6-9 5 3 6-4 5 24 6-10 5 4 6-11 5-7 6 0 5 7 6-13 5 12 6-14 5 8 6 2 5 1 6 25 5-24 6-11 5 18 6-21 5 14 6 7 5 6 6-5 5-17 6 17 5-8 6-1 5 12 6-14 5 4 6 1 5-9 6-8 5 30 6-15 5 8 6-12 5 7 6-23 5 29 6-6 6-16 8 13 5-8"/>
<path stroke="#8c564b" d="M180 2720l2-13 2-16 1-31 2-28 1-13 2-11 2-28 1-12 2-16 2 24 1 129 2 113 2 131 1 149 2 129 2-185 1-193 2-194 2 2 1 27 2 25 2 23 1 17 2 18 2 16 1 17 2 16 1 10 2 12 2 13 1 8 2 11 2 9 1 5 2 7 2 5 1 4 2 8 2 1 1 5 1 1 9 18 9 8 9 6 9 0 8 8 9 0 9-2 9 1 9 1 9-2 8 2 9-3 9 4 9-4 9 2 8 0 9 0 9-1 9 1 9 0 8-1 9 0 9 0 9-1 9 0 9 0 8-2 9 5 9-1 9-5 9 2 8-1 9 1 9-1 9 2 6-1 7-4 7-4 6-3 7-3 6-4 7-1 7-3 6-5 7-3 7-6 6-2 7-6 6-1 7-6 7-7 6-4 7-10 6-4 7-15 7-10 6-17 7-14 6-15 7-10 7-4 6 3 7 1 6 4 7 7 7 2 6 2 7 4 7 3 6 5 7-2 6 4 7 4 7-4 6-7 7 3 6-3 7 3 7 1 6 3 7 4 6 2 7 3 7 0 6 0 7 1 6 5 7 1 7 1 6-3 7 5 7-4 6 3 7-1 6-1 7 3 7 1 6-1 7 1 6 0 7 0 7-3 6 6 7-5 6 13 7-2 7 7 6-4 7 9 7 8 6 4 7 6 6 1 7 7 7 7 6-4 7 6 6 5 3 0 5 0 6 9 5-5 6 1 5 6 6-2 5 2 6-1 5 5 6 0 5 4 6 5 5-8 6 4 5 3 6-5 5 1 6-1 5-4 6 10 5-8 6 3 5-12 6 15 5 2 6 0 5-11 6 10 5 10 6-18 5-5 6 10 5 6 6 3 5-12 6-1 5 0 6 10 5-9 6 1 5 1 6-5 5-2 6-4 5 8 6 5 5-14 6 10 5 2 6 11 5-23 6 19 5-2 6-8 5 14 6-12 6-9 5 2 6 12 5-2 6-10 5-7 6 17 5-15 6 13 5-9 6 5 5 21 6-24 5 2 6 13 5-20 6-1 5 8 6-6 5 20 6-13 5 11 6-4 5-13 6 4 5-3 6 19 5-10 6 8 5-20 6 15 5 2 6 1 5-13 6 14 5-20 6 21 5-20 6 12 5-3 6 1 5 2 6-7 5 17 6-4 5-13 6-7 5 10 6-3 5 1 6 0 5 4 6 23 5-16 6-6 5 9 6-23 5 14 6 6 5-26 6 17 5-4 6 14 5 3 6-27 5 7 6 10 6-10 8 20 5-10"/>
<path stroke="#9467bd" d="M180 2875l2 28 2-23 1 4 2 9 1-20 2-7 2-11 1 12 2-4 2-10 1 71 2 51 2 89 1 70 2 78 2-14 1-45 2-44 2-44 1-3 2 1 2-2 1 3 2 1 2 2 1-1 2 3 1 2 2 0 2-1 1 1 2 1 2 2 1-5 2 4 2-1 1 1 2 3 2-2 1-1 1 1 9 1 9 0 9 0 9-2 8 1 9 0 9-2 9 2 9 0 9-2 8 5 9-6 9 0 9 0 9 3 8-4 9-2 9 3 9 1 9-2 8-2 9 0 9 0 9-1 9 0 9 0 8-1 9-1 9 1 9 0 9-1 8 0 9 0 9-2 9 1 6-6 7 3 7-6 6-2 7-6 6-3 7-3 7-7 6-1 7-4 7-1 6-7 7-8 6-2 7-6 7-5 6-6 7-8 6-11 7-12 7-15 6-14 7-15 6-16 7-8 7-6 6 1 7 5 6 2 7 7 7 6 6 0 7 5 7 5 6 5 7 0 6 8 7-5 7-1 6-4 7-2 6-2 7 1 7 6 6 1 7-1 6 3 7 3 7 5 6-2 7 1 6 3 7 4 7-1 6-1 7 9 7 1 6 1 7-3 6 3 7-6 7 2 6 3 7-4 6 2 7-4 7 6 6-2 7 9 6-2 7 7 7 1 6 11 7 5 7 7 6 3 7 1 6 9 7 7 7 3 6 2 7-2 6 8 3 0 5-2 6 5 5-7 6 7 5-9 6 18 5-6 6 0 5 1 6 15 5-12 6 14 5-9 6 1 5-8 6 17 5-14 6-3 5 7 6-9 5 5 6-6 5-3 6 24 5-13 6 3 5 4 6-14 5 6 6 2 5 2 6 10 5-7 6-11 5 0 6 10 5-11 6-2 5 4 6 1 5 6 6 0 5-1 6-5 5 10 6-12 5 14 6 1 5-7 6 0 5 0 6-11 5 6 6 0 5-3 6 19 6-13 5 1 6-6 5 5 6-10 5-4 6 20 5-13 6-3 5 8 6-2 5 23 6-13 5-17 6 18 5-7 6 11 5-6 6 0 5-27 6 31 5-4 6-1 5-11 6-5 5 4 6 9 5 6 6-19 5 11 6-4 5 11 6-11 5 32 6-16 5 8 6-11 5-4 6-1 5-5 6-5 5 2 6 4 5 1 6 7 5-6 6-22 5 10 6 26 5-7 6 0 5-14 6 3 5 2 6 1 5 18 6-18 5 5 6-10 5 7 6-8 5 7 6 7 5-1 6-21 5 18 6-4 6-11 8 22 5-19"/>
<path stroke="#bcbd22" d="M180 2947l2-2 2 2 1-24 2-39 1 15 2 4 2-20 1 16 2-6 2-17 1 26 2 22 2-6 1 37 2 64 2 37 1 46 2 65 2 63 1-177 2-179 2-180 1-179 2-97 2 23 1 18 2 16 1 17 2 11 2 11 1 11 2 14 2 8 1 11 2 7 2 7 1 5 2 7 2 7 1 2 1 6 9 17 9 12 9 5 9 7 8 1 9 2 9 2 9 3 9-1 9 0 8-1 9 2 9-1 9 3 9-1 8 1 9 0 9 1 9 2 9 2 8-1 9 1 9-2 9 4 9-2 9 0 8 2 9 1 9 0 9 0 9 2 8-1 9 1 9 0 9 1 6 0 7-3 7 1 6-8 7 2 6-2 7-2 7-4 6-2 7-4 7-3 6-4 7-2 6-5 7-4 7 0 6-5 7-4 6-9 7-10 7-8 6-8 7-17 6-7 7-7 7 0 6-2 7-1 6 3 7 2 7 3 6 5 7 1 7 3 6-1 7 8 6-3 7-2 7 0 6 0 7-2 6 1 7 5 7-5 6 4 7-6 6 7 7 0 7 4 6 0 7-1 6 3 7 1 7 1 6-1 7 0 7 1 6 1 7-1 6 5 7-6 7-2 6 2 7 1 6 2 7 3 7-2 6 4 7-2 6 2 7 6 7-1 6 5 7 0 7 0 6 4 7 10 6-5 7-10 7 5 6 7 7-4 6 6 3-2 5-4 6 9 5-9 6 10 5-8 6 1 5-1 6-6 5 4 6 5 5-6 6 12 5-5 6 0 5-1 6-13 5 16 6 2 5 7 6-7 5-4 6 1 5-4 6 2 5-9 6 10 5 9 6-7 5-9 6 4 5 10 6 1 5-17 6 3 5 5 6 5 5-3 6 1 5 5 6-3 5-13 6 12 5-6 6 0 5 3 6-1 5 0 6 8 5 8 6-17 5 5 6-9 5-4 6 0 5-1 6 10 6-1 5 12 6-8 5 1 6-7 5-1 6 11 5-4 6 3 5 1 6-15 5 7 6 15 5-7 6 10 5-17 6 6 5 8 6 13 5-20 6-11 5 5 6-6 5 2 6 5 5-6 6 8 5-17 6 15 5-8 6 4 5 16 6-17 5 5 6 4 5 4 6-1 5-11 6-3 5 14 6 3 5-21 6 18 5-8 6 5 5-11 6 14 5 1 6-26 5 30 6-11 5-11 6 17 5-17 6 16 5 5 6-16 5-2 6-8 5 9 6 20 5-24 6 21 5-5 6-10 5 8 6-4 6 1 8 4 5-1"/>
<path stroke="#8c564b" d="M180 2514l2 47 2-14 1 18 2 6 1 38 2 5 2 13 1 81 2 103 2 142 1 113 2 111 2-109 1-316 2-317 2 34 1 56 2 49 2 45 1 42 2 40 2 33 1 27 2 32 2 26 1 26 2 20 1 19 2 19 2 14 1 14 2 17 2 10 1 12 2 12 2 10 1 4 2 9 2 7 1 9 1 3 9 22 9 15 9 8 9 5 8 4 9 2 9-1 9 0 9 3 9-3 8 0 9 3 9-3 9-2 9 0 8-1 9 2 9 1 9-4 9 1 8-3 9-1 9 0 9 1 9 1 9-1 8-3 9-1 9 3 9-3 9 0 8-1 9-4 9 2 9 0 6 0 7-5 7-4 6-2 7-6 6-7 7-3 7-2 6-6 7 1 7-7 6-6 7-6 6-6 7-8 7-6 6-8 7-9 6-12 7-12 7-14 6-20 7-18 6-17 7-10 7-7 6 0 7 6 6 3 7 6 7 6 6 4 7 6 7 4 6 4 7 3 6 7 7-1 7-7 6-4 7-5 6 4 7 1 7 4 6 2 7 1 6 5 7 4 7 1 6 2 7-3 6 7 7 6 7-7 6 6 7 1 7 2 6-2 7 5 6 1 7-3 7 4 6-2 7-4 6 3 7 5 7-2 6 5 7-6 6 11 7-1 7 5 6 11 7 12 7 3 6 19 7 3 6 3 7 6 7 23 6-3 7 15 6 1 3 3 5 3 6 9 5 0 6 2 5 5 6-1 5 11 6 3 5 5 6 0 5 3 6-9 5 11 6-5 5 5 6-3 5 2 6 1 5-5 6-3 5-4 6 6 5-3 6 3 5 3 6 1 5 13 6-14 5 2 6-3 5-11 6 16 5-11 6 1 5 11 6-6 5 5 6-15 5 12 6 4 5 2 6-3 5-3 6 7 5-1 6-16 5 7 6 0 5-2 6 6 5-2 6 9 5 3 6 0 5-13 6 9 6-3 5-6 6-2 5 10 6 9 5-24 6 6 5 5 6 2 5-11 6 15 5-5 6-2 5 2 6 11 5-17 6 6 5-9 6-2 5 11 6-8 5-1 6 16 5-20 6 17 5-9 6 2 5-7 6 1 5 5 6 0 5-5 6 3 5-1 6 3 5-14 6 21 5-16 6 14 5-1 6 5 5-27 6 14 5-11 6 11 5 6 6 8 5-3 6-6 5 7 6-12 5 9 6-1 5-3 6 10 5-4 6-13 5 8 6 8 5-1 6-5 5-12 6 12 5-7 6 15 5-22 6 21 6-12 8-9 5-8"/>
<path stroke="#bcbd22" d="M180 2731l2 11 2 7 1 29 2 28 1 23 2 2 2 27 1 1 2-6 2-4 1 7 2 76 2 81 1 46 2 56 2 74 1-49 2-188 2-187 1-187 2-165 2 59 1 57 2 50 2 46 1 46 2 37 1 33 2 30 2 33 1 27 2 24 2 21 1 20 2 17 2 17 1 16 2 12 2 14 1 11 1 9 9 43 9 24 9 15 9 11 8 5 9 5 9 2 9 0 9 1 9 1 8 0 9 3 9-2 9 0 9-1 8-1 9-1 9 2 9 2 9-1 8 0 9 1 9-1 9 1 9 0 9-6 8 4 9-1 9 1 9-2 9 3 8 1 9-2 9-1 9 1 6 0 7-4 7-2 6-4 7-5 6-5 7-5 7-3 6 0 7-8 7-3 6-6 7-6 6-8 7-4 7-4 6-8 7-5 6-11 7-17 7-15 6-15 7-18 6-20 7-8 7-5 6 1 7 4 6 3 7 5 7 6 6 6 7 5 7 0 6 7 7 2 6 4 7 1 7-6 6-3 7 1 6 2 7 0 7 0 6 2 7 3 6 1 7 3 7 4 6 3 7 1 6 2 7 4 7-2 6 4 7 2 7 3 6-1 7-3 6-1 7 3 7 3 6-4 7 0 6 5 7-6 7 4 6 1 7 3 6 2 7 0 7 12 6 6 7 3 7 8 6 3 7 16 6-5 7 6 7 4 6 6 7 4 6-4 3 3 5 1 6 1 5-1 6 5 5-17 6 12 5 11 6-18 5 9 6 1 5 5 6 5 5 3 6 0 5 3 6-7 5 5 6 2 5 0 6-7 5-11 6 13 5-7 6 9 5-9 6 11 5-2 6-6 5 1 6 10 5-4 6-7 5 0 6-4 5 3 6-1 5 5 6 6 5 5 6-10 5-9 6 0 5 11 6 5 5-11 6-3 5 0 6 5 5 10 6-15 5 4 6-8 5 11 6-10 5 12 6 5 6-6 5-7 6 2 5 0 6 6 5-9 6 15 5-11 6-2 5 4 6 6 5 3 6-13 5 1 6-2 5-1 6 13 5 0 6-24 5 23 6-12 5 7 6-3 5 1 6 14 5-5 6 2 5-16 6-2 5 14 6-1 5-25 6 25 5-17 6 12 5 5 6-4 5 5 6-1 5-12 6 3 5 17 6-6 5-1 6-19 5 19 6-5 5 2 6-3 5-15 6 4 5 6 6 10 5-15 6 9 5 10 6-1 5-7 6 0 5-2 6 10 5-13 6 6 5-5 6-2 5 21 6-29 6 14 8-9 5-3"/>
<path stroke="#d62728" d="M180 3057l2 22 2 15 1 0 2 36 1-16 2 21 2 16 1-6 2 0 2-9 1-3 2 7 2 6 1 28 2-11 2 13 1 9 2 22 2 1 1 9 2 11 2-231 1-335 2-176 2 24 1 19 2 21 1 16 2 15 2 14 1 12 2 11 2 12 1 11 2 7 2 8 1 10 2 5 2 8 1 5 1 2 9 21 9 15 9 5 9 7 8 2 9 2 9 2 9-2 9-2 9 3 8 1 9-2 9 6 9-4 9-1 8 0 9 3 9-3 9 2 9-1 8-4 9-1 9 8 9-5 9 3 9-1 8 2 9-5 9-1 9 0 9 0 8 1 9 3 9-6 9 2 6 3 7-4 7-1 6-5 7-6 6 1 7-3 7-2 6-3 7-2 7-4 6-2 7-6 6 1 7-5 7-7 6-6 7-2 6-7 7-12 7-11 6-9 7-16 6-8 7-9 7 0 6-3 7 4 6 1 7 0 7 10 6-2 7 2 7 6 6 1 7 0 6 2 7 1 7-4 6-1 7 0 6 2 7 2 7 2 6 0 7 1 6 0 7 0 7 1 6 3 7 1 6 1 7-1 7 5 6-2 7 5 7-3 6 6 7-4 6 1 7-4 7 4 6 0 7-1 6-2 7 0 7 8 6-10 7 5 6 0 7 9 7 0 6 2 7 0 7 13 6 5 7-3 6 6 7 2 7 4 6 0 7-5 6 8 3 1 5 0 6 5 5 3 6 1 5 0 6-3 5 3 6-4 5 1 6 8 5 3 6-5 5-4 6 10 5-7 6 3 5-9 6 9 5-4 6 0 5 9 6-5 5-1 6 3 5 0 6-8 5 2 6 2 5 1 6 1 5-14 6 17 5 5 6-22 5 9 6 1 5-2 6 5 5-12 6 12 5 0 6-10 5-5 6 17 5-9 6 17 5-9 6-6 5 15 6-10 5-4 6 0 5-2 6 4 5-4 6 7 6 4 5-6 6 7 5-13 6 0 5 3 6 1 5 13 6-13 5-4 6 12 5-26 6 27 5-21 6 10 5 0 6-3 5-3 6 21 5-33 6 18 5-2 6 9 5-21 6 22 5 13 6-10 5 0 6-5 5 1 6 0 5 1 6 0 5-7 6-12 5 28 6-1 5-12 6 15 5-32 6 18 5 11 6-15 5 13 6-14 5 24 6-8 5-6 6-14 5 6 6-3 5 0 6 6 5 10 6-23 5 23 6-20 5-10 6 27 5-2 6-8 5 1 6-4 5 5 6-6 5 3 6-1 6 20 8-12 5-15"/>
<path stroke="#8c564b" d="M180 2779l2 13 2 18 1-6 2-14 1-8 2-2 2-8 1-31 2 13 2 3 1-13 2 32 2 100 1 94 2 86 2 91 1 78 2-176 2-194 1-194 2 25 2 50 1 42 2 39 2 38 1 33 2 29 1 29 2 25 2 26 1 16 2 22 2 18 1 15 2 12 2 12 1 13 2 11 2 7 1 12 1 6 9 33 9 19 9 15 9 5 8 10 9-2 9 3 9 0 9 0 9 3 8 1 9-1 9 3 9-1 9-2 8 0 9 0 9-2 9 1 9 0 8 0 9 3 9-1 9-3 9 4 9-2 8-3 9 6 9-4 9-1 9 3 8-2 9 1 9-3 9 1 6 0 7 1 7 2 6 0 7 0 6 0 7-3 7 0 6 2 7-2 7 1 6 1 7 0 6-3 7 1 7 2 6-1 7-1 6 2 7-2 7 1 6-1 7 0 6 3 7 0 7-4 6 3 7-2 6-1 7 3 7 0 6-1 7 0 7 1 6-1 7 3 6-2 7-2 7 1 6 1 7-3 6 3 7 2 7-4 6 0 7 1 6 1 7-4 7 2 6 1 7-2 6 4 7-2 7-2 6 6 7 0 7-6 6 6 7-4 6 4 7-7 7 2 6 3 7 0 6-3 7 2 7 0 6 0 7-2 6-3 7-3 7 9 6-2 7 3 7-4 6 2 7-8 6 9 7 2 7-1 6-2 7 3 6 0 3 0 5 0 6-3 5 3 6-2 5-4 6 6 5-5 6 5 5 0 6 0 5-3 6 3 5-14 6 14 5 0 6-2 5 2 6-5 5 2 6 3 5 0 6 0 5 0 6-7 5 7 6-1 5-3 6 4 5-3 6 3 5-2 6-3 5 5 6-3 5 3 6 0 5 0 6-9 5 9 6-5 5 5 6 0 5 0 6 0 5 0 6 0 5-9 6 9 5-10 6 9 5 1 6-2 5 1 6 1 5-12 6 12 6-6 5 4 6-3 5-1 6 6 5 0 6-2 5 2 6 0 5 0 6 0 5 0 6-4 5-7 6 11 5-1 6-13 5 14 6 0 5-6 6 6 5-10 6 10 5-1 6 1 5-9 6 9 5 0 6-5 5 5 6-11 5 11 6-1 5-6 6-8 5 15 6-1 5-2 6-4 5 7 6 0 5 0 6-4 5-9 6 13 5-4 6 1 5-8 6-2 5-3 6 8 5 8 6 0 5 0 6-1 5 0 6 1 5-22 6 19 5-10 6 9 5 4 6 0 5 0 6-13 5 13 6-18 6 18 8 0 5 0"/>
<path stroke="#2ca02c" d="M180 2968l2 8 2-1 1 0 2-22 1-7 2-13 2-9 1 3 2 12 2-29 1 30 2 2 2 2 1-16 2-12 2 11 1 32 2 92 2 43 1 63 2 46 2-65 1-216 2-217 2-216 1-31 2 45 1 44 2 38 2 34 1 31 2 30 2 27 1 23 2 23 2 17 1 20 2 16 2 16 1 12 1 8 9 49 9 36 9 16 9 13 8 5 9 8 9 1 9 1 9 1 9 1 8 1 9 1 9-1 9 4 9-2 8-1 9 1 9 3 9 1 9-3 8-1 9 2 9 2 9 0 9 0 9 1 8-3 9 1 9 2 9 1 9 2 8-4 9 3 9 2 9 0 6-4 7-2 7-1 6-4 7-7 6-6 7-1 7-4 6-5 7-2 7-5 6-4 7-5 6-5 7-9 7-3 6-9 7-6 6-9 7-12 7-15 6-16 7-18 6-15 7-9 7-8 6-1 7 5 6 4 7 5 7 5 6 4 7 3 7 3 6 8 7 0 6 1 7 1 7-3 6-9 7 7 6-3 7 3 7 4 6 0 7 5 6-3 7 5 7 1 6 0 7 4 6 1 7-1 7 8 6-2 7 3 7 0 6 5 7-3 6 0 7 0 7-4 6-3 7 3 6 4 7 1 7 9 6-10 7 7 6-2 7 7 7-1 6 10 7 12 7-5 6 7 7 5 6 6 7 7 7 0 6 4 7-8 6 3 3 7 5-3 6-2 5 4 6 2 5 1 6 0 5-9 6 9 5-6 6 7 5 2 6 1 5 4 6 4 5-8 6 9 5-19 6 15 5-4 6-1 5-4 6 15 5-3 6 6 5-1 6-3 5-2 6-8 5 2 6 1 5 0 6 9 5-18 6 9 5 1 6 2 5 2 6-12 5 18 6-5 5-9 6 15 5-9 6-15 5 12 6 1 5-6 6-6 5 12 6 3 5-12 6 23 5-24 6 13 5 18 6-4 6-14 5-2 6 8 5 6 6-14 5-4 6-2 5 2 6-16 5 11 6 12 5-19 6 32 5-17 6 9 5-8 6 11 5-2 6-15 5 5 6 6 5-14 6-3 5 11 6 7 5 5 6-13 5-2 6-6 5 5 6-4 5 19 6-15 5 2 6 1 5 11 6-13 5 7 6 3 5 4 6-19 5 7 6 13 5 3 6-12 5-18 6 21 5-6 6-10 5 15 6-11 5 6 6 0 5-5 6 0 5-11 6 23 5 1 6-24 5 25 6-3 5-6 6-14 5 16 6 5 5-1 6-12 6 10 8-1 5 8"/>
<path stroke="#17becf" d="M180 2997l2 14 2-8 1 13 2-28 1 28 2 13 2-8 1-15 2-5 2-11 1-4 2 21 2-39 1 43 2 43 2 68 1 48 2 44 2-80 1-157 2-157 2-157 1-28 2 19 2 23 1 23 2 15 1 18 2 12 2 14 1 12 2 12 2 10 1 8 2 9 2 8 1 6 2 5 2 9 1 0 1 5 9 21 9 13 9 10 9 0 8 3 9 0 9 2 9 1 9-2 9 1 8 2 9-2 9 1 9 0 9 0 8 0 9 1 9-1 9-2 9 1 8 2 9-3 9 1 9-1 9-2 9 4 8-2 9-2 9 2 9 1 9-4 8 2 9 0 9-2 9 1 6-2 7 1 7-3 6-4 7-5 6-1 7-4 7-2 6-6 7-3 7-1 6-4 7-3 6-6 7-4 7-3 6-7 7-8 6-6 7-11 7-11 6-10 7-16 6-11 7-7 7-5 6 1 7 3 6 4 7 3 7 3 6 4 7 2 7 3 6 4 7-3 6 4 7-1 7-1 6-1 7-1 6 1 7 1 7 1 6 0 7-3 6 3 7 8 7-4 6 2 7 1 6 4 7-1 7 4 6-2 7 4 7 3 6-9 7 3 6 8 7-4 7 1 6-3 7 0 6 3 7-3 7 0 6 3 7 2 6 0 7 6 7 4 6 5 7 3 7 0 6 15 7 7 6-10 7 10 7-5 6 5 7-3 6 15 3-5 5 5 6 4 5-6 6 6 5 2 6 4 5-5 6-2 5 6 6-3 5 7 6 4 5-13 6 2 5 4 6 0 5 2 6 1 5-6 6-1 5-3 6 16 5-5 6-2 5-3 6-10 5 10 6 7 5 0 6-3 5-7 6 3 5 6 6-4 5-1 6 1 5-3 6 2 5-4 6 8 5-10 6-5 5 24 6-8 5-17 6 19 5-2 6-4 5-3 6 10 5-3 6 5 5-14 6 4 5 3 6-4 6 6 5-9 6 3 5 3 6 5 5-6 6 0 5 1 6 3 5-5 6 7 5-2 6-1 5-13 6 14 5-3 6 0 5-2 6-5 5 18 6-8 5-18 6 31 5-21 6-2 5-5 6 26 5-29 6-5 5 23 6 2 5-12 6 5 5 0 6 1 5-3 6-7 5 3 6-1 5-5 6-4 5 16 6 0 5 4 6 3 5-6 6 8 5-13 6 14 5-9 6 12 5-18 6 3 5 1 6 7 5-6 6 4 5 4 6-9 5 5 6-6 5 1 6 6 5 4 6-2 5-4 6 15 6-4 8-3 5-18"/>
<path stroke="#7f7f7f" d="M180 2816l2 10 2 16 1 33 2 3 1 76 2 59 2 69 1 67 2 66 2-75 1-118 2 5 2 13 1 9 2 12 2 7 1 8 2 8 2 11 1 3 2 7 2 2 1 5 2 7 2 5 1-2 2 5 1 4 2 6 2 1 1-2 2 5 2 2 1 2 2 0 2 4 1 0 2-3 2 6 1 1 1-4 9 6 9 4 9 1 9 0 8 2 9-1 9 2 9-4 9 2 9-2 8 3 9-2 9 2 9-2 9 1 8-1 9-1 9 2 9 1 9-1 8 1 9-3 9 1 9 0 9 1 9 2 8-1 9-3 9-3 9 2 9 0 8 4 9-1 9 2 9-2 6-3 7 5 7-1 6-2 7 1 6-2 7-1 7-3 6-2 7-9 7-1 6-7 7-6 6-11 7-3 7-6 6-6 7-6 6-7 7-3 7-10 6-10 7-7 6-5 7-1 7 1 6 7 7 3 6 11 7 4 7 2 6-1 7-1 7 4 6-3 7-2 6 4 7-4 7-1 6 3 7 2 6-2 7-1 7 2 6 0 7 1 6-2 7 0 7-1 6-3 7 2 6 3 7-4 7 1 6 1 7 3 7-3 6-3 7 4 6-4 7 3 7 0 6 0 7 3 6 3 7-8 7 2 6-1 7 2 6-3 7 2 7 10 6-9 7 2 7-1 6 9 7 13 6 8 7-1 7 8 6 1 7 16 6 11 3-2 5-4 6 5 5 11 6-9 5-4 6 4 5 2 6 3 5-6 6-2 5 2 6-2 5 11 6-3 5-7 6 13 5-9 6-5 5-2 6 2 5 0 6 15 5-10 6 5 5-13 6 18 5-6 6-8 5 3 6 4 5-1 6-1 5-8 6 2 5 0 6 6 5-11 6 9 5 2 6-8 5 8 6 6 5-17 6 7 5 0 6 14 5-17 6 6 5 4 6-5 5-2 6-7 5 20 6-18 5 2 6-1 6 4 5 5 6-13 5 5 6 8 5-4 6 1 5 9 6-1 5-25 6 25 5 1 6-1 5 5 6-15 5 10 6-12 5 14 6 4 5-2 6-9 5 19 6-30 5 16 6-17 5 13 6 10 5-18 6-2 5 31 6-18 5-23 6 19 5-10 6-7 5 21 6-4 5-2 6 15 5-30 6 5 5 19 6-9 5 3 6 15 5-14 6 7 5-15 6 4 5-7 6 20 5-16 6 9 5-2 6 5 5-23 6 6 5 5 6-5 5 8 6-3 5 7 6-12 5 19 6-13 5-3 6-3 6 10 8-19 5 9"/>
<path stroke="#8c564b" d="M180 3017l2-2 2-38 1 33 2 6 1-18 2-9 2-7 1 47 2 29 2 34 1 51 2 51 2 13 1-58 2-58 2-58 1-2 2 11 2 12 1 10 2 11 2 7 1 8 2 6 2 4 1 11 2 5 1 1 2 8 2 3 1 6 2 0 2 2 1 4 2 4 2 3 1-3 2 7 2 0 1-1 1 5 9 3 9 5 9 2 9 3 8 0 9-1 9 0 9 1 9-1 9 2 8 0 9 0 9-1 9-1 9 3 8-2 9-2 9 3 9 0 9-1 8 0 9 0 9-1 9 4 9-4 9 1 8-2 9 4 9-3 9 1 9 1 8-1 9 2 9-2 9-1 6 1 7-1 7 2 6-1 7 1 6-2 7-2 7-2 6-2 7-6 7-3 6-7 7-5 6-7 7-2 7-4 6-7 7-6 6-5 7-3 7-10 6-8 7-5 6-4 7-2 7 2 6 2 7 9 6 7 7 3 7-1 6 3 7-1 7-1 6 1 7-3 6 2 7 3 7-3 6 1 7-1 6 1 7 0 7-2 6 2 7 0 6 1 7-4 7 5 6-4 7 1 6 0 7-4 7 4 6 2 7-4 7 6 6-10 7 4 6 5 7-3 7-1 6 0 7 2 6-1 7-3 7 5 6-3 7-3 6 8 7-2 7 0 6 3 7-6 7 4 6 16 7-1 6 4 7 5 7 6 6 9 7 4 6 6 3 8 5-3 6 5 5 3 6 5 5-11 6 10 5-8 6 4 5-3 6 1 5-3 6 11 5-5 6 4 5-6 6 0 5 13 6-17 5 4 6 4 5 5 6-12 5 8 6 3 5-13 6 8 5 1 6-12 5 3 6 18 5-16 6 7 5-2 6-1 5 2 6 0 5 10 6-18 5 7 6-1 5-2 6-4 5 1 6 6 5-4 6 1 5 9 6-2 5-1 6-6 5 4 6-7 5 9 6 12 5-19 6-1 6 7 5 0 6 3 5-3 6-5 5 12 6-4 5-8 6-2 5 17 6-3 5-26 6 29 5-26 6 13 5-10 6 1 5-1 6 13 5-5 6-1 5 3 6 6 5-3 6-2 5 6 6-3 5-5 6 21 5-12 6 6 5-26 6 8 5-1 6 6 5-2 6 13 5-5 6 0 5-6 6 9 5-14 6 0 5 4 6-3 5 17 6-14 5-4 6 5 5 6 6-5 5 13 6-18 5 8 6-8 5-1 6 6 5-4 6-14 5 20 6-12 5 15 6-1 5-25 6 20 5 2 6-11 6 12 8-18 5 3"/>
<path stroke="#1f77b4" d="M180 3024l2-6 2 24 1 28 2 18 1 2 2 19 2 23 1 41 2 34 2-76 1-297 2-286 2 13 1 12 2 14 2 9 1 6 2 9 2 9 1 4 2 7 2 5 1 8 2 4 2 2 1 3 2 5 1 2 2 1 2 5 1 4 2 0 2 3 1 0 2 3 2 2 1 1 2-1 2 2 1 0 1 2 9 3 9 5 9-1 9 2 8 4 9-4 9 1 9 1 9 0 9-1 8 1 9-1 9 1 9-1 9 2 8-1 9-1 9 0 9-1 9 2 8-1 9-3 9 5 9-5 9 0 9 3 8-3 9 2 9 0 9 0 9-3 8 3 9-3 9 5 9-4 6 0 7 2 7-3 6-5 7-4 6 2 7-4 7-3 6 1 7-5 7-1 6-7 7-1 6 0 7-4 7-5 6-4 7-3 6-5 7-11 7-10 6-7 7-10 6-10 7-9 7-1 6 3 7-1 6 5 7 1 7 3 6 1 7 3 7-2 6 4 7 2 6 2 7 1 7-1 6-5 7-1 6-1 7 3 7 2 6 1 7 1 6 0 7 4 7-1 6 2 7-1 6 5 7-2 7 5 6-1 7 0 7-1 6 1 7-1 6 4 7-4 7-2 6 2 7 4 6-2 7 0 7-4 6 7 7-2 6 1 7 3 7 1 6 2 7-1 7 15 6-1 7 7 6 3 7-6 7-3 6 2 7-4 6 3 3 3 5-3 6 3 5-1 6 1 5-8 6 12 5-6 6 3 5 8 6-13 5 13 6-1 5-2 6-2 5 1 6-1 5 6 6-6 5 0 6 0 5 11 6 2 5-5 6-2 5-9 6 9 5-1 6-12 5 11 6-4 5-3 6 5 5 11 6-3 5-13 6-1 5 10 6-18 5 19 6-19 5 15 6 6 5-8 6 19 5-13 6-7 5-4 6 0 5 8 6 11 5-19 6 1 5 11 6-8 5-5 6-1 6 3 5 3 6 9 5 3 6-12 5-9 6 11 5 6 6-8 5-5 6-5 5 18 6-4 5 4 6 3 5 4 6 4 5-16 6-8 5 14 6-3 5 3 6-12 5 6 6-1 5 0 6 4 5-5 6-7 5-5 6 18 5-25 6 48 5-22 6-10 5 0 6 15 5-18 6 4 5-6 6 16 5 1 6-4 5-5 6-2 5-7 6 4 5-11 6 8 5 7 6 12 5 5 6 4 5-19 6-4 5 0 6 18 5 3 6-18 5 1 6 8 5-16 6-10 5 8 6 10 5-6 6-2 6 9 8-11 5 23"/>
<path stroke="#2ca02c" d="M180 2780l2 18 2 14 1-26 2 12 1-47 2-52 2-5 1 35 2 99 2 100 1 82 2 92 2 94 1-62 2-156 2-155 1-156 2-78 2 4 1 1 2 4 2-3 1 2 2 5 2-2 1 1 2 1 1 1 2 4 2 0 1-1 2 3 2-4 1 2 2 3 2-4 1 1 2 0 2 1 1 2 1 2 9 0 9 1 9-1 9-2 8 0 9 1 9-2 9-1 9 3 9-3 8 0 9 3 9-2 9-1 9-2 8-1 9 1 9-2 9 0 9-1 8 0 9 0 9-5 9 1 9 1 9 2 8-4 9 1 9 1 9-1 9-3 8 2 9-2 9 0 9-2 6-2 7 0 7-4 6 1 7-4 6 0 7-8 7-2 6-1 7-1 7-2 6-6 7-4 6-2 7 3 7-10 6-4 7-3 6-6 7-10 7-14 6-4 7-13 6-7 7-9 7-2 6-3 7 5 6 2 7 2 7 4 6 2 7 1 7 4 6 3 7 0 6 0 7 1 7-2 6-2 7 1 6-2 7 3 7 3 6-3 7 0 6 2 7 3 7 1 6-1 7-3 6 8 7 1 7 1 6-2 7-3 7 5 6-1 7 4 6 3 7-2 7-3 6 3 7-4 6 4 7-2 7-1 6 3 7 0 6 6 7-3 7 3 6 9 7 0 7 2 6 8 7-15 6 5 7 4 7 9 6 1 7-5 6-3 3-4 5 9 6-1 5-5 6 8 5 3 6-12 5 6 6-7 5 8 6-6 5 8 6 10 5-13 6 11 5 0 6-1 5-9 6-5 5 8 6 3 5-7 6-2 5-2 6 25 5-30 6 17 5-8 6 11 5 0 6-14 5 6 6-2 5 6 6-5 5 7 6-2 5-8 6 12 5-4 6 0 5-7 6 8 5-7 6 12 5-7 6-19 5 21 6-1 5-3 6 5 5-17 6 14 5-8 6 7 5-7 6-5 6 8 5-11 6 14 5 5 6 5 5-7 6-7 5 2 6 0 5 11 6-17 5 3 6-13 5 28 6-21 5 0 6-6 5 18 6-4 5-1 6-9 5 7 6 15 5-23 6 14 5 10 6-21 5 15 6 0 5-12 6 6 5 6 6 2 5-12 6-8 5 14 6 0 5 4 6 6 5-2 6-2 5-10 6 14 5-1 6-13 5-1 6-8 5 8 6 4 5-2 6 7 5-5 6-7 5 17 6-24 5 23 6-8 5 1 6-8 5 7 6 13 5-19 6 8 5-2 6-27 5 21 6 8 6-9 8 4 5-8"/>
<path stroke="#e377c2" d="M180 2668l2-41 2-4 1-2 2 3 1 125 2 106 2 120 1 126 2 110 2-139 1-191 2-191 2-191 1-1 2 23 2 18 1 20 2 17 2 16 1 15 2 9 2 15 1 6 2 13 2 9 1 8 2 7 1 7 2 5 2 5 1 7 2 2 2 8 1 0 2 4 2 5 1 2 2 1 2 2 1 3 1 0 9 11 9 2 9 7 9 0 8 1 9-1 9 1 9 4 9-4 9 1 8 0 9 2 9 1 9-1 9 1 8 3 9-3 9-2 9 2 9 1 8-1 9 2 9-1 9 1 9-3 9 2 8 1 9 1 9 0 9 0 9 0 8-1 9 2 9 0 9 0 6-2 7-3 7 0 6-2 7-2 6-6 7-2 7-3 6-1 7-6 7-2 6-5 7 1 6-5 7-6 7-4 6-4 7-8 6-5 7-8 7-11 6-10 7-14 6-11 7-11 7 1 6-2 7 2 6 1 7 3 7 8 6 1 7 3 7 2 6 1 7 3 6 0 7 1 7-3 6 0 7-3 6 0 7 5 7 0 6 0 7 0 6 4 7 3 7-5 6 7 7 4 6-4 7 0 7 2 6 3 7 3 7-8 6 4 7 2 6-1 7-1 7 3 6-3 7 0 6-2 7 8 7-8 6 8 7-2 6 2 7 3 7 0 6 5 7 7 7 1 6 1 7 1 6 0 7-10 7 4 6 4 7-1 6-10 3 3 5-9 6 13 5-7 6-8 5 8 6-16 5 11 6-3 5-2 6-5 5 16 6-5 5 2 6-7 5-3 6 5 5 2 6 3 5-11 6 7 5-8 6 1 5 2 6-2 5 8 6-1 5 5 6-3 5 5 6-11 5 8 6-2 5-8 6-3 5 7 6 14 5-15 6-4 5 17 6-8 5-4 6-4 5 2 6 11 5 8 6-20 5-10 6 26 5-6 6-11 5 1 6 6 5-10 6 9 5 11 6-4 6-10 5 6 6-13 5 1 6 20 5-1 6-3 5-10 6 8 5-8 6 1 5 17 6-11 5 6 6-15 5 7 6 4 5 1 6-8 5 6 6 20 5-31 6 7 5 7 6 5 5-18 6 12 5-12 6 16 5-6 6-11 5 13 6-5 5 7 6 1 5-9 6-3 5 6 6-6 5 5 6 0 5 9 6-3 5 4 6-10 5 0 6-8 5 20 6 5 5-23 6 2 5-16 6 7 5 22 6-1 5 9 6-25 5 23 6-26 5 7 6 23 5-8 6-9 5-7 6 18 5-27 6 17 6-9 8 3 5 4"/>
<path stroke="#bcbd22" d="M180 2884l2 9 2 2 1 10 2-16 1 6 2 14 2-7 1-16 2 9 2-11 1-42 2-45 2 23 1-7 2 14 2 90 1 84 2 52 2 68 1 77 2 5 2-50 1-50 2-36 2 12 1 10 2 11 1 5 2 10 2 7 1 9 2 4 2 5 1 8 2 1 2 5 1 0 2 5 2 5 1 3 1 1 9 11 9 6 9 6 9 1 8 1 9 1 9 0 9-1 9 1 9 0 8-1 9 2 9 0 9-2 9 2 8-2 9 1 9 2 9 0 9 0 8-1 9-2 9 1 9 3 9-1 9-2 8 3 9-2 9 5 9-6 9 1 8-2 9 2 9-1 9 1 6 1 7-1 7-2 6 1 7 1 6 1 7-3 7-1 6 1 7-5 7 0 6-3 7-4 6-2 7-3 7-2 6-3 7-4 6 0 7-1 7-5 6-7 7 0 6-3 7 3 7-3 6 3 7 5 6 3 7 1 7 0 6-2 7 3 7 2 6-3 7 1 6-2 7-2 7 3 6 1 7-3 6 4 7-2 7-1 6-3 7 1 6 5 7-5 7 2 6 1 7 1 6 1 7 1 7 2 6-7 7-2 7 9 6-4 7 2 6-7 7 7 7-4 6 5 7-8 6 3 7 5 7-6 6 0 7 1 6-2 7-4 7 7 6 2 7-8 7 4 6 12 7 1 6-1 7-5 7 3 6 10 7-2 6 1 3 3 5 7 6 0 5 0 6-5 5 1 6 1 5-1 6 4 5-1 6-7 5-1 6 8 5-6 6 1 5 1 6 4 5 2 6-8 5 0 6 7 5-7 6 1 5 4 6 3 5 1 6-7 5-2 6-3 5 0 6-7 5 18 6-4 5 0 6-4 5 1 6-3 5 1 6-13 5 11 6 7 5 1 6 15 5-23 6 4 5 2 6 4 5-3 6-2 5-13 6 7 5 12 6 6 5 0 6-12 5 3 6-16 6 30 5-30 6 19 5-1 6 0 5 2 6 3 5-11 6-1 5 4 6-15 5 4 6-4 5 12 6 1 5 6 6 3 5-12 6-1 5-3 6 2 5 10 6-2 5-4 6 12 5-21 6 1 5 9 6 4 5 14 6-24 5-12 6 16 5 6 6-2 5-10 6 20 5-17 6 21 5-13 6-14 5 24 6-15 5 2 6 7 5-21 6 19 5-12 6 13 5-1 6-7 5 3 6-8 5-4 6 16 5-2 6 14 5 6 6-25 5-3 6 9 5-1 6-16 5 24 6-7 5-9 6 9 6 0 8-2 5-8"/>
<path stroke="#ff7f0e" d="M180 2774l2-12 2-7 1 7 2-17 1 8 2-7 2-21 1-14 2 95 2 87 1 100 2 108 2 95 1-10 2-69 2-39 1 10 2 10 2 7 1 8 2 7 2 6 1 10 2 6 2 2 1 8 2 1 1 3 2 6 2 0 1 6 2 1 2 2 1 3 2 1 2 2 1 6 2-4 2 6 1 0 1-1 9 4 9 4 9 0 9 2 8 1 9-2 9 2 9 1 9-2 9 1 8 0 9 0 9 1 9 0 9 0 8 1 9 0 9 1 9-4 9 2 8 2 9-1 9 0 9 0 9-3 9 1 8 1 9 2 9-2 9 1 9-1 8 2 9-1 9-1 9 1 6 0 7-2 7 2 6-3 7 4 6-2 7-2 7 1 6-4 7-2 7-2 6-6 7-2 6-1 7-4 7-2 6-5 7 0 6-4 7-3 7-6 6-4 7-4 6-2 7-1 7 0 6 5 7 5 6 2 7 2 7 0 6 1 7-1 7 0 6-5 7 6 6-3 7 2 7 0 6 0 7 0 6 1 7-2 7 1 6-2 7 1 6 1 7-3 7 0 6 6 7 0 6-6 7 1 7 2 6-2 7 1 7 0 6-2 7 4 6-1 7 0 7 0 6-9 7 15 6-3 7-6 7 3 6-5 7 1 6 4 7 2 7-4 6 2 7-2 7 9 6-1 7 8 6-2 7 11 7-5 6 11 7 2 6 6 3-15 5 15 6-5 5 0 6 3 5-5 6 7 5-1 6 5 5-7 6 5 5-3 6 2 5-8 6 3 5 9 6-15 5 5 6 3 5-2 6-12 5 18 6-5 5-2 6 19 5-15 6-4 5 2 6-3 5 9 6-12 5 28 6-16 5 2 6-1 5 6 6-11 5-8 6 0 5-4 6 10 5 17 6-9 5-9 6-16 5 3 6 12 5 8 6-6 5-9 6 12 5 0 6 11 5 11 6-28 5 11 6-13 6 9 5-6 6 1 5 12 6-18 5-6 6 12 5-14 6 4 5 25 6-14 5-3 6-11 5 13 6-1 5-3 6 7 5-3 6 5 5 0 6 8 5-16 6-1 5 0 6 5 5-3 6 10 5 8 6-5 5-18 6 9 5-5 6-2 5 9 6 3 5 3 6-6 5-8 6 7 5 3 6-12 5 1 6 10 5 2 6-17 5 7 6-2 5 14 6 4 5-1 6-8 5-16 6 27 5-19 6-10 5 9 6 20 5-3 6 3 5-16 6-10 5 16 6 6 5-6 6-3 5 4 6-14 6 6 8 2 5 4"/>
<path stroke="#9467bd" d="M180 3073l2-1 2-18 1 23 2 32 1 3 2 14 2 12 1-3 2-44 2 31 1-3 2 36 2 6 1 25 2 8 2 19 1 14 2-106 2-152 1-153 2-153 2-140 1 60 2 54 2 50 1 45 2 41 1 38 2 32 2 33 1 26 2 25 2 27 1 21 2 20 2 17 1 17 2 12 2 16 1 10 1 8 9 46 9 28 9 18 9 8 8 7 9 1 9 6 9-2 9 4 9 0 8-1 9-1 9 4 9-4 9 3 8 0 9-3 9 5 9-1 9-1 8-2 9 1 9 0 9-2 9 1 9 2 8-2 9 1 9 1 9-3 9 2 8 2 9-2 9 3 9-3 6 2 7-1 7 1 6-1 7 1 6-2 7 3 7-4 6-6 7 1 7-6 6-3 7-1 6-4 7-3 7-5 6-3 7-4 6-1 7-4 7-3 6-10 7-3 6-1 7 0 7 3 6-1 7 6 6 4 7 1 7 1 6 0 7-2 7 4 6-1 7-1 6-4 7 5 7-3 6 4 7 1 6-2 7-2 7 0 6 2 7 0 6-3 7-6 7 4 6 2 7 7 6-4 7 1 7 1 6-10 7 2 7 3 6-5 7 8 6-2 7 2 7-3 6 2 7-2 6 3 7-7 7 6 6-1 7 0 6-2 7-3 7 5 6 3 7 0 7 2 6 4 7-1 6 12 7 2 7 5 6 0 7 15 6 3 3 0 5 6 6-4 5-5 6 13 5-9 6 1 5-3 6 4 5-1 6 8 5-7 6-5 5 0 6 7 5 5 6-2 5-6 6-2 5 8 6 4 5-13 6 8 5-2 6-10 5 12 6-8 5 0 6 4 5-7 6 0 5-2 6 16 5-12 6-2 5-2 6 1 5 11 6-5 5 2 6-10 5-3 6 7 5 3 6 4 5-13 6 13 5-3 6-1 5 7 6-12 5 2 6 7 5 9 6-14 5-7 6 7 6 14 5-7 6-3 5-4 6 0 5 2 6 8 5-2 6-2 5-5 6 4 5 5 6 4 5-9 6 13 5-26 6 20 5-13 6 16 5-20 6 2 5 6 6 4 5-6 6-17 5 8 6 6 5 3 6-1 5 16 6-20 5 23 6-10 5 4 6-17 5 10 6-6 5 2 6-8 5 7 6-14 5 23 6-6 5-14 6 17 5 0 6-22 5 20 6 0 5 4 6-16 5 5 6 4 5-7 6 10 5 0 6-1 5-9 6 6 5-26 6 10 5 18 6 7 5 2 6 13 5-23 6 10 6-5 8 2 5 2"/>
<path stroke="#bcbd22" d="M180 2542l2 11 2 11 1 6 2 24 1 15 2 22 2 22 1 12 2-6 2-18 1 83 2 132 2 109 1 111 2 98 2-111 1-442 2-181 2 49 1 49 2 42 2 42 1 33 2 34 2 31 1 26 2 24 1 21 2 20 2 21 1 17 2 13 2 16 1 14 2 13 2 9 1 9 2 9 2 7 1 5 1 7 9 28 9 19 9 7 9 4 8 5 9 5 9 0 9 2 9 0 9 0 8 1 9-4 9 2 9 1 9 0 8-1 9 4 9-5 9 0 9 2 8-2 9 4 9-2 9-3 9 0 9 4 8-2 9-1 9-2 9 6 9-4 8 1 9-1 9 3 9-4 6 3 7-3 7-5 6-7 7 0 6-8 7-2 7-5 6-4 7-7 7-4 6-2 7-6 6-6 7-5 7-8 6-10 7-7 6-11 7-13 7-17 6-20 7-17 6-17 7-13 7-8 6 4 7-1 6 7 7 8 7 2 6 6 7 6 7 5 6 3 7 4 6 2 7 1 7-9 6-3 7 1 6 4 7 4 7-5 6 2 7 3 6 2 7 3 7 4 6 1 7 4 6-1 7 5 7 6 6-2 7 0 7 1 6 6 7-4 6-5 7 4 7 2 6 5 7-8 6 4 7 3 7-3 6 2 7 0 6 2 7 9 7 3 6 11 7 4 7 7 6 10 7 2 6 10 7-4 7 9 6 1 7 12 6 3 3-1 5 8 6 0 5 5 6 2 5 1 6 5 5 3 6-11 5 7 6 1 5 8 6 2 5-1 6 5 5-4 6-5 5 6 6-17 5 9 6 5 5 3 6-7 5-1 6 0 5-6 6 1 5 4 6-6 5 7 6 8 5-16 6 25 5-19 6 21 5-20 6 3 5 3 6-8 5-1 6 2 5 18 6-8 5-1 6 7 5-17 6 12 5-16 6 6 5-3 6 1 5 8 6-10 5 5 6 18 5-29 6 20 6-20 5 20 6 0 5-12 6 8 5-4 6-9 5 15 6-27 5 24 6-17 5 22 6-10 5-8 6 9 5 5 6-3 5 8 6-7 5-3 6 3 5-2 6 5 5-1 6 2 5-10 6 8 5-3 6-11 5 1 6 16 5-13 6 13 5-11 6 7 5 5 6-13 5 17 6-13 5-1 6-6 5 10 6-11 5 14 6 6 5-10 6 3 5-6 6 4 5 11 6-8 5 4 6-13 5 16 6-20 5 5 6-3 5 24 6-4 5-16 6 1 5 3 6 15 5 3 6-12 5-16 6 29 6-17 8-1 5-2"/>
<path stroke="#2ca02c" d="M180 2590l2-35 2-7 1 28 2-1 1-2 2 98 2 117 1 129 2 140 2 136 1-207 2-333 2-11 1 13 2 12 2 8 1 11 2 10 2 8 1 6 2 6 2 6 1 4 2 7 2 1 1 4 2 5 1 4 2 1 2 3 1 4 2 3 2 2 1 2 2 0 2 0 1 3 2 3 2-3 1 0 1 6 9 1 9 4 9 2 9 0 8 0 9-2 9 4 9 0 9-3 9 1 8-4 9 4 9-2 9-1 9 1 8-1 9-2 9 0 9-1 9-1 8-1 9 1 9-1 9-3 9 1 9 2 8-2 9-2 9-1 9 2 9-1 8-1 9 0 9 2 9-5 6 1 7-3 7-2 6-5 7-3 6-3 7-1 7-5 6-2 7-4 7-3 6-4 7-1 6-4 7-3 7-8 6-5 7-6 6-7 7-12 7-14 6-9 7-16 6-13 7-7 7-5 6 4 7 1 6 2 7 5 7 2 6 0 7 2 7 7 6 1 7 2 6 1 7 1 7-6 6 1 7-1 6 3 7-2 7 0 6 3 7 4 6-1 7 4 7 3 6 0 7-2 6 3 7 2 7 2 6 0 7-5 7 8 6-4 7 6 6-6 7 3 7 2 6 3 7-4 6 0 7 1 7-4 6 3 7 5 6 1 7-1 7 2 6 7 7 4 7 13 6 1 7 12 6-1 7 3 7 7 6 3 7 5 6-2 3-3 5 9 6 1 5 0 6 7 5 7 6-4 5 2 6-1 5-1 6 11 5-5 6-3 5 4 6 9 5-7 6-3 5-2 6 9 5-3 6-2 5-5 6 5 5 2 6-4 5 6 6 0 5-17 6 21 5-15 6 7 5-7 6-9 5 19 6-8 5 9 6-10 5 4 6 13 5-9 6-11 5 15 6-15 5 4 6-5 5 15 6-11 5 2 6-3 5-8 6 21 5 0 6-5 5 1 6 9 5-18 6 0 6 5 5 0 6 11 5-16 6 3 5-6 6 15 5 11 6-16 5-12 6 26 5-5 6-3 5-15 6 19 5-8 6-5 5 0 6 22 5-25 6 6 5-10 6 1 5 2 6 11 5-7 6-2 5 2 6 5 5-7 6 9 5 8 6-10 5 1 6-12 5 1 6 14 5-6 6 0 5 3 6-11 5 8 6-8 5 17 6-10 5 1 6 6 5-9 6 18 5-19 6 6 5-5 6 1 5-1 6 15 5-20 6 3 5-4 6 11 5 12 6-14 5-4 6 18 5 2 6-23 5 0 6-8 6 20 8 14 5-24"/>
<path stroke="#e377c2" d="M180 2988l2 22 2-10 1 9 2-2 1 2 2-5 2-26 1-12 2 16 2-16 1 31 2 33 2 34 1 61 2 55 2 44 1-264 2-318 2-203 1 42 2 33 2 32 1 35 2 24 2 26 1 24 2 20 1 23 2 14 2 16 1 12 2 14 2 14 1 11 2 8 2 9 1 7 2 8 2 7 1 4 1 7 9 23 9 15 9 6 9 6 8 2 9 0 9 5 9-4 9 4 9-1 8 0 9-4 9 0 9 0 9 1 8 2 9-4 9 2 9-5 9 3 8 0 9-3 9 1 9 2 9-4 9 2 8-1 9-4 9 2 9-2 9 1 8-1 9 0 9 0 9-2 6-1 7-1 7-1 6-5 7-6 6-3 7-3 7-4 6-3 7-2 7-5 6-6 7-5 6-3 7-5 7-6 6-7 7-2 6-14 7-15 7-9 6-16 7-16 6-17 7-8 7-4 6 2 7 2 6 4 7 4 7 3 6 3 7 4 7 7 6-2 7 3 6 6 7-4 7 0 6-5 7 0 6 1 7 2 7 0 6-1 7 8 6-3 7 4 7 0 6 5 7-1 6 1 7 4 7 3 6 1 7-1 7 2 6 3 7 0 6-5 7 6 7-1 6-2 7 0 6-1 7 2 7-2 6-3 7 7 6 2 7-1 7 9 6 5 7 7 7 2 6 12 7 3 6 6 7-1 7 8 6 5 7-8 6 11 3 3 5 4 6-4 5 2 6-2 5 7 6 7 5-7 6 12 5-5 6 9 5 1 6-7 5 3 6-7 5 3 6 4 5 0 6-3 5-4 6 18 5-5 6-5 5-4 6-3 5 10 6-3 5 3 6-5 5 3 6 7 5-13 6-5 5 13 6-2 5 9 6-5 5 4 6-11 5 5 6-11 5-10 6 14 5-1 6 3 5-5 6 8 5-2 6 1 5 14 6-23 5 36 6-23 5-6 6 0 5-3 6 6 6-17 5 19 6-19 5 12 6 12 5 0 6-1 5-13 6-8 5 15 6-9 5 16 6-10 5 10 6-14 5-7 6 18 5 6 6-14 5-9 6 16 5-16 6 7 5 19 6-3 5-13 6 2 5-3 6 7 5 1 6-11 5 8 6 7 5-8 6-8 5 13 6 3 5-11 6 9 5-15 6 12 5-1 6-21 5 11 6 9 5-4 6-2 5-13 6 22 5-1 6-22 5-3 6 17 5 0 6-3 5 6 6-15 5 15 6-8 5 7 6-1 5 10 6-12 5 5 6 12 5-3 6-11 6-5 8-9 5 15"/>
<path stroke="#e377c2" d="M180 3044l2 23 2 31 1-19 2-27 1-7 2-18 2-44 1 10 2 6 2 56 1 41 2 40 2 45 1 48 2-144 2-144 1-144 2 3 2 30 1 33 2 22 2 25 1 23 2 18 2 19 1 19 2 15 1 14 2 11 2 12 1 11 2 9 2 6 1 10 2 8 2 8 1 3 2 7 2 3 1 5 1 4 9 21 9 3 9 6 9 4 8 4 9 4 9-5 9 7 9-2 9-5 8 4 9 1 9-2 9 1 9-1 8 0 9-2 9 2 9-2 9-1 8-3 9 0 9 2 9-2 9 1 9 0 8-3 9 0 9 2 9-2 9 1 8 0 9 1 9-2 9 1 6-2 7-3 7-4 6-1 7-8 6-3 7-6 7-1 6-3 7-5 7-4 6-4 7-5 6-8 7-5 7-5 6-6 7-10 6-11 7-9 7-18 6-16 7-15 6-20 7-7 7-8 6 4 7 4 6 0 7 9 7 7 6 2 7 5 7 4 6 4 7 5 6 3 7-2 7-4 6-6 7 3 6-1 7-2 7 4 6 8 7-4 6 3 7 3 7 2 6 6 7 3 6 3 7 0 7 2 6 1 7 1 7 0 6 1 7 0 6-1 7 2 7-4 6 6 7-10 6 10 7 0 7 1 6 1 7-1 6-1 7 11 7 11 6-3 7 15 7 7 6 1 7 9 6 8 7 9 7 9 6 5 7-7 6 8 3-1 5 2 6-2 5 10 6-8 5 14 6-6 5 3 6 3 5-3 6 4 5 0 6 9 5 3 6-5 5-2 6 3 5-7 6 4 5 7 6-6 5 2 6-16 5 13 6-2 5 8 6-11 5 20 6-12 5-5 6 9 5-8 6 5 5-11 6 6 5 14 6-10 5 6 6-4 5-7 6-9 5 13 6 8 5-13 6 12 5-1 6-4 5-6 6 7 5 0 6 11 5-3 6-21 5 13 6-17 5 9 6 5 6-10 5 4 6 5 5 2 6-1 5 7 6 1 5-8 6-11 5 7 6-7 5 4 6 11 5 0 6-11 5 3 6 6 5-5 6 3 5-8 6 12 5-5 6 17 5-17 6 3 5 10 6-8 5 3 6-3 5 1 6-11 5 2 6 2 5 7 6 3 5-10 6 12 5-1 6-18 5 6 6 1 5 10 6-10 5-2 6 9 5-2 6-6 5 12 6-21 5-4 6 12 5 21 6-37 5 15 6-3 5-8 6 13 5 11 6-26 5 30 6-20 5 6 6 6 5-18 6 12 5-10 6 13 6 0 8-3 5 1"/>
<path stroke="#bcbd22" d="M180 2790l2-1 2 25 1-2 2-10 1 1 2-20 2-50 1 12 2-34 2-1 1 70 2 73 2 124 1 85 2 106 2-55 1-281 2-280 2-102 1 55 2 55 2 48 1 36 2 47 2 34 1 33 2 30 1 28 2 22 2 23 1 22 2 15 2 18 1 17 2 15 2 10 1 10 2 11 2 11 1 12 1 2 9 32 9 21 9 14 9 3 8 7 9 5 9-1 9-1 9 3 9-1 8 2 9-1 9-5 9 2 9 2 8-3 9 1 9-2 9-2 9 0 8-3 9 3 9-2 9 1 9-2 9 1 8-3 9 0 9-1 9 0 9 1 8 1 9-3 9-1 9-2 6 2 7-2 7-4 6-3 7-6 6-4 7-8 7 0 6-4 7-4 7-5 6-2 7-7 6-7 7-2 7-8 6-7 7-10 6-6 7-14 7-14 6-18 7-17 6-15 7-11 7-5 6 3 7 1 6 6 7 4 7 7 6 8 7 2 7 2 6 1 7 2 6 7 7-4 7 2 6-9 7 5 6-2 7-2 7 5 6 1 7-1 6 5 7 6 7 1 6 2 7 1 6 0 7 4 7 1 6 1 7 4 7 0 6 0 7-2 6-1 7 1 7-2 6 4 7-3 6 4 7 1 7-2 6 6 7 0 6-4 7 7 7 16 6-5 7 19 7-2 6 16 7 7 6 17 7 2 7 10 6 7 7 12 6 18 3-7 5 5 6 4 5 11 6-6 5 15 6 12 5-13 6 16 5-10 6 5 5 9 6-4 5-5 6 7 5-1 6 4 5-3 6-8 5 12 6-3 5-3 6 11 5-12 6 10 5-17 6 23 5-9 6 2 5-12 6 9 5-15 6-1 5 12 6 12 5 4 6-13 5-11 6 1 5 15 6-2 5-11 6 4 5 14 6-6 5-5 6-4 5 3 6-4 5-2 6 9 5-13 6 10 5-12 6 14 5-8 6 7 6-6 5 0 6 17 5-4 6 3 5-6 6-2 5-4 6 8 5-12 6 7 5-13 6-5 5 14 6 7 5 11 6-21 5 0 6 3 5 14 6-15 5-10 6 22 5-5 6-3 5 5 6-11 5-1 6 8 5-16 6 6 5 24 6-25 5 20 6-1 5-14 6 20 5-6 6-4 5-25 6 22 5-16 6 17 5-13 6 6 5 2 6-6 5 10 6 19 5-22 6 2 5 7 6-6 5-3 6 9 5-1 6 3 5-7 6-1 5-10 6 28 5-14 6-3 5 8 6-22 5 8 6 4 6-5 8 6 5-2"/>
<path stroke="#17becf" d="M180 2810l2 16 2-3 1-13 2-16 1 19 2 24 2 28 1 12 2-14 2 15 1-33 2 0 2-19 1-16 2 100 2 46 1 101 2 68 2 72 1 21 2-22 2-22 1-21 2-14 2 3 1 4 2 0 1 2 2 3 2-1 1 3 2 0 2 0 1 2 2 1 2 1 1 3 2-1 2 1 1 1 1 2 9-2 9 3 9 1 9-1 8 2 9 1 9 1 9-2 9-2 9 6 8-6 9 2 9-1 9 1 9-2 8 3 9-1 9 0 9 1 9 1 8-4 9 2 9-1 9 1 9-1 9-2 8 2 9-1 9 2 9-1 9 1 8 0 9 0 9-2 9 0 6 3 7-4 7 3 6 0 7-1 6-1 7 0 7-5 6-1 7-6 7-7 6-4 7-5 6-7 7-4 7-11 6-5 7-4 6-5 7-6 7-11 6-8 7-5 6-3 7-4 7 2 6 3 7 10 6 4 7 6 7 6 6-7 7 2 7 2 6-1 7-3 6 4 7-2 7 2 6-2 7 2 6-2 7 0 7-4 6 5 7-1 6-1 7 0 7 1 6-1 7 2 6-2 7 4 7-3 6 5 7-2 7-2 6-2 7 0 6 2 7 3 7-10 6 3 7 7 6-4 7 0 7-1 6 4 7-3 6 1 7-2 7 5 6 4 7-7 7 9 6 4 7 5 6 4 7 15 7 1 6 11 7 3 6 1 3-3 5 17 6-10 5 11 6-6 5 4 6 1 5-8 6 5 5 3 6 3 5-13 6 11 5-4 6-13 5 11 6 8 5 0 6-14 5 12 6 2 5-2 6 0 5-10 6 6 5-3 6 5 5-10 6 11 5-2 6 5 5 2 6-19 5 5 6 9 5 0 6 1 5 0 6 8 5-7 6 3 5-13 6 11 5 2 6 6 5-10 6-18 5 11 6 4 5 3 6 3 5-13 6 9 5-18 6 21 5 13 6-17 6-2 5 11 6-15 5 16 6-9 5-10 6-14 5 5 6 12 5 15 6 5 5-14 6 5 5 0 6-10 5 8 6-12 5-1 6 1 5 3 6 4 5 14 6-22 5 19 6-24 5 10 6 9 5-4 6-3 5 1 6 2 5 6 6-3 5 4 6-4 5 1 6-9 5-5 6-3 5 18 6 4 5-11 6 3 5-5 6-4 5-10 6 17 5-7 6 13 5-14 6 8 5-8 6 6 5-15 6 13 5-4 6 4 5 7 6-3 5-4 6 6 5-8 6 12 5-26 6 11 5-1 6 1 6 16 8-25 5 4"/>
<path stroke="#e377c2" d="M180 2549l2-10 2-12 1 1 2 0 1-4 2 8 2 7 1-4 2 1 2-12 1 10 2 5 2 35 1 7 2-21 2 12 1 49 2 119 2 151 1 122 2 109 2 97 1-230 2-230 2-228 1 19 2 20 1 19 2 15 2 19 1 9 2 16 2 7 1 17 2 5 2 10 1 7 2 7 2 6 1 7 1 1 9 23 9 13 9 10 9 1 8 5 9 2 9 5 9 0 9 0 9-1 8 1 9-2 9 1 9 2 9 1 8-2 9 2 9-2 9 2 9-1 8 2 9-1 9 0 9 2 9-1 9 1 8-1 9 5 9-6 9 4 9-2 8 2 9-1 9 2 9 2 6-6 7-2 7 1 6-6 7-7 6-1 7-5 7-2 6-1 7-5 7-2 6-6 7-3 6-6 7-3 7-4 6-8 7-3 6-14 7-13 7-12 6-9 7-19 6-12 7-8 7-7 6 1 7 1 6 2 7 6 7 5 6 0 7 5 7 1 6 6 7 1 6 1 7 1 7 2 6-7 7 4 6-4 7 0 7 3 6 4 7-3 6 3 7 6 7 1 6 0 7-1 6-1 7 4 7 4 6-1 7 2 7-2 6 3 7 0 6 4 7-3 7 0 6-2 7 2 6 1 7-1 7 0 6 3 7 1 6 3 7 0 7 0 6 10 7 3 7 8 6-7 7 3 6 4 7 4 7-4 6 0 7-2 6-1 3 5 5-8 6-5 5 4 6-2 5-3 6-4 5 11 6-8 5-7 6 7 5-2 6 2 5 4 6 9 5 2 6-10 5-4 6 5 5 2 6-1 5-2 6-1 5 3 6-7 5 5 6-1 5 6 6 2 5-21 6 24 5 0 6-13 5-6 6 18 5-16 6 8 5 5 6-11 5 10 6-1 5-9 6 1 5-4 6 15 5-5 6 3 5 0 6-14 5 11 6 4 5-7 6-5 5 15 6-4 5-8 6 8 6 5 5-18 6-22 5 46 6-10 5-3 6-2 5-15 6 12 5-5 6 11 5 1 6-11 5-3 6 0 5 19 6-14 5 19 6-13 5 3 6 6 5-8 6-4 5 11 6-19 5 6 6 3 5 0 6 1 5 3 6-5 5 3 6 15 5-25 6 11 5-3 6-1 5-5 6-4 5 30 6-25 5 9 6-5 5-1 6 9 5-16 6 15 5-10 6 6 5 16 6-17 5-11 6 0 5 18 6-4 5 6 6-7 5-1 6-7 5-4 6 13 5 3 6-6 5 5 6-13 5-1 6 24 6-7 8-9 5 3"/>
<path stroke="#d62728" d="M180 3130l2-26 2 41 1-3 2 13 1 7 2-25 2-4 1 6 2 17 2 41 1 27 2-36 2-57 1-58 2-49 2 8 1 13 2 13 2 11 1 7 2 8 2 8 1 7 2 6 2 7 1 7 2 2 1 1 2 8 2 1 1 5 2 4 2 0 1 4 2-1 2 4 1 1 2 1 2 2 1 3 1-2 9 9 9 3 9 0 9 0 8 2 9 0 9-1 9 1 9 1 9 1 8 0 9-1 9 3 9-1 9-4 8 6 9-5 9 2 9 1 9-3 8 1 9-1 9 1 9 2 9-2 9-1 8 1 9 0 9 3 9-5 9 0 8 4 9-7 9 4 9 0 6 3 7-5 7 1 6 0 7 1 6 1 7-2 7-1 6-6 7-2 7-6 6-5 7-5 6-5 7-7 7-7 6-2 7-5 6-7 7-2 7-9 6-7 7-6 6-7 7-3 7 5 6 6 7 4 6 8 7 5 7-2 6 0 7 2 7-2 6 3 7-1 6-2 7 3 7-7 6 6 7-1 6 0 7-2 7 1 6 0 7-3 6-1 7 3 7 4 6-4 7 2 6-4 7 1 7 2 6-4 7 4 7 3 6-2 7-2 6 1 7 3 7-1 6 1 7 1 6-6 7 1 7 3 6 0 7-6 6-1 7 6 7 3 6-4 7-3 7 12 6 3 7-2 6 11 7 0 7 11 6 3 7 1 6 5 3 6 5 2 6-8 5 9 6 6 5-6 6-4 5-6 6 8 5 0 6 1 5 0 6 2 5-6 6-1 5 7 6 0 5 6 6-13 5 8 6-2 5 7 6-9 5-10 6 9 5 5 6-5 5-6 6 3 5 9 6 0 5-5 6 8 5 2 6-1 5-14 6-2 5-1 6 2 5 8 6 7 5-8 6-6 5 25 6-8 5-17 6 6 5 4 6-10 5 11 6-13 5 23 6-13 5 10 6-10 5-18 6 30 6-18 5 6 6 10 5-11 6 3 5-9 6 8 5 7 6-4 5-12 6 11 5-3 6 11 5-10 6-9 5 18 6-3 5-14 6-1 5 7 6 6 5-3 6-1 5-11 6-3 5 14 6 5 5-19 6 4 5 7 6 4 5 8 6-8 5 2 6-3 5-3 6 7 5-12 6 5 5 4 6 1 5-4 6-9 5 5 6 14 5-8 6-11 5 4 6-5 5 10 6-3 5-10 6 14 5 8 6-18 5-3 6 1 5 9 6 6 5-1 6-12 5 19 6-11 5-11 6 1 5 10 6 8 6-6 8-1 5 9"/>
<path stroke="#1f77b4" d="M180 2847l2 0 2-13 1-13 2 5 1 2 2-16 2 12 1 12 2 3 2-20 1 17 2-21 2 29 1 89 2 71 2 82 1 80 2 40 2-303 1-303 2-188 2 33 1 25 2 25 2 21 1 22 2 17 1 16 2 18 2 14 1 13 2 12 2 9 1 11 2 12 2 5 1 6 2 7 2 6 1 6 1 2 9 23 9 11 9 8 9 5 8 0 9 2 9 3 9-3 9 2 9 0 8 1 9-3 9 5 9-4 9 1 8 1 9 0 9-2 9 0 9-3 8 0 9 0 9 0 9 0 9 2 9-1 8-1 9 1 9-2 9-1 9 0 8 1 9-2 9 0 9 0 6-2 7-2 7-1 6-4 7-5 6-1 7-2 7-5 6-4 7-4 7-1 6-2 7-7 6-4 7-5 7-4 6-5 7-7 6-7 7-13 7-13 6-9 7-16 6-11 7-9 7-4 6-3 7 9 6-1 7 4 7 2 6 4 7 2 7 5 6-1 7 4 6 3 7 0 7-5 6-1 7-3 6 2 7 3 7 1 6-1 7 5 6 0 7 2 7 0 6 2 7 2 6 1 7 0 7 4 6-2 7-1 7 7 6-6 7 2 6-2 7 9 7-8 6 2 7 2 6-1 7-2 7 4 6 0 7-3 6 7 7 2 7 7 6 3 7 0 7 9 6 1 7 12 6 7 7-11 7 6 6-1 7 13 6 1 3-7 5 9 6 1 5-8 6 8 5-2 6 2 5 5 6-3 5 2 6 9 5 0 6-2 5 8 6-14 5 14 6-8 5 4 6-3 5 0 6 13 5-5 6-18 5 15 6-3 5 0 6-7 5 3 6-5 5 14 6-14 5 12 6 0 5-12 6 12 5 4 6-9 5-7 6 6 5 4 6-12 5 2 6 14 5-10 6 2 5-7 6 4 5-1 6 8 5-3 6-5 5 11 6-1 5 18 6-21 5-3 6-7 6 21 5-22 6 9 5 7 6-8 5 9 6-5 5 8 6-8 5 10 6-10 5 2 6 6 5 2 6-16 5-8 6 17 5 7 6-6 5-5 6-11 5 14 6-5 5 3 6 16 5-21 6 8 5-7 6 5 5-9 6 6 5 2 6 15 5-21 6-3 5 6 6-5 5 2 6-1 5 6 6-6 5 7 6 3 5-5 6-10 5 25 6-15 5 5 6-4 5 9 6-14 5 4 6-10 5 11 6 8 5-10 6 3 5 6 6 0 5-6 6-8 5 2 6 9 5-3 6 5 5-1 6-2 6-12 8-5 5 19"/>
<path stroke="#2ca02c" d="M180 2573l2-10 2 6 1 32 2 14 1 1 2-36 2-6 1-11 2-5 2-46 1 12 2-1 2-3 1 88 2 148 2 135 1 130 2 132 2 20 1-154 2-154 2-84 1 39 2 38 2 29 1 30 2 29 1 23 2 25 2 21 1 18 2 20 2 12 1 14 2 14 2 15 1 9 2 10 2 6 1 10 1 3 9 29 9 22 9 10 9 6 8 2 9 7 9-2 9 1 9 2 9 2 8 0 9 0 9-3 9 3 9-1 8 2 9-2 9-1 9 1 9 0 8-1 9 3 9-2 9 0 9-1 9 0 8 0 9 1 9 0 9-2 9 0 8 1 9 0 9 2 9-4 6 3 7 0 7 1 6 0 7-1 6 0 7 2 7-3 6 0 7-3 7 4 6 0 7-3 6 3 7-5 7 2 6-1 7 3 6-5 7 1 7 2 6-3 7 3 6-5 7 1 7 1 6 2 7 2 6-4 7 0 7 3 6-3 7 0 7 2 6 0 7 0 6-4 7 5 7-2 6 0 7 1 6-3 7 6 7-4 6 2 7 1 6-5 7 5 7-5 6 3 7 5 6-9 7-1 7 9 6-4 7 1 7 0 6-2 7-1 6 5 7-3 7 1 6-1 7-3 6 3 7 0 7 1 6 2 7-7 6 6 7-1 7-1 6-4 7 3 7 3 6-3 7 6 6-3 7 4 7-6 6 4 7-9 6 15 3-4 5 4 6-3 5 0 6 3 5 0 6-3 5 3 6-7 5 7 6 0 5-3 6 3 5 0 6 0 5 0 6 0 5-3 6 1 5-1 6 3 5 0 6 0 5-10 6 10 5-1 6-4 5 5 6 0 5 0 6-3 5-3 6 4 5 2 6-8 5 6 6 2 5 0 6 0 5 0 6-1 5 1 6-13 5 13 6 0 5-5 6 5 5-1 6 1 5-1 6 1 5-2 6 1 5 1 6-10 5 3 6 7 6-9 5 9 6 0 5-1 6-7 5 5 6 3 5 0 6-4 5-3 6 7 5-4 6-10 5 14 6 0 5 0 6-1 5 1 6 0 5 0 6 0 5-13 6 13 5 0 6-6 5-1 6-2 5 9 6-26 5 26 6 0 5-4 6 4 5 0 6 0 5-1 6 1 5 0 6-11 5 3 6 7 5 1 6-3 5 2 6 1 5-1 6 1 5 0 6 0 5 0 6-5 5 5 6 0 5-8 6 6 5 2 6-6 5 6 6-6 5 6 6-2 5 2 6 0 5-4 6 4 5 0 6 0 6 0 8 0 5 0"/>
<path stroke="#ff7f0e" d="M180 2636l2 11 2 12 1-10 2-13 1-2 2-18 2 20 1 109 2 102 2 125 1 109 2 95 2-65 1-285 2-285 2-121 1 31 2 37 2 29 1 26 2 24 2 22 1 16 2 19 2 16 1 15 2 15 1 11 2 14 2 11 1 2 2 14 2 6 1 10 2 5 2 4 1 4 2 7 2 5 1 5 1 1 9 13 9 11 9 7 9 1 8 2 9 5 9-2 9 2 9 0 9 3 8 0 9 1 9-5 9 2 9-4 8 3 9 1 9 2 9-1 9-1 8 5 9-2 9 0 9-1 9 3 9 0 8 2 9-4 9 2 9 0 9-1 8 3 9 0 9-2 9 3 6-1 7-2 7-3 6 1 7-5 6-2 7-2 7-5 6 0 7-4 7-3 6-5 7-1 6-3 7-5 7-5 6-4 7-3 6-6 7-11 7-11 6-8 7-11 6-10 7-8 7-3 6 1 7-2 6 3 7 7 7 1 6 5 7 1 7 1 6 2 7 3 6 3 7-2 7-1 6-4 7-1 6 2 7 1 7 2 6 0 7-1 6 3 7 1 7 3 6 3 7 2 6-2 7 2 7 0 6 3 7-3 7 3 6-2 7-1 6 6 7-5 7 0 6 0 7 3 6-1 7 1 7-1 6 5 7-5 6 7 7-2 7 8 6 0 7-3 7 3 6 6 7 2 6-1 7 0 7 2 6-3 7-4 6 8 3-5 5 0 6-10 5 8 6 1 5 3 6-2 5-2 6 5 5-11 6 15 5-2 6-7 5 9 6-1 5-5 6-8 5 2 6 4 5 3 6-1 5 9 6-13 5 5 6-8 5 5 6 5 5-5 6 11 5-6 6 6 5-2 6-3 5-2 6 1 5-2 6-7 5 5 6 3 5 4 6-2 5 6 6-17 5 23 6-19 5 5 6-3 5-3 6-1 5 6 6 8 5-10 6-9 5 24 6-7 5-6 6 14 6-8 5-3 6 23 5-31 6 11 5-4 6-7 5-5 6 4 5 9 6 11 5-19 6 13 5-9 6 0 5-4 6-7 5 4 6 1 5-16 6 31 5-7 6-2 5 17 6-34 5 20 6 6 5-6 6-1 5-2 6-5 5-10 6-4 5 31 6-4 5-18 6 26 5-13 6-2 5 0 6-9 5 14 6-16 5 6 6 2 5-3 6-2 5 8 6 12 5-16 6 25 5-33 6 27 5-14 6-17 5 19 6-4 5 4 6-4 5-3 6 4 5 6 6-15 5 9 6 3 5-13 6 25 6-10 8-6 5-19"/>
<path stroke="#d62728" d="M180 2790l2 10 2-14 1-12 2 5 1 1 2-9 2 9 1-14 2 18 2 8 1-12 2-26 2 5 1 22 2 0 2 29 1 44 2 95 2 54 1 73 2 79 2 52 1-438 2-333 2 15 1 11 2 16 1 8 2 13 2 9 1 7 2 14 2 4 1 5 2 6 2 7 1 7 2 3 2 3 1 8 1 0 9 16 9 9 9 3 9 5 8 0 9 3 9-4 9 1 9 1 9 3 8-1 9-1 9 0 9 0 9 1 8 2 9-1 9-1 9 0 9 1 8-3 9 2 9 1 9 0 9-2 9 0 8 0 9 3 9-2 9-2 9-1 8 3 9 2 9-2 9-1 6 2 7-3 7-2 6-2 7-4 6-1 7-2 7-3 6-3 7-2 7-6 6 0 7-3 6-1 7-6 7-1 6-6 7-4 6-5 7-9 7-11 6-8 7-11 6-7 7-10 7-1 6 1 7 2 6 0 7 1 7 5 6 4 7 0 7 3 6 0 7 3 6 2 7-1 7 0 6-5 7-1 6 2 7 0 7 2 6 1 7 0 6 2 7 0 7 4 6-3 7 0 6 7 7-6 7 5 6 1 7 3 7-2 6 0 7-4 6 7 7-5 7 3 6-3 7 6 6-6 7-1 7 8 6-5 7 4 6 1 7-4 7 12 6-3 7 7 7 6 6 1 7 0 6 11 7-4 7 2 6 13 7 3 6-10 3 8 5 3 6-11 5 12 6 10 5-9 6 13 5 4 6-9 5-1 6 5 5-6 6 15 5-4 6-10 5 3 6 3 5 7 6-1 5-8 6 4 5-3 6 5 5-4 6 14 5-10 6-4 5-5 6-2 5 13 6 1 5 4 6-16 5 11 6-13 5 13 6-1 5-2 6-4 5-1 6 1 5-11 6 18 5-13 6 9 5-1 6 6 5-5 6 0 5 2 6 5 5-10 6-4 5 7 6-1 5 6 6-2 6-2 5 7 6-6 5 3 6-8 5 15 6-7 5-13 6 1 5 21 6-12 5 12 6 5 5-18 6 1 5 5 6-14 5-8 6 31 5-23 6 6 5 14 6-12 5 7 6-5 5-14 6 5 5 7 6-9 5 17 6-6 5-16 6 17 5-8 6 1 5 9 6-22 5 8 6 10 5-15 6 24 5-39 6 37 5-3 6-12 5 6 6-7 5 23 6-17 5 5 6-2 5-14 6-5 5 18 6 11 5-7 6-7 5 5 6-7 5 15 6-6 5-3 6 16 5-23 6-3 5 6 6-3 6 0 8 10 5-1"/>
<path stroke="#e377c2" d="M180 2849l2 8 2 30 1-12 2 2 1-20 2-11 2 26 1-46 2-6 2 49 1 65 2 73 2 77 1 76 2 53 2-189 1-190 2-189 2-189 1-14 2 27 2 20 1 20 2 18 2 18 1 13 2 18 1 9 2 14 2 10 1 9 2 9 2 9 1 4 2 7 2 8 1 3 2 5 2 4 1 7 1 3 9 15 9 7 9 9 9-1 8 5 9-1 9 0 9 4 9-3 9 2 8 0 9 0 9 1 9 0 9-2 8 1 9-2 9 1 9 1 9-2 8 2 9-1 9 1 9 1 9-3 9 2 8 2 9-3 9 0 9 1 9 0 8 2 9 1 9-5 9 1 6 3 7-5 7-1 6-4 7-3 6-2 7-6 7-1 6-1 7-5 7-3 6-2 7-5 6-1 7-6 7-3 6-8 7-5 6-9 7-10 7-7 6-14 7-15 6-10 7-9 7-4 6 3 7 3 6 3 7 0 7 5 6 4 7 2 7 1 6 1 7 7 6-2 7 1 7-4 6-1 7-2 6 0 7 3 7 1 6 5 7-3 6-1 7 6 7 0 6 1 7 0 6 4 7-1 7 4 6 0 7 2 7-2 6 9 7-8 6-4 7 5 7 1 6-3 7 3 6-3 7 3 7 3 6-4 7 5 6 1 7-8 7 9 6 5 7 6 7 3 6 3 7-2 6 12 7-4 7 3 6 6 7-7 6 0 3 9 5-3 6-6 5 10 6-3 5 0 6 9 5-4 6-1 5 4 6-6 5 8 6-1 5 0 6 1 5-5 6 1 5 11 6 4 5-17 6-3 5 14 6-8 5 4 6 3 5 0 6-2 5 6 6-4 5 3 6-9 5 4 6-1 5 7 6-6 5 4 6-6 5 3 6 1 5-5 6-7 5 14 6-13 5 6 6-8 5 19 6-6 5-1 6-13 5 4 6 7 5 2 6 4 5-5 6-2 5-8 6 6 6-5 5 15 6-12 5 14 6-12 5 2 6 12 5-25 6 20 5-5 6-13 5 16 6-6 5-13 6 18 5 7 6-4 5-26 6 14 5 8 6-2 5-3 6 6 5-10 6 21 5-16 6-5 5-1 6-8 5 14 6 7 5 10 6-20 5-6 6 19 5 0 6-13 5 1 6 18 5-9 6 5 5-8 6 4 5-4 6-12 5 21 6 3 5-17 6 11 5-5 6-1 5-5 6 10 5-5 6-14 5 17 6-4 5 8 6-6 5-3 6-4 5 8 6-8 5 10 6-11 5 2 6 7 6 1 8-12 5 10"/>
<path stroke="#e377c2" d="M180 3135l2-2 2-35 1-22 2 10 1 28 2 3 2-26 1-15 2-5 2 5 1 38 2 21 2 30 1 34 2 2 2-199 1-200 2-35 2 42 1 37 2 33 2 31 1 26 2 24 2 26 1 19 2 20 1 16 2 17 2 16 1 11 2 13 2 12 1 9 2 8 2 7 1 8 2 9 2 8 1 2 1 5 9 23 9 10 9 8 9 6 8 0 9 6 9-1 9 0 9 1 9 1 8-1 9 0 9 0 9 2 9 0 8-3 9 0 9 4 9-4 9-1 8 2 9-1 9 1 9 1 9 1 9-2 8-2 9 2 9 1 9 2 9-2 8 0 9-6 9 6 9 0 6 0 7 3 7-3 6 0 7 2 6-1 7-3 7 2 6-5 7 4 7-6 6 3 7-2 6 2 7-4 7 0 6 1 7 1 6-4 7 3 7-5 6-2 7 0 6-4 7 0 7 2 6 0 7 1 6 2 7 0 7 1 6-1 7 1 7-1 6 1 7 0 6 1 7-2 7 3 6-3 7-3 6 2 7 4 7-4 6 6 7-7 6 1 7 4 7-4 6 1 7 1 6 1 7-7 7 3 6 6 7 0 7-1 6-4 7-6 6 5 7 0 7 3 6 1 7 2 6-6 7 6 7-6 6-3 7 9 6-6 7 1 7-1 6 3 7-6 7 5 6 6 7-2 6 8 7 7 7-4 6 3 7 2 6 3 3 0 5 0 6 0 5-9 6 9 5 0 6 0 5 0 6 0 5 0 6 0 5 0 6 0 5 0 6 0 5 0 6 0 5 0 6 0 5 0 6 0 5 0 6 0 5-1 6 1 5 0 6 0 5 0 6-5 5 5 6 0 5-3 6 3 5 0 6 0 5-1 6 1 5 0 6-6 5 6 6 0 5-11 6 11 5 0 6 0 5 0 6 0 5 0 6 0 5 0 6 0 5 0 6 0 5 0 6-2 5 2 6 0 6 0 5-3 6 3 5-2 6 2 5 0 6 0 5 0 6 0 5-2 6 2 5-5 6 5 5 0 6 0 5 0 6 0 5-2 6 2 5 0 6 0 5 0 6 0 5 0 6 0 5 0 6 0 5 0 6 0 5 0 6-6 5 6 6 0 5 0 6-1 5 1 6 0 5 0 6 0 5 0 6 0 5 0 6 0 5-7 6 7 5-1 6 1 5 0 6-4 5-10 6 2 5 12 6-6 5 6 6-7 5 7 6 0 5-16 6 7 5 9 6 0 5 0 6 0 5-5 6 5 5 0 6 0 6 0 8 0 5 0"/>
<path stroke="#d62728" d="M180 3055l2-9 2-3 1-2 2 16 1 1 2 18 2 8 1-45 2 19 2-8 1 54 2 30 2 15 1 43 2 33 2-362 1-431 2 61 2 56 1 51 2 48 2 42 1 39 2 37 2 33 1 27 2 26 1 29 2 17 2 24 1 17 2 16 2 15 1 13 2 14 2 13 1 9 2 11 2 5 1 10 1 6 9 26 9 21 9 15 9 3 8 3 9 3 9-1 9 4 9-1 9 3 8-3 9 2 9-2 9 3 9-4 8-1 9 2 9 0 9-1 9-1 8-4 9 5 9 0 9-3 9 2 9-3 8 1 9 0 9 0 9 2 9-5 8 1 9 2 9-4 9 3 6 2 7-7 7-5 6-4 7-3 6-7 7-5 7-2 6-7 7-2 7-6 6-7 7-5 6-5 7-8 7-5 6-6 7-12 6-12 7-19 7-15 6-19 7-25 6-15 7-15 7-6 6 4 7 3 6 9 7 3 7 6 6 7 7 6 7 4 6 4 7 2 6 6 7 3 7-8 6-4 7-3 6 2 7 3 7 0 6 1 7 2 6 6 7 0 7 7 6 0 7 2 6 4 7 8 7-2 6 1 7 5 7-3 6 6 7-3 6 2 7-3 7-1 6 7 7-9 6 6 7-2 7-6 6 3 7 11 6 6 7-4 7 14 6 4 7 12 7 13 6 11 7 6 6 4 7 11 7 0 6 14 7 2 6 7 3 9 5-4 6 9 5-5 6 3 5 7 6-1 5 7 6-1 5-1 6 10 5 6 6-21 5 14 6 4 5 3 6-6 5-4 6-5 5 11 6-6 5 12 6-11 5 11 6-8 5 11 6-13 5 10 6-3 5 1 6-5 5-10 6 14 5-5 6 1 5 4 6-15 5 12 6-8 5 4 6 2 5 0 6 1 5-7 6 11 5-9 6 3 5 2 6-12 5 9 6 15 5-8 6-9 5 5 6 1 5 2 6-16 6 16 5-4 6-10 5 17 6-22 5 20 6-10 5 2 6-3 5 9 6-3 5-8 6 13 5 8 6-20 5 9 6-10 5 3 6 2 5 20 6-12 5-4 6 6 5 0 6 0 5-14 6 4 5 12 6-11 5-5 6 0 5 1 6 9 5 0 6 16 5-22 6 10 5-4 6-17 5 14 6-8 5 10 6 5 5-22 6 14 5-12 6 22 5-18 6 5 5-15 6 32 5-10 6-4 5 2 6-4 5 20 6-16 5 9 6-9 5-2 6 14 5-22 6 11 5 7 6-6 5-11 6 18 6-6 8 0 5-7"/>
<path stroke="#9467bd" d="M180 2871l2 41 2-7 1 10 2-4 1-50 2 15 2 61 1 70 2 56 2 76 1 64 2-83 2-195 1-195 2-195 2-96 1 45 2 45 2 40 1 33 2 36 2 24 1 32 2 24 2 23 1 20 2 19 1 16 2 17 2 12 1 16 2 8 2 11 1 12 2 8 2 6 1 10 2 5 2 6 1 5 1 3 9 22 9 14 9 7 9 5 8 2 9 0 9 0 9 2 9 1 9-2 8 1 9 0 9-1 9-6 9 5 8-2 9 1 9-2 9-1 9-2 8 0 9-2 9-1 9-1 9 3 9-1 8-2 9-3 9 4 9-4 9 1 8-1 9-2 9 1 9 2 6-2 7-5 7 0 6-6 7-5 6-4 7-4 7-4 6-3 7-4 7-4 6-4 7-5 6-3 7-9 7-5 6-7 7-9 6-6 7-14 7-14 6-16 7-18 6-13 7-12 7-5 6 0 7 4 6 3 7 4 7 5 6 5 7 3 7 1 6 5 7 4 6 2 7 3 7-5 6-3 7 0 6 1 7 3 7 0 6 0 7 1 6 4 7 4 7 2 6-3 7 1 6 4 7 5 7-5 6 8 7 0 7 1 6 1 7-2 6 4 7-9 7 5 6 5 7 1 6-4 7 3 7-1 6-6 7 4 6 11 7-2 7 4 6 9 7 6 7 9 6 3 7 3 6 7 7 12 7 3 6 7 7 2 6-6 3 14 5-10 6 13 5-3 6-1 5 4 6 6 5 3 6-5 5 14 6-5 5 3 6 1 5-1 6 4 5 0 6 0 5-6 6 1 5 7 6-2 5-7 6 13 5-8 6-3 5 4 6 3 5-14 6 19 5-12 6-7 5 16 6-3 5-5 6 4 5 14 6-25 5 17 6-10 5 13 6-21 5 14 6-7 5 0 6 0 5 6 6 1 5 7 6-14 5 5 6-5 5-7 6 6 5 2 6 0 5 0 6 6 6-7 5-1 6-4 5 28 6-22 5-2 6 0 5 8 6-1 5 1 6-3 5 5 6-9 5-8 6 14 5-2 6 2 5-4 6 15 5-9 6-4 5-7 6 11 5-2 6-1 5-6 6 0 5 0 6 13 5-13 6 7 5-1 6 7 5-8 6-1 5 20 6-23 5 4 6 4 5 0 6 1 5-3 6-9 5-1 6 9 5-2 6 7 5 0 6 6 5 4 6-27 5 12 6-22 5 24 6 2 5-2 6-5 5-7 6 6 5-3 6 5 5-2 6-3 5-1 6 15 5-13 6 5 6-22 8 26 5-9"/>
<path stroke="#d62728" d="M180 2862l2 3 2-40 1 15 2 42 1 60 2 45 2 72 1 67 2 81 2-188 1-299 2-299 2 30 1 37 2 37 2 35 1 27 2 31 2 24 1 25 2 20 2 18 1 17 2 16 2 15 1 14 2 14 1 9 2 11 2 7 1 10 2 8 2 2 1 9 2 7 2 3 1 3 2 5 2 3 1 3 1 6 9 13 9 9 9 2 9 4 8 3 9 1 9-1 9 3 9-2 9 1 8 2 9-2 9 2 9 2 9-5 8 6 9-7 9 4 9-1 9 2 8 0 9 2 9 0 9-4 9 3 9 0 8 1 9 0 9-1 9-1 9 3 8 2 9-3 9 0 9 0 6 2 7-5 7 1 6-6 7-7 6 1 7-6 7-4 6-4 7-4 7 0 6-5 7-1 6-9 7-3 7-2 6-9 7-6 6-11 7-10 7-12 6-12 7-16 6-15 7-7 7-8 6 5 7-3 6 9 7 0 7 3 6 4 7 6 7 3 6 1 7 4 6 4 7-2 7-1 6-3 7-2 6-1 7 4 7-2 6 5 7-2 6 5 7-2 7 2 6 4 7 8 6-4 7 3 7-2 6 5 7 0 7 5 6-7 7-3 6 5 7 4 7-8 6 4 7 2 6-3 7 2 7 0 6 2 7 5 6-4 7 5 7-3 6 11 7 6 7 2 6 13 7 1 6 2 7 2 7 3 6 0 7 5 6 9 3-1 5-16 6 14 5-1 6 9 5-1 6-4 5 2 6 0 5-1 6 10 5 0 6 4 5-1 6-2 5-1 6 1 5 10 6-3 5-3 6 0 5-2 6-13 5 2 6 11 5-6 6 3 5 5 6-2 5-10 6 15 5-8 6-9 5 0 6 3 5 14 6-6 5-1 6 2 5 3 6-8 5-2 6 11 5-9 6 3 5 7 6-26 5 17 6-2 5 14 6-3 5-15 6-1 5 15 6-12 5 1 6 10 6-5 5-4 6-14 5 17 6-9 5 17 6 8 5-21 6 12 5-6 6 0 5 3 6-12 5 1 6-8 5 9 6 2 5-4 6-2 5-10 6 12 5 8 6-3 5 1 6 11 5-16 6 1 5-14 6 21 5-5 6 11 5-20 6 0 5 25 6-2 5-5 6-4 5 2 6-1 5 7 6-5 5-14 6 4 5-1 6 11 5-7 6-1 5 5 6-10 5 15 6-8 5 21 6-22 5 5 6-6 5 0 6-3 5 3 6 4 5 4 6-11 5 4 6 10 5-28 6 37 5-15 6-8 6 15 8-2 5-4"/>
<path stroke="#bcbd22" d="M180 2897l2 28 2-4 1 9 2 15 1-28 2 34 2-6 1-15 2 21 2 72 1 19 2 56 2 52 1 60 2-88 2-184 1-185 2-184 2-169 1 41 2 45 2 36 1 31 2 35 2 24 1 31 2 22 1 25 2 18 2 19 1 13 2 15 2 14 1 14 2 7 2 14 1 7 2 11 2 5 1 9 1 3 9 27 9 16 9 6 9 10 8 2 9 5 9-4 9 3 9 0 9 1 8 0 9 0 9 1 9-3 9 1 8 0 9-1 9 0 9 0 9-2 8 0 9 0 9 2 9-2 9-1 9-2 8 1 9-1 9 0 9-1 9 2 8-2 9-1 9 1 9 0 6 1 7-3 7-4 6-4 7-1 6 0 7-7 7-3 6-3 7-1 7-4 6-4 7-6 6-5 7-4 7-5 6-4 7-7 6-4 7-13 7-12 6-11 7-13 6-14 7-10 7-5 6 1 7 3 6 6 7 5 7 2 6 1 7 3 7 3 6 2 7 3 6 3 7-2 7-3 6-3 7-1 6 0 7 2 7 2 6 0 7 4 6 4 7 0 7 4 6 2 7 0 6-1 7 0 7 5 6-3 7 6 7 1 6-5 7-1 6 2 7 3 7 5 6-5 7 1 6-4 7-2 7 5 6 5 7-5 6 6 7-2 7 3 6 10 7 2 7 4 6 3 7 5 6 6 7-6 7 5 6-2 7-1 6 7 3-4 5 6 6-5 5-6 6 19 5-8 6-11 5 10 6-2 5 6 6-6 5 1 6-7 5 15 6 0 5-1 6 0 5-7 6 2 5 5 6-8 5 6 6-1 5 1 6 2 5-3 6 9 5-11 6 0 5-2 6 11 5 1 6-18 5 18 6-17 5 6 6 2 5 7 6-7 5-8 6 16 5-9 6-7 5 7 6 9 5-11 6 12 5-9 6 2 5-6 6 8 5-7 6 6 5-5 6 1 5 9 6-2 6-1 5 1 6-8 5 5 6-11 5-2 6 11 5-9 6 8 5-12 6 20 5 6 6-14 5 1 6 8 5-10 6 6 5-11 6 12 5-14 6-3 5 16 6-3 5 0 6-11 5 24 6-12 5-10 6 2 5 11 6-8 5-12 6 24 5-12 6-1 5-1 6 11 5 1 6-7 5 12 6-17 5 6 6-4 5 19 6-14 5 3 6 4 5-15 6 25 5-27 6 13 5 9 6 3 5-20 6-3 5 1 6-10 5 1 6 28 5-19 6 12 5-23 6 17 5-6 6 12 5-11 6 9 6 13 8-5 5-6"/>
<path stroke="#7f7f7f" d="M180 3077l2 34 2 2 1-13 2-6 1-7 2 2 2 6 1-1 2 58 2 44 1 32 2-16 2-16 1-12 2 0 2 3 1 0 2-1 2 2 1 1 2 0 2 2 1 0 2 1 2-1 1-2 2 2 1-1 2 2 2 0 1 0 2-1 2 0 1 3 2-3 2 2 1 0 2-2 2 3 1 0 1-1 9 1 9-2 9 1 9 2 8-5 9 4 9-2 9 0 9 4 9-2 8-2 9 2 9 1 9-1 9-5 8 5 9-2 9 1 9 0 9 0 8 3 9-3 9 1 9-1 9-4 9 6 8-2 9 0 9 0 9 0 9 0 8 0 9 0 9 1 9 0 6-1 7 2 7 1 6 1 7-2 6-2 7-2 7 2 6-6 7-3 7-2 6-2 7-7 6 0 7-4 7-4 6-4 7 1 6-9 7-1 7-7 6-6 7-5 6 1 7-5 7 3 6 1 7 5 6 6 7 0 7 1 6 2 7-4 7 4 6-4 7 1 6 3 7-2 7 3 6-4 7 0 6 6 7-6 7 3 6-1 7 3 6-6 7 2 7 1 6 1 7-2 6 3 7-1 7 0 6 1 7-6 7 3 6-2 7 2 6 1 7 2 7 0 6-5 7 5 6-1 7 4 7-9 6 2 7 4 6-5 7 5 7-8 6-2 7 9 7 4 6 6 7-2 6 5 7 2 7 7 6-12 7 14 6-4 3 9 5-4 6-9 5 12 6 0 5-3 6 8 5 8 6-13 5-8 6 3 5 9 6-9 5 11 6-9 5-2 6-1 5 1 6 8 5-8 6-11 5 16 6-8 5-2 6 0 5 7 6 1 5 8 6-2 5-6 6-6 5 16 6-16 5 5 6-4 5 2 6-6 5 3 6 22 5-12 6-3 5-5 6-2 5 0 6 3 5 4 6 0 5-4 6 11 5-1 6-2 5 5 6-2 5-14 6-5 5 9 6 1 6 4 5-10 6 30 5-26 6-2 5 11 6 9 5-22 6 4 5 7 6 9 5 1 6-4 5-5 6-6 5-2 6 1 5-4 6 13 5-1 6-14 5 7 6 6 5-8 6 1 5 5 6-14 5 2 6 11 5-27 6 27 5-5 6 10 5-7 6 11 5-13 6 0 5 8 6-14 5 9 6-20 5 8 6 8 5 0 6 21 5-40 6 36 5-10 6 0 5 1 6 5 5-2 6-11 5-5 6 0 5 11 6-21 5 37 6-28 5 1 6 15 5-4 6-5 5-4 6 19 5-20 6 8 6 3 8-9 5 18"/>
<path stroke="#17becf" d="M180 2915l2 5 2 7 1 1 2-4 1 5 2-2 2-15 1 0 2 5 2-20 1 21 2-6 2 8 1 24 2 23 2 29 1 57 2 58 2 54 1 58 2-74 2-94 1-93 2-38 2 6 1 6 2 12 1 4 2 5 2 6 1 6 2 2 2 4 1 6 2 3 2 3 1 4 2 2 2 2 1 0 1 0 9 9 9 6 9 5 9-1 8 0 9 1 9 1 9 0 9-2 9 3 8-2 9 3 9-1 9-1 9 0 8 0 9-2 9 0 9 2 9-2 8 5 9-2 9 1 9-2 9 0 9-2 8-1 9 4 9 1 9-3 9 1 8 2 9 0 9-4 9 4 6-3 7-3 7-2 6-5 7-7 6-1 7-5 7-3 6-5 7-3 7-2 6-7 7-5 6-4 7-4 7-6 6-8 7-7 6-12 7-10 7-17 6-17 7-15 6-16 7-10 7-6 6 1 7 5 6 3 7 7 7 3 6 4 7 1 7 5 6 6 7 2 6 0 7 0 7 0 6-4 7-2 6 2 7-1 7 4 6 1 7 7 6-3 7 4 7-1 6 5 7 1 6 4 7-1 7 0 6 6 7-3 7 3 6 4 7-2 6-1 7 0 7 6 6-4 7-2 6 1 7 4 7-6 6 7 7-5 6 2 7 9 7 3 6 12 7 3 7 9 6 10 7-2 6 14 7 8 7 4 6 11 7 7 6-1 3 2 5-6 6 0 5 12 6 13 5-14 6 9 5 10 6-4 5 0 6 3 5 3 6 3 5 4 6 5 5-19 6 22 5-12 6 2 5-2 6 0 5 3 6 0 5 0 6 6 5-10 6 0 5 11 6-22 5 14 6 2 5-7 6 0 5-4 6 11 5-11 6 2 5 8 6-7 5 9 6-9 5-5 6 12 5 1 6-1 5-14 6 10 5-6 6 5 5 3 6-13 5-2 6 15 5 7 6 3 5-12 6 8 6-12 5 10 6 3 5-5 6 8 5-6 6-9 5 12 6-20 5 5 6 4 5 16 6-17 5 1 6-6 5-5 6 12 5 15 6-8 5-7 6 5 5 1 6-8 5 10 6-1 5-8 6 10 5-11 6 18 5-10 6-11 5 4 6-3 5-2 6 5 5-4 6 15 5 6 6-12 5 11 6-22 5 4 6 16 5-13 6 17 5-21 6 9 5-15 6 18 5-4 6 8 5-13 6 18 5-4 6-11 5 5 6-8 5 9 6-15 5 9 6 23 5-11 6-24 5 6 6 16 5-10 6-2 6-5 8 10 5-4"/>
<path stroke="#ff7f0e" d="M180 2817l2-13 2-3 1-3 2 1 1 15 2-31 2 32 1 0 2 22 2-1 1-36 2 104 2 55 1 71 2 86 2 81 1-108 2-244 2-244 1-159 2 34 2 33 1 30 2 27 2 27 1 21 2 23 1 18 2 14 2 19 1 13 2 15 2 7 1 13 2 11 2 8 1 9 2 7 2 9 1 3 1 5 9 20 9 16 9 8 9 7 8 1 9 1 9 3 9 0 9 2 9-2 8-2 9 2 9-1 9 0 9 0 8 2 9-1 9-1 9 0 9 0 8-1 9-2 9 0 9 0 9-1 9-1 8 2 9-2 9 0 9-1 9 2 8 1 9 1 9-3 9-2 6 2 7 0 7-3 6-4 7-5 6-1 7-6 7-4 6-2 7-5 7 0 6-8 7-5 6-3 7 0 7-7 6-6 7-7 6-9 7-9 7-13 6-13 7-11 6-17 7-7 7-3 6 0 7 4 6 0 7 2 7 6 6 4 7-1 7 4 6 4 7 2 6 4 7-2 7 0 6-4 7-1 6-1 7 4 7 1 6-1 7 5 6 0 7 1 7 2 6-2 7 8 6 2 7-7 7 5 6 3 7 2 7-2 6 3 7 2 6-2 7-7 7 5 6 3 7-4 6 8 7 0 7-10 6 6 7 1 6 1 7 4 7 6 6 2 7 7 7-2 6 6 7 3 6 0 7 5 7-1 6 2 7 6 6 2 3-5 5 6 6-5 5 10 6 1 5-5 6 6 5-3 6-1 5-1 6 2 5-9 6 6 5 8 6 1 5 0 6 2 5-1 6-6 5 5 6 10 5-18 6 14 5-17 6 1 5 1 6 5 5 5 6-10 5 23 6-8 5-2 6-9 5 0 6 11 5-16 6 11 5-1 6-14 5 9 6 6 5 15 6-26 5 8 6-8 5 13 6-6 5 3 6-8 5 0 6 0 5 18 6-11 5-6 6 0 5 6 6-10 6 14 5-11 6 0 5 4 6 1 5 1 6-19 5 25 6 0 5 3 6-8 5 10 6-12 5 5 6 6 5-4 6-14 5 31 6-26 5 14 6-9 5 5 6 7 5-9 6 5 5-11 6-10 5 18 6-3 5-19 6 18 5 3 6-6 5-1 6-4 5-12 6 12 5 0 6 10 5-3 6-13 5 12 6-2 5 19 6-27 5 11 6-7 5 8 6-7 5 9 6 4 5-11 6 5 5-3 6 0 5 5 6 8 5-22 6 10 5-8 6 3 5-4 6 13 5-8 6-3 5 18 6-21 6 11 8-9 5 13"/>
<path stroke="#1f77b4" d="M180 2880l2 9 2-6 1-20 2 32 1 2 2 10 2-33 1-9 2-12 2 31 1 11 2-38 2-20 1 4 2 14 2 82 1 63 2 62 2 69 1 67 2-27 2-107 1-108 2-108 2-91 1 20 2 17 1 10 2 15 2 16 1 13 2 12 2 8 1 8 2 6 2 9 1 6 2 2 2 9 1 5 1 3 9 19 9 12 9 5 9 6 8 3 9-2 9 2 9 1 9 0 9 3 8-1 9-2 9-2 9 1 9 2 8-1 9-2 9 0 9-2 9-2 8 5 9-4 9 2 9-4 9 5 9-2 8-2 9-1 9 4 9-3 9-2 8 1 9 0 9 2 9 0 6-4 7-1 7-1 6-7 7-1 6-6 7-3 7-3 6-1 7-7 7-3 6-1 7-5 6-7 7-2 7-8 6-5 7-4 6-7 7-13 7-13 6-13 7-19 6-8 7-16 7 0 6 1 7 3 6 5 7 4 7 2 6 4 7 2 7 8 6-2 7 3 6 1 7 2 7-4 6-5 7 2 6 0 7 3 7-3 6 5 7-4 6 7 7 6 7-2 6 2 7-4 6 8 7-1 7 5 6-2 7 0 7 5 6-2 7-1 6 3 7 6 7-9 6 4 7 1 6 1 7-7 7 2 6 8 7 0 6-3 7 1 7 11 6 3 7 8 7 3 6 3 7 1 6 6 7 0 7 15 6-13 7 17 6-12 3 7 5 6 6 5 5-13 6 16 5 1 6 1 5-4 6-3 5 3 6-2 5 12 6 5 5-8 6 4 5-11 6 6 5 8 6-6 5 2 6 3 5-6 6 5 5-5 6 5 5-5 6-10 5 17 6-7 5 11 6-12 5 3 6-12 5 3 6 6 5-2 6 4 5 5 6-18 5 11 6 11 5-18 6 7 5-9 6 18 5-2 6-22 5 22 6-7 5-4 6 8 5-11 6 9 5-3 6 3 5-4 6-5 6 3 5 8 6-6 5 16 6-8 5-3 6 1 5 15 6-4 5-29 6 10 5 2 6-10 5 32 6-12 5-9 6 4 5-2 6 12 5-14 6 8 5-5 6 7 5 0 6-12 5 13 6-2 5-15 6 25 5-25 6 10 5 0 6 6 5-11 6 2 5 1 6 27 5-32 6 5 5-3 6 15 5-4 6-15 5 7 6 9 5 8 6-19 5-4 6 22 5-15 6 10 5 1 6-4 5-15 6 6 5 13 6-21 5 16 6-20 5 9 6 18 5-8 6 6 5-16 6 9 5-25 6 17 6 5 8-16 5 7"/>
<path stroke="#e377c2" d="M180 2894l2 42 2-12 1-38 2 13 1 57 2 70 2 72 1 76 2 22 2-191 1-191 2-191 2-191 1-12 2 7 2 9 1 6 2 6 2 3 1 6 2 2 2 4 1 3 2 4 2 4 1 1 2 1 1 1 2 4 2 1 1 2 2 1 2 1 1 1 2 3 2 1 1 0 2 1 2 0 1 1 1-1 9 5 9 2 9 2 9-3 8 1 9-1 9 2 9-1 9 1 9-1 8 1 9-2 9 1 9-1 9-1 8 1 9 0 9-3 9-1 9 3 8-1 9-3 9 0 9 1 9 1 9 0 8 1 9 0 9 1 9-6 9 2 8 2 9-4 9 0 9 2 6 1 7-1 7-5 6 0 7 1 6-2 7 0 7-1 6 2 7-4 7-1 6-1 7 1 6-5 7 1 7-3 6-2 7 2 6-4 7-1 7-6 6-3 7-4 6-3 7-5 7 3 6-4 7 4 6-3 7 1 7-1 6 1 7 1 7-2 6-1 7 1 6 1 7-5 7 6 6 0 7-5 6 3 7 2 7-4 6 1 7 0 6 2 7 1 7-2 6 0 7 2 6-1 7-1 7 3 6-6 7 3 7-1 6 0 7 2 6-1 7 7 7-5 6-1 7 4 6-2 7-8 7 6 6 2 7-5 6 3 7-2 7 3 6-7 7-1 7 5 6 2 7 4 6-6 7-2 7 7 6-3 7 8 6-7 3-8 5 6 6 0 5-2 6 4 5 1 6 2 5 0 6 5 5 1 6-1 5 1 6-11 5 2 6 4 5 5 6-9 5 6 6 3 5 10 6-9 5-5 6 9 5-5 6-3 5 9 6-12 5 6 6 0 5 5 6-13 5-1 6 6 5 0 6 2 5-2 6 5 5 2 6-4 5-8 6 15 5-19 6 10 5 7 6-10 5 13 6 5 5-3 6-8 5 4 6-11 5 7 6 0 5-2 6 0 5-3 6-13 6 18 5-1 6 14 5-11 6-5 5 7 6-2 5-5 6-3 5-9 6 13 5 12 6-28 5 7 6 14 5-4 6 1 5-18 6 10 5 9 6 1 5-3 6-9 5 11 6-14 5 2 6-2 5 22 6-16 5 4 6-19 5 28 6-5 5-18 6 0 5 28 6-22 5 24 6-20 5-17 6 30 5-5 6 2 5-10 6 2 5 10 6-15 5-10 6 25 5-13 6 16 5-15 6 0 5 2 6-18 5 30 6-15 5 3 6 14 5-11 6 6 5-4 6 3 5-4 6 8 5-12 6 6 6-10 8 16 5-29"/>
<path stroke="#ff7f0e" d="M180 2557l2 13 2-47 1 22 2 21 1 15 2-11 2 17 1 9 2 118 2 124 1 126 2 118 2 112 1-82 2-167 2-129 1 32 2 29 2 26 1 25 2 23 2 18 1 21 2 18 2 14 1 12 2 16 1 10 2 8 2 13 1 4 2 12 2 6 1 5 2 7 2 3 1 3 2 9 2 1 1 4 1 4 9 15 9 6 9 7 9 0 8 4 9 4 9-5 9 4 9-2 9 3 8 0 9 0 9 1 9-2 9 0 8 1 9-1 9 3 9-1 9-3 8 2 9 0 9 2 9-4 9 1 9 1 8 2 9-5 9 2 9-1 9 2 8 0 9 2 9-2 9 1 6-4 7 3 7 1 6-1 7-1 6 1 7 0 7-4 6-7 7-3 7-2 6-7 7-5 6-4 7-5 7-4 6-7 7-3 6-6 7-4 7-10 6-8 7-7 6-2 7-2 7 1 6 3 7 8 6 8 7 1 7 1 6 4 7-2 7 3 6-6 7 3 6-2 7-1 7 1 6 3 7-1 6 1 7-5 7 2 6 3 7-1 6-1 7-5 7 4 6 2 7 1 6 2 7-5 7-1 6-3 7 3 7 4 6 1 7-5 6-2 7 5 7-3 6-1 7-1 6 10 7-8 7-2 6 4 7 0 6-4 7 5 7-5 6 8 7 0 7 4 6 1 7 12 6 0 7 7 7 13 6-1 7 5 6 12 3-6 5 7 6 1 5 3 6 2 5 0 6-3 5-1 6-2 5-2 6 5 5-12 6 15 5-4 6-6 5 5 6-8 5 11 6-8 5 8 6-5 5 5 6-7 5 13 6 2 5-8 6-3 5 0 6-2 5 0 6-1 5 6 6-3 5-2 6 8 5-8 6 11 5-1 6-1 5-20 6 11 5 10 6-17 5 9 6 10 5 9 6-11 5-6 6-13 5 3 6 0 5 2 6 15 5-18 6 13 5-1 6-1 6 15 5-7 6-15 5 8 6 19 5-23 6 6 5-11 6-5 5 13 6-19 5 34 6-4 5-11 6 5 5 0 6 11 5-14 6-4 5 20 6-23 5 10 6-2 5-7 6 4 5 1 6-5 5 1 6-6 5 11 6-21 5 20 6 5 5-4 6-4 5-13 6 20 5 4 6-5 5-7 6 17 5-5 6-13 5 8 6-3 5 6 6-15 5 5 6 17 5-14 6 2 5 10 6-15 5-15 6 12 5 7 6 6 5-13 6 7 5 5 6-11 5 2 6-3 5-7 6 12 5 0 6-3 6 0 8 5 5-1"/>
<path stroke="#8c564b" d="M180 2750l2 17 2-2 1 4 2 26 1 85 2 89 2 88 1 81 2 87 2-275 1-297 2-250 2 43 1 39 2 39 2 34 1 32 2 26 2 27 1 24 2 21 2 18 1 17 2 19 2 15 1 13 2 12 1 8 2 14 2 6 1 9 2 7 2 5 1 10 2 5 2 4 1 6 2 6 2 1 1 7 1 1 9 10 9 12 9 3 9 4 8-1 9 5 9 2 9-3 9 2 9 2 8 0 9-1 9-2 9 3 9-1 8 1 9 1 9 0 9 0 9 1 8 2 9 2 9-1 9 2 9-2 9-1 8 2 9-1 9 2 9 2 9 0 8 1 9-2 9 4 9-4 6-1 7 1 7-5 6-2 7-5 6-6 7-2 7-4 6-4 7-2 7-4 6-3 7-6 6-4 7-6 7-7 6-4 7-9 6-9 7-12 7-14 6-14 7-16 6-16 7-10 7-6 6 1 7 6 6 0 7 5 7 2 6 7 7 5 7 4 6 0 7 5 6 2 7 2 7-6 6-3 7-3 6 3 7 3 7 0 6 3 7 2 6 2 7-1 7 5 6 0 7 4 6-1 7 5 7 0 6 2 7-1 7 2 6 3 7-3 6-6 7 5 7 4 6-5 7 3 6 3 7-5 7 2 6 1 7 1 6 0 7 9 7 2 6 1 7 10 7-5 6 11 7-3 6 1 7 0 7-3 6 3 7-2 6-4 3 6 5-9 6 3 5-6 6 1 5-9 6 13 5-6 6-3 5 3 6-3 5 2 6 7 5-1 6-5 5 10 6-4 5 0 6 1 5-3 6 3 5-8 6-1 5 1 6 5 5 7 6-17 5 17 6-3 5 2 6-6 5 8 6-8 5 1 6-5 5 12 6-17 5 3 6 1 5 3 6-3 5 8 6-1 5-10 6 17 5-16 6 18 5-6 6 9 5-12 6-1 5 2 6-9 5 2 6 6 5-1 6 2 6-7 5 12 6-10 5 1 6 10 5-5 6 2 5-3 6 9 5-25 6 18 5-2 6 2 5 7 6-7 5 3 6-8 5-5 6 9 5 3 6 0 5 5 6-6 5-7 6 2 5-7 6 11 5-5 6-4 5-5 6 3 5 6 6 2 5-9 6 9 5-2 6-12 5 5 6 19 5-4 6-18 5 13 6-16 5 15 6-6 5 9 6-3 5 2 6 10 5 0 6-28 5 20 6-11 5 7 6 6 5-6 6 1 5 11 6-21 5 14 6-6 5 8 6 19 5-20 6-12 5 7 6 1 6-10 8 4 5-7"/>
<path stroke="#8c564b" d="M180 2571l2 26 2 12 1-8 2 8 1-49 2 12 2 43 1 122 2 116 2 134 1 132 2 73 2-353 1-353 2-19 2 56 1 49 2 49 2 41 1 41 2 33 2 30 1 30 2 28 2 24 1 22 2 20 1 16 2 17 2 18 1 12 2 12 2 12 1 8 2 9 2 10 1 9 2 7 2 6 1 6 1 2 9 22 9 14 9 8 9 2 8 7 9 0 9 1 9 1 9-1 9 2 8-1 9 0 9-2 9 0 9 1 8-4 9 1 9 2 9-3 9-2 8 0 9 2 9 2 9-6 9 2 9-3 8 1 9 0 9 0 9-2 9-1 8 1 9-4 9 2 9 1 6 1 7-4 7-2 6-9 7-3 6-5 7-3 7-4 6-3 7-3 7-4 6-8 7-2 6-6 7-8 7-3 6-8 7-10 6-7 7-15 7-16 6-16 7-18 6-13 7-14 7-5 6 1 7 7 6 2 7 5 7 4 6 7 7 4 7 4 6 3 7 2 6 2 7 2 7-4 6-2 7 0 6-2 7 6 7-2 6 2 7-2 6 4 7 7 7 4 6-1 7 2 6 5 7-2 7 2 6 2 7 4 7 2 6 3 7-6 6 3 7 4 7-5 6 4 7-5 6 3 7-4 7 0 6 2 7 3 6 3 7 4 7 4 6 10 7 10 7 4 6 13 7 10 6 9 7 5 7 17 6 4 7 7 6 6 3 3 5 6 6-7 5 12 6 4 5 12 6-5 5 19 6-17 5 7 6-3 5 7 6-6 5 6 6-2 5 4 6 5 5-13 6 19 5-11 6-8 5 6 6 6 5-5 6-7 5 9 6-1 5-1 6 11 5 6 6-4 5-21 6 17 5-9 6 6 5-9 6 8 5-4 6-7 5 11 6-6 5 7 6 1 5-15 6 10 5 7 6-21 5 8 6 11 5-9 6 10 5-7 6 10 5-22 6 25 5-11 6-16 6 22 5-15 6 32 5-29 6 14 5-20 6 6 5 2 6 3 5-13 6 6 5-3 6 4 5 28 6-18 5-11 6 7 5 6 6 4 5-13 6 0 5-2 6 18 5-12 6 4 5 3 6-32 5 28 6 11 5-22 6 1 5 3 6 17 5-2 6-6 5-10 6 15 5-15 6 7 5 6 6-12 5-5 6 13 5 3 6-11 5 4 6 0 5-16 6 36 5-21 6 11 5-4 6 3 5-19 6 8 5 8 6 0 5-16 6 9 5 10 6-10 5-7 6 16 5-7 6-9 5 4 6 12 6-15 8-2 5 28"/>
<path stroke="#17becf" d="M180 2868l2-21 2-24 1-4 2-18 1 29 2-9 2 5 1-16 2 32 2-11 1 84 2 63 2 77 1 68 2 71 2-69 1-196 2-196 2-197 1-118 2 37 2 38 1 29 2 31 2 27 1 27 2 21 1 18 2 18 2 18 1 12 2 16 2 12 1 12 2 9 2 11 1 7 2 11 2 7 1 3 1 8 9 24 9 15 9 8 9 2 8 8 9 0 9 2 9 1 9 2 9 0 8-1 9 1 9 2 9 1 9-4 8 3 9-1 9 0 9 2 9-1 8 2 9-1 9 2 9-1 9-1 9 2 8-2 9 4 9-1 9-1 9 1 8 2 9-1 9 0 9 4 6-3 7-3 7 0 6-3 7-2 6-6 7-3 7-1 6-5 7-2 7-3 6-3 7-3 6-5 7-2 7-7 6-3 7-9 6-4 7-10 7-15 6-8 7-15 6-11 7-9 7-5 6 3 7 1 6 5 7 3 7 2 6 4 7 3 7 2 6 1 7 4 6 0 7 0 7 1 6-3 7-2 6 2 7 2 7-2 6-2 7 3 6 3 7 2 7 1 6 2 7 0 6 4 7 4 7-2 6-1 7 6 7-2 6 4 7-3 6-2 7 5 7-6 6 1 7 2 6 2 7-2 7 1 6 0 7 5 6-7 7 6 7-2 6 17 7-1 7 3 6 2 7-3 6 5 7-8 7 7 6-6 7 4 6-4 3 1 5-7 6 6 5-10 6 1 5 3 6-16 5 6 6 14 5-8 6-5 5 8 6-4 5 1 6 1 5 3 6-1 5 6 6 2 5-9 6-3 5 3 6 2 5-6 6 11 5 2 6-4 5 1 6-1 5 1 6 3 5-11 6 15 5-7 6 0 5 0 6 3 5-12 6 12 5 3 6-6 5-1 6-6 5 12 6-3 5-12 6 13 5-15 6-1 5 10 6 7 5-13 6-14 5 29 6-7 5 4 6-8 6 14 5-12 6-4 5 4 6-7 5 4 6 5 5 14 6-20 5 4 6 4 5-2 6-10 5 30 6-20 5-3 6-9 5 1 6 4 5 8 6 9 5 8 6-15 5-3 6-8 5 26 6-36 5 21 6-12 5 13 6-10 5 15 6 6 5-41 6 23 5 1 6-16 5 7 6 38 5-38 6 14 5-10 6-3 5-4 6 25 5-8 6-6 5-3 6-19 5 12 6-3 5 14 6-1 5-1 6 7 5-4 6 0 5-10 6 2 5 2 6 7 5-22 6 15 5 9 6-6 5-4 6 1 6 7 8 3 5-1"/>
<path stroke="#d62728" d="M180 2813l2 6 2 3 1 48 2 21 1 35 2 71 2 66 1 48 2 72 2 15 1-200 2-201 2-200 1-36 2 60 2 51 1 46 2 46 2 39 1 38 2 29 2 30 1 29 2 27 2 20 1 18 2 22 1 17 2 17 2 8 1 17 2 11 2 10 1 12 2 10 2 6 1 7 2 7 2 5 1 5 1 5 9 20 9 14 9 7 9 1 8 7 9 2 9 0 9 0 9 0 9 3 8 1 9 0 9-4 9 4 9-1 8 0 9-1 9 1 9-2 9 0 8-1 9 2 9-1 9 4 9-3 9 0 8 0 9-2 9 3 9-4 9 2 8 0 9 1 9 1 9 0 6-3 7 5 7-4 6 2 7-1 6 1 7-4 7 1 6 0 7 1 7-4 6-2 7-4 6-1 7-4 7-2 6 2 7-2 6-5 7-2 7-1 6-5 7 3 6-5 7-1 7 0 6 4 7 2 6 3 7 0 7 0 6-2 7 3 7 0 6 0 7-2 6 2 7-1 7 3 6-4 7 1 6 0 7 2 7-2 6-2 7 3 6 0 7-1 7-1 6-3 7 1 6 6 7-4 7 1 6 0 7 2 7-6 6 3 7 0 6 1 7-3 7 6 6 1 7-2 6-3 7 1 7 0 6-1 7 0 6 2 7 1 7 6 6-7 7-1 7 1 6 9 7 6 6 3 7-9 7 7 6 7 7 7 6-4 3-2 5 3 6 4 5 5 6 0 5-5 6 0 5 4 6-3 5 5 6-13 5 9 6 0 5 1 6 1 5 0 6-6 5 11 6-6 5-2 6-6 5 9 6-7 5 8 6 4 5-8 6 16 5-18 6 10 5-13 6-1 5 12 6 1 5-3 6-8 5-1 6-1 5 6 6 1 5-3 6-1 5 12 6-12 5-7 6 8 5-4 6 15 5 7 6-25 5 9 6 1 5-7 6 7 5 5 6-5 5-3 6 4 6 4 5-9 6 0 5 8 6-6 5-2 6-2 5 7 6 3 5 9 6-12 5-5 6 5 5 8 6-15 5 8 6-10 5 7 6-8 5 16 6-8 5-7 6 1 5 10 6 8 5-9 6-14 5 19 6-3 5-6 6-6 5 0 6 7 5 5 6-4 5 4 6-2 5 13 6-8 5 4 6-7 5-6 6-1 5 4 6 0 5-4 6-15 5 14 6 4 5-9 6 23 5-12 6-10 5 22 6-11 5-2 6 4 5-2 6 0 5 7 6-11 5 12 6-2 5-19 6-3 5 9 6 19 6-7 8-14 5 9"/>
<path stroke="#ff7f0e" d="M180 3109l2-6 2 42 1 30 2 9 1-9 2 32 2-24 1 7 2-49 2-4 1 16 2-23 2 25 1 43 2 16 2-3 1 7 2 12 2-2 1-16 2-52 2-52 1-1 2 7 2 10 1 6 2 5 1 9 2 3 2 7 1 2 2 5 2 2 1 2 2 6 2 2 1 1 2 2 2 4 1-1 1 3 9 8 9 2 9 6 9-4 8 6 9 1 9-2 9 2 9-1 9 1 8-2 9 3 9-1 9-2 9 0 8 4 9-5 9 4 9-1 9-1 8 1 9 0 9-3 9 0 9 2 9 0 8 1 9-1 9 2 9-3 9-3 8 4 9-3 9 1 9 4 6-2 7-1 7 2 6-2 7-1 6 1 7-2 7 0 6 1 7-4 7-4 6-3 7-1 6 1 7-8 7-2 6-1 7-5 6 0 7-5 7-4 6 1 7-7 6 1 7-3 7 0 6 3 7 1 6 6 7 2 7 2 6-2 7 0 7 3 6-4 7 0 6 0 7 0 7 1 6 3 7-5 6 0 7 2 7 1 6 1 7-1 6-3 7 3 7-1 6 0 7-1 6 1 7-4 7 2 6 0 7-3 7 6 6 0 7 2 6-2 7 5 7-10 6 7 7-9 6 11 7-6 7-2 6 2 7 1 6 2 7 1 7-8 6 3 7 2 7-1 6 9 7-5 6-1 7 9 7 7 6-4 7 2 6 2 3-4 5 5 6 5 5 0 6 10 5-11 6 1 5-1 6-4 5 8 6-6 5 6 6-3 5-9 6 10 5 3 6-12 5 15 6-3 5-8 6 9 5-2 6-1 5-10 6 0 5 7 6-3 5-4 6 2 5 9 6 1 5-8 6 12 5-5 6-4 5 6 6 4 5-7 6-17 5 6 6 11 5-14 6 7 5 7 6-7 5 12 6-4 5-6 6 9 5-18 6 6 5 8 6-9 5 7 6 5 5-1 6-16 6 12 5-3 6 4 5-2 6 1 5-7 6 11 5 1 6-10 5-8 6 0 5-3 6 12 5-6 6 10 5-13 6 3 5 9 6-6 5-5 6 11 5-6 6 6 5-3 6 16 5 1 6-24 5 25 6-10 5-5 6-11 5 14 6-25 5 41 6-25 5 11 6-10 5 8 6-4 5 3 6 9 5-8 6-12 5-4 6 1 5 11 6 8 5-1 6 1 5 1 6 0 5-6 6 2 5-3 6 3 5-9 6 5 5 4 6-5 5 10 6-3 5-14 6 1 5 13 6-9 5 3 6-8 6 9 8-10 5-3"/>
<path stroke="#2ca02c" d="M180 2594l2-33 2-5 1-43 2-44 1 9 2 75 2 133 1 128 2 156 2 139 1 97 2-189 2-188 1-189 2-36 2 22 1 29 2 21 2 16 1 24 2 10 2 17 1 10 2 14 2 12 1 10 2 5 1 12 2 10 2 5 1 7 2 3 2 6 1 2 2 8 2 1 1 8 2 0 2 7 1-2 1 3 9 10 9 5 9 8 9-1 8 3 9-3 9 3 9-4 9 0 9 2 8 1 9-2 9-3 9 2 9 2 8-3 9-2 9 1 9-3 9 6 8-8 9 3 9-4 9 2 9-2 9 2 8-3 9 2 9-5 9 0 9 2 8 1 9-2 9-1 9-3 6 1 7-5 7-2 6-2 7-4 6-3 7-5 7-2 6-6 7-3 7-5 6-1 7-2 6-8 7-4 7-6 6-7 7-7 6-9 7-12 7-14 6-13 7-14 6-17 7-10 7-3 6-3 7 5 6 2 7 5 7 5 6 5 7 2 7 4 6 3 7-1 6 6 7 0 7-3 6-3 7 0 6 0 7 3 7-1 6-1 7 4 6 0 7 5 7 0 6 3 7-3 6 7 7 1 7 3 6-2 7 6 7-2 6 2 7-2 6 0 7 0 7 3 6-4 7 4 6-4 7 0 7 4 6 4 7-6 6 7 7 4 7 7 6 0 7 17 7-2 6 8 7 11 6 8 7 4 7 8 6 8 7 9 6 2 3-1 5 12 6 7 5 5 6-3 5 11 6 1 5 9 6-6 5 1 6 11 5 5 6-8 5-3 6 3 5 9 6-5 5-2 6-4 5-8 6 13 5-6 6 2 5 4 6 4 5-7 6 9 5 5 6-7 5 3 6-13 5 5 6-2 5 3 6 0 5-2 6-12 5 11 6 13 5-18 6 0 5 13 6-7 5 13 6-11 5 10 6-10 5 0 6-14 5 14 6-6 5 8 6-6 5 0 6-2 5 12 6-2 6-13 5 1 6 6 5-7 6 12 5-8 6 8 5-3 6 4 5-14 6 3 5 16 6-13 5 14 6-4 5-1 6 12 5-8 6-19 5 20 6-24 5 13 6 1 5-7 6-2 5 15 6-9 5 5 6-15 5 9 6-2 5 10 6 6 5-9 6 12 5-25 6 12 5-10 6 16 5 2 6-2 5 8 6-15 5 9 6 6 5-18 6 13 5-6 6 1 5 0 6 5 5-1 6-22 5 29 6-25 5 6 6 4 5 11 6-7 5-1 6-2 5-3 6-4 5 11 6-4 5 4 6-6 6-6 8 10 5-7"/>
<path stroke="#2ca02c" d="M180 2616l2-12 2 23 1-17 2 8 1 13 2 55 2 120 1 99 2 107 2 121 1 38 2-407 2-212 1 60 2 52 2 49 1 44 2 41 2 37 1 35 2 31 2 30 1 23 2 24 2 21 1 18 2 16 1 19 2 15 2 11 1 10 2 12 2 9 1 11 2 6 2 6 1 8 2 9 2 5 1 1 1 8 9 19 9 11 9 8 9 4 8-2 9 6 9 1 9 1 9 0 9 2 8-1 9-2 9 3 9-5 9 5 8-3 9 0 9 2 9 1 9-2 8-2 9 4 9 1 9-4 9 1 9 1 8 0 9-2 9 2 9-1 9-2 8 4 9-2 9-1 9 1 6 0 7 2 7-2 6 1 7-1 6-1 7 2 7-5 6 3 7-1 7 2 6-6 7-3 6 1 7-2 7-2 6 0 7-1 6-2 7-3 7 2 6-7 7 4 6-6 7 4 7-4 6 3 7-1 6 3 7 1 7 0 6 2 7-2 7 2 6-1 7 1 6 3 7-3 7 1 6-4 7 1 6 3 7-1 7-2 6 1 7 0 6 1 7-1 7 2 6-3 7-2 6 2 7 2 7 3 6-5 7 4 7-3 6-1 7 2 6 1 7 2 7-2 6 3 7-5 6-1 7-3 7 7 6 0 7 1 6-9 7 7 7-4 6 8 7-4 7 7 6-4 7 3 6 8 7-7 7-1 6 6 7 3 6-7 3 9 5 2 6 8 5 2 6-4 5-8 6 8 5-7 6 2 5-2 6-1 5 1 6-1 5 5 6 3 5-5 6-1 5-5 6 7 5 0 6-13 5 18 6-7 5 4 6-1 5-9 6 6 5 6 6 6 5-10 6-2 5-2 6 14 5-5 6-5 5 6 6-6 5 7 6-7 5 4 6-22 5 20 6 8 5-6 6-5 5 2 6-3 5 6 6-6 5-2 6 9 5-13 6 8 5 0 6 0 5 3 6-10 6 16 5-12 6 11 5-12 6 7 5 2 6 5 5-2 6-11 5 1 6 9 5-10 6 10 5 0 6-1 5-11 6 4 5-7 6 22 5-13 6-2 5 1 6 6 5-16 6 1 5 20 6-12 5 9 6-10 5-13 6 15 5-13 6 9 5-3 6 3 5 9 6-14 5 20 6-7 5-21 6 16 5-12 6 20 5-4 6-1 5-8 6 4 5 14 6-22 5 9 6-8 5 7 6 8 5-12 6 2 5 2 6-4 5-8 6-2 5 22 6-15 5 7 6 4 5 12 6-16 5 13 6-7 6-17 8 15 5-8"/>
<path stroke="#ff7f0e" d="M180 2667l2 16 2-7 1 3 2 17 1-23 2-14 2 32 1-50 2 6 2-22 1 54 2 100 2 131 1 108 2 111 2 69 1-280 2-281 2-214 1 68 2 58 2 57 1 50 2 45 2 42 1 38 2 33 1 32 2 28 2 25 1 25 2 21 2 18 1 20 2 16 2 12 1 18 2 10 2 10 1 12 1 5 9 38 9 21 9 18 9 10 8 3 9 1 9 3 9-1 9 2 9 0 8 1 9-1 9 2 9-1 9 1 8-3 9 5 9-2 9-2 9 2 8-2 9 0 9-3 9 2 9 0 9-1 8 0 9 0 9 1 9 0 9-3 8 1 9-2 9-3 9 4 6-2 7 1 7-9 6-3 7-6 6-3 7-4 7-5 6-9 7 0 7-6 6-4 7-6 6-8 7-8 7-4 6-9 7-6 6-16 7-14 7-21 6-15 7-20 6-19 7-13 7-7 6 4 7 4 6 4 7 8 7 5 6 4 7 9 7 0 6 7 7 6 6 3 7-3 7-5 6 0 7-6 6 2 7 4 7-1 6 5 7 2 6 4 7 1 7 7 6 0 7 4 6 4 7 2 7-1 6 3 7 6 7-2 6 0 7-2 6-3 7 9 7 1 6-5 7 4 6 2 7-3 7 0 6 1 7 4 6 0 7 8 7 6 6 13 7 6 7 17 6 2 7 11 6 17 7-5 7 21 6 4 7 10 6 8 3 2 5 3 6 6 5 9 6 1 5 2 6 9 5 6 6-5 5 5 6 3 5 6 6 0 5-6 6 6 5-6 6 2 5-2 6 2 5 6 6-11 5 5 6 6 5-9 6 11 5-9 6 4 5-1 6 1 5 3 6-3 5 3 6-19 5 18 6-3 5-4 6 6 5-11 6 14 5-12 6 5 5 4 6-2 5-9 6 3 5-2 6 10 5-11 6-6 5 4 6 11 5 4 6-9 5-4 6 4 5-8 6 25 6 2 5-10 6-5 5-1 6-7 5 7 6 4 5 8 6-14 5 8 6-18 5 15 6 8 5-16 6-4 5 16 6-10 5 15 6-6 5-7 6-10 5 10 6-1 5 9 6-16 5-7 6 22 5-15 6 19 5-5 6-14 5 12 6 7 5-16 6-1 5 1 6 15 5-24 6 21 5-6 6 23 5-13 6 1 5-2 6-5 5-5 6 10 5-17 6 21 5 1 6-26 5 17 6-4 5 14 6-13 5-2 6 9 5-19 6 18 5-9 6-3 5-7 6-1 5 21 6 0 5-17 6 4 6 18 8-20 5 3"/>
<path stroke="#d62728" d="M180 2712l2-19 2 11 1-18 2-45 1 4 2-17 2-19 1-8 2-47 2 7 1-23 2-26 2-1 1 16 2 17 2 139 1 137 2 146 2 137 1 109 2-211 2-211 1-211 2-42 2 40 1 38 2 35 1 32 2 31 2 23 1 29 2 21 2 19 1 19 2 16 2 15 1 14 2 12 2 12 1 10 1 7 9 41 9 22 9 15 9 8 8 5 9 4 9 0 9 3 9 0 9 1 8-1 9 2 9-2 9-1 9 4 8-2 9-1 9 0 9 0 9 2 8-2 9 3 9-4 9 1 9 0 9-1 8 3 9-2 9 2 9-2 9 2 8-1 9 0 9 0 9 0 6 1 7-2 7-7 6-4 7-4 6-2 7-6 7-3 6-5 7-5 7-5 6-4 7-6 6-5 7-4 7-7 6-3 7-13 6-9 7-13 7-14 6-18 7-19 6-18 7-10 7-4 6-2 7 4 6 7 7 4 7 5 6 5 7 7 7 3 6 3 7 2 6 3 7-2 7-3 6-6 7 2 6 1 7-1 7 1 6 4 7 2 6 4 7 3 7 1 6 0 7 5 6 1 7 2 7-6 6 11 7-3 7 6 6-5 7 5 6-1 7 0 7 0 6-3 7-1 6 9 7-3 7-4 6 16 7-6 6 2 7-1 7 5 6 4 7 13 7 13 6 5 7 0 6 7 7 12 7 6 6 5 7-5 6 10 3 0 5 1 6-7 5 16 6-5 5 7 6 1 5 1 6 5 5 5 6-6 5-4 6 4 5 9 6 4 5-13 6 3 5 10 6-1 5-8 6 3 5-6 6 14 5-7 6 5 5-5 6-5 5-3 6 10 5-4 6 11 5-2 6-9 5-3 6 0 5 3 6 8 5 9 6-1 5-12 6 8 5-8 6-2 5-5 6-2 5 28 6-15 5 0 6-10 5 3 6 4 5 1 6-8 5-2 6 7 5-2 6 7 6-12 5 4 6-3 5-10 6 21 5 1 6-6 5 6 6-15 5-1 6-3 5 19 6 6 5-8 6-10 5 13 6 11 5-21 6 1 5 5 6-2 5-1 6-15 5 6 6 1 5 13 6-10 5 16 6 3 5-22 6-18 5 31 6 1 5 0 6 0 5 1 6-15 5 10 6 10 5-4 6-14 5 0 6 0 5 4 6 0 5 15 6-20 5 5 6 10 5 0 6 0 5-7 6 4 5-15 6 9 5-9 6 21 5-3 6 7 5-14 6 11 5-7 6-10 5 10 6 0 5 9 6-16 6-4 8 4 5 4"/>
<path stroke="#e377c2" d="M180 2950l2 38 2-18 1-38 2-41 1-2 2-11 2-42 1-25 2-16 2-27 1 61 2 96 2 102 1 77 2 83 2-188 1-478 2-82 2 41 1 33 2 32 2 29 1 27 2 25 2 20 1 20 2 22 1 16 2 13 2 15 1 12 2 11 2 11 1 8 2 8 2 9 1 7 2 7 2 6 1 5 1 4 9 18 9 15 9 6 9 5 8 1 9 6 9-4 9 3 9-1 9 1 8-1 9 1 9-2 9-1 9 3 8 0 9 0 9 0 9-2 9 0 8 1 9-3 9 4 9-2 9-2 9 4 8-2 9 1 9-2 9 2 9-2 8 0 9 0 9-2 9 0 6 3 7-4 7-4 6-4 7-1 6-8 7 2 7-6 6-4 7-4 7-5 6-1 7-6 6-5 7-6 7-5 6-6 7-7 6-8 7-14 7-14 6-11 7-16 6-16 7-8 7-6 6 0 7 7 6 3 7 1 7 4 6 3 7 5 7 1 6 3 7 1 6 4 7 3 7-5 6-5 7 1 6 2 7-2 7 5 6-2 7 1 6 4 7 6 7-2 6 0 7 4 6 5 7 0 7-1 6 1 7 3 7-1 6 2 7-2 6 3 7-2 7-3 6 4 7 3 6-3 7-4 7 3 6 8 7-8 6 7 7-4 7 8 6 12 7 5 7 3 6 4 7 4 6 2 7 8 7 5 6 3 7-2 6 12 3-9 5 11 6-4 5 2 6-6 5 11 6 6 5-3 6-2 5 2 6 3 5-2 6 10 5-1 6 8 5-5 6-9 5-4 6 16 5-6 6-4 5-4 6 12 5 3 6-6 5-11 6 14 5-5 6-8 5 6 6 3 5-4 6-10 5 9 6-2 5 11 6-8 5-13 6 10 5 12 6-3 5-13 6 2 5 3 6 14 5-7 6-12 5 8 6-7 5 9 6-3 5-3 6 11 5-8 6-11 5 19 6-12 6 0 5 7 6-9 5 9 6-21 5 13 6 24 5-15 6 2 5-5 6 1 5-7 6 6 5-15 6 21 5-8 6 7 5-3 6-6 5 4 6-9 5 16 6-1 5-4 6-12 5 20 6-15 5 3 6-1 5 5 6 1 5-8 6 18 5-21 6 16 5-11 6-1 5 8 6 2 5 2 6-15 5 6 6 6 5-6 6-1 5 9 6 1 5-5 6-13 5-2 6 6 5 11 6 1 5 20 6-16 5-9 6-4 5 1 6 9 5-8 6 0 5 1 6 7 5-8 6-13 5 30 6-28 6 18 8 2 5 3"/>
<path stroke="#d62728" d="M180 2586l2 13 2-3 1 22 2 8 1 3 2 8 2 11 1 43 2 99 2 112 1 106 2 100 2 113 1-267 2-299 2-230 1 36 2 32 2 31 1 27 2 24 2 20 1 23 2 17 2 18 1 14 2 17 1 12 2 9 2 11 1 11 2 9 2 8 1 7 2 5 2 7 1 5 2 4 2 4 1 7 1 3 9 12 9 13 9 5 9 0 8 3 9 2 9-1 9 4 9-4 9 0 8 2 9 1 9-2 9 1 9 0 8-3 9 0 9-2 9 1 9 1 8-1 9 0 9 2 9-2 9 0 9 0 8-2 9 0 9 0 9-2 9 1 8 2 9-2 9-2 9 0 6-2 7 1 7-5 6-2 7-2 6-7 7-1 7-1 6-5 7-4 7 0 6-5 7-4 6-5 7-1 7-6 6-1 7-10 6-5 7-9 7-15 6-12 7-12 6-11 7-10 7-2 6 2 7-1 6 4 7 6 7 1 6 2 7 5 7 2 6-1 7 5 6 2 7-3 7 1 6-4 7 1 6 0 7 1 7-2 6 5 7-3 6 6 7 2 7 2 6 4 7-2 6-3 7 0 7 8 6 1 7-4 7 4 6-2 7-1 6 0 7 4 7 1 6-2 7-3 6 8 7-8 7-2 6 9 7-2 6 4 7 3 7 1 6 9 7 3 7 4 6 0 7 4 6 8 7 3 7-3 6 10 7-4 6 5 3 5 5-3 6 7 5-3 6 5 5-2 6 2 5-3 6 1 5 8 6-10 5 14 6-1 5-7 6 18 5-8 6-8 5 1 6 14 5-13 6 11 5-11 6-1 5 8 6 4 5-1 6-10 5 3 6-4 5-2 6 9 5-4 6 3 5-4 6-10 5-4 6 12 5-1 6 15 5-11 6-2 5 19 6-7 5-2 6-8 5-2 6 9 5-8 6 6 5-3 6-10 5 16 6 0 5-22 6 6 5 6 6-9 6 13 5 9 6-8 5-10 6 19 5-9 6 5 5-10 6 3 5 11 6-12 5 11 6-23 5 26 6-10 5-6 6 2 5-11 6 12 5 4 6-5 5 5 6 9 5-22 6 16 5-2 6-7 5 3 6 0 5 1 6-23 5 5 6 21 5-8 6 15 5-10 6-1 5-7 6 8 5-8 6 8 5 5 6-9 5-7 6 20 5-8 6-4 5 1 6 2 5-3 6-3 5 9 6-17 5 14 6-7 5-2 6-15 5 21 6 7 5 0 6-6 5 0 6-12 5 9 6-2 5 1 6 8 6 0 8 3 5-24"/>
<path stroke="#1f77b4" d="M180 3105l2 3 2 20 1 12 2-28 1-22 2-22 2 41 1 18 2 25 2 36 1 36 2-183 2-223 1-224 2-183 2 54 1 51 2 45 2 39 1 37 2 35 2 32 1 25 2 25 2 24 1 20 2 20 1 18 2 15 2 18 1 8 2 15 2 10 1 13 2 8 2 8 1 7 2 6 2 9 1 4 1 3 9 22 9 13 9 9 9 5 8-2 9 6 9-2 9 1 9-2 9 3 8 0 9 0 9-4 9 3 9-2 8 0 9-2 9 0 9 1 9-1 8-1 9-2 9 2 9-1 9 0 9 0 8-1 9-1 9-2 9 0 9 3 8-4 9 1 9 4 9-4 6-1 7-2 7-4 6-3 7-6 6-5 7-4 7-4 6-2 7-3 7-6 6 1 7-9 6-5 7-2 7-9 6-6 7-6 6-12 7-9 7-17 6-13 7-19 6-15 7-6 7-9 6 4 7 1 6 5 7 6 7 3 6-1 7 10 7 2 6 6 7 0 6 2 7 3 7-5 6-6 7 1 6 3 7-1 7 2 6 1 7 2 6 1 7 7 7-3 6 3 7 4 6 4 7-6 7 9 6 2 7-3 7 6 6-6 7 5 6-2 7-3 7 2 6 2 7-1 6-3 7 11 7-12 6 8 7 4 6-1 7-1 7 13 6 4 7 3 7 10 6 9 7 14 6 0 7 13 7 2 6 13 7 7 6 2 3 5 5 10 6-3 5 7 6-1 5 17 6-8 5 6 6 0 5 5 6-2 5 10 6-3 5 8 6 4 5-14 6 7 5-4 6 4 5-5 6 4 5 3 6-7 5 4 6-9 5 14 6-18 5 10 6-15 5 19 6-9 5-2 6-1 5 7 6 3 5 1 6-2 5-8 6-1 5 3 6 8 5 9 6-26 5 22 6-6 5-9 6-3 5 6 6 6 5-9 6 6 5 5 6 3 5-6 6 0 5-3 6 18 6-9 5-17 6 2 5 1 6 5 5-4 6 1 5 4 6-2 5-8 6 28 5-11 6 0 5 5 6-22 5 25 6-13 5 7 6-11 5-7 6 10 5 1 6 6 5-14 6-1 5 1 6 9 5-3 6-12 5 16 6-20 5 22 6-1 5-14 6-2 5 7 6 15 5-11 6 16 5-19 6 2 5-3 6 7 5 1 6-3 5 4 6 0 5-7 6 2 5 10 6 4 5 3 6-2 5-5 6-1 5-17 6 21 5-22 6 8 5-1 6 18 5-8 6-17 5 13 6 5 5-1 6-12 6-4 8 3 5 18"/>
<path stroke="#bcbd22" d="M180 2881l2-20 2-1 1 8 2 3 1 22 2 30 2-15 1-4 2-2 2 14 1-3 2 33 2 63 1 75 2 50 2 58 1-67 2-280 2-279 1-119 2 32 2 32 1 31 2 24 2 25 1 19 2 20 1 20 2 16 2 14 1 14 2 13 2 8 1 14 2 8 2 6 1 11 2 4 2 7 1 6 1 3 9 24 9 11 9 7 9 5 8 3 9 2 9 1 9 1 9 0 9 0 8 2 9-4 9 2 9-3 9 3 8 0 9-3 9 2 9-2 9 2 8-2 9-1 9 1 9-2 9 1 9-1 8-1 9 1 9-1 9 1 9-4 8 4 9 1 9-1 9-2 6 3 7-6 7-2 6-5 7-1 6-1 7-5 7-3 6-2 7-1 7-6 6-4 7-1 6-4 7-5 7-3 6-5 7-7 6-6 7-11 7-11 6-14 7-10 6-10 7-8 7-6 6 3 7 1 6 0 7 6 7 4 6 0 7 0 7 6 6 2 7 3 6 0 7 1 7-3 6 1 7-3 6 0 7 3 7 0 6 2 7 0 6-1 7 7 7-3 6 2 7 1 6 3 7 0 7 1 6 0 7 3 7 1 6-1 7-1 6 1 7 3 7-3 6 3 7-4 6 5 7 0 7-6 6 8 7-2 6 7 7-2 7 11 6-4 7 11 7-1 6 9 7-13 6 5 7 9 7-3 6 5 7-6 6 7 3-3 5-1 6 8 5 5 6-7 5 0 6 10 5-2 6-5 5 7 6 1 5-7 6 10 5-12 6 6 5 8 6-6 5-9 6 12 5-4 6 2 5 2 6-2 5 0 6-4 5 8 6 1 5-2 6-14 5 6 6 6 5-2 6 1 5-4 6-2 5 0 6 10 5-8 6 12 5-8 6-2 5-9 6 10 5 21 6-32 5 1 6 11 5 1 6 13 5-23 6 16 5-8 6-10 5 5 6 1 5-6 6 6 6 6 5 6 6 8 5-25 6 9 5 1 6 11 5-20 6 9 5-4 6 4 5 0 6 0 5 9 6-2 5-5 6 21 5-6 6 0 5-21 6 1 5 23 6-30 5 12 6-3 5 16 6-10 5-7 6 6 5-10 6 11 5-5 6 1 5-6 6 20 5-23 6 1 5 9 6-4 5 4 6-4 5 14 6-14 5 1 6-5 5 11 6-4 5 4 6 12 5-17 6 11 5-15 6-3 5 12 6 7 5-14 6 0 5-20 6 35 5-24 6 0 5 12 6 5 5-1 6 4 5-1 6-9 6-7 8-5 5 20"/>
<path stroke="#bcbd22" d="M180 2591l2 33 2 15 1 5 2 23 1 30 2 0 2 5 1 29 2-17 2 26 1-31 2-34 2 20 1 86 2 93 2 99 1 101 2 99 2 51 1-16 2-16 2-16 1-16 2 2 2 3 1 6 2 3 1 2 2 5 2 3 1 4 2 3 2-1 1 3 2 2 2 4 1 1 2 1 2 2 1 0 1 1 9 1 9 6 9 1 9 3 8-3 9 3 9 1 9-1 9 0 9 0 8 0 9 4 9-7 9 3 9-1 8-2 9 2 9 1 9-4 9 4 8 0 9 0 9-3 9 5 9-2 9 1 8-3 9 5 9-1 9 1 9-6 8 2 9 2 9-4 9 6 6-6 7 2 7 3 6-3 7 1 6 2 7 0 7-1 6-3 7-1 7-1 6-4 7 1 6-3 7 1 7 0 6-5 7-1 6-3 7 0 7-2 6-2 7-1 6 1 7-2 7-1 6 2 7 2 6 1 7 1 7 2 6-2 7 2 7-2 6-2 7 1 6 1 7-1 7 3 6-5 7 5 6-3 7 0 7 2 6 1 7-1 6-3 7 3 7 0 6-2 7 0 6 3 7-6 7 1 6 1 7 3 7-1 6 3 7-7 6 3 7 4 7-2 6-3 7 7 6-4 7-2 7 1 6 3 7-8 6 1 7 6 7 0 6 4 7-7 7 5 6-3 7 3 6 7 7-5 7 1 6 0 7 2 6 1 3-2 5 5 6 4 5-4 6 2 5 4 6 0 5-5 6 3 5-7 6 5 5 9 6-5 5-3 6 4 5-8 6-8 5 21 6-9 5-3 6 5 5-6 6 2 5 3 6-4 5 11 6-18 5 11 6-5 5-4 6 6 5 4 6-2 5 3 6-8 5-12 6 16 5-10 6 13 5-11 6 8 5 1 6-16 5 21 6-6 5-4 6-10 5-11 6 16 5 5 6-2 5-3 6 1 5 11 6-6 5-5 6 16 6-30 5 30 6-18 5 17 6-3 5-6 6 12 5 9 6-22 5-6 6 14 5-2 6-9 5 13 6-10 5 9 6-11 5-14 6 11 5 17 6-12 5 4 6 0 5-15 6 17 5-18 6 20 5-6 6 2 5 3 6-25 5 28 6-13 5 10 6 13 5-16 6 0 5-2 6-6 5 8 6-6 5-17 6 16 5 18 6-19 5 1 6-4 5 6 6 3 5-11 6 21 5-17 6 3 5-11 6 18 5 4 6 1 5-19 6 11 5-4 6 6 5-7 6-6 5 13 6-7 5 12 6-3 6-6 8 8 5-2"/>
<path stroke="#17becf" d="M180 3150l2 0 2-18 1 4 2 21 1 2 2-17 2-8 1-21 2 39 2 29 1 10 2 19 2 13 1-217 2-380 2-205 1 28 2 36 2 29 1 24 2 25 2 20 1 20 2 18 2 19 1 14 2 12 1 11 2 11 2 10 1 13 2 7 2 9 1 6 2 7 2 2 1 9 2 1 2 8 1 4 1-1 9 18 9 8 9 6 9 5 8 0 9 0 9 5 9-1 9 0 9-3 8 2 9 2 9-3 9 6 9-2 8-2 9 0 9 2 9 2 9-5 8 3 9 1 9 2 9-2 9 3 9-2 8 0 9 3 9-2 9-1 9 2 8 1 9-1 9 1 9 1 6-3 7-4 7 1 6-6 7 0 6-4 7-4 7-1 6-1 7-3 7-2 6-8 7 0 6-5 7-5 7-2 6-7 7-4 6-11 7-7 7-13 6-10 7-13 6-11 7-11 7 0 6-3 7 6 6 3 7 2 7 6 6-1 7 6 7 0 6 1 7 5 6-1 7 1 7-2 6-2 7-2 6 1 7 2 7 0 6 0 7 1 6 5 7 1 7-1 6 4 7 0 6 4 7-2 7 3 6-1 7 0 7-3 6 5 7 2 6-3 7 2 7 3 6-7 7 6 6-8 7 9 7 0 6 5 7-6 6 3 7-4 7 13 6-3 7 0 7 13 6 5 7-4 6 6 7 3 7 6 6 0 7-3 6 7 3 0 5 5 6-2 5 1 6-6 5 2 6 9 5-10 6 4 5 7 6-8 5 8 6-1 5 13 6-2 5-5 6-10 5 11 6-14 5 12 6-7 5-7 6 12 5-1 6 5 5-4 6 2 5-7 6-5 5 5 6 0 5 2 6 10 5-12 6 4 5-3 6 6 5-13 6 9 5 7 6-4 5 2 6-6 5-3 6-5 5 17 6-24 5 18 6-8 5 13 6-7 5 0 6-10 5 23 6-7 5 12 6-7 6-13 5 11 6-7 5 2 6-6 5-1 6 11 5 2 6-22 5 11 6-9 5 9 6 3 5-11 6 23 5-2 6-10 5-3 6 7 5-7 6-4 5 0 6 17 5-13 6-3 5-1 6 12 5-5 6 5 5-2 6 2 5-8 6-18 5 26 6-12 5 0 6-2 5 13 6-11 5 2 6-16 5 15 6 11 5-9 6 5 5 4 6 3 5-11 6 11 5-9 6-3 5 9 6-23 5 21 6 1 5-15 6 18 5-9 6 0 5-15 6 16 5 0 6-7 5 3 6 6 5-9 6 7 6 4 8-4 5-3"/>
<path stroke="#bcbd22" d="M180 2787l2 5 2-12 1 15 2-21 1 50 2-22 2-31 1 21 2 92 2 77 1 83 2 76 2 85 1-204 2-346 2-253 1 25 2 22 2 20 1 21 2 18 2 18 1 10 2 15 2 11 1 12 2 9 1 9 2 12 2 3 1 9 2 5 2 8 1 3 2 6 2 2 1 4 2 2 2 9 1 2 1-2 9 14 9 5 9 5 9 4 8 1 9 1 9 0 9-3 9 0 9 2 8-2 9 0 9-4 9 0 9 1 8 3 9-5 9 2 9 1 9-4 8-1 9 0 9 2 9-3 9-1 9-1 8 0 9 3 9-5 9-1 9 3 8-4 9 0 9 0 9 0 6-2 7-1 7-3 6 0 7-6 6-1 7-5 7-2 6-3 7-1 7-3 6-2 7-2 6-5 7-5 7-4 6-5 7-7 6-4 7-13 7-6 6-10 7-13 6-10 7-10 7-3 6 2 7 2 6 0 7 7 7 0 6 3 7 2 7 3 6 0 7 5 6 2 7-1 7-2 6-2 7 0 6 1 7 1 7 1 6 3 7-2 6-4 7 3 7 6 6-2 7 5 6 1 7 1 7-4 6 4 7 3 7-2 6 1 7-1 6 3 7 1 7-5 6 9 7-7 6 1 7-1 7 5 6-1 7-2 6-2 7 6 7-3 6 12 7-5 7 13 6-1 7 0 6 10 7-3 7-7 6 2 7 6 6-3 3-2 5-7 6 10 5 3 6-14 5 8 6 0 5 11 6-13 5 9 6 1 5-2 6-5 5 6 6 2 5 2 6-13 5-1 6 15 5-6 6-10 5 6 6 0 5-1 6-6 5 4 6 4 5 3 6 5 5-18 6 8 5-5 6 14 5-6 6-2 5 0 6 8 5-4 6-5 5 4 6 14 5-23 6 8 5-6 6 3 5-1 6 10 5-7 6 16 5-17 6-7 5 8 6 9 5-13 6 14 5-17 6 7 6 9 5-13 6 8 5 4 6-3 5 12 6-21 5 15 6-12 5 6 6-1 5-1 6 7 5-10 6-5 5 25 6-16 5 4 6-18 5 15 6 2 5-8 6 0 5-1 6-3 5 17 6-18 5 18 6-17 5 20 6-24 5 4 6 3 5 5 6 2 5 0 6-25 5 25 6 17 5-33 6 13 5-7 6 0 5 10 6 1 5-18 6 6 5 4 6-11 5 14 6 15 5-18 6 7 5-8 6 3 5 2 6 22 5-29 6-9 5 18 6 4 5-16 6-7 5 8 6 2 5-3 6 18 6-25 8 14 5-4"/>
<path stroke="#1f77b4" d="M180 3014l2 4 2-11 1 0 2 3 1 30 2 6 2-1 1-22 2-29 2 29 1-9 2 32 2-14 1 33 2 30 2 19 1 45 2 29 2 22 1 17 2-183 2-224 1-225 2-154 2 66 1 62 2 52 1 45 2 45 2 41 1 37 2 37 2 28 1 26 2 24 2 22 1 23 2 17 2 19 1 17 1 6 9 63 9 36 9 23 9 12 8 6 9 6 9 4 9 1 9 1 9 3 8 0 9 1 9-1 9 1 9-1 8 1 9 2 9-1 9 0 9 0 8 2 9-3 9 3 9 0 9 2 9-2 8 2 9 1 9-3 9 2 9 0 8 1 9-1 9 0 9 2 6-2 7-3 7-2 6-5 7-7 6-2 7-1 7-4 6-5 7-4 7-7 6-4 7-8 6-4 7-8 7-5 6-9 7-6 6-10 7-16 7-18 6-12 7-23 6-15 7-11 7-9 6 4 7 5 6 5 7 7 7 1 6 6 7 4 7 8 6 3 7 5 6 1 7-1 7-4 6-4 7-3 6 5 7 1 7 2 6 0 7 5 6 2 7 4 7 0 6 1 7 5 6 6 7-2 7 6 6-1 7 1 7 0 6 3 7-1 6-1 7 8 7-1 6-1 7-5 6 1 7 9 7-6 6-3 7 8 6 2 7 1 7 9 6 7 7 13 7 1 6 11 7 3 6 6 7 12 7 6 6-8 7 16 6-2 3 5 5-5 6 4 5-1 6 3 5 3 6 9 5-7 6-5 5 8 6 10 5-6 6-1 5-2 6 4 5-2 6 6 5-11 6 15 5-8 6 6 5 2 6 1 5-4 6 2 5-4 6 8 5-14 6 3 5 0 6 3 5 5 6-13 5-4 6 16 5-10 6-2 5 9 6-9 5 17 6-9 5-5 6 9 5-21 6 16 5 10 6-14 5 9 6 2 5-3 6-10 5 13 6 0 5-16 6 6 5-1 6-6 6 15 5-4 6-15 5-2 6 15 5 2 6 1 5-2 6-3 5-11 6 17 5 6 6-10 5-7 6-3 5 10 6-2 5 13 6-10 5 1 6-6 5 7 6-2 5 7 6-9 5-12 6 23 5-4 6 3 5-2 6-20 5 32 6-2 5-19 6-4 5 1 6 0 5 2 6 12 5-3 6-2 5 4 6-2 5-24 6 27 5-6 6-12 5 12 6 7 5-3 6-6 5 20 6-35 5 15 6-8 5 1 6 11 5-9 6-2 5 0 6-8 5 15 6-11 5 18 6-22 5 26 6 13 6-30 8-1 5 0"/>
<path stroke="#8c564b" d="M180 2584l2-8 2 6 1 1 2-23 1 22 2 0 2-18 1 13 2-51 2 38 1-31 2 9 2 16 1 52 2 34 2 121 1 128 2 108 2 122 1 97 2-196 2-196 1-196 2-38 2 53 1 45 2 49 1 38 2 36 2 32 1 31 2 27 2 25 1 24 2 20 2 18 1 18 2 19 2 11 1 12 1 7 9 46 9 34 9 15 9 12 8 6 9 6 9 1 9 4 9 0 9-1 8 1 9-2 9 2 9 0 9-1 8-3 9 4 9-2 9 0 9 1 8 1 9 3 9-4 9 2 9-2 9 0 8 2 9-3 9 1 9 2 9 3 8-5 9-1 9 3 9 1 6-4 7 2 7 0 6 3 7-2 6-2 7-1 7-1 6-5 7-1 7-6 6-2 7-5 6-6 7-2 7-5 6-2 7-5 6-6 7-4 7-8 6-4 7-8 6-2 7 1 7 4 6 1 7 3 6 5 7 5 7-1 6 0 7 3 7-2 6 1 7-1 6-1 7 2 7 2 6-6 7 2 6-1 7 5 7 0 6-2 7 0 6 0 7-2 7 2 6 0 7-6 6 5 7 0 7-3 6 2 7 1 7-2 6 3 7-3 6 1 7 5 7-7 6 1 7 1 6 3 7-2 7 5 6-5 7 1 6 0 7 1 7-7 6 11 7 2 7-10 6 17 7 1 6 7 7-4 7 6 6 7 7 4 6 7 3-4 5 5 6 8 5-11 6 10 5-2 6 3 5-1 6-2 5 0 6-2 5-4 6 17 5-9 6-2 5-4 6 2 5 2 6-5 5-11 6 11 5 10 6-11 5 1 6-1 5 0 6 10 5-6 6 1 5-5 6 14 5-16 6-2 5 26 6-17 5 2 6 10 5-11 6 5 5-3 6-13 5 2 6 0 5 14 6-3 5 8 6-10 5-5 6 5 5-9 6 1 5 12 6-10 5-2 6 11 5 2 6-8 6 5 5 0 6-17 5 12 6 0 5-7 6 20 5-10 6 19 5-23 6-1 5-2 6 15 5-2 6-17 5 12 6 2 5-5 6 8 5-31 6 29 5-7 6 0 5-7 6 3 5 9 6 3 5 6 6-12 5-8 6 14 5-4 6 2 5 11 6-6 5-19 6 7 5-10 6 3 5 4 6 13 5 4 6 1 5-24 6 15 5-12 6 6 5 11 6 1 5 3 6-18 5 7 6-9 5 2 6-5 5 12 6-8 5 2 6 10 5-9 6-6 5 5 6 11 5-6 6 5 5-3 6 0 6-5 8-6 5 21"/>
<path stroke="#1f77b4" d="M180 2766l2 17 2-14 1-18 2-17 1 3 2 15 2-12 1-30 2 21 2-21 1 24 2-1 2-14 1 7 2 106 2 107 1 92 2 98 2 91 1-419 2-408 2 0 1 0 2 2 2 2 1-3 2 2 1 0 2 2 2-2 1 3 2 0 2 0 1-1 2 2 2-1 1 0 2 3 2-2 1 4 1-1 9-3 9 5 9-1 9 2 8 1 9-2 9 4 9 1 9 2 9-2 8 4 9-1 9 2 9 0 9 5 8 0 9 5 9-2 9 2 9 2 8-1 9 3 9 4 9-1 9 4 9 2 8 3 9 1 9 3 9 4 9 2 8 1 9 5 9-1 9 2 6 1 7 5 7-1 6 1 7 0 6 4 7-1 7 1 6 4 7-1 7 2 6 2 7 1 6 2 7 2 7-4 6-3 7-4 6-4 7-12 7-9 6-9 7-7 6-2 7-1 7 5 6 2 7 4 6 5 7-2 7-6 6-1 7-17 7-16 6-4 7-1 6-1 7 0 7-1 6 2 7 3 6 2 7 3 7 1 6-8 7 0 6-2 7 0 7 2 6 7 7 8 6 7 7 11 7 12 6 11 7 14 7 11 6 8 7 8 6 0 7 2 7 3 6-3 7 3 6 5 7 1 7 5 6-2 7-2 6 20 7 9 7 5 6 16 7-1 7-4 6 8 7 1 6 10 7-9 7 2 6-1 7-1 6-4 3 5 5 2 6-3 5-9 6-2 5 5 6-6 5 0 6-6 5 17 6-5 5-10 6 9 5 2 6-19 5 9 6 1 5 5 6-4 5-1 6 1 5 11 6 2 5-16 6-3 5 22 6-22 5 2 6 4 5 2 6 4 5-5 6-8 5 9 6-2 5 11 6-13 5-9 6 2 5 17 6-14 5-11 6 11 5 4 6 8 5-16 6 12 5 1 6-11 5 4 6 14 5 0 6-7 5-4 6 6 5-10 6 1 6-6 5 6 6 0 5 22 6-23 5 11 6 0 5-12 6 11 5-27 6 18 5 7 6-27 5 10 6 18 5-11 6-7 5 6 6-1 5 10 6-2 5-6 6-4 5 6 6 11 5-8 6 2 5-6 6-10 5 5 6 11 5-4 6-9 5-6 6 14 5-3 6-1 5 1 6 5 5 0 6 6 5-1 6 4 5-5 6-10 5 3 6 4 5-6 6 7 5 5 6-17 5-8 6 25 5-10 6 6 5-17 6 26 5-9 6-7 5-2 6 4 5-2 6-1 5-8 6 21 5-11 6 1 6 0 8-21 5 24"/>
<path stroke="#ff7f0e" d="M180 2783l2-4 2 29 1 19 2 5 1 18 2-26 2 68 1 53 2 73 2 84 1 81 2-5 2-132 1-132 2-132 2-132 1 5 2 11 2 10 1 8 2 8 2 12 1 4 2 6 2 9 1 1 2 6 1 6 2 5 2-1 1 8 2 2 2 1 1 4 2 7 2-1 1 0 2 0 2 6 1 1 1 0 9 7 9 3 9 2 9-2 8 4 9-2 9-2 9 0 9 2 9 3 8 2 9-5 9-1 9 3 9-3 8 4 9-2 9 1 9 2 9-3 8 2 9-3 9 1 9-2 9 1 9 4 8-2 9-2 9 3 9 0 9 0 8-1 9-1 9 1 9 1 6-5 7 0 7 0 6-4 7-3 6-1 7-4 7-6 6 1 7-1 7-5 6-2 7-4 6-4 7-5 7 0 6-8 7-7 6-5 7-11 7-8 6-13 7-11 6-12 7-7 7-5 6 2 7 1 6 4 7 1 7 2 6 5 7 5 7 1 6 5 7-1 6 3 7 0 7-6 6-2 7 3 6-1 7 3 7 0 6-1 7 1 6 4 7 3 7-1 6 5 7-3 6 3 7-1 7 8 6-10 7 6 7 1 6-3 7 6 6-2 7-2 7 4 6 2 7-5 6-4 7 5 7-2 6 0 7 5 6-4 7 4 7 3 6-2 7 15 7 2 6 7 7-1 6 1 7 5 7-4 6-3 7-3 6 9 3-2 5-1 6 4 5 3 6-12 5 6 6-2 5 1 6 5 5 7 6-8 5 6 6 2 5-9 6 8 5-9 6 15 5-6 6 2 5 11 6-16 5-6 6 4 5 13 6-6 5-4 6 17 5-15 6 12 5-11 6-10 5 11 6-3 5-5 6-1 5-5 6 10 5-4 6 4 5 2 6 1 5-2 6 7 5-11 6 16 5-10 6 6 5-21 6 15 5 14 6-13 5-10 6 5 5-7 6 3 5 1 6-7 6 13 5-5 6 8 5 0 6 4 5-8 6 1 5-1 6 18 5-27 6-5 5 8 6 8 5-2 6-3 5 7 6-14 5-3 6 0 5 25 6-12 5 0 6-12 5 18 6 2 5-10 6-4 5 17 6-3 5 6 6-6 5-5 6 11 5-13 6-6 5 18 6-15 5 8 6 6 5-18 6 1 5 8 6 1 5-13 6 5 5 4 6 2 5-5 6-1 5-9 6 0 5 4 6 6 5-3 6 9 5-5 6 7 5-20 6 9 5-8 6 15 5 2 6 12 5-7 6 9 5-21 6-18 6 23 8-13 5 18"/>
<path stroke="#17becf" d="M180 3142l2 2 2-8 1 30 2 5 1-34 2-18 2-2 1 21 2 3 2 35 1 39 2 4 2 7 1-52 2-273 2-273 1-219 2 63 2 60 1 50 2 48 2 43 1 40 2 35 2 32 1 31 2 27 1 25 2 22 2 21 1 17 2 15 2 18 1 15 2 15 2 9 1 8 2 10 2 12 1 6 1 5 9 31 9 18 9 10 9 6 8 7 9 2 9 0 9 3 9-2 9 0 8 2 9-1 9 0 9-1 9 2 8-2 9 0 9-2 9 1 9-2 8 2 9 0 9 0 9 1 9-1 9-5 8 1 9 1 9-1 9-2 9 3 8-3 9 2 9-1 9 1 6-2 7-2 7-5 6-6 7-2 6-4 7-5 7-3 6-1 7-7 7-2 6-6 7-4 6-4 7-7 7-3 6-11 7-6 6-10 7-13 7-20 6-17 7-13 6-18 7-11 7-5 6 0 7 6 6 4 7 3 7 8 6 2 7 6 7 7 6 3 7-1 6 2 7 3 7-2 6-6 7-3 6 5 7 2 7-2 6 2 7 2 6 6 7 4 7-4 6 3 7 3 6 5 7 1 7 5 6 1 7-2 7 4 6-1 7 3 6-5 7 1 7 2 6-1 7-2 6 8 7-3 7-7 6 7 7 6 6-4 7 6 7 6 6 7 7 10 7 8 6 17 7 3 6 9 7 9 7 5 6 17 7 6 6 16 3-5 5 5 6-8 5 18 6-5 5 8 6-4 5 9 6 5 5 4 6-5 5 14 6-1 5-7 6 13 5-11 6-1 5-2 6 2 5 9 6 1 5-4 6-4 5 4 6-2 5 1 6-7 5 5 6 16 5-13 6 7 5-20 6 12 5 8 6-6 5 1 6-7 5 0 6 4 5-9 6 7 5 11 6-10 5 2 6-4 5 19 6-23 5-3 6 6 5 18 6-3 5-17 6-12 5 24 6-9 5-9 6 20 6-13 5 11 6-5 5-6 6 10 5-11 6 10 5 6 6-15 5 7 6 16 5-5 6-21 5 0 6 18 5-4 6-14 5 2 6 9 5-5 6 9 5-6 6 0 5 1 6 13 5-8 6-5 5-4 6 27 5-18 6-10 5-7 6 20 5-5 6 0 5 0 6-8 5 15 6-17 5 23 6-12 5 1 6 6 5-2 6-21 5 32 6-28 5 15 6-12 5 21 6-23 5 7 6 2 5-6 6 0 5 5 6-11 5 22 6-4 5-20 6 13 5 2 6 10 5-6 6 0 5-7 6-5 6-13 8 7 5 8"/>
<path stroke="#d62728" d="M180 2575l2-21 2-17 1-20 2 50 1 124 2 128 2 147 1 137 2 117 2-264 1-264 2-263 2 53 1 60 2 52 2 50 1 41 2 43 2 36 1 31 2 30 2 29 1 29 2 20 2 19 1 21 2 18 1 14 2 16 2 13 1 11 2 10 2 10 1 9 2 9 2 6 1 7 2 4 2 11 1 4 1 1 9 23 9 10 9 4 9 6 8 2 9 1 9 1 9-2 9 4 9-1 8-1 9 0 9-2 9 1 9 0 8 2 9-2 9-3 9 1 9-1 8 1 9-2 9-1 9 2 9 0 9-3 8 1 9-1 9 2 9-1 9-5 8 3 9-2 9 1 9 2 6-5 7-2 7-1 6-3 7-4 6-9 7-2 7-4 6-4 7-2 7-6 6-4 7-5 6-7 7-4 7-3 6-10 7-9 6-7 7-15 7-14 6-14 7-19 6-16 7-11 7-4 6 2 7 1 6 6 7 5 7 5 6 5 7 6 7 5 6 2 7 3 6 4 7-4 7 1 6-8 7 1 6 3 7-2 7 2 6 1 7 3 6 5 7 0 7 3 6 3 7 0 6 5 7 2 7 0 6 3 7 0 7 0 6 2 7 4 6-5 7 5 7 0 6-4 7 3 6 0 7-4 7 8 6 2 7 4 6-6 7 4 7 7 6 10 7 4 7 4 6 9 7 1 6 18 7 0 7-5 6 7 7-8 6 6 3 5 5 2 6-2 5-7 6 1 5 8 6-9 5 5 6-5 5 8 6 4 5 0 6 4 5 7 6-6 5-3 6-2 5-7 6 2 5 7 6 3 5-10 6-7 5 22 6-12 5 12 6 0 5-8 6 6 5-9 6 4 5 2 6 7 5-13 6 2 5-8 6 3 5 5 6 5 5 0 6-8 5 5 6 12 5-11 6 11 5-8 6 6 5-8 6-8 5 3 6-3 5 9 6-4 5-6 6 15 5-12 6 1 6 10 5-18 6 9 5-6 6 10 5-1 6-5 5 3 6-1 5-1 6 5 5-4 6 5 5-3 6-11 5-1 6 4 5 14 6-2 5 8 6-20 5 8 6-8 5 1 6 6 5 8 6-4 5-5 6 8 5-9 6 18 5-27 6 14 5-11 6-8 5 5 6 9 5 5 6-20 5 11 6 16 5-4 6-10 5 1 6-2 5 15 6-4 5-17 6 7 5 4 6 16 5-21 6 16 5-16 6 1 5-9 6 15 5-2 6-3 5 0 6 24 5-22 6 14 5-18 6-8 5 11 6 7 6 6 8-7 5-2"/>
<path stroke="#17becf" d="M180 3103l2-14 2-23 1-52 2-7 1-3 2-12 2 4 1 27 2-15 2-29 1 39 2 27 2 49 1 58 2 40 2 20 1-490 2-305 2 23 1 20 2 20 2 15 1 17 2 14 2 14 1 11 2 11 1 12 2 7 2 9 1 6 2 6 2 7 1 5 2 6 2 4 1 4 2 3 2 6 1 1 1 3 9 14 9 8 9 4 9 2 8 2 9-2 9 3 9 0 9-1 9 0 8 1 9-3 9 3 9-1 9-1 8-2 9 3 9-2 9 3 9-3 8 1 9-4 9 4 9-1 9 1 9 0 8-3 9-1 9 1 9 2 9-1 8 0 9-1 9 0 9-1 6 3 7-2 7-3 6-1 7-3 6-7 7 0 7-3 6-2 7-5 7 0 6-4 7-1 6-5 7-4 7-2 6-7 7-3 6-6 7-11 7-10 6-10 7-12 6-9 7-9 7 1 6-2 7 3 6 1 7 3 7 3 6 1 7 2 7 1 6 2 7 4 6 4 7-3 7-2 6-1 7 0 6 0 7 0 7-2 6 7 7-5 6 2 7 1 7 2 6 2 7 2 6 4 7-4 7 4 6 0 7 1 7 1 6 5 7-5 6 1 7 0 7 3 6 0 7-3 6 1 7 0 7-2 6 2 7 4 6-9 7 7 7 10 6 0 7 3 7 3 6 7 7-1 6-5 7 9 7-5 6-1 7 2 6-4 3 6 5-2 6-6 5 9 6 5 5-12 6 0 5-5 6 17 5-5 6-3 5 11 6-3 5 13 6-15 5 5 6-5 5 7 6-11 5 12 6-8 5 2 6 0 5-1 6-2 5-1 6 1 5 4 6-2 5 5 6-5 5 7 6-10 5 10 6-22 5 6 6 9 5 6 6 4 5-11 6 9 5-8 6-8 5 16 6-5 5-5 6 5 5 0 6-3 5 0 6-5 5 9 6-12 5 3 6 16 5-13 6 10 6-18 5-5 6 19 5-5 6-1 5-8 6 14 5-19 6 16 5 11 6-15 5 8 6-23 5 10 6 5 5 8 6-10 5 7 6-1 5-7 6 9 5-14 6 15 5 7 6-15 5-2 6 2 5 4 6 1 5-1 6-8 5 10 6 7 5-12 6 16 5-5 6 0 5-4 6-5 5 11 6-12 5-2 6 15 5-5 6-22 5 25 6-7 5-4 6 2 5 1 6-9 5 16 6 7 5-3 6-8 5-14 6 5 5-9 6 12 5 2 6 2 5-14 6 9 5-11 6 2 5 11 6-4 6 16 8 0 5-6"/>
<path stroke="#bcbd22" d="M180 2753l2 10 2-18 1 26 2 20 1 41 2 79 2 80 1 69 2 94 2 35 1-180 2-179 2-180 1-176 2 12 2 14 1 12 2 13 2 7 1 10 2 8 2 5 1 9 2 4 2 7 1 5 2 6 1 3 2 3 2 4 1 3 2 4 2 0 1 4 2 3 2-2 1 7 2 2 2-1 1 2 1 1 9 4 9 4 9 0 9 5 8-2 9 3 9 3 9-3 9 1 9 0 8-1 9 2 9 1 9-3 9 4 8-2 9 2 9-2 9-2 9 3 8-1 9 2 9 1 9-2 9 1 9 1 8-2 9 2 9 3 9 0 9-2 8 0 9 2 9 1 9-2 6-1 7-1 7 1 6-4 7-4 6 1 7-5 7-3 6 1 7-2 7-5 6-3 7-1 6-4 7-1 7-4 6-6 7-8 6-2 7-7 7-6 6-14 7-8 6-7 7-9 7-1 6 0 7 1 6 3 7 0 7 2 6 4 7 1 7 3 6 3 7 1 6-2 7 1 7-3 6 0 7-1 6 2 7 3 7-1 6-4 7 4 6 2 7 4 7-1 6 2 7 0 6-3 7 6 7 2 6-4 7 7 7 2 6-8 7 1 6-1 7 4 7-3 6 7 7-7 6 2 7 2 7-3 6 7 7-4 6 2 7 4 7-4 6 8 7 0 7 5 6-5 7 11 6-3 7-4 7 1 6-7 7 8 6-8 3 9 5-8 6 10 5-10 6-2 5 7 6-6 5 10 6 0 5-12 6 10 5-1 6-2 5-10 6 9 5-2 6 9 5 1 6-13 5-2 6 9 5-4 6 8 5-8 6 11 5 2 6-18 5 2 6 7 5-3 6 14 5-13 6-1 5-8 6 13 5-10 6 3 5-10 6 12 5 3 6 0 5-12 6 12 5 1 6 3 5-16 6 12 5 0 6-2 5 3 6-10 5 1 6 24 5-9 6-2 5-3 6-6 6-3 5-5 6 9 5-12 6 14 5-7 6 3 5-1 6 19 5 1 6-25 5 28 6-11 5-2 6 4 5-30 6 23 5 13 6-19 5 15 6-16 5-3 6 12 5-7 6-2 5 3 6 3 5 6 6-7 5 1 6-2 5-5 6-1 5 4 6-3 5 2 6 9 5-4 6 0 5-9 6 4 5 1 6-3 5 12 6 9 5-6 6-17 5 5 6 8 5-8 6 4 5-12 6 0 5 16 6-11 5 11 6 3 5-15 6 0 5 20 6-14 5 4 6 0 5-4 6 2 5 5 6-8 6-14 8 12 5-1"/>
<path stroke="#d62728" d="M180 3065l2-25 2 11 1-42 2 5 1 28 2 1 2 33 1 44 2 23 2 48 1 28 2-158 2-275 1-276 2-63 2 63 1 48 2 46 2 42 1 39 2 37 2 29 1 31 2 26 2 25 1 23 2 18 1 16 2 18 2 14 1 15 2 13 2 15 1 7 2 9 2 6 1 11 2 5 2 9 1 3 1 6 9 22 9 13 9 10 9 3 8 4 9 3 9 2 9-3 9 1 9-1 8 2 9-4 9 3 9-1 9-2 8 2 9 0 9-2 9 1 9-4 8 6 9-5 9 0 9-1 9-1 9 3 8-3 9 3 9-1 9 0 9-3 8 1 9-1 9 1 9-1 6 2 7-8 7-2 6-2 7-4 6-10 7-1 7-6 6-1 7-9 7-2 6-4 7-5 6-6 7-5 7-10 6-5 7-7 6-15 7-11 7-16 6-19 7-18 6-15 7-15 7-3 6 0 7 4 6 4 7 3 7 6 6 8 7 4 7 3 6 4 7 5 6 3 7 0 7-6 6-2 7-5 6 3 7 1 7 5 6 3 7-3 6 10 7-6 7 7 6 2 7 4 6 4 7 0 7 0 6 5 7-2 7 1 6 3 7-3 6 2 7 1 7-1 6 1 7-3 6 2 7 0 7 6 6-5 7 3 6-1 7 7 7 6 6 7 7 11 7 3 6 15 7 0 6 4 7 7 7 15 6-4 7 10 6 11 3-9 5 3 6 15 5-23 6 16 5-1 6 7 5-1 6-1 5-1 6 11 5-8 6 13 5-14 6 15 5-1 6-4 5 2 6-4 5 14 6-16 5-2 6 8 5 3 6-10 5-3 6 16 5 1 6-18 5 9 6 3 5 2 6-15 5 0 6 12 5-11 6 12 5-1 6-7 5 9 6-3 5-4 6 0 5 8 6-6 5-5 6 7 5-2 6-3 5 5 6 18 5-12 6-12 5 8 6-15 5 15 6-2 6 17 5-30 6 5 5 10 6-8 5 7 6-5 5 19 6-18 5-15 6 44 5-32 6 9 5-14 6 11 5-18 6 27 5-11 6-20 5 13 6 15 5-4 6 10 5-12 6-4 5 18 6-19 5 10 6-4 5 3 6-22 5 17 6-1 5-6 6-2 5-4 6 6 5-1 6 17 5-12 6 10 5-14 6 7 5-12 6 0 5 14 6 1 5 4 6 8 5-24 6 10 5-11 6 13 5-5 6 2 5-6 6 13 5-4 6 6 5 0 6-18 5-5 6 11 5 9 6 4 5-14 6-6 6 8 8-7 5 4"/>
<path stroke="#7f7f7f" d="M180 2986l2-10 2 11 1-27 2-29 1 21 2 14 2 18 1 5 2-6 2-7 1-21 2-7 2 27 1-2 2-26 2 24 1 41 2 45 2 61 1 60 2 17 2-187 1-187 2-187 2-187 1-3 2 14 1 8 2 11 2 9 1 11 2 12 2 3 1 5 2 7 2 5 1 7 2 3 2 3 1 2 1 5 9 15 9 7 9 4 9 3 8 2 9 2 9 0 9 1 9-2 9-1 8 3 9-5 9 0 9 4 9-4 8 2 9-8 9 5 9-2 9-1 8 0 9-6 9 2 9 1 9 4 9-7 8 4 9-4 9 0 9-3 9 1 8-3 9-1 9 4 9-4 6 0 7 0 7-5 6-3 7 0 6-3 7 0 7-6 6 0 7-2 7-4 6-2 7-3 6-4 7-4 7 0 6-7 7-4 6-3 7-10 7-8 6-10 7-10 6-9 7-7 7 2 6-3 7-2 6 2 7 4 7-3 6 3 7-1 7-1 6 3 7-1 6 3 7 1 7-2 6 4 7-7 6 5 7-2 7 2 6-1 7-5 6 4 7 3 7-2 6-2 7 2 6 2 7 2 7-4 6 2 7-2 7-1 6 2 7 5 6-2 7-2 7 0 6 2 7-2 6-1 7 1 7 3 6-3 7 4 6-9 7 4 7 3 6 6 7-3 7 4 6 6 7 3 6 2 7 6 7 3 6 13 7 4 6 8 3 9 5 1 6 1 5 2 6 16 5-5 6 2 5 10 6-1 5-1 6 5 5 9 6-8 5 1 6-6 5 2 6 7 5-5 6 1 5 6 6-8 5 11 6-13 5-1 6 0 5-4 6 12 5-3 6 8 5-13 6 9 5 4 6-10 5 1 6-16 5 29 6-13 5 5 6-8 5 6 6-10 5 13 6-5 5-3 6 6 5-16 6 14 5-5 6 14 5-5 6-7 5-1 6 25 5-30 6 22 5-7 6-2 6-20 5 21 6-11 5-3 6 12 5-10 6 10 5-12 6 12 5-1 6-11 5-1 6 3 5 1 6-1 5 20 6-11 5-7 6 0 5-4 6 9 5-2 6-6 5 0 6 3 5-6 6 10 5-9 6 13 5-8 6 8 5-10 6-11 5 5 6 9 5 5 6 1 5 1 6 1 5-3 6 1 5-6 6 7 5-6 6 1 5 2 6 18 5-32 6 8 5 2 6 6 5-4 6 14 5-27 6 29 5-26 6 4 5 11 6-4 5-1 6 1 5 3 6 5 5-5 6-14 5 4 6 18 6 5 8-9 5 2"/>
<path stroke="#e377c2" d="M180 2671l2-18 2-16 1 23 2-17 1 18 2-16 2 4 1 26 2-4 2-19 1-11 2 1 2 45 1 77 2 94 2 114 1 117 2 115 2-234 1-342 2-202 2 51 1 44 2 40 2 39 1 34 2 29 1 29 2 26 2 28 1 21 2 16 2 16 1 19 2 12 2 16 1 11 2 12 2 10 1 7 1 6 9 35 9 24 9 11 9 7 8 4 9 6 9-1 9 3 9-2 9 3 8-3 9-1 9 3 9-1 9-1 8 0 9-1 9 0 9 0 9-1 8-4 9 5 9-2 9-1 9 1 9 2 8-3 9 0 9-1 9 0 9-2 8 3 9-1 9-1 9 1 6-1 7-2 7-6 6-4 7-1 6-7 7-2 7-7 6-1 7-6 7-1 6-3 7-7 6-3 7-9 7-4 6-9 7-7 6-9 7-14 7-16 6-16 7-14 6-18 7-11 7-3 6 1 7 4 6 4 7 1 7 5 6 5 7 5 7 4 6 2 7 2 6 5 7 0 7-2 6-5 7-2 6 4 7 0 7 4 6-1 7 0 6 6 7 1 7 0 6 9 7 0 6-1 7-2 7 8 6 0 7-1 7 4 6-2 7 0 6 0 7 0 7 1 6 3 7-2 6 2 7-3 7 1 6 3 7-5 6 7 7 6 7 1 6 14 7-2 7 13 6 3 7 1 6 10 7 3 7 6 6 5 7-2 6 20 3-4 5-7 6 9 5 7 6-11 5 11 6 1 5-2 6 0 5-11 6 9 5 12 6 4 5-12 6 6 5-4 6 3 5 0 6-8 5 10 6 2 5 1 6 3 5-3 6-1 5 0 6-2 5 3 6 3 5-8 6-1 5-3 6 11 5-5 6 1 5 0 6 2 5-15 6 16 5-10 6 2 5 7 6 0 5 9 6-20 5 4 6 8 5-8 6 8 5-7 6-1 5-10 6 20 5 1 6 6 5-9 6-13 6 10 5 4 6-8 5 5 6 13 5-11 6-7 5 0 6 4 5-8 6 15 5-3 6-3 5-8 6 6 5 8 6-22 5 11 6 6 5 1 6-15 5 9 6 8 5-15 6 16 5-14 6 6 5-8 6 14 5 16 6-23 5 2 6-2 5 8 6-13 5 3 6 20 5-12 6-11 5-1 6-1 5 6 6 1 5 2 6 9 5-17 6 0 5 13 6-6 5 7 6-7 5-5 6 7 5-10 6 0 5 0 6 10 5-14 6-1 5 13 6-4 5 25 6-36 5 24 6-7 5 3 6-20 6 16 8 1 5-22"/>
<path stroke="#8c564b" d="M180 2800l2-18 2 4 1-15 2 29 1-3 2-32 2-2 1 23 2-8 2 90 1 79 2 75 2 92 1 91 2-156 2-259 1-223 2 19 2 18 1 9 2 23 2 11 1 13 2 12 2 10 1 11 2 6 1 9 2 6 2 6 1 9 2 3 2 6 1 2 2 6 2 4 1 3 2 4 2 4 1 1 1-2 9 12 9 5 9 5 9 2 8 3 9-2 9 0 9 0 9 0 9 1 8 3 9-4 9 2 9 0 9-2 8 3 9-1 9 0 9 0 9 2 8-1 9 1 9 0 9-1 9 2 9-1 8 2 9-2 9 0 9 1 9 0 8 0 9 2 9-2 9-2 6 3 7-2 7-5 6-5 7-1 6-3 7-2 7-7 6 1 7-3 7-2 6-7 7-3 6-6 7 1 7-9 6-4 7-6 6-12 7-10 7-8 6-16 7-13 6-14 7-10 7 1 6 1 7 0 6 4 7 2 7 6 6 1 7 2 7 2 6 4 7 1 6 3 7 1 7-1 6-4 7-3 6-2 7 3 7 5 6 3 7-3 6 1 7 6 7 0 6 0 7 3 6 4 7-2 7 0 6 4 7-4 7 4 6 2 7 3 6-7 7 1 7 4 6-3 7 0 6 1 7 3 7-8 6 9 7-3 6 4 7 3 7-1 6 9 7 5 7 6 6-7 7 1 6 1 7 5 7-1 6-12 7-8 6 5 3 7 5-9 6-6 5 4 6-7 5 4 6 3 5-10 6 1 5-4 6 7 5 11 6-2 5-2 6-5 5-3 6 5 5 1 6-7 5 3 6 6 5 5 6-22 5 10 6 3 5-3 6-2 5 2 6 14 5-7 6-12 5 7 6 14 5-7 6-12 5 6 6-3 5 4 6-7 5 9 6 7 5-10 6 1 5 5 6-9 5-8 6 3 5 15 6-3 5 4 6-3 5-5 6-2 5 0 6 1 5-8 6-2 6 1 5 8 6-5 5 3 6 0 5-1 6-5 5 18 6-21 5 11 6-3 5 9 6 5 5-16 6 14 5-15 6 1 5 4 6-7 5 8 6 4 5 7 6-1 5 2 6-19 5 13 6-1 5-7 6 27 5-38 6 16 5-12 6 11 5 5 6-2 5 5 6-2 5 1 6-9 5-1 6 0 5-3 6-13 5 24 6-7 5 17 6-14 5 1 6-14 5 14 6-1 5-7 6 3 5 4 6-14 5-5 6 33 5-16 6 2 5-8 6 15 5 7 6-24 5 18 6 5 5-24 6 2 6 12 8 3 5-12"/>
<path stroke="#7f7f7f" d="M180 2692l2 8 2 27 1-37 2 3 1 5 2-13 2-3 1 20 2 10 2-3 1 5 2 36 2 112 1 93 2 101 2 88 1 56 2-447 2-317 1 10 2 13 2 10 1 9 2 8 2 6 1 6 2 8 1 9 2 1 2 5 1 9 2-2 2 5 1 4 2 2 2 3 1 5 2 1 2 2 1-1 1 5 9 6 9 4 9 4 9 1 8 0 9 2 9-2 9 0 9 0 9 4 8-3 9 2 9 1 9 2 9-4 8 1 9 0 9-2 9 2 9 5 8-4 9 3 9-1 9 1 9 0 9-2 8-2 9 4 9-1 9 0 9 1 8-2 9 1 9 0 9-2 6 0 7 0 7-5 6 3 7-3 6-3 7-2 7-5 6 1 7-1 7-3 6-2 7-4 6 1 7-6 7-2 6-4 7-7 6-5 7-5 7-11 6-7 7-7 6-12 7-6 7-3 6 1 7 4 6-1 7 1 7-4 6 0 7 3 7 4 6 0 7-4 6 0 7 4 7-1 6 0 7 0 6-3 7 3 7-1 6 3 7-2 6-3 7 7 7 1 6-1 7-3 6-1 7 5 7-4 6 3 7 1 7-2 6-5 7 7 6-5 7-1 7 4 6 1 7-1 6 2 7-8 7 8 6 4 7-5 6-2 7 2 7 6 6-4 7-1 7-3 6 12 7 0 6-5 7 8 7-9 6 5 7-8 6 2 3 5 5 3 6 1 5-6 6 3 5 3 6 1 5 1 6 6 5 3 6-14 5 17 6-5 5 2 6 0 5 3 6-1 5-13 6 14 5-12 6 9 5-1 6-10 5 9 6-2 5-2 6 16 5-11 6-3 5 13 6-11 5-1 6-12 5 17 6 2 5 7 6-20 5 14 6 2 5-4 6-5 5-12 6 13 5-5 6-9 5 17 6-5 5-1 6 16 5-18 6-12 5-1 6 21 5-6 6-4 5-11 6 10 6-2 5 8 6-6 5 0 6 6 5-6 6 9 5-30 6 18 5 20 6-9 5-10 6 7 5-3 6 2 5 15 6-16 5 5 6-9 5 1 6-7 5 8 6 2 5 1 6 3 5 0 6 5 5-7 6 13 5-6 6 6 5-12 6 11 5-10 6-15 5 14 6-1 5-11 6 4 5 3 6 25 5-17 6 13 5-7 6 1 5-2 6-20 5 23 6-19 5 12 6-4 5 15 6-4 5 5 6-11 5-4 6 6 5 14 6-16 5-4 6-11 5 4 6 6 5 7 6-1 5-6 6 2 6 12 8 3 5-6"/>
<path stroke="#bcbd22" d="M180 2880l2 1 2 21 1-16 2-16 1 16 2 15 2-5 1-5 2-40 2 24 1-3 2 25 2 57 1 68 2 90 2 76 1-39 2-205 2-204 1-205 2-139 2-1 1 3 2 8 2-2 1-1 2 4 1 6 2-1 2 2 1 2 2 1 2-1 1-1 2 4 2-1 1 2 2 4 2-1 1 0 1 0 9 3 9 2 9-2 9 3 8 3 9-1 9-1 9 0 9-2 9 3 8 4 9-2 9-1 9 1 9 1 8 0 9 0 9 0 9 2 9 2 8-3 9 0 9 3 9-4 9 1 9 0 8 1 9-1 9-1 9 2 9-3 8-1 9 0 9 3 9-4 6 3 7 0 7 0 6-2 7-2 6 0 7-2 7-2 6 3 7-4 7 3 6-3 7-3 6-1 7-1 7-7 6-4 7-4 6-3 7-5 7-4 6-1 7 0 6 3 7 0 7-2 6-1 7 2 6-1 7 0 7 3 6-2 7-2 7 0 6 3 7-2 6 2 7-2 7-1 6 2 7 2 6-2 7-2 7 1 6 0 7 1 6 2 7 2 7-4 6-1 7 1 6 0 7-1 7 1 6 0 7-2 7 4 6-2 7-2 6 4 7-3 7 7 6-4 7-1 6-2 7 1 7 4 6-4 7 5 6-7 7 8 7 4 6 0 7 0 7 5 6-6 7 1 6 6 7 6 7-2 6-1 7 3 6 1 3-7 5-7 6 9 5-2 6 4 5-2 6 1 5 7 6-1 5-1 6 9 5-10 6 0 5 9 6-12 5-3 6 16 5-5 6 2 5 1 6 1 5-7 6 2 5-6 6 8 5 0 6-4 5 7 6 15 5-26 6 13 5 1 6 1 5-12 6 13 5-3 6-5 5-2 6 4 5 5 6 0 5 10 6-18 5 7 6-8 5 9 6-4 5-5 6-6 5 4 6 8 5 9 6-5 5-15 6 6 5 4 6-1 6 1 5 6 6-5 5-7 6-10 5 13 6-11 5 12 6 4 5-13 6 10 5-2 6 18 5-12 6-19 5 19 6 0 5-5 6-1 5 8 6 0 5-1 6-12 5 6 6-11 5 0 6 8 5-4 6 6 5 24 6-17 5-11 6-11 5 11 6-5 5-7 6 25 5-10 6 8 5 23 6-24 5-2 6 2 5-5 6-5 5 6 6 11 5-12 6-9 5 1 6 2 5 9 6 4 5 0 6 6 5-12 6 9 5-4 6 3 5-21 6 26 5-24 6 4 5 16 6-10 5 19 6-14 6-10 8 10 5-5"/>
<path stroke="#7f7f7f" d="M180 2830l2 3 2 4 1 16 2-8 1 4 2 0 2 1 1-4 2-1 2 7 1-17 2-34 2-16 1 14 2-13 2-22 1 93 2 105 2 68 1 91 2 97 2-200 1-248 2-40 2 35 1 32 2 28 1 23 2 23 2 20 1 20 2 17 2 15 1 16 2 14 2 10 1 13 2 13 2 6 1 10 1 6 9 30 9 17 9 12 9 5 8 3 9 7 9 0 9-1 9 0 9 1 8-1 9-1 9 1 9-2 9 3 8 0 9-2 9-3 9 1 9-4 8 4 9 0 9-3 9 0 9-3 9 0 8 2 9-3 9 2 9-3 9-1 8 3 9-2 9 0 9-4 6 1 7-2 7-6 6-4 7-4 6-4 7 0 7-7 6-4 7-7 7-5 6-3 7-5 6-8 7-6 7-6 6-7 7-8 6-12 7-15 7-15 6-17 7-19 6-17 7-14 7-5 6 2 7 1 6 6 7 5 7 7 6 5 7 6 7 5 6 3 7 2 6 2 7 4 7-7 6-3 7-1 6 0 7 4 7 2 6 3 7-3 6 7 7-1 7 7 6 0 7 3 6 3 7 2 7 2 6-2 7 7 7-3 6 4 7 5 6-8 7 1 7 4 6-5 7 1 6-4 7 4 7-1 6 3 7 7 6-3 7 8 7 5 6 15 7 3 7 11 6 6 7 11 6 4 7 10 7 10 6 9 7 9 6 5 3 15 5-12 6 6 5 6 6 3 5 3 6 7 5 2 6-10 5 12 6-6 5 5 6 11 5-10 6 0 5 0 6 8 5-7 6-1 5 14 6-15 5 3 6 12 5-20 6 5 5 14 6-6 5-18 6 10 5 8 6-6 5 5 6-5 5-4 6 11 5-9 6 8 5 7 6-26 5 1 6 14 5-3 6 18 5-17 6-1 5 9 6-4 5 9 6-3 5-14 6-3 5 14 6-11 5 8 6 6 5-5 6-1 6 3 5-13 6 2 5 0 6-6 5 16 6-5 5 1 6 8 5-29 6 15 5 18 6-18 5 4 6 12 5-8 6 0 5 19 6-19 5 14 6-5 5-5 6 9 5-26 6 22 5-22 6 12 5-12 6 17 5-1 6 12 5-12 6-9 5-9 6 7 5-7 6 28 5-14 6 15 5-5 6-11 5 0 6 5 5-2 6 11 5-11 6 8 5 6 6-3 5 0 6-27 5 13 6 4 5 11 6-5 5-8 6 2 5-8 6 0 5-1 6 1 5 23 6-4 5-11 6-1 5-6 6 10 6-11 8 0 5-6"/>
<path stroke="#7f7f7f" d="M180 2628l2 17 2 5 1 5 2 0 1-14 2-7 2-20 1-6 2 6 2 8 1-20 2-5 2 118 1 138 2 119 2 116 1 114 2-193 2-303 1-297 2 17 2 15 1 16 2 14 2 11 1 9 2 9 1 11 2 4 2 11 1 6 2 7 2 5 1 5 2 3 2 7 1 2 2 4 2 3 1 1 1 5 9 10 9 6 9 5 9 5 8-1 9 2 9 2 9-2 9 2 9-1 8 2 9-1 9 1 9-2 9 1 8 0 9 1 9 2 9-1 9 1 8-1 9 1 9 1 9 0 9-1 9 1 8-1 9 3 9 1 9 1 9-7 8 6 9 0 9 3 9-4 6-1 7 0 7-4 6-3 7 0 6-6 7-1 7 1 6-3 7-5 7 1 6-5 7-4 6-2 7-4 7-2 6-5 7-7 6-6 7-6 7-12 6-10 7-13 6-5 7-8 7-4 6 0 7 2 6 3 7 1 7 5 6 4 7-1 7 3 6 4 7 0 6 3 7 0 7-2 6-4 7-1 6 4 7-2 7 1 6-3 7 5 6 6 7-2 7 3 6-2 7-2 6 5 7 5 7-3 6 0 7 0 7-2 6 3 7 1 6 2 7 0 7-5 6-3 7 5 6-1 7 5 7-6 6 6 7-2 6 6 7-1 7-4 6 2 7 12 7-3 6 8 7-3 6 8 7-8 7-3 6-6 7 9 6-4 3-1 5 13 6-10 5-9 6 7 5-11 6 3 5 7 6-10 5 7 6 1 5 2 6-5 5-2 6 7 5 4 6-9 5 10 6 2 5-5 6 4 5 0 6 1 5-5 6 0 5 1 6 5 5-11 6 13 5-15 6 18 5-8 6 13 5-16 6 3 5-15 6 9 5 3 6 1 5 2 6-3 5-2 6 7 5-17 6 7 5 9 6-6 5 9 6-13 5 2 6 7 5 9 6-23 5-3 6 3 5 0 6 12 6 5 5-7 6 2 5 3 6-2 5-1 6 0 5 7 6-18 5 5 6 6 5 20 6-29 5 13 6-12 5 4 6-5 5 22 6-12 5-7 6 12 5-14 6 8 5-14 6 9 5 6 6 0 5-10 6 0 5-8 6-3 5 16 6 11 5-5 6 1 5-5 6 0 5-1 6 15 5-17 6 13 5-22 6 3 5 8 6-12 5 26 6-11 5 1 6-7 5 8 6-10 5 17 6 0 5-17 6-1 5-6 6 1 5 23 6-4 5 7 6-9 5 3 6-2 5-10 6 6 5 7 6-7 6-9 8-1 5 34"/>
<path stroke="#e377c2" d="M180 2894l2-5 2-4 1-18 2 5 1-1 2 9 2-16 1-23 2 12 2 38 1 57 2 62 2 93 1 98 2-31 2-87 1-87 2-44 2 9 1 7 2 6 2 8 1 3 2 5 2 5 1 4 2 2 1 8 2 0 2 2 1 4 2 0 2 5 1 1 2 1 2 4 1-2 2 3 2 0 1 4 1 0 9 3 9 5 9-1 9 2 8-1 9-2 9 5 9-4 9 1 9 2 8-3 9 3 9-1 9-1 9 0 8 1 9-2 9 2 9 0 9-5 8 4 9 0 9-3 9 4 9-4 9 1 8-2 9 0 9 4 9-2 9-4 8 3 9-2 9 2 9 1 6-3 7 0 7-6 6 0 7-8 6-5 7-3 7-2 6-3 7-5 7-6 6-4 7-1 6-8 7-3 7-8 6-5 7-7 6-7 7-16 7-14 6-15 7-16 6-13 7-11 7-4 6-2 7 6 6 6 7 1 7 4 6 5 7 6 7 1 6 3 7 3 6 2 7 1 7-2 6-3 7 0 6 0 7 2 7 1 6 2 7 2 6 0 7 4 7 6 6-2 7-1 6 4 7 2 7 2 6 2 7-2 7 1 6 3 7 1 6-1 7 0 7 4 6-9 7 9 6-6 7 2 7-2 6 1 7 8 6-5 7 8 7 6 6 6 7 6 7 16 6-5 7 13 6 12 7 0 7 8 6 4 7 7 6 3 3 7 5 3 6-2 5-2 6 7 5 2 6 11 5-6 6 6 5-8 6-1 5 10 6 10 5-10 6-1 5 0 6 4 5-7 6 3 5 13 6 0 5-16 6 5 5 16 6-4 5-11 6-9 5 11 6 5 5-6 6-4 5 6 6 4 5-9 6-7 5 18 6-13 5 8 6 10 5-16 6 7 5 2 6 8 5-7 6 5 5-4 6-12 5 18 6-19 5 3 6-2 5 13 6-16 5 24 6-24 5 10 6-11 6 13 5 8 6-21 5 7 6 9 5 0 6-10 5 23 6 3 5-14 6-20 5 3 6-4 5 12 6-6 5-5 6 22 5-11 6-1 5-7 6 10 5-18 6 18 5 1 6-4 5-9 6 4 5 18 6-15 5-13 6 4 5-1 6 19 5-4 6-9 5 13 6 0 5-5 6 4 5-1 6-8 5-11 6 0 5 26 6-10 5 3 6 3 5-13 6 1 5-1 6-2 5 6 6 1 5-7 6 5 5 2 6 5 5-10 6 18 5-22 6 5 5 7 6-2 5-4 6 11 5-11 6 1 6 9 8 6 5-6"/>
<path stroke="#7f7f7f" d="M180 3022l2-14 2 6 1-35 2 44 1-1 2 25 2 54 1 54 2 40 2 29 1-39 2-40 2-39 1-30 2 14 2 13 1 8 2 11 2 7 1 9 2 7 2 7 1 6 2 7 2 4 1 5 2-1 1 11 2 2 2 4 1-2 2 6 2 2 1 3 2 1 2 1 1 4 2 0 2 1 1 3 1-4 9 8 9 7 9-2 9 3 8-3 9 4 9-2 9-1 9 2 9-2 8 0 9 3 9 1 9-4 9-1 8 0 9 2 9 2 9-2 9 2 8 1 9-2 9 0 9 0 9 2 9-3 8-2 9 2 9-2 9 1 9 2 8 1 9 0 9 0 9-1 6-3 7 1 7 2 6 0 7-1 6-1 7-1 7 0 6 2 7-3 7-3 6 1 7-5 6-1 7 0 7-2 6-2 7-2 6 0 7-2 7-1 6-4 7-3 6 3 7-1 7 0 6 2 7 0 6 1 7 1 7 1 6 2 7-3 7 0 6 2 7 2 6-1 7 0 7 0 6-1 7-2 6 0 7 1 7-1 6 2 7-3 6 1 7 3 7-1 6-1 7 2 6 3 7-5 7 5 6-6 7 10 7-7 6 0 7 0 6-2 7 5 7-2 6-7 7 9 6-5 7 3 7-4 6-1 7 3 6 0 7 2 7-2 6 3 7-4 7 7 6 2 7 3 6-3 7 6 7 8 6-9 7 12 6-10 3 3 5 10 6-3 5 4 6-3 5 3 6-4 5 1 6 3 5-4 6 1 5 3 6 0 5 0 6 0 5-2 6-6 5 8 6 0 5-1 6 1 5-2 6 2 5-13 6 13 5 0 6 0 5 0 6-9 5 9 6-11 5 3 6 2 5-7 6 4 5 7 6-5 5 3 6 3 5 1 6-3 5-14 6 10 5 6 6-4 5-14 6 7 5 12 6-4 5-2 6-8 5 14 6 0 5-4 6-5 5 8 6-6 6-7 5 9 6 1 5-10 6 14 5-9 6 9 5-14 6 9 5-9 6 14 5 0 6-1 5 1 6-13 5 11 6 2 5 0 6-3 5 3 6-17 5 13 6 4 5 0 6-10 5 6 6 3 5-4 6 5 5 0 6 0 5 0 6 0 5 0 6-1 5 1 6 0 5 0 6-10 5 10 6-6 5-11 6 9 5-3 6 11 5-6 6 6 5-7 6 3 5-8 6 5 5-2 6 9 5-1 6 1 5 0 6-1 5-17 6 18 5-9 6 9 5-6 6 6 5 0 6-2 5-2 6-6 6 6 8 4 5-4"/>
<path stroke="#8c564b" d="M180 2645l2 26 2 10 1-16 2-9 1 15 2-7 2 24 1 111 2 111 2 81 1 103 2 96 2-119 1-281 2-281 2-61 1 61 2 57 2 52 1 44 2 44 2 39 1 33 2 33 2 27 1 29 2 22 1 21 2 20 2 20 1 16 2 13 2 14 1 14 2 11 2 8 1 14 2 8 2 4 1 9 1 3 9 25 9 18 9 8 9 7 8 4 9 5 9-1 9 2 9 0 9-1 8-1 9 1 9-2 9-2 9 3 8-3 9 1 9 0 9-3 9 2 8-1 9-1 9 1 9-3 9 1 9 1 8-1 9-1 9 1 9-5 9 4 8-5 9 2 9-2 9 1 6 0 7-3 7-6 6-3 7-1 6-9 7-1 7-7 6-2 7-5 7-4 6-4 7-7 6-2 7-7 7-9 6-5 7-9 6-10 7-12 7-18 6-16 7-17 6-18 7-8 7-10 6 4 7 4 6 5 7 3 7 8 6 5 7 5 7 3 6 3 7 4 6 2 7 6 7-5 6-6 7-3 6 4 7 2 7 1 6 0 7 2 6 4 7 5 7 2 6 1 7 4 6 3 7 2 7 2 6 3 7-5 7 2 6 3 7 0 6-3 7 1 7 4 6-3 7 1 6 1 7 0 7 0 6 3 7 1 6 7 7-8 7 21 6-4 7 14 7 1 6 10 7 10 6 7 7-2 7 14 6 8 7-4 6 5 3 5 5 10 6-4 5-3 6 4 5 12 6 0 5-2 6-1 5-6 6 12 5-5 6 10 5-1 6-11 5 3 6-1 5-1 6 9 5 9 6-6 5-3 6-7 5 15 6-10 5-5 6 10 5-5 6-3 5 8 6-1 5-5 6 14 5-20 6 8 5 3 6-17 5 22 6 0 5-15 6 9 5 1 6 9 5-6 6-15 5 6 6-2 5 8 6-2 5-9 6 13 5-2 6-3 5 3 6-6 5-6 6 11 6-12 5 10 6-11 5 14 6-4 5 3 6-11 5 14 6-5 5 2 6-14 5 10 6 7 5-18 6 0 5 15 6-6 5 11 6-7 5-5 6 13 5-8 6-3 5 7 6-5 5-9 6 0 5 15 6 10 5-4 6 0 5-7 6 10 5-9 6-9 5-3 6 8 5-16 6 20 5-7 6-12 5 11 6 0 5 3 6 26 5-25 6-3 5-12 6 21 5-15 6 20 5-22 6 6 5-7 6 3 5 25 6-14 5 4 6-10 5 15 6-27 5 23 6-6 5-8 6 9 5 5 6-4 6 19 8-11 5-16"/>
<path stroke="#17becf" d="M180 2888l2 9 2 12 1 1 2 3 1 0 2-23 2 40 1 63 2 57 2 46 1 76 2-1 2-223 1-224 2-187 2 23 1 22 2 23 2 20 1 18 2 21 2 12 1 12 2 12 2 13 1 8 2 10 1 10 2 9 2 3 1 8 2 7 2 5 1 5 2 3 2 4 1 7 2 1 2-1 1 4 1 4 9 11 9 3 9 7 9 3 8 1 9-3 9 5 9-1 9 0 9-1 8 2 9-1 9-3 9 0 9 1 8 0 9 3 9-1 9-4 9 0 8 2 9-3 9 0 9-1 9-2 9 2 8-1 9 3 9-2 9 1 9-3 8 1 9 3 9 0 9-1 6-1 7-2 7-5 6 0 7-8 6-1 7-5 7-4 6 1 7-7 7-3 6-6 7-3 6-2 7-4 7-5 6-8 7-6 6-10 7-10 7-11 6-13 7-15 6-14 7-12 7 0 6-5 7 7 6 1 7 6 7 2 6 2 7 5 7 5 6 1 7 5 6-3 7 2 7-2 6-5 7 1 6 0 7 4 7 1 6-2 7 2 6 3 7 1 7 1 6 3 7 1 6 5 7-1 7 1 6 6 7-3 7-3 6 2 7 2 6 1 7 2 7-7 6 0 7 0 6 3 7-4 7 3 6 3 7 1 6 1 7 6 7 2 6 10 7 2 7 4 6 2 7 1 6 5 7 1 7-4 6 15 7-12 6 12 3-7 5-1 6 9 5 5 6-9 5 8 6 2 5-12 6 6 5 0 6 10 5 1 6-7 5 2 6 7 5-9 6 4 5 3 6-3 5 5 6 2 5-9 6-2 5 6 6-4 5 1 6 6 5-9 6 0 5 4 6-2 5 8 6-11 5 7 6 0 5-6 6 11 5-18 6 20 5-11 6 9 5-6 6-17 5 5 6 12 5 4 6 2 5-2 6 3 5-5 6 2 5 2 6 1 5-21 6 8 5 6 6-16 6 28 5 2 6-25 5 12 6 1 5 11 6-21 5 6 6-1 5 6 6-9 5 1 6-4 5 4 6-6 5-1 6 10 5 5 6 12 5-13 6-3 5-8 6 2 5 16 6-7 5-2 6 14 5-11 6-2 5-15 6 13 5 8 6-8 5-24 6 26 5-13 6-5 5 25 6-15 5 8 6-24 5 20 6 14 5-19 6 7 5 1 6-1 5-4 6-10 5 8 6 30 5-20 6 2 5-11 6 17 5-10 6-12 5-2 6 12 5 5 6-5 5-17 6 18 5 0 6-8 5-8 6 16 6-8 8 4 5 0"/>
<path stroke="#d62728" d="M180 2646l2-15 2 32 1 16 2-28 1 16 2-11 2 6 1 1 2 3 2-26 1 19 2 31 2-10 1 129 2 92 2 99 1 103 2 107 2-151 1-189 2 8 2 4 1 5 2 6 2 4 1 3 2 6 1 5 2 1 2 6 1 1 2 3 2 2 1 1 2 2 2 2 1 2 2 4 2-2 1 2 1-1 9 3 9 7 9-1 9 2 8 2 9-2 9-1 9 2 9-3 9 2 8-2 9 1 9-2 9 1 9-1 8-1 9 2 9-2 9 0 9-1 8 2 9-2 9-1 9 3 9-3 9-1 8-2 9 0 9 3 9 1 9-1 8-4 9 2 9-2 9-1 6 1 7-3 7-3 6-5 7-3 6-7 7 1 7-8 6-4 7-3 7-3 6-7 7-1 6-9 7-4 7-5 6-8 7-8 6-9 7-13 7-18 6-14 7-17 6-14 7-14 7-2 6-4 7 6 6 2 7 7 7 3 6 2 7 4 7 5 6 6 7 5 6-3 7 5 7-6 6-1 7-2 6 1 7-3 7 8 6-5 7 7 6-1 7 5 7 4 6 1 7 1 6 1 7 0 7 3 6 7 7-5 7 1 6 3 7 2 6-2 7-9 7 14 6-7 7-2 6 1 7 0 7 5 6-1 7 10 6-10 7 7 7 6 6 12 7 7 7 11 6-1 7 6 6 5 7 9 7 6 6 11 7-4 6 14 3-14 5 11 6 1 5 6 6 9 5-6 6-3 5 19 6-6 5 22 6-16 5-6 6 17 5-3 6 4 5-6 6 1 5-8 6 5 5 7 6-7 5-9 6 10 5 1 6 4 5 4 6-8 5 0 6 7 5-4 6-4 5-2 6 7 5-8 6 5 5 6 6-16 5 12 6 2 5-11 6 6 5 0 6-3 5-4 6 12 5 9 6-27 5 14 6-3 5 5 6 1 5-2 6-8 5 1 6 4 5-19 6 11 6 23 5-10 6 2 5 8 6-12 5 7 6-4 5-11 6 1 5 2 6-4 5-2 6-5 5 22 6-5 5-6 6 3 5 25 6-21 5-3 6-4 5 6 6 8 5-14 6 12 5-12 6 15 5-15 6 2 5-7 6 9 5-5 6 15 5-2 6-8 5-3 6-3 5 17 6-8 5-6 6-9 5 13 6 0 5 2 6 8 5-15 6-1 5 2 6 1 5-9 6 7 5 7 6-15 5 16 6 10 5-17 6 7 5 2 6-13 5 0 6 14 5-1 6-8 5 4 6 4 5-3 6-2 6-1 8-12 5 2"/>
<path stroke="#d62728" d="M180 3014l2-41 2 2 1-23 2-4 1-11 2 2 2-22 1 21 2 44 2-48 1-17 2-30 2 3 1 28 2 43 2 74 1 51 2 43 2 54 1 45 2-178 2-193 1-193 2-192 2-46 1 13 2 11 1 11 2 7 2 5 1 10 2 6 2 4 1 3 2 10 2 3 1 3 2 5 2 6 1 3 1-1 9 14 9 5 9 4 9 3 8 1 9 1 9 0 9 2 9-2 9 3 8-2 9 2 9-1 9-2 9 5 8-2 9 0 9 0 9 3 9-3 8 2 9-1 9-2 9 3 9-3 9 3 8 0 9 0 9-1 9 3 9 1 8-4 9 1 9 3 9-3 6 1 7-4 7-2 6-1 7-2 6-6 7-1 7 0 6-1 7-4 7-3 6-2 7-6 6-1 7-2 7-4 6-7 7-5 6-3 7-12 7-9 6-5 7-15 6-9 7-5 7-3 6-1 7-1 6 2 7 1 7 0 6 0 7 4 7 0 6 1 7 0 6-2 7 2 7 1 6-2 7-3 6-1 7 2 7 3 6-1 7 1 6-3 7 5 7-3 6 4 7-2 6-6 7 6 7-1 6 0 7 2 7 3 6 0 7 2 6-4 7-5 7 3 6-1 7 1 6 10 7-6 7-5 6 7 7-4 6-4 7 10 7-5 6 4 7 10 7-10 6 9 7-3 6 0 7 6 7 5 6 4 7-4 6 14 3-6 5 9 6 3 5-1 6 9 5-3 6 1 5 1 6-1 5 8 6-6 5 11 6 0 5 11 6-14 5 12 6-4 5-1 6-5 5-1 6 3 5 1 6 4 5-6 6 12 5 1 6-25 5 15 6-1 5-6 6-10 5 6 6 9 5 6 6-1 5 0 6-5 5 8 6-3 5 4 6-8 5-4 6-6 5 22 6-15 5-4 6-8 5 20 6-14 5 10 6 2 5 8 6-16 5-9 6 21 5-4 6-7 6 4 5 15 6-14 5-6 6 5 5 5 6-1 5-1 6 0 5-12 6 15 5 3 6-3 5-6 6 0 5 2 6-1 5-14 6 13 5 11 6-13 5-2 6 10 5-4 6-7 5 7 6 13 5 1 6-14 5-3 6 12 5-6 6 1 5-6 6-10 5-1 6 11 5-8 6 16 5 1 6 5 5-12 6 16 5-6 6-8 5 4 6-12 5-22 6 36 5-5 6 10 5-10 6-5 5-3 6-1 5 7 6-17 5 5 6 17 5-24 6 4 5 8 6 1 5 5 6 6 5-5 6 3 6-10 8 5 5-6"/>
<path stroke="#9467bd" d="M180 2567l2-65 2-1 1 5 2 5 1-5 2 12 2-29 1-30 2 9 2-8 1-14 2 27 2 9 1 74 2 150 2 146 1 139 2 142 2 52 1-163 2-163 2-163 1-151 2 56 2 57 1 51 2 44 1 41 2 36 2 33 1 35 2 25 2 26 1 24 2 20 2 21 1 16 2 17 2 13 1 13 1 10 9 50 9 31 9 16 9 11 8 8 9 3 9 3 9 2 9 0 9 2 8-2 9-1 9 3 9 1 9 1 8-2 9 2 9-1 9-4 9 2 8 1 9 1 9-1 9-1 9 1 9-3 8 3 9 2 9-1 9 1 9-3 8 1 9 2 9-3 9 2 6-1 7 0 7 1 6 1 7-3 6 0 7 0 7-1 6-2 7 1 7-4 6-3 7-1 6-2 7 0 7-5 6-2 7 3 6-5 7-1 7-2 6-2 7-4 6-3 7 0 7-1 6 2 7 2 6 4 7 1 7 1 6-1 7 3 7-3 6 2 7 0 6-1 7 1 7-2 6-1 7 2 6 1 7 1 7 0 6-2 7 4 6-2 7-5 7 3 6-1 7 1 6-1 7-1 7 2 6 3 7-2 7 0 6-4 7 0 6 2 7 1 7-1 6-2 7-3 6 5 7-1 7 0 6-1 7 5 6-1 7 1 7-6 6 6 7-3 7 7 6-2 7 6 6 0 7 6 7-7 6 14 7 2 6 3 3 0 5-4 6 9 5 2 6 1 5 6 6-11 5 1 6 7 5-13 6 5 5-5 6 7 5-3 6 6 5-10 6-1 5 7 6-4 5-3 6 12 5-8 6 7 5-15 6-1 5 16 6 4 5 1 6-11 5 10 6 3 5-10 6 5 5-9 6-3 5 7 6 4 5-1 6 1 5-9 6 7 5-7 6 5 5 0 6-6 5 13 6-9 5 7 6-5 5 7 6-16 5 2 6 0 5 8 6 1 5-1 6-6 6 8 5-2 6-10 5 16 6-9 5 4 6-4 5 1 6 4 5-3 6-13 5 15 6 3 5 1 6-15 5 6 6-9 5 18 6-8 5 3 6-1 5-6 6 10 5-19 6 23 5-8 6-8 5 10 6-10 5 17 6-15 5-4 6 17 5-14 6 2 5-3 6 4 5-9 6 8 5 18 6-19 5 19 6-1 5 1 6-3 5 3 6-16 5-9 6 22 5-20 6-2 5 25 6-14 5-1 6 8 5-1 6-2 5 4 6-8 5 7 6-8 5-3 6-3 5 4 6 10 5 1 6-17 6 2 8 21 5-25"/>
<path stroke="#8c564b" d="M180 2884l2-32 2-2 1 6 2 24 1 6 2 8 2 61 1 74 2 71 2 60 1 66 2-131 2-145 1-146 2-31 2 42 1 33 2 31 2 35 1 25 2 25 2 22 1 22 2 12 2 23 1 15 2 12 1 13 2 10 2 8 1 15 2 8 2 7 1 8 2 9 2 5 1 6 2 3 2 3 1 6 1 2 9 14 9 14 9 4 9 1 8 3 9 4 9-3 9-1 9 0 9 5 8-1 9-1 9-1 9 3 9-2 8 0 9 1 9 0 9 0 9 0 8-1 9 0 9 1 9-1 9 0 9 0 8-2 9 2 9 3 9-2 9 1 8-1 9-2 9 0 9 0 6 0 7 2 7 1 6-4 7 1 6 2 7-2 7 1 6-2 7 1 7-3 6-3 7 1 6-3 7 0 7-2 6-5 7 1 6-1 7-2 7-3 6-4 7 0 6 1 7 0 7-3 6 3 7 3 6 4 7-3 7-1 6 2 7 1 7 0 6-2 7-1 6 3 7-2 7 1 6 2 7 0 6-2 7 3 7-5 6 3 7 0 6-1 7-2 7 2 6 0 7 0 6 1 7-1 7 1 6-1 7-2 7 2 6 2 7-6 6 4 7-3 7-1 6 9 7-1 6-1 7-4 7-1 6-1 7-1 6 2 7 9 7-6 6-1 7 0 7-1 6 1 7 4 6 0 7 6 7-5 6 8 7-6 6 4 3 3 5-5 6 8 5-6 6-2 5-3 6 12 5-3 6-3 5-1 6 11 5-1 6-5 5-3 6 2 5-4 6 3 5 0 6 5 5 1 6-9 5 14 6-9 5 0 6 5 5-3 6-3 5-5 6 0 5 1 6 19 5-21 6 3 5-5 6 0 5 14 6-5 5 7 6-5 5 4 6-1 5-9 6 4 5 9 6-11 5 6 6-2 5-1 6-7 5-1 6 7 5-4 6 6 5-1 6-6 5 13 6-6 6 13 5-9 6-5 5-8 6-3 5 5 6-2 5 3 6-4 5 22 6-30 5 7 6-8 5 3 6 12 5 13 6-25 5 12 6 10 5 1 6-16 5 3 6 6 5-13 6 9 5-11 6 15 5-10 6 9 5-1 6 4 5-12 6 5 5 5 6-7 5-6 6 7 5-15 6 23 5 7 6 2 5-8 6-6 5-9 6 7 5-3 6 9 5-11 6 15 5-1 6-23 5 32 6-34 5-6 6 24 5 3 6 2 5-6 6 6 5 6 6-7 5 1 6 11 5-7 6 2 5-10 6-2 6-6 8 6 5 7"/>
<path stroke="#2ca02c" d="M180 3132l2-9 2 0 1 6 2 8 1-5 2 47 2 26 1 14 2 2 2 3 1 6 2-260 2-357 1-170 2 25 2 28 1 24 2 21 2 18 1 16 2 17 2 18 1 10 2 14 2 11 1 12 2 8 1 9 2 7 2 5 1 8 2 3 2 10 1 3 2 1 2 4 1 6 2 1 2 5 1 3 1 1 9 7 9 7 9 7 9 0 8 2 9 2 9-2 9 2 9-3 9 2 8 2 9 2 9-1 9 1 9-2 8 0 9-1 9 2 9-5 9 0 8 0 9 0 9 0 9 1 9-2 9 1 8 0 9 1 9-1 9-1 9 1 8 1 9-1 9 0 9-1 6 2 7-6 7-4 6-3 7 1 6-5 7-5 7-1 6-3 7-3 7-4 6-4 7-2 6-6 7-5 7-6 6-4 7-6 6-11 7-8 7-14 6-13 7-13 6-10 7-14 7-4 6 0 7 6 6 3 7 1 7 7 6 2 7 1 7 4 6 2 7 4 6-3 7 6 7-8 6 2 7-2 6 0 7-1 7 3 6 2 7 2 6 4 7-3 7 2 6 2 7 1 6 3 7 0 7 4 6-3 7 2 7 3 6-4 7 2 6 3 7-1 7-1 6 6 7-6 6 4 7-3 7-2 6 2 7 4 6 2 7-3 7 7 6 11 7 0 7-4 6 6 7 2 6-4 7-1 7 6 6-4 7 8 6-14 3 5 5 0 6-9 5 6 6-7 5 6 6-12 5 5 6 3 5 3 6-7 5-1 6 13 5-5 6 6 5-11 6 2 5-1 6 1 5 8 6-8 5 8 6-8 5-3 6 10 5 0 6 10 5-28 6 11 5 7 6-4 5 13 6-14 5 4 6-5 5-10 6-4 5 7 6-6 5 21 6-5 5-13 6 16 5 7 6-14 5-4 6 3 5 6 6 9 5-5 6-1 5-2 6-6 5-8 6 16 5-1 6-8 6 4 5-6 6 0 5 13 6-11 5 6 6-4 5 1 6 12 5-26 6 12 5 23 6-16 5 0 6 4 5 3 6-6 5-8 6 3 5 16 6-20 5-8 6 15 5 2 6 1 5-3 6-8 5 18 6 5 5-24 6 23 5-10 6-15 5 10 6 1 5 5 6-2 5 3 6-4 5 7 6-12 5 8 6-19 5 12 6 18 5-26 6 34 5-4 6-22 5-13 6 17 5-16 6 22 5-18 6 7 5-13 6 12 5 2 6 5 5 5 6 5 5-13 6-8 5 15 6-20 5 21 6-17 6 6 8-6 5-5"/>
<path stroke="#8c564b" d="M180 3084l2 4 2 16 1-38 2-12 1 12 2 7 2-14 1 5 2 7 2-29 1 8 2-21 2-32 1-29 2 20 2 33 1 41 2 45 2 57 1 64 2-300 2-300 1-206 2 38 2 34 1 28 2 32 1 25 2 24 2 22 1 21 2 19 2 14 1 17 2 11 2 12 1 9 2 10 2 12 1 9 1 3 9 32 9 19 9 12 9 7 8 7 9 0 9 3 9 0 9-1 9 0 8 0 9 0 9 1 9 1 9-2 8-1 9-1 9 1 9 0 9 1 8-2 9 2 9-1 9-2 9 1 9-2 8 2 9 3 9-3 9-3 9 4 8-3 9-4 9 4 9 0 6-2 7-1 7-2 6-5 7-3 6-5 7 0 7-7 6 0 7-4 7-4 6-4 7-2 6-4 7-6 7-1 6-6 7-8 6-9 7-9 7-11 6-15 7-14 6-9 7-14 7-2 6 1 7 0 6 3 7 7 7 2 6 3 7 3 7 3 6 3 7 0 6 3 7 3 7-8 6-3 7 3 6-2 7 3 7 5 6-3 7 2 6 4 7-1 7 4 6 1 7 0 6 1 7 3 7 2 6 1 7-1 7 0 6 4 7 0 6-3 7 4 7-9 6 6 7-4 6 5 7 1 7-1 6 4 7-1 6 1 7 2 7 6 6 0 7 6 7 5 6 2 7-3 6 9 7-12 7 12 6-7 7-1 6 1 3-1 5-1 6 5 5-7 6-2 5 0 6-2 5 0 6-6 5 4 6 11 5-6 6-1 5 9 6-10 5-2 6 10 5-4 6 0 5 0 6-1 5-5 6 7 5-6 6 15 5-16 6-2 5 8 6-1 5 4 6-13 5 2 6 17 5-7 6-4 5 11 6-3 5-2 6-5 5 10 6-19 5 8 6-2 5 12 6-4 5-12 6 9 5 6 6-14 5 2 6-1 5 12 6 1 5-10 6-2 5 11 6 2 6 2 5 0 6 1 5-4 6-1 5 0 6 0 5 2 6-13 5 8 6-13 5 2 6 8 5-3 6 16 5-26 6-1 5 5 6 16 5-5 6 1 5-22 6 22 5-19 6 23 5-4 6 0 5 3 6 9 5-4 6-17 5 3 6 5 5-9 6 10 5-13 6 6 5 13 6-6 5 3 6-18 5 10 6-8 5 8 6 1 5-14 6 13 5 5 6 4 5-1 6 4 5-11 6-9 5 16 6-14 5 11 6 10 5 8 6-23 5 0 6-2 5 8 6 5 5-24 6 13 5 7 6-23 6 12 8 6 5-3"/>
<path stroke="#d62728" d="M180 3002l2 27 2-5 1 18 2-32 1 18 2-3 2 7 1-23 2 21 2 22 1 26 2 62 2 40 1 49 2-394 2-397 1 10 2 14 2 5 1 10 2 5 2 8 1 4 2 12 2-2 1 8 2 4 1 6 2 1 2 7 1 2 2 2 2 2 1 3 2 1 2 4 1 1 2 0 2 2 1 1 1 2 9 3 9 3 9 0 9 4 8-1 9-1 9 4 9-3 9-2 9 3 8-2 9-5 9 5 9-1 9 0 8-1 9-2 9 1 9-3 9 2 8 1 9-1 9-2 9 3 9-3 9-2 8 1 9-2 9 2 9-3 9 0 8-1 9 0 9 0 9 3 6-3 7 0 7-3 6-1 7-6 6-2 7 3 7-5 6-4 7 1 7-3 6-3 7-1 6-5 7 1 7-5 6-4 7-6 6 0 7-10 7-9 6-6 7-8 6-7 7-5 7-4 6 0 7 3 6 1 7-5 7 4 6-2 7 4 7-3 6 2 7 3 6-2 7 1 7-3 6-2 7 0 6 4 7-2 7 4 6-3 7 3 6-1 7-3 7 3 6 1 7 0 6-1 7 3 7 0 6 0 7-4 7-3 6 7 7-4 6 1 7 1 7 1 6-6 7 5 6 5 7-9 7 4 6 6 7-2 6-1 7 0 7-5 6 7 7-3 7 5 6-2 7-1 6 6 7 6 7-5 6 5 7 4 6 2 3-7 5 5 6 6 5 1 6 10 5-4 6-5 5 9 6 4 5-1 6 0 5-8 6 7 5 4 6-5 5 0 6 4 5-6 6-1 5 4 6 0 5 6 6-6 5-6 6 10 5-8 6 9 5-8 6 8 5-2 6-3 5-7 6 5 5 12 6-8 5 7 6-8 5 0 6-7 5 10 6-9 5 0 6 13 5-14 6 23 5-16 6-4 5 14 6-17 5 8 6-1 5 7 6 6 5-10 6-13 5 0 6 6 6 10 5-5 6 1 5-4 6 13 5-20 6 24 5-5 6-4 5-6 6-2 5 2 6-4 5 1 6-4 5 13 6-5 5 3 6-10 5-4 6 2 5 10 6-12 5 15 6-13 5 4 6 6 5-12 6-8 5 28 6-12 5-4 6 19 5 5 6-18 5 2 6 20 5-27 6 15 5-2 6-13 5-4 6 2 5 8 6 2 5 19 6-31 5 10 6-8 5 14 6-4 5-14 6 7 5 4 6 6 5-2 6 2 5-6 6 5 5-4 6 7 5-3 6-12 5 7 6-6 5 5 6 6 6-4 8-2 5-4"/>
<path stroke="#2ca02c" stroke-width="5" d="M180 3230.5H1803"/>
<path stroke="#17becf" stroke-width="3.6" d="M180 2392.5H1803"/>
</g>
<path d="M179.5 3272.5V2351H1806.0" class="f"/>
<path d="M179.5 3272.5H1803.5V2366" class="f"/>
<path d="M1762.5 2363q0 3 4 3H1808.5" fill="none" stroke="#c8c8c8" stroke-width="2.2"/>
<line x1="445.7" y1="3272.5" x2="445.7" y2="3289.5" class="f"/>
<text transform="translate(445.7 3342.5) scale(1 1.134)" class="tl">500</text>
<line x1="721.0" y1="3272.5" x2="721.0" y2="3289.5" class="f"/>
<text transform="translate(721.0 3342.5) scale(1 1.134)" class="tl">1000</text>
<line x1="996.4" y1="3272.5" x2="996.4" y2="3289.5" class="f"/>
<text transform="translate(996.4 3342.5) scale(1 1.134)" class="tl">1500</text>
<line x1="1271.8" y1="3272.5" x2="1271.8" y2="3289.5" class="f"/>
<text transform="translate(1271.8 3342.5) scale(1 1.134)" class="tl">2000</text>
<line x1="1547.2" y1="3272.5" x2="1547.2" y2="3289.5" class="f"/>
<text transform="translate(1547.2 3342.5) scale(1 1.134)" class="tl">2500</text>
<text x="768" y="3422" class="ax">Raman Shift (cm<tspan class="sup" dy="-18">-</tspan><tspan class="sup" dx="5">1</tspan><tspan dx="3" dy="18">)</tspan></text>
<text x="23" y="2416" class="pl">(C)</text>
</svg></body></html>
